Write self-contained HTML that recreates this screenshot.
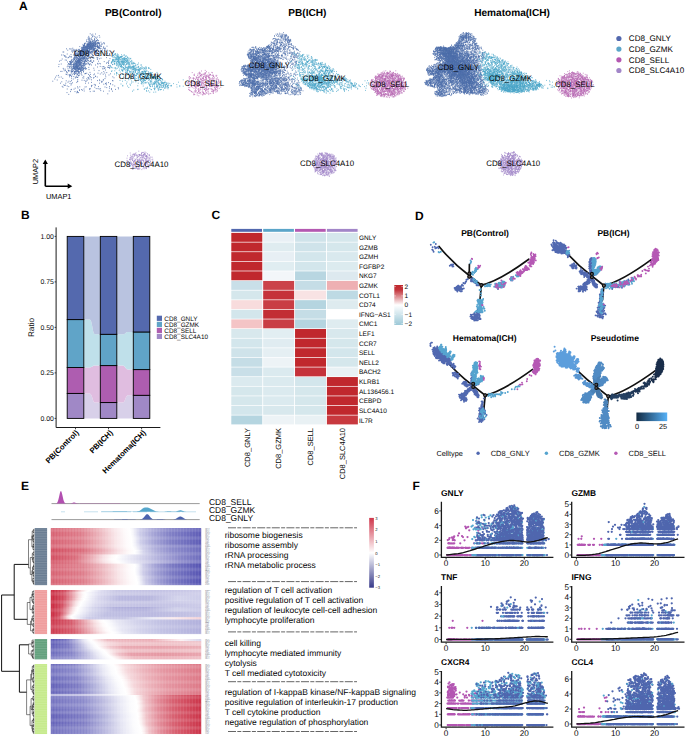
<!DOCTYPE html><html><head><meta charset="utf-8"><title>Figure</title><style>html,body{margin:0;padding:0;background:#fff}svg{display:block}text{font-family:"Liberation Sans",sans-serif;text-rendering:geometricPrecision}</style></head><body>
<svg width="685" height="737" viewBox="0 0 685 737"><rect width="685" height="737" fill="#fff"/>
<g fill="none" stroke-linecap="round">
<path transform="scale(0.2)" d="M496 178h0m-18-8h0m-13 9h0m-1-8h0m-6 4h0m-7-6h0m-10 19h0m1 6h0m2-12h0m4 8h0m2 4h0m7-4h0m6-6h0m1-3h0m10 1h0m2 5h0m6 4h0m4-6h0m13 1h0m-6 17h0m-5-3h0m-1 0h0m-5 4h0m0 0h0m-1-2h0m-2 5h0m-1 1h0m-4-5h0m0-8h0m-2 1h0m0 0h0m-1 11h0m0-3h0m-4 0h0m-4-3h0m-1 6h0m-1 2h0m-2-10h0m-3-3h0m-1 12h0m-2-2h0m-1 1h0m-1 2h0m-2-6h0m0-2h0m-1-5h0m-2 13h0m-3-9h0m-3-4h0m0 13h0m-8-2h0m0-7h0m-17 22h0m7-4h0m1 3h0m0 2h0m1-6h0m2-1h0m4 0h0m6 5h0m0 3h0m1 0h0m1-3h0m1 2h0m0-5h0m1 4h0m0-12h0m1 11h0m0 1h0m1 0h0m0-1h0m1-2h0m0 4h0m1-4h0m1-8h0m0 11h0m0-8h0m0 10h0m1-12h0m1-1h0m0 8h0m0 3h0m0 1h0m2 1h0m0-7h0m0 3h0m1 1h0m1-6h0m1 4h0m0-5h0m0 6h0m1-3h0m1 2h0m0-6h0m0-1h0m0 3h0m0 6h0m1 3h0m1-3h0m1 2h0m0-8h0m2 9h0m0-5h0m0-4h0m0 2h0m2 1h0m0-7h0m2 9h0m0-3h0m1-7h0m0 13h0m0-4h0m1 0h0m1 5h0m0-7h0m1-5h0m0 8h0m1 3h0m0 0h0m0-5h0m2-7h0m0 2h0m0 11h0m1-1h0m1-5h0m1 1h0m1-5h0m1 0h0m1-1h0m0-1h0m1 8h0m0 1h0m1 1h0m0 2h0m0-8h0m0 4h0m2-6h0m2 6h0m2-1h0m1-4h0m1 5h0m1-6h0m2 2h0m1-2h0m0-3h0m1 2h0m1 4h0m2-2h0m1 3h0m1-4h0m2 3h0m7-6h0m2 9h0m5 0h0m7-6h0m1 1h0m2 4h0m13 12h0m-16 4h0m-2 1h0m-10-4h0m-1-7h0m-3 5h0m-4-5h0m0 9h0m0 0h0m-1-8h0m0-1h0m-1 14h0m-3 0h0m0-1h0m-1 0h0m-1-4h0m-1 2h0m-1-3h0m0-7h0m0 9h0m-1 1h0m-1-1h0m0-2h0m0-5h0m-1 5h0m0-7h0m0 10h0m-4-6h0m-2 2h0m-1 2h0m-1-3h0m0-6h0m-1 8h0m-3-7h0m0 1h0m0 8h0m-1-9h0m0 6h0m-2-1h0m-1-1h0m-1-2h0m-1 8h0m0-9h0m-1 5h0m0 6h0m0-9h0m-1-1h0m-1 0h0m-1 9h0m-1-9h0m0 6h0m-1-3h0m-1-2h0m0 7h0m-1-6h0m0 1h0m0-2h0m0-3h0m0 6h0m0 6h0m-2-3h0m-1-9h0m0 9h0m0-1h0m0 2h0m0 2h0m0-9h0m-1 9h0m-3-4h0m0-4h0m0-1h0m0 0h0m-1 1h0m0 8h0m0-4h0m0-2h0m0-1h0m0-4h0m0 5h0m0 1h0m-1-4h0m0 3h0m0 2h0m-2 2h0m0-10h0m0 8h0m0-3h0m-1 3h0m0 4h0m-1-7h0m-1 8h0m0-14h0m-1 12h0m0 2h0m0-10h0m-1 0h0m0 10h0m0-3h0m-1-7h0m0 3h0m0-1h0m0 1h0m-2-1h0m-1-3h0m0 10h0m0-6h0m0 0h0m-1-6h0m0 8h0m0-5h0m-2 8h0m-1-11h0m0 7h0m0-4h0m-1 5h0m-1-2h0m0 6h0m0-7h0m-1-5h0m0 5h0m0 8h0m-1 0h0m-1-6h0m-1 5h0m0-6h0m0-7h0m-2 9h0m0-3h0m-1 8h0m0-5h0m-1 3h0m0-1h0m-2-5h0m-1 8h0m-1-11h0m0 3h0m0-6h0m0 12h0m-1-1h0m-1-8h0m0 3h0m-2 7h0m-1-10h0m-1-1h0m0 8h0m0-1h0m0 4h0m-1-2h0m0-7h0m0 9h0m0-8h0m-1 8h0m-4-2h0m-3 1h0m-9-4h0m-66 11h0m6 7h0m10-7h0m2 1h0m8 0h0m5-4h0m1 9h0m5 2h0m0-5h0m5 5h0m4-2h0m4 4h0m1-7h0m8 0h0m5 0h0m0 6h0m6 0h0m3-11h0m2 3h0m0 6h0m1 2h0m0-4h0m1 2h0m2-3h0m0-6h0m0 6h0m0 2h0m2 4h0m0-14h0m0 0h0m1 4h0m1 4h0m1-1h0m0 0h0m0 2h0m0 4h0m1-6h0m0-2h0m0-4h0m0 10h0m2 0h0m1-6h0m1 2h0m1 7h0m0-9h0m0 7h0m1-1h0m0-11h0m0 2h0m0 4h0m1 4h0m1 2h0m2-2h0m0-9h0m0 8h0m0 3h0m1-11h0m0 5h0m0 7h0m1-5h0m1-6h0m1-2h0m0 12h0m0-1h0m1-4h0m2 1h0m1-1h0m0-3h0m0-3h0m0 4h0m0-3h0m0 7h0m1-9h0m1 10h0m0-2h0m0-3h0m1 4h0m0 5h0m0-1h0m1-2h0m0-9h0m0 10h0m1-10h0m1 0h0m0 0h0m1 1h0m2-1h0m0 8h0m2-8h0m0 12h0m0-13h0m1 8h0m0-2h0m1 7h0m1-9h0m1-1h0m1 1h0m0 2h0m1-6h0m2 7h0m1-7h0m1 3h0m1-2h0m0 2h0m1 3h0m0-2h0m3 6h0m0-6h0m0-4h0m1-1h0m2 6h0m2 2h0m0 4h0m0-5h0m0 0h0m0-5h0m3 1h0m0 7h0m0-5h0m1 6h0m0 0h0m1 1h0m0-6h0m1-5h0m0 9h0m0-6h0m3-2h0m0 12h0m1-13h0m2 11h0m2-1h0m0-6h0m2 6h0m0 2h0m5-4h0m0 0h0m1-4h0m4 9h0m2-11h0m0-3h0m3 1h0m5 3h0m1 9h0m1-11h0m2 11h0m5-3h0m4-8h0m6 9h0m1-9h0m2 10h0m0-6h0m2-5h0m9 10h0m10 3h0m14 7h0m-13 8h0m-11-3h0m-6-8h0m-1 11h0m-25-11h0m-3 8h0m-1-3h0m-5-7h0m0 4h0m-8 3h0m-4-6h0m0 7h0m0-7h0m-1-2h0m0 14h0m0 0h0m-1-14h0m-1 8h0m0-1h0m-1-3h0m0 5h0m0-6h0m-2 6h0m-3-7h0m-3 7h0m-2-7h0m-5-1h0m0 8h0m-1-6h0m-2 5h0m-2-6h0m-2 2h0m0 6h0m0-9h0m-2 8h0m-1-7h0m-1 5h0m-2 1h0m0 5h0m0-5h0m-2-8h0m-1 6h0m-1-3h0m-1 11h0m0-7h0m-2 6h0m-2-10h0m0 3h0m-3 4h0m0-10h0m0 2h0m-1 1h0m-1 1h0m-2 5h0m0 3h0m0-6h0m-1 3h0m0-1h0m0-3h0m-1 3h0m-2 5h0m0-9h0m-1 8h0m0-1h0m0-7h0m0 9h0m-1-12h0m0 13h0m-4-6h0m0-2h0m0-3h0m-1 6h0m0-8h0m-1 13h0m-1-10h0m-1 8h0m-1-6h0m-1-1h0m0 5h0m-1-4h0m-1 2h0m0-5h0m-1 11h0m-1-7h0m0 3h0m0 2h0m0 1h0m0-12h0m-2 0h0m0 9h0m-1-5h0m-2-1h0m0 8h0m0-5h0m0 3h0m0-1h0m-1-7h0m0-1h0m0 2h0m0-1h0m-1 10h0m0-5h0m-1 7h0m0-14h0m-2 14h0m-1-2h0m0 0h0m0-9h0m-1 3h0m0 2h0m0 3h0m-1 3h0m0-9h0m-1-4h0m-1 8h0m0 3h0m-1 1h0m0-5h0m0-7h0m0 4h0m-2-3h0m0 10h0m-1-12h0m0 3h0m0 10h0m0-6h0m-1-6h0m-1 13h0m-1-10h0m0-4h0m0 10h0m-4 1h0m-3-2h0m-1 5h0m-2-3h0m-4 2h0m-1-9h0m-2-1h0m0 7h0m-1 0h0m-1-8h0m0-2h0m-5 1h0m-7 5h0m-1-6h0m-2 0h0m-40 5h0m-4 0h0m-7 15h0m8 0h0m7 4h0m1 1h0m2 0h0m10-10h0m11 11h0m8 2h0m0-10h0m13 2h0m4 4h0m0-1h0m3-3h0m0 8h0m1-11h0m0-2h0m1 14h0m1-9h0m2 2h0m0-1h0m1 0h0m1 8h0m1-10h0m1 10h0m0 0h0m3-8h0m0-4h0m1 1h0m0-2h0m3 5h0m2 3h0m0 3h0m1-1h0m0 1h0m0-4h0m0-4h0m2-4h0m0 2h0m1 10h0m2-1h0m0 0h0m1-9h0m1-2h0m0 3h0m0 6h0m1-5h0m1 6h0m0-4h0m1-5h0m0 12h0m2-8h0m1 3h0m0-1h0m1-5h0m0 3h0m0 2h0m1-1h0m1 1h0m1 0h0m0 7h0m1-14h0m0 13h0m2 1h0m0-9h0m0-2h0m1 8h0m2-10h0m0 4h0m0-4h0m1 1h0m1 2h0m1-2h0m0 5h0m1 3h0m1-9h0m0 0h0m0 1h0m1 12h0m0-11h0m0 10h0m4-3h0m0-6h0m1-4h0m0 14h0m1-10h0m0 5h0m3-6h0m1-3h0m0 2h0m3 10h0m2 0h0m0 1h0m0 0h0m1-8h0m2 5h0m1-10h0m1 8h0m1-5h0m0 5h0m0 6h0m0-4h0m6 1h0m8 2h0m1-12h0m3 1h0m1 7h0m2 0h0m1-1h0m1-1h0m10-7h0m2 2h0m12 5h0m0-4h0m5 6h0m5-2h0m15-2h0m16 1h0m16-4h0m2-2h0m1 8h0m9 4h0m-10 11h0m-17-5h0m-28 3h0m-8 3h0m-8-5h0m-2 7h0m-1-1h0m-1-8h0m-16 5h0m-7-3h0m-9 3h0m-4-2h0m-7-5h0m0 8h0m-4 5h0m0-5h0m-2-2h0m-3 3h0m-1-8h0m-1 8h0m0 1h0m-1-8h0m-1 7h0m-4-3h0m0 6h0m0-9h0m-2 0h0m0 5h0m0-2h0m-1 1h0m-1-1h0m0-1h0m-1 4h0m-2-4h0m0 1h0m-1 3h0m0 2h0m0-10h0m0 3h0m-1 0h0m-1-3h0m0 11h0m-1-6h0m-1 2h0m-2-7h0m0 10h0m-1-6h0m0 4h0m-1-2h0m-2-7h0m-1 7h0m0-3h0m-1 1h0m-1 7h0m0-3h0m0 0h0m-1-2h0m-1 6h0m-1-11h0m-1 7h0m-1 3h0m-1-11h0m0 10h0m-1 3h0m0-4h0m0-8h0m-3 11h0m0-5h0m0-1h0m0 2h0m0-3h0m0 8h0m-1-2h0m-2-1h0m-1-11h0m-3 7h0m-1-4h0m-1 0h0m0 2h0m0 9h0m0-3h0m-3-1h0m-1 2h0m0-8h0m-2 2h0m-3 0h0m-1-4h0m-1-2h0m0 14h0m0-11h0m0 10h0m-2-8h0m0 6h0m-1 1h0m0-4h0m-3-3h0m-1 5h0m-7 2h0m-3-12h0m-7 0h0m-8 2h0m-2 2h0m-10-3h0m0-1h0m-19 10h0m-13 11h0m7-4h0m21-2h0m7 1h0m4 9h0m11-2h0m2 1h0m1-2h0m1 4h0m1-1h0m1-4h0m2 6h0m0-2h0m1-9h0m0 1h0m0 8h0m6-2h0m0 3h0m2-3h0m1-7h0m0 0h0m3 4h0m3 6h0m4-6h0m0 8h0m1-8h0m0 0h0m0 1h0m2 4h0m2-8h0m1 9h0m0-3h0m0 1h0m1 2h0m2-6h0m1 5h0m1-4h0m0 2h0m1-5h0m0 9h0m1-11h0m1 2h0m0 11h0m0-10h0m1 3h0m0 2h0m1 3h0m0 1h0m1-9h0m0 6h0m0-5h0m1-3h0m0 4h0m0 7h0m0-10h0m1 1h0m2 5h0m0-3h0m0-6h0m0 8h0m1 6h0m0-4h0m0-9h0m1 7h0m0-8h0m0 2h0m1 8h0m0-1h0m1 2h0m0-6h0m0 7h0m0-6h0m3-6h0m1 1h0m0 13h0m1-13h0m0 1h0m0 2h0m1-2h0m1 12h0m0-1h0m1-9h0m2 3h0m0 0h0m3-5h0m1 0h0m0 12h0m4-7h0m1 1h0m2 0h0m1 6h0m0-3h0m1-6h0m1-5h0m0 11h0m0-8h0m2-1h0m1 0h0m0 0h0m1 5h0m2 1h0m0-4h0m1 3h0m7 4h0m0-8h0m2-1h0m0 2h0m8 3h0m4-5h0m0 5h0m3-6h0m1 9h0m5 3h0m0-1h0m5-7h0m2 0h0m24 1h0m28 2h0m15 4h0m7-3h0m2-6h0m13 11h0m5 9h0m-13 4h0m-7-11h0m-1 0h0m0 11h0m-10-11h0m-30 3h0m-6-2h0m-6 4h0m-3-4h0m-10 8h0m-20 0h0m-6-6h0m-2 4h0m-1 1h0m-3-3h0m-2-5h0m-2 2h0m-7 0h0m0 3h0m-7 3h0m0-4h0m-2-2h0m-3 6h0m0-9h0m-1 2h0m0 10h0m-1-9h0m0 7h0m-2-3h0m-2-5h0m0 1h0m0 1h0m-1 10h0m-3-2h0m-2-3h0m0-8h0m-1 11h0m0 1h0m-4-9h0m0 3h0m-1 3h0m0-6h0m-1 5h0m-1 1h0m0-9h0m-1 0h0m-1 9h0m0-9h0m-1 3h0m0 7h0m-1-3h0m0-1h0m-1 1h0m0-2h0m0 2h0m-1-6h0m0 9h0m0-6h0m-1 6h0m-2-1h0m0-8h0m0 11h0m0-7h0m-2-6h0m-2 12h0m-1 2h0m0-13h0m0 8h0m0-2h0m-1-6h0m-2 5h0m0-6h0m-1 8h0m-1-2h0m0 2h0m0-8h0m-1 6h0m0 7h0m0 1h0m-1-12h0m0 0h0m0 11h0m-1-11h0m-1 0h0m-1 7h0m-1-4h0m-1 0h0m-1 8h0m-1-8h0m0 3h0m0-7h0m0 5h0m-1 8h0m-3-7h0m0-4h0m-2 4h0m0 5h0m0-4h0m0-8h0m-3 7h0m-1 2h0m-7 1h0m0-10h0m-1 6h0m-1 0h0m-1-5h0m0 0h0m0 9h0m-2-5h0m-2 0h0m0-4h0m0 7h0m-1 0h0m-4 1h0m-1-5h0m-1-1h0m-4 7h0m-33-5h0m-11 2h0m-1 11h0m22 9h0m20-8h0m4 10h0m1-11h0m7 4h0m0-4h0m2 10h0m4-9h0m1-1h0m2 3h0m0 5h0m5 3h0m2-11h0m1 8h0m1 0h0m0-3h0m1-5h0m0 9h0m1-11h0m0 0h0m0 4h0m1-3h0m0 11h0m1-1h0m1-2h0m0 4h0m0-7h0m1-5h0m1 7h0m1 2h0m1-11h0m0 14h0m0-6h0m0 2h0m1-4h0m1-3h0m0-3h0m1 14h0m1-12h0m0 6h0m0-4h0m1 10h0m0-13h0m0 5h0m1 4h0m0-10h0m1 13h0m1-5h0m1-2h0m0-4h0m0 2h0m1-2h0m0 4h0m0-6h0m0 11h0m1-3h0m0 3h0m1-5h0m0 7h0m1-9h0m0 4h0m0 3h0m0-10h0m1 10h0m1-6h0m0 3h0m0 2h0m0-7h0m2-1h0m1 11h0m0 1h0m1-13h0m0 11h0m2-4h0m0-7h0m2 12h0m1 0h0m0 0h0m0-4h0m0 5h0m0-8h0m0 1h0m3-6h0m1 8h0m0 5h0m3-9h0m0 4h0m2-7h0m0 1h0m1 9h0m0 0h0m0-3h0m1-1h0m1-4h0m1 5h0m1-3h0m2 5h0m2-11h0m1 12h0m1 2h0m0-14h0m0 10h0m1-2h0m1-8h0m2 12h0m4 2h0m0-4h0m1-4h0m4 7h0m12-6h0m25 4h0m18-6h0m14-3h0m10 2h0m1 10h0m5-11h0m2 11h0m2-9h0m1 7h0m4-3h0m11-3h0m6 1h0m2 0h0m2 3h0m2 0h0m-21 10h0m-9 8h0m-24-5h0m-24-2h0m-26-3h0m-16-2h0m-10 5h0m-1 6h0m-1-9h0m-5 3h0m0-1h0m-1-4h0m-1 5h0m-2-2h0m-1 7h0m-1-4h0m-1-6h0m-1 4h0m-1 6h0m-1-9h0m0 6h0m-1 5h0m-1-11h0m-4 1h0m-1 0h0m0 11h0m0-12h0m0 12h0m-2-13h0m0 2h0m0 11h0m0-2h0m0-10h0m-1 4h0m0 8h0m-1-13h0m-2 9h0m-1-8h0m0 9h0m-1-2h0m-2 0h0m0 3h0m-1-6h0m-1 4h0m-1 0h0m-1-8h0m-1 0h0m-2 10h0m0-7h0m0 7h0m-2-8h0m0 1h0m-1-4h0m-1 0h0m-1 12h0m-1 0h0m-4-4h0m-3-3h0m-1-4h0m0 10h0m-1 0h0m-1 0h0m-2 0h0m-1-10h0m0 3h0m-2 5h0m-1 4h0m-1-5h0m-9 0h0m-2 1h0m-1-3h0m-2 2h0m-9 5h0m-5-6h0m-1-7h0m-5 8h0m-2-8h0m-9 11h0m-6 0h0m26 14h0m2 1h0m1-12h0m5 4h0m2 10h0m8 0h0m3-1h0m5-7h0m1-6h0m4 13h0m4-8h0m4 4h0m3 4h0m0-13h0m0 11h0m1-9h0m1 4h0m1-4h0m0 7h0m4-2h0m1-1h0m1-6h0m4 5h0m1 4h0m2 3h0m1 2h0m4-9h0m1-1h0m1 3h0m2-6h0m3 8h0m7-6h0m1 7h0m10-10h0m6 9h0m4-2h0m1 1h0m5-2h0m8 6h0m8-10h0m2 10h0m17 2h0m4-4h0m17-4h0m11 4h0m8-6h0m7 7h0m8-6h0m10-2h0m19 6h0m17 20h0m-6-5h0m-19-9h0m-16 9h0m-1-9h0m-42 10h0m-8-3h0m-1-1h0m-7 6h0m-14 1h0m-5-5h0m-1 1h0m-3-7h0m-5 12h0m-2-2h0m-21-5h0m-5 7h0m-4-13h0m-13 0h0m-5 1h0m0 2h0m-3 8h0m-2 0h0m-2 0h0m-1-12h0m-2 9h0m-5 2h0m-8-3h0m-10-3h0m-1 2h0m-5-5h0m-3 1h0m-1-1h0m-1 7h0m-42 1h0m-11 1h0m-3-9h0m-8 2h0m-7 7h0m-3 9h0m12 5h0m28-8h0m17 12h0m27-2h0m0-11h0m8 4h0m10-5h0m13 8h0m21 3h0m9-11h0m2 12h0m13-8h0m4 6h0m4-6h0m7 1h0m8 4h0m10-9h0m21 13h0m9-4h0m2 4h0m17-3h0m1-1h0m8-6h0m37 10h0m3 1h0m-12 14h0m-11-5h0m-9 2h0m-4 4h0m-1-2h0m-18-10h0m-1 0h0m0 5h0m-11 4h0m-40-4h0m-16 3h0m-9-10h0m-5 11h0m-1-10h0m-38 1h0m-1-1h0m-4 6h0m-21 2h0m-6 5h0m-3-11h0m-4 9h0m-5-11h0m-5 5h0m-11 5h0m-20-7h0m-7 7h0m-38-10h0m47 26h0m8-8h0m3 3h0m5-1h0m9 4h0m8 3h0m11-8h0m32 9h0m12 0h0m32 0h0m26-1h0m2-5h0m0-1h0m12-5h0m5 4h0m1-1h0m16 8h0m26-12h0m14 3h0m14 9h0m5-13h0m12 4h0m10 6h0m18 14h0m-1-6h0m-13 9h0m-20-4h0m0 5h0m-11-7h0m-13-3h0m-9-3h0m-23 9h0m-6 1h0m-6-2h0m-9 0h0m-7-7h0m-23 7h0m-2 5h0m-1-4h0m-23-9h0m-5 10h0m-12 3h0m-10 1h0m-8-9h0m-14 1h0m-6 5h0m-12 1h0m-3 2h0m-19-4h0m-21-9h0m20 27h0m18-5h0m22 0h0m9 6h0m2-7h0m2 5h0m0-5h0m5 6h0m5-11h0m15-1h0m8 4h0m30 3h0m15-2h0m6 0h0m32-3h0m13 3h0m29-1h0m16 1h0m-23 13h0m-195 3h0" stroke="#4F70AC" stroke-width="4.8"/>
<path transform="scale(0.2)" d="M577 269h0m-2 0h0m-11 14h0m3-6h0m0-1h0m7-2h0m0-1h0m5-3h0m1 7h0m1 4h0m5 2h0m0-6h0m0-1h0m2-6h0m0 14h0m2-1h0m1-9h0m2 7h0m2 0h0m7 3h0m6-1h0m0-9h0m1 8h0m0 2h0m4-3h0m7-4h0m1-3h0m5 6h0m2 4h0m4-4h0m22 12h0m-2 2h0m-7-2h0m0 7h0m-1-9h0m-6-5h0m0 13h0m-1-9h0m-1 1h0m-4 3h0m-1 2h0m0-1h0m-3-1h0m-1 3h0m-4 1h0m-1 0h0m0-6h0m-1-1h0m0-1h0m0 4h0m-1 3h0m-4 2h0m0-7h0m-1 1h0m-1 5h0m0-3h0m-3 0h0m-4 2h0m-1-9h0m-1 3h0m-2-5h0m-1 14h0m-1-14h0m-1 13h0m0-10h0m-1 8h0m-1-5h0m-1-1h0m-1-2h0m-1 1h0m-1 8h0m0-9h0m-1-1h0m-1 7h0m0 0h0m-1-1h0m-3 4h0m-1-11h0m-1 10h0m-1-4h0m0-2h0m-1 1h0m-1-2h0m-1 7h0m0 1h0m-5-9h0m0 9h0m-1-5h0m-2 6h0m-1-13h0m-3 1h0m-3 12h0m-2-9h0m-3 9h0m-5 12h0m1 4h0m2-6h0m2-3h0m1-3h0m1-2h0m1 8h0m0 3h0m0-10h0m3 0h0m3 5h0m0-1h0m1 2h0m0 1h0m4 1h0m3-9h0m0 5h0m3 8h0m1-7h0m4 2h0m0-8h0m1 9h0m2-3h0m0-1h0m1 6h0m1-10h0m1 12h0m0-13h0m0 6h0m1 1h0m1-6h0m0 13h0m1-4h0m1 4h0m0-8h0m3 6h0m5-4h0m1 1h0m0-5h0m0 3h0m2 4h0m2-6h0m0 7h0m1-5h0m1 6h0m0-9h0m1 3h0m3 6h0m0-5h0m0 0h0m1-6h0m2 12h0m0-5h0m2 2h0m1-3h0m1-3h0m1 9h0m1-12h0m1 1h0m1 1h0m1 8h0m3-3h0m0 0h0m2-2h0m0-6h0m1 3h0m2 6h0m1-8h0m1 2h0m1 10h0m0-7h0m2 6h0m3-7h0m1-5h0m1 10h0m7-4h0m3 6h0m1-7h0m2-4h0m2 8h0m8 2h0m37 13h0m-1 0h0m-13-10h0m-2 9h0m-4-2h0m-7 7h0m0 0h0m-2-9h0m-2 7h0m-2-10h0m-3 0h0m-4 9h0m0-9h0m-1 2h0m-1-3h0m-4 5h0m-3-3h0m-8 6h0m0-2h0m0-7h0m-3 2h0m-1 12h0m0-5h0m-1-9h0m-1 1h0m-2 6h0m-3-6h0m-3 3h0m-1 4h0m-1-1h0m-1-6h0m-6 8h0m0 4h0m-3-8h0m-2 0h0m-3 3h0m-1-8h0m0 11h0m-1-5h0m-1-6h0m-1 7h0m0-1h0m-2-4h0m-4 10h0m0-7h0m0 7h0m-3-5h0m-1-4h0m-3 5h0m-1 0h0m0-3h0m-2 0h0m0 6h0m-3-8h0m0 2h0m-2 9h0m-3-6h0m-1 6h0m-3-11h0m-1 4h0m-2 6h0m-1-12h0m-1 4h0m-7-1h0m-1-3h0m0 5h0m0-4h0m-8 4h0m-9-6h0m-5 14h0m0 3h0m4 4h0m3 0h0m3 3h0m10 1h0m7-1h0m1 2h0m7 1h0m5-6h0m4-2h0m8-4h0m1 1h0m0 2h0m1-1h0m1-1h0m0 6h0m3-3h0m2 1h0m3 0h0m3 3h0m1 3h0m0-3h0m3 6h0m1-1h0m4-6h0m0-5h0m1 12h0m1-8h0m4 1h0m3 2h0m1 4h0m0-8h0m3 2h0m1 5h0m3-10h0m1 10h0m0-7h0m1 5h0m0-2h0m0 0h0m1-6h0m0 2h0m5 8h0m0-11h0m0 6h0m2-6h0m1 7h0m2 5h0m3-7h0m0 2h0m1-6h0m0 4h0m3-3h0m1 7h0m1-8h0m0 6h0m2-7h0m0 1h0m1 3h0m1 4h0m0 2h0m0-6h0m1 9h0m1-5h0m2 3h0m0-10h0m4 11h0m2-4h0m5-2h0m6 0h0m1-3h0m1 0h0m2 1h0m3 9h0m4-4h0m1 0h0m4-1h0m1 5h0m3-11h0m2 8h0m4-3h0m6 4h0m0-2h0m5-5h0m3 9h0m0-4h0m1 4h0m2-8h0m10 2h0m0 4h0m5-1h0m6 6h0m-12 12h0m-7-4h0m-2 0h0m-5 2h0m-1 1h0m-1-8h0m-3 8h0m-1-3h0m-2-5h0m-4-5h0m-2 12h0m-1 2h0m0-1h0m-6 1h0m-4-11h0m-5 1h0m0 6h0m0-4h0m0 5h0m-1-11h0m-3 8h0m0 2h0m-2-9h0m0 2h0m-1 4h0m0 0h0m-1-6h0m-4 3h0m-1-1h0m-2-3h0m-2 5h0m-1 1h0m-2 8h0m0-3h0m-1-5h0m-1-5h0m-1 3h0m0 2h0m0-6h0m0 9h0m-6-7h0m0 10h0m0-7h0m-2 9h0m-1-12h0m-1-1h0m-2 0h0m-2 13h0m-1-8h0m-5-6h0m-2 14h0m-3-2h0m-1 1h0m-1-3h0m-5-5h0m-2 0h0m-3-4h0m0 6h0m-1 2h0m0-2h0m-1 3h0m0-5h0m-2-1h0m-6 2h0m-8-4h0m0 2h0m-6 3h0m0 5h0m-1-4h0m-1-1h0m-1 0h0m-1-7h0m0 6h0m-1-2h0m-10-4h0m-3 7h0m-16-7h0m-6 9h0m-14 0h0m-3 3h0m16 13h0m10-5h0m0-1h0m1 0h0m1 3h0m9 5h0m7-12h0m12 12h0m2-3h0m12-7h0m3-1h0m0-1h0m5 1h0m1 11h0m2-11h0m3 9h0m1-1h0m2 0h0m5-6h0m3 3h0m5-6h0m4 13h0m1-5h0m1 0h0m1-4h0m4-4h0m1 6h0m3 5h0m1 1h0m3-11h0m0 2h0m6 5h0m0 2h0m5 1h0m0-11h0m1 7h0m1 2h0m4-5h0m2 9h0m0-9h0m2 2h0m3-3h0m3 5h0m1 3h0m2 0h0m1 2h0m1-7h0m3-4h0m0 12h0m2-7h0m2-3h0m2 5h0m0-9h0m1 10h0m0-1h0m1 0h0m1-9h0m1 14h0m2-6h0m1-1h0m1 3h0m1-5h0m1-5h0m0 6h0m1 3h0m0-9h0m3 8h0m4 1h0m3 1h0m4-5h0m2 3h0m1 5h0m4-6h0m1-1h0m1-4h0m2 3h0m1 3h0m4-3h0m3 9h0m0-11h0m4 9h0m20-10h0m4 16h0m-1 3h0m-1 7h0m-2-4h0m-1 0h0m0-2h0m-5 7h0m-3-2h0m-1-2h0m-1 3h0m0-1h0m-2-5h0m-2 7h0m-2-6h0m-1 0h0m0 3h0m-1 0h0m-2 3h0m-1-2h0m-2 0h0m-2-4h0m-3 4h0m-1-3h0m0 3h0m-1-7h0m0-2h0m0 11h0m-2-9h0m-1-5h0m-3 3h0m-2 9h0m-2-3h0m-1 5h0m-1-3h0m-1 3h0m-1-5h0m-1-8h0m-1 0h0m-1 10h0m-3 2h0m-1-13h0m-3 11h0m0-4h0m-2-7h0m0 3h0m-1 6h0m-1-5h0m-1 7h0m0 2h0m-2-3h0m-1 2h0m0-2h0m-3-3h0m-1 3h0m-7 1h0m0 2h0m-1-12h0m-1 12h0m0-13h0m-6 9h0m-2-8h0m-7 4h0m-1 9h0m0-3h0m-3-1h0m-7-7h0m-2-3h0m-1 3h0m-4 1h0m-1-1h0m-1-1h0m-2 7h0m-7 5h0m-4-8h0m-4 6h0m-5-6h0m-1 2h0m-1-3h0m-2 6h0m-14-10h0m-8 4h0m-8 1h0m-18 6h0m-18-12h0m18 27h0m25-12h0m1 12h0m15-12h0m3 9h0m10-5h0m0 0h0m18-2h0m0 5h0m2-5h0m2 10h0m0-4h0m1-8h0m7 3h0m7 3h0m1-6h0m1 10h0m2-10h0m4 8h0m3-1h0m0 5h0m2-3h0m1 1h0m2-3h0m2-2h0m4 0h0m2 8h0m0 1h0m2-5h0m1-2h0m1 3h0m3 0h0m1 1h0m0-11h0m1 9h0m1 4h0m3 0h0m3-6h0m0-4h0m0-2h0m3 2h0m2 1h0m1-3h0m4 2h0m3 8h0m1-1h0m3-3h0m8-3h0m3 5h0m0-5h0m1-4h0m10 3h0m6 5h0m1-5h0m0 7h0m1-8h0m4 6h0m0-7h0m1 7h0m4-6h0m1 8h0m0-9h0m1 1h0m3 3h0m1 6h0m0 1h0m0 1h0m4-3h0m1-1h0m0-4h0m1 1h0m2-4h0m2 9h0m1 2h0m5-10h0m2 4h0m1 0h0m2 4h0m26 14h0m0 4h0m-8-4h0m-1 4h0m-2-6h0m-4-7h0m-1 7h0m-2 0h0m-2 1h0m-2 3h0m-1-3h0m-3 0h0m-2 1h0m0 2h0m-1-6h0m-2 0h0m-1 5h0m0 1h0m-2-8h0m-1 2h0m-10 6h0m0-1h0m-1 2h0m-1-8h0m0 4h0m-7-5h0m0 4h0m-1-7h0m0-1h0m-1 12h0m-2-7h0m0-5h0m-4 8h0m-1-6h0m-1 6h0m0 6h0m-1-4h0m-2-8h0m-1 11h0m-1-3h0m-1 4h0m0-6h0m-5 3h0m-6-10h0m0 8h0m-3-8h0m-2 0h0m-2-1h0m-1 1h0m0 6h0m-1 5h0m-7-3h0m-1 5h0m-6-9h0m-5 4h0m-2-1h0m-3 2h0m-2-4h0m-5 8h0m-2-11h0m-2 3h0m-2 0h0m-4 5h0m0-5h0m-1-2h0m-2-2h0m0 11h0m-15-2h0m-11-11h0m-1 4h0m-14 1h0m-7 5h0m-1-10h0m-22 5h0m-2 9h0m-20-13h0m-8 14h0m9 10h0m0-3h0m23 3h0m13-9h0m2 5h0m37 3h0m21-9h0m6 10h0m31-6h0m1 2h0m1 4h0m0-6h0m4 9h0m0-9h0m1 8h0m4-12h0m5 6h0m0 7h0m1-10h0m4-3h0m2 1h0m2 9h0m0-10h0m10 12h0m1-7h0m1-2h0m1 7h0m2-1h0m1 4h0m2-8h0m4-1h0m2 7h0m1-8h0m2-2h0m1 3h0m2-2h0m1 7h0m6-2h0m0-3h0m6 4h0m1 4h0m2-6h0m1 7h0m1-13h0m0 7h0m0-5h0m7 4h0m0 5h0m1 3h0m0-9h0m2-1h0m3-2h0m0 1h0m2 9h0m1 2h0m1-6h0m1 2h0m3-5h0m3 2h0m9 2h0m5-2h0m-15 11h0m-2-3h0m-1 9h0m-4-5h0m-7 0h0m-5 2h0m0-1h0m-5-4h0m-6 2h0m-6-3h0m0 12h0m-1-12h0m-4 13h0m-1 1h0m-1-11h0m-3-3h0m-1 10h0m0-8h0m-5 7h0m-1-3h0m-4-5h0m-5 0h0m-5 5h0m-2 8h0m-2-4h0m0-10h0m0 10h0m-2-3h0m-14 6h0m0 0h0m-7-6h0m-12-6h0m-2 6h0m0-1h0m-6-1h0m-7 6h0m-1-1h0m-31 1h0m-1 2h0m-45-11h0m18 19h0m7-6h0m64 2h0m1 5h0m9-3h0m6 7h0m20 0h0m10-1h0m12-10h0m1 0h0m26 0h0" stroke="#4AA6C9" stroke-width="4.8"/>
<path transform="scale(0.2)" d="M1033 358h0m-7-6h0m-18 3h0m-47 8h0m11 8h0m17-1h0m5-5h0m2 9h0m1-13h0m0 5h0m2 1h0m3-1h0m4 8h0m1-2h0m8-1h0m3 0h0m4 1h0m2-4h0m1-4h0m2 4h0m2-5h0m15 1h0m2 7h0m4 3h0m1 0h0m0 0h0m2-2h0m6-10h0m3 2h0m25 25h0m-3-12h0m-3 6h0m-1-6h0m-9 11h0m-2-5h0m-1-2h0m-1-5h0m-1 5h0m-3 8h0m-1-13h0m-2 1h0m-11 11h0m-3-10h0m-1 10h0m0-4h0m-1-7h0m-2 10h0m-1-4h0m-1-2h0m-1 0h0m-3-6h0m-3 3h0m0 9h0m-1-4h0m-2-2h0m-1-6h0m-1 13h0m0-1h0m0-2h0m-3-6h0m-4 2h0m-2 3h0m-2-2h0m-6-7h0m0 12h0m-3-7h0m-4-2h0m-1-2h0m0 2h0m-2 6h0m-4 2h0m-2-4h0m-3 6h0m-1 1h0m-4-11h0m-1 10h0m-4-1h0m-1-3h0m-8-7h0m-4-2h0m-1 14h0m-15-1h0m-5-5h0m-3 3h0m1 8h0m1 6h0m3-8h0m7 10h0m4-11h0m7 1h0m0 4h0m3-4h0m7 6h0m1-3h0m3-4h0m5 5h0m0 1h0m4 1h0m3-3h0m8-1h0m1 3h0m2-3h0m2 3h0m1 4h0m5 2h0m0-11h0m1 1h0m1 9h0m1-10h0m0 4h0m1-6h0m1 0h0m1 14h0m2-3h0m0-2h0m5-1h0m3-2h0m1-3h0m1 6h0m1-5h0m2 2h0m10 6h0m1-12h0m1 1h0m1 6h0m2 6h0m2-7h0m3-2h0m2 7h0m1 0h0m3-9h0m3 4h0m5-1h0m2-2h0m0 9h0m5-1h0m6-8h0m2 6h0m6-3h0m4 3h0m1 3h0m2 12h0m0-4h0m-4-3h0m-1 11h0m-1-8h0m-1 5h0m-7-5h0m-8 1h0m-2-5h0m-1 3h0m-1-1h0m-3-3h0m-7 14h0m-1-7h0m-3 7h0m-4-4h0m-2 1h0m-1-1h0m-2-8h0m-1 2h0m-4-3h0m-1 7h0m-2-4h0m-2 1h0m-2 3h0m-6-8h0m-1 1h0m-1 8h0m-3-2h0m-1 1h0m-7 4h0m0-3h0m-1-8h0m-1 7h0m-1 1h0m-4-7h0m-2 10h0m0-4h0m-3-7h0m-1 7h0m-2-4h0m-1 1h0m-4-4h0m-3 6h0m0-1h0m-1 8h0m-1-10h0m0 9h0m-1-4h0m-5-6h0m-8 6h0m-1-5h0m0 6h0m-2 4h0m-1-5h0m-1-5h0m-5 0h0m-1-4h0m-1 12h0m-6-7h0m-4-1h0m0 2h0m-1 0h0m-7 6h0m-2-3h0m-2 1h0m-1-6h0m-4 6h0m-4-5h0m6 19h0m1-8h0m14 3h0m1 8h0m2 0h0m0 0h0m12-6h0m0 0h0m1 5h0m1 0h0m1-3h0m2 2h0m0-5h0m1-1h0m0-4h0m3 10h0m5 0h0m2 2h0m2-9h0m2 9h0m1-2h0m0 1h0m1 2h0m2-11h0m0 3h0m1-5h0m1 5h0m3 1h0m0 1h0m5 3h0m0-2h0m3-5h0m1 0h0m1 5h0m2-8h0m1 11h0m5 3h0m0-14h0m2 6h0m2 7h0m2-3h0m1-7h0m2 7h0m1-9h0m5 7h0m1 5h0m0-7h0m2 4h0m7-7h0m2 0h0m1 6h0m2-6h0m0 8h0m1 0h0m3-5h0m2-5h0m1 12h0m2 0h0m0-2h0m1-1h0m2-9h0m1 9h0m1-8h0m1 6h0m1-1h0m2 7h0m1-12h0m1 0h0m3-1h0m2 3h0m3 6h0m1 2h0m4-8h0m0 4h0m0 0h0m1-6h0m2 11h0m1-11h0m3 11h0m1-9h0m0 7h0m3 2h0m2-4h0m11 7h0m-8 6h0m-9-6h0m0 8h0m-5-9h0m0 2h0m-1 10h0m-3 1h0m0-7h0m-1 4h0m-1-5h0m-3-3h0m-1 2h0m-1 10h0m-10-2h0m-1-1h0m-2-2h0m-7 0h0m-7-2h0m-1 1h0m0 5h0m-5-2h0m-3-10h0m0 12h0m-2-12h0m-1 10h0m-1-4h0m-1 2h0m-2-3h0m-2 5h0m-3 1h0m-1 0h0m-1 0h0m0-1h0m-7-5h0m-2-5h0m-2 1h0m-6 11h0m0-10h0m0-3h0m0 2h0m-3 8h0m-6 0h0m-3-1h0m-2 2h0m-9-5h0m-1-2h0m-1-3h0m-1 10h0m0-11h0m-8 6h0m-9-5h0m-12 2h0m-3 11h0m-2-11h0m-1 9h0m4 5h0m6 2h0m5 3h0m1 1h0m2 4h0m9-1h0m2-6h0m6-3h0m0 8h0m1-2h0m4-4h0m4 9h0m5-9h0m0 4h0m1-8h0m1 7h0m5 3h0m0-8h0m4 11h0m8-4h0m2-9h0m2 13h0m0-4h0m3 5h0m10-11h0m0 6h0m1-6h0m3 9h0m2-11h0m6 5h0m1 4h0m16-3h0m4-6h0m3 7h0m1 1h0m1 0h0m0-8h0m3 4h0m0-3h0m0 2h0m7-2h0m3 8h0m5-10h0m1 8h0m3-5h0m-21 12h0m-1 2h0m-12 1h0m-4-1h0m-6 6h0m-3-6h0m-7 0h0m-8 5h0m-1-5h0m-4 1h0m-1 3h0m-2-4h0m-2-2h0m-1 9h0m-3 0h0m-7-4h0m-5-5h0m-3 1h0m-3 13h0m-3-13h0m-5 9h0m-1-10h0m-11 8h0m-2-2h0m-3 3h0m-1-4h0" stroke="#B96BB4" stroke-width="4.3"/>
<path transform="scale(0.2)" d="M916 399h0m-23 12h0m-25 7h0m-19-1h0m8 13h0m27-7h0m15 5h0m0 5h0m17-2h0m-31 4h0" stroke="#4AA6C9" stroke-width="4.3"/>
<path transform="scale(0.2)" d="M680 764h0m14-8h0m16 6h0m2 1h0m5-1h0m8-2h0m5 4h0m18 13h0m-2 0h0m0-4h0m-7 1h0m-1-6h0m-6 10h0m-2 1h0m-4-7h0m-1-3h0m0 8h0m-1-4h0m0-5h0m-2 2h0m-1-4h0m-2 6h0m0 5h0m0-4h0m-2 2h0m-1-2h0m-3 5h0m-4 0h0m-1-9h0m0 7h0m0-9h0m-1-1h0m-1 9h0m-1 1h0m-5 2h0m0-3h0m-1 0h0m0-2h0m-1 0h0m-2 0h0m0 2h0m-1-2h0m-8 3h0m-4 2h0m-1-4h0m-4-6h0m-3 6h0m0 3h0m0-3h0m-4-3h0m0 0h0m0 5h0m-1-6h0m-4 2h0m-1 0h0m-4 4h0m-9 0h0m-1-11h0m-14 14h0m-2 12h0m15-2h0m1 5h0m2-8h0m2 1h0m3 4h0m0-9h0m3 4h0m1-4h0m0 9h0m6-5h0m2 8h0m0-13h0m3-1h0m11 14h0m1-8h0m1-6h0m1 7h0m2-2h0m3-3h0m4-2h0m5 8h0m3 0h0m1 6h0m4-10h0m1 2h0m1 3h0m3-9h0m1 7h0m0 5h0m0-6h0m1-1h0m1-4h0m5 12h0m0-3h0m4-8h0m4-2h0m0 13h0m0-9h0m1-2h0m1 11h0m0-9h0m0-3h0m1-1h0m1 4h0m0 2h0m0-5h0m2 13h0m3-12h0m0 6h0m3 2h0m7 3h0m0-3h0m1-5h0m5 1h0m6 0h0m3 19h0m0-9h0m-4 2h0m-7 8h0m-1 1h0m-2-11h0m-1 5h0m-5 2h0m-1 5h0m-1-8h0m0 3h0m-5 5h0m0-5h0m-2 6h0m-1-7h0m-1 7h0m0-3h0m-1-7h0m-2 9h0m0-1h0m-2-10h0m-1-2h0m0 7h0m-1 4h0m-7-4h0m-2 2h0m0 4h0m-1-6h0m-1-2h0m-2 0h0m-1 0h0m-4 5h0m-2-5h0m0-1h0m0 2h0m-2 2h0m-3 3h0m-1-2h0m0-1h0m-1 5h0m-1-13h0m-2 1h0m0 3h0m-2 3h0m0 1h0m-5-6h0m0 2h0m-1 5h0m-1-2h0m-1 4h0m-7-10h0m-2 3h0m-1 8h0m0-7h0m-1 5h0m-2-2h0m-1 0h0m-1 4h0m-2 2h0m0-4h0m-1 3h0m-5-13h0m0 8h0m-1-1h0m0-1h0m-1-5h0m-6 0h0m0 2h0m-2 7h0m-2-9h0m-3 2h0m-1 0h0m-8 7h0m-3 1h0m-1-4h0m-1 9h0m5 3h0m4-1h0m1-1h0m5 5h0m1-5h0m3 4h0m0 3h0m2-9h0m2 13h0m0-7h0m1 5h0m0-6h0m3 4h0m4 1h0m2 1h0m1-10h0m0-1h0m2 14h0m0-1h0m1-1h0m1 0h0m1-1h0m1-7h0m1 6h0m0 2h0m3 0h0m1 2h0m3-2h0m3-6h0m1-5h0m0-1h0m1 14h0m1-9h0m1 4h0m4 4h0m1-12h0m3 10h0m2-10h0m2 7h0m0-4h0m0-3h0m2-1h0m1 7h0m0-5h0m1 8h0m0-6h0m1 7h0m0-2h0m0-2h0m3 2h0m1-4h0m1 3h0m4-2h0m5-5h0m2 4h0m1 7h0m2-3h0m0 3h0m0-5h0m4-2h0m0 6h0m2-8h0m3 5h0m1 2h0m0-9h0m1 5h0m0-4h0m6 12h0m6 0h0m1-9h0m2 4h0m2-4h0m6 5h0m3-1h0m-16 7h0m-2 12h0m-1-4h0m-2-1h0m-2 0h0m-1-8h0m-3 10h0m-3 2h0m-1-2h0m-3 2h0m0-10h0m-1-2h0m-1 0h0m-4 0h0m-1 14h0m-1-14h0m-1 12h0m-1-12h0m0 4h0m0 5h0m-1-2h0m-3 0h0m0 0h0m-5-6h0m-6 0h0m-5 7h0m-1-6h0m-2 12h0m-5-9h0m-6 5h0m-1 2h0m-1-5h0m-1 1h0m-1 4h0m-5-1h0m-4-7h0m-4 8h0m0-6h0m-2-6h0m-1 11h0m0-8h0m-2 7h0m0-9h0m-8 3h0m-4 1h0m-5-1h0m18 16h0m1-5h0m1 6h0m12-3h0m6-3h0m1 2h0m4 2h0m2 2h0m1-6h0m0 3h0m0 3h0m6-1h0m3-2h0m9 5h0m6-5h0m6 1h0m9-1h0m1 0h0m1-1h0" stroke="#A48BCB" stroke-width="4.3"/>
<path transform="scale(0.2)" d="M1418 163h0m16 15h0m-1-5h0m-2 6h0m0 0h0m-3-2h0m-1-1h0m-2-4h0m-2 7h0m-3-5h0m-5-3h0m-1 5h0m-3 0h0m-1-6h0m-1 6h0m-5-6h0m-3 8h0m-4-12h0m-1 7h0m-4 6h0m-3-8h0m-1-1h0m-5 8h0m-3-7h0m-8 7h0m-4 15h0m1 0h0m3-11h0m2 11h0m1-1h0m14-10h0m6 1h0m6 2h0m1-3h0m4 4h0m1-1h0m1 2h0m0-6h0m1 13h0m1-13h0m0 8h0m0-1h0m3-7h0m2 1h0m2 8h0m3 2h0m2-6h0m1-5h0m2 9h0m3-9h0m0 5h0m0-5h0m0 10h0m2 0h0m4-11h0m2 13h0m3-4h0m0-1h0m0 6h0m1-11h0m3 3h0m0-1h0m11 15h0m0 7h0m-1-6h0m-1-4h0m-1 6h0m0 0h0m-4 0h0m0 5h0m-1-2h0m0-7h0m-1 3h0m-1-2h0m0-4h0m-2 7h0m0-7h0m-2 3h0m-1 8h0m-3 1h0m0-5h0m0-1h0m-1-5h0m-3 1h0m-2 4h0m-2 1h0m-1-6h0m-1 2h0m0-2h0m0 1h0m-1 10h0m-1-2h0m-5-9h0m-1 3h0m-4 5h0m-3-10h0m-5 10h0m-1-1h0m-3-8h0m-2 6h0m-4-5h0m-3-2h0m-2 2h0m-2-1h0m-1 9h0m0 1h0m-2-7h0m-1 0h0m0 8h0m-2-11h0m0 5h0m-5 3h0m-1-5h0m0-4h0m-5 8h0m-2 4h0m-6-11h0m-15 28h0m6-5h0m1-9h0m1 3h0m1 9h0m6-9h0m0 3h0m2 4h0m2-5h0m1 3h0m1-1h0m1-7h0m1 9h0m1 4h0m0-7h0m2 2h0m5-8h0m0 11h0m2 1h0m1-7h0m0 1h0m2 6h0m1-9h0m2 0h0m0-3h0m1 10h0m6-8h0m3-2h0m0 3h0m2 4h0m4-6h0m0 8h0m1-4h0m0 8h0m1-1h0m1 1h0m0-1h0m0-9h0m0-1h0m5 0h0m2 1h0m1 4h0m1 3h0m8 1h0m1-1h0m2-6h0m5 5h0m6-8h0m1-1h0m0 4h0m2 7h0m0-3h0m1-6h0m0 10h0m2-11h0m3 0h0m1 9h0m1 3h0m0-13h0m6 13h0m0-3h0m1-1h0m2 1h0m19 14h0m-7 1h0m-1 3h0m-1-7h0m-4-3h0m-1 10h0m-5-12h0m-1 11h0m-1 0h0m-5-4h0m-2 1h0m-2 0h0m-2 1h0m-2 1h0m-1-1h0m0-10h0m-3 5h0m-6-2h0m0-3h0m-5 7h0m-1 1h0m-1-8h0m-1 14h0m0-6h0m-1 0h0m0-7h0m0 9h0m-1 4h0m-4-11h0m-2 10h0m0-13h0m-1 13h0m-2-8h0m-2 0h0m-2 2h0m-5-6h0m-1 2h0m0-3h0m-2 2h0m-1 5h0m-3 5h0m-1-7h0m-1 7h0m-4 0h0m-2-2h0m-3-1h0m0-3h0m-1 4h0m-4 0h0m-2-9h0m-1 13h0m-2-3h0m0-6h0m0-3h0m-4 1h0m-3 11h0m-1-9h0m0 1h0m-1 0h0m-1 5h0m-1 3h0m-6-9h0m-3-5h0m-1 12h0m-3-8h0m-2 1h0m-2 7h0m0-4h0m-1 1h0m-1 0h0m0 5h0m-2-4h0m0 0h0m-1-4h0m-1-5h0m0 9h0m-1-7h0m0 1h0m-1 6h0m-1 2h0m-1 0h0m0-3h0m-1 3h0m0-3h0m-1-2h0m0-1h0m-2 5h0m0-2h0m-1-2h0m0 3h0m-17 3h0m-9 1h0m-11-2h0m-17-2h0m-3 1h0m0-2h0m-9 4h0m-3-3h0m-3 3h0m-3-1h0m-14 15h0m3-2h0m2-5h0m3 3h0m0-2h0m1 2h0m0 3h0m2 3h0m2-5h0m1 4h0m2-4h0m0 0h0m2 1h0m4-3h0m1-1h0m1 6h0m1-4h0m0 1h0m3 0h0m1-9h0m2 13h0m1-13h0m6 2h0m0 6h0m3 6h0m0-5h0m2 3h0m1 2h0m1-7h0m0-6h0m2 4h0m1 1h0m0-3h0m0 2h0m4 6h0m1-3h0m1 2h0m1-5h0m2 4h0m1 2h0m1-4h0m0-7h0m1 9h0m2 1h0m0-4h0m3 5h0m1-3h0m0 3h0m0 2h0m1 1h0m1-10h0m0 9h0m0-2h0m0 3h0m0-8h0m1-4h0m1 9h0m0-8h0m2 11h0m0 0h0m1-1h0m2-8h0m1 0h0m0 3h0m1 0h0m0 6h0m0-3h0m1-1h0m0-10h0m1 10h0m1-10h0m0 9h0m1-5h0m1-4h0m1 6h0m0 4h0m1 2h0m2-11h0m1-1h0m0 14h0m1-11h0m3 5h0m2-3h0m2 7h0m1-10h0m2 12h0m0-14h0m2 4h0m2 9h0m1-7h0m0 0h0m0-4h0m2 4h0m1 6h0m0-9h0m1 7h0m0-9h0m1 4h0m0 4h0m0-7h0m3-2h0m1 13h0m2 1h0m0-12h0m1 2h0m2 3h0m0 2h0m1-5h0m1 4h0m0 1h0m0-5h0m1 6h0m1 1h0m0-5h0m1-1h0m1-4h0m1 8h0m1-1h0m4 5h0m2-5h0m1 1h0m1 2h0m3-7h0m0-2h0m1 9h0m1-3h0m1 5h0m1-13h0m0 4h0m0 9h0m1-1h0m1-12h0m0 2h0m1 3h0m1 8h0m0-11h0m0-2h0m3 1h0m1 12h0m1-5h0m1 1h0m0-7h0m1-2h0m0 8h0m1-4h0m2 2h0m1-2h0m1 0h0m1 2h0m0-6h0m4 5h0m1-4h0m6 13h0m3-9h0m2 1h0m1 1h0m1-2h0m1-3h0m0 12h0m1-5h0m5-2h0m3-6h0m6 7h0m2-4h0m3 0h0m1-4h0m4 10h0m2 4h0m3-4h0m13-8h0m2 6h0m1-6h0m0 2h0m2-2h0m9-1h0m4 3h0m1 1h0m0 4h0m3-3h0m2 3h0m1-1h0m3 4h0m8 6h0m-5 9h0m-7-2h0m-1 1h0m-5 3h0m-8 0h0m-2-13h0m-1 13h0m-1-7h0m0-1h0m-6 7h0m-3-5h0m-1 4h0m0-4h0m-5-3h0m-1 1h0m0 6h0m-7-1h0m0 0h0m-2-2h0m-5 5h0m-2-14h0m0 14h0m-1-8h0m-6-1h0m0-5h0m-3 12h0m-2-8h0m-2-1h0m0 9h0m-1-1h0m-3-1h0m-1 1h0m0-5h0m-4 5h0m-10-7h0m0-1h0m-2-3h0m-4 0h0m-5 12h0m-1-6h0m-1-3h0m-3-1h0m-2 0h0m-2 1h0m-2 7h0m-2-5h0m-2 7h0m-1-10h0m-1 0h0m-2-2h0m-1 0h0m-1 4h0m0 0h0m-2 6h0m-3-2h0m-3 0h0m0-7h0m0 3h0m-1 3h0m-1 0h0m-1 5h0m-1-12h0m-1 8h0m0-5h0m-2 7h0m-1 2h0m-1-10h0m-2 0h0m-2 2h0m-1-3h0m-2 11h0m0-9h0m-1 1h0m0-2h0m-1-1h0m0 2h0m-1 9h0m-1-12h0m0 11h0m-3 0h0m-2-9h0m0 3h0m-3 7h0m-1-10h0m0-2h0m0 14h0m-1-2h0m-1-2h0m0-4h0m0-6h0m-3 0h0m-3 2h0m-1 3h0m0 9h0m-1-13h0m0 5h0m-2 7h0m0-11h0m-1 7h0m0 4h0m0-3h0m-3-8h0m0 6h0m-1 1h0m0-8h0m-1 7h0m-1-2h0m0 0h0m0 8h0m-3-7h0m-2 0h0m0-1h0m-2-3h0m0-3h0m-2 8h0m-2 5h0m-2-8h0m-2-1h0m-1 6h0m0-4h0m-1 2h0m-2-5h0m-1 6h0m0 1h0m-2-5h0m-1 9h0m-1-2h0m0-10h0m0 7h0m-1 0h0m-1 4h0m0-6h0m-1-2h0m0 8h0m0-1h0m-1-11h0m0 6h0m0-3h0m-1 8h0m0-8h0m-2-3h0m0 13h0m0-11h0m-1 6h0m-1-3h0m-2 0h0m0-5h0m-1 3h0m-1 5h0m0-7h0m-1-1h0m0 12h0m-1-1h0m0-11h0m-1 10h0m0-6h0m-2-1h0m-5 9h0m-1 0h0m-1-5h0m0-1h0m-1-6h0m0 1h0m0 11h0m-2-13h0m0 1h0m-2 13h0m-1-3h0m-2-5h0m-1-4h0m-1-1h0m-2 8h0m0 5h0m-1-11h0m-1 7h0m-2-3h0m0 2h0m-1-6h0m-3 7h0m0-1h0m-1 3h0m-1-3h0m-1 0h0m-1 4h0m-4-8h0m-1 9h0m-3 5h0m1 1h0m1-3h0m2 4h0m1 6h0m1-2h0m0 2h0m0-11h0m0 3h0m1 0h0m0 9h0m1-4h0m0-6h0m2 2h0m3 9h0m1-12h0m0 7h0m0 4h0m1-4h0m0-8h0m1-1h0m1 5h0m0 6h0m1-9h0m1 5h0m1 6h0m1 1h0m1-6h0m0 3h0m0 2h0m1-9h0m0 0h0m1 8h0m0-2h0m0-9h0m0 9h0m1-6h0m0 0h0m1 9h0m3 0h0m0-13h0m0 7h0m2-1h0m1 4h0m0 4h0m0-11h0m1 0h0m0 10h0m2 1h0m0-9h0m1 5h0m1-9h0m1 12h0m0-13h0m0 13h0m2-1h0m1 0h0m0-10h0m1 7h0m2 1h0m0-7h0m0-1h0m1-2h0m1 3h0m0 4h0m0-7h0m1 7h0m1 0h0m0-4h0m0-2h0m0 9h0m3-4h0m2 5h0m1 3h0m0-2h0m2-4h0m1 3h0m1-1h0m0-1h0m0 2h0m1 3h0m1-1h0m1-11h0m1 7h0m1 4h0m1-12h0m1 10h0m2-3h0m1 6h0m1-5h0m2 2h0m1 0h0m2 1h0m1-12h0m0 4h0m2-3h0m0 7h0m1-5h0m0 2h0m1 8h0m1-3h0m1-6h0m2 3h0m0-7h0m1 4h0m0-1h0m0 0h0m1 10h0m1-9h0m1-1h0m0-3h0m2 2h0m1-1h0m0 3h0m2-4h0m1 7h0m0 6h0m0-6h0m1 0h0m0 6h0m0-11h0m1 9h0m1-9h0m1 3h0m1-1h0m0 7h0m1 1h0m0-6h0m3 1h0m0 6h0m0-2h0m2-9h0m2 2h0m0 8h0m0-5h0m0 7h0m1-9h0m0-4h0m1 8h0m0 3h0m1-8h0m2 2h0m0 5h0m1-3h0m0 4h0m0-3h0m0 4h0m1 0h0m4-7h0m2 7h0m0-5h0m3-2h0m0 1h0m2-7h0m3 6h0m0 5h0m2-1h0m1 4h0m1-6h0m1 0h0m0 0h0m3-2h0m3 4h0m2-8h0m0 9h0m1-7h0m3 4h0m3 5h0m1 1h0m0-5h0m1-3h0m3-4h0m0 8h0m1-8h0m0 5h0m1-6h0m1 0h0m2 9h0m0-3h0m5 1h0m8 1h0m1-2h0m1 3h0m2-4h0m0 2h0m0-5h0m1 8h0m0-2h0m13-5h0m4-2h0m1 0h0m0 4h0m10 2h0m14 6h0m2-3h0m4 0h0m0-9h0m1 1h0m1 1h0m6 6h0m1-9h0m1 12h0m4-5h0m3-2h0m0 7h0m4-6h0m0-4h0m1 9h0m1-8h0m5 6h0m3 4h0m3-8h0m-6 13h0m-4-1h0m-7 0h0m-4-2h0m0 9h0m-1-7h0m-4-1h0m-3 11h0m-1-2h0m-1 3h0m-3-13h0m-3 7h0m-4 1h0m-7 2h0m-10 0h0m-2 0h0m-2-11h0m-1 6h0m-2 0h0m-7-5h0m-1 4h0m-5 7h0m0-11h0m0 12h0m-6-7h0m-1 1h0m-5 1h0m-3 0h0m0-5h0m-4 0h0m-3 2h0m0-5h0m-2 10h0m-1-9h0m-1 4h0m-4-3h0m0 0h0m-4 6h0m-2-7h0m-1 0h0m0 12h0m0-2h0m-4-8h0m0 7h0m-1-4h0m0 8h0m0-3h0m-1 1h0m0-10h0m-1-1h0m-1 12h0m0-8h0m-2-1h0m0-3h0m-2 9h0m0-2h0m-5 6h0m0-9h0m-1 9h0m-1-6h0m-1 1h0m-3 5h0m0-4h0m-2-3h0m-1 6h0m0-4h0m-1 4h0m0-7h0m-3 0h0m-1 4h0m-2 2h0m0-1h0m0 3h0m-1-13h0m0 10h0m-2-7h0m0 1h0m0 1h0m-1 8h0m0-13h0m0 10h0m-1-1h0m-1-10h0m0 1h0m0 12h0m0-12h0m-2 4h0m-1 9h0m-1 0h0m-1-10h0m0 8h0m0-11h0m0 3h0m-1 9h0m-2-2h0m-1-7h0m0 2h0m-2-5h0m0 11h0m0-1h0m-1-7h0m-1 0h0m0 3h0m-1 3h0m0-3h0m0 4h0m0 2h0m-1-12h0m-1 6h0m-1 1h0m0-8h0m0 10h0m0 2h0m0-12h0m-1 3h0m-2 8h0m-1 0h0m0-6h0m-1 2h0m0 5h0m0-6h0m-1-2h0m-1-2h0m-1 8h0m0-4h0m-1 4h0m-1-6h0m0 10h0m-1-14h0m-1 9h0m0-2h0m-1-7h0m-1 11h0m-1-11h0m-3 1h0m0 7h0m-1-6h0m-1 10h0m-1 0h0m0-4h0m-1-6h0m-2 10h0m0 2h0m0-14h0m0 11h0m-2-1h0m-1-7h0m-1 3h0m0 2h0m-1-1h0m-1-5h0m0 11h0m-2-5h0m-1-3h0m0-1h0m0 8h0m0-10h0m0 1h0m-1 4h0m-1 7h0m-2 0h0m-1-2h0m0-3h0m0-5h0m-1-3h0m0 11h0m0-8h0m0 6h0m-1-2h0m0-6h0m-1 5h0m-1 4h0m0-2h0m-1-7h0m0 3h0m0 8h0m-1-6h0m-1-4h0m-1 10h0m-1-4h0m0-1h0m0-8h0m0 12h0m0-7h0m0-5h0m-1 10h0m0-2h0m0 2h0m0-6h0m0-3h0m-1 10h0m-1 2h0m0-3h0m-1-1h0m0-7h0m-2 6h0m0 2h0m0-1h0m0 3h0m0-9h0m-1 2h0m0-1h0m0 1h0m0 0h0m0-1h0m-1 2h0m0-5h0m-1 5h0m-1 3h0m0-9h0m-1 13h0m0-8h0m0 8h0m0-2h0m-3 1h0m-1-9h0m-1 8h0m-1-10h0m-1 11h0m-1-10h0m-1 6h0m0 0h0m0-5h0m-1 3h0m-1-6h0m-1 7h0m-1-7h0m-1 9h0m-1-3h0m-1-3h0m-2 5h0m-1-2h0m-2-5h0m0 1h0m8 13h0m3 3h0m0 9h0m0-1h0m0-5h0m2-1h0m2 3h0m1-5h0m1 2h0m1 2h0m0-7h0m0 13h0m0-5h0m1-5h0m0 8h0m0-7h0m1 4h0m0-2h0m0 4h0m1-10h0m0 4h0m1 10h0m2-10h0m0 6h0m1 4h0m1-13h0m0 0h0m1 5h0m0 7h0m0-1h0m1-12h0m0 7h0m1 0h0m2-3h0m1 10h0m1-14h0m1 0h0m0 2h0m0-2h0m1 14h0m0-9h0m0-4h0m3 0h0m1 4h0m0-1h0m1 6h0m0 1h0m1-4h0m0 4h0m1 3h0m1-13h0m0 1h0m0 1h0m0 9h0m1-4h0m0-1h0m0 7h0m2-5h0m0-8h0m2 6h0m0-3h0m0-1h0m2 9h0m2-7h0m0-5h0m0 9h0m0 2h0m1-3h0m1-4h0m1 4h0m0 1h0m0 3h0m1-4h0m0 4h0m0-6h0m1 6h0m0-5h0m2 1h0m0-4h0m0-4h0m0 3h0m1-3h0m0 1h0m1 4h0m0 0h0m2 2h0m0 1h0m1-3h0m1 6h0m1 1h0m0-3h0m1 2h0m0-6h0m1 0h0m0 4h0m1-6h0m1 10h0m0-5h0m1-6h0m0 4h0m0-1h0m0 6h0m0-4h0m0 4h0m1-6h0m0 8h0m0-12h0m1 12h0m1-10h0m0 2h0m1-1h0m0 9h0m0 0h0m1-5h0m0 5h0m0-8h0m0 3h0m0-8h0m2 1h0m0 3h0m0 9h0m2-3h0m1 3h0m1-12h0m0 12h0m0-2h0m0 3h0m2-3h0m0-5h0m1 8h0m0-10h0m0 7h0m0-10h0m1 0h0m1 13h0m0 0h0m2-11h0m1-3h0m1 12h0m0-8h0m1-1h0m0-2h0m0 12h0m1 0h0m0-11h0m0 6h0m1 1h0m0 5h0m0-5h0m1-1h0m0 2h0m0-1h0m0-1h0m1 3h0m0-2h0m0-8h0m1 13h0m1-5h0m1-3h0m0 3h0m0-1h0m0-5h0m0 6h0m1-4h0m0 0h0m1 6h0m1-5h0m2 1h0m0 6h0m1-13h0m0 11h0m1-4h0m0-3h0m0 6h0m1-2h0m1-8h0m1 14h0m0-14h0m1 13h0m1-1h0m2-2h0m0 0h0m0-3h0m0 0h0m0-5h0m1 3h0m1 9h0m0-5h0m1 0h0m0-3h0m1 7h0m0-7h0m0 4h0m3 3h0m0-9h0m1-3h0m1 9h0m0-10h0m0 8h0m1 1h0m1 4h0m0-6h0m1 1h0m0-3h0m0-3h0m4 9h0m0-1h0m0-4h0m0-2h0m1 8h0m1-1h0m1-5h0m3 6h0m1-9h0m0-3h0m0 11h0m1 0h0m1-5h0m3 6h0m1-1h0m0-8h0m2 9h0m0-2h0m2-8h0m0 5h0m0-7h0m1 5h0m1 9h0m4-3h0m6-1h0m2 3h0m29 1h0m5-8h0m4 6h0m2 2h0m6-11h0m4 6h0m1 5h0m4-6h0m0-5h0m8-2h0m7 9h0m2-10h0m2 9h0m0 5h0m3 0h0m1-5h0m0-2h0m2 3h0m1-4h0m-2 11h0m-3 7h0m-4 0h0m-5 4h0m-4-10h0m-1 5h0m-1-8h0m0 5h0m-4 1h0m-3 0h0m-5 7h0m-21-6h0m-4-6h0m-16 4h0m-1 4h0m-10-4h0m-1 6h0m-3-6h0m-2 5h0m-1 3h0m-1-12h0m-1 11h0m0-9h0m-2 10h0m-2 1h0m-1 0h0m0-4h0m-2 0h0m-1 0h0m0 1h0m-1-10h0m-1 7h0m0-3h0m0 0h0m-1 9h0m0-2h0m0-5h0m0 6h0m-1-2h0m0-9h0m0-1h0m-1 0h0m-1 6h0m0 6h0m-1-4h0m0-3h0m-1 6h0m0-12h0m0 8h0m0-3h0m-1-4h0m0 12h0m0-2h0m-1-3h0m-1-5h0m0 5h0m-2-3h0m0 1h0m0-6h0m0 6h0m0-1h0m-1 9h0m0-13h0m-1 7h0m0 1h0m0-6h0m-2 2h0m-1 8h0m-1-7h0m0 4h0m0-6h0m-1 8h0m0 2h0m0 0h0m-1-5h0m-1 2h0m0-9h0m0-2h0m-1 7h0m0 0h0m0-2h0m0 2h0m0 6h0m-1-1h0m0-11h0m-1 3h0m-1 4h0m0-2h0m0 6h0m0 0h0m0-4h0m-1-6h0m0 11h0m-1-6h0m0-1h0m-1-4h0m-1 1h0m-1 1h0m0 7h0m-1-8h0m-1 3h0m0-3h0m0 0h0m-1 8h0m0 2h0m0-11h0m-1 5h0m-2-1h0m-1 7h0m0-2h0m0-6h0m-1-4h0m0 0h0m0 0h0m-1 4h0m0 3h0m0-4h0m-1 4h0m-1 3h0m0-4h0m-1 6h0m0-8h0m-1 5h0m-1-2h0m-2 2h0m-2-8h0m-1 10h0m-1-9h0m-1 1h0m0 8h0m0 0h0m-1-3h0m0 0h0m-1-3h0m0 2h0m0 4h0m-1-2h0m0-5h0m0 6h0m-1-11h0m0 7h0m-1-6h0m0 3h0m-1 6h0m0-10h0m0 6h0m0 5h0m0-7h0m0-2h0m-1 3h0m0 7h0m0-10h0m-1 7h0m0 0h0m-1 5h0m-1-10h0m0 6h0m0 3h0m0-7h0m-2 5h0m0 3h0m0-3h0m0-9h0m-1 0h0m-1 12h0m0-12h0m-1 11h0m0-12h0m0-1h0m0 5h0m-1 5h0m-1-3h0m0 5h0m-2-12h0m0 8h0m0 1h0m0-1h0m-1-7h0m0 8h0m-1 2h0m-1-1h0m0 1h0m-1 1h0m-1-10h0m0 3h0m-2 4h0m0-3h0m0 8h0m-1-8h0m0-5h0m0 11h0m0 2h0m0-1h0m-1-1h0m0-9h0m-1 10h0m0-8h0m-1-2h0m0 4h0m0-2h0m-1 9h0m0-6h0m0 3h0m-1-4h0m-1-2h0m0 9h0m0-12h0m0 4h0m-1 3h0m-2-5h0m0 0h0m0 9h0m0 1h0m-1-4h0m0-8h0m0 4h0m0-6h0m0 4h0m-1 7h0m0 1h0m0 1h0m0-9h0m-2 9h0m0 1h0m0-1h0m-1-9h0m0 6h0m-1 0h0m-1 3h0m-1-8h0m-1 9h0m-2-1h0m0-3h0m-1 4h0m-1-10h0m0-1h0m0 9h0m-1-2h0m0-4h0m-1-5h0m0 9h0m0-7h0m-1 1h0m0 7h0m0-3h0m0 0h0m-1-6h0m-1 11h0m-1-5h0m0-8h0m0 8h0m-1 5h0m-2-4h0m0 1h0m0 2h0m0-3h0m0 1h0m-2-3h0m0 5h0m0-10h0m-1 7h0m0 4h0m0-7h0m-1 0h0m0-6h0m-1 2h0m0 7h0m-1 1h0m-1-10h0m-1 8h0m-1-3h0m0 9h0m0-14h0m-1 5h0m0-2h0m-1 1h0m0 9h0m0-4h0m0-5h0m-1 8h0m-1-1h0m-1-7h0m0 2h0m-1 6h0m-1-10h0m0 4h0m-1-1h0m0 9h0m0-9h0m-1 9h0m0-10h0m-1 4h0m0 1h0m-2-2h0m-2 7h0m-1-3h0m-2 2h0m-1 0h0m-2-6h0m0 6h0m-1-2h0m-1 1h0m-2-1h0m-1 0h0m-3 3h0m-6-1h0m-2 0h0m-2-3h0m-6 2h0m-11 14h0m0-7h0m1 9h0m1-2h0m2-7h0m0 7h0m1-7h0m1 5h0m2 4h0m1-13h0m0 2h0m1 8h0m0-10h0m1 1h0m1 2h0m1 9h0m0-3h0m0-5h0m1 1h0m0-5h0m2 11h0m1 2h0m1 0h0m1-10h0m2-1h0m5 2h0m1-3h0m0 7h0m0 6h0m0-4h0m1-9h0m2 13h0m1 0h0m0-13h0m0 2h0m1 1h0m1 9h0m0 1h0m1-8h0m0-6h0m0 9h0m0-6h0m2 10h0m0-4h0m1-1h0m1 2h0m0-2h0m0-4h0m0 5h0m1 1h0m1 1h0m1 3h0m0-1h0m0 0h0m0-4h0m0 5h0m1-4h0m1-2h0m1-2h0m0 4h0m0-5h0m2-3h0m0 5h0m0-1h0m0-4h0m0 5h0m0-7h0m1 10h0m1 0h0m1-9h0m1-1h0m1 7h0m1 7h0m0-14h0m0 8h0m1 6h0m0-12h0m1 4h0m0-1h0m0 1h0m1-4h0m1 9h0m0-8h0m0 10h0m0-11h0m2 5h0m0 5h0m0-4h0m1 2h0m0 4h0m1-9h0m0 7h0m1 2h0m1-10h0m0 8h0m0-8h0m0 7h0m1-9h0m0 7h0m1-6h0m1-3h0m1 11h0m1-7h0m0 7h0m0-2h0m1 5h0m0-2h0m0-12h0m1 5h0m1 7h0m1-3h0m1 0h0m1-4h0m1 6h0m0 0h0m0 3h0m1-1h0m1-5h0m0 6h0m0 0h0m1-14h0m0 3h0m0 8h0m1 3h0m0-7h0m1 0h0m0 7h0m0-4h0m1-8h0m1 5h0m1-7h0m2 13h0m0-9h0m3-2h0m0 7h0m0-1h0m1-5h0m1 10h0m0 1h0m0-10h0m2 6h0m1 3h0m0-5h0m0 3h0m1-5h0m0-6h0m0 4h0m1 4h0m1-7h0m0 13h0m0-8h0m1-4h0m0 8h0m0-3h0m1 7h0m1-12h0m0 4h0m0 8h0m1-1h0m0-4h0m0 4h0m1-6h0m0 6h0m1-3h0m0 2h0m2-6h0m0 7h0m0-6h0m1 0h0m0-4h0m1 11h0m1-7h0m0 1h0m2 6h0m0-4h0m0-9h0m0 9h0m1-9h0m0-1h0m0 12h0m0 1h0m1 0h0m0-4h0m0 4h0m0-11h0m0 5h0m1 5h0m1 0h0m0-7h0m0 1h0m1-3h0m0-3h0m0 14h0m1-6h0m0 2h0m0 0h0m0-2h0m1-5h0m0 5h0m0-1h0m1 3h0m0-3h0m2-2h0m0 0h0m0 3h0m0-2h0m1 3h0m1 5h0m0-9h0m1-3h0m0-1h0m1 1h0m0 2h0m1 8h0m0-4h0m0-2h0m1 6h0m1-1h0m1-1h0m0-3h0m1 7h0m0-3h0m1-11h0m0 13h0m0 1h0m0-8h0m1 1h0m0-1h0m0-2h0m2 0h0m0 1h0m0 9h0m1-7h0m0 0h0m1-2h0m0 8h0m0-2h0m1 1h0m0-2h0m0 1h0m1 0h0m0-10h0m0 11h0m1-8h0m0 9h0m1-5h0m0 0h0m1-8h0m1 8h0m0-2h0m0-6h0m0 2h0m1 10h0m0-2h0m1-4h0m2-3h0m0 10h0m1-12h0m1 6h0m0-1h0m0 1h0m0 6h0m1 0h0m1-9h0m0 9h0m0-9h0m1-1h0m2 3h0m1 1h0m0 1h0m0-7h0m1 4h0m0-2h0m0-2h0m0 11h0m0 0h0m2-10h0m0 3h0m0 6h0m0-10h0m0 5h0m1 6h0m0-6h0m1 4h0m0 0h0m0-8h0m1-1h0m0 4h0m0-4h0m0 13h0m1-12h0m0 2h0m0 5h0m1 1h0m0-4h0m0 3h0m0-2h0m0-1h0m1 4h0m1 0h0m0-9h0m0 10h0m1-9h0m0 11h0m0-8h0m0 3h0m1-4h0m0-4h0m0 3h0m1 6h0m0-7h0m0 1h0m1 1h0m1-1h0m1 8h0m1-3h0m1 1h0m1-2h0m1-4h0m0 2h0m0 4h0m1-7h0m1-1h0m1 12h0m3-1h0m0 2h0m2-1h0m1-8h0m1-5h0m1 6h0m1-2h0m1-1h0m0 9h0m2 0h0m1-6h0m1 2h0m3-3h0m6 4h0m3 0h0m0-5h0m7 5h0m1-2h0m1-5h0m3-1h0m1 10h0m1-10h0m0 8h0m5-5h0m6 8h0m0-12h0m1 6h0m15-1h0m4 4h0m5 4h0m3-7h0m14 5h0m2 14h0m-17-3h0m-25 4h0m-8-4h0m0 1h0m-4-5h0m-2 4h0m0-7h0m-5 4h0m0 9h0m-5-7h0m0 6h0m-3-6h0m0 7h0m-5-11h0m-2 6h0m0 4h0m-2-5h0m0 3h0m0 4h0m0-9h0m-1 0h0m0 1h0m-2 5h0m-3 2h0m-2-3h0m0-3h0m-1 4h0m0-7h0m-3 7h0m-2-4h0m0 6h0m0-1h0m-1 1h0m-2-4h0m0-6h0m-1 9h0m-1-8h0m-1-1h0m0-2h0m-1 13h0m0-12h0m0 12h0m-1-10h0m-1 8h0m0-8h0m0 6h0m-1 0h0m-1-9h0m-1 0h0m-1 12h0m-1-3h0m0-10h0m0 13h0m-1-1h0m-1-10h0m-1 6h0m0 5h0m-2-12h0m0 10h0m-1-5h0m0-2h0m-1-3h0m0 7h0m-1-1h0m0-1h0m-2-5h0m0 11h0m0-5h0m0 0h0m-1 7h0m0-12h0m0-1h0m-2 3h0m0 3h0m0 1h0m0-8h0m-1 11h0m-1-11h0m-1 1h0m0 6h0m-1-5h0m0 4h0m0 4h0m-1-3h0m0-5h0m0 12h0m-1-5h0m0 0h0m0-9h0m-1 6h0m0 7h0m-2-13h0m0 9h0m-1 2h0m0-9h0m-1 12h0m0-1h0m-1 1h0m0-5h0m0 4h0m-2-2h0m0-3h0m-1-7h0m-1 11h0m0 1h0m-1-9h0m-1 0h0m0 5h0m0-3h0m-1-3h0m0-1h0m-1 7h0m0 5h0m0-8h0m0 3h0m0-4h0m0 8h0m-1-13h0m0 7h0m0 4h0m-1-9h0m0 8h0m-1-6h0m0 1h0m-1 6h0m-1-8h0m0 3h0m-1 7h0m0-5h0m0-1h0m-1-3h0m0 1h0m0 4h0m0-1h0m-1-1h0m0-1h0m-1 1h0m-2 2h0m0-2h0m-1 6h0m0-1h0m-2-8h0m0 2h0m0-6h0m0 9h0m0-4h0m-1 2h0m-1-4h0m0 1h0m0-4h0m0 4h0m-1 0h0m0 9h0m0-4h0m-2 2h0m0 0h0m0 0h0m-2-1h0m0 0h0m0 4h0m0-14h0m-1 7h0m0-1h0m-1-5h0m0 2h0m0 5h0m-1-4h0m-1 4h0m-1-7h0m0 10h0m-1 2h0m0-5h0m-2-6h0m0 4h0m-1-2h0m0 10h0m0-6h0m0 3h0m0-4h0m-1 7h0m0-11h0m-1 10h0m-3-4h0m0-4h0m-2-5h0m-1 2h0m-1 12h0m0-12h0m0-2h0m0 1h0m-1 8h0m-1-9h0m0 8h0m-1-7h0m0 3h0m-2-1h0m0 5h0m0 3h0m0 0h0m0-7h0m-1 4h0m0 3h0m0 0h0m0-7h0m0-4h0m0 2h0m-1 1h0m0 0h0m0 2h0m0 0h0m-1 8h0m0-5h0m-2 6h0m0-6h0m0-7h0m-2 2h0m0 9h0m0-8h0m-5 9h0m0-9h0m0 8h0m0-8h0m-2 0h0m0 10h0m0 0h0m-1-1h0m0-5h0m0 4h0m-1-3h0m-1 4h0m0-9h0m0 1h0m-1 0h0m0 3h0m-1-1h0m-1-5h0m0-2h0m-1 9h0m0-5h0m-2 9h0m0-13h0m0 7h0m-1-3h0m-1 8h0m0-10h0m-1 0h0m0 0h0m-1 10h0m0-4h0m-2-4h0m0 8h0m-2-10h0m0 3h0m0 2h0m-1 4h0m-1-1h0m0-2h0m0-5h0m-1 0h0m0 7h0m-1-5h0m0-3h0m0 1h0m-1 10h0m0-5h0m0-1h0m-1-3h0m0 2h0m0-3h0m-1 4h0m0-1h0m0 6h0m-2 1h0m0-13h0m0 8h0m0 3h0m-1-6h0m0 9h0m0-9h0m0 7h0m-1-9h0m0 7h0m-1 3h0m0 1h0m0-7h0m0-2h0m-1-4h0m0 8h0m0-6h0m-1-3h0m0 8h0m-2-1h0m0 3h0m0-9h0m-1 2h0m-1 2h0m0 9h0m-2-11h0m-1 6h0m0 3h0m0-3h0m-1-5h0m0 2h0m-1-2h0m0 5h0m0-8h0m-2 9h0m0-3h0m0 5h0m0-8h0m-2-1h0m-2 3h0m0 1h0m-1 3h0m0-8h0m-1 11h0m0-6h0m0-5h0m-1 10h0m0-10h0m0 0h0m-2-1h0m-1 12h0m-1-10h0m-1 9h0m0-9h0m-1 5h0m-1 6h0m0 0h0m0-12h0m-1 3h0m-3-5h0m0 12h0m0-1h0m-2-7h0m-1 0h0m-1 3h0m0-7h0m-1 0h0m0 2h0m0 5h0m-2 2h0m-3 3h0m-1 1h0m0-7h0m-1 4h0m-1-9h0m-3 3h0m8 16h0m4-5h0m0 0h0m1 8h0m0-6h0m2-1h0m0 4h0m1 7h0m0-8h0m1 7h0m1-6h0m0-3h0m1 2h0m0 0h0m0 5h0m1-2h0m1 0h0m0 1h0m1 4h0m1 2h0m1-7h0m0-5h0m0 8h0m0-8h0m1 12h0m1-10h0m1 8h0m0 1h0m2-3h0m0 1h0m0 3h0m0-7h0m2 4h0m1-11h0m0 10h0m1 4h0m3-4h0m0-4h0m0 7h0m1 1h0m0-4h0m1 0h0m0-3h0m1-5h0m1 0h0m1 9h0m1-4h0m1 1h0m0 1h0m1 4h0m1-4h0m0 1h0m3 4h0m0-8h0m0-6h0m0 1h0m1 12h0m0-3h0m0-3h0m1 2h0m1-2h0m0 5h0m1-12h0m0 7h0m0 5h0m0-12h0m1 12h0m2-3h0m0 2h0m1-1h0m0 0h0m3 3h0m0-2h0m2-11h0m0 7h0m2 6h0m1-13h0m0 12h0m0-2h0m0-4h0m1 8h0m0-8h0m2-6h0m0 0h0m2 3h0m0-2h0m1 0h0m1 0h0m0 9h0m2-1h0m1 0h0m1-7h0m0 7h0m0 3h0m1-4h0m0-5h0m2 9h0m1 2h0m1-12h0m0-2h0m1 11h0m0-9h0m0 12h0m0-4h0m2-4h0m0 5h0m0-6h0m2 3h0m0-1h0m1-7h0m1 5h0m0-3h0m0 11h0m1-3h0m1 0h0m2-1h0m0 0h0m1-6h0m1 8h0m0-4h0m1-5h0m1 8h0m0-8h0m1 11h0m0-2h0m1-4h0m0-5h0m0 4h0m1-3h0m1 7h0m1-2h0m1-3h0m0 8h0m0-12h0m0 10h0m0-11h0m0 10h0m1-10h0m1 0h0m0 13h0m1-6h0m0 5h0m1-9h0m1-3h0m0 12h0m1-4h0m0 2h0m1-3h0m0 0h0m2 5h0m1-3h0m1-2h0m0 4h0m0-6h0m1 0h0m1 6h0m0 2h0m1 1h0m1 0h0m1-14h0m0 6h0m0 7h0m1-10h0m1 1h0m0 6h0m1-8h0m0 2h0m1 4h0m0-1h0m0-1h0m1 6h0m0-9h0m1-2h0m1 13h0m1-7h0m0 3h0m1-10h0m1 8h0m0-3h0m1 1h0m0 3h0m1-4h0m0 1h0m1-6h0m1 4h0m1 1h0m1 6h0m0-8h0m1 2h0m0 2h0m2 5h0m0 1h0m1-7h0m1-2h0m1 5h0m1 5h0m0-10h0m1 3h0m0-5h0m1 9h0m0-8h0m1 6h0m0 5h0m2-13h0m0 2h0m1 0h0m0 0h0m0 4h0m1 2h0m1-6h0m1-1h0m1 6h0m0-5h0m1-1h0m0 3h0m0 1h0m0 2h0m1-8h0m0 3h0m3 7h0m0 3h0m0-7h0m1 3h0m1-2h0m0 4h0m0-1h0m2-8h0m0 5h0m0-3h0m1 0h0m0 2h0m0-3h0m1 1h0m0-1h0m0-1h0m2-2h0m0 0h0m1 2h0m0 0h0m0 3h0m1-3h0m2 4h0m0 4h0m0-7h0m1-1h0m1 6h0m0 1h0m1 1h0m0-3h0m1 0h0m1 6h0m1-10h0m0 0h0m1 11h0m0-12h0m3 6h0m0-6h0m1 2h0m0-4h0m0 8h0m1-2h0m3-4h0m2 2h0m2-1h0m0 6h0m1 0h0m0 0h0m3-1h0m3-8h0m0 6h0m0 1h0m1 5h0m1-7h0m0 7h0m2-4h0m1-7h0m0 0h0m2 9h0m7-3h0m1-4h0m3 9h0m2-9h0m0 11h0m3-12h0m2 1h0m1 9h0m5-1h0m4 3h0m2-6h0m5-5h0m1 4h0m4 5h0m9-5h0m1 3h0m14 0h0m2 2h0m3-4h0m4 6h0m4-13h0m3 11h0m-6 6h0m-5 11h0m-6-7h0m-11-5h0m-6 1h0m-5 6h0m-3 4h0m-2-3h0m-2 4h0m-7-6h0m-3 2h0m-1 0h0m-4-6h0m-3 1h0m0 7h0m-7-8h0m-1 2h0m-1-3h0m-5 10h0m-1-2h0m-1 0h0m-2-9h0m-2 11h0m0 0h0m-4-9h0m0 5h0m-1-7h0m-6 12h0m0-14h0m-2 5h0m-3-4h0m-1 13h0m-2-12h0m-1 4h0m0 8h0m0-13h0m-3 0h0m-2 8h0m0-8h0m0 13h0m-2-8h0m0 1h0m-2-1h0m-1-3h0m0-2h0m-4 7h0m-1 1h0m-1-9h0m-2 14h0m-2-5h0m-1-4h0m-3 2h0m-1 4h0m0-10h0m0 0h0m-1 9h0m0-10h0m-1 0h0m0 12h0m-1-4h0m-2-5h0m-1 1h0m-1 6h0m-1-1h0m0-8h0m-1 0h0m-2 10h0m0-4h0m-1-6h0m0 4h0m-1 9h0m-1-9h0m0-4h0m-1 7h0m-1 2h0m0 0h0m-1-6h0m0-3h0m0 0h0m0 12h0m-3-1h0m-1-5h0m-1 5h0m-1-10h0m0-2h0m0 6h0m-1-4h0m0 10h0m-1-4h0m0-7h0m-1 3h0m0 9h0m-1-12h0m0 8h0m0-9h0m-2 5h0m-1-5h0m0 0h0m0 14h0m-1-9h0m0 6h0m-1-5h0m-1 7h0m-2-3h0m0-4h0m0-4h0m-1-1h0m-1 13h0m0-1h0m-2-2h0m0-7h0m0-2h0m0 5h0m-1-1h0m0-1h0m0 2h0m-3 7h0m0-13h0m0 8h0m0-4h0m-1-1h0m0 6h0m-1-1h0m0 2h0m0-3h0m-1 1h0m-1-6h0m0 8h0m-1 1h0m-1-3h0m0-8h0m-1 4h0m-1-2h0m-2 11h0m-1-5h0m-1-9h0m0 7h0m0-4h0m-1 4h0m0-3h0m-2-1h0m-1 9h0m-1-5h0m0-6h0m-1 8h0m-1-8h0m0 7h0m-1-3h0m-1-1h0m0 3h0m0-6h0m-1 7h0m0 0h0m-1 4h0m0-3h0m-1 4h0m0 0h0m0-3h0m-1-4h0m-1 6h0m-1 0h0m0-11h0m0 1h0m-1 0h0m-1 5h0m0 6h0m-1-2h0m0 0h0m0-3h0m-1 0h0m-3 0h0m-1-7h0m0 8h0m-1-8h0m0 4h0m0-2h0m-3 3h0m0-1h0m0 5h0m-1 1h0m0-11h0m0 1h0m-1 4h0m-1 9h0m-1-2h0m0-11h0m-2 8h0m0 0h0m-1 2h0m0-10h0m0 1h0m-1-1h0m-1 12h0m0-11h0m0 9h0m0-11h0m-1 14h0m-2-1h0m-1-8h0m-1-5h0m0 10h0m0-6h0m-1 5h0m0 3h0m0-10h0m-1 7h0m0-3h0m-1-2h0m0 8h0m0-4h0m0-5h0m0 4h0m-2-4h0m0-2h0m-1 5h0m-1-5h0m0 3h0m0 5h0m0-7h0m-1 0h0m0 5h0m0 2h0m-1 5h0m0-8h0m0 1h0m0-6h0m-1 8h0m0 0h0m-1-9h0m0 0h0m0 6h0m-1-3h0m0 9h0m-3-8h0m0 9h0m0-5h0m0 3h0m-1 3h0m0-14h0m-1 0h0m-1 12h0m0-2h0m-1 0h0m0-5h0m0 0h0m-1 9h0m-5-10h0m0 1h0m-1-5h0m-1 0h0m-1 0h0m-4 1h0m-10 1h0m-13 26h0m0-1h0m5 1h0m0-5h0m1 5h0m0-3h0m0 4h0m5-3h0m1-1h0m1-8h0m3 11h0m1-2h0m1-8h0m1 4h0m1 6h0m1-8h0m0 5h0m1-3h0m1 5h0m1 0h0m0-9h0m2 1h0m2-3h0m3 5h0m2 8h0m0-11h0m1 10h0m1 1h0m0-1h0m1-4h0m3 2h0m1-9h0m0 10h0m1-8h0m0 8h0m0-8h0m1 7h0m0-3h0m0 2h0m0 2h0m1-4h0m3 5h0m0-5h0m1-8h0m0 11h0m1-10h0m1 6h0m0 6h0m1-3h0m3-5h0m2 8h0m0-2h0m1 0h0m2 1h0m1-11h0m1 5h0m0-3h0m1-3h0m0 2h0m0 2h0m0 3h0m1-2h0m1 9h0m1-1h0m1-7h0m0 6h0m1-8h0m0-3h0m1 6h0m0-6h0m0 13h0m0-7h0m1-1h0m0 4h0m0-8h0m1 11h0m1-2h0m0-7h0m1 9h0m0-13h0m2 4h0m0-3h0m2 1h0m1 0h0m1-2h0m3 5h0m1-2h0m1 0h0m0-1h0m2 1h0m2 7h0m10 4h0m4-11h0m1 7h0m0-9h0m4 1h0m1 9h0m3 2h0m0-4h0m0-3h0m2 7h0m1-13h0m1 7h0m1-7h0m0 8h0m4-4h0m1 4h0m1-3h0m2-5h0m0 7h0m1-3h0m1 4h0m1-7h0m1 9h0m1-9h0m0 1h0m0 5h0m1 3h0m1-2h0m0 2h0m0-3h0m1-6h0m2 6h0m1-1h0m1 5h0m0-10h0m1 9h0m2-7h0m0 3h0m4 0h0m1 5h0m1-6h0m1 3h0m0-8h0m3 7h0m0 6h0m2-3h0m0-4h0m1 1h0m1-5h0m0 9h0m2-6h0m0-4h0m2 9h0m0-7h0m1 0h0m0 6h0m1 3h0m2-7h0m1 1h0m0 2h0m1-8h0m1 10h0m0-6h0m1 10h0m2 0h0m1-11h0m0 8h0m1-10h0m1 8h0m1-7h0m0 5h0m1-5h0m0 0h0m1 9h0m0-8h0m0 11h0m1-5h0m1 1h0m0-10h0m2 3h0m1 9h0m2-12h0m1 4h0m0 5h0m1 5h0m0-5h0m1-8h0m1 4h0m3-3h0m0 10h0m0-7h0m0-4h0m1 2h0m0 9h0m1-2h0m2-3h0m0-5h0m1 5h0m1 2h0m2-1h0m1-4h0m0-1h0m1 11h0m1-14h0m0 2h0m1 10h0m2-2h0m2 0h0m3-7h0m0 1h0m2 5h0m0 4h0m2-12h0m1 4h0m0 3h0m2 6h0m1-14h0m0 9h0m1-2h0m1 5h0m0-12h0m1 5h0m0 6h0m1-7h0m2-3h0m1 10h0m0-2h0m1-3h0m0-1h0m1 7h0m1 2h0m1-11h0m2 11h0m1-11h0m0 10h0m1-3h0m1-2h0m1 4h0m0-7h0m2 3h0m6-8h0m0 1h0m3 13h0m1-5h0m1-2h0m1-7h0m6 10h0m2-4h0m2 0h0m3 5h0m2-8h0m1 4h0m5 0h0m4 2h0m3 5h0m10-5h0m6 4h0m0 7h0m-3 2h0m-1 6h0m-6-3h0m-10-8h0m-1 8h0m-2 2h0m-4 2h0m-2-9h0m-3-4h0m-2 4h0m-5 9h0m-10-8h0m0 4h0m-1 4h0m-4-4h0m-1 0h0m0-5h0m-1 4h0m-3-2h0m-1 6h0m-4-1h0m-1 1h0m0-4h0m-2 2h0m-1-8h0m-4 9h0m0-12h0m-1 9h0m-5 5h0m-3-6h0m-2-2h0m0 4h0m0-8h0m-1 0h0m-1 11h0m-1-12h0m-1 2h0m-3 4h0m-2-7h0m0 8h0m-2-2h0m-2 0h0m-1 6h0m-2 2h0m0-11h0m-1-2h0m-1 9h0m0-2h0m-1-1h0m-1 0h0m-1 3h0m0 3h0m-1-13h0m0 1h0m0 9h0m0-10h0m-1 10h0m0-9h0m0 8h0m-1-8h0m0 12h0m-1-11h0m0 11h0m-1-1h0m-1-8h0m-1 6h0m0-1h0m0 0h0m-1-8h0m-1 0h0m0 13h0m-1-13h0m0 2h0m-3 3h0m-1 3h0m-1 0h0m-1 3h0m-2-5h0m-1 0h0m-1-2h0m-1 4h0m0 5h0m-1-9h0m0 3h0m-1-2h0m-1-2h0m-1-3h0m0 11h0m-1-9h0m0-3h0m0 4h0m-3 10h0m0-14h0m-1 12h0m0-4h0m0 0h0m0 2h0m0-3h0m-1 2h0m0 4h0m0-9h0m-1-4h0m-2 12h0m-1-10h0m0 9h0m0-11h0m-1 10h0m0 2h0m0-2h0m-1-2h0m0-8h0m0 4h0m-1 8h0m0-12h0m0 11h0m-1 1h0m-1-11h0m0 4h0m-1-1h0m0 10h0m0-10h0m0 1h0m-3 8h0m-2-7h0m-1-2h0m-3-1h0m0 1h0m0 10h0m0 0h0m0-3h0m-1-9h0m0 10h0m-2-12h0m0 10h0m-1-10h0m-2 12h0m-2-5h0m-1-6h0m0 8h0m0 0h0m0-8h0m-1 12h0m-2-1h0m-1 0h0m-4-6h0m-1 8h0m-1-1h0m-1 0h0m-1-3h0m-1 0h0m0-9h0m-1 9h0m-2 1h0m0-6h0m-3 3h0m0 3h0m-2 2h0m-1-12h0m0 11h0m-2 0h0m-2-4h0m-3-8h0m0 12h0m-5-5h0m0 4h0m-1-5h0m0 4h0m0-5h0m-1-3h0m-1 2h0m-3 0h0m-1-1h0m0 10h0m0-7h0m-1-4h0m-1 7h0m0 1h0m0-9h0m-1 1h0m0 9h0m-1 0h0m0-4h0m-1 2h0m-1-7h0m-3 2h0m0 2h0m-2 6h0m0-12h0m-1 13h0m0 1h0m0-4h0m-1-3h0m-1 7h0m-1-2h0m0-8h0m-1-1h0m-1 2h0m-1 1h0m0 7h0m-1-3h0m0-5h0m0 7h0m0-9h0m-1 1h0m0-3h0m-1 9h0m-1-4h0m0 3h0m0 2h0m0 2h0m-1 0h0m-1-12h0m-1 0h0m0 2h0m0 2h0m-1 4h0m0 0h0m0 2h0m0 0h0m-1 2h0m0-3h0m-1-8h0m0 3h0m0 3h0m-2-2h0m-1 0h0m0 7h0m0 0h0m-2-7h0m0 3h0m-1-8h0m-1 7h0m0-8h0m-1 5h0m-1 3h0m0 4h0m-1-7h0m0 9h0m-1-13h0m0 10h0m-1-8h0m-1-1h0m-1 3h0m0 7h0m-1 0h0m0-7h0m-1 2h0m0-3h0m-2 8h0m0-12h0m-1 1h0m-1 10h0m-2 1h0m-1 1h0m-1-11h0m0 1h0m-1 11h0m-1-7h0m0 6h0m-1-7h0m0 8h0m-2-3h0m-1 3h0m0-6h0m-1 4h0m-1 2h0m0 0h0m-1-2h0m0-6h0m0 0h0m-1-4h0m-1 0h0m0 2h0m-1 4h0m0-8h0m-1 0h0m0 10h0m-2-5h0m-2 4h0m-1-1h0m0-2h0m-1-6h0m-1 9h0m0 3h0m-3 2h0m0 0h0m0-10h0m-2 10h0m-1-6h0m-1-8h0m0 11h0m-1-1h0m-1-9h0m0 6h0m-2-4h0m-3-3h0m-2 10h0m-1-4h0m0-3h0m-1 1h0m-2 9h0m3 7h0m0 3h0m3-4h0m4 2h0m2 0h0m3 1h0m2-1h0m0-1h0m0-2h0m2-1h0m0-1h0m1 1h0m0 2h0m1-2h0m0 3h0m0-1h0m1 1h0m1-4h0m0 0h0m0 3h0m4-1h0m0-2h0m1 12h0m0-6h0m1 0h0m0 1h0m1 4h0m0-11h0m1 5h0m3 2h0m2-1h0m1 3h0m1-3h0m0 3h0m1-6h0m0 8h0m0-1h0m2-4h0m1-7h0m1 1h0m2 13h0m0-6h0m1-5h0m1 11h0m0-4h0m1-9h0m1 10h0m0-10h0m2 10h0m0-7h0m0 3h0m1 4h0m0-1h0m0-6h0m1 5h0m0-9h0m0 12h0m4-12h0m1 14h0m0-5h0m3-3h0m1 8h0m0-8h0m3 1h0m0-6h0m1-1h0m0 12h0m1-11h0m0 1h0m1 11h0m0 1h0m0-6h0m1 0h0m1 2h0m0 0h0m0-7h0m0-2h0m1-1h0m2 8h0m0-5h0m1 3h0m1-1h0m0-1h0m1-2h0m0 5h0m0 2h0m1-6h0m0 10h0m1-13h0m0 1h0m1 9h0m2-3h0m0-7h0m1 2h0m1 0h0m1-2h0m2 3h0m0 9h0m0 0h0m3 2h0m0-2h0m1-9h0m0 8h0m1-10h0m0 11h0m1 0h0m0 1h0m0-13h0m1 8h0m0 6h0m1-11h0m2 8h0m0 2h0m0-12h0m0 3h0m1-3h0m1 1h0m0 12h0m1-4h0m0 4h0m1-3h0m0-5h0m1-1h0m1 1h0m0 7h0m1-13h0m0 0h0m1 12h0m1-10h0m1 4h0m1-5h0m0 12h0m1-7h0m1 6h0m0-12h0m3 12h0m1-2h0m0 0h0m1-6h0m0 9h0m2-13h0m1 7h0m1-4h0m0 5h0m0 1h0m3 0h0m0-8h0m2 9h0m1-7h0m0-3h0m3 1h0m1 7h0m1-6h0m1 5h0m0 4h0m1-6h0m1 9h0m1-5h0m1-8h0m0 3h0m2 1h0m0 0h0m4-5h0m1 1h0m0 1h0m2 9h0m0-1h0m0 3h0m1-2h0m1-5h0m3 8h0m3-9h0m1-4h0m2 13h0m1-13h0m1 7h0m1-8h0m1 9h0m0-1h0m1-4h0m2 4h0m1 4h0m1-4h0m1 3h0m1-6h0m2 5h0m0-2h0m1-3h0m1 6h0m0-5h0m0 4h0m0-9h0m0-1h0m1 1h0m1 0h0m2 5h0m1-5h0m0 12h0m0-13h0m3 5h0m1 6h0m1 1h0m0-4h0m1-1h0m1-7h0m1 7h0m1 7h0m1-10h0m1 1h0m0 1h0m0 1h0m1 5h0m1-5h0m0 6h0m1 0h0m0-4h0m3-8h0m0 2h0m4-2h0m2 2h0m0 2h0m2-4h0m2-1h0m0 9h0m1-9h0m0 13h0m1-4h0m2-8h0m1 8h0m1-5h0m0 5h0m4-7h0m0 8h0m2 0h0m4-3h0m1 6h0m0-12h0m2 1h0m0 4h0m0-5h0m2 2h0m4-3h0m1 2h0m0 3h0m0 5h0m0 1h0m2-9h0m2 5h0m1-4h0m0 5h0m0-6h0m2-2h0m1 5h0m1 0h0m1 7h0m0-3h0m1-3h0m1 0h0m0-1h0m1 0h0m1-1h0m0 8h0m1 0h0m4-9h0m0 8h0m2-5h0m1-1h0m1 1h0m2 8h0m0-3h0m6 0h0m3-3h0m1 2h0m2 2h0m1 1h0m1-2h0m0-9h0m18-2h0m1 11h0m2-8h0m1 1h0m3 4h0m0 2h0m5-8h0m1 7h0m2-9h0m3 9h0m9 11h0m-1 2h0m0 5h0m-4-5h0m0-6h0m-3 3h0m-1 10h0m-1-3h0m-4 3h0m0-3h0m-2-1h0m0-7h0m-1 2h0m-7 1h0m-1 2h0m-1-2h0m-1 6h0m-2-7h0m-1 0h0m-4 1h0m-1-4h0m-1 7h0m-2-7h0m-4 3h0m-1-3h0m-1 11h0m-1-13h0m-5 14h0m-2-9h0m-7 2h0m-1 7h0m-2-5h0m-4-6h0m0 7h0m-3-4h0m-1-2h0m-1 7h0m-1 2h0m-2-6h0m0 2h0m-2 5h0m0-12h0m-2 3h0m-1 1h0m0 0h0m0-3h0m-3-2h0m0 4h0m-1 8h0m0-3h0m0-5h0m-2 7h0m-4-4h0m-1 5h0m-2-1h0m-2-12h0m0 12h0m0-10h0m-1 3h0m-1 3h0m-3 5h0m0-7h0m0-3h0m-1 11h0m0-6h0m-1-8h0m-1 2h0m-1 8h0m0-7h0m-2-3h0m-6 7h0m0 6h0m-1 1h0m0-8h0m-3-1h0m0 2h0m-5-5h0m0 7h0m-4-6h0m0 1h0m-2-4h0m0 6h0m-1-6h0m0 6h0m-1-3h0m-2-2h0m0 2h0m-1 2h0m0 1h0m-1 6h0m-1 2h0m-1-14h0m0 8h0m-1-3h0m-1 6h0m-2-2h0m0 2h0m-1-9h0m0 6h0m-1 2h0m-1-8h0m0 3h0m0-5h0m-3 9h0m-1 2h0m-1-5h0m-1 8h0m0-5h0m0 2h0m0-5h0m-2-5h0m0 5h0m-2 1h0m0-5h0m-1 8h0m-1 0h0m0 2h0m0-9h0m-1 8h0m-1-7h0m-1 9h0m-1 0h0m-2-3h0m-1-1h0m-1-5h0m-1 5h0m0 0h0m-1 2h0m-4-11h0m-1 8h0m0-7h0m-1 3h0m-4 7h0m-1-7h0m-2 9h0m-1-10h0m-2 9h0m0 1h0m0-4h0m-1 1h0m-3 3h0m-1-6h0m0 2h0m-1 4h0m-4-11h0m-5 10h0m-1-12h0m0 5h0m0 8h0m-1-4h0m-2 2h0m-3-3h0m0 5h0m-1-4h0m0-4h0m0 4h0m-1 0h0m0 1h0m-2-9h0m-1 12h0m-2-13h0m-2 0h0m0 7h0m0-2h0m-2 2h0m0-7h0m-1 8h0m0-7h0m-1 9h0m0-3h0m0 3h0m-1-7h0m0-1h0m0 6h0m-1 4h0m0-9h0m0 9h0m-1-1h0m0 0h0m0-5h0m-2-1h0m-2-1h0m-1 5h0m0-4h0m0 4h0m-1-9h0m0 12h0m-1-8h0m-1 9h0m0 0h0m0-9h0m0 10h0m-1-11h0m-1 6h0m0 2h0m-1-6h0m0 5h0m-1 0h0m-2-2h0m-1 6h0m0 0h0m0-1h0m0-8h0m0-3h0m-2 3h0m0 1h0m-2 8h0m-1-13h0m-1 3h0m-1 10h0m0-7h0m-3 6h0m0-11h0m-1 6h0m-2 1h0m-1 3h0m0-8h0m-2-2h0m0 9h0m-1-9h0m0 0h0m-1 6h0m0-2h0m-1 0h0m-2 2h0m-1-6h0m-7 1h0m-2-1h0m11 24h0m1-1h0m0-8h0m1 0h0m0 11h0m0 0h0m0-12h0m3 8h0m0-8h0m1 0h0m1 6h0m0 6h0m1-12h0m2 7h0m1-2h0m0 1h0m0 6h0m1-3h0m2-6h0m2 9h0m1 0h0m0-13h0m0 10h0m0-4h0m2 1h0m1 2h0m1-5h0m0-1h0m1 11h0m1-1h0m0 0h0m0-3h0m1 4h0m0-4h0m0-2h0m0 1h0m1-4h0m0 7h0m1-2h0m2 0h0m0-8h0m0 5h0m3-7h0m1 4h0m1-4h0m0 0h0m5 14h0m0-1h0m2 0h0m0-8h0m2 5h0m3-1h0m0-3h0m1 2h0m0-1h0m1 1h0m1 0h0m1-5h0m0 9h0m1 1h0m2 0h0m1-7h0m1-4h0m0 4h0m1-3h0m0 11h0m0-8h0m0-4h0m1 2h0m1 2h0m1 2h0m0 6h0m0-10h0m1-3h0m0 3h0m0 8h0m2-3h0m1 0h0m0-4h0m0-1h0m2 3h0m0-5h0m1 4h0m1 4h0m1 2h0m1-3h0m2-2h0m1 6h0m0-9h0m5-3h0m2 4h0m1 9h0m1-10h0m2 6h0m1-8h0m1 3h0m1 7h0m0-5h0m2 3h0m3-9h0m2 1h0m0 2h0m1 7h0m1-1h0m1-1h0m1 4h0m0-11h0m0-2h0m1 0h0m0 14h0m0-5h0m1-7h0m1 2h0m0 2h0m1-2h0m1 7h0m1 3h0m2-13h0m0 9h0m4-5h0m3 0h0m2-1h0m3-4h0m1 5h0m0 2h0m3-6h0m2 7h0m1 1h0m3-1h0m1-7h0m0 6h0m1-4h0m2 7h0m1-2h0m1 4h0m1-9h0m0 2h0m1 5h0m0-10h0m2 8h0m0-3h0m0 3h0m2-4h0m3 8h0m1-6h0m3-1h0m4-1h0m0-3h0m2 0h0m1 4h0m1 0h0m4 1h0m0-6h0m4 7h0m1-7h0m1 1h0m4 7h0m1-8h0m3 6h0m1 4h0m5-9h0m1-1h0m4 8h0m2 1h0m0-8h0m0 12h0m3-13h0m0 2h0m1-1h0m12 6h0m2-5h0m1 10h0m2-2h0m1 2h0m3-2h0m0-3h0m2-2h0m3-4h0m2 5h0m1 0h0m0-2h0m3 8h0m1-8h0m1 0h0m0 5h0m2-9h0m3 0h0m2 10h0m0 4h0m1-6h0m0 1h0m3-3h0m3-3h0m4 3h0m0 2h0m1 5h0m2-11h0m2 3h0m2-4h0m1 11h0m3-11h0m0 0h0m9 3h0m-11 11h0m-1 7h0m-4-2h0m-8 4h0m-6-1h0m-2-7h0m-6 7h0m0-2h0m-1-5h0m-2 0h0m-1 6h0m-1 3h0m-5-9h0m-2 6h0m0-6h0m-4 1h0m-6 5h0m-5 2h0m-7-4h0m-7-3h0m-2-1h0m-5 2h0m0-1h0m-1 1h0m0-1h0m-4-1h0m-17 0h0m-3 4h0m-5-1h0m-1-4h0m-2 0h0m-4 1h0m-2 2h0m-3-2h0m-22-1h0m0 0h0m-16 8h0m-9-7h0m-5 3h0m-2-2h0m-2 0h0m-2-2h0m0 2h0m-2 4h0m-1-6h0m-1 5h0m-3 6h0m0-8h0m-3-3h0m-3 11h0m0 2h0m0-10h0m-1 5h0m0-2h0m-1-2h0m-4 5h0m-1-2h0m-2 6h0m0-11h0m-1 8h0m0-5h0m-3 4h0m-1-1h0m-1-2h0m-1-2h0m0-2h0m-1 6h0m-1-3h0m0 5h0m0-2h0m0 4h0m-2 2h0m0 0h0m-1-11h0m-1 11h0m-1-9h0m0-3h0m-3 12h0m-2-7h0m-2 1h0m0 1h0m-1-7h0m0 9h0m-2-11h0m0 14h0m-1-2h0m-1-9h0m-1-2h0m0 12h0m0-9h0m0 6h0m-3-2h0m-1-7h0m-3-1h0m-1 2h0m0 10h0m0-9h0m0-3h0m0 14h0m-1-14h0m-5 10h0m-2-5h0m-1 3h0m-2-4h0m0-4h0m-1 3h0m0 9h0m-2-4h0m-4-3h0m0 2h0m-2-6h0m-2 11h0m-3-10h0m1 14h0m5 0h0m11 3h0m9-3h0m4-1h0m1 3h0m33-2h0" stroke="#4F70AC" stroke-width="4.3"/>
<path transform="scale(0.2)" d="M1496 275h0m4-2h0m0 5h0m0 4h0m2 2h0m4-4h0m4 3h0m0-5h0m0 0h0m3 3h0m3-5h0m3-4h0m6 11h0m10-8h0m1 9h0m1-3h0m2 0h0m5-5h0m14 7h0m22 15h0m-3-1h0m-2 2h0m-11 0h0m-4-7h0m0-5h0m-4-2h0m0 8h0m-6 6h0m-5-2h0m-1-10h0m-7 5h0m-6 7h0m-4-5h0m-1 5h0m-2-8h0m-1-5h0m-1 12h0m-1-2h0m-1 0h0m-1 3h0m-3-9h0m-1-1h0m-5-4h0m-1 14h0m0 0h0m-1-6h0m-3 0h0m-5 6h0m-3-11h0m-1 5h0m-5-1h0m-1 2h0m-7 13h0m10 6h0m4-3h0m1 3h0m2-4h0m4-1h0m2-7h0m6 8h0m1 2h0m11-8h0m7-1h0m1 6h0m0 3h0m4-1h0m1 0h0m1-2h0m0 3h0m0-1h0m2-1h0m0-2h0m2-4h0m1 4h0m6-6h0m0 2h0m5 8h0m1-5h0m1 6h0m0 2h0m2-6h0m1-6h0m3 3h0m0-5h0m0 14h0m0-1h0m1-6h0m3 1h0m1-6h0m2 11h0m3-13h0m2 10h0m1-5h0m1 9h0m0-8h0m2-4h0m3 11h0m0-12h0m3 0h0m3-1h0m15 14h0m8-2h0m1 2h0m32 15h0m-13 0h0m-2-8h0m-2-4h0m-1 7h0m-1 1h0m-8-2h0m-2 1h0m-4-4h0m-4 3h0m0-1h0m0 3h0m-1-8h0m-2 1h0m-2 7h0m0-7h0m-1 6h0m0-5h0m-7-4h0m0 4h0m-1-2h0m-1 9h0m-2-2h0m-3-5h0m-4 3h0m-1-3h0m-2 3h0m-7-3h0m-1 2h0m0 4h0m-1-3h0m-1-4h0m-3 8h0m-1 1h0m-1-8h0m0 9h0m-1-6h0m-4 2h0m-13 3h0m0 2h0m0-13h0m-1 2h0m-9 5h0m-2-6h0m-2 8h0m0-5h0m-2 3h0m-1-4h0m-2-4h0m0 9h0m-1-3h0m0-5h0m-3 7h0m-6-5h0m-2 8h0m0 3h0m-1-8h0m0 3h0m-1-8h0m-1 2h0m-2 2h0m-3-1h0m-5 2h0m-2 2h0m0-7h0m-2 10h0m-6-3h0m-2 4h0m-7-8h0m-5 10h0m6 1h0m1 8h0m2-1h0m0 3h0m2-4h0m3-5h0m0 10h0m5-8h0m1 8h0m1-1h0m1-3h0m8-1h0m1-1h0m5 8h0m5-11h0m5 11h0m0-3h0m6-5h0m2-5h0m3 0h0m4 11h0m2-5h0m2 1h0m2-5h0m0-2h0m0 13h0m5-11h0m8 0h0m4 8h0m6-10h0m3 11h0m1-10h0m2 12h0m1-2h0m0-9h0m0 2h0m2 2h0m2 7h0m11 1h0m4-4h0m1 3h0m0-7h0m1 6h0m0-6h0m1 2h0m0-2h0m1-4h0m4 5h0m3-6h0m3 1h0m1-1h0m1 13h0m1-9h0m1 4h0m1 2h0m2-8h0m1 7h0m1-6h0m0-2h0m4 1h0m1 1h0m1 3h0m0 0h0m0-4h0m2-2h0m2 1h0m0 12h0m2-5h0m5-5h0m0 3h0m1 3h0m1 1h0m0-4h0m0 3h0m1 2h0m1-5h0m1 1h0m1 5h0m5-8h0m1-1h0m2 9h0m0-1h0m3-3h0m15 4h0m16 15h0m-9-1h0m-4-9h0m-3 7h0m-4-1h0m0-2h0m-1-6h0m-1 13h0m0-3h0m-1-2h0m-1 3h0m0 0h0m-3-7h0m-2 3h0m-2 1h0m0-5h0m-1 5h0m-1-8h0m-3 11h0m-1-3h0m-2-3h0m-4 3h0m-1 3h0m0-4h0m-1-1h0m-1 0h0m-2 0h0m-1 2h0m0-7h0m0 5h0m-4 2h0m-1 4h0m-1-5h0m0 4h0m0-9h0m0 5h0m-1 0h0m-2 5h0m-8-7h0m-1 7h0m0-1h0m-3-1h0m-1-5h0m-1 6h0m0-2h0m-2-3h0m-3-4h0m0 4h0m0-1h0m-1 3h0m-6 4h0m-2-3h0m-5 3h0m-3-4h0m-3-3h0m-2-5h0m-2 3h0m-4-1h0m-2 4h0m-2 7h0m-5-12h0m-3 9h0m-1-4h0m-5 6h0m0-5h0m-2-7h0m-4 4h0m-8-5h0m-4 1h0m-2 5h0m0 7h0m-11-2h0m-5-2h0m-4-5h0m-1 8h0m-2-10h0m-1-2h0m-1 5h0m-3 3h0m0-8h0m-6 4h0m-7 6h0m-2-10h0m0 1h0m-5 6h0m7 12h0m4 10h0m1-11h0m6 0h0m1 9h0m3-9h0m1 9h0m3-8h0m1 10h0m4-13h0m3 4h0m1-2h0m9 11h0m2-10h0m4 9h0m0-6h0m4-5h0m1 0h0m1-1h0m1 0h0m2 1h0m1 5h0m2 0h0m5-2h0m1 2h0m0-4h0m2 8h0m1-2h0m1-8h0m2 5h0m0-6h0m3 2h0m1 1h0m1-3h0m0 6h0m5 0h0m7 8h0m0-2h0m4-12h0m4 14h0m5-3h0m0-7h0m0 8h0m1-5h0m0-1h0m0 1h0m4 4h0m1-11h0m0 1h0m1 0h0m5 11h0m2-3h0m2 5h0m5-13h0m1 6h0m2 3h0m2-5h0m1 2h0m1 2h0m0-2h0m1-3h0m1-1h0m0 3h0m2 4h0m4-6h0m2 4h0m3-5h0m5 7h0m1-3h0m1 0h0m1 4h0m0-8h0m2 7h0m2-7h0m0 2h0m1-4h0m4 9h0m1-10h0m4 2h0m3-1h0m5 9h0m0-3h0m17 1h0m4 4h0m6 0h0m1 1h0m32 16h0m-22-4h0m-15-5h0m-1-5h0m-10 0h0m-3 9h0m-3 1h0m-1-5h0m-8 5h0m-2-4h0m0 0h0m-1 1h0m-1 5h0m-1-9h0m-2 4h0m0 4h0m-1 0h0m-4 2h0m-3-7h0m-3 5h0m-1-10h0m-1 3h0m0-4h0m-1 1h0m0 6h0m-1-7h0m-3 4h0m0 6h0m0 3h0m-1-3h0m-2-4h0m-1 5h0m0-2h0m-1-2h0m-1-4h0m-2 4h0m0-7h0m-1 1h0m0-1h0m-1 14h0m0-12h0m-1 5h0m-1-7h0m-3 1h0m0-1h0m-3 14h0m-1-2h0m-1-6h0m-1 8h0m-1-12h0m-1 10h0m-1-10h0m-1 11h0m0-12h0m-1 1h0m0 11h0m-1 0h0m-2-12h0m0 0h0m-1 6h0m0-2h0m0-4h0m-1 11h0m-2-2h0m0-10h0m0 6h0m-1-1h0m0 9h0m-1-4h0m-1 1h0m-1-2h0m0-6h0m-4 7h0m0-9h0m0 6h0m-1 5h0m0 0h0m-1-11h0m0 10h0m0-6h0m-1 9h0m-1-4h0m-1-9h0m0 13h0m-2 0h0m-1-6h0m-3 4h0m-1-10h0m-1 0h0m0 0h0m-1 9h0m0-7h0m-1 6h0m-2-4h0m0 2h0m0 6h0m-1-7h0m0 4h0m0-5h0m0 6h0m-2-1h0m-2-1h0m0-10h0m-1 8h0m0 0h0m-1-3h0m-2 8h0m-1-8h0m-1-1h0m0 4h0m-3 4h0m-1 2h0m-1-4h0m0-4h0m0-4h0m-1 3h0m-1 5h0m0-7h0m-1 11h0m0-2h0m0-1h0m-2 0h0m0 3h0m-2-13h0m0-1h0m-5 8h0m0 0h0m-3-5h0m-2-3h0m0 8h0m-5 6h0m-1-7h0m0-4h0m-5 6h0m-1-3h0m-2 1h0m-3-2h0m-2 1h0m-3 8h0m-5-13h0m0 7h0m-2 4h0m-2 2h0m-2-4h0m-2-3h0m-6 4h0m-2-10h0m0 8h0m-3-5h0m5 14h0m3 2h0m1 0h0m1 8h0m1-5h0m1 4h0m1-2h0m0-8h0m1 9h0m1-4h0m1 7h0m1-13h0m1 8h0m2 1h0m0 1h0m0-1h0m1-6h0m1 4h0m1-2h0m3 5h0m1-3h0m1-5h0m1-1h0m0 11h0m1-6h0m2 2h0m0-1h0m1 2h0m0-4h0m1 3h0m1-8h0m1 4h0m1 2h0m1-3h0m0 1h0m5 4h0m1-8h0m2 10h0m0 1h0m0-12h0m1 8h0m1 0h0m1 5h0m1-3h0m1-9h0m0 10h0m1-3h0m1 4h0m1-12h0m3 0h0m0 14h0m1-7h0m0 7h0m1-10h0m0 1h0m3 1h0m1-1h0m0 7h0m0-1h0m1-4h0m1-3h0m0-3h0m0 12h0m0-2h0m1-1h0m0-3h0m0 6h0m2-13h0m0 9h0m1 4h0m0-9h0m0 2h0m3-2h0m1-4h0m1 0h0m0 6h0m1 7h0m0 0h0m0-1h0m1-4h0m0 5h0m1-10h0m0 5h0m0 0h0m0 0h0m0-8h0m1 13h0m0-7h0m1-1h0m0-3h0m1 4h0m2 5h0m2-6h0m1 4h0m1-8h0m1 10h0m2-7h0m0 1h0m1 9h0m1-1h0m0-13h0m1 4h0m1 10h0m0-7h0m0 6h0m1-1h0m1-6h0m0 2h0m0-3h0m1-1h0m0 9h0m1-3h0m1-4h0m0 3h0m0-9h0m0 4h0m1 10h0m0-11h0m1 6h0m0 0h0m1 1h0m1-6h0m1 9h0m0-13h0m1 7h0m1-4h0m0-1h0m0 4h0m1-5h0m0 10h0m0-9h0m0 10h0m1-6h0m0-2h0m4-4h0m0 12h0m1-1h0m0-5h0m0-2h0m1 3h0m0 6h0m1 1h0m0-4h0m1-8h0m0 6h0m1 3h0m5-1h0m2-1h0m1 2h0m3-3h0m1 1h0m1-2h0m4 6h0m0-3h0m5-7h0m0-3h0m2 12h0m1-4h0m0-4h0m1 7h0m1 2h0m1-4h0m1 4h0m1-10h0m0 11h0m1-3h0m1-11h0m1 11h0m5 2h0m0-5h0m0-5h0m0-2h0m0 13h0m1 0h0m1-14h0m0 6h0m2 2h0m0-2h0m1 6h0m3-9h0m1 10h0m1-1h0m1 2h0m5-3h0m2-8h0m2 3h0m0 7h0m1-4h0m0-1h0m1-8h0m1 1h0m2 9h0m3 4h0m3-4h0m1 3h0m0-2h0m3 1h0m2-2h0m0-7h0m3 7h0m2 4h0m5-3h0m2 1h0m0-12h0m5 11h0m2-4h0m0-3h0m1-1h0m3 3h0m2-1h0m0 6h0m5-11h0m2 5h0m1-1h0m1 7h0m0-2h0m1 0h0m4-5h0m0 0h0m1 7h0m7-2h0m8 3h0m5-2h0m22 16h0m-12 1h0m-3 2h0m0-1h0m-1-2h0m-2-1h0m-1-2h0m-1 5h0m-3-12h0m0 8h0m-5-8h0m-2 7h0m-3-6h0m-1 4h0m-2-3h0m-4 2h0m-1-5h0m-2 4h0m-2-4h0m-1 13h0m-14-10h0m-3 7h0m-5-1h0m0 0h0m-5 0h0m-2 1h0m-9 4h0m-1-10h0m-1 6h0m0-6h0m-5 2h0m-1-1h0m-1-4h0m-1 1h0m0 3h0m-2 0h0m-3 1h0m-2 6h0m-2-8h0m0 3h0m0 2h0m-3-6h0m0 0h0m-1 3h0m-1-6h0m0 4h0m-4 8h0m-1-3h0m-1 4h0m-1-3h0m-1-7h0m-3 4h0m0-4h0m-1 5h0m-5-1h0m0 2h0m-1-1h0m-2-8h0m0 7h0m0 4h0m-1-6h0m0-4h0m0 10h0m-2-5h0m-1 5h0m0-2h0m-1 3h0m-1-9h0m-2 9h0m-1-8h0m0 4h0m-3 2h0m0-3h0m-1 7h0m-2-4h0m0 3h0m0 1h0m0-3h0m-2-10h0m-1 5h0m-2 4h0m0-10h0m-1 8h0m-1-1h0m0-7h0m-1 8h0m0 5h0m-1-11h0m-1 2h0m-3 1h0m-1-4h0m0 2h0m0 9h0m-2 0h0m-1-11h0m-1-1h0m0 3h0m-1 11h0m-1-8h0m-3-1h0m-1-1h0m0 5h0m0 4h0m0-13h0m0 2h0m-1 11h0m0-6h0m-1-5h0m-2 11h0m0-5h0m-1 3h0m-1-2h0m0-1h0m-1-2h0m0 3h0m-1-7h0m0-1h0m-1 11h0m0-2h0m0 3h0m-1-11h0m-1-1h0m-1 4h0m-1 5h0m0 3h0m0 0h0m-1-8h0m-1 3h0m0 2h0m-1 1h0m-1-8h0m-4 7h0m-1 2h0m-4-1h0m-1-7h0m-1 7h0m0-9h0m0 12h0m-4-2h0m0 2h0m-1 0h0m-3-13h0m-1 3h0m-1 6h0m-1 2h0m-4-4h0m0 4h0m-1-6h0m0 2h0m-1-8h0m0 4h0m-2-4h0m-3 0h0m0 12h0m-1-7h0m-1 0h0m-2 1h0m-1 6h0m-1-9h0m0 0h0m0 1h0m-1-1h0m-2 4h0m-1 1h0m-1 2h0m0 2h0m-3 0h0m-1-3h0m-3 3h0m-2-8h0m0 1h0m-1 8h0m-3-9h0m0 4h0m-2-4h0m-2 9h0m0-9h0m-2 8h0m-1-8h0m-3 2h0m-2 0h0m-2-6h0m0 1h0m-2 8h0m0-2h0m-1-6h0m-2 9h0m-5-8h0m11 13h0m3 1h0m5 1h0m0 2h0m2-3h0m5 2h0m1 7h0m1-2h0m1-4h0m3 7h0m1-1h0m0-1h0m1 3h0m1-12h0m0 11h0m1-6h0m1-2h0m1-2h0m1 1h0m1 3h0m1 5h0m0-9h0m1 6h0m0-4h0m1 7h0m2-3h0m1-6h0m0 1h0m1 7h0m1-8h0m2 8h0m0 5h0m0-7h0m2-6h0m2 9h0m0-6h0m1 8h0m1-8h0m0 1h0m0 2h0m0-2h0m0 4h0m1-9h0m0 4h0m1 7h0m2-6h0m2 3h0m1-1h0m0 5h0m0-10h0m0 4h0m1 7h0m1-10h0m0 2h0m2 3h0m0-4h0m1 1h0m0-3h0m0 1h0m1-2h0m2 9h0m2 4h0m2-10h0m2 6h0m0-1h0m1 0h0m2 4h0m1-7h0m0-1h0m0 3h0m0-7h0m2-1h0m0 13h0m1-12h0m2 3h0m0 2h0m1 7h0m2-8h0m2 8h0m0-2h0m1-2h0m1-1h0m0 1h0m3-6h0m2-1h0m1 3h0m0 4h0m0-8h0m1 7h0m1-8h0m1 2h0m1 1h0m1 0h0m0 10h0m1-1h0m2-2h0m1-10h0m1 0h0m2 13h0m0 0h0m2-13h0m0 14h0m2 0h0m0-3h0m1-7h0m4-4h0m2 1h0m2 5h0m3 0h0m0-3h0m1 7h0m0 1h0m3-10h0m1 12h0m0-7h0m0-1h0m3-5h0m0 5h0m0 1h0m1 1h0m4 5h0m0 1h0m1-11h0m1 0h0m2 9h0m0-10h0m2 5h0m1 0h0m8 0h0m3-5h0m4 6h0m0 4h0m2-3h0m3 3h0m9-10h0m10 2h0m2-3h0m2 6h0m1-2h0m4 10h0m1-1h0m4-9h0m0 8h0m1-10h0m2 6h0m8 0h0m3-8h0m0 11h0m7 1h0m6-10h0m1 8h0m6-9h0m1 4h0m4 1h0m1 8h0m2-9h0m5 8h0m2-3h0m1-8h0m2 5h0m3 0h0m0-5h0m2 11h0m1-4h0m0 3h0m2-4h0m0 0h0m1 1h0m2-8h0m0 10h0m4-2h0m2 1h0m4-10h0m-24 25h0m-1-7h0m-6 1h0m-6 0h0m0 0h0m-3-3h0m-5 2h0m-1-1h0m-4 11h0m-3-4h0m-6 2h0m-3 0h0m0-3h0m-2 6h0m-2-9h0m-8 3h0m-4-6h0m-1 6h0m-2-8h0m-8 14h0m-8-5h0m-10-6h0m-1-3h0m-10 10h0m-5 3h0m0-3h0m-1-3h0m-1 4h0m-2 0h0m-2-10h0m-5 12h0m-4-13h0m-2 1h0m-2 2h0m-2-1h0m-5-1h0m-1 8h0m-1 1h0m0-3h0m0-1h0m-1 8h0m-1-10h0m0-2h0m-1 6h0m-4 5h0m0 0h0m-5-4h0m0 1h0m0-10h0m-1 1h0m-3 1h0m-4-1h0m-1 0h0m-1 3h0m-2 5h0m-3-6h0m0-2h0m-3 1h0m-3 7h0m-1 5h0m-1-12h0m-1-2h0m-1 2h0m0 12h0m-1-3h0m-4 1h0m-3-2h0m0-2h0m0 4h0m-1-3h0m-1-7h0m0 4h0m-1-1h0m-1 4h0m-1 3h0m0 0h0m0-10h0m-2 0h0m0 2h0m-2-4h0m-1 2h0m-1 5h0m0 1h0m0 1h0m0-9h0m-1 7h0m0-4h0m-2 6h0m-3-2h0m-1 3h0m-1-9h0m-2 3h0m-1 5h0m0-5h0m-2-1h0m-3-1h0m-1 1h0m-1 1h0m0 5h0m-1-7h0m-2 0h0m-4 6h0m-1-6h0m-2-1h0m0 0h0m23 14h0m11 3h0m2 3h0m4-2h0m1 5h0m4-1h0m7-8h0m3 4h0m2-4h0m1 0h0m5 2h0m2 0h0m2 0h0m3 3h0m1-1h0m3 8h0m0-6h0m1-1h0m9 5h0m2-8h0m4 4h0m3-2h0m3 4h0m10-5h0m8 2h0m2 0h0m5 1h0m14 1h0m7-4h0m34-1h0m0 5h0m20-4h0m-93 13h0m-19 0h0" stroke="#4AA6C9" stroke-width="4.3"/>
<path transform="scale(0.2)" d="M1495 266h0m-22-1h0m-8 0h0m-9 14h0m19-8h0m0 0h0m7 5h0m9 6h0m21-6h0m0-3h0m-11 26h0m-50 9h0m8-3h0m31-1h0m3 6h0m6-9h0m7 8h0m1 4h0m3-13h0m15 29h0m-10-2h0m-3-12h0m-20 7h0m0 3h0m-1-3h0m-2 3h0m-4-1h0m-6-4h0m-17 14h0m11 0h0m3-1h0m14 10h0m5-5h0m12-3h0m-16 23h0m-22-13h0m-7 5h0m14 13h0m13 10h0m8-1h0m1-5h0m1 10h0m0 4h0m-30 2h0m-3-3h0m-12 3h0m13 13h0m11-3h0m10-3h0m16 5h0m2 0h0m2 3h0m-9 14h0m-20 8h0m1 3h0m8 0h0m3 5h0m4 5h0m8 6h0m-14 1h0" stroke="#4AA6C9" stroke-width="4.3"/>
<path transform="scale(0.2)" d="M1979 354h0m-27 4h0m-1-2h0m-2 0h0m-20-2h0m-9 2h0m-30 14h0m0 1h0m10 0h0m0 2h0m0 0h0m4 0h0m1-4h0m1-6h0m2 10h0m2-6h0m1 0h0m1-6h0m3 11h0m1 0h0m1-4h0m3-4h0m1 10h0m0-6h0m2-3h0m0-1h0m3 10h0m3-6h0m2 3h0m1-1h0m1-7h0m2 6h0m1 5h0m2-7h0m0-4h0m0 6h0m0-8h0m1 4h0m1 3h0m0 6h0m1-8h0m0 1h0m1 0h0m0 2h0m3-3h0m1-2h0m3 0h0m0 8h0m2-3h0m4 3h0m0-1h0m1 2h0m0-9h0m3 5h0m2 5h0m2-7h0m1-1h0m0 8h0m0-5h0m1-7h0m3 8h0m0-8h0m0 2h0m4 5h0m4 2h0m0-3h0m2 6h0m1-6h0m3 4h0m6-5h0m1 4h0m6 1h0m17 9h0m-1 8h0m-6-6h0m-1 4h0m0-6h0m-4-6h0m0 5h0m-2-3h0m-3 0h0m0 11h0m0-7h0m-1 8h0m-1-4h0m-1-2h0m-1-6h0m0 8h0m-1-1h0m0-2h0m-1-2h0m-2 7h0m-1-9h0m-1-3h0m0 2h0m-1 4h0m-1 1h0m0 0h0m-2 5h0m-1-4h0m-1 5h0m-2-12h0m-1 3h0m-1 1h0m0-3h0m-1 8h0m-2 2h0m-3-10h0m0 2h0m-1-2h0m0 0h0m-1-2h0m-1 10h0m-1-9h0m-1 8h0m-1 5h0m0-3h0m0-9h0m-1 4h0m0 2h0m0-7h0m0 3h0m-1-4h0m0 9h0m0-2h0m-1-1h0m-1-4h0m0 5h0m-1-1h0m0 2h0m0-8h0m-1 3h0m0 4h0m-1-1h0m0 7h0m-1-13h0m-1 7h0m-1 7h0m-1-12h0m-1 9h0m-1-11h0m-1 12h0m0-4h0m-1-3h0m0 5h0m0-2h0m-1-7h0m-1 10h0m-4-2h0m0-6h0m-1 7h0m-3-10h0m0 11h0m-1-3h0m0 5h0m-2-6h0m-1 2h0m-1 0h0m-2-5h0m0 8h0m0-9h0m0 4h0m-1-4h0m-2 3h0m0 3h0m-1-2h0m0 4h0m-3-6h0m-4 5h0m0-6h0m-1-4h0m-1 2h0m-2 7h0m-1-4h0m-1-3h0m0 3h0m-1-4h0m0 4h0m0 2h0m0-3h0m-1 6h0m-1-5h0m-2-1h0m0 3h0m-1 6h0m0-1h0m0-1h0m-1-5h0m-1 7h0m-1-13h0m-2 11h0m-2-2h0m0 3h0m-1-7h0m-1 1h0m0-5h0m-1 4h0m-1 4h0m0 1h0m-2-10h0m0 8h0m-1-5h0m0 1h0m-1 2h0m0 5h0m0-7h0m-2 10h0m0-6h0m-3 2h0m0-3h0m0 6h0m-6-7h0m0 8h0m-1 0h0m-1-6h0m0 4h0m-3-2h0m0-4h0m-1 0h0m-2 7h0m-17 14h0m1-4h0m1 6h0m2 0h0m3-5h0m1-2h0m9 7h0m3-1h0m0-11h0m1-1h0m0 5h0m0 2h0m1-5h0m2 10h0m1-11h0m0 2h0m1 7h0m1 0h0m3-2h0m0-8h0m1 4h0m1 5h0m4-5h0m1 3h0m1-8h0m0 6h0m2 2h0m1 1h0m1 4h0m0-11h0m2-2h0m0 1h0m1 11h0m1-5h0m1-1h0m0-4h0m4 1h0m0 10h0m1-3h0m1-6h0m1 8h0m0-4h0m1-7h0m1 0h0m0-1h0m0 11h0m1-6h0m0-4h0m2 10h0m1-9h0m2 12h0m0-7h0m1 2h0m1-2h0m0 2h0m1-5h0m0 9h0m1-8h0m0 5h0m0 1h0m0-8h0m2 1h0m0 1h0m1 4h0m0-1h0m1-5h0m0 10h0m0-7h0m1 8h0m0-11h0m1 4h0m0-1h0m0 1h0m1-3h0m1-2h0m3 11h0m2-4h0m1 3h0m0 1h0m1-12h0m0 12h0m0-13h0m2 14h0m1-13h0m1 3h0m0-2h0m1 3h0m0 8h0m0-1h0m2 1h0m1 1h0m2-8h0m1 3h0m1-3h0m0-5h0m0 12h0m0-4h0m0-5h0m1 10h0m1-14h0m2 14h0m1-13h0m1 3h0m2 0h0m2 1h0m1 0h0m1 7h0m0-9h0m1 10h0m1-9h0m0 7h0m1-2h0m0-3h0m1-5h0m1 12h0m0-9h0m0 6h0m0 2h0m1-7h0m2-5h0m1 10h0m1-2h0m0 5h0m1-10h0m2 4h0m1-4h0m1-1h0m2 0h0m0 10h0m1 0h0m4-4h0m1 6h0m1-11h0m0 11h0m2-1h0m1 0h0m0-6h0m0 7h0m1-8h0m1 8h0m0-8h0m0 4h0m1 3h0m0-5h0m1-5h0m1 3h0m0-3h0m0 11h0m1-10h0m2 6h0m0-7h0m1 6h0m0 5h0m2-11h0m1 5h0m0 0h0m1 0h0m1-5h0m1-3h0m0 1h0m1 7h0m0-1h0m0 6h0m0 1h0m1-7h0m0 5h0m1 0h0m0-6h0m1-4h0m2 12h0m4-11h0m3 7h0m1 1h0m1-6h0m0-5h0m0 4h0m1 4h0m0-8h0m2 3h0m7 15h0m-1 5h0m-2-2h0m-2 1h0m-1 4h0m-1-4h0m-4 0h0m-2-7h0m-1 6h0m0 5h0m-1 0h0m-2-3h0m0-3h0m-3-1h0m0 7h0m-2-1h0m-1-6h0m0 4h0m-4 5h0m-1-13h0m-2 10h0m0-9h0m-1-1h0m0 1h0m-1 12h0m-1-7h0m-2 2h0m-2-6h0m-1 7h0m0-8h0m-1 2h0m-2 4h0m-2 4h0m-3-3h0m0 1h0m0 4h0m-1-3h0m0-3h0m-1-6h0m-1 2h0m-4 8h0m0-10h0m0 5h0m-1 5h0m-1-11h0m-2 2h0m-2 7h0m0 3h0m-2-9h0m-1-1h0m-2 1h0m-1-1h0m-1 4h0m0-6h0m0 5h0m-1 2h0m-1-7h0m0 5h0m-1-3h0m-1 8h0m0 3h0m-1 0h0m0-2h0m-1 0h0m0-10h0m-1 3h0m-1-4h0m-4 5h0m0 8h0m-1-4h0m-1-8h0m-1 8h0m0 2h0m0-1h0m-1 0h0m0-9h0m0 10h0m0-6h0m-1 2h0m0 6h0m-1-9h0m0 5h0m0-8h0m0 10h0m-2-7h0m0 4h0m-1 5h0m0 1h0m0-6h0m0 2h0m-1-2h0m0-2h0m-2 6h0m0-9h0m-2-1h0m-1 2h0m-1 7h0m-1-11h0m0 7h0m0 4h0m0-7h0m-2 8h0m0-10h0m-2 9h0m0-4h0m0 5h0m-2-10h0m-2-2h0m0 14h0m-1 0h0m-1-1h0m0-10h0m-1 2h0m-5-1h0m-1 2h0m-1-4h0m-1 7h0m0-4h0m-2-2h0m-1 2h0m0 5h0m-1-3h0m-3 0h0m0 5h0m0-10h0m-1 5h0m0-6h0m-1 5h0m0-1h0m0-2h0m-2 9h0m0 1h0m-2-8h0m0-4h0m-1 1h0m0 6h0m-1-1h0m-1-7h0m-1 7h0m0-6h0m-1 7h0m0-7h0m-1 5h0m0-5h0m-1 6h0m-1 5h0m-1-2h0m0-1h0m-1 2h0m-1-7h0m-3 1h0m-1 5h0m-2 1h0m-4 2h0m0-11h0m-2 4h0m0-6h0m-2 8h0m-1-4h0m0 1h0m-1 5h0m0 1h0m-3-1h0m-2-10h0m-3 4h0m-5-1h0m-1 3h0m0-6h0m-1 7h0m-1 6h0m-1-6h0m-3-6h0m-1 6h0m-4 4h0m-1 9h0m3 1h0m3 8h0m0-8h0m5-2h0m0 8h0m2-1h0m0-8h0m1-1h0m0 12h0m2-11h0m0 0h0m1 5h0m1 2h0m0-10h0m3 7h0m0 1h0m2 4h0m2-9h0m1 11h0m0-8h0m0 0h0m2 7h0m1-1h0m1-8h0m1 5h0m0 1h0m2-9h0m0 12h0m0-12h0m0 7h0m1 0h0m1-2h0m1-2h0m0-1h0m1 1h0m1-4h0m0 0h0m1 10h0m0-5h0m1-5h0m0 7h0m0-3h0m1 4h0m0-8h0m1 13h0m1-4h0m1-9h0m0 3h0m1 3h0m0-6h0m1 8h0m2-6h0m0 9h0m1 0h0m1-4h0m1-1h0m0 2h0m1 6h0m0-5h0m0 4h0m1-6h0m2-6h0m1-1h0m0 9h0m1-7h0m1 5h0m4-2h0m0 5h0m2-7h0m1 4h0m3-7h0m0 5h0m1-5h0m1 4h0m3 5h0m0-7h0m1 8h0m0-9h0m0 0h0m2 3h0m0 6h0m2 3h0m0-8h0m0 2h0m1 3h0m1 4h0m0-1h0m1 0h0m0-13h0m0 2h0m1 2h0m1 10h0m2-2h0m0-9h0m1 1h0m0 3h0m0 5h0m1-8h0m0 6h0m1-2h0m0 3h0m0 1h0m1-1h0m1 0h0m0-8h0m0 10h0m1-5h0m0 4h0m0-5h0m0-6h0m4 3h0m1 3h0m1 5h0m0-8h0m0 0h0m1-2h0m1 9h0m2-5h0m1 1h0m2 0h0m1 0h0m1-5h0m0 12h0m0 0h0m0-11h0m1 3h0m2-2h0m0 8h0m0-4h0m1 1h0m0-9h0m1 7h0m1 0h0m0 3h0m0 1h0m1 3h0m0-5h0m1 1h0m1 2h0m0-3h0m1 3h0m1-4h0m1 0h0m1 2h0m1-1h0m0 3h0m0-11h0m1 5h0m0 4h0m1-9h0m0 10h0m1 1h0m1-9h0m3 2h0m1 0h0m0 2h0m0 1h0m1-8h0m3 12h0m1 1h0m0-5h0m2-8h0m0 13h0m1-8h0m0 6h0m0-1h0m0-6h0m0 1h0m1 5h0m0 4h0m5-10h0m0 4h0m0-7h0m1 7h0m1 0h0m1 6h0m0-9h0m1 5h0m1 1h0m0-2h0m1-6h0m1-2h0m1 9h0m0-1h0m1 2h0m2-11h0m0 2h0m1-2h0m0 6h0m1 7h0m1 0h0m0-4h0m0-2h0m3-4h0m0 0h0m0-1h0m1 7h0m0 4h0m1-5h0m1-7h0m1 11h0m2-1h0m0-2h0m1-1h0m0 1h0m2-4h0m0 9h0m1-2h0m1 0h0m0-1h0m0-6h0m1 9h0m0-11h0m6 4h0m2 5h0m3-11h0m1 3h0m7 17h0m-11-6h0m-1 12h0m0-3h0m-1-9h0m-1 13h0m-1-13h0m-2 6h0m-3 0h0m0-3h0m0 8h0m-1-9h0m-2-1h0m-2-1h0m-1 10h0m-1-3h0m0-2h0m-1-1h0m-1 5h0m-1-1h0m0 1h0m-1-4h0m-1-1h0m-3-2h0m-1 0h0m0 3h0m0 6h0m-1 2h0m0-5h0m0-7h0m-1 4h0m0 2h0m0-1h0m-2 3h0m-1-2h0m-4 3h0m-1-10h0m0 13h0m0-1h0m-1-7h0m-2 6h0m-2 2h0m0-5h0m0 0h0m-1-6h0m-1 1h0m0-2h0m0 6h0m-1-4h0m0 2h0m-1 0h0m0-2h0m-2 8h0m-1 3h0m0-14h0m-1 1h0m-1 13h0m0-14h0m-1 3h0m-1 1h0m-1 4h0m0 5h0m0-12h0m-1 4h0m0 0h0m0 7h0m0-6h0m-2 8h0m0-2h0m-2-3h0m-2 3h0m0 1h0m-1-5h0m-3 0h0m0 4h0m-1-5h0m-1 0h0m0-7h0m-1 3h0m-1 3h0m-2-4h0m-1 6h0m0 2h0m-4 4h0m0-4h0m-1 0h0m0-9h0m-1 4h0m0-2h0m-1-1h0m0 0h0m-1 2h0m0 1h0m-1 6h0m-1-2h0m-1-4h0m0 7h0m-1-10h0m-1 11h0m-2-1h0m0-1h0m-3 2h0m-2-4h0m0 4h0m-1-8h0m-1 6h0m0-3h0m-2 5h0m0-7h0m-1 5h0m-1-4h0m0 7h0m0-8h0m-1 7h0m0 0h0m-1-9h0m0 3h0m-1-5h0m-1 4h0m0-6h0m0 2h0m-1 11h0m0-10h0m-2 2h0m-3-2h0m-1 4h0m-1-4h0m-1-2h0m0 8h0m0-1h0m-2 3h0m-1-7h0m-1 7h0m0 0h0m0-9h0m-1 5h0m-1 6h0m0-4h0m-3-6h0m0 3h0m0-4h0m-2 10h0m0-3h0m-1-3h0m0 5h0m-1-5h0m0-2h0m-7 4h0m-1 5h0m-1-6h0m-2-7h0m-1 2h0m-1-2h0m-1 0h0m0 2h0m-3 0h0m0 12h0m-1-1h0m0-9h0m-1 4h0m-2-3h0m-1 1h0m-2-4h0m0 0h0m-1 9h0m-3-9h0m0 2h0m0 8h0m-1-7h0m0 8h0m0-12h0m-2 9h0m-1 0h0m-1-9h0m0 2h0m-1 4h0m-2-6h0m-1 3h0m-1 8h0m-1-6h0m0 6h0m0-6h0m-4 4h0m0-8h0m-2 9h0m-3-2h0m-2-3h0m-4-6h0m15 15h0m3 1h0m2 1h0m2 10h0m4-3h0m0-1h0m0-2h0m0-2h0m2 9h0m1-13h0m1 5h0m1 2h0m0-7h0m3 0h0m1 9h0m1-4h0m0 4h0m0-2h0m0-1h0m0-5h0m0 12h0m1-10h0m1-2h0m2 5h0m0 2h0m1-6h0m0 12h0m1-6h0m2 0h0m1 6h0m2 0h0m1-1h0m2-3h0m0-10h0m0 11h0m0-8h0m2 10h0m1-13h0m0 14h0m1-8h0m3-5h0m0 11h0m1-2h0m0-6h0m0 4h0m3-7h0m0 0h0m0 4h0m2 3h0m1 0h0m0 5h0m1-8h0m1 0h0m1 4h0m3 1h0m1-1h0m0-1h0m0-7h0m1 3h0m2 3h0m2-7h0m1 7h0m1-2h0m0 3h0m4-5h0m1-3h0m1 6h0m2 2h0m1-2h0m1-4h0m0 4h0m0 6h0m3-6h0m0-5h0m0 0h0m2 4h0m1 3h0m0-7h0m1 4h0m0-5h0m0 6h0m1 3h0m0 3h0m1-11h0m0 6h0m0-3h0m0 4h0m2-4h0m1-2h0m1 6h0m1 6h0m1 0h0m1-4h0m1-1h0m1-7h0m0 7h0m1 0h0m1 1h0m3-8h0m0 10h0m1-4h0m2-5h0m0 4h0m1-6h0m1 2h0m0 11h0m2-10h0m0 9h0m0-12h0m0 6h0m1-3h0m0 4h0m2 5h0m1-4h0m2-3h0m1 5h0m4 3h0m4-5h0m0 5h0m1-12h0m1 3h0m2 0h0m1 8h0m0-13h0m0 1h0m2 8h0m0-3h0m1 8h0m1-8h0m1 6h0m2-3h0m0-1h0m2-6h0m2 8h0m1-4h0m4 0h0m0-5h0m1 0h0m2 11h0m6-10h0m3 5h0m2-3h0m1 4h0m-11 7h0m0 0h0m-6 1h0m-7 0h0m-1 5h0m0-3h0m-2 6h0m-4-7h0m-2 0h0m-2 7h0m0-3h0m-2 2h0m-4 6h0m-3-13h0m-1 9h0m0-9h0m-3 7h0m0-3h0m-1 8h0m-1-9h0m-1 3h0m-1-4h0m-1 5h0m-3-4h0m-1 3h0m0-2h0m0-4h0m-1 12h0m0-8h0m0-2h0m-1 0h0m-1-2h0m0 5h0m-1-6h0m-3 0h0m0 0h0m0 10h0m0-2h0m-1 0h0m0-3h0m-2 4h0m-1 4h0m0-6h0m-1-3h0m-1 7h0m-1-11h0m-2 11h0m-4-5h0m-1 3h0m-1-4h0m0-5h0m0 12h0m-1-2h0m-1 1h0m0-10h0m-2-1h0m-1 6h0m-1 5h0m-1-4h0m-3-1h0m-2 0h0m0 1h0m0-3h0m-2-1h0m-2 1h0m0 0h0m-1 5h0m0 2h0m-1 0h0m-2-3h0m-1 5h0m0-5h0m-1-3h0m0-4h0m-2 4h0m0 2h0m-1 0h0m0 2h0m-5-2h0m0 4h0m-3-11h0m0 12h0m-1-4h0m0-5h0m0 9h0m-1-3h0m0-1h0m-1-6h0m-1 2h0m0 9h0m-3-13h0m0 3h0m0 10h0m-1-7h0m-5-5h0m0 8h0m-1-4h0m0-4h0m-2 1h0m-1 0h0m-2 6h0m0-8h0m-2 10h0m-1-10h0m-1 3h0m0 3h0m0 2h0m-1-6h0m-2 10h0m-1-11h0m22 16h0m5 1h0m6-2h0m5-1h0m0 5h0m2-3h0m9 3h0m3-2h0m5 3h0m6-5h0m2 7h0m8-8h0m6 4h0m5 1h0m1-3h0m3 3h0m4-5h0m1 0h0" stroke="#B96BB4" stroke-width="4.3"/>
<path transform="scale(0.2)" d="M1825 404h0m13-1h0m5 11h0m-9 1h0m-51 4h0m-8-5h0m1 10h0m0 3h0m18-2h0m2 6h0m0-2h0m7 4h0m9-11h0m10 11h0m10-4h0m11-9h0m-13 21h0m-41 3h0m-2 0h0m-3-8h0m-8 2h0m51 14h0" stroke="#4AA6C9" stroke-width="4.3"/>
<path transform="scale(0.2)" d="M1625 764h0m47 15h0m-6-2h0m-1-3h0m-5-3h0m-4 7h0m-1-7h0m-1 2h0m-1 6h0m-3-3h0m-1 2h0m0-1h0m-1-5h0m-2-3h0m-2 5h0m-1 2h0m-1 0h0m-1-1h0m0 1h0m-2 3h0m0-3h0m-2-6h0m0 6h0m-1-8h0m-1 6h0m0-8h0m0 1h0m-2 7h0m-2 1h0m0-9h0m0 1h0m-1 8h0m-3-6h0m-1-4h0m-1 13h0m-2-4h0m-3 4h0m-3 0h0m-1-6h0m0 5h0m-3-2h0m0-1h0m-1-6h0m0-3h0m-1 11h0m-3 3h0m-1-9h0m0 1h0m0 6h0m0 1h0m0-13h0m0 5h0m-1 4h0m-1-1h0m-1-6h0m0 5h0m0-3h0m-4-2h0m-1 10h0m-1-11h0m0 8h0m0-7h0m-4 9h0m-2 2h0m-1-1h0m-2-7h0m-14 22h0m2-6h0m3-5h0m0-1h0m1 14h0m1-1h0m1-10h0m2 11h0m0-5h0m3-7h0m1 3h0m1 5h0m0-1h0m1-1h0m0-4h0m1 10h0m0-14h0m1 4h0m0-4h0m0 13h0m1 1h0m0-5h0m1-6h0m3 9h0m0-2h0m2-3h0m1-1h0m7 8h0m4-14h0m1 14h0m0-4h0m1-2h0m0-6h0m2 9h0m0-5h0m1 0h0m0 6h0m0-4h0m0 6h0m1-11h0m0 9h0m1-9h0m2 10h0m0-5h0m2-1h0m0-7h0m1 4h0m1 1h0m1-2h0m2-3h0m1 14h0m0-14h0m0 10h0m2-4h0m0 2h0m2 5h0m0 1h0m1-7h0m1 6h0m0-8h0m0-2h0m0 8h0m0 2h0m0-8h0m1 3h0m2-7h0m1 13h0m1-9h0m0 7h0m5-11h0m0 7h0m2-6h0m2 5h0m2-1h0m0-5h0m0 11h0m1-9h0m1-2h0m1 4h0m1-2h0m1 9h0m2-7h0m1 0h0m1 3h0m0 6h0m0-1h0m1 0h0m1-9h0m0-3h0m1 9h0m1-8h0m0 12h0m3-6h0m1 3h0m0 2h0m0-8h0m1-2h0m0-1h0m3 3h0m2 8h0m1-3h0m1 4h0m5-4h0m4 19h0m-3-8h0m-1 3h0m-1 0h0m-2 2h0m-1 3h0m-1-1h0m0-9h0m0 6h0m-2-2h0m-2-3h0m-1 5h0m0 2h0m0-3h0m-2-5h0m0-1h0m-4 5h0m0 4h0m-1-12h0m-6 6h0m-2 5h0m-3 2h0m0-13h0m-1 4h0m0 8h0m-1 0h0m0-7h0m-1 8h0m-1 1h0m0-11h0m-2-3h0m-3 12h0m-1-2h0m-1-4h0m-2 8h0m-1 0h0m-1-10h0m0 9h0m0-13h0m-1 0h0m0 5h0m-1 5h0m-3-6h0m0 2h0m-1 6h0m0-8h0m-1 6h0m0-4h0m-1 2h0m-2-2h0m0-3h0m-1 4h0m0 2h0m0-9h0m-1 14h0m0-7h0m-1 4h0m0-9h0m0 8h0m0 1h0m0-1h0m0-2h0m-1-4h0m0 4h0m-2-6h0m0 6h0m-1 0h0m0 3h0m0 0h0m0-5h0m-1-2h0m-1 10h0m0-6h0m0 4h0m-2-9h0m0-3h0m-1 9h0m0-3h0m0 2h0m-1 6h0m-1-9h0m-1-1h0m-1 5h0m0 1h0m-1 0h0m0-2h0m-1-8h0m-1 8h0m0-8h0m-1 14h0m-2-14h0m-1 7h0m0-5h0m-2 2h0m0-4h0m-1 6h0m-1-4h0m0 3h0m0 4h0m-1-2h0m-1 3h0m-4-9h0m-1 10h0m0 2h0m0-9h0m-1-4h0m-1 2h0m0 2h0m-2 1h0m-1 6h0m-1-5h0m-2 3h0m0 2h0m-2-3h0m-1 5h0m0-10h0m-3 4h0m-1-7h0m-1 4h0m-2 3h0m-1 7h0m-2-4h0m-2 4h0m0-10h0m-5 8h0m-1-4h0m1 21h0m4-2h0m4-5h0m3 1h0m1 5h0m1-3h0m2-5h0m1 1h0m1 7h0m0-10h0m0 2h0m1 5h0m1-8h0m1 3h0m0 7h0m0-3h0m0 1h0m0-8h0m0 2h0m1-4h0m0 7h0m0 0h0m3 3h0m3-5h0m2-5h0m0 13h0m1-7h0m0-3h0m1 11h0m1-3h0m0-9h0m0 4h0m1 1h0m1-6h0m0 11h0m0-7h0m1-2h0m2 6h0m0-5h0m2 8h0m1-9h0m1 11h0m1-9h0m1 9h0m0-6h0m1 2h0m0 0h0m0-7h0m1-1h0m1 10h0m0-12h0m0 7h0m0-1h0m1-3h0m0 11h0m2-12h0m1 4h0m2 2h0m2 0h0m0 6h0m1 0h0m1-9h0m1 9h0m2-4h0m0 0h0m1 4h0m0-14h0m0 14h0m0-5h0m2 5h0m0-12h0m1 10h0m0-10h0m2 0h0m0 2h0m1 2h0m0 3h0m1 4h0m0-6h0m1-4h0m1 8h0m0-2h0m2-9h0m1 7h0m0 0h0m1-6h0m0 13h0m0-5h0m1 4h0m0-10h0m1 11h0m0-5h0m0 1h0m1 1h0m1-11h0m1 9h0m0-9h0m0 6h0m1 2h0m4-8h0m1 0h0m2 5h0m0 1h0m1 6h0m0-11h0m0 3h0m1 0h0m1 2h0m0-6h0m1 5h0m1 4h0m2-9h0m0 11h0m2-3h0m0-8h0m2 12h0m1 0h0m0-1h0m1-10h0m0 3h0m1 6h0m1-2h0m2 6h0m1-9h0m0-5h0m1 12h0m0-8h0m0-2h0m2 3h0m2-5h0m0 8h0m0-5h0m0-2h0m1 5h0m1 4h0m1-2h0m0-7h0m0 12h0m0-2h0m1-11h0m3 4h0m0 18h0m-2 2h0m-5 3h0m-1-8h0m0 0h0m-3-1h0m-1 7h0m0-6h0m-7-1h0m-1 1h0m0 7h0m0-5h0m-1 4h0m-1 0h0m0 1h0m-1-10h0m0 5h0m-1 1h0m-1-6h0m0 3h0m-1-1h0m0-3h0m-1 2h0m-1 5h0m0 0h0m-1 1h0m0-8h0m0 13h0m-2-6h0m-1 0h0m-1-4h0m-1 10h0m0-12h0m0-1h0m-1 6h0m-1 2h0m0 0h0m0-5h0m-1 6h0m-2 1h0m-2 3h0m0-5h0m-1 4h0m0-2h0m-1-10h0m0 1h0m-2 11h0m-3-2h0m0-8h0m0 10h0m-1-4h0m-1-4h0m-1 0h0m-1 7h0m-1 3h0m0-3h0m0-1h0m-1 0h0m0-2h0m0-8h0m0 8h0m0-2h0m-1-1h0m0-3h0m-1 6h0m0-3h0m0 7h0m-2-3h0m0 4h0m-1 0h0m0-2h0m-1-9h0m0 0h0m0-2h0m-1 8h0m0-5h0m-1 0h0m0 2h0m-1 9h0m0-9h0m-1 5h0m0-5h0m-1 6h0m-3-9h0m0 3h0m-1 6h0m0-9h0m-2 8h0m0-1h0m-1-1h0m0-1h0m-2-3h0m0 2h0m0-4h0m0 1h0m-1 9h0m0-2h0m0 2h0m0 2h0m-2-9h0m0-2h0m0 3h0m0-6h0m-1 3h0m0-1h0m-1 11h0m0 1h0m0-10h0m-1 2h0m-2 6h0m0 0h0m-1-7h0m0 9h0m-2-8h0m0 6h0m-2-8h0m-1 0h0m0-3h0m-1-1h0m0 13h0m-1 0h0m0-1h0m-1-4h0m0-8h0m-1 4h0m-1 9h0m-1 1h0m-1-12h0m-1 12h0m-1-5h0m0 1h0m-2 0h0m-1 2h0m-1-12h0m0 3h0m0-1h0m0-2h0m0 0h0m-1 13h0m-1-13h0m0 4h0m-1-2h0m-1 12h0m-3-10h0m-1 9h0m-2-10h0m0-1h0m-1 9h0m-2-3h0m-1 0h0m6 11h0m2 10h0m1-6h0m1 2h0m2-5h0m0 0h0m1 7h0m0 2h0m0-14h0m1 10h0m1-9h0m0 9h0m0-9h0m0 1h0m1 9h0m1-10h0m2 2h0m1-2h0m0 4h0m1-4h0m1 3h0m0 9h0m0-2h0m0-7h0m6-3h0m0 0h0m1 6h0m0 3h0m1 4h0m0-1h0m1-2h0m4-4h0m0 2h0m1-2h0m1-4h0m0 7h0m0 4h0m0-10h0m2 2h0m0-2h0m3 1h0m1 3h0m1 1h0m1 3h0m0-8h0m0-3h0m1 4h0m0 8h0m0-1h0m2 2h0m1-2h0m1 2h0m2-14h0m0 3h0m1 9h0m2-3h0m0-2h0m1 4h0m0-2h0m1-7h0m1 10h0m1-7h0m0 6h0m1-5h0m2 8h0m0-5h0m2-4h0m0-1h0m2-3h0m1 10h0m0 2h0m2-13h0m1 4h0m0-4h0m1 7h0m1 0h0m0-7h0m1 7h0m1-3h0m1-1h0m1 4h0m1-1h0m1 1h0m1 5h0m1-1h0m2-4h0m0 1h0m0-4h0m2 10h0m1-7h0m0 0h0m1 7h0m0-14h0m1 7h0m0-1h0m0 7h0m1-13h0m0 10h0m1-4h0m2 3h0m2 4h0m0-12h0m1 8h0m4-9h0m0 14h0m2-13h0m1 2h0m1-3h0m0 3h0m2 2h0m0 5h0m3-3h0m1 4h0m0 2h0m1-1h0m0-8h0m0 5h0m4 4h0m-6 3h0m-3 7h0m-3-2h0m-2 4h0m-3-1h0m0-7h0m-1-2h0m-2 2h0m-1 11h0m0-10h0m-2-2h0m0 7h0m-1-1h0m-1 3h0m0-9h0m-1 4h0m0 0h0m-2-2h0m-5 7h0m-1-4h0m-1 2h0m-1-6h0m-2 8h0m0 2h0m-1-4h0m-3-8h0m-3 4h0m-1 3h0m0 4h0m0-4h0m0 2h0m-3-7h0m0 5h0m-1 6h0m-1-6h0m-3 6h0m-2-7h0m-2-3h0m-2 5h0m0-6h0m-1 4h0m-1 2h0m0-1h0m0-3h0m-2 6h0m-1 0h0m0-8h0m0 1h0m-1 8h0m0-9h0m0 0h0m0 7h0m-3-6h0m0 6h0m-1-8h0m0 11h0m-3-7h0m-3 1h0m-1 4h0m-2 0h0m-1-4h0m0 1h0m-7-5h0m-4-1h0m0 10h0m-1-2h0m-9-8h0m-2 1h0m-2 3h0m16 10h0m9 3h0m3-2h0m1 2h0m4-1h0m1 0h0m0-2h0m4 8h0m4-3h0m3 0h0m1 1h0m2 3h0m1-3h0m2 2h0m3-4h0m4 1h0m0-4h0m1 1h0m1 0h0m2 3h0m2-5h0m1 8h0m1-7h0m1 0h0m4 9h0m1 1h0m3-10h0" stroke="#A48BCB" stroke-width="4.3"/>
<path transform="scale(0.2)" d="M2318 163h0m12 0h0m11 1h0m20 12h0m-2-8h0m-1 8h0m-6-3h0m0-3h0m-1 3h0m-1 6h0m-1-12h0m-3 3h0m-2-5h0m0 7h0m-1-6h0m0 7h0m0 2h0m-1 1h0m0-2h0m-4-5h0m0-1h0m-1 0h0m-1 10h0m-1-3h0m-1-8h0m0 6h0m-1-1h0m0 3h0m0-10h0m0 9h0m-1 5h0m0-13h0m-1 4h0m0-2h0m0 8h0m0-9h0m-1 9h0m0-6h0m-1 0h0m-1 7h0m-1-1h0m-3 3h0m0-6h0m-3-5h0m0 10h0m-1-2h0m-2 1h0m-2-6h0m0-5h0m-1 9h0m0-10h0m-2 14h0m-1-2h0m-1 1h0m-1-9h0m-4 6h0m0-1h0m-4-1h0m-7 10h0m1 7h0m0 2h0m2-12h0m0 13h0m1-6h0m3 2h0m0 3h0m1-11h0m1 1h0m0-2h0m0 2h0m0 2h0m1 3h0m1 3h0m0-2h0m1-1h0m1-3h0m0-2h0m0 2h0m1 10h0m0 0h0m3-5h0m1 4h0m0-6h0m0-2h0m1 0h0m0 8h0m0-13h0m1 4h0m0 3h0m1 1h0m0 2h0m1 1h0m0-3h0m1-3h0m0 7h0m1-5h0m0 4h0m0-4h0m0-4h0m0 8h0m1-3h0m1-4h0m0-1h0m0 1h0m1 3h0m2 5h0m1-10h0m1 0h0m0 7h0m1 0h0m1 2h0m0-7h0m1-4h0m0 2h0m0 4h0m1-5h0m0 7h0m0 2h0m1 1h0m0 3h0m0-8h0m1-4h0m0 7h0m0 0h0m1-1h0m0-6h0m1 9h0m1-5h0m0 3h0m4 1h0m0-1h0m0-7h0m1-2h0m1 9h0m1 0h0m0 1h0m1-7h0m0 1h0m1 5h0m1 4h0m0-9h0m0-1h0m2 7h0m0-8h0m2 5h0m2-3h0m0 5h0m1-8h0m1 1h0m0 9h0m0-8h0m1-2h0m1 7h0m1 0h0m0 1h0m3-1h0m2 6h0m0-10h0m1 6h0m4-9h0m0 13h0m1-10h0m0 7h0m2-5h0m1 6h0m0-9h0m1 9h0m0-1h0m8 3h0m1 0h0m-2 2h0m0 11h0m0-5h0m-5 0h0m-1 3h0m0 1h0m0-11h0m-2 8h0m-1 4h0m0-8h0m-2 2h0m-2-3h0m-2 1h0m0 10h0m0-2h0m-3-8h0m-1-4h0m-2 2h0m-2 5h0m0-2h0m-2 3h0m0-4h0m-1 1h0m-2-4h0m0 9h0m-4-8h0m-1 5h0m0-7h0m-1 5h0m-1-3h0m-1-2h0m0 8h0m-1 0h0m-2 5h0m-3-1h0m-1-7h0m-1 9h0m0-5h0m0-4h0m-2-4h0m0 11h0m-1 1h0m0-5h0m0 6h0m0-13h0m-2 6h0m0 7h0m-4-9h0m-4 3h0m-1-5h0m-1 0h0m-2-3h0m0 2h0m0 1h0m0-1h0m0 3h0m-1-2h0m0 1h0m0-4h0m-3 7h0m0-1h0m-1 4h0m0-7h0m-2 3h0m-1-3h0m0 9h0m-2-10h0m0 7h0m-1-1h0m0-6h0m-1 10h0m-1 1h0m-2-2h0m-2-6h0m0 4h0m0-5h0m0 8h0m-1-9h0m-1 9h0m-2-3h0m-1-1h0m0 1h0m-1 5h0m0-1h0m0-6h0m0-4h0m-5 11h0m-14 15h0m1 0h0m4-8h0m0 8h0m1-5h0m0 3h0m2-8h0m1 0h0m1 7h0m0 2h0m0-8h0m1 4h0m1-1h0m2-8h0m0 9h0m1 1h0m1-5h0m0 3h0m0-6h0m1 10h0m1-8h0m0 1h0m1 4h0m2-4h0m1 6h0m1-7h0m0 1h0m0 3h0m1 2h0m0-6h0m0-1h0m1 2h0m0-1h0m2 10h0m1-9h0m1 7h0m1-12h0m1 9h0m0 1h0m1-3h0m1 7h0m0-8h0m1-1h0m1-3h0m0 6h0m4-2h0m0 4h0m1-1h0m2-5h0m1 7h0m0-10h0m0 13h0m1-7h0m0 7h0m2-14h0m2 1h0m1 2h0m1-1h0m2 12h0m0-1h0m0-13h0m1 3h0m0 11h0m1-11h0m0 8h0m5 3h0m1-13h0m3 0h0m2 10h0m0-7h0m1 6h0m5 1h0m0-9h0m0 12h0m2-12h0m1-1h0m1 13h0m1-3h0m0 1h0m3 0h0m6-2h0m2-4h0m0 1h0m0 6h0m4-11h0m0 3h0m3 0h0m1-3h0m0-1h0m1-1h0m1 10h0m0 3h0m2-6h0m1 5h0m0-4h0m2-1h0m1 5h0m1 0h0m0-3h0m2-2h0m3-1h0m0 1h0m24 19h0m-8 0h0m0 3h0m-6-9h0m-2-1h0m-1 10h0m-2-2h0m0-4h0m-1-2h0m-1-3h0m-1 1h0m-2-4h0m-2 2h0m-1 5h0m0-6h0m-3 5h0m0 5h0m0 0h0m-2-9h0m0 8h0m-1 1h0m0-8h0m-3 8h0m-2-10h0m-1 9h0m-3 0h0m-2-7h0m-1 7h0m0 4h0m-1-11h0m-3-1h0m-2-1h0m-1 3h0m-2 0h0m-1 0h0m-3 5h0m-2 0h0m-1-6h0m-1 9h0m0-6h0m0 6h0m-1 1h0m-2-6h0m-6 2h0m0-4h0m-2-1h0m-1-1h0m-1 11h0m-1-6h0m-3 4h0m-5-7h0m0 5h0m0 2h0m-1-8h0m-2 6h0m0-8h0m-2 3h0m0 7h0m-1-10h0m-1 1h0m-2 1h0m0-2h0m0 5h0m0-2h0m-2-1h0m0 2h0m0 5h0m-1-1h0m0-1h0m-1-9h0m-1 6h0m0-1h0m0-2h0m-2 9h0m0-8h0m-1 0h0m0 0h0m-1-3h0m-3 10h0m0-4h0m0-2h0m-1-2h0m-1 7h0m0-7h0m0 0h0m-2 2h0m0-1h0m-2 0h0m0 10h0m-1-1h0m-1-11h0m0 5h0m0 4h0m-1-5h0m0-4h0m0-1h0m-1 2h0m0 4h0m0 6h0m0-9h0m-1 1h0m0-2h0m-1 4h0m0-7h0m0 10h0m-1-9h0m0 8h0m0 0h0m-1 4h0m0-12h0m0 1h0m-1 6h0m0-1h0m0-5h0m-1 3h0m0 5h0m-1-5h0m0 8h0m-1 0h0m-1 0h0m0-13h0m-1 4h0m0 7h0m0-8h0m-1 9h0m0-9h0m0 0h0m0 9h0m0 1h0m-1-2h0m-2 1h0m0-3h0m0-1h0m0 2h0m-1-7h0m-1-1h0m-1 5h0m0-3h0m-1 2h0m-2-6h0m-1 13h0m-1-9h0m-1 8h0m-1 2h0m-1-1h0m-1 0h0m0-2h0m-1-3h0m0 3h0m0 3h0m0-3h0m-2-4h0m-2 6h0m-2-3h0m-2-8h0m0 11h0m0-13h0m-1 10h0m-3 3h0m0-2h0m-1 1h0m0-4h0m-1 4h0m-2-1h0m0 3h0m-2-2h0m-5 2h0m0 0h0m-8 0h0m-8-1h0m-3-2h0m-1 3h0m-2-2h0m-2 2h0m-1-1h0m-1-8h0m0 6h0m-1-1h0m-2 2h0m-6 1h0m-1-2h0m-2 0h0m0-3h0m-2 2h0m0 0h0m-1 3h0m-1 1h0m-1-4h0m-2 4h0m0-1h0m-1 0h0m-2-2h0m-1 1h0m-2-1h0m0 2h0m-1-1h0m0 2h0m-2 0h0m-3 0h0m-1 0h0m0-5h0m-1 3h0m-2 0h0m-14 17h0m7-7h0m3-4h0m1-3h0m0 3h0m0 4h0m1-6h0m0 12h0m0-4h0m0-3h0m0-3h0m1 6h0m1 3h0m1-10h0m1 12h0m1-5h0m1 4h0m1-12h0m0 5h0m0-2h0m1 2h0m0-2h0m0 4h0m1-4h0m0 7h0m0-10h0m1 5h0m1 7h0m1-1h0m1-8h0m1-3h0m0 0h0m1 0h0m0 12h0m0-4h0m2-5h0m0 8h0m1-5h0m0-4h0m0 9h0m0-4h0m0 1h0m0 2h0m1-1h0m0-2h0m0 0h0m1 0h0m0 1h0m1 1h0m0-1h0m0-4h0m0-5h0m1 12h0m0-7h0m0-3h0m1 9h0m0-4h0m0-2h0m0 7h0m1-3h0m0 3h0m0-6h0m1 0h0m0-1h0m1-3h0m0 7h0m0-6h0m0 0h0m0-1h0m0-2h0m1 2h0m0 11h0m0-10h0m1-3h0m0 2h0m0 2h0m1-1h0m0 9h0m0 1h0m1-6h0m1 7h0m0-1h0m0 0h0m0-10h0m1 10h0m1-13h0m0 11h0m0-5h0m1 8h0m0-8h0m1 8h0m0-14h0m0 8h0m0 3h0m0-9h0m1 12h0m0-14h0m0 3h0m1 6h0m0-8h0m1 12h0m0-6h0m1 6h0m0-4h0m0-2h0m0-3h0m1 3h0m0-3h0m0 10h0m0-2h0m1-9h0m1 6h0m0-3h0m0-3h0m0-1h0m0 6h0m1 1h0m0-5h0m0 2h0m0-4h0m0 1h0m0 5h0m1 4h0m0-12h0m0 5h0m1 6h0m0-10h0m0 5h0m1 0h0m0-6h0m0 9h0m0 3h0m0-6h0m1-3h0m0-3h0m0 0h0m1 7h0m0-2h0m0 8h0m0-12h0m1 5h0m0 0h0m0 5h0m0-3h0m0 1h0m1-7h0m0 4h0m0-5h0m0 11h0m0-6h0m1 2h0m0 6h0m1-14h0m0 10h0m0-3h0m0 1h0m0-5h0m0 5h0m0 5h0m1-7h0m0 2h0m0-5h0m0 7h0m0 4h0m0-12h0m1 11h0m1-9h0m0-3h0m1 10h0m0-9h0m0 7h0m0-5h0m0-2h0m0 8h0m1-4h0m0-2h0m0-2h0m2 4h0m0 7h0m0-4h0m0 3h0m1-3h0m0-5h0m1 9h0m0 1h0m1-13h0m0 6h0m0-3h0m1 2h0m1 8h0m0-12h0m0 1h0m0 9h0m1-12h0m0 13h0m0-2h0m0-7h0m0-3h0m1 13h0m0 0h0m0-2h0m0-9h0m0-3h0m1 9h0m0-3h0m1-3h0m1 9h0m0 0h0m0-1h0m1-3h0m0-1h0m0-4h0m0-2h0m1 3h0m0 1h0m0 0h0m0 0h0m1-4h0m0 10h0m0-6h0m1 3h0m0-1h0m0 2h0m3-2h0m0-1h0m1 6h0m0-5h0m0 7h0m0-2h0m1-3h0m0 3h0m0-2h0m0-5h0m0-3h0m1 9h0m0-5h0m0 3h0m0-1h0m1-2h0m0-6h0m0 1h0m1 7h0m0-6h0m1 6h0m1-6h0m1 4h0m0 5h0m0-6h0m1 2h0m1 3h0m0 4h0m0-7h0m1 6h0m0-6h0m0 5h0m0-11h0m1 11h0m0-6h0m1 5h0m0-2h0m0-9h0m1 10h0m0 0h0m1-9h0m0 2h0m1 5h0m1 0h0m0 0h0m1-7h0m0 1h0m1 1h0m0-1h0m0 4h0m0-5h0m1 1h0m1 5h0m0 4h0m0-8h0m2 7h0m1-5h0m1 9h0m0-14h0m0 12h0m1 1h0m0-6h0m0 5h0m1-6h0m0-3h0m1-1h0m0 2h0m0 8h0m2 2h0m0-14h0m1 9h0m1-9h0m0 8h0m1-7h0m1 2h0m0 4h0m1 7h0m2-5h0m1-9h0m0 1h0m1-1h0m0 6h0m1-2h0m0 10h0m1-13h0m0 2h0m1-3h0m1 3h0m1 0h0m1 1h0m1 3h0m0 2h0m1 3h0m1-11h0m2-1h0m1 4h0m0 6h0m1-8h0m0 4h0m1-3h0m0 10h0m1 1h0m0-1h0m2-3h0m0-4h0m0-4h0m0 9h0m0-9h0m4 5h0m0 6h0m1 0h0m1 1h0m1-4h0m1-6h0m2 6h0m1-7h0m1 4h0m0-1h0m3 0h0m2 0h0m1-4h0m3 12h0m0-12h0m2 7h0m1-8h0m0 1h0m1-2h0m2 2h0m1 5h0m0 2h0m0-7h0m5-2h0m1 5h0m2-2h0m1 2h0m0 1h0m1-6h0m2 6h0m5-3h0m4 7h0m0-10h0m2 2h0m0 8h0m2 2h0m0-7h0m2-4h0m1 1h0m3 10h0m1-12h0m1 8h0m2 1h0m1 2h0m1-4h0m1-5h0m0 2h0m3 1h0m1 5h0m1-4h0m0-6h0m1 6h0m3-4h0m0-1h0m1-1h0m3 2h0m2 2h0m0 4h0m5 1h0m0-8h0m8 2h0m2 1h0m6 7h0m14 8h0m-3 6h0m-5 1h0m-7-2h0m-1 1h0m0 0h0m-1 2h0m-6-3h0m-5-6h0m-1-2h0m-4 9h0m-5-5h0m0 8h0m-1-13h0m-5 14h0m-3-6h0m0-2h0m-1 5h0m-1-9h0m-3 5h0m-1-1h0m0-2h0m0 5h0m-1-3h0m-2-3h0m-3 2h0m-4 6h0m0 3h0m0-12h0m-1 11h0m-5-6h0m-1-3h0m0 10h0m0-14h0m-1 11h0m-1-3h0m-4-6h0m0 6h0m-6 2h0m-1-8h0m-1 9h0m-3-6h0m-1 7h0m-1-7h0m-1-1h0m0 7h0m-1-1h0m-1-9h0m-1 13h0m-1-1h0m0-12h0m-1 4h0m0 2h0m-2 0h0m0 6h0m-1-1h0m-2-8h0m-1 8h0m-1 2h0m0-1h0m-1-7h0m-1-3h0m0 9h0m-2-6h0m-1 7h0m0-6h0m-5 2h0m0-6h0m-3 11h0m0-5h0m0-5h0m0 9h0m-2-4h0m0-8h0m-2 12h0m-1 1h0m0-10h0m-1 1h0m-1 8h0m-1 0h0m-1-2h0m0 3h0m-1-3h0m-1 3h0m0-8h0m-1-3h0m-1 11h0m0-2h0m0-5h0m-1 6h0m-1-5h0m0 3h0m-1 3h0m0-8h0m0 7h0m-1-12h0m-1 2h0m-1-1h0m-1 2h0m-1-3h0m0 1h0m0 3h0m-2-4h0m0 11h0m0-6h0m-1-2h0m-1-2h0m0 3h0m-1-1h0m0-4h0m-2 13h0m0 0h0m0-2h0m0 2h0m0-10h0m-1-1h0m-1 2h0m0 6h0m-1 1h0m0-11h0m-1 4h0m0 10h0m-1-10h0m0 9h0m0-5h0m-1-1h0m0 4h0m0-8h0m-1-3h0m0 7h0m-1 3h0m0-7h0m0 7h0m0 3h0m-1-12h0m0 9h0m0 1h0m0 0h0m-1 2h0m0-8h0m-1-3h0m-1 8h0m-1-1h0m0 3h0m0 0h0m-1-5h0m0 6h0m0 0h0m0-8h0m-1 6h0m-1-11h0m0 10h0m0 2h0m0-12h0m-1 3h0m0-1h0m0 10h0m0-11h0m0 5h0m0 7h0m-1-1h0m-1-5h0m0-5h0m0 4h0m0 0h0m0 0h0m0 5h0m-1-6h0m0-5h0m0 7h0m0 2h0m0-9h0m-1 2h0m0 11h0m-1-4h0m0-9h0m0 0h0m-1 4h0m0-2h0m0 5h0m0 5h0m-2-1h0m0 2h0m-1-12h0m0 9h0m-1 1h0m0 3h0m0-14h0m0 7h0m-1 4h0m0 3h0m0-10h0m0 1h0m0-2h0m-1 11h0m0-12h0m0 5h0m0-2h0m-1 4h0m0-5h0m0-3h0m0 6h0m0-5h0m-1 3h0m0 1h0m0-3h0m0 7h0m-1-9h0m-1 11h0m0-11h0m0 11h0m-1-8h0m0 1h0m-1-4h0m0 9h0m0-10h0m-1 11h0m0-7h0m0 1h0m0 1h0m0-3h0m0 6h0m-1-7h0m0 2h0m-1 5h0m0-5h0m-1 0h0m0-1h0m0-2h0m0 11h0m0 0h0m-1-4h0m0-7h0m0 2h0m0 9h0m0 0h0m0-2h0m0-9h0m-1 10h0m0 2h0m0-7h0m0 0h0m-1 8h0m0-5h0m0-4h0m0 0h0m0-1h0m-1 7h0m0-3h0m0 5h0m-1-9h0m0 10h0m0-9h0m-1 4h0m0-2h0m0 4h0m0-6h0m-1 6h0m0 3h0m0-4h0m-1-7h0m0-3h0m0 9h0m0-5h0m0 4h0m0 0h0m-1 4h0m0-6h0m-1-6h0m0 10h0m0-8h0m0 4h0m0-5h0m-2 9h0m0-9h0m-1 7h0m0 4h0m0 2h0m-1 0h0m0 0h0m0-4h0m0-8h0m0 0h0m-1-1h0m0 11h0m0 0h0m-1-2h0m0-8h0m0-2h0m0 2h0m-1 6h0m0 0h0m-1 0h0m0-5h0m0 1h0m0 9h0m-1-13h0m0 11h0m0-7h0m0 6h0m0-1h0m-1 0h0m0 3h0m-1 1h0m0-1h0m0-10h0m-1 0h0m-1 2h0m0 2h0m0 7h0m-1-4h0m0 2h0m0-4h0m-2 5h0m0 1h0m0-9h0m0 1h0m-1 7h0m0-11h0m0 0h0m0 10h0m-1 2h0m0-3h0m0 0h0m-1-7h0m0 3h0m0-6h0m-1 6h0m-1 4h0m0 2h0m-1-2h0m0 0h0m0-10h0m0 8h0m-1-4h0m0 10h0m-1-3h0m-1-1h0m0-1h0m-1-5h0m0 2h0m0 6h0m0-3h0m-1-4h0m0 8h0m-2-13h0m0 8h0m0 6h0m0-4h0m-1-7h0m-1 11h0m0-14h0m0 5h0m0 8h0m-1-4h0m0 3h0m-1-5h0m0 4h0m-1-11h0m0 13h0m0-8h0m-2-2h0m-1 4h0m0 3h0m-2-3h0m0-1h0m-1 0h0m0 3h0m-1-1h0m-1-1h0m-1 1h0m-2-7h0m-1 5h0m0 7h0m-1-12h0m0 11h0m0-3h0m0 0h0m-1 5h0m0-9h0m-1-2h0m0 5h0m-1-8h0m0 3h0m-1 5h0m-1-6h0m-1 12h0m-3-2h0m-2 1h0m-1-12h0m0 0h0m-1 1h0m0 4h0m-2-2h0m-2 8h0m0-6h0m-1-4h0m-1 2h0m0-3h0m0 13h0m-1-2h0m-1-8h0m-1-1h0m-2 10h0m1 2h0m1 2h0m6 4h0m1-3h0m1 6h0m2-5h0m1 0h0m1 5h0m0-7h0m1-2h0m2 13h0m0-1h0m3 2h0m0-12h0m1 3h0m0-2h0m1 4h0m0 4h0m2-6h0m2 4h0m2-2h0m3 7h0m0-12h0m0 0h0m0 3h0m1 7h0m0-9h0m1-1h0m0 8h0m0-10h0m1 11h0m0 2h0m0-2h0m1-9h0m1 1h0m0 2h0m1 8h0m0-7h0m1-2h0m0-2h0m0 3h0m1 5h0m1 1h0m0-7h0m0 10h0m1-1h0m2-9h0m1-4h0m1 14h0m1-10h0m2-1h0m0-2h0m1 7h0m0-4h0m1 4h0m0-8h0m0 5h0m0 5h0m1-10h0m0 3h0m1 0h0m0-2h0m0 1h0m0 8h0m0 3h0m0-9h0m0 9h0m1-11h0m0 3h0m1-3h0m1 4h0m1 2h0m0-3h0m0-3h0m0 4h0m0 6h0m1 2h0m0-12h0m0 0h0m1 4h0m0 6h0m0-11h0m1 9h0m0-8h0m0 1h0m0 11h0m0-4h0m0 1h0m1-9h0m1 8h0m0 3h0m0-6h0m1 5h0m0-1h0m0 3h0m1-5h0m0-6h0m0 11h0m0-7h0m0-2h0m1-2h0m0 2h0m0-4h0m0 10h0m0-8h0m0 4h0m0 2h0m1-8h0m0 9h0m0 1h0m2-9h0m0 8h0m0-6h0m1 1h0m0 5h0m0-5h0m0 8h0m0-7h0m1-4h0m0 3h0m0 2h0m1 6h0m0-11h0m0 9h0m0-5h0m0 1h0m0-6h0m1 9h0m1 1h0m1 2h0m0-4h0m0-9h0m1 11h0m0-6h0m1-1h0m1 1h0m0-5h0m0 11h0m1-6h0m0 1h0m0 2h0m0 2h0m0-8h0m0-1h0m1 6h0m0 3h0m0-6h0m0 0h0m0 8h0m1-3h0m0 2h0m0-2h0m1-7h0m0 11h0m0-12h0m0 8h0m1-7h0m0 3h0m0-3h0m0 11h0m1-9h0m0 1h0m0 9h0m1 0h0m0-7h0m0-3h0m0 0h0m1 1h0m0-3h0m1 6h0m0-2h0m1 5h0m0-11h0m0 14h0m0-14h0m0 0h0m0 4h0m1-2h0m0 5h0m0-3h0m0 8h0m1-7h0m0 8h0m0-11h0m0 3h0m0-3h0m0 2h0m1 4h0m0 1h0m0-9h0m0 2h0m0 11h0m0-11h0m0 10h0m1-11h0m0 5h0m0 7h0m0-8h0m0 3h0m0 1h0m1 2h0m0 3h0m0-3h0m0-5h0m0 3h0m1 2h0m0-10h0m0 9h0m0 3h0m0-5h0m0 3h0m0 2h0m0-1h0m1-3h0m0 4h0m0-3h0m0-9h0m0 9h0m1 3h0m0-9h0m1 5h0m0-1h0m0 6h0m0-10h0m1 6h0m0-3h0m0 4h0m1-4h0m0 5h0m1-3h0m0 2h0m1-4h0m0-5h0m1 9h0m0 3h0m0-12h0m0 11h0m1-2h0m0-4h0m0 5h0m1-8h0m0 7h0m0 0h0m0-4h0m0-7h0m0 11h0m1 2h0m0 0h0m0-10h0m1 6h0m0 2h0m1 2h0m0-7h0m0 4h0m0 2h0m0-1h0m0-3h0m0 4h0m1 2h0m0 0h0m1-2h0m0-2h0m0 2h0m1-8h0m0 2h0m0 2h0m1-8h0m0 2h0m1-1h0m1 8h0m0 5h0m0-4h0m0-1h0m0-4h0m0-5h0m1 14h0m1-6h0m0 4h0m0-5h0m1 2h0m0-4h0m0 2h0m0 6h0m1-10h0m0 6h0m1 5h0m0-8h0m0-2h0m1-3h0m1 7h0m0-3h0m0-4h0m1 2h0m0 8h0m0 3h0m1-2h0m0 0h0m0-8h0m1 3h0m0-5h0m1 9h0m0-5h0m0-1h0m0-1h0m1 1h0m0-3h0m1 10h0m2-7h0m0 5h0m0 2h0m1-7h0m3-2h0m1-3h0m0 14h0m1-11h0m0 3h0m1 3h0m0 5h0m0-4h0m1 0h0m0-8h0m0 4h0m1 7h0m1-8h0m0 9h0m1-5h0m0-4h0m1 5h0m1 3h0m0 1h0m0-3h0m0-2h0m1-3h0m2 1h0m0-4h0m1 8h0m1 3h0m0-13h0m1 0h0m1 11h0m0-11h0m0 13h0m1-1h0m1-7h0m1 4h0m0-3h0m1-1h0m1 8h0m2-12h0m1 12h0m0-12h0m0-2h0m2 5h0m1 6h0m0-1h0m1-4h0m0 2h0m0-2h0m2 6h0m1-5h0m1 1h0m0 3h0m0-9h0m0 5h0m3-3h0m2 9h0m1-4h0m0 5h0m0-6h0m0-4h0m1-3h0m1 13h0m1-5h0m1-7h0m0 7h0m1-4h0m0 9h0m1-9h0m0-4h0m1 8h0m0-3h0m1-1h0m0 0h0m0-5h0m1 10h0m0 2h0m0 1h0m0-11h0m1 6h0m0 1h0m0-1h0m1 1h0m0-1h0m0 5h0m0 0h0m1-4h0m0-6h0m1 3h0m3-2h0m1 0h0m1-3h0m1 0h0m2 12h0m1 0h0m0-3h0m1 1h0m0 1h0m1 2h0m1-12h0m0 12h0m2-13h0m0-1h0m0 12h0m1-9h0m2 7h0m1 4h0m2-8h0m1 2h0m0 4h0m1-11h0m0 2h0m1 9h0m1-5h0m0 5h0m1-6h0m2-2h0m0 7h0m3-7h0m0-3h0m1 13h0m1-1h0m2-4h0m1-5h0m2 9h0m2-2h0m4-8h0m2 8h0m1-4h0m0 4h0m1 2h0m0-1h0m4 2h0m1 0h0m0-3h0m2-1h0m4-3h0m3 4h0m1 2h0m2-9h0m2-1h0m0 4h0m2-6h0m2 7h0m1 5h0m3-11h0m0 2h0m2 11h0m-5 2h0m-1-2h0m-1 8h0m-3-4h0m-1 8h0m0-6h0m0-1h0m-5 3h0m-7 1h0m-1 5h0m-3-9h0m0 7h0m-1-10h0m-3 3h0m0-3h0m-2 4h0m-1 4h0m-2 3h0m-4-7h0m0-5h0m-1-1h0m-1 1h0m-3 6h0m-1-5h0m-2 12h0m-2-4h0m0 4h0m-1-6h0m0-2h0m-3 7h0m-1-9h0m-1 1h0m0-3h0m0 2h0m-2 9h0m-3-9h0m-4-1h0m-1 3h0m-1 7h0m-1-10h0m0 8h0m0-5h0m0-2h0m0 5h0m-1-5h0m0 3h0m-1 0h0m0-2h0m-1 6h0m-1-9h0m0 3h0m-1 6h0m-1-4h0m0 1h0m-1-4h0m-1-3h0m0 2h0m0 0h0m-1 9h0m-4 1h0m-1-10h0m0 11h0m-1-7h0m-1-2h0m0-1h0m-1 9h0m0-9h0m0 6h0m0-2h0m0-8h0m-2 2h0m-1 8h0m-1 0h0m0 0h0m-1 0h0m0 1h0m0-2h0m-1-4h0m0 3h0m-1-3h0m-1-1h0m-1 9h0m0-1h0m-1-1h0m-2-4h0m-1-3h0m0-3h0m-1 1h0m-2 1h0m0 8h0m-1 0h0m0 0h0m0-9h0m-1 6h0m0-4h0m0-4h0m-1 10h0m-2-2h0m0 0h0m0-5h0m-1-2h0m0 6h0m0-1h0m-1 8h0m0-3h0m0-3h0m0-6h0m-1 7h0m0-1h0m-2 4h0m0 1h0m0-10h0m0 6h0m-1 4h0m0-4h0m-1 4h0m0-1h0m-2-8h0m0 6h0m0-10h0m-1 7h0m0 7h0m-1-12h0m-1 2h0m-1 2h0m-1-1h0m0 9h0m-2-5h0m0 0h0m-2-1h0m0-5h0m-1 1h0m-1-1h0m0 9h0m0-8h0m-1-1h0m0 2h0m-1-2h0m0 3h0m-1 7h0m0-13h0m-1 4h0m-1 1h0m-1 9h0m0-3h0m0-1h0m-1-3h0m0-4h0m0 9h0m0-5h0m-1-2h0m0 3h0m0-4h0m0 5h0m0 3h0m-1-12h0m0 4h0m-1 9h0m0-8h0m-1 2h0m0 5h0m-1-10h0m-1-1h0m0 11h0m0-9h0m0 1h0m-1 5h0m0-9h0m0 0h0m-1 12h0m0-3h0m0-4h0m0 0h0m-1 2h0m-1 3h0m-1-8h0m0 6h0m0-5h0m0-3h0m0 0h0m0 3h0m-1 2h0m0-4h0m0 11h0m0-2h0m0 1h0m0 0h0m-1-3h0m0 4h0m0-10h0m-1 4h0m0-6h0m-1 4h0m0 3h0m-1-5h0m0 4h0m0-1h0m-1-1h0m0 9h0m0-9h0m-1 0h0m0-4h0m0 2h0m0 8h0m0-6h0m-1 2h0m0 5h0m0-7h0m-1 8h0m0-3h0m0-6h0m-1 11h0m0-3h0m0-9h0m0-2h0m-1 12h0m0-1h0m0-6h0m0-3h0m0 3h0m0-4h0m-1 2h0m0 8h0m0 0h0m-1 2h0m0-1h0m0-8h0m0 5h0m0 1h0m0 1h0m0-1h0m0-3h0m0 4h0m0-2h0m0 0h0m-1-8h0m0 1h0m-1 0h0m0 7h0m0-9h0m0 3h0m0 8h0m0 1h0m-1-4h0m0 1h0m0 4h0m0-6h0m-1-2h0m0-4h0m0 4h0m0 9h0m0-10h0m0 6h0m-1-9h0m-1 11h0m0-7h0m-1 7h0m0-12h0m0 8h0m-1-4h0m0-1h0m-1 6h0m0-3h0m0 5h0m0-4h0m0-3h0m0 3h0m-1 6h0m0-13h0m-1 13h0m-1-6h0m0-7h0m-1 7h0m0-5h0m0 8h0m-1-7h0m0 2h0m0-3h0m-1-1h0m0 13h0m0-14h0m0 4h0m-1 5h0m-1-1h0m0 4h0m0-9h0m0 9h0m0-5h0m-1 6h0m0-5h0m0-2h0m-1 8h0m0-14h0m0 11h0m-1-5h0m-1-2h0m0-2h0m0 6h0m0-8h0m-1 8h0m0-7h0m0 6h0m0 2h0m-1 0h0m0-4h0m0-2h0m0-1h0m0 8h0m-1-8h0m0-1h0m0-1h0m0 2h0m0 9h0m0-9h0m0-2h0m0 12h0m-1-7h0m0 9h0m0-2h0m-1-8h0m0 10h0m0-9h0m-1 4h0m0 3h0m-1-9h0m0 8h0m-1-7h0m0 8h0m0 0h0m-1-8h0m0 1h0m0-3h0m-1-1h0m0 0h0m0 7h0m0 3h0m-1-2h0m0-2h0m-1-2h0m0 0h0m-1-4h0m0 11h0m0-1h0m0-5h0m0-6h0m0 8h0m-1 1h0m0 4h0m0-9h0m-1 9h0m-1-9h0m0 2h0m-1-5h0m0 4h0m-1-5h0m-1 8h0m0-1h0m0 1h0m0 1h0m0 4h0m-1-3h0m-1-4h0m-3 0h0m0 5h0m-1-1h0m0 0h0m-1-1h0m-1 5h0m0-10h0m-1 5h0m0-4h0m-1-5h0m-1 4h0m0 4h0m-2 3h0m0-4h0m-1-1h0m0-5h0m-1 3h0m-1 4h0m0-8h0m-1 12h0m0-7h0m-1-5h0m0 11h0m-1-8h0m0 4h0m-2 0h0m-1-3h0m0 1h0m-1-2h0m-2 2h0m-1 2h0m-1 7h0m0-1h0m0-12h0m-2 12h0m0-7h0m-1 1h0m-1-4h0m0 3h0m-1-1h0m0 1h0m0 1h0m-1-4h0m0 5h0m-1 4h0m-2-6h0m-1-1h0m-1-3h0m-2 7h0m-1 3h0m-1-4h0m-1 1h0m-1-5h0m0 10h0m-1-2h0m-2 1h0m-4 1h0m-1-11h0m14 13h0m2 12h0m4-11h0m2 0h0m0 12h0m1-4h0m2 1h0m1-8h0m0 9h0m2-10h0m0 2h0m1-3h0m1 6h0m1-3h0m1-1h0m2-3h0m4 6h0m0-6h0m2 3h0m1 8h0m0 0h0m1-1h0m2 4h0m1-7h0m0 4h0m4 2h0m0-12h0m1 1h0m1 4h0m0 3h0m1 5h0m1-12h0m1 9h0m0-11h0m0 0h0m1 3h0m0 11h0m0-3h0m1 1h0m0-10h0m0 3h0m1 4h0m0-4h0m1 4h0m1-5h0m0-2h0m0-2h0m0 8h0m0-4h0m1 5h0m0-2h0m0 1h0m1 3h0m0 0h0m0-2h0m2-2h0m0-2h0m0 3h0m0-1h0m1 7h0m0-7h0m0 5h0m0-7h0m1 0h0m0-3h0m0 6h0m1 2h0m0 4h0m0-1h0m1-3h0m1 3h0m0-3h0m0-10h0m0 7h0m0-5h0m0 5h0m1-6h0m0 2h0m0 10h0m0-6h0m1-5h0m0 2h0m0-1h0m0 8h0m0-2h0m0-2h0m1-1h0m0-2h0m0-3h0m0 5h0m1 0h0m0 1h0m1-3h0m0 1h0m0 1h0m0 5h0m0-2h0m0-1h0m0-8h0m1 9h0m0 1h0m0-3h0m0-7h0m1 3h0m0 3h0m0 5h0m0-9h0m0 12h0m1-2h0m0-7h0m1 2h0m0 3h0m1-1h0m0 3h0m1 0h0m0-10h0m0 9h0m0-11h0m1 13h0m0-7h0m0 0h0m1 3h0m0-9h0m1 0h0m0 5h0m0 5h0m0 0h0m0 4h0m0 0h0m0-13h0m0 6h0m0-3h0m1 3h0m0 1h0m0-3h0m0 7h0m1-9h0m0-3h0m0 8h0m1 0h0m0-2h0m0 8h0m0 0h0m1-3h0m1-5h0m0-1h0m0 6h0m0-2h0m0-9h0m1 4h0m0-4h0m0 4h0m1 8h0m0-8h0m1 4h0m0 5h0m1-3h0m0 0h0m0 3h0m0-12h0m0 5h0m1 1h0m0-1h0m0 1h0m0 2h0m0-4h0m0-2h0m1 8h0m0-1h0m0-6h0m0 0h0m1 5h0m0-9h0m0 2h0m1 3h0m0-1h0m1 9h0m1-8h0m0 1h0m0-4h0m0-1h0m0 6h0m0-7h0m1 13h0m0-9h0m0-1h0m0-2h0m1 2h0m0 7h0m0 3h0m0-11h0m0 7h0m0-2h0m1 6h0m0-2h0m0 2h0m0-7h0m0 0h0m0 3h0m0-2h0m1 4h0m0-3h0m1 0h0m0 6h0m1-3h0m0-2h0m0-5h0m0 2h0m1-6h0m0 11h0m0-6h0m0 2h0m0 6h0m1-8h0m0 3h0m1 5h0m0-5h0m0 2h0m0-1h0m1 1h0m0-1h0m1-8h0m0 7h0m0 1h0m0-5h0m0-4h0m1 6h0m0-3h0m0 10h0m1-1h0m0 1h0m0-3h0m0-8h0m1 8h0m1-1h0m0-9h0m0 5h0m0-4h0m0-1h0m0 12h0m0-9h0m1 9h0m1-10h0m0 5h0m0 7h0m0 0h0m1-13h0m0 0h0m0 4h0m1 7h0m0-8h0m1-3h0m0-1h0m0 6h0m0 8h0m1-1h0m1-3h0m0-1h0m1-1h0m0-4h0m0-1h0m0 7h0m0 1h0m0 3h0m1-10h0m0 6h0m0-1h0m1-3h0m0-3h0m0 5h0m0-6h0m2 5h0m0 5h0m1-6h0m0-2h0m0-4h0m0 6h0m2 8h0m0-12h0m1 8h0m0-1h0m0-5h0m1 8h0m0-4h0m0 2h0m1-5h0m0 9h0m0-12h0m1-2h0m0 13h0m0-1h0m0-10h0m0 6h0m0-3h0m0 6h0m0-7h0m1 6h0m0-2h0m0-7h0m1 7h0m0 2h0m1-2h0m1 0h0m1-7h0m0 6h0m0 2h0m0-3h0m0-5h0m1 0h0m1 4h0m0 9h0m0-5h0m0-5h0m1-3h0m0 4h0m0 4h0m2-3h0m1 5h0m0 3h0m1-4h0m0-9h0m0 2h0m0 4h0m0-1h0m0 1h0m1 0h0m1-1h0m0 3h0m0-4h0m0 7h0m0-2h0m1-6h0m0 1h0m0 4h0m2-2h0m0 6h0m0-10h0m1 1h0m0 8h0m0-1h0m0-10h0m1 10h0m0 3h0m0-8h0m0 8h0m1-6h0m0-4h0m2 2h0m0-4h0m0 12h0m0-9h0m2 1h0m1 7h0m1-8h0m0 1h0m1 6h0m0-10h0m0 8h0m0-5h0m0 0h0m1 8h0m1 0h0m1-3h0m0-9h0m0 13h0m0-13h0m2 3h0m0-1h0m0 4h0m0 7h0m1-12h0m0 6h0m1 6h0m0-11h0m1 4h0m0 7h0m0-7h0m0 0h0m0 2h0m1-5h0m1-1h0m1 10h0m1-11h0m0-1h0m0 10h0m0-11h0m2 14h0m0-11h0m0 0h0m0 1h0m1-2h0m0 1h0m2 6h0m0-2h0m1-1h0m0 3h0m1-7h0m0 11h0m0 1h0m1-2h0m0-6h0m0 7h0m0-12h0m1 5h0m1 6h0m2 0h0m0-10h0m1-2h0m1 8h0m0-2h0m1 5h0m0-3h0m1 5h0m1-3h0m0-8h0m1 2h0m2 9h0m1-9h0m0 0h0m0 1h0m1-5h0m1 11h0m0-4h0m0-6h0m0 5h0m0-3h0m1 8h0m1-11h0m1 10h0m0-9h0m2 9h0m0 2h0m1-12h0m1 14h0m2-5h0m2-7h0m1 11h0m1-7h0m0-1h0m2 0h0m0 7h0m0-10h0m1-2h0m0 13h0m1-9h0m0-2h0m1 12h0m1-10h0m0-3h0m2 9h0m0 0h0m1-10h0m2 3h0m5 4h0m0 1h0m9-7h0m1 5h0m4 2h0m1 3h0m-4 14h0m-2 3h0m-3-8h0m-3 9h0m-3-2h0m0-11h0m-1 0h0m-3 3h0m-3 0h0m0 7h0m-1-2h0m-4 0h0m-1 2h0m-1 2h0m-1-12h0m0 10h0m-1 0h0m-3-11h0m0 9h0m-1 4h0m-1-9h0m0 1h0m-1-4h0m-1 8h0m-1-5h0m0-1h0m-1-1h0m-2 2h0m-1 8h0m0-9h0m0-1h0m-2 2h0m-1-3h0m-1 5h0m-1 6h0m-1-12h0m0 10h0m0 2h0m-3-8h0m-1 6h0m0-4h0m-1 5h0m0-3h0m-1-6h0m0 3h0m-5 6h0m0-5h0m-1 8h0m0-9h0m0 6h0m-1-7h0m0 0h0m0 1h0m-1-2h0m0 1h0m0 1h0m-1-5h0m-1 10h0m-2-4h0m0-3h0m-1 1h0m0 3h0m-1-4h0m0 11h0m0-14h0m0 12h0m-1-10h0m0 5h0m-1 4h0m0-10h0m-1 7h0m-1-4h0m-1 2h0m0 4h0m-1 1h0m0-3h0m0 2h0m-1-5h0m0 5h0m-1-1h0m0-4h0m0 5h0m-1-3h0m-2-4h0m0 6h0m-1-9h0m-1 8h0m0-8h0m0 2h0m0 7h0m0-5h0m-3-4h0m0 3h0m0-1h0m0 0h0m-1-2h0m0 3h0m0 9h0m0-2h0m-1 0h0m0-9h0m0 7h0m0-2h0m0-4h0m0 5h0m-1-5h0m-1-2h0m0 13h0m0 0h0m0-5h0m0 3h0m-1-9h0m-1 8h0m0-6h0m0 4h0m-1-5h0m-1 5h0m-1 2h0m-1 2h0m0-2h0m0-9h0m-1 10h0m-1-9h0m0 2h0m0 8h0m0-2h0m0 2h0m0-8h0m0-1h0m-1 7h0m0 0h0m0-1h0m0-6h0m-1 8h0m0 0h0m0-4h0m0 0h0m-1 6h0m0-3h0m0-5h0m0-5h0m-1 2h0m0 6h0m0 1h0m0-2h0m0 6h0m-1-1h0m0-5h0m-1 4h0m0 1h0m-1-4h0m-1 5h0m0-4h0m0-4h0m-1 0h0m0 9h0m-1-10h0m0 6h0m0 2h0m-1-4h0m-1-8h0m0 6h0m0 8h0m0-2h0m0 0h0m-1-4h0m0 0h0m0 6h0m-1-2h0m-1-2h0m0 2h0m0-10h0m-1 10h0m0-1h0m0-11h0m0 6h0m0-4h0m-1-1h0m0 6h0m0 1h0m-1 0h0m0-5h0m0 8h0m-1 3h0m0-9h0m0-3h0m0 4h0m-1 0h0m0-6h0m0 10h0m0 4h0m-1-10h0m0 5h0m0-6h0m0 3h0m-1 0h0m0 0h0m0 6h0m-1-1h0m-1-7h0m0 1h0m0 5h0m0-6h0m0 6h0m-1-4h0m0-3h0m0 10h0m0-7h0m-1 1h0m-1-7h0m0 0h0m-1 12h0m0-10h0m0 2h0m0 6h0m0-3h0m-1-6h0m0 10h0m0 1h0m0-9h0m0-2h0m0 11h0m-1-5h0m0 1h0m0-8h0m0 6h0m0 7h0m-1-1h0m0-8h0m0 10h0m0-9h0m-1-2h0m0 10h0m0-4h0m-1-2h0m0 5h0m0 1h0m0-11h0m0 8h0m-1-1h0m0-5h0m-1 9h0m0-3h0m-1-7h0m0 7h0m-1 2h0m0-7h0m0 5h0m0-7h0m-1 7h0m0-10h0m0 8h0m0 1h0m0-1h0m-1-8h0m0 0h0m-1 4h0m0 2h0m0 2h0m-1 1h0m0 2h0m0-8h0m0 3h0m0-5h0m-1 10h0m0-7h0m0-3h0m0 8h0m-1-6h0m0 4h0m0-5h0m0 2h0m-1 9h0m0-7h0m0 3h0m0-2h0m-1 4h0m0-2h0m0-7h0m-1 12h0m-1-8h0m0-5h0m-1 0h0m0 3h0m0-2h0m0 10h0m0-9h0m0 10h0m0-13h0m-2 6h0m0-5h0m0 9h0m0-10h0m0 3h0m-1 4h0m0-5h0m0 10h0m-1-3h0m0-8h0m0 3h0m0 3h0m-1 3h0m0 1h0m0-2h0m0-5h0m-1-2h0m-1 0h0m0 10h0m0-11h0m-2 9h0m0 3h0m0-1h0m0 1h0m-1-3h0m0-3h0m0-2h0m-2-3h0m0 9h0m0-9h0m0 5h0m-1 6h0m0 1h0m0 0h0m-1-7h0m-1-2h0m-1-2h0m-1 11h0m0-2h0m0-10h0m0 4h0m-1 4h0m0 1h0m0-5h0m0 6h0m0-3h0m0 5h0m-1-11h0m0 6h0m0 1h0m0-7h0m-1 3h0m0 2h0m0-1h0m0 7h0m0 0h0m0-12h0m0 11h0m0-3h0m0-5h0m0-2h0m-1 7h0m0-7h0m0 11h0m0-6h0m-1 6h0m0-7h0m0 0h0m0-1h0m-1 7h0m0 1h0m0-7h0m0-7h0m-1 9h0m-1-1h0m-1 6h0m0 0h0m0-4h0m0-10h0m-1 5h0m0 9h0m-1-13h0m0 1h0m0 2h0m0 0h0m0-2h0m0 8h0m-1-5h0m0 6h0m-1-7h0m0 8h0m-1 2h0m-1-6h0m0 1h0m0-8h0m-1 7h0m0-1h0m-1 1h0m0-5h0m0 10h0m-1-11h0m-1-1h0m-1 7h0m0 2h0m0-3h0m0 6h0m-1-12h0m0 3h0m0 3h0m0-4h0m0 10h0m-1-8h0m0 6h0m-1 0h0m0-6h0m0-3h0m-1 2h0m0 3h0m0 3h0m0-1h0m-1-2h0m0-1h0m0-6h0m-1 6h0m-1-2h0m0 3h0m0 6h0m-1 1h0m0-12h0m0 12h0m-1 0h0m-1-1h0m0 1h0m0-14h0m-1 12h0m0-5h0m-1 4h0m-1-1h0m0-10h0m-1 8h0m-1-3h0m-1-2h0m-1 7h0m0 4h0m-1-4h0m0 3h0m-3-4h0m0 1h0m-1-7h0m-2 1h0m0 9h0m-2-1h0m0-5h0m0-6h0m-1 8h0m-2-8h0m-1 8h0m-1-1h0m-2 1h0m0-2h0m-1-4h0m-1 8h0m-3-4h0m-3-4h0m0 10h0m-3-3h0m-1-8h0m-1 4h0m-2 7h0m-4-6h0m0 7h0m-1-7h0m-4 2h0m-1 0h0m0 2h0m-12 1h0m-10 2h0m-12 14h0m2-4h0m6-8h0m0 12h0m1 0h0m0-6h0m3-2h0m4-1h0m2 4h0m1-2h0m1 1h0m0 4h0m0 1h0m2-2h0m1 2h0m2-10h0m1 2h0m1 9h0m1-10h0m0 0h0m2 11h0m1-4h0m0-9h0m0 3h0m1 1h0m1 1h0m2 4h0m2-6h0m4 7h0m1-9h0m0 2h0m2 2h0m0-4h0m1 10h0m2 1h0m0 0h0m0-9h0m2 4h0m0 6h0m0-3h0m1 0h0m1-6h0m0-1h0m1 6h0m1-1h0m0-1h0m1 3h0m0-2h0m1-2h0m0 5h0m1-3h0m0 5h0m2-9h0m0-4h0m1 13h0m3-1h0m0 0h0m1-3h0m1-7h0m0 6h0m0-1h0m0-1h0m3-1h0m0 8h0m0-13h0m0 2h0m1 3h0m0 8h0m0-10h0m0 7h0m1-6h0m1 4h0m0 4h0m1-9h0m0-3h0m0 12h0m0-5h0m1 0h0m0 1h0m2-4h0m1-2h0m0 8h0m0-1h0m0-6h0m0-1h0m1-2h0m0 2h0m0 8h0m1-11h0m0 3h0m1 11h0m0-9h0m0 4h0m1-5h0m1-1h0m0 10h0m0-9h0m1-2h0m1 2h0m0 10h0m1-2h0m0-7h0m1 9h0m0-13h0m0 2h0m0 1h0m1 10h0m0-7h0m1 3h0m0-7h0m1 2h0m0 5h0m0 3h0m1-2h0m1-5h0m0 1h0m0 2h0m0 3h0m0-6h0m0 5h0m1-5h0m0-5h0m0 5h0m1 1h0m0 7h0m1-6h0m0-8h0m0 5h0m0 0h0m1 0h0m0 0h0m1 9h0m0-5h0m0-6h0m0 3h0m2 6h0m0-7h0m0 6h0m0 2h0m1-12h0m0 2h0m1 11h0m1-14h0m0 11h0m0-3h0m0-3h0m0 4h0m0-3h0m0 7h0m1-11h0m0 12h0m0-7h0m0 1h0m1-7h0m0 13h0m0 0h0m1-4h0m0 3h0m1 1h0m1-14h0m0 5h0m0 8h0m0-13h0m0 13h0m1-7h0m2-1h0m0-2h0m0 10h0m0-3h0m0 1h0m0 0h0m0-11h0m0 3h0m1 4h0m0 2h0m0 5h0m0-12h0m0 6h0m0 5h0m1-1h0m0 2h0m1-10h0m0 10h0m0-8h0m0 4h0m0-7h0m0 4h0m1 0h0m0-4h0m0 1h0m0-2h0m0 5h0m1-2h0m1 4h0m0-6h0m0 4h0m0 1h0m0 0h0m0 0h0m0-7h0m1 2h0m0-2h0m1 9h0m1-1h0m0-2h0m0 6h0m1-5h0m0-6h0m0-2h0m1 9h0m0 1h0m0-7h0m0 0h0m0 2h0m1 8h0m0 1h0m0-11h0m1 8h0m1-7h0m1 6h0m0-3h0m1 0h0m0 1h0m0-2h0m0-6h0m1 13h0m0-13h0m0 12h0m1-12h0m1 14h0m0-11h0m0 4h0m0 2h0m0 4h0m0 0h0m0 0h0m1-6h0m0 1h0m0 1h0m0 4h0m0 1h0m1-4h0m1-7h0m0 8h0m0 1h0m0-11h0m1 9h0m0-4h0m0 6h0m1-2h0m0 4h0m0-3h0m1 2h0m0 1h0m0-11h0m0-1h0m1 1h0m0 5h0m1-8h0m0 1h0m1-1h0m0 12h0m0 1h0m0-11h0m0 2h0m1 10h0m0-2h0m0-6h0m0 1h0m1-1h0m0 3h0m0-3h0m0-4h0m0 7h0m0-3h0m0 6h0m1-3h0m0-5h0m0 0h0m0 4h0m0 0h0m1 1h0m0-4h0m1 6h0m0-2h0m0 3h0m0-1h0m1-4h0m0 3h0m1-7h0m0 6h0m1 2h0m0 0h0m0-5h0m0 7h0m0-12h0m1 11h0m1-12h0m0 13h0m0-8h0m0-1h0m1-4h0m0 4h0m0 0h0m1 5h0m0-2h0m1 2h0m1-1h0m0 2h0m1-9h0m0 12h0m0-8h0m1 2h0m0 4h0m0 2h0m0-2h0m0-2h0m1 0h0m0-9h0m0 1h0m1 6h0m0 4h0m1 2h0m1-3h0m0 3h0m0-3h0m0-1h0m0 2h0m0-11h0m1 2h0m0 10h0m0-7h0m1 4h0m0-8h0m0 11h0m0-1h0m1-5h0m0-6h0m1 14h0m0-8h0m0 5h0m0-7h0m0-1h0m1 3h0m0 4h0m0-5h0m0 2h0m0 3h0m0 2h0m1-9h0m0 5h0m0 3h0m0-11h0m1 14h0m0-1h0m0-13h0m1 8h0m0-2h0m1-4h0m0 2h0m1 10h0m0-9h0m0 3h0m0 4h0m0-3h0m1 2h0m0 3h0m0-8h0m0 6h0m0-10h0m1 7h0m0-2h0m1 3h0m0 3h0m0-3h0m1-5h0m0-2h0m0 7h0m0-7h0m1 8h0m0-2h0m0-9h0m0 5h0m1 5h0m0 2h0m0-10h0m1 11h0m1 0h0m0-5h0m1-3h0m0 2h0m0-4h0m0 9h0m1-8h0m0 7h0m0 1h0m1-2h0m1 0h0m0 1h0m1 1h0m0-7h0m0-1h0m1 8h0m0-6h0m0 0h0m0 0h0m0-4h0m0 3h0m0-2h0m1 5h0m0-1h0m0 1h0m1-7h0m0-1h0m0 8h0m1-1h0m0 7h0m0-5h0m0 3h0m0 2h0m0-3h0m1 0h0m0-6h0m0 9h0m0-12h0m1 2h0m1 8h0m0-12h0m0 2h0m1 12h0m0-8h0m0-4h0m2 7h0m0 5h0m0-3h0m1-1h0m2-5h0m0 8h0m0-2h0m1 1h0m1 0h0m0 1h0m0-4h0m1 2h0m0-7h0m1 3h0m1-4h0m0 6h0m0 2h0m1 1h0m0-8h0m0-4h0m0 6h0m0-3h0m1 8h0m1-4h0m1-1h0m0-5h0m0 12h0m0-2h0m1 0h0m0-10h0m0 7h0m0 5h0m0-4h0m0-9h0m2 0h0m0 1h0m1 5h0m0 2h0m0-8h0m0 4h0m2 6h0m0 4h0m1-6h0m0 2h0m0-2h0m1 5h0m0-9h0m0 4h0m0 2h0m1 2h0m0 1h0m0-1h0m0 0h0m1-9h0m0 5h0m1-2h0m1 3h0m0-7h0m1 1h0m0 10h0m0-11h0m0 4h0m2 7h0m0-7h0m0 5h0m0-3h0m0 5h0m2-1h0m0-10h0m2 0h0m0 2h0m0 9h0m0-6h0m0-2h0m1 7h0m1-2h0m1-5h0m1 6h0m0-11h0m3 11h0m1-3h0m1 2h0m0 4h0m0-12h0m0 1h0m0 3h0m1 7h0m0-5h0m1 2h0m1-5h0m1-3h0m1 7h0m0-1h0m0 3h0m1 1h0m0-7h0m1-3h0m1 8h0m2 3h0m0-4h0m0 2h0m1 1h0m1-12h0m2 10h0m1-6h0m0 1h0m1 7h0m2-7h0m2-2h0m0 8h0m1-4h0m2 2h0m0 3h0m4-2h0m0-6h0m1 1h0m0 1h0m0-1h0m1 6h0m2 3h0m2-13h0m1 8h0m1 0h0m3 1h0m1-7h0m4 1h0m1 10h0m4 15h0m-3-8h0m-5 3h0m-2-5h0m-1 3h0m0 4h0m-1-7h0m-1 4h0m-2 0h0m0 0h0m-1-4h0m-1 7h0m-1-1h0m-1-10h0m-1 3h0m0 2h0m0 0h0m-7 5h0m-1 1h0m0-4h0m-1-6h0m0 7h0m0-4h0m0 2h0m-1-2h0m0 4h0m-1 1h0m-1-8h0m-1 2h0m-1-2h0m0 9h0m-1-4h0m-1-5h0m0 10h0m0-10h0m-1 2h0m-1 10h0m0 0h0m0 1h0m-2-4h0m0 2h0m0 1h0m-1-5h0m0 1h0m-1 5h0m-1-4h0m-1 4h0m-1-9h0m0 0h0m-1-3h0m0 7h0m0 4h0m-3-7h0m0 0h0m-2-3h0m0 2h0m0 5h0m0-5h0m-2 1h0m-2 8h0m0-13h0m0 1h0m-1 6h0m0 4h0m-1-5h0m0 3h0m-1-8h0m0 5h0m-1-2h0m0-5h0m-2 13h0m-1-5h0m0 0h0m-1-4h0m0-3h0m-1 3h0m0 1h0m-1 4h0m0-8h0m0 11h0m0-2h0m-1 4h0m0-6h0m-1-6h0m0-1h0m0-1h0m0 6h0m-1 7h0m0-1h0m-1 0h0m0 2h0m-1-6h0m0 6h0m0-1h0m-1-2h0m-1-7h0m0 0h0m-1 10h0m0-11h0m0-3h0m-1 6h0m0-4h0m0 6h0m0-6h0m0 2h0m-1 1h0m0 0h0m0-2h0m0 2h0m-1-3h0m-1-2h0m-1 10h0m0-3h0m0-1h0m0-4h0m-1 4h0m0-2h0m0 5h0m0 4h0m-1-4h0m0-7h0m0 6h0m0 6h0m-1-4h0m0 0h0m0 2h0m0-4h0m-1-1h0m0-1h0m-1 8h0m0-3h0m0-6h0m0 6h0m-1 2h0m0-8h0m-1 2h0m-1-4h0m0 1h0m0-2h0m0 2h0m0 9h0m-1-9h0m0 5h0m0 4h0m-1-1h0m0 1h0m0-1h0m0 0h0m0-9h0m-1 1h0m0 8h0m0-8h0m0 7h0m0-6h0m-1 9h0m0-1h0m0-1h0m-1-1h0m-1 0h0m0 0h0m0-9h0m0 1h0m-1-3h0m-1 4h0m-1 10h0m0-6h0m0-7h0m0-1h0m-1 2h0m0 5h0m0-6h0m0 6h0m0-2h0m0 4h0m0 3h0m-1-2h0m0 2h0m-1 0h0m-1-6h0m0-6h0m0 2h0m0 0h0m0 7h0m-1-2h0m-1 3h0m0-8h0m-1 1h0m0 6h0m0-1h0m0-7h0m0 9h0m0-9h0m0 0h0m0 1h0m0 9h0m-1-9h0m0 11h0m0 1h0m-1-7h0m0 4h0m0-6h0m-1 4h0m-1-1h0m0 0h0m0-3h0m-1-4h0m0 13h0m0-13h0m-1 7h0m0 3h0m0-9h0m-1 5h0m0 6h0m0-6h0m-1-1h0m0 6h0m0-3h0m0-3h0m0-3h0m0 11h0m0-3h0m0-1h0m0 3h0m-1-13h0m0 3h0m0 4h0m0 7h0m-1-6h0m0 1h0m0 3h0m-1-12h0m0 6h0m-1-5h0m0 4h0m0 5h0m0-7h0m0 7h0m0-3h0m-1-4h0m0 5h0m0-6h0m-1 6h0m0 4h0m-1-10h0m0 10h0m0-12h0m0 1h0m-1 10h0m0-10h0m0 10h0m0 3h0m-1-13h0m0 12h0m-1-13h0m0 8h0m0-6h0m-1-2h0m0 7h0m0-3h0m0 8h0m-1 2h0m-1-9h0m0 9h0m0-12h0m0 12h0m-1-4h0m0 0h0m0-8h0m0 8h0m0 4h0m0-1h0m0-8h0m-1-3h0m0 0h0m0 12h0m0-4h0m0-6h0m0 7h0m0-4h0m0-3h0m-1 9h0m0-8h0m0 4h0m0-2h0m-1 7h0m0-2h0m0-11h0m0 9h0m-1-5h0m0 9h0m0-8h0m0 4h0m0 2h0m0-6h0m-1 1h0m-1-6h0m0 13h0m0-3h0m0-3h0m-1 2h0m0-3h0m0-4h0m0 2h0m0 5h0m0 1h0m0 1h0m-1 2h0m0-10h0m-1 3h0m0 4h0m0 2h0m0-13h0m-1 13h0m0 0h0m0-8h0m0-1h0m0 10h0m-1-13h0m0 4h0m-1 3h0m0 4h0m0-6h0m-1 8h0m0-14h0m0 13h0m-1-2h0m0 0h0m0-7h0m0 6h0m-1 4h0m0-1h0m0-11h0m-1 2h0m0 7h0m-1-7h0m0-4h0m0 14h0m-1-2h0m0-11h0m-1 13h0m0-11h0m0-1h0m0 4h0m0-5h0m0 0h0m0 9h0m-1 2h0m-1-12h0m0 13h0m-1 1h0m0-11h0m-1 0h0m0 8h0m0-11h0m0 11h0m0-11h0m-1 13h0m-1 1h0m0-1h0m-1 1h0m0-1h0m0-7h0m0 2h0m0 5h0m0-5h0m0 1h0m0 3h0m-1-4h0m0 3h0m-1 3h0m0-10h0m0 0h0m-1 6h0m0-9h0m0 1h0m0 8h0m-1 1h0m0 3h0m-1-11h0m0-3h0m0 9h0m-1 0h0m-1-6h0m0 3h0m0-3h0m0 8h0m0-11h0m-1 9h0m0 2h0m0-8h0m0-3h0m-1 8h0m-1-6h0m0 5h0m0-1h0m-1 4h0m0-4h0m0 0h0m0 2h0m0-7h0m-1 3h0m0 5h0m-1-5h0m0-2h0m0-2h0m0 2h0m-1 2h0m0-2h0m0 8h0m0-8h0m-1 9h0m0-6h0m0-4h0m-1 5h0m0-5h0m0 4h0m0-4h0m0 12h0m0-6h0m0 5h0m0-12h0m-1 14h0m0 0h0m0-7h0m-1-4h0m0 8h0m0 2h0m0-1h0m0-5h0m-1 7h0m0-13h0m0 3h0m0 2h0m0-2h0m-1 4h0m0-6h0m-1 1h0m-1 0h0m-1 4h0m0-4h0m0-2h0m-1 8h0m0-1h0m-1 1h0m0-7h0m0 7h0m0-5h0m0-3h0m0 9h0m0 1h0m-1-8h0m0-1h0m0 0h0m0 1h0m-2-3h0m0 10h0m0-9h0m-1 2h0m-1 5h0m0 6h0m-1-10h0m0 5h0m0-4h0m0-1h0m-1-4h0m0 5h0m-1 1h0m0 6h0m-1 1h0m0-11h0m0 12h0m-1-4h0m-1 4h0m0-10h0m-1-4h0m0 2h0m0 12h0m-1 0h0m-1-7h0m0-2h0m0 8h0m-1-10h0m0 5h0m0 3h0m-1 1h0m0 0h0m-1 2h0m0-5h0m0-2h0m-1 0h0m0-6h0m-1 13h0m0-8h0m-1-6h0m0 0h0m0 10h0m-1 0h0m-1 2h0m0-1h0m-1 0h0m0-5h0m-1 4h0m0 4h0m-1-5h0m0 4h0m0-12h0m-1 8h0m0-7h0m0 4h0m0 8h0m-1-4h0m-1-3h0m0-7h0m-1 2h0m0-1h0m-1 5h0m0-5h0m-1 8h0m0-2h0m0 3h0m-1 1h0m0-2h0m0 4h0m-1-7h0m-1 2h0m-1-4h0m0 3h0m0-2h0m-1 6h0m0-1h0m0-1h0m0-8h0m0-1h0m-1 0h0m0 13h0m-1-1h0m0-12h0m0 7h0m0-3h0m-1 10h0m0-6h0m-1-3h0m0-4h0m0-1h0m0 5h0m-1 8h0m0-6h0m-1-1h0m-1-5h0m0 2h0m0 9h0m-1-11h0m-1 11h0m0-9h0m0 6h0m0 4h0m-1-9h0m0 6h0m-1-1h0m0 0h0m0-7h0m0-2h0m-1 10h0m-1-6h0m-1 0h0m0 4h0m0-5h0m0-1h0m-1 5h0m0 1h0m0-5h0m-1 8h0m0-6h0m-1-1h0m0 0h0m0 2h0m0 6h0m-1-8h0m-1 9h0m-1-1h0m0 2h0m-1-1h0m0-2h0m0-8h0m-1-3h0m-2 13h0m0-12h0m0 13h0m-1-9h0m0 8h0m0-7h0m0-1h0m-1 1h0m-1-2h0m-1 9h0m-1-10h0m-1 0h0m0-1h0m0 2h0m-1-4h0m-1 9h0m0 3h0m-1-4h0m-1-1h0m0 3h0m0 3h0m-1-2h0m-2 3h0m-1-14h0m0 9h0m0 4h0m-1-11h0m0 2h0m0 3h0m0 0h0m-2 6h0m0-2h0m-1-10h0m0 8h0m-1 3h0m-3 2h0m0-6h0m0-4h0m-1 9h0m-1-4h0m0 0h0m-1-8h0m0 9h0m0-1h0m-1 5h0m-2-10h0m-2 1h0m0 6h0m-1-1h0m0-10h0m0 9h0m0 1h0m0 2h0m-1-12h0m0 8h0m-2-2h0m-1 3h0m-1-2h0m-1 6h0m-1-2h0m0-9h0m0 3h0m-1 3h0m0 4h0m-1-12h0m-1 5h0m0-4h0m-1-1h0m-2 8h0m0-4h0m-1 1h0m7 12h0m1 7h0m0-5h0m1 8h0m0-8h0m2 2h0m2-1h0m0 0h0m1-3h0m2-1h0m0 10h0m4-2h0m0 4h0m1-5h0m0 0h0m1-8h0m1 11h0m0-4h0m0-7h0m1 9h0m1 4h0m1-9h0m0 6h0m1-5h0m0 5h0m0 4h0m0-12h0m2 1h0m1 5h0m0-1h0m1-1h0m0-5h0m1 6h0m0 5h0m1-3h0m1 0h0m0 1h0m0 4h0m1-6h0m0-2h0m1 7h0m0-1h0m1-1h0m0-6h0m2 4h0m1 1h0m0-5h0m1-1h0m2 2h0m1 2h0m0-2h0m1-4h0m0 4h0m1 7h0m0-6h0m1-7h0m0 8h0m1 5h0m0-12h0m2 5h0m0-4h0m1 1h0m1-1h0m1 1h0m0 3h0m0-2h0m1 1h0m0 2h0m0-5h0m1 7h0m0-9h0m0 3h0m1 5h0m1 2h0m0-5h0m0-3h0m0 12h0m0-2h0m1-3h0m0-4h0m0-3h0m0 7h0m1 4h0m1-8h0m0 0h0m0-5h0m0 14h0m0-14h0m1 11h0m0 0h0m0-8h0m0 9h0m0-8h0m0-1h0m1 4h0m1-2h0m0 5h0m1 2h0m1-12h0m0 7h0m0 3h0m1-5h0m0 7h0m0-2h0m1 4h0m0-12h0m3-2h0m1 5h0m1-2h0m0 8h0m0-9h0m0 4h0m1 6h0m0-12h0m0 11h0m0 3h0m1-3h0m1-9h0m1 2h0m1 2h0m0 2h0m2 4h0m1-11h0m1 1h0m0 4h0m3-4h0m0 7h0m2 0h0m2-9h0m1 1h0m1 3h0m0-4h0m1 11h0m0 2h0m0-8h0m1-2h0m0 4h0m1-7h0m0 4h0m2-1h0m0 9h0m2-10h0m1 8h0m0-6h0m1 10h0m1-6h0m2 1h0m2-6h0m0 11h0m1-11h0m0 1h0m1 5h0m0-3h0m1 6h0m0-2h0m0-6h0m1-1h0m1 1h0m1-1h0m0 1h0m0 2h0m1-5h0m1 2h0m0 4h0m1 3h0m1-2h0m0-8h0m0 1h0m1 5h0m0-4h0m1-2h0m1 13h0m0-8h0m0-1h0m0 9h0m0-13h0m0 4h0m1 10h0m0-5h0m1-6h0m0 5h0m0 5h0m0-5h0m0-8h0m0 3h0m1 0h0m0-1h0m1 2h0m0 10h0m1-13h0m0 0h0m1 5h0m1 4h0m1-5h0m0 1h0m0 7h0m1-4h0m1 4h0m0-13h0m0 12h0m1-2h0m0 3h0m0-6h0m1 6h0m0-8h0m0 8h0m1-9h0m0-3h0m0 9h0m0 2h0m0 2h0m2-10h0m0 3h0m0 5h0m0-12h0m0 9h0m1-8h0m0 1h0m0 7h0m1-3h0m0-6h0m0 7h0m1 3h0m0 2h0m1-10h0m1 11h0m0-9h0m1 7h0m0-11h0m0 9h0m0 2h0m1-1h0m0 3h0m0-6h0m0-4h0m0 1h0m0 0h0m1 0h0m0 7h0m1 3h0m0-3h0m0-4h0m1-5h0m0 2h0m1 7h0m0-11h0m0 8h0m0-3h0m0 5h0m1-8h0m0 2h0m0 8h0m0-8h0m0-1h0m1 7h0m0 4h0m0-14h0m0 9h0m0-6h0m0 10h0m1 0h0m0-9h0m0 6h0m1-5h0m0 7h0m0-12h0m0 4h0m1-4h0m0 2h0m1 12h0m1-2h0m0-2h0m0 3h0m0-12h0m0-1h0m1 9h0m0-6h0m0-1h0m0 9h0m0 3h0m0-1h0m0-13h0m1 10h0m0-7h0m0 1h0m0-2h0m0 0h0m1-2h0m0 9h0m0-7h0m0 1h0m3-3h0m0 12h0m1-8h0m0 3h0m1-6h0m0 0h0m0-1h0m1 12h0m0-8h0m1 10h0m0-3h0m1-8h0m0-1h0m0 9h0m0-7h0m1 3h0m0 4h0m0-1h0m0-7h0m0 5h0m2 4h0m0-6h0m1-5h0m0 9h0m0 3h0m0-11h0m1 5h0m0 3h0m1-4h0m0 6h0m0-10h0m1 12h0m0-12h0m0 9h0m1-2h0m0-2h0m1 3h0m0-8h0m0 5h0m1-1h0m0-3h0m0 11h0m0-11h0m0 8h0m1-7h0m0 4h0m0-4h0m0-3h0m1 1h0m0 2h0m0 5h0m0 5h0m1-11h0m0-1h0m1 9h0m0-6h0m1 7h0m0 2h0m0-8h0m0-6h0m1 5h0m0 9h0m0-5h0m1 1h0m0-5h0m0 0h0m1 7h0m0 2h0m1-2h0m0-12h0m1 3h0m0-1h0m0 1h0m0 3h0m1-1h0m0 2h0m0 6h0m0-12h0m0 12h0m0-3h0m1 4h0m0 0h0m0-8h0m0 8h0m0-4h0m1 0h0m0-5h0m0 7h0m0-9h0m1 1h0m0-3h0m0 2h0m0 10h0m1-6h0m0 3h0m1 0h0m0 1h0m0 2h0m1-6h0m1 0h0m1 6h0m0-9h0m1 0h0m0 8h0m0-5h0m1 4h0m0 2h0m0-1h0m0-8h0m1 5h0m0-5h0m1 1h0m0-5h0m0 1h0m0 13h0m1-4h0m0-3h0m0 1h0m0 6h0m1-11h0m0 11h0m1 0h0m1-4h0m1-9h0m1 4h0m0 7h0m0-3h0m1-9h0m1 8h0m1-5h0m0 11h0m0-10h0m1 5h0m0-3h0m0-5h0m0 12h0m1-11h0m0 12h0m0-8h0m1 7h0m0-3h0m0-2h0m0-2h0m0-2h0m1 4h0m0 0h0m0-4h0m0 5h0m1 3h0m0-8h0m0 5h0m1 2h0m0 3h0m0-7h0m1-1h0m0 7h0m0 1h0m0-10h0m1 6h0m0 4h0m0-3h0m1 1h0m1-10h0m0 2h0m0 2h0m1 0h0m0 8h0m0-13h0m0 2h0m1 9h0m0-12h0m0 13h0m0-8h0m1 7h0m0-1h0m0-6h0m1 0h0m3-5h0m0 7h0m1 0h0m0-2h0m1 0h0m0 8h0m1-6h0m1 2h0m0-6h0m1 9h0m0 0h0m0-4h0m0 0h0m1 1h0m0-4h0m0 2h0m1 0h0m0 0h0m0-2h0m1-2h0m2-3h0m0 12h0m1 0h0m1-11h0m0 4h0m1 9h0m0-3h0m2 2h0m1 1h0m1-6h0m0-1h0m1-1h0m0 0h0m1 1h0m0-7h0m1 14h0m1-4h0m0-4h0m1-3h0m0 7h0m1-10h0m4 1h0m0 7h0m1 6h0m3-13h0m0 12h0m5-12h0m0 7h0m1 5h0m0-2h0m1-9h0m0 9h0m1-6h0m3 5h0m0-10h0m1 3h0m0 6h0m6 0h0m0 5h0m2-4h0m0-3h0m0 6h0m0-7h0m1-3h0m0-1h0m1 11h0m1-1h0m4 11h0m0-8h0m-2 2h0m0-2h0m-2 11h0m-1-8h0m-1 6h0m0 4h0m-2-8h0m0 4h0m-3 5h0m-1-7h0m0-1h0m0 4h0m-2-5h0m0-2h0m0 7h0m-2 0h0m-1-7h0m-1 6h0m-2-7h0m-4 11h0m-1-9h0m0 5h0m-1-7h0m0 5h0m-2-5h0m0 6h0m-1-8h0m0 10h0m0-5h0m-3 3h0m-1-2h0m0 6h0m-1-11h0m0 5h0m0-2h0m0 6h0m-1-9h0m-1 6h0m0-3h0m0 2h0m-1 0h0m0-6h0m-3 8h0m-1 2h0m-1 1h0m0 2h0m-1-4h0m0 4h0m-1-1h0m0-12h0m0 5h0m-1 9h0m-1-6h0m-2 0h0m0-5h0m0 7h0m0 3h0m0-5h0m0-7h0m-1 3h0m0 10h0m0-6h0m0 4h0m0-2h0m-1 2h0m-1-12h0m0 12h0m0-11h0m0 9h0m0-2h0m-1 0h0m-1 2h0m0-3h0m0 0h0m-1 6h0m0-10h0m0-1h0m-1 4h0m-1 0h0m-1-5h0m-2 10h0m0-9h0m0 7h0m0 1h0m0-7h0m0-3h0m-1 13h0m-1-6h0m-1 1h0m0 5h0m0-7h0m-1 0h0m0 7h0m-2-1h0m0-2h0m0-3h0m-1 7h0m-1-2h0m0-4h0m0 3h0m0-7h0m0 2h0m-1 5h0m0-6h0m-1 0h0m0 9h0m0-4h0m-1 2h0m-1 2h0m0-7h0m-2-4h0m0 1h0m-1 10h0m0-4h0m0-10h0m0 13h0m0 1h0m-1-5h0m0-4h0m0-5h0m0 2h0m0 11h0m0-8h0m0 5h0m-1-5h0m-1 0h0m0 8h0m0-4h0m-1-5h0m-1 2h0m0 8h0m0-11h0m0-1h0m0-1h0m0 6h0m-1-5h0m0 9h0m0-4h0m-1-5h0m0 0h0m0 11h0m-1-5h0m0 2h0m0-7h0m-1-2h0m0-1h0m-1 2h0m0-1h0m-1 5h0m0 3h0m-1 5h0m0-3h0m0-2h0m-1-4h0m0-4h0m0 13h0m0-6h0m-1 5h0m-1-12h0m0 6h0m-1-4h0m0-3h0m0 5h0m-1 1h0m0-2h0m0 7h0m-1-3h0m-1-4h0m0 5h0m0 5h0m0-13h0m0 2h0m0-1h0m-1 2h0m0-4h0m-1 11h0m0-5h0m0 2h0m-1-5h0m0-3h0m-1 10h0m0-9h0m-1 2h0m0 10h0m0-7h0m0 4h0m-1-1h0m0 3h0m0-7h0m0-5h0m-1 3h0m-1 2h0m-1-1h0m0 5h0m0 4h0m0 0h0m0-2h0m0-8h0m-1-3h0m0 7h0m-1-6h0m0 11h0m-1-10h0m0 7h0m-1-4h0m0 3h0m-1 6h0m0-1h0m0-5h0m0 1h0m0 5h0m0-6h0m-2-5h0m0-2h0m0 11h0m0-2h0m0-5h0m0 1h0m0-2h0m-1-2h0m0 8h0m0 0h0m0-10h0m-1 14h0m0-12h0m-1-1h0m0 3h0m0-4h0m0 11h0m0-3h0m-1 5h0m0-11h0m0 1h0m-1 10h0m0-8h0m0 2h0m0-5h0m-1 7h0m0-2h0m-1-7h0m0 0h0m-1 9h0m0-2h0m0-5h0m-1 12h0m-1-10h0m-1 3h0m0-3h0m0-1h0m-1 0h0m0 2h0m0 5h0m0-7h0m-2 5h0m0-8h0m0 2h0m0 4h0m0-4h0m0 12h0m0-14h0m0 4h0m0 9h0m-1 0h0m0-8h0m-1 7h0m0 0h0m-1-9h0m0 9h0m0-6h0m0 4h0m-1 4h0m0-1h0m-1-7h0m0-1h0m0 7h0m-1-8h0m-1 7h0m0 3h0m-1-12h0m0 5h0m-1-3h0m0 6h0m-2-7h0m0-3h0m-2 10h0m0-8h0m0 4h0m-1-1h0m0 2h0m-1-1h0m0-1h0m0-3h0m-1-1h0m0 0h0m-2 5h0m0 1h0m-1-5h0m0 0h0m0 0h0m0 2h0m0 8h0m-1-3h0m0 5h0m-1-14h0m0 4h0m-1 9h0m-1-12h0m-1 5h0m0-1h0m-1-4h0m0 8h0m-1-6h0m0-2h0m-1 5h0m0-6h0m0 13h0m0-10h0m-1 9h0m0-4h0m0-7h0m0 9h0m-1-6h0m-1 6h0m0-4h0m0 1h0m0-4h0m0-2h0m-1 5h0m-1-1h0m-1 9h0m0-3h0m0-6h0m-1-1h0m0 5h0m0-1h0m-1 1h0m-1-5h0m-1-3h0m0 9h0m-1-9h0m0 2h0m0 10h0m-1-13h0m0 9h0m-1-7h0m0 8h0m0 0h0m-1-4h0m-1 4h0m-1-7h0m-2 2h0m-1 0h0m0 3h0m-3 3h0m-3-11h0m0 8h0m0-8h0m0 10h0m-1-7h0m-1 7h0m-5-3h0m-1-4h0m-3 10h0m-2-3h0m-1-10h0m-4 12h0m-2-4h0m0-2h0m0 5h0m0-8h0m-1 9h0m0-4h0m-1-8h0m-1 12h0m0-10h0m-1-2h0m0 13h0m-1-1h0m-2-11h0m-1 6h0m0-3h0m-1 4h0m0-6h0m-1-1h0m-1 5h0m0-1h0m0-2h0m0 1h0m-1 0h0m0 7h0m0 0h0m-2-11h0m0 7h0m-1 1h0m0-2h0m-2 3h0m0-4h0m-1 9h0m0-1h0m0-13h0m-1 11h0m0-1h0m-1 1h0m0 3h0m-1-7h0m-1-2h0m0-5h0m0 8h0m-1 0h0m0 6h0m0-9h0m0 4h0m-2-5h0m-1-2h0m-2 3h0m0 6h0m-1-4h0m0-5h0m0 3h0m-1 3h0m0 2h0m0 3h0m0-7h0m-1 6h0m-1 1h0m0-12h0m0 9h0m0-5h0m-1-3h0m0 2h0m-1 9h0m-1-1h0m0-7h0m-1-3h0m0 2h0m-1 9h0m0 1h0m0-8h0m-1-2h0m0 9h0m-1-1h0m-1 0h0m0-6h0m-1 1h0m-1 1h0m-2 6h0m0-14h0m-1 13h0m0-12h0m-1 12h0m0 0h0m0-4h0m-1-7h0m-2 11h0m-1-13h0m-16 0h0m0 2h0m-7-1h0m-12 26h0m4 1h0m7-2h0m3 1h0m1 2h0m1-1h0m2-8h0m0 7h0m1-1h0m0 3h0m0-8h0m0 6h0m2 2h0m2-7h0m0 3h0m1 2h0m0-2h0m0-8h0m2 4h0m2 5h0m0-3h0m0-1h0m2 2h0m2-1h0m1-4h0m0 10h0m2-4h0m1 4h0m0-6h0m1-5h0m1 2h0m1-5h0m0 0h0m0 9h0m0-1h0m1-4h0m0 5h0m0-4h0m3 1h0m1 7h0m1-8h0m0-5h0m0 9h0m2-9h0m0 2h0m1 12h0m1-12h0m0 8h0m1 4h0m1-6h0m1 3h0m0-5h0m1 8h0m1-10h0m0 2h0m1 1h0m1 4h0m0-1h0m1-6h0m1 8h0m0-12h0m0 9h0m0 3h0m1-12h0m1 14h0m0-1h0m0-1h0m1-10h0m0 10h0m1 1h0m1 0h0m0-5h0m0 6h0m0 0h0m1-14h0m0 7h0m0-7h0m1 5h0m0-4h0m0 3h0m2 9h0m0-7h0m0 3h0m0-8h0m0 9h0m0-8h0m1-2h0m0 8h0m0 2h0m0-9h0m1-1h0m0 0h0m0 3h0m1 11h0m1-8h0m0 4h0m0-1h0m3 2h0m1-7h0m0 1h0m0-5h0m0 1h0m2 10h0m1-7h0m2 8h0m1-3h0m0-2h0m1-2h0m0 2h0m0 1h0m1 4h0m0-5h0m2 7h0m2-2h0m0-10h0m0 2h0m0 2h0m1 1h0m2-4h0m0 10h0m0-5h0m1-1h0m2 4h0m0-4h0m0 2h0m1 1h0m0-6h0m1 6h0m3-3h0m1-2h0m1 3h0m0-3h0m0 2h0m0 5h0m2-5h0m1 3h0m0 0h0m1-6h0m3 0h0m2 0h0m1 6h0m0-8h0m1 9h0m1 2h0m0-13h0m0 3h0m0 11h0m1-8h0m2-4h0m2 10h0m2-6h0m0-4h0m0 9h0m0-10h0m0 11h0m0 1h0m2-5h0m0 6h0m2-8h0m0 5h0m1 1h0m0-9h0m0-2h0m1 11h0m0-12h0m0 2h0m1 1h0m1-1h0m0 8h0m0-10h0m0 6h0m0-5h0m0 0h0m3 4h0m0 3h0m1 4h0m2 1h0m0-12h0m0 1h0m2-2h0m0 12h0m0 0h0m1 1h0m1-4h0m1-7h0m0 0h0m1 12h0m0 0h0m1-14h0m0 2h0m1 8h0m0-9h0m1 7h0m1-7h0m2 2h0m1 4h0m0 0h0m0 6h0m1-2h0m0-3h0m3-3h0m0-4h0m0 4h0m1 5h0m1-4h0m0 0h0m1 3h0m0-5h0m1-3h0m2 8h0m0-1h0m1-1h0m1 7h0m1-2h0m1-5h0m1-5h0m0-1h0m1 6h0m0-2h0m0-4h0m1 2h0m0 4h0m0-7h0m1 4h0m1 3h0m0-3h0m0 8h0m2-11h0m0 12h0m1-2h0m0-10h0m1 12h0m1-7h0m0-2h0m0 0h0m0-3h0m1 13h0m0-14h0m1 2h0m0-1h0m0 2h0m1-2h0m0 2h0m0 8h0m1-3h0m0 5h0m0-7h0m1-2h0m0 2h0m0 7h0m1-13h0m0 10h0m0-7h0m1-1h0m0 4h0m1 2h0m0 4h0m0-3h0m0-9h0m2 8h0m0-2h0m1 8h0m0-2h0m1-3h0m0 1h0m1 3h0m0-1h0m0-1h0m1 1h0m0-6h0m0-2h0m0 2h0m0 2h0m0-4h0m0 7h0m0-10h0m1 11h0m0-10h0m1 1h0m0 5h0m1-7h0m0-1h0m0 1h0m2-1h0m0 12h0m0 2h0m1-7h0m1 3h0m0 4h0m0-14h0m0 3h0m1 9h0m0-6h0m0 6h0m1-5h0m0-6h0m0 1h0m0 5h0m1-5h0m0 12h0m1-12h0m2-1h0m0 5h0m1 1h0m1-4h0m0 3h0m0 1h0m0 4h0m2-6h0m0 4h0m1-5h0m2-4h0m1 11h0m0 2h0m0 0h0m1-7h0m0-5h0m0 7h0m0-2h0m1-3h0m0 10h0m0-3h0m1 1h0m0-9h0m1 12h0m0-4h0m1-1h0m0-3h0m0 7h0m1-2h0m0 2h0m0-1h0m0-5h0m3-6h0m0 7h0m0-4h0m0 10h0m1 0h0m0 0h0m1-11h0m0 9h0m0-9h0m0 8h0m1-11h0m0 0h0m1 0h0m0 6h0m0 5h0m0-8h0m1 8h0m0-9h0m0 5h0m1-6h0m0 8h0m0-5h0m1-3h0m0 13h0m0-10h0m1-2h0m0 4h0m1 1h0m1 1h0m0 3h0m0-8h0m0 11h0m1-3h0m0-9h0m1 3h0m0 6h0m0-5h0m0 0h0m1 4h0m1-2h0m0 5h0m0-7h0m0-3h0m1-2h0m0 3h0m1 0h0m0 7h0m1 0h0m1-9h0m1 0h0m1 6h0m1-8h0m1 6h0m1 6h0m0-3h0m0 2h0m0-4h0m0 4h0m1-9h0m0-1h0m0 5h0m0-4h0m0-2h0m1 5h0m1 7h0m0-9h0m0 5h0m0-2h0m0-2h0m1 0h0m0 6h0m1-5h0m0 9h0m1-9h0m0-3h0m0-1h0m1-1h0m0 0h0m0 5h0m1 0h0m3 5h0m1-6h0m1-1h0m0 4h0m2 1h0m1-4h0m2 9h0m1 0h0m0 1h0m1-8h0m0-5h0m1 0h0m0 10h0m1-7h0m0-3h0m0 7h0m2-5h0m1 7h0m0-3h0m0 2h0m1-1h0m0 5h0m2-12h0m4 5h0m0-5h0m0 1h0m3 0h0m0 8h0m1-3h0m2 1h0m2 1h0m1-9h0m1 12h0m0 1h0m1-2h0m2 1h0m2-2h0m1-1h0m2-2h0m5 2h0m0 15h0m-3 0h0m-1 0h0m-2-2h0m0-3h0m-1 3h0m-1-6h0m-3 10h0m-3-10h0m-1 11h0m0 0h0m0-7h0m-3-5h0m-1 5h0m-1 9h0m0-11h0m0 11h0m0-11h0m-2 4h0m-4 1h0m-3 4h0m0 1h0m-3-7h0m-3 2h0m0 3h0m-2 2h0m-1-4h0m-1 3h0m0-5h0m-2-1h0m0-5h0m0 2h0m0 2h0m-1-5h0m0 11h0m-1-7h0m-1 7h0m0-4h0m0-6h0m-1 6h0m-1-7h0m-2 4h0m-1 10h0m0-14h0m0 6h0m0-5h0m0 6h0m-1 2h0m-1-9h0m0 2h0m0 7h0m-1 2h0m0 3h0m0-2h0m0-7h0m-3 4h0m0 0h0m0-3h0m0 0h0m0 4h0m-1-10h0m-1 4h0m0 3h0m-2 5h0m0-7h0m-1 5h0m0 1h0m0-1h0m0 1h0m0-7h0m-1 2h0m0-3h0m0 1h0m0 6h0m-1-8h0m0 11h0m-1-12h0m0 4h0m-1-5h0m0 11h0m0-11h0m-1 1h0m0 10h0m0 0h0m0-11h0m-1 3h0m0 0h0m0 6h0m0 1h0m-1 0h0m-1-7h0m0 5h0m-1-6h0m0-1h0m0 13h0m-1-6h0m0-6h0m0-1h0m0 10h0m0 0h0m-1-6h0m0 1h0m0-1h0m-1 5h0m0 2h0m-1-11h0m0 6h0m0-3h0m-1 2h0m0 7h0m0 1h0m0-2h0m0 1h0m-1-8h0m0-3h0m0 0h0m0 7h0m-1 3h0m0-7h0m0 3h0m0 3h0m0 1h0m-1-6h0m0-5h0m-1 1h0m-1 12h0m0-9h0m0 4h0m0-7h0m-1 9h0m0-1h0m0-6h0m0 3h0m0 0h0m-1-2h0m0-3h0m0 7h0m0-2h0m0 4h0m0 3h0m0-8h0m0 3h0m-2-8h0m-2 8h0m0-2h0m-1 2h0m-1 1h0m0-8h0m0 5h0m-1 5h0m0-6h0m0 3h0m0-7h0m-1 1h0m-1 5h0m0-1h0m0-7h0m0 14h0m-1 0h0m0-2h0m0-8h0m0 5h0m0-5h0m0 7h0m-1 2h0m0-7h0m0-2h0m-1-4h0m0 8h0m-1 4h0m0-6h0m-2 3h0m0-7h0m0-1h0m0-1h0m0 10h0m0-9h0m-1 5h0m0 3h0m0-4h0m-1 2h0m0-7h0m-1 12h0m0-3h0m0-3h0m0 5h0m-1 0h0m0-9h0m0 0h0m-1 10h0m-2-4h0m-1-5h0m0 9h0m-1-1h0m0 2h0m0-4h0m0-4h0m-1 5h0m-1 1h0m0 0h0m0-1h0m0-6h0m0 6h0m0-10h0m-1 5h0m0-2h0m0 1h0m0 2h0m0-6h0m-1 0h0m0 12h0m0-3h0m-1 0h0m0-6h0m0 8h0m-1-8h0m-1-3h0m-1 8h0m0 6h0m0 0h0m-1 0h0m-1-8h0m0 2h0m-1-5h0m0 1h0m0 4h0m-1 6h0m0-14h0m-1 4h0m0 4h0m0-5h0m-1 5h0m-1-8h0m0 14h0m0 0h0m-1-12h0m0 2h0m-1-3h0m-1 2h0m-1 7h0m0-7h0m-1 1h0m0-2h0m0-1h0m-1 9h0m0 3h0m-3-6h0m-1 3h0m0-7h0m-1 6h0m-2 2h0m-1 2h0m0 0h0m-1 0h0m0-8h0m0-5h0m-1 9h0m0 3h0m0-3h0m-1-6h0m-1 10h0m0-12h0m-1 4h0m-1-4h0m0 5h0m0-1h0m-2 4h0m-1-9h0m0 6h0m-2-1h0m-1 4h0m0-7h0m-1 2h0m-1 5h0m-1-8h0m0 9h0m0 0h0m-4 2h0m-2-2h0m-1-9h0m0 9h0m0-4h0m0-5h0m-1 11h0m0-9h0m-1 1h0m0 0h0m-1 4h0m-2-1h0m0-5h0m-1 3h0m-1 5h0m0-2h0m-1-1h0m0-4h0m0-3h0m0 6h0m-1-2h0m0 10h0m-2-12h0m-1 3h0m-1 1h0m0-6h0m0 7h0m0-4h0m-1-2h0m-1-1h0m0 10h0m-1-1h0m-2-3h0m-1 4h0m0 3h0m-1-11h0m-3 8h0m-1-1h0m-1-6h0m-1 2h0m-4-2h0m-4 5h0m0 0h0m0 6h0m-1-10h0m0 9h0m-1-3h0m-1 3h0m-1-9h0m-1-1h0m-1 8h0m-1 0h0m-1 1h0m0-4h0m-2-5h0m0 7h0m0-1h0m-1-4h0m0-5h0m0 2h0m-3 11h0m0-2h0m-1-11h0m0 3h0m-1 4h0m-1 3h0m-1-6h0m0-2h0m-1 8h0m0-7h0m-1-2h0m0 4h0m-1-1h0m0 2h0m-1 3h0m0-8h0m-1 10h0m-1 1h0m0-10h0m0 5h0m-1 4h0m-1-1h0m0-5h0m0-2h0m-1 7h0m-1 4h0m0-3h0m0-6h0m-1-1h0m0 6h0m-1-4h0m0 3h0m-1-3h0m-2 1h0m-1-1h0m-1 2h0m0-6h0m-1-1h0m0 2h0m-1 10h0m-1-4h0m0-7h0m0 10h0m0-11h0m0 9h0m-2-5h0m0 3h0m-1-1h0m0 2h0m0 3h0m-3-2h0m-1-5h0m0 9h0m0-13h0m-1 2h0m-3 5h0m-1-2h0m0-2h0m0 5h0m-1 5h0m0-10h0m0 6h0m-1-2h0m-2 5h0m-1 0h0m-1-4h0m-1-6h0m0 3h0m0-4h0m-1 7h0m-1 2h0m-3 0h0m-1-5h0m-1 0h0m0 3h0m-2 3h0m-1-12h0m-1 6h0m0 0h0m0 8h0m-1-1h0m-1-13h0m-2 4h0m-2 0h0m0 5h0m-1 3h0m-1-8h0m-1 8h0m-1-6h0m0 7h0m0-5h0m0-7h0m0 7h0m0-6h0m-1 9h0m0-6h0m-1 9h0m0-14h0m0 9h0m-1-2h0m-1 1h0m-1 4h0m0 2h0m0-6h0m0 0h0m-3-2h0m0 0h0m0 7h0m0-3h0m-1-10h0m-3 2h0m-2 7h0m-1-1h0m0-6h0m-1-2h0m0 12h0m-1-4h0m-2-1h0m0-7h0m0 3h0m-1-2h0m0 13h0m-2-10h0m0 1h0m-1-3h0m0 12h0m-1-7h0m0 2h0m0-3h0m0 2h0m-1 6h0m-2-4h0m-1 4h0m-3-7h0m6 11h0m2-2h0m2 0h0m1 3h0m1-4h0m2 0h0m1 7h0m2 3h0m1-5h0m0-1h0m1-2h0m0 2h0m0-2h0m3 4h0m5 3h0m1 1h0m1-7h0m1 1h0m1 6h0m0-5h0m1 0h0m0 1h0m1 5h0m3-2h0m0-5h0m0 6h0m1-2h0m0 3h0m1-3h0m1 5h0m1-1h0m1-3h0m2 3h0m5-3h0m1-7h0m0 1h0m0 5h0m0-4h0m0 6h0m0 2h0m0-2h0m1 4h0m0-3h0m0-6h0m1-1h0m0 1h0m0 9h0m2-13h0m2-1h0m2 5h0m0-3h0m0 2h0m2 6h0m4-4h0m0-6h0m1 8h0m1 3h0m0-10h0m1 3h0m0-2h0m0 3h0m1 2h0m0 7h0m0-4h0m1-2h0m1 3h0m0-6h0m1 4h0m0 1h0m1-2h0m1-3h0m1-4h0m2 2h0m1-3h0m0 14h0m0-9h0m0-1h0m1 6h0m0-5h0m0-2h0m1-2h0m0 4h0m1-3h0m2-1h0m0 8h0m1-4h0m0 7h0m1 2h0m0-12h0m1 3h0m0 5h0m1-4h0m0 5h0m0-8h0m2-3h0m0 11h0m0-1h0m0-5h0m1-1h0m0 8h0m1-6h0m0 1h0m0-1h0m1 4h0m0-10h0m2 9h0m2 0h0m1 1h0m1-7h0m0 11h0m1-11h0m1 11h0m1-1h0m1-4h0m0-2h0m3 6h0m0 1h0m2-12h0m0 3h0m0-3h0m1 2h0m0 6h0m1-9h0m1-1h0m0 3h0m0-1h0m0-2h0m3 2h0m1 7h0m1 0h0m3-9h0m0 7h0m1-1h0m1-6h0m3 14h0m0-13h0m0 7h0m1 5h0m1-8h0m1 7h0m2-4h0m1 4h0m5-3h0m1-5h0m3 3h0m0-7h0m0 7h0m1-6h0m1 3h0m1 7h0m0-8h0m2-2h0m1-1h0m3 3h0m2 3h0m1-6h0m2 11h0m0 2h0m4-6h0m0-3h0m0 7h0m0 0h0m2-10h0m2 0h0m1 9h0m1-9h0m0 6h0m3-5h0m1-1h0m0 6h0m0 6h0m1 0h0m1-3h0m2-4h0m1 2h0m1 5h0m2-6h0m1-3h0m1-2h0m1 7h0m0 5h0m1 0h0m2-5h0m2 2h0m0-2h0m1-2h0m0-1h0m0 3h0m1-6h0m0 6h0m3-1h0m0 4h0m1-7h0m2 9h0m0-9h0m0-2h0m1 8h0m0-8h0m0-2h0m1 12h0m1-9h0m0 10h0m0-8h0m1-4h0m0 1h0m1 4h0m0 1h0m4-2h0m0 4h0m0-5h0m1 2h0m0 2h0m0-3h0m0-1h0m1 2h0m0-3h0m2 3h0m1-6h0m0 9h0m1-2h0m0 5h0m0-11h0m1 3h0m1 9h0m1 0h0m0-6h0m2-7h0m1 11h0m0-5h0m0 4h0m1-11h0m0 4h0m0 6h0m0-2h0m0-2h0m0 4h0m0-7h0m1 4h0m1 7h0m0-8h0m0-5h0m1 2h0m1 8h0m0 2h0m1-11h0m1 5h0m0 0h0m2 3h0m1-1h0m1 3h0m1-8h0m1 4h0m0-5h0m0 5h0m0 2h0m1-10h0m1 10h0m1 3h0m0-12h0m0 7h0m0-5h0m1-2h0m0 8h0m0 3h0m0-11h0m2 5h0m0-1h0m1 9h0m0-8h0m2-4h0m0 5h0m2-7h0m0 8h0m1-4h0m0 10h0m1-1h0m0-10h0m0 4h0m1-2h0m0 4h0m0-3h0m0 6h0m0-1h0m1-4h0m1 5h0m0 0h0m0-11h0m2 13h0m0-8h0m1-2h0m0-4h0m1 8h0m1-4h0m0 6h0m0-8h0m1-2h0m2 4h0m1 7h0m0-10h0m1 11h0m0 2h0m3-2h0m1-7h0m0 3h0m0-8h0m1 6h0m1 8h0m1 0h0m0-2h0m1-2h0m0 3h0m1-9h0m0 6h0m2-8h0m0 4h0m1-2h0m0-2h0m0 0h0m1 7h0m1-6h0m0 1h0m0 5h0m1 0h0m0-7h0m1-1h0m1 2h0m1 6h0m1 4h0m1-7h0m1-6h0m1 0h0m0 7h0m0 6h0m1 0h0m1-2h0m1-9h0m0 3h0m1 8h0m0-10h0m1 0h0m1 8h0m1-2h0m1 5h0m1-13h0m1 4h0m1 5h0m0-5h0m0 4h0m1-2h0m0 6h0m1-12h0m1 11h0m2 2h0m1-2h0m0 1h0m0 0h0m2-12h0m1 6h0m1-5h0m1 11h0m4 0h0m2-12h0m1 9h0m2 2h0m3-3h0m2-1h0m0 6h0m1-3h0m8 1h0m1 16h0m-4 1h0m-3-4h0m-2-3h0m-2-5h0m-2 8h0m0 2h0m0-5h0m-1 0h0m-2 6h0m-1-13h0m-1 10h0m0 1h0m0 0h0m-2-3h0m-1-3h0m-1 4h0m-1 5h0m-1-1h0m-1 0h0m0-7h0m-2 1h0m-1-7h0m0 4h0m-4 0h0m0 10h0m-1-10h0m-2-3h0m-1 0h0m-1 7h0m0-5h0m-1-2h0m0 5h0m-1-3h0m0 7h0m-1 0h0m0 3h0m-2-6h0m-1 2h0m-2-3h0m-1-4h0m0 9h0m-1-2h0m-1 3h0m-3-9h0m-2-1h0m-3 1h0m0 11h0m0-2h0m-3-6h0m0-3h0m-1-1h0m0 8h0m-1-2h0m0-6h0m0 1h0m-1 7h0m-2-3h0m-1-3h0m-1-3h0m0 4h0m0 4h0m-1-7h0m0 7h0m-1-4h0m0 8h0m0-8h0m0 1h0m-1-5h0m-1 9h0m-1-3h0m-1-4h0m0 10h0m0-13h0m-1 12h0m0-7h0m-1-1h0m-1-3h0m-1 6h0m0-6h0m-1 2h0m0-3h0m0 4h0m-1-4h0m0 1h0m-1 8h0m0-4h0m0-2h0m-1 1h0m0-1h0m-1 4h0m0 5h0m-2-1h0m-1-3h0m-1 6h0m0 0h0m-1-4h0m0-2h0m-1 1h0m0-7h0m0 4h0m-1 2h0m0 1h0m-1-4h0m0 0h0m0-2h0m0 6h0m-2-5h0m0-3h0m-2 6h0m0 4h0m-1-1h0m-1-8h0m-2 10h0m0-4h0m-2 6h0m0-10h0m-1 4h0m0 6h0m0-11h0m-1-3h0m0 11h0m-1 3h0m-1-14h0m0 11h0m-1-8h0m-1-3h0m0 8h0m0 3h0m-2-10h0m-1 3h0m0 3h0m0 3h0m-1-10h0m0 0h0m0 6h0m-2 4h0m0 1h0m0-9h0m-1 10h0m0-12h0m-1 2h0m0 10h0m0 1h0m0-7h0m-1 1h0m0-6h0m0 13h0m-1-14h0m0 9h0m0 4h0m-1-5h0m0-8h0m0 5h0m0 4h0m-1-1h0m0 0h0m0-5h0m-1 10h0m0-4h0m0-7h0m-1 9h0m0-3h0m-1-6h0m0 10h0m-1-5h0m0-4h0m-1-3h0m0 11h0m-1-3h0m0-8h0m0 5h0m-1 0h0m-4-1h0m0 8h0m-1 1h0m-2-5h0m0-4h0m0 3h0m-1 1h0m-3-2h0m-2 7h0m0-5h0m0-1h0m-1 2h0m0 2h0m-1-11h0m0 4h0m-1 1h0m0 9h0m0-3h0m0-5h0m0-2h0m-1-2h0m-3 2h0m0 5h0m0-7h0m0 12h0m-1-2h0m-3 0h0m0 1h0m-1-11h0m-3 7h0m-2 3h0m-1 0h0m0 2h0m-2-5h0m-1-9h0m-1 10h0m-1-4h0m0 8h0m-1-4h0m0-6h0m-1 1h0m-1 3h0m0-8h0m-1 13h0m-2-8h0m0 7h0m-2-3h0m-1-5h0m-1 7h0m0-3h0m0-4h0m-1 4h0m0-6h0m-3 4h0m0-6h0m-1 14h0m-1-10h0m0 6h0m-5 3h0m-2-4h0m-3-5h0m0 4h0m-3-2h0m0 2h0m-1-4h0m-2 3h0m0 1h0m-1 5h0m-1-1h0m-2-9h0m0 5h0m-4-6h0m-1 5h0m-1 2h0m0-8h0m-1 3h0m-3 8h0m0-7h0m-2 4h0m0-8h0m-2 13h0m0-8h0m-2 2h0m-1-2h0m-2-6h0m-1 8h0m0-7h0m-1 3h0m-2 4h0m-2 4h0m-1-2h0m-1-10h0m-1 0h0m0 1h0m0 12h0m-1-2h0m-1-11h0m0 13h0m-3-9h0m0 3h0m-1-2h0m0 6h0m0-2h0m-1-4h0m0 3h0m-1-1h0m-3-5h0m-1 11h0m0-12h0m0 13h0m-2-3h0m0-10h0m-1 6h0m0 3h0m0 3h0m0-13h0m-2 3h0m0 2h0m0-5h0m-1 2h0m-1 3h0m-1 8h0m0-1h0m-4-3h0m-1 4h0m-1-12h0m-1 3h0m0-1h0m-1 6h0m-3-9h0m-5 2h0m-6 2h0m-4-4h0m-3 0h0m9 23h0m3 0h0m3 4h0m1 1h0m0-5h0m2-1h0m0-2h0m0 4h0m2-2h0m2-2h0m0 7h0m1 2h0m2-2h0m1-9h0m0-1h0m1 10h0m1 0h0m2-10h0m0 6h0m1-3h0m0 6h0m0-7h0m0 5h0m0-6h0m1 4h0m0 3h0m2-9h0m0 13h0m0 0h0m1 0h0m1-6h0m1 3h0m2 1h0m0-6h0m0 1h0m1 0h0m1-5h0m0 4h0m1 1h0m0 6h0m2-3h0m2-3h0m0-5h0m2 3h0m0 9h0m0-13h0m1 9h0m1-9h0m1 11h0m1-7h0m1 9h0m0-8h0m1-4h0m0 7h0m2 4h0m1-9h0m1-3h0m0 12h0m1-6h0m2 6h0m2-8h0m0 7h0m2 0h0m0-7h0m0 5h0m1-1h0m1-3h0m0-6h0m2 7h0m2 3h0m4-6h0m1 5h0m3-8h0m1 7h0m2-6h0m2 9h0m3-11h0m1 9h0m1-9h0m7 10h0m3-5h0m3 4h0m3-1h0m1 5h0m0-3h0m5-7h0m0 3h0m2-5h0m0 0h0m0 5h0m3-5h0m0 11h0m1-10h0m0 2h0m2-3h0m1 5h0m3-6h0m0 3h0m0 10h0m1-3h0m1-9h0m4 1h0m0-1h0m2 13h0m0-11h0m0 3h0m1-1h0m1 2h0m1-2h0m0 9h0m3-9h0m1-2h0m0-2h0m0 4h0m2 2h0m1 6h0m0-5h0m1 2h0m0 0h0m1-3h0m3 3h0m4 3h0m0-7h0m1 3h0m0-6h0m1 9h0m0-7h0m2 8h0m1-1h0m1-1h0m0 3h0m0-10h0m1-1h0m1 5h0m0-2h0m0 0h0m1-5h0m1-1h0m0 5h0m0 4h0m0 0h0m0-9h0m1 10h0m0-3h0m1-2h0m0-2h0m1-3h0m0 0h0m0 12h0m2-2h0m0-10h0m1 2h0m0 4h0m1-2h0m2 6h0m0 4h0m2-2h0m0 2h0m0-5h0m1 2h0m1-3h0m1-1h0m0-7h0m0 2h0m1 4h0m0 0h0m0 1h0m1 0h0m1 4h0m1 3h0m1-13h0m3 0h0m0 11h0m1-10h0m2 12h0m0-6h0m0-7h0m0 5h0m1 3h0m0 1h0m0-9h0m1 12h0m0-10h0m1 3h0m0-2h0m1-1h0m0 10h0m1-5h0m0 5h0m1 0h0m0-13h0m0 1h0m0 8h0m1 3h0m1-11h0m0 6h0m0 2h0m0 4h0m1-10h0m0 6h0m0 5h0m1 0h0m0 0h0m0-9h0m1 0h0m1-4h0m0 9h0m0-6h0m3 6h0m0 2h0m0-12h0m1 14h0m1-14h0m4 7h0m0-3h0m1 9h0m0 0h0m1-13h0m1 2h0m0 1h0m1 10h0m0-1h0m0-3h0m6-6h0m0-3h0m1 3h0m2 6h0m1 3h0m0-4h0m1-7h0m2 9h0m1 0h0m0-10h0m2 7h0m0 1h0m0 6h0m1-10h0m1 9h0m3-6h0m0-1h0m0-2h0m0 9h0m1-5h0m1 5h0m0-9h0m1-2h0m0 1h0m1 1h0m0 0h0m1 5h0m1 4h0m0-2h0m1-6h0m1 7h0m1 0h0m1-8h0m1 8h0m1-9h0m0 10h0m0 1h0m0-14h0m1 1h0m1 1h0m1 9h0m0-3h0m1-5h0m0 2h0m1 2h0m1 3h0m1 3h0m3-4h0m0 3h0m0-9h0m1 2h0m1-2h0m3 5h0m0 1h0m0-1h0m2 2h0m3-9h0m0 1h0m2 3h0m0 7h0m10-5h0m1-3h0m-5 11h0m-1 3h0m-6 3h0m-5 0h0m-5-5h0m-1 2h0m0-1h0m-2 9h0m-5-6h0m-1 5h0m-1-4h0m-2 5h0m-3-7h0m-1 3h0m0 3h0m-1-3h0m-4-7h0m-3 0h0m-4 3h0m-1 5h0m-4-3h0m-1-4h0m-2-1h0m-1 3h0m-1 3h0m-1-4h0m-4 3h0m-1-1h0m-2-2h0m-8 0h0m-1-1h0m-1 4h0m-2-5h0m-3 0h0m-4 0h0m-2 1h0m-4 5h0m0 3h0m-4-6h0m0 2h0m-10-3h0m0 0h0m-3-1h0m0 2h0m-8 3h0m-1-6h0m-2 1h0m-1 1h0m-18-1h0m-19-1h0m-5 0h0m-10 1h0m-1 0h0m0 2h0m-8 3h0m0-3h0m-1 3h0m-2 4h0m-2 3h0m-6-5h0m0-5h0m-1 4h0m-1-7h0m0 7h0m-4 0h0m-1 0h0m-2-7h0m-1 8h0m-5 2h0m-1 3h0m-3-4h0m0-5h0m-2 10h0m-2-2h0m0-1h0m-2-8h0m-1 6h0m0 5h0m-1-9h0m0-5h0m-1 12h0m-1 1h0m0-2h0m-4-2h0m0-2h0m-1-3h0m-3 1h0m0-3h0m0 4h0m-1 4h0m0 2h0m0-10h0m0 0h0m-1 2h0m0 1h0m-1-1h0m0 2h0m-2-6h0m-1 9h0m-1 2h0m0-5h0m-1 4h0m0-5h0m-1 0h0m-2 4h0m0 2h0m0-6h0m-1 8h0m-1 1h0m0-10h0m-1 8h0m-3-5h0m0-5h0m0 3h0m0 3h0m0-4h0m-1 3h0m-1-6h0m-1 3h0m0 6h0m-1-7h0m0 1h0m-2 5h0m0-4h0m-3 1h0m-2 0h0m-2 8h0m-1-6h0m0-2h0m-1-1h0m-1 0h0m-2 1h0m-1-6h0m-1 1h0m15 14h0m0 0h0m11 0h0m5 0h0m1 2h0m4 1h0m3-3h0m1 0h0m4 0h0" stroke="#4F70AC" stroke-width="4.3"/>
<path transform="scale(0.2)" d="M2430 266h0m-1 18h0m1-3h0m1-5h0m1 4h0m1-10h0m0 11h0m2-10h0m3 10h0m0-7h0m4-3h0m2-1h0m1 0h0m1 13h0m1-1h0m2 1h0m1-1h0m6 0h0m4-11h0m8 6h0m0-5h0m6 7h0m2 2h0m35 18h0m-9-5h0m-2-4h0m-8 2h0m-2 6h0m-2-12h0m-1 10h0m0-5h0m-1-6h0m-4 7h0m-1-6h0m-2 11h0m-3-8h0m-1 9h0m-1-2h0m0 1h0m-2-10h0m-3 2h0m-2-4h0m-2 2h0m-1-1h0m0 12h0m-2-11h0m0 2h0m-3 2h0m-1-5h0m0 3h0m-1 2h0m0-3h0m-1 6h0m-3-2h0m0-3h0m-3-3h0m-2 3h0m-2 1h0m-2 3h0m-1-3h0m-1-4h0m-2 12h0m0-12h0m-2 13h0m-2-3h0m-1-8h0m0 10h0m-5-5h0m-1-1h0m-1 5h0m0-3h0m-2-4h0m-1-1h0m-5 6h0m-1-2h0m-7 18h0m3-7h0m12 4h0m6-5h0m1 6h0m5-6h0m2-3h0m0 3h0m11-1h0m2 8h0m1-4h0m3-1h0m1 8h0m2 1h0m1-14h0m2 7h0m1 1h0m0-6h0m0 11h0m2-4h0m3 0h0m3-1h0m0 0h0m0 3h0m3-11h0m1 14h0m1-3h0m2 1h0m0-11h0m0 0h0m0 0h0m1 9h0m1 0h0m5-9h0m0 4h0m3 2h0m0 5h0m0-6h0m2 7h0m0-10h0m1-3h0m4 3h0m0 6h0m1-9h0m0 3h0m0 10h0m0-6h0m1 2h0m1-1h0m3 2h0m1 4h0m3-3h0m1-7h0m3 2h0m0-4h0m0 2h0m1 10h0m2-5h0m0-8h0m2-1h0m3 9h0m3 5h0m0-1h0m1-3h0m1-1h0m2-5h0m1 5h0m4 3h0m9-3h0m20 17h0m-4 3h0m-4-1h0m-8-10h0m-1 0h0m-2 3h0m-3-3h0m-1 7h0m-1 4h0m0 0h0m-1-10h0m-3-3h0m-1 10h0m-1-5h0m-4 7h0m-3-10h0m-2 4h0m-1-4h0m0 3h0m-2-6h0m0 6h0m0-4h0m-1 3h0m0 1h0m-1-3h0m-3 6h0m-2 4h0m-1 1h0m-3-9h0m-1 6h0m0-2h0m-1-4h0m0 6h0m0 1h0m-4-6h0m-3 8h0m-1-9h0m0 0h0m-4 8h0m-1-3h0m-2 3h0m-2-11h0m-1 0h0m-1-2h0m-4 6h0m-1 1h0m-1-6h0m-1 4h0m0 5h0m-2-6h0m-3-4h0m0 4h0m-1 9h0m-10-5h0m-2 3h0m-1-8h0m-1-3h0m-1 0h0m-2 13h0m-1-5h0m-4 2h0m-2 2h0m-1-8h0m-3 1h0m-1 2h0m-2-5h0m-1 7h0m-1-8h0m0 1h0m-1 2h0m-14-4h0m-2 9h0m-5 4h0m-9-12h0m-6 11h0m17 16h0m5-5h0m2-2h0m1 6h0m4-7h0m4 3h0m3-6h0m0 11h0m1-12h0m3 11h0m1 2h0m4-14h0m2 6h0m2 5h0m2-11h0m2 8h0m1-4h0m1 8h0m4 2h0m0 0h0m1-5h0m1-5h0m1 1h0m1 3h0m2-4h0m2 1h0m1 9h0m6-6h0m0 5h0m1-5h0m1 6h0m2-1h0m1-11h0m1-2h0m1 9h0m0-9h0m2 2h0m3 0h0m2 3h0m0 3h0m3 6h0m1-5h0m0 0h0m4-2h0m0-2h0m4 6h0m1-7h0m0 0h0m2-2h0m1 6h0m0 4h0m2-12h0m0 7h0m1-4h0m0 9h0m5-12h0m0 10h0m2-4h0m0 3h0m1 5h0m3-11h0m1 6h0m1-5h0m1 1h0m2 7h0m1-10h0m1 6h0m1 0h0m1-5h0m0 11h0m7-5h0m5-5h0m2 9h0m0-5h0m3-2h0m4 3h0m3-6h0m1 2h0m4 4h0m6-4h0m1 5h0m1 4h0m2-6h0m1 0h0m10 6h0m2-1h0m2-1h0m1-7h0m7 9h0m7 12h0m-2-6h0m-3 3h0m-4 6h0m-2-9h0m-1 8h0m0 0h0m-1 1h0m-1-9h0m0-1h0m-1 8h0m-5-6h0m-2 4h0m-3-3h0m-1 7h0m0-1h0m-2-9h0m-6-3h0m0 4h0m-3 7h0m-1-2h0m-6-6h0m0 1h0m0 5h0m-3 4h0m-1-14h0m-3 4h0m-3-1h0m0 3h0m0-3h0m-1 10h0m0-5h0m-6-3h0m-1 9h0m-4-12h0m-2 4h0m0-3h0m-1 6h0m0 3h0m-1-12h0m-2 6h0m-1 4h0m-4 2h0m0-10h0m0 2h0m-1 3h0m0 3h0m-3-5h0m-1-4h0m0 13h0m-1-6h0m-1-1h0m-2-7h0m-1 2h0m-1 5h0m0 4h0m-1-2h0m-2-6h0m-1 10h0m0 0h0m-2-4h0m-2 1h0m-1 0h0m-3 1h0m0-1h0m-1-8h0m-2 11h0m-1-12h0m0 8h0m0-9h0m-1 13h0m-2-7h0m0 0h0m0-1h0m-3 5h0m-1-3h0m0 1h0m0 1h0m-1-5h0m-2-2h0m0-2h0m-2 5h0m-1 7h0m0-1h0m0-8h0m-1 9h0m-1-11h0m0 9h0m-1-8h0m-1 9h0m-1-5h0m-2-4h0m-1 0h0m0 9h0m-1-5h0m0 7h0m0-2h0m0-9h0m-2 11h0m0-13h0m-1 1h0m0 8h0m0 5h0m0-12h0m-1 2h0m-1 1h0m0 3h0m-3-7h0m-4 9h0m-1-1h0m0 0h0m-1 5h0m-2-3h0m-1-7h0m-2-1h0m-1 8h0m0-2h0m-1 1h0m-1 3h0m0 1h0m-1-2h0m0 0h0m0-8h0m0-1h0m0 4h0m-2 6h0m-2-5h0m0-3h0m0-2h0m-2 8h0m-2-4h0m-1-6h0m0 1h0m-2 2h0m0-2h0m-1-2h0m-1 11h0m-1 3h0m0-13h0m0-1h0m-2 5h0m-3 1h0m0 1h0m0 2h0m-1-7h0m-1-2h0m-1 14h0m-4-2h0m0 0h0m-2-12h0m0 13h0m-2-7h0m0 5h0m0 1h0m-3 0h0m0 0h0m-1-10h0m-1 11h0m-1-12h0m-2 2h0m5 23h0m2 1h0m2 0h0m0-1h0m0-8h0m2-3h0m1 6h0m1 6h0m0-9h0m0 7h0m1-10h0m2 10h0m0-1h0m1-6h0m0-1h0m2 5h0m2 0h0m2 4h0m1-4h0m1 4h0m1-11h0m0 5h0m1 9h0m0-8h0m0-1h0m2 4h0m1 1h0m0-7h0m0-2h0m1 13h0m2-7h0m0-5h0m1-1h0m0 9h0m1 3h0m1-4h0m1-2h0m0 1h0m1-3h0m0 4h0m0 3h0m1-5h0m1 0h0m0 6h0m1 1h0m2-14h0m2 10h0m1 2h0m1-1h0m1-4h0m1-2h0m0 0h0m0 3h0m1 6h0m1 0h0m1-11h0m0 8h0m1-6h0m0 7h0m0-3h0m1-6h0m0-2h0m1 8h0m1-8h0m0 0h0m0 0h0m1 12h0m0-3h0m1-3h0m1-1h0m1-3h0m1 0h0m1-2h0m1 0h0m1 9h0m1 2h0m0-8h0m1 4h0m0 2h0m1 4h0m2 0h0m1-8h0m1 8h0m1-3h0m0-10h0m1 12h0m1-2h0m0 0h0m0 1h0m0-7h0m1-5h0m0 8h0m1-6h0m0 2h0m0 9h0m1-7h0m1-1h0m0 9h0m1-14h0m1 13h0m2-12h0m1 12h0m1-1h0m0-7h0m0 9h0m1-2h0m1-10h0m0-2h0m3 0h0m1 12h0m2-11h0m1 5h0m1 8h0m1-8h0m2-1h0m0-1h0m1 8h0m0 0h0m0-9h0m2 4h0m0 0h0m2-2h0m0 9h0m1-5h0m0-2h0m1 5h0m9-7h0m2 1h0m2 7h0m1 0h0m1 1h0m1-5h0m2-7h0m1 4h0m0-1h0m2 6h0m2 2h0m0 0h0m2-10h0m2-2h0m1 0h0m1 0h0m2 13h0m2-3h0m2 2h0m0-9h0m1 9h0m4-4h0m0 4h0m0-10h0m1 1h0m4-4h0m0 10h0m1-4h0m1-4h0m1 12h0m0-5h0m2 0h0m0 2h0m0-4h0m0-6h0m0 9h0m1-2h0m1-7h0m1 6h0m1-7h0m1 13h0m1-7h0m0 7h0m1-12h0m2 9h0m0 1h0m0-2h0m0-1h0m1-5h0m1 5h0m3 5h0m0-3h0m4 3h0m0-6h0m1 7h0m0-13h0m0 9h0m0 1h0m1-10h0m1 2h0m0 0h0m2 2h0m1 9h0m0-8h0m0 7h0m3-9h0m0 5h0m0 0h0m1 5h0m2-10h0m1 3h0m0-5h0m1-2h0m0 12h0m0-12h0m1 13h0m1-2h0m2 3h0m0 0h0m1 0h0m0-14h0m0 13h0m0-9h0m1 0h0m1 8h0m1-5h0m0 2h0m1-9h0m0 4h0m0 3h0m1-4h0m0-2h0m0 4h0m1-2h0m0 7h0m0 4h0m6-5h0m3-2h0m4 5h0m2-7h0m6 3h0m2-1h0m30 22h0m-4-1h0m-10 1h0m-2-8h0m-1 4h0m-1 3h0m-3-1h0m-5-9h0m-2 10h0m-2-11h0m0 12h0m-3-6h0m0 4h0m-4-10h0m-1 8h0m-1 1h0m-2-1h0m0 1h0m0 0h0m-1-2h0m-3-6h0m0 10h0m-3-10h0m-1 10h0m0-13h0m0 3h0m-2 6h0m-2 5h0m-1-2h0m0-1h0m-4 1h0m0 0h0m-2-7h0m0 8h0m-1-8h0m-2-2h0m0 7h0m0-5h0m-1-3h0m0-1h0m0 2h0m0 10h0m-1-11h0m-1 6h0m0 0h0m-2-6h0m0 2h0m0 10h0m0-4h0m-3-8h0m-2 2h0m0 4h0m0-7h0m-1 10h0m0-1h0m-1-6h0m-1 1h0m-1 0h0m-2 4h0m0 3h0m-2-9h0m-1 7h0m-5 3h0m-2 1h0m0 0h0m0 0h0m-1-6h0m-5 3h0m0-4h0m0 5h0m0-5h0m0 4h0m-1-4h0m0 6h0m-2 1h0m0-5h0m-1 0h0m-1-6h0m0 6h0m0-3h0m0-2h0m-2-2h0m-1-1h0m0 11h0m0-3h0m-3 2h0m0-2h0m-5-4h0m-1 8h0m0-7h0m-5-3h0m-3 6h0m-1-4h0m-1-4h0m-1 3h0m0 9h0m-2-8h0m-2-1h0m0 10h0m0-1h0m-1-5h0m0 2h0m0-4h0m-3-6h0m0 9h0m-1-3h0m-3-5h0m0 11h0m-1-2h0m-2-6h0m-1 3h0m-1 6h0m-2-13h0m0 14h0m0-5h0m-1-2h0m-1-7h0m-3 6h0m-2 0h0m-1 5h0m0-4h0m0 4h0m0-1h0m-1-3h0m-1 1h0m-5 3h0m-1-9h0m0 0h0m-3 6h0m0 6h0m-1-4h0m0-3h0m-1 3h0m0-5h0m0 4h0m-1 1h0m-1-5h0m0-3h0m-2 0h0m0 10h0m0-6h0m0-2h0m-1 2h0m0 5h0m-1 0h0m0-5h0m-1 6h0m-1-1h0m-1-1h0m-1 4h0m-2-9h0m0-5h0m0 5h0m0 5h0m-1 3h0m-1-5h0m0-7h0m0 2h0m-1 5h0m0-1h0m0 3h0m-1 4h0m-1-14h0m0 6h0m0 2h0m0-2h0m-1-4h0m0 5h0m0-2h0m-1 9h0m0-7h0m0-7h0m0 0h0m-1 10h0m0 3h0m-1-10h0m-1-2h0m-1 13h0m0-12h0m0-1h0m0 7h0m0-4h0m-1 3h0m0-7h0m0 6h0m-1 8h0m-1-9h0m-1 4h0m0-6h0m0 3h0m0 3h0m-1-8h0m0 7h0m-1-5h0m-1 0h0m0-2h0m0 4h0m-1 7h0m0-1h0m-2 0h0m-1 0h0m0 1h0m0-7h0m0-2h0m-1 3h0m0 1h0m-1-3h0m0 1h0m0 4h0m-1-9h0m0 3h0m0 5h0m0-1h0m0 1h0m-1 6h0m0-14h0m-1 0h0m0 0h0m-1 11h0m-1-6h0m-1 5h0m0-9h0m0 1h0m0 12h0m-1-2h0m0-10h0m-2 3h0m-1-2h0m-1-2h0m-1 12h0m-1 0h0m0-2h0m-1-2h0m0-4h0m0 9h0m-1-14h0m0 13h0m0-10h0m-1 7h0m0-7h0m-1 11h0m0-3h0m0-6h0m-1 9h0m-1-1h0m0-12h0m0 9h0m-1-2h0m0 3h0m0-6h0m0 3h0m-1-6h0m0 12h0m-1-3h0m-1 1h0m-2-9h0m-1 1h0m-1 2h0m-3 7h0m0 1h0m-1-11h0m-4 0h0m0 10h0m-2-13h0m-1 1h0m-1 10h0m-2-10h0m-6 1h0m11 13h0m2 2h0m3 4h0m2 2h0m2 5h0m0-9h0m2 3h0m0 6h0m0-10h0m1 7h0m0-5h0m2-1h0m0 0h0m0 0h0m1 7h0m0-4h0m1-3h0m0 5h0m2 3h0m1-5h0m1-5h0m0 10h0m1-2h0m0-2h0m1-4h0m1-1h0m0 8h0m1 2h0m0-7h0m1 7h0m1-10h0m0 3h0m2 7h0m0-5h0m1-7h0m0 11h0m0 0h0m0-10h0m1 11h0m0-9h0m0-1h0m0 6h0m1 4h0m1-7h0m0 7h0m0-12h0m2 13h0m0-6h0m1 3h0m0-8h0m0 11h0m1-1h0m1-10h0m1 8h0m0-7h0m0 5h0m0-3h0m1 1h0m0-1h0m0-2h0m0 3h0m1 4h0m0-9h0m1 11h0m0 1h0m1-4h0m0-7h0m0 9h0m0-4h0m1-2h0m0-5h0m0 13h0m0-12h0m1 3h0m0-2h0m1-3h0m0 13h0m0 1h0m0 0h0m0-9h0m0 9h0m1-3h0m0 3h0m0-2h0m1-1h0m0-5h0m1-3h0m0 7h0m0-4h0m2 1h0m0 4h0m0-7h0m0-3h0m2 9h0m0-2h0m1-3h0m1-4h0m0 10h0m2-5h0m0 2h0m0-3h0m1-5h0m1 4h0m0 0h0m0 9h0m1-3h0m0-2h0m2 6h0m1-4h0m0-1h0m0 3h0m4-9h0m1 8h0m0-6h0m3 7h0m1-4h0m1-5h0m5-3h0m2 14h0m1-4h0m0-7h0m1 6h0m3-9h0m0 6h0m3 5h0m0-1h0m1-3h0m1 7h0m2-3h0m3-9h0m1 9h0m4-5h0m2 0h0m1-5h0m0 10h0m2 1h0m2 0h0m1-2h0m2 2h0m1 2h0m0-10h0m1 4h0m2 0h0m1 0h0m0 6h0m1-1h0m3 1h0m0-1h0m2-5h0m1 6h0m1-8h0m1 3h0m0-3h0m1 6h0m0-6h0m3-5h0m2 11h0m0-11h0m1-1h0m3 14h0m0 0h0m1-3h0m0-3h0m2-4h0m1 3h0m1 0h0m1-1h0m2-2h0m0 9h0m2-11h0m1 7h0m1-3h0m2 7h0m0-10h0m2 8h0m0-3h0m1-7h0m1 5h0m1 2h0m1 4h0m0-8h0m2 3h0m0-3h0m0 5h0m1-5h0m0 2h0m1-5h0m0 3h0m0 5h0m0-2h0m1 4h0m1-8h0m2 0h0m0 7h0m0 4h0m1-13h0m0 1h0m1 2h0m1 2h0m0 3h0m0-5h0m1 3h0m0-1h0m1 3h0m0-2h0m0-5h0m0 12h0m1-4h0m3-7h0m0 9h0m0-1h0m0 0h0m1-10h0m0 9h0m1-7h0m0 3h0m1-1h0m2-5h0m0 9h0m1 2h0m0-10h0m0 0h0m1 7h0m0 5h0m2-5h0m0-7h0m0 7h0m0-8h0m1 9h0m0-3h0m1-1h0m1 1h0m1 3h0m3 4h0m2-6h0m0 1h0m1-8h0m1 3h0m1 2h0m2 4h0m1-7h0m1 1h0m2-2h0m0 11h0m1-9h0m0 10h0m1-10h0m0 3h0m2-2h0m1-1h0m2-2h0m2 3h0m3 8h0m5 2h0m0-8h0m1 7h0m1 1h0m1-9h0m0 0h0m0 7h0m1-10h0m2 1h0m1-1h0m3 12h0m2-11h0m10 10h0m6-1h0m9-3h0m2 2h0m17 15h0m0-8h0m0 9h0m0 2h0m-3-4h0m0-1h0m-6 0h0m-6-5h0m-2 6h0m0-5h0m-1-1h0m0 6h0m-2 0h0m-1 0h0m0-4h0m-1 1h0m0 0h0m0 1h0m0-8h0m-4 3h0m-1 11h0m-1-9h0m-2 8h0m0-13h0m0 10h0m-1-3h0m-1 6h0m-2-1h0m0 1h0m0-10h0m-1-2h0m-1 8h0m-3-3h0m-2 6h0m-1-9h0m-3 11h0m-1 0h0m0-1h0m0-12h0m-1 13h0m-2-2h0m0-3h0m0 3h0m-1 0h0m-1-7h0m0 2h0m-1 0h0m-1 1h0m-1 0h0m-1-2h0m-1 0h0m-1-2h0m-2-3h0m-3 10h0m-2-2h0m0-1h0m-1 3h0m-1-6h0m-1 4h0m-1-9h0m0 1h0m-2 9h0m0 3h0m0-6h0m-1 7h0m-2-10h0m-1 8h0m-3-3h0m0-4h0m-1-4h0m-1 6h0m0 5h0m-1-5h0m-1 0h0m0 6h0m0-11h0m-1 1h0m-1-2h0m0 9h0m-1-10h0m-1 11h0m0 3h0m0-3h0m0-1h0m-1 2h0m-1-2h0m-1 4h0m-1-7h0m0-5h0m-2 11h0m-1-2h0m0 0h0m0-3h0m-1 6h0m0 0h0m-1-9h0m0-3h0m0 0h0m-1 7h0m-1-9h0m0 7h0m0-5h0m0 8h0m0-7h0m-1-3h0m-1 12h0m0-2h0m-2 0h0m0-4h0m0-2h0m-1 1h0m0 0h0m-1 0h0m-1 0h0m0 9h0m-4-5h0m0 4h0m0-8h0m0-4h0m0-1h0m-1 14h0m0-7h0m-1 1h0m0-7h0m-2 11h0m-1-6h0m-1 2h0m-1 2h0m-1-7h0m-1 9h0m0 1h0m0-8h0m-1 1h0m0-5h0m0 2h0m-1 9h0m0-5h0m-1-3h0m-2 5h0m0 5h0m-2-14h0m-1 11h0m-1-3h0m0-3h0m0-5h0m-1 10h0m-1 2h0m0-8h0m-1 2h0m0-1h0m-1-4h0m-2 2h0m-2 2h0m-1-3h0m0 6h0m-1-2h0m-1-3h0m0 7h0m0-1h0m0 3h0m0-10h0m-1 2h0m0 3h0m0-5h0m-2 4h0m-1 3h0m0 5h0m0-13h0m-1 2h0m0 7h0m0 3h0m-1-13h0m0 2h0m-1 6h0m0 6h0m-1-12h0m0 6h0m0 0h0m-2 2h0m0-8h0m-1 6h0m-2 6h0m-3-5h0m0-9h0m-2 0h0m-1 8h0m-2 2h0m-1 3h0m-1-6h0m-2 3h0m-1 4h0m0-10h0m-2 7h0m0 2h0m0-13h0m-2 7h0m0-6h0m0-1h0m-1 12h0m-2-8h0m0 2h0m-1 2h0m0 0h0m-1 0h0m0 0h0m-1 3h0m0-7h0m-2 2h0m0 7h0m-2-2h0m0 1h0m-1 2h0m-1-7h0m-4-5h0m-2 4h0m-3-4h0m0 4h0m0-5h0m-1 5h0m-1 3h0m0 5h0m-1-11h0m0 9h0m-1-10h0m-2 11h0m-1-11h0m-1 8h0m0 0h0m-1-8h0m0-1h0m-2 5h0m0-1h0m0 9h0m-1-1h0m0-6h0m-2-2h0m0 8h0m0-13h0m-1 5h0m-3 0h0m0 5h0m-1-9h0m-1 0h0m-1 0h0m0 0h0m-2 2h0m0 11h0m-1-14h0m0 8h0m-1-1h0m0 4h0m0-4h0m-3 7h0m-1 0h0m-1-1h0m-2-10h0m0 2h0m-1-4h0m0 0h0m-1 0h0m0 2h0m-2-3h0m-1 14h0m-1-12h0m-1-1h0m0 0h0m0 5h0m-1-3h0m0 8h0m-1-5h0m0 8h0m-1-14h0m0 14h0m0-14h0m-1 12h0m-1-12h0m0 7h0m-1 3h0m-3 0h0m-1 1h0m-1-2h0m0-6h0m-1 3h0m-1-5h0m0 3h0m-1 9h0m-1-10h0m0 6h0m0-6h0m-1 7h0m-1-7h0m0 2h0m0 2h0m-2-5h0m0 8h0m-1-8h0m-3 3h0m-4 1h0m13 9h0m2 5h0m2-5h0m1 4h0m1 8h0m0-11h0m0 4h0m3-5h0m2 0h0m0 8h0m5 0h0m0-6h0m2 4h0m0 4h0m1-5h0m3-4h0m0-1h0m1 13h0m1-8h0m1 7h0m1 1h0m0-8h0m3 6h0m1-7h0m1-2h0m2 8h0m4 1h0m3 3h0m2-11h0m1-1h0m0 3h0m0-5h0m1 12h0m1-8h0m2 0h0m1 3h0m0-1h0m1 7h0m1-11h0m1 8h0m2 3h0m0-13h0m2 7h0m0 1h0m1-6h0m1-1h0m1 0h0m0 7h0m0 5h0m1-7h0m1-4h0m0 3h0m0 8h0m2 0h0m0 0h0m0-12h0m0 3h0m0 9h0m0-2h0m1-7h0m0 0h0m1 0h0m0-1h0m0 7h0m1 0h0m0 0h0m0-2h0m0-6h0m1 3h0m1-4h0m0 11h0m0-3h0m1-1h0m1-8h0m0 4h0m0 10h0m1-8h0m0-1h0m3-1h0m3 9h0m0-7h0m0 4h0m0-8h0m1 1h0m1 5h0m0-3h0m1 4h0m1-2h0m0 7h0m1-8h0m1-3h0m0-1h0m1 5h0m0 3h0m0-5h0m1 4h0m0-7h0m1 2h0m0 3h0m0-7h0m1 12h0m0-7h0m0 9h0m0-12h0m0 2h0m1 2h0m0 6h0m0-11h0m0 10h0m1 0h0m0-7h0m0 10h0m2-1h0m0-4h0m0 4h0m1-9h0m0 4h0m0 1h0m0 0h0m0 0h0m1-3h0m1 1h0m0 0h0m1 1h0m1-5h0m0 6h0m0 3h0m1-1h0m0 1h0m0-7h0m1-3h0m2 4h0m1 0h0m0 8h0m0-14h0m1 8h0m0 5h0m0-13h0m0 2h0m1 0h0m0-2h0m1 3h0m0 9h0m0 2h0m1-6h0m0 0h0m0 6h0m1-3h0m0-11h0m1 12h0m0 2h0m1-6h0m1 2h0m0-6h0m0 1h0m0 5h0m2-5h0m0-2h0m1 10h0m1-6h0m0 7h0m2 0h0m0-4h0m0 2h0m1-9h0m1 11h0m0-5h0m0-6h0m1 8h0m0-4h0m1 1h0m0 6h0m0-12h0m0 5h0m0 7h0m0-10h0m2 9h0m0-7h0m1-6h0m0 10h0m1-5h0m1 8h0m0-2h0m1-2h0m1-7h0m0 5h0m0 2h0m0-1h0m0-5h0m1 9h0m1-2h0m0 1h0m0 3h0m0-14h0m1 9h0m1-8h0m0 7h0m1 3h0m0 1h0m0-2h0m1 1h0m1-2h0m0-3h0m0 0h0m0 5h0m0-2h0m1-2h0m3 2h0m1-5h0m1 2h0m0-2h0m2 1h0m1 6h0m0 1h0m0-10h0m0 4h0m2 8h0m0-11h0m0 11h0m0-2h0m1-12h0m1 10h0m0 1h0m0-3h0m0-1h0m0-1h0m1-3h0m0 11h0m0-8h0m1 1h0m0-2h0m0 1h0m0-4h0m0 6h0m3 4h0m1-12h0m1 14h0m1-4h0m0-1h0m1 2h0m0 2h0m1-10h0m0 4h0m0-5h0m3 2h0m0 4h0m0 3h0m1-7h0m0 1h0m2 8h0m1-1h0m0-1h0m2-3h0m0 6h0m0-7h0m1-2h0m0-2h0m1 9h0m0-9h0m0 5h0m1-2h0m0 5h0m0-3h0m1 5h0m1-5h0m2 0h0m2 5h0m1-3h0m1-1h0m1 3h0m0-9h0m1 11h0m0-14h0m0 0h0m2 14h0m1-13h0m1 5h0m0 8h0m1-5h0m0-6h0m1 5h0m1 1h0m1-4h0m1-2h0m0 3h0m2 2h0m0 6h0m1-10h0m1 3h0m0-2h0m1 9h0m1-10h0m0 7h0m1-7h0m3 1h0m0 4h0m2-6h0m0 7h0m0-1h0m0-4h0m3 8h0m0-12h0m1 9h0m1 4h0m1-12h0m1 6h0m0 4h0m0-4h0m0-7h0m2 9h0m1 0h0m0-7h0m3 4h0m2-3h0m0 8h0m2-1h0m1-6h0m1 5h0m1-5h0m2 6h0m1 3h0m2-9h0m0 8h0m2-2h0m0-10h0m0 6h0m1-2h0m0-1h0m0 5h0m0 0h0m2-6h0m0 5h0m1-7h0m1 6h0m1 1h0m1-3h0m0 0h0m0-1h0m0 6h0m1-9h0m1 11h0m1-7h0m1-3h0m0 1h0m0 9h0m1-2h0m0-4h0m0 0h0m2-5h0m0 2h0m0-2h0m0-1h0m1 5h0m0 1h0m0 8h0m1-11h0m0 3h0m0 5h0m0-2h0m2 4h0m0-8h0m2-5h0m0 8h0m3-6h0m0 2h0m1 10h0m8-7h0m-16 8h0m-7 11h0m-3-11h0m0 3h0m-1 4h0m-1-5h0m-1 7h0m-2-5h0m-1 6h0m-2 4h0m0-4h0m0-6h0m-1 7h0m0 0h0m0-7h0m0-2h0m-1 5h0m-2 0h0m0-6h0m0 5h0m-2 1h0m-1 2h0m-2-7h0m-1 12h0m-1 0h0m0 0h0m-1-7h0m-1 4h0m0-4h0m0-7h0m0 14h0m-2-6h0m0-2h0m-2 4h0m0-3h0m0-5h0m-1 12h0m-3-4h0m-3-9h0m-1 12h0m0-13h0m0 0h0m-1 1h0m0 10h0m-1-3h0m-1-1h0m-3-3h0m-3 3h0m-1 6h0m0-11h0m0 10h0m-1-12h0m-1 6h0m-1 0h0m0-4h0m-1 0h0m-1 9h0m-2 3h0m-2-4h0m0 3h0m-1-3h0m0-10h0m-4 12h0m-1 1h0m-2-2h0m-1-4h0m-1-7h0m0 12h0m0-9h0m-2 8h0m0-9h0m-1 5h0m-1-3h0m-2-4h0m0 12h0m-1-11h0m-1 10h0m-1-11h0m0 9h0m0-3h0m-1 0h0m0 8h0m-1-12h0m0 5h0m0-7h0m0 1h0m-1 0h0m-1 9h0m-3-9h0m-1 7h0m-2 6h0m-1-3h0m0-5h0m0-5h0m-2 7h0m0-5h0m0 6h0m-1-8h0m0 10h0m-1-2h0m0 1h0m-1-3h0m-1 0h0m0 0h0m-1 4h0m-1-6h0m0 0h0m-1 1h0m0 0h0m-1-5h0m0 12h0m-2-1h0m0-9h0m-1 10h0m0-1h0m0-2h0m0-10h0m-1 6h0m0 8h0m-1-12h0m-1 11h0m-1-12h0m-1 1h0m-1 11h0m0 0h0m-1-7h0m0-2h0m0-3h0m-1 5h0m0 2h0m-1-4h0m0 0h0m0-4h0m-1 12h0m-1-8h0m0-4h0m0 5h0m-1 2h0m-1 5h0m-1-1h0m-1 2h0m0 0h0m-1-12h0m-1 12h0m0-10h0m-1 8h0m0 2h0m0-10h0m0 10h0m-1-6h0m0 2h0m0-7h0m-1 3h0m-1-1h0m0-3h0m0 9h0m0 0h0m-1 0h0m-1 3h0m0-13h0m0 9h0m-1 3h0m0 1h0m0-4h0m0-9h0m0 8h0m0-5h0m-1 7h0m0-5h0m0 9h0m-1-11h0m-1 7h0m0 4h0m0-10h0m0-1h0m-2 1h0m0 9h0m-1-13h0m0 13h0m0-2h0m0 1h0m-1 0h0m0-12h0m0 8h0m0-4h0m-1-2h0m0 5h0m0 7h0m0-13h0m0-1h0m-1 7h0m0 4h0m-1-11h0m-1 2h0m-1 10h0m0 0h0m-1-11h0m-1 4h0m0 4h0m0-8h0m0 9h0m-1-5h0m-1 6h0m0-5h0m-1 4h0m-1-9h0m0 9h0m-1-3h0m-1 1h0m0-4h0m0-4h0m-1 5h0m0-2h0m-1 2h0m-1-2h0m0 9h0m0-2h0m0 4h0m0-1h0m-1-3h0m-1-8h0m-1 11h0m0 0h0m0-2h0m-1 1h0m0-12h0m0 12h0m0 0h0m0 2h0m-1-7h0m-1-7h0m-1 2h0m0 2h0m0-1h0m-1-1h0m0 8h0m0-2h0m0 6h0m0-12h0m-1 2h0m0-3h0m0 8h0m0 2h0m-1-3h0m0 0h0m0 3h0m-1-11h0m0 4h0m0 3h0m0-2h0m-1 4h0m0 5h0m-1-5h0m-1-9h0m0 7h0m-1-2h0m0-5h0m0 7h0m0-5h0m-2 0h0m0 6h0m0 3h0m0-3h0m0-7h0m-1 12h0m0-5h0m0 5h0m-1-4h0m0-3h0m-1 2h0m0-3h0m-1-5h0m0 2h0m0 8h0m0-3h0m0 3h0m-1 0h0m-1-3h0m0 2h0m-1-4h0m0 2h0m0 2h0m0-3h0m-1-4h0m-1 1h0m-1 8h0m0-3h0m-1 3h0m0-5h0m0 5h0m-1-6h0m0-5h0m0 6h0m-1-2h0m0 9h0m0-10h0m-1 4h0m0-6h0m-1 5h0m-1 0h0m0 4h0m0-8h0m0 9h0m-1-5h0m0 5h0m-2-8h0m-1 5h0m0 0h0m0 4h0m0-8h0m-1 10h0m0-11h0m0 0h0m-2 3h0m-1 4h0m-1-10h0m0 13h0m-2-13h0m-1 3h0m-1 5h0m-1 2h0m0-8h0m0 0h0m-1 9h0m0-8h0m-1-1h0m0 6h0m0 3h0m-1-9h0m-1 0h0m-4 12h0m-4-6h0m-7-8h0m-16 2h0m-3-2h0m45 21h0m1 0h0m2-2h0m5-2h0m1 1h0m2 8h0m3-4h0m2-7h0m0 0h0m0 4h0m0-2h0m2 0h0m2 1h0m0-2h0m0 10h0m1-9h0m0 2h0m0-3h0m2 3h0m1-3h0m0 1h0m1-1h0m0 3h0m1 0h0m0-3h0m2 1h0m0 3h0m1 4h0m3-4h0m0 0h0m0 0h0m0-5h0m1 1h0m0 7h0m1 0h0m0-5h0m1 6h0m0-5h0m0 2h0m1 0h0m0-5h0m2 3h0m0-1h0m1 6h0m0-7h0m1 3h0m0 4h0m1 0h0m0-8h0m1-1h0m0 6h0m1 1h0m0-5h0m1 0h0m0 5h0m0-4h0m2 4h0m0 7h0m0-10h0m2 0h0m2 7h0m0-8h0m2 4h0m1 0h0m2 3h0m0-3h0m0 0h0m1 1h0m0-4h0m2 1h0m0 5h0m1-7h0m0-1h0m0 4h0m2-2h0m0-4h0m0 0h0m0 3h0m0 0h0m1 6h0m1-4h0m0 2h0m2 1h0m1 1h0m1-1h0m0-6h0m0 1h0m1 0h0m0-1h0m1-2h0m1 5h0m1 7h0m0-10h0m1 1h0m1 3h0m2 5h0m0-9h0m2 11h0m0-11h0m1 10h0m0-6h0m1-4h0m1 2h0m0 5h0m1-4h0m1 7h0m0-10h0m1 1h0m0-1h0m1 0h0m0 10h0m0-4h0m1 1h0m0-3h0m1-1h0m0 5h0m1-9h0m1 0h0m2 7h0m0-2h0m0-1h0m1 1h0m0-2h0m0 4h0m4-7h0m1 4h0m1 4h0m1-7h0m1 9h0m1-5h0m0 4h0m0-8h0m1 0h0m1 2h0m1-4h0m0 10h0m0-10h0m0 4h0m1 5h0m1-4h0m2-5h0m0 2h0m1 6h0m1 0h0m0-8h0m0 0h0m1 5h0m0 2h0m2-7h0m5 2h0m0 6h0m0 1h0m3-7h0m7 5h0m2-3h0m1 0h0m2 0h0m3-1h0m1 4h0m0-5h0m4-2h0m0 10h0m2-7h0m17-3h0m15 0h0m-84 16h0m-26 0h0" stroke="#4AA6C9" stroke-width="4.3"/>
<path transform="scale(0.2)" d="M2443 265h0m-8 4h0m-11-6h0m-1-1h0m-1-2h0m-4 2h0m-2 4h0m-16-2h0m0 1h0m-2 0h0m-27 6h0m39 1h0m2 7h0m0-8h0m3 8h0m1 1h0m8-4h0m11-2h0m-3 15h0m-10-1h0m-2 7h0m-6-4h0m-3-4h0m-12 8h0m-3 4h0m-3 0h0m-16-10h0m25 19h0m1-3h0m6 7h0m2-12h0m0 3h0m4-3h0m0 3h0m10 6h0m3 4h0m0 1h0m5-11h0m8 10h0m14 0h0m2 7h0m-12 6h0m-12-3h0m-2 0h0m-3-6h0m0 3h0m-5 6h0m-2-3h0m-6-3h0m0 2h0m-3 4h0m-9-2h0m-29 9h0m16-2h0m7 2h0m0 9h0m2-1h0m5-3h0m9-7h0m7 5h0m1 1h0m12-7h0m3 5h0m4 11h0m-3 12h0m-1-13h0m-6 3h0m-2 3h0m-1 4h0m-6-8h0m-3 9h0m-2-2h0m0-4h0m-7-2h0m-2 2h0m-23 11h0m15 12h0m0-1h0m6-7h0m0 5h0m1 2h0m19-4h0m3-2h0m6 5h0m13-9h0m11 2h0m-18 22h0m-7 0h0m0-7h0m-6 10h0m-1-9h0m-2 2h0m-2 7h0m-5-1h0m-4-11h0m-17 2h0m-21 19h0m24-4h0m16-4h0m8 3h0m1 2h0m3-1h0m0 5h0m3 5h0m10 15h0m-20-5h0m-1-8h0m-1 1h0m-19-1h0m0 26h0m5-8h0m9 3h0m12-5h0m8-1h0m1 4h0m9 2h0m0 3h0m14 3h0m-29 4h0m-11 2h0" stroke="#4AA6C9" stroke-width="4.3"/>
<path transform="scale(0.2)" d="M2886 359h0m-39-5h0m-8 4h0m-16 10h0m5 4h0m3 1h0m3-2h0m1 3h0m4 0h0m2-4h0m2-1h0m2-1h0m3 4h0m0-8h0m2 4h0m0 0h0m4 0h0m3-5h0m0 8h0m2 2h0m0 1h0m0-9h0m1-3h0m3 5h0m0-7h0m0 2h0m1 9h0m1-5h0m1-2h0m1 8h0m1-7h0m1 2h0m1-3h0m0 2h0m0 5h0m1-4h0m3-1h0m0 6h0m1-4h0m2 1h0m1 4h0m2-3h0m4-4h0m0 1h0m0 5h0m3-12h0m1 8h0m3 0h0m1 5h0m1-12h0m1 8h0m0 1h0m1 4h0m0 0h0m3 0h0m0 0h0m2-9h0m1 4h0m0 3h0m2-4h0m6 5h0m7-7h0m10 6h0m21 17h0m-9-3h0m-1 3h0m0-13h0m-2 9h0m-3 0h0m0-10h0m-2 12h0m0 1h0m0-7h0m-5 6h0m-2-1h0m-4 2h0m-4-7h0m0 0h0m0-1h0m-2 0h0m0 8h0m0-4h0m-1 5h0m-2 0h0m-1-4h0m0 1h0m-1-1h0m-1 1h0m-1 1h0m0-5h0m-1-5h0m0-2h0m-1 3h0m0-1h0m-2 4h0m0-1h0m-5 0h0m-2 1h0m0 2h0m-1 5h0m0 0h0m-1-10h0m-1 11h0m-1-2h0m0-4h0m-1-2h0m-2-3h0m0 8h0m-1-10h0m-1 1h0m-2 4h0m-1 1h0m-2 2h0m-1 3h0m-2-6h0m-1 2h0m0 0h0m-4 0h0m-1-7h0m-2 11h0m-1-2h0m0-5h0m-2-2h0m-1 4h0m-2-2h0m-1 9h0m0-3h0m-2 2h0m0-13h0m-1 11h0m0 2h0m-1-12h0m0 3h0m0 3h0m-2-7h0m0 12h0m-1-3h0m0 2h0m0-5h0m-2-6h0m-1 10h0m0 0h0m-3-1h0m0-5h0m0-2h0m-1 1h0m-1 9h0m-1-5h0m0 4h0m-3-1h0m0-5h0m-2 2h0m0 6h0m-2-1h0m0-8h0m-3 6h0m-1-3h0m0-6h0m0 9h0m-1 3h0m-2-7h0m-1 6h0m-3 0h0m-3 1h0m-1-2h0m-1 2h0m0-10h0m-1-1h0m0 2h0m-1 4h0m0-4h0m-1 5h0m0 4h0m-1-5h0m-1-2h0m-1 5h0m0-1h0m-2 3h0m-3-5h0m0 4h0m-1 1h0m-2-3h0m-1-4h0m-2 8h0m-7-10h0m-18 25h0m9-12h0m0 8h0m1-4h0m1-3h0m3 11h0m1-5h0m2 1h0m6-10h0m1 11h0m0-2h0m1 5h0m1-7h0m1-2h0m0 8h0m1-11h0m2 7h0m1-7h0m1 9h0m1 3h0m1-1h0m0-11h0m1 9h0m1-8h0m2 5h0m1-6h0m0-1h0m1 4h0m2 5h0m2-4h0m0 0h0m2 5h0m1-8h0m1 3h0m1 7h0m2-7h0m1-4h0m0-1h0m0 10h0m0-4h0m2 4h0m0 1h0m3 1h0m1-13h0m0 13h0m1-6h0m1 7h0m1-3h0m1-9h0m1 4h0m2 8h0m1-3h0m1 2h0m1-2h0m1-4h0m0 0h0m1-1h0m2 4h0m2-2h0m0-3h0m1 7h0m0-2h0m0-4h0m2 6h0m2-3h0m3-3h0m0-3h0m0-3h0m0 3h0m0 5h0m1 0h0m1-6h0m0-2h0m1 4h0m2 7h0m0 0h0m0-6h0m3-3h0m0 5h0m1 7h0m0-5h0m1 1h0m1 1h0m1-6h0m1 8h0m1-10h0m1 0h0m1 9h0m1 1h0m0 1h0m0-13h0m1 10h0m0-7h0m1 2h0m0 3h0m3-4h0m0 0h0m0-3h0m1 8h0m0-3h0m1-4h0m0 0h0m1 7h0m0 0h0m1-10h0m1 6h0m0 3h0m3-9h0m3 7h0m1-1h0m1-3h0m1 6h0m1-7h0m1 5h0m0-4h0m0 8h0m1-11h0m0 5h0m2 7h0m1 1h0m1-2h0m1-11h0m0 10h0m1 2h0m1-8h0m1 0h0m1-2h0m0 3h0m0-3h0m1 3h0m0-2h0m2 6h0m0 1h0m3-3h0m0-6h0m0 8h0m0-4h0m1 4h0m0 1h0m1-5h0m1-5h0m0 6h0m1 5h0m2-8h0m0-3h0m0 11h0m0-3h0m1-7h0m2 2h0m0 6h0m1-1h0m0-6h0m1 5h0m2 6h0m2-5h0m2-1h0m0 1h0m0-5h0m0 6h0m1-1h0m4-2h0m1 3h0m0 5h0m1-7h0m0 5h0m2-3h0m6 0h0m0 4h0m2-6h0m4 7h0m0-2h0m2 1h0m1-1h0m5 9h0m-4-5h0m0 1h0m-2 7h0m0-2h0m0 7h0m-1-12h0m-2 6h0m0 6h0m-2-10h0m-3 0h0m-1 7h0m-1 2h0m0-8h0m0-1h0m-1 10h0m-2-1h0m0-10h0m-1 5h0m-2 6h0m0-14h0m-2 14h0m-1-13h0m-1 6h0m0 7h0m-1-14h0m-3 14h0m-1-12h0m-2 10h0m-1-7h0m-1 7h0m-1 2h0m-2-9h0m-1-5h0m0 10h0m0-5h0m0 2h0m-1 2h0m-1 0h0m-1 3h0m0-8h0m0 8h0m-1-6h0m0-4h0m0 3h0m-2 7h0m0-3h0m-1 1h0m-1 0h0m0-9h0m-1 2h0m0 6h0m-1-8h0m0 12h0m-1-5h0m0-5h0m0-3h0m0 5h0m-1 9h0m0-2h0m-2 2h0m0-8h0m-1 2h0m-1 6h0m0-4h0m-1-9h0m-1 3h0m0 6h0m-1-2h0m-1 2h0m-1 4h0m0-9h0m-1 2h0m-4-1h0m-2-1h0m0-1h0m-1 5h0m-1-1h0m-1 4h0m-1-7h0m0 2h0m0 3h0m-1-3h0m0-4h0m0 10h0m0-12h0m0 3h0m-1 8h0m0-9h0m-1 2h0m0-2h0m-1 8h0m-2-9h0m-1 11h0m0 0h0m0 1h0m-1-5h0m-2 4h0m0-9h0m-1-2h0m-1 6h0m0-7h0m0 3h0m-1 9h0m0-6h0m-1 3h0m-1 1h0m0-11h0m0 2h0m0 2h0m-3-2h0m-1 7h0m0-9h0m-1 13h0m0-10h0m-1 11h0m0-9h0m0-5h0m-1 10h0m-2-1h0m0-4h0m-1 3h0m0-4h0m-1 8h0m0 0h0m-1-12h0m0 14h0m-2-7h0m0-7h0m-1 6h0m-1-1h0m-1 0h0m-1-5h0m0 11h0m-1-6h0m-1-4h0m0 7h0m0-1h0m0 2h0m0-5h0m-1 6h0m0 1h0m0-2h0m-1-1h0m0 2h0m0-3h0m-1-4h0m-1 6h0m-1 4h0m-1 0h0m0 0h0m-3-9h0m-3 1h0m-2 5h0m0-3h0m-1 4h0m-1 1h0m-2-2h0m-1-6h0m-2 10h0m0-11h0m-1 9h0m-1-6h0m-3 4h0m0-8h0m-2 5h0m-2-5h0m-1 2h0m0-1h0m0 9h0m-1-10h0m-1 12h0m-1-13h0m0 1h0m0 7h0m0-4h0m-2 8h0m-1-11h0m0-1h0m-2 0h0m0 4h0m0 4h0m-1-2h0m0 6h0m-5-11h0m0 0h0m-1 5h0m0 6h0m-1-1h0m0-3h0m-2 5h0m0-6h0m-1 6h0m0-13h0m-1 6h0m0-1h0m-1 7h0m0-6h0m-1-3h0m-2 8h0m-1-11h0m0 7h0m-1-3h0m0 4h0m0-4h0m-2 0h0m-1 5h0m0-5h0m-1 6h0m0 1h0m-2-3h0m0-9h0m-1 12h0m-1 0h0m0-8h0m-1 10h0m-1-1h0m-1-1h0m-2-2h0m0 1h0m-2 1h0m-1 0h0m-1 5h0m2 3h0m2-5h0m8 4h0m3-4h0m0 0h0m1 2h0m0 4h0m1-5h0m1-1h0m3 3h0m1 8h0m0-6h0m1 4h0m0-6h0m1 8h0m1 3h0m0-13h0m0 5h0m1 2h0m0 2h0m1-6h0m1 3h0m2-1h0m2-6h0m0 7h0m1 3h0m1-1h0m1-6h0m0-2h0m0 1h0m0 4h0m1 4h0m0-7h0m2 3h0m0 3h0m1 0h0m0-8h0m1 2h0m0 7h0m1 0h0m1 0h0m1-5h0m1-2h0m3 5h0m0-4h0m2 2h0m1 5h0m0-3h0m0 5h0m1-9h0m0 5h0m0 2h0m1 0h0m0-10h0m1 13h0m2 0h0m1-9h0m2 7h0m1 2h0m0-1h0m2-11h0m0-1h0m0 9h0m1 2h0m0-6h0m3-1h0m1 2h0m0-3h0m1 5h0m0 0h0m1-5h0m1 6h0m2 1h0m0-6h0m0 3h0m0-5h0m2 5h0m0-8h0m0 12h0m0-6h0m1-3h0m0-1h0m0-2h0m1 1h0m0 3h0m0 5h0m1-7h0m0 3h0m0 0h0m1 1h0m2 7h0m0 0h0m2-5h0m2-2h0m1 7h0m0-8h0m1-1h0m1-3h0m0 6h0m1-6h0m0 1h0m0 0h0m1 8h0m1-2h0m0-3h0m2-2h0m1 6h0m0-7h0m2 4h0m0 3h0m0 3h0m0 2h0m1-14h0m1 9h0m0-9h0m1 0h0m1 0h0m0 4h0m0 7h0m1-9h0m1 12h0m2-14h0m0 14h0m0-4h0m1-9h0m1-1h0m0 7h0m0-2h0m0 1h0m1-4h0m0 11h0m0-10h0m1 10h0m1-10h0m1 6h0m1-7h0m1 2h0m1-2h0m0 5h0m1-6h0m0 1h0m0 5h0m2 4h0m0-2h0m2 4h0m1-8h0m0 5h0m0 2h0m2 0h0m2-4h0m0-8h0m0 3h0m3-3h0m1 3h0m0-3h0m1 12h0m1-11h0m0 2h0m1 1h0m4 0h0m0 10h0m1-5h0m1 2h0m1-7h0m0 3h0m1-7h0m0 2h0m1 0h0m1-1h0m0 8h0m2-1h0m0 5h0m0-13h0m2 10h0m1-5h0m0 6h0m3-10h0m2 6h0m1 2h0m0-3h0m0-3h0m1-3h0m4 12h0m0-2h0m1 0h0m1-4h0m1 1h0m1 5h0m0-3h0m3-2h0m0-4h0m1-1h0m0 2h0m0 5h0m2 3h0m1-12h0m0 0h0m1 7h0m1 3h0m2-2h0m2 6h0m1-13h0m5 11h0m3-7h0m3-1h0m-12 11h0m0 7h0m-1-7h0m-3 14h0m-1-1h0m-2-9h0m0 6h0m0-2h0m-1-4h0m-1 7h0m-1-10h0m0 1h0m-1 4h0m-1-3h0m-2 8h0m0-5h0m0 2h0m-1-6h0m-1 3h0m-1-1h0m-1 4h0m-2 2h0m-1-2h0m0-1h0m-1-5h0m-2 5h0m0-3h0m-1 9h0m-2-13h0m-1 12h0m-3 0h0m-1-11h0m0 2h0m-1 5h0m0 0h0m-1-8h0m0 14h0m-1-4h0m-1 3h0m0-12h0m-1 7h0m0 5h0m-1-3h0m-1 4h0m-4-10h0m0-4h0m-1 8h0m-2 5h0m0 1h0m0-5h0m0-7h0m-1 0h0m-2 7h0m0-8h0m-2 6h0m0-5h0m0 12h0m-1-2h0m-1-9h0m0 0h0m0 9h0m-1-4h0m0-5h0m-2 6h0m0-4h0m-1-5h0m0 5h0m0 5h0m-1-5h0m-1 0h0m-2 2h0m0 1h0m0-2h0m-2 0h0m-1 8h0m-1-11h0m0 5h0m0-3h0m-1 2h0m-4-6h0m0 13h0m-1-3h0m-1 2h0m-2-3h0m0-7h0m0 2h0m-1 9h0m0 0h0m-1-8h0m0-3h0m0-1h0m-1 1h0m-1 9h0m-2 0h0m0-6h0m-2 7h0m0-4h0m-1 3h0m-2-11h0m0 3h0m-1 7h0m-1-7h0m-1 2h0m-1 5h0m-1-2h0m-1 2h0m0-6h0m0 1h0m-1 6h0m0-2h0m-1-10h0m-1 6h0m0-1h0m-2-1h0m-1 5h0m-2-8h0m-1 1h0m0 0h0m-1 6h0m-1-4h0m-1 5h0m0 0h0m-2-8h0m0 8h0m0 0h0m0-4h0m-1 4h0m-1 2h0m-1-6h0m0-2h0m-1-3h0m-2 0h0m-2 13h0m0 1h0m-2-1h0m-1-9h0m0 10h0m-4-4h0m0-2h0m0 0h0m-1-2h0m0 5h0m0 0h0m-1-4h0m0 0h0m-2-4h0m0 4h0m-2-6h0m0 7h0m-1-2h0m-2 8h0m0-14h0m-3 5h0m0 1h0m0 3h0m-1-4h0m-3 3h0m0-6h0m-1 6h0m-1 0h0m0-5h0m-1 4h0m0-3h0m-3 6h0m-2-6h0m-1-1h0m0-3h0m-2 11h0m-2-3h0m0-7h0m-3 5h0m-3 0h0m-2 5h0m-1 1h0m-2-12h0m-1 1h0m-1 2h0m-1 1h0m0 0h0m-4 10h0m6 5h0m1-3h0m4-1h0m1 11h0m5-1h0m2-7h0m1 4h0m2-5h0m0 1h0m1-1h0m1 1h0m2 5h0m2 4h0m2-8h0m2 4h0m0-5h0m3 7h0m0 0h0m0 3h0m2-13h0m1 3h0m0 8h0m0-2h0m0 1h0m1-10h0m0 12h0m1-4h0m0 5h0m0-11h0m1 1h0m0-3h0m1 11h0m2-6h0m1 2h0m1 4h0m0 3h0m1-9h0m0 5h0m5 3h0m1-11h0m0 5h0m2 6h0m1-12h0m2 4h0m1 4h0m2 1h0m1-3h0m1-2h0m0 0h0m1 2h0m0-2h0m1-3h0m1 1h0m0 11h0m0-10h0m6 4h0m0-5h0m0 4h0m1-5h0m1 7h0m1 2h0m1-7h0m0 10h0m1-11h0m0 2h0m1 3h0m1 2h0m1-4h0m1-3h0m0 11h0m3-2h0m0-8h0m1 5h0m0 1h0m0 4h0m1-8h0m0-6h0m0 0h0m2 5h0m1 2h0m1-4h0m0 8h0m3-4h0m1-1h0m0 8h0m0-13h0m1 1h0m1 5h0m2-3h0m1 9h0m1-13h0m3 11h0m1 1h0m0-1h0m2-1h0m0 4h0m2-10h0m4 1h0m0 4h0m1-2h0m0 0h0m1 6h0m1-12h0m2 3h0m0 0h0m0 4h0m2-2h0m1-4h0m0 1h0m1 7h0m0 4h0m1-9h0m0 0h0m0 4h0m4 3h0m0-8h0m1 0h0m2 4h0m0-7h0m0-1h0m1 11h0m3-4h0m2-3h0m0 3h0m1-3h0m0-3h0m1 3h0m0-2h0m0 7h0m1 4h0m1-3h0m2 0h0m1-6h0m3 0h0m0 1h0m2 1h0m1-4h0m0-2h0m0 3h0m2 0h0m4 9h0m1-7h0m0-5h0m3 7h0m1 3h0m-8 6h0m-1 6h0m-4-5h0m-5 4h0m-2-4h0m-7 3h0m0 4h0m-1-9h0m0 1h0m-2 0h0m-1-1h0m0 11h0m0-5h0m-1-6h0m-1 1h0m-1-1h0m0 13h0m-4 1h0m0-14h0m-1 6h0m-1 1h0m0 4h0m-1-7h0m-1-4h0m0 8h0m-1-4h0m-1 8h0m-1-8h0m0 0h0m0 2h0m-4-4h0m0 9h0m-1 0h0m-1 1h0m-2-1h0m-2-6h0m-1 1h0m-1 7h0m0-10h0m-1 9h0m0 1h0m0-6h0m-2 3h0m0-4h0m0-3h0m-3 3h0m-2-3h0m-1 6h0m-2 2h0m-1-10h0m0 7h0m0 1h0m-1 4h0m-1-5h0m0 4h0m-2-11h0m-1 11h0m-1-5h0m0-6h0m-2 0h0m-1 8h0m0-6h0m-1 6h0m0 2h0m0-6h0m0 4h0m-1-4h0m0 8h0m0-7h0m-1 7h0m0-2h0m-1-10h0m-1 13h0m0-9h0m-2-1h0m0 10h0m-1-7h0m0 4h0m-1-6h0m0-3h0m-7 4h0m-1 1h0m-2 6h0m-1-9h0m-4-1h0m0 7h0m-1-3h0m-1 7h0m-1-3h0m0 3h0m0-7h0m0 1h0m-1-5h0m-2 6h0m-2 5h0m0-13h0m0 2h0m0 11h0m-1-4h0m0-4h0m-1-6h0m-2 3h0m-1 5h0m-1-4h0m-3-3h0m-2 7h0m-1-7h0m-2 8h0m-1-8h0m-1 11h0m-4-8h0m-2-4h0m-4 2h0m0 0h0m-3 3h0m20 11h0m6-1h0m2 1h0m4 0h0m2 1h0m0 2h0m5-3h0m4 1h0m3 1h0m3 7h0m5-7h0m7 5h0m1-6h0m0 4h0m1-4h0m8 3h0m0-1h0m2-1h0m2-2h0m2 0h0m11 8h0m2-9h0m2 0h0m21 0h0" stroke="#B96BB4" stroke-width="4.3"/>
<path transform="scale(0.2)" d="M2733 402h0m15 2h0m14 7h0m-12-2h0m-47 20h0m2-8h0m3 2h0m2 6h0m6 4h0m8-7h0m25-4h0m1 2h0m11 3h0m9 7h0m3 0h0m-10 2h0m-7 0h0m-17 7h0m0-3h0m-24 2h0m-1-5h0m-7 2h0" stroke="#4AA6C9" stroke-width="4.3"/>
<path transform="scale(0.2)" d="M2524 762h0m18 2h0m1 0h0m13-2h0m8 1h0m2 0h0m1-3h0m1 1h0m3-1h0m0 1h0m2 3h0m15 12h0m-6-3h0m-4 5h0m0-10h0m-1 4h0m-1 4h0m-1-1h0m0 0h0m0-1h0m-2-2h0m-1 7h0m-3-4h0m-1 3h0m-2-4h0m0-7h0m0 10h0m-2-12h0m-1 12h0m-3 1h0m-2-1h0m0 2h0m-4-8h0m0-3h0m0-1h0m-1 8h0m0-1h0m-1-2h0m0 2h0m-2 5h0m-2-12h0m-1 11h0m-1-4h0m-1-4h0m-2-2h0m0 5h0m-1-6h0m0 2h0m-2 2h0m0 3h0m-1-5h0m-1 9h0m-1-3h0m0-4h0m-2-3h0m-6-2h0m-2 13h0m-2-14h0m-2 11h0m0 1h0m0 2h0m-10-1h0m-3-1h0m-3-5h0m-5 22h0m6-3h0m1-7h0m1-2h0m2 7h0m0 1h0m1-9h0m1 3h0m0 4h0m0 1h0m2-1h0m0 5h0m2-7h0m0 6h0m0-5h0m2 7h0m4-7h0m1 6h0m1-7h0m0 0h0m1 6h0m3-10h0m1 0h0m0 9h0m1-6h0m1 9h0m0-3h0m3 0h0m2-8h0m0 1h0m1 10h0m0-3h0m0-10h0m2 2h0m1 5h0m0 5h0m1-9h0m0 1h0m0 1h0m1-1h0m0 0h0m1 9h0m2-13h0m0 3h0m0 2h0m1-3h0m1-2h0m1 13h0m2-1h0m3 1h0m2-5h0m1 2h0m1-6h0m1 6h0m0-11h0m1 14h0m0-2h0m0-7h0m1 7h0m0-10h0m0 2h0m1 9h0m0-11h0m1 0h0m0 10h0m1-6h0m0-1h0m1 6h0m0-3h0m0-6h0m1-2h0m2 7h0m0 5h0m0-12h0m1 12h0m0-2h0m2-6h0m3 8h0m0-5h0m3 3h0m1-4h0m2-6h0m6 0h0m2 0h0m3 10h0m1 2h0m2-2h0m3-8h0m0 0h0m4 2h0m20 25h0m-9-5h0m-4 1h0m0-4h0m0 5h0m-2-10h0m0 9h0m-1-1h0m-2 3h0m0-2h0m-1 1h0m0 0h0m-1 0h0m-1-7h0m-1 9h0m0-7h0m-1 4h0m-2-8h0m-1 8h0m-1-9h0m-1 0h0m-1 13h0m-2-7h0m-1-7h0m-1 5h0m-1 2h0m-1 6h0m0-6h0m0 2h0m-1-3h0m0 7h0m0-3h0m-1-5h0m0 3h0m-1-4h0m-1 6h0m-3 3h0m0-2h0m-1 3h0m-2-2h0m-1-6h0m-1 7h0m0-1h0m-1-4h0m0-2h0m-1 8h0m-1-14h0m0 12h0m-1-8h0m-1-3h0m0 3h0m0-4h0m-1 8h0m0-6h0m0 9h0m-1-8h0m-1-1h0m0 0h0m-1 9h0m-1-4h0m0-2h0m-1 4h0m0 4h0m-1-3h0m-1 2h0m0 1h0m0 1h0m-2-4h0m-1-4h0m-1 7h0m-1 0h0m-1-12h0m0 11h0m-1 0h0m0-6h0m-1 5h0m0-1h0m-1-8h0m0 0h0m0 1h0m-1 4h0m0-7h0m0 1h0m0 7h0m0 6h0m-2-3h0m-1-9h0m0 5h0m-1 2h0m-1-8h0m-1 13h0m0-3h0m-1-5h0m-2 4h0m0 2h0m-1-11h0m0 11h0m-1-3h0m-1-8h0m0 2h0m-1-2h0m-2-1h0m-1 7h0m-1 0h0m0 6h0m-1-1h0m-3-3h0m-2 4h0m0-10h0m-2 10h0m-1-6h0m0-4h0m0 0h0m0 6h0m-3-1h0m-2-3h0m0-1h0m-2-1h0m0 4h0m-1 2h0m-4-5h0m0 6h0m-1-4h0m-1 3h0m-2 1h0m-1 2h0m0 2h0m0-7h0m0 6h0m-1-8h0m-1-1h0m0-2h0m-2 6h0m-1-5h0m-5 11h0m-1-4h0m-1-2h0m-1 3h0m-1 0h0m-4 0h0m1 9h0m2 9h0m0-3h0m3 1h0m1 0h0m3-10h0m1 6h0m0-2h0m1 1h0m0 6h0m1 0h0m0-8h0m0 1h0m2 3h0m1-2h0m0 3h0m1-9h0m1 9h0m1-8h0m0 10h0m3-3h0m2-6h0m1 2h0m2 2h0m0-7h0m0 8h0m1 5h0m0-11h0m1-2h0m0 4h0m2 10h0m1 0h0m0-12h0m1 7h0m1-6h0m2 5h0m0 3h0m0-7h0m0 4h0m1-3h0m1 2h0m0 1h0m1-7h0m1 2h0m0 2h0m0 3h0m1-7h0m1 6h0m1-7h0m0 13h0m1-2h0m3 2h0m0-2h0m0-6h0m1 5h0m1-9h0m0 5h0m0 4h0m2 2h0m0-2h0m0-10h0m0 4h0m2 9h0m1 1h0m1-3h0m1 0h0m0-6h0m0 0h0m1 9h0m0-3h0m0-2h0m0-3h0m0 0h0m0 1h0m1-3h0m0 5h0m0 5h0m0-11h0m1 2h0m0 3h0m0 6h0m0-12h0m0 2h0m1 5h0m1-1h0m1 6h0m0-14h0m1 8h0m0-3h0m1 9h0m1 0h0m0-10h0m0-3h0m0 11h0m1-3h0m0 4h0m0-10h0m0 10h0m3-12h0m1 9h0m0 2h0m2 2h0m0 0h0m1-2h0m1-11h0m1 7h0m1-1h0m0-5h0m0 5h0m1-1h0m1 3h0m0-5h0m1 8h0m0-7h0m0 2h0m0 7h0m2-8h0m0 0h0m1-5h0m0 3h0m1 6h0m1 3h0m1-1h0m1-4h0m2 1h0m2-4h0m1 7h0m0-7h0m1 0h0m1-2h0m0-2h0m1 6h0m3-4h0m1 4h0m1-5h0m3 10h0m0-10h0m1 11h0m3-3h0m0-2h0m2-6h0m0 7h0m1-4h0m1 0h0m0 6h0m1-5h0m0 8h0m1-11h0m1-3h0m3 11h0m0 2h0m1 0h0m0-12h0m0-1h0m1 2h0m1 10h0m0-11h0m1 4h0m0 2h0m1 5h0m-1 3h0m-3 1h0m0 6h0m0-1h0m-3 6h0m-1-9h0m-3 0h0m-1 7h0m0-10h0m-1 6h0m-1 0h0m0 4h0m-1 4h0m0-3h0m-1 3h0m-1-9h0m-1 9h0m0-13h0m-2 6h0m-1 4h0m-2-8h0m0 1h0m-1 4h0m0-8h0m-1 7h0m-1 2h0m0-9h0m-2 6h0m0 4h0m-1-2h0m-1 4h0m-2-3h0m0-1h0m0 5h0m-1-13h0m-1 13h0m0-7h0m0-6h0m-2 1h0m0 0h0m-1 11h0m-1-2h0m-1-6h0m-3 6h0m-2-8h0m-3 7h0m-1-9h0m0 2h0m0 5h0m-1-6h0m-3 9h0m0-5h0m0 1h0m0-3h0m-1 11h0m0-1h0m-1-6h0m0 4h0m-1-1h0m-2 3h0m0 1h0m-1 0h0m0-14h0m-1 9h0m0-8h0m0-1h0m0 7h0m-1-7h0m-1 5h0m0-2h0m-1 5h0m0 3h0m-1-4h0m-1-6h0m0 0h0m-1 2h0m-1 7h0m-1-6h0m0-2h0m0 12h0m-1-7h0m-1 7h0m-1 0h0m-1-5h0m0-6h0m0-1h0m0-2h0m-1 4h0m0 6h0m0-1h0m0 2h0m-1-2h0m-1 3h0m0-4h0m0 2h0m-1-5h0m-1 2h0m-1 6h0m0-2h0m-1-1h0m-1-9h0m0 3h0m-1-2h0m0 1h0m0 8h0m-2-10h0m0 13h0m-1 0h0m-1-8h0m0 8h0m0-13h0m-3 6h0m-1 4h0m0-6h0m-1-3h0m-4 9h0m-1 0h0m-1-10h0m0 7h0m-1 3h0m-1-7h0m-1 4h0m0-7h0m0-1h0m-3 8h0m0-3h0m-2-2h0m-2 2h0m-1-3h0m-1 1h0m0 8h0m-1 3h0m-2-2h0m-2-8h0m-3-4h0m-3 15h0m2 3h0m4-3h0m2 0h0m5 0h0m1 4h0m1 6h0m0-8h0m2 2h0m3-2h0m1 5h0m0-6h0m0 3h0m0 1h0m2-5h0m0 0h0m1 14h0m0-5h0m1 4h0m0-3h0m1-5h0m1 1h0m0-6h0m1 6h0m0-1h0m2 4h0m1 4h0m0-12h0m2 6h0m1 1h0m1 0h0m0-4h0m2 9h0m0-10h0m1-3h0m3 14h0m0-9h0m0 4h0m1-7h0m2 2h0m1-4h0m1 11h0m0 2h0m1-4h0m0 5h0m1-7h0m1-5h0m0-2h0m1 6h0m1 6h0m1-4h0m0 0h0m1-5h0m1 3h0m4 8h0m2-10h0m0 8h0m0-11h0m1 11h0m0-9h0m1 1h0m0 8h0m2-11h0m0 6h0m0-5h0m1-1h0m0 7h0m1-3h0m0 1h0m2 1h0m1-6h0m0 6h0m0 4h0m5-6h0m0-2h0m3 0h0m0 11h0m1-11h0m1 5h0m3 5h0m1-3h0m1-8h0m0 5h0m2-6h0m0 5h0m0-4h0m1 6h0m0-2h0m1-5h0m2 6h0m3 0h0m1 3h0m1 0h0m0-6h0m1 3h0m2-1h0m1-3h0m0 2h0m0-1h0m0-3h0m1 5h0m0-2h0m3 9h0m0-6h0m1 0h0m4-1h0m1-4h0m2-1h0m-10 15h0m-1 1h0m-1 4h0m-2 3h0m-1-9h0m-1 3h0m-2-2h0m-1 4h0m-1-3h0m-2 1h0m-2 8h0m-1 1h0m0 0h0m-1-6h0m0-2h0m-1 1h0m0-5h0m-1 14h0m0-7h0m-1-5h0m0 12h0m-2-13h0m0 10h0m-1-4h0m-1-1h0m-1 3h0m-4-7h0m0 1h0m0-1h0m-1 6h0m-1 6h0m-1-4h0m-1-1h0m-1-2h0m0 5h0m0-11h0m-1 7h0m0-5h0m-1 5h0m0-7h0m0 9h0m-2-7h0m0 4h0m0-6h0m-1 11h0m0-4h0m-1 2h0m-1-7h0m-1 6h0m-1-5h0m0 8h0m-1-8h0m-2 9h0m-1-11h0m0 3h0m-1-2h0m-1 5h0m-1 0h0m-1 6h0m0-7h0m-1 6h0m0-7h0m-1 0h0m-2-5h0m-2 3h0m-1-3h0m0 5h0m-1-2h0m-3 2h0m0 8h0m-4-5h0m-1-9h0m-2 2h0m0 7h0m-2 4h0m0-10h0m-3 6h0m-1 3h0m0-1h0m-1-7h0m-7-1h0m-3 1h0m0-1h0m-4-3h0m12 20h0m14-4h0m0 1h0m5 1h0m1-1h0m6-1h0m5 0h0m2 3h0m1 4h0m1-5h0m3-3h0m1 3h0m2 2h0m3-2h0m0 2h0m1 2h0m4-6h0m3 4h0m6 3h0" stroke="#A48BCB" stroke-width="4.3"/>
</g>
<text x="19" y="10.4" font-size="12" font-weight="bold">A</text>
<text x="133.2" y="16.2" font-size="10.1" font-weight="bold" text-anchor="middle">PB(Control)</text>
<text x="307.4" y="16.2" font-size="10.1" font-weight="bold" text-anchor="middle">PB(ICH)</text>
<text x="512" y="16.2" font-size="10.1" font-weight="bold" text-anchor="middle">Hematoma(ICH)</text>
<text x="94.2" y="55.8" font-size="7.9" text-anchor="middle">CD8_GNLY</text>
<text x="140.2" y="78.6" font-size="7.9" text-anchor="middle">CD8_GZMK</text>
<text x="204.3" y="85.8" font-size="7.9" text-anchor="middle">CD8_SELL</text>
<text x="141.5" y="166.8" font-size="7.9" text-anchor="middle">CD8_SLC4A10</text>
<text x="269.4" y="67.6" font-size="7.9" text-anchor="middle">CD8_GNLY</text>
<text x="324.3" y="80.8" font-size="7.9" text-anchor="middle">CD8_GZMK</text>
<text x="389.5" y="86.8" font-size="7.9" text-anchor="middle">CD8_SELL</text>
<text x="327.1" y="165.6" font-size="7.9" text-anchor="middle">CD8_SLC4A10</text>
<text x="458.4" y="69.8" font-size="7.9" text-anchor="middle">CD8_GNLY</text>
<text x="510.5" y="80.8" font-size="7.9" text-anchor="middle">CD8_GZMK</text>
<text x="574.8" y="86.8" font-size="7.9" text-anchor="middle">CD8_SELL</text>
<text x="513.2" y="165.8" font-size="7.9" text-anchor="middle">CD8_SLC4A10</text>
<circle cx="618.9" cy="38.5" r="2.6" fill="#5268AE"/>
<text x="628.8" y="41.4" font-size="8.1">CD8_GNLY</text>
<circle cx="618.9" cy="49.1" r="2.6" fill="#5BA5C9"/>
<text x="628.8" y="52" font-size="8.1">CD8_GZMK</text>
<circle cx="618.9" cy="59.8" r="2.6" fill="#B458B1"/>
<text x="628.8" y="62.7" font-size="8.1">CD8_SELL</text>
<circle cx="618.9" cy="70.5" r="2.6" fill="#A286C8"/>
<text x="628.8" y="73.4" font-size="8.1">CD8_SLC4A10</text>
<path d="M45.3 186.2V163M45.3 186.2H69" stroke="#000" stroke-width="1.6" fill="none"/>
<path d="M45.3 159.4l-2.6 4.6h5.2zM72.3 186.2l-4.6 -2.6v5.2z" fill="#000"/>
<text transform="translate(38.2 184.3) rotate(-90)" font-size="7.4">UMAP2</text>
<text x="46" y="199.3" font-size="7.4">UMAP1</text>
<path d="M83.8 393.5 H89.7 C92.4 393.5 92.4 402.6 95 402.6 H100.3 V418.4 H95 C92.4 418.4 92.4 418.4 89.7 418.4 H83.8 Z" fill="#D8D0E9"/>
<path d="M83.8 367.4 H89.7 C92.4 367.4 92.4 365.6 95 365.6 H100.3 V402.6 H95 C92.4 402.6 92.4 393.5 89.7 393.5 H83.8 Z" fill="#E0BDE0"/>
<path d="M83.8 319.6 H89.7 C92.4 319.6 92.4 334.3 95 334.3 H100.3 V365.6 H95 C92.4 365.6 92.4 367.4 89.7 367.4 H83.8 Z" fill="#BFE0EA"/>
<path d="M83.8 236.4 H89.7 C92.4 236.4 92.4 236.4 95 236.4 H100.3 V334.3 H95 C92.4 334.3 92.4 319.6 89.7 319.6 H83.8 Z" fill="#B9C3E0"/>
<path d="M116.8 402.6 H122.7 C125.4 402.6 125.4 395.3 128 395.3 H133.3 V418.4 H128 C125.4 418.4 125.4 418.4 122.7 418.4 H116.8 Z" fill="#D8D0E9"/>
<path d="M116.8 365.6 H122.7 C125.4 365.6 125.4 369.6 128 369.6 H133.3 V395.3 H128 C125.4 395.3 125.4 402.6 122.7 402.6 H116.8 Z" fill="#E0BDE0"/>
<path d="M116.8 334.3 H122.7 C125.4 334.3 125.4 331.9 128 331.9 H133.3 V369.6 H128 C125.4 369.6 125.4 365.6 122.7 365.6 H116.8 Z" fill="#BFE0EA"/>
<path d="M116.8 236.4 H122.7 C125.4 236.4 125.4 236.4 128 236.4 H133.3 V331.9 H128 C125.4 331.9 125.4 334.3 122.7 334.3 H116.8 Z" fill="#B9C3E0"/>
<rect x="67.2" y="393.5" width="16.6" height="24.9" fill="#A088C6" stroke="#000" stroke-width="0.9"/>
<rect x="67.2" y="367.4" width="16.6" height="26" fill="#AE5DB0" stroke="#000" stroke-width="0.9"/>
<rect x="67.2" y="319.6" width="16.6" height="47.9" fill="#60A4C8" stroke="#000" stroke-width="0.9"/>
<rect x="67.2" y="236.4" width="16.6" height="83.2" fill="#5469AE" stroke="#000" stroke-width="0.9"/>
<rect x="100.3" y="402.6" width="16.5" height="15.8" fill="#A088C6" stroke="#000" stroke-width="0.9"/>
<rect x="100.3" y="365.6" width="16.5" height="36.9" fill="#AE5DB0" stroke="#000" stroke-width="0.9"/>
<rect x="100.3" y="334.3" width="16.5" height="31.3" fill="#60A4C8" stroke="#000" stroke-width="0.9"/>
<rect x="100.3" y="236.4" width="16.5" height="97.9" fill="#5469AE" stroke="#000" stroke-width="0.9"/>
<rect x="133.3" y="395.3" width="16.5" height="23.1" fill="#A088C6" stroke="#000" stroke-width="0.9"/>
<rect x="133.3" y="369.6" width="16.5" height="25.7" fill="#AE5DB0" stroke="#000" stroke-width="0.9"/>
<rect x="133.3" y="331.9" width="16.5" height="37.7" fill="#60A4C8" stroke="#000" stroke-width="0.9"/>
<rect x="133.3" y="236.4" width="16.5" height="95.6" fill="#5469AE" stroke="#000" stroke-width="0.9"/>
<path d="M56.1 227.4V427.5H160.4" fill="none" stroke="#1a1a1a" stroke-width="1"/>
<path d="M54.6 418.4h1.5" stroke="#1a1a1a" stroke-width="0.8"/>
<text x="53.9" y="420.9" font-size="6.9" text-anchor="end" fill="#0a0a0a">0.00</text>
<path d="M54.6 372.9h1.5" stroke="#1a1a1a" stroke-width="0.8"/>
<text x="53.9" y="375.4" font-size="6.9" text-anchor="end" fill="#0a0a0a">0.25</text>
<path d="M54.6 327.4h1.5" stroke="#1a1a1a" stroke-width="0.8"/>
<text x="53.9" y="329.9" font-size="6.9" text-anchor="end" fill="#0a0a0a">0.50</text>
<path d="M54.6 281.9h1.5" stroke="#1a1a1a" stroke-width="0.8"/>
<text x="53.9" y="284.4" font-size="6.9" text-anchor="end" fill="#0a0a0a">0.75</text>
<path d="M54.6 236.4h1.5" stroke="#1a1a1a" stroke-width="0.8"/>
<text x="53.9" y="238.9" font-size="6.9" text-anchor="end" fill="#0a0a0a">1.00</text>
<path d="M75.5 427.5v1.8" stroke="#1a1a1a" stroke-width="0.8"/>
<path d="M108.5 427.5v1.8" stroke="#1a1a1a" stroke-width="0.8"/>
<path d="M141.6 427.5v1.8" stroke="#1a1a1a" stroke-width="0.8"/>
<text transform="translate(33.5 327.5) rotate(-90)" font-size="8.2" text-anchor="middle" fill="#0a0a0a">Ratio</text>
<text x="21" y="219" font-size="12" font-weight="bold">B</text>
<text transform="translate(79.2 433.2) rotate(-45)" font-size="7.7" font-weight="bold" text-anchor="end">PB(Control)</text>
<text transform="translate(113.2 433.2) rotate(-45)" font-size="7.7" font-weight="bold" text-anchor="end">PB(ICH)</text>
<text transform="translate(146.4 433.2) rotate(-45)" font-size="7.7" font-weight="bold" text-anchor="end">Hematoma(ICH)</text>
<rect x="156.8" y="315.7" width="5.2" height="5.2" fill="#5469AE"/>
<text x="164.3" y="320.6" font-size="6.4" fill="#0a0a0a">CD8_GNLY</text>
<rect x="156.8" y="321.8" width="5.2" height="5.2" fill="#60A4C8"/>
<text x="164.3" y="326.7" font-size="6.4" fill="#0a0a0a">CD8_GZMK</text>
<rect x="156.8" y="327.8" width="5.2" height="5.2" fill="#AE5DB0"/>
<text x="164.3" y="332.7" font-size="6.4" fill="#0a0a0a">CD8_SELL</text>
<rect x="156.8" y="333.8" width="5.2" height="5.2" fill="#A088C6"/>
<text x="164.3" y="338.8" font-size="6.4" fill="#0a0a0a">CD8_SLC4A10</text>
<rect x="231.3" y="228.9" width="30.7" height="2.9" fill="#5268AE"/>
<rect x="263.2" y="228.9" width="30.7" height="2.9" fill="#5BA5C9"/>
<rect x="295" y="228.9" width="30.7" height="2.9" fill="#B458B1"/>
<rect x="326.9" y="228.9" width="30.7" height="2.9" fill="#A286C8"/>
<rect x="231.30" y="232.90" width="30.97" height="8.91" fill="#C0282D"/>
<rect x="263.17" y="232.90" width="30.97" height="8.91" fill="#E9F0F5"/>
<rect x="295.04" y="232.90" width="30.97" height="8.91" fill="#CFE3EA"/>
<rect x="326.91" y="232.90" width="30.97" height="8.91" fill="#D5E7EC"/>
<text x="359" y="239.9" font-size="6.5" fill="#050505">GNLY</text>
<rect x="231.30" y="242.51" width="30.97" height="8.91" fill="#C0282D"/>
<rect x="263.17" y="242.51" width="30.97" height="8.91" fill="#DFECF0"/>
<rect x="295.04" y="242.51" width="30.97" height="8.91" fill="#CFE3EA"/>
<rect x="326.91" y="242.51" width="30.97" height="8.91" fill="#D5E7EC"/>
<text x="359" y="249.5" font-size="6.5" fill="#050505">GZMB</text>
<rect x="231.30" y="252.12" width="30.97" height="8.91" fill="#C0282D"/>
<rect x="263.17" y="252.12" width="30.97" height="8.91" fill="#E7EFF4"/>
<rect x="295.04" y="252.12" width="30.97" height="8.91" fill="#D3E6EC"/>
<rect x="326.91" y="252.12" width="30.97" height="8.91" fill="#D9E9EE"/>
<text x="359" y="259.1" font-size="6.5" fill="#050505">GZMH</text>
<rect x="231.30" y="261.73" width="30.97" height="8.91" fill="#C0282D"/>
<rect x="263.17" y="261.73" width="30.97" height="8.91" fill="#E0EDF1"/>
<rect x="295.04" y="261.73" width="30.97" height="8.91" fill="#D3E6EC"/>
<rect x="326.91" y="261.73" width="30.97" height="8.91" fill="#DCEBEF"/>
<text x="359" y="268.7" font-size="6.5" fill="#050505">FGFBP2</text>
<rect x="231.30" y="271.34" width="30.97" height="8.91" fill="#C0282D"/>
<rect x="263.17" y="271.34" width="30.97" height="8.91" fill="#F3F6F9"/>
<rect x="295.04" y="271.34" width="30.97" height="8.91" fill="#B8D6E1"/>
<rect x="326.91" y="271.34" width="30.97" height="8.91" fill="#DDE9EF"/>
<text x="359" y="278.3" font-size="6.5" fill="#050505">NKG7</text>
<rect x="231.30" y="280.95" width="30.97" height="8.91" fill="#C9DFE8"/>
<rect x="263.17" y="280.95" width="30.97" height="8.91" fill="#CB4349"/>
<rect x="295.04" y="280.95" width="30.97" height="8.91" fill="#C5DDE6"/>
<rect x="326.91" y="280.95" width="30.97" height="8.91" fill="#EEB0B3"/>
<text x="359" y="288" font-size="6.5" fill="#050505">GZMK</text>
<rect x="231.30" y="290.56" width="30.97" height="8.91" fill="#D5E7EC"/>
<rect x="263.17" y="290.56" width="30.97" height="8.91" fill="#C5323A"/>
<rect x="295.04" y="290.56" width="30.97" height="8.91" fill="#F8E3E4"/>
<rect x="326.91" y="290.56" width="30.97" height="8.91" fill="#BEDAE4"/>
<text x="359" y="297.6" font-size="6.5" fill="#050505">COTL1</text>
<rect x="231.30" y="300.17" width="30.97" height="8.91" fill="#F8DCDD"/>
<rect x="263.17" y="300.17" width="30.97" height="8.91" fill="#C93D44"/>
<rect x="295.04" y="300.17" width="30.97" height="8.91" fill="#B5D5E0"/>
<rect x="326.91" y="300.17" width="30.97" height="8.91" fill="#DEEBEF"/>
<text x="359" y="307.2" font-size="6.5" fill="#050505">CD74</text>
<rect x="231.30" y="309.78" width="30.97" height="8.91" fill="#D3E6EC"/>
<rect x="263.17" y="309.78" width="30.97" height="8.91" fill="#C22E34"/>
<rect x="295.04" y="309.78" width="30.97" height="8.91" fill="#C5DDE6"/>
<rect x="326.91" y="309.78" width="30.97" height="8.91" fill="#FFFFFF"/>
<text x="359" y="316.8" font-size="6.5" fill="#050505">IFNG−AS1</text>
<rect x="231.30" y="319.39" width="30.97" height="8.91" fill="#F4C4C6"/>
<rect x="263.17" y="319.39" width="30.97" height="8.91" fill="#C93D44"/>
<rect x="295.04" y="319.39" width="30.97" height="8.91" fill="#B5D5E0"/>
<rect x="326.91" y="319.39" width="30.97" height="8.91" fill="#DFECF0"/>
<text x="359" y="326.4" font-size="6.5" fill="#050505">CMC1</text>
<rect x="231.30" y="329.00" width="30.97" height="8.91" fill="#D8E8ED"/>
<rect x="263.17" y="329.00" width="30.97" height="8.91" fill="#E2EEF2"/>
<rect x="295.04" y="329.00" width="30.97" height="8.91" fill="#C0282D"/>
<rect x="326.91" y="329.00" width="30.97" height="8.91" fill="#D8E8ED"/>
<text x="359" y="336" font-size="6.5" fill="#050505">LEF1</text>
<rect x="231.30" y="338.61" width="30.97" height="8.91" fill="#D3E6EC"/>
<rect x="263.17" y="338.61" width="30.97" height="8.91" fill="#E0ECF1"/>
<rect x="295.04" y="338.61" width="30.97" height="8.91" fill="#C0282D"/>
<rect x="326.91" y="338.61" width="30.97" height="8.91" fill="#D5E7EC"/>
<text x="359" y="345.6" font-size="6.5" fill="#050505">CCR7</text>
<rect x="231.30" y="348.22" width="30.97" height="8.91" fill="#CFE3EA"/>
<rect x="263.17" y="348.22" width="30.97" height="8.91" fill="#E5EFF3"/>
<rect x="295.04" y="348.22" width="30.97" height="8.91" fill="#C0282D"/>
<rect x="326.91" y="348.22" width="30.97" height="8.91" fill="#D3E6EC"/>
<text x="359" y="355.2" font-size="6.5" fill="#050505">SELL</text>
<rect x="231.30" y="357.83" width="30.97" height="8.91" fill="#C5DDE6"/>
<rect x="263.17" y="357.83" width="30.97" height="8.91" fill="#EDF3F6"/>
<rect x="295.04" y="357.83" width="30.97" height="8.91" fill="#C0282D"/>
<rect x="326.91" y="357.83" width="30.97" height="8.91" fill="#D5E7EC"/>
<text x="359" y="364.8" font-size="6.5" fill="#050505">NELL2</text>
<rect x="231.30" y="367.44" width="30.97" height="8.91" fill="#C9DFE8"/>
<rect x="263.17" y="367.44" width="30.97" height="8.91" fill="#DBEAEF"/>
<rect x="295.04" y="367.44" width="30.97" height="8.91" fill="#C5323A"/>
<rect x="326.91" y="367.44" width="30.97" height="8.91" fill="#E9F1F4"/>
<text x="359" y="374.4" font-size="6.5" fill="#050505">BACH2</text>
<rect x="231.30" y="377.05" width="30.97" height="8.91" fill="#DBEAEF"/>
<rect x="263.17" y="377.05" width="30.97" height="8.91" fill="#DBEAEF"/>
<rect x="295.04" y="377.05" width="30.97" height="8.91" fill="#D3E6EC"/>
<rect x="326.91" y="377.05" width="30.97" height="8.91" fill="#C0282D"/>
<text x="359" y="384.1" font-size="6.5" fill="#050505">KLRB1</text>
<rect x="231.30" y="386.66" width="30.97" height="8.91" fill="#D5E7EC"/>
<rect x="263.17" y="386.66" width="30.97" height="8.91" fill="#DBEAEF"/>
<rect x="295.04" y="386.66" width="30.97" height="8.91" fill="#D5E7EC"/>
<rect x="326.91" y="386.66" width="30.97" height="8.91" fill="#C0282D"/>
<text x="359" y="393.7" font-size="6.5" fill="#050505">AL136456.1</text>
<rect x="231.30" y="396.27" width="30.97" height="8.91" fill="#D5E7EC"/>
<rect x="263.17" y="396.27" width="30.97" height="8.91" fill="#DBEAEF"/>
<rect x="295.04" y="396.27" width="30.97" height="8.91" fill="#D5E7EC"/>
<rect x="326.91" y="396.27" width="30.97" height="8.91" fill="#C0282D"/>
<text x="359" y="403.3" font-size="6.5" fill="#050505">CEBPD</text>
<rect x="231.30" y="405.88" width="30.97" height="8.91" fill="#D3E6EC"/>
<rect x="263.17" y="405.88" width="30.97" height="8.91" fill="#D8E8ED"/>
<rect x="295.04" y="405.88" width="30.97" height="8.91" fill="#D5E7EC"/>
<rect x="326.91" y="405.88" width="30.97" height="8.91" fill="#C0282D"/>
<text x="359" y="412.9" font-size="6.5" fill="#050505">SLC4A10</text>
<rect x="231.30" y="415.49" width="30.97" height="8.91" fill="#B5D5E0"/>
<rect x="263.17" y="415.49" width="30.97" height="8.91" fill="#EDF3F6"/>
<rect x="295.04" y="415.49" width="30.97" height="8.91" fill="#E9F1F4"/>
<rect x="326.91" y="415.49" width="30.97" height="8.91" fill="#C8393F"/>
<text x="359" y="422.5" font-size="6.5" fill="#050505">IL7R</text>
<text transform="translate(249.5 428) rotate(-90)" font-size="7.5" text-anchor="end" fill="#050505">CD8_GNLY</text>
<text transform="translate(281.4 428) rotate(-90)" font-size="7.5" text-anchor="end" fill="#050505">CD8_GZMK</text>
<text transform="translate(313.3 428) rotate(-90)" font-size="7.5" text-anchor="end" fill="#050505">CD8_SELL</text>
<text transform="translate(345.1 428) rotate(-90)" font-size="7.5" text-anchor="end" fill="#050505">CD8_SLC4A10</text>
<text x="211.5" y="219" font-size="12" font-weight="bold">C</text>
<linearGradient id="gc" x1="0" y1="0" x2="0" y2="1"><stop offset="0" stop-color="#C0282D"/><stop offset="0.12" stop-color="#C3323A"/><stop offset="0.5" stop-color="#fff"/><stop offset="1" stop-color="#9CC8D7"/></linearGradient>
<rect x="394.3" y="285" width="8.7" height="40" fill="url(#gc)"/>
<text x="404.6" y="288.9" font-size="6.5" fill="#050505">2</text>
<path d="M394.3 286.6h1.6M401.4 286.6h1.6" stroke="#fff" stroke-width="0.5"/>
<text x="404.6" y="298.2" font-size="6.5" fill="#050505">1</text>
<path d="M394.3 295.9h1.6M401.4 295.9h1.6" stroke="#fff" stroke-width="0.5"/>
<text x="404.6" y="307.4" font-size="6.5" fill="#050505">0</text>
<text x="404.6" y="316.7" font-size="6.5" fill="#050505">−1</text>
<path d="M394.3 314.4h1.6M401.4 314.4h1.6" stroke="#fff" stroke-width="0.5"/>
<text x="404.6" y="325.9" font-size="6.5" fill="#050505">−2</text>
<path d="M394.3 323.6h1.6M401.4 323.6h1.6" stroke="#fff" stroke-width="0.5"/>
<g fill="none" stroke-linecap="round">
<path d="M439.1 246.5 Q452 262.5 469.2 275.5 L481.4 285.1 Q498.5 281.3 528.8 259.2 M469.2 275.5 L469.4 264.3 M481.4 285.1 L480 299.5" fill="none" stroke="#111" stroke-width="1.7" stroke-linecap="round" stroke-linejoin="round"/>
<circle cx="469.5" cy="273.3" r="1.5" fill="#fff" stroke="#111" stroke-width="0.7"/>
<circle cx="469" cy="276.7" r="1.5" fill="#fff" stroke="#111" stroke-width="0.7"/>
<circle cx="481.4" cy="285.1" r="1.5" fill="#fff" stroke="#111" stroke-width="0.7"/>
<path transform="scale(0.2)" d="M2179 1220h0m-25 4h0m9 12h0m11-2h0m3 8h0m1-1h0m3-1h0m6-4h0m6 5h0m-25 18h0m-3-8h0m-4-3h0m88 81h0m6-5h0m3 0h0m3 5h0m1 4h0m0-9h0m1 2h0m3-4h0m1 10h0m91 62h0m3-4h0m9 13h0m-1 5h0m-3-4h0m0 4h0m0-1h0m-1-3h0m-2 1h0m-2 2h0m-2-9h0m-4 8h0m-1-6h0m-15-4h0m-1 0h0m-6 3h0m-1 9h0m-2 1h0m-19 14h0m7-8h0m4 3h0m5-2h0m1-5h0m44 1h0m6 4h0m2 1h0m0-5h0m9 9h0m2 1h0m108-7h0m19 8h0m-12 15h0m-7-12h0m-14 11h0m-91-10h0m-5-1h0m-5 0h0m-68 3h0m-3-2h0m-2 0h0m-4 3h0m-2 6h0m-2-2h0m0 2h0m-1 1h0m-2-3h0m-1 4h0m0-2h0m-3 3h0m-2-10h0m0 7h0m-1-6h0m0 0h0m0 8h0m-2-9h0m-1 2h0m-2 4h0m-1 0h0m0 0h0m-3-1h0m-10 6h0m2 4h0m2 5h0m1-9h0m2 6h0m0 3h0m3 3h0m3-8h0m0-2h0m1 2h0m1 3h0m1 4h0m0-11h0m0 4h0m1-3h0m0 3h0m0 2h0m0-6h0m2 8h0m1-2h0m2 3h0m0-3h0m2 4h0m0-8h0m1 12h0m0-4h0m1-10h0m0 5h0m0-3h0m1-2h0m1 6h0m1-2h0m0 2h0m0-6h0m0 6h0m2-2h0m3 2h0m0-6h0m3 6h0m0 2h0m3-3h0m6-3h0m171 3h0m-181 11h0m-5 1h0m-17 1h0m110 84h0m2 1h0m-8 12h0m0 1h0m-2-8h0m-3 5h0m-32 20h0m8 0h0m6-2h0m1 1h0m2 0h0m0-4h0m0 3h0m1-6h0m0 9h0m3-4h0m2 2h0m4 1h0m1-1h0m1 2h0m1-10h0m1 8h0m0-6h0m4-1h0m1 6h0m1 3h0m5-10h0m1 10h0m6-13h0m-4 18h0m-1 8h0m-6 1h0m0-1h0m0-2h0m-2 4h0m0-14h0m-1 3h0m0 5h0m0-4h0m-2 1h0m-3 0h0m-1 5h0m0 4h0m0-11h0m0 7h0m-1 2h0m-1 0h0m0-9h0m0 5h0m-1 2h0m-1-7h0m-1-1h0m0 6h0m-1 2h0m-2-6h0m-1 10h0m0-11h0m-2 0h0m0 9h0m-1 1h0m0-4h0m-1 4h0m-1-3h0m-1 4h0m-1-1h0m-1-1h0m-1-1h0m-2 0h0m0-1h0m-1 0h0m-4-3h0m-2-3h0m-4 3h0m4 9h0m5-1h0m0 5h0m0-5h0m5 0h0m1 5h0m4 8h0m1-7h0m1-6h0m1 11h0m2-4h0m0-2h0m1-4h0m1 0h0m2 11h0m0-3h0m1-5h0m1-4h0m0 2h0m1 5h0m3-5h0m1 9h0m2 0h0m3-8h0m5 2h0m6 0h0" stroke="#5068B0" stroke-width="9.5"/>
<path transform="scale(0.2)" d="M2167 1213h0m4-2h0m33 48h0m-11 1h0m3 2h0m157 40h0m3 7h0m-2 3h0m-2 5h0m37 28h0m-6 3h0m0-1h0m-1-2h0m-2-7h0m-2 5h0m-2 2h0m-15 16h0m3-2h0m0-1h0m4 4h0m6-8h0m1 2h0m1 0h0m0 4h0m0-4h0m0-5h0m5-1h0m0 5h0m-10 10h0m-6 9h0m-3-2h0m-2-2h0m-1 0h0m-1-2h0m-1 2h0m-1-1h0m-6-2h0m18 27h0m191-5h0m7-2h0m0 2h0m0-6h0m-10 18h0m0-2h0m0 0h0m-1 0h0m-1 3h0m-1-7h0m-38 13h0m0-1h0m-4 2h0m-126-3h0m-6-3h0m-6-6h0m-6 4h0m5 10h0m8 1h0m2 1h0m0 0h0m5 6h0m49 3h0m2 1h0m5 1h0m0-4h0m8 4h0m3-2h0m30-2h0m1 1h0m8-6h0m0 3h0m3-5h0m9 3h0m5 6h0m6-6h0m4 5h0m1 0h0m1-11h0m2 10h0m-2 5h0m-1 2h0m-5 1h0m-1 5h0m-6-5h0m-1 5h0m-4-1h0m0-3h0m-6-1h0m0-3h0m-5 0h0m-1 6h0m-1 1h0m0 1h0m-2-1h0m-10 1h0m-2-8h0m-6 9h0m-21-3h0m-4-2h0m-5 1h0m0-4h0m-1 0h0m-4 5h0m-1-5h0m-3 4h0m-7 2h0m-2-4h0m-25 22h0m3 1h0m0-1h0m4-5h0m83-5h0m-83 26h0m0 12h0m11 17h0m-12 3h0m-5 0h0m-8 1h0m-1 0h0m-3 3h0m2 5h0m3-7h0m4 12h0m0-2h0m0-6h0m1 4h0m1 5h0m2-6h0m1 2h0m0-9h0m2 7h0m0 6h0m1-13h0m1 12h0m1-10h0m2 4h0m1 8h0m2-9h0m2-2h0m0 9h0m1-12h0m-3 21h0m0 1h0m0 3h0m0-7h0m-2 5h0m-3-7h0m-1-1h0m-1 3h0m0 6h0m-1-8h0m-1 4h0m0-4h0m-3 6h0m-1-6h0m0 6h0m0 6h0m0-3h0m-2-9h0m-1 7h0m-1-3h0m-3-5h0m-5 10h0m-2 8h0m4 9h0m1-5h0m4 3h0m0 1h0m1 2h0m1-7h0m0-1h0m1-5h0m1 4h0m3-3h0m0 1h0m1 11h0m1-9h0m0 4h0m2-8h0m0 13h0m0 1h0m1-4h0m1-7h0m2 4h0m0 6h0m2-1h0m1 2h0m0-1h0m7-8h0m2 9h0m2-1h0m2 11h0m-11 2h0m-1 1h0m-2-8h0m-3 4h0m-1 4h0m-1 2h0m0-8h0m-2 1h0m0-6h0m0 11h0m-1-11h0m0 5h0m-2-2h0m0 10h0m-1-8h0m-2-4h0m0 2h0m-1-3h0m-1 13h0m0-10h0m0-3h0m-1 8h0m-1 2h0m-2-5h0m-5 7h0m-4-5h0m-6 7h0m16 1h0m15-1h0m2 2h0m1 0h0m3-2h0" stroke="#55A4CF" stroke-width="9.5"/>
<path transform="scale(0.2)" d="M2654 1271h0m1-3h0m0 1h0m1-1h0m1-6h0m10 8h0m7 3h0m3-1h0m1 9h0m-3-1h0m0-1h0m-3 1h0m-1 3h0m0-3h0m0 9h0m-1-7h0m-1-3h0m-1 6h0m-3 4h0m-1 0h0m-4-6h0m-4 6h0m0-10h0m-297 15h0m2 1h0m289 4h0m2-2h0m3-1h0m1 1h0m1 3h0m0-5h0m0 2h0m0 7h0m1-14h0m2 13h0m1 1h0m0-5h0m1-6h0m1 11h0m1-5h0m2-7h0m0 5h0m1 1h0m2 4h0m1-4h0m3 0h0m1-7h0m5 11h0m-9 8h0m-1 4h0m-2-3h0m0-3h0m-1 3h0m0-5h0m-2-1h0m0 7h0m0-5h0m-2 0h0m-3 7h0m0-9h0m-1 14h0m-1-1h0m-2-2h0m-2-9h0m-1 9h0m-1-9h0m-2 6h0m-2 1h0m-2-1h0m-1 1h0m-3-1h0m-250 15h0m10 1h0m227 1h0m4 2h0m16-5h0m1-2h0m1 1h0m0 2h0m1-2h0m0 5h0m3-10h0m3 11h0m9-12h0m-21 27h0m-2-6h0m-4 1h0m-2 2h0m-2 0h0m0 0h0m0-8h0m0 9h0m-1-1h0m-1 4h0m0-8h0m-1 5h0m0-2h0m-1 3h0m-3-7h0m-1 8h0m-1-9h0m-1 1h0m-1 7h0m0-9h0m-9 8h0m0 3h0m-218-12h0m-1-1h0m-2 0h0m-3 2h0m-1 3h0m193 24h0m0 0h0m3-1h0m1-3h0m1 4h0m4 0h0m0-1h0m3-1h0m2-2h0m0 0h0m1 2h0m2-7h0m3 0h0m0-3h0m0 2h0m0-3h0m2 10h0m2-4h0m1 2h0m1-1h0m7 2h0m4-3h0m0-4h0m4-2h0m5-1h0m5 0h0m2 0h0m-24 15h0m-5 2h0m-4 5h0m-3 5h0m0-8h0m-3-1h0m-1-3h0m-1 9h0m0 4h0m-1-5h0m-2-6h0m-1-2h0m-2 11h0m0-9h0m-1 1h0m-1 8h0m-3 0h0m-28 9h0m1 9h0m1-8h0m2 0h0m0 6h0m3-3h0m1 0h0m5 3h0m5 2h0m28-14h0m-38 19h0m-3-4h0m-1 8h0m-10-8h0m-43 7h0m-29 21h0m3-4h0m23-5h0m1 6h0m15-1h0m2-5h0m2 6h0m5-6h0m-7 15h0m-2 5h0m-2 1h0m-4-10h0m-6 3h0m-4 6h0m-5-6h0m-1 6h0m-2-6h0m-1-2h0m0 10h0m-3-1h0m-2-9h0m0 5h0m-3-4h0m-4-2h0m-2 11h0m-3-2h0m13 7h0m-78 85h0m-3-1h0" stroke="#B558B4" stroke-width="9.5"/>
<path transform="scale(0.2)" d="M2579 1376h0m-24 12h0m0 2h0m4-3h0m26-4h0m7-1h0m-30 20h0m-6-6h0m-35 13h0m-7-1h0m-38 10h0m19-3h0m3 6h0m2-5h0m0 8h0m14-12h0m8 16h0m-12 0h0m0 10h0m-8-9h0m-3-4h0m-2 7h0m-2-2h0" stroke="#55A4CF" stroke-width="9.5"/>
<path d="M561.6 246.9 Q574.5 262.9 591.7 275.9 L603.9 285.5 Q621 281.7 651.3 259.6 M591.7 275.9 L591.9 264.7 M603.9 285.5 L602.5 299.9" fill="none" stroke="#111" stroke-width="1.7" stroke-linecap="round" stroke-linejoin="round"/>
<circle cx="592" cy="273.7" r="1.5" fill="#fff" stroke="#111" stroke-width="0.7"/>
<circle cx="591.5" cy="277.1" r="1.5" fill="#fff" stroke="#111" stroke-width="0.7"/>
<circle cx="603.9" cy="285.5" r="1.5" fill="#fff" stroke="#111" stroke-width="0.7"/>
<path transform="scale(0.2)" d="M2765 1213h0m2 1h0m1 0h0m0-13h0m0 10h0m3 2h0m8-10h0m4 8h0m2 0h0m1 2h0m17 1h0m24 15h0m-6-3h0m-1-4h0m-1 3h0m-1 4h0m-3-5h0m-4 3h0m-2-8h0m-2 6h0m0-4h0m-1 8h0m-1 0h0m-2-6h0m0 6h0m0-3h0m-2 1h0m0-8h0m0 3h0m-1 7h0m-1-6h0m0-4h0m-1 1h0m0 5h0m0-5h0m-1 5h0m-1 1h0m0-9h0m-1 0h0m0 6h0m-1-6h0m0-2h0m-8 12h0m0-11h0m-1 8h0m-1 5h0m-2-6h0m-1 3h0m0-6h0m-3 4h0m-1 4h0m0-1h0m-2-5h0m0 2h0m-1 5h0m0-8h0m0-6h0m-1 0h0m0 12h0m0-12h0m0 4h0m0 2h0m0 1h0m-1-2h0m0-1h0m0-2h0m-1 2h0m-1 2h0m0 6h0m-2-11h0m-1 2h0m0 6h0m-1-8h0m-7 13h0m-2-7h0m8 15h0m1-3h0m1 0h0m1 5h0m1 0h0m2-4h0m1 0h0m1 0h0m2 6h0m0-1h0m0-5h0m0 3h0m1 3h0m3-7h0m0 0h0m0 7h0m2 1h0m0-1h0m1-1h0m3 4h0m0-8h0m1-6h0m1 10h0m0-9h0m0 4h0m0 6h0m1-3h0m0 5h0m0-4h0m1 5h0m0-12h0m0 10h0m2-6h0m0-3h0m1 10h0m0-6h0m1 0h0m0-4h0m0-2h0m0 0h0m1 1h0m0 3h0m1 2h0m0 1h0m1 6h0m0-6h0m0-6h0m0 9h0m0-7h0m1 8h0m0-6h0m0 3h0m0-5h0m0 8h0m1 0h0m0-8h0m1 8h0m0-4h0m0 2h0m2-6h0m0 5h0m0-7h0m2-1h0m1 13h0m0-12h0m0-1h0m0 10h0m0 3h0m1-11h0m0 6h0m0-2h0m0-7h0m1 10h0m0-9h0m0 0h0m1 10h0m1-1h0m0-6h0m1 5h0m1 5h0m1-1h0m0-8h0m1 2h0m0 5h0m0-11h0m1 10h0m0-9h0m0 8h0m1-1h0m1 5h0m1 0h0m0-8h0m0 0h0m1 7h0m0-3h0m0-1h0m2-4h0m1 3h0m1-3h0m1 2h0m4-3h0m2 6h0m3 3h0m1-5h0m6 21h0m-4 0h0m-1-4h0m-1 4h0m0-5h0m-2-2h0m-2 1h0m-1 0h0m-1 2h0m0 1h0m-1-3h0m0-1h0m-1 4h0m0-5h0m-2-4h0m-1 3h0m-2 8h0m0-8h0m-2 1h0m-1-2h0m0 8h0m-1-8h0m0 0h0m0 3h0m0-6h0m0 4h0m-1-4h0m0 3h0m-1 6h0m0-5h0m0 3h0m-4 4h0m0-7h0m-1 9h0m0-2h0m0-1h0m0-6h0m-3 5h0m0-4h0m0 3h0m-2-2h0m-1 0h0m-1-6h0m-1 6h0m-1-4h0m0 10h0m0 0h0m0-1h0m-1-9h0m0 7h0m0-2h0m-1 6h0m0-6h0m-1-4h0m-1 6h0m0-5h0m-1 3h0m0-4h0m0-4h0m-1 3h0m0 11h0m0-3h0m0-5h0m0 2h0m-1-6h0m-1 1h0m0 6h0m-1-4h0m0 3h0m0-7h0m0 13h0m-2-6h0m0 5h0m0-9h0m0 2h0m-1 3h0m0 3h0m-1-2h0m-1-9h0m0 6h0m0-4h0m-3 4h0m0-1h0m0-6h0m0 0h0m-1 0h0m-1 11h0m0-3h0m-2-5h0m-3-3h0m-3 7h0m0 0h0m0-3h0m-3 0h0m-1-3h0m-6 5h0m15 9h0m5 1h0m1 0h0m4 1h0m2 2h0m4-2h0m1 2h0m2-2h0m5 0h0m0 1h0m6 1h0m0 4h0m1-4h0m2 1h0m4 1h0m0 1h0m3-5h0m3 0h0m2 2h0m0 1h0m1-5h0m1 5h0m3-3h0m2 0h0m2 9h0m1-10h0m0 10h0m1 0h0m0-7h0m0 1h0m0 8h0m1-4h0m0 1h0m1-1h0m1-3h0m2-1h0m0 6h0m1 0h0m0-11h0m0 1h0m1 6h0m1-5h0m1 10h0m0 0h0m0-7h0m1 1h0m1 5h0m2 1h0m1 1h0m0-2h0m-3 5h0m-1 4h0m-1-5h0m0 0h0m-3 5h0m0 6h0m111 18h0m0-6h0m1 6h0m1-11h0m1 2h0m1 8h0m0-6h0m1 1h0m0 2h0m1 2h0m0 0h0m0-11h0m1 5h0m0-4h0m0 7h0m0-6h0m0 3h0m0 7h0m0-6h0m1-3h0m0 7h0m0-3h0m1 0h0m0 3h0m0-11h0m1 11h0m0-2h0m0 1h0m0 1h0m1-5h0m0 8h0m0-8h0m3 6h0m1 0h0m3 9h0m-1 5h0m-2-2h0m-1 4h0m0-12h0m0 2h0m-2 11h0m-1-12h0m0-2h0m0 11h0m-1-7h0m0 4h0m0-5h0m-1 5h0m-1 3h0m-1-8h0m0 10h0m-1 1h0m0-3h0m-1 3h0m-1-2h0m0 0h0m-1-11h0m0-1h0m-1 11h0m-1 3h0m0-13h0m-1 0h0m-1 1h0m0 3h0m-1 1h0m0 0h0m0 2h0m0-3h0m-2 0h0m-76 6h0m-1 2h0m-18 9h0m6 6h0m0-3h0m0-4h0m4 7h0m0-12h0m1 12h0m0-4h0m6-1h0m1 5h0m0 0h0m1-7h0m1 7h0m0-5h0m1-7h0m3 10h0m0-4h0m2 4h0m0 1h0m5-6h0m64 5h0m1-10h0m1 10h0m1-2h0m1-2h0m1 2h0m2-9h0m1 6h0m1 4h0m0-8h0m0-1h0m3 11h0m0 0h0m1-4h0m1-6h0m0 12h0m1-9h0m2-4h0m1 4h0m0 4h0m1-4h0m1 8h0m3-6h0m19 21h0m-20-13h0m-3 14h0m0-6h0m0-8h0m-1 12h0m-1-11h0m-1 11h0m-1-10h0m-1-2h0m0 10h0m-1-1h0m0-3h0m0 2h0m-4-7h0m-2 3h0m0-3h0m-2 0h0m0 5h0m-1 7h0m-2-5h0m-2-1h0m-41 3h0m-22-8h0m-1 6h0m0-6h0m-5 4h0m-10 0h0m0-4h0m-5 0h0m0 4h0m0-4h0m0 1h0m-1-1h0m37 20h0m1 1h0m2 6h0m1-4h0m0-7h0m1 5h0m0 1h0m1 2h0m0 3h0m0-5h0m3-1h0m0-2h0m1 4h0m2-4h0m1 3h0m1 3h0m1 0h0m1 1h0m0-9h0m3 8h0m1 2h0m5-3h0m3 1h0m23 0h0m1-1h0m0-8h0m1 8h0m0-3h0m2-6h0m1 3h0m0 9h0m1 0h0m0-10h0m1 5h0m0 2h0m1 1h0m0-11h0m1 11h0m2-4h0m0 5h0m1-8h0m0-5h0m1 0h0m4 3h0m10 11h0m2-7h0m0-3h0m2 3h0m0 3h0m2 4h0m1-4h0m0 1h0m2-10h0m0 9h0m3-3h0m1 5h0m1-8h0m1-4h0m0 7h0m2-2h0m0 2h0m1-6h0m-7 14h0m0 2h0m-1 0h0m-1-1h0m-3 4h0m-1 2h0m-1-3h0m-3 3h0m-3 3h0m0-4h0m-1 1h0m0-2h0m-2-3h0m-3 9h0m-1-6h0m-1 3h0m-6-6h0m-1-1h0m-2-1h0m0 8h0m0-3h0m-1-1h0m0 6h0m0-7h0m-1 6h0m0-2h0m-1-4h0m0 1h0m-1 7h0m-1-8h0m0 4h0m-2 1h0m-11 5h0m0-2h0m0-6h0m-1 8h0m-2-12h0m-1 12h0m-1 1h0m-1-4h0m-2 1h0m-1-4h0m0 3h0m0-4h0m0 4h0m-2 4h0m0-5h0m-4-6h0m-3 4h0m0 4h0m-1-4h0m0-7h0m-1 0h0m-1 9h0m-1-6h0m0 5h0m-4-7h0m-2 3h0m-2-4h0m-1 1h0m-2 1h0m0 4h0m15 14h0m14 1h0m0-3h0m1 0h0m3-2h0m3 8h0m4-8h0m0 2h0m2 6h0m1 0h0m0-2h0m0 2h0m0 5h0m1 0h0m0-3h0m2 2h0m3-1h0m2-6h0m3 6h0m0 1h0m184 10h0m-2-6h0m-7 9h0m-2-2h0m-7 5h0m-28-4h0m-127-3h0m0 3h0m0 3h0m-1-2h0m0-2h0m0 0h0m-1 2h0m0-4h0m0 0h0m-1 7h0m0-6h0m-1-1h0m-1-4h0m0 4h0m-1-6h0m-1 9h0m0-4h0m0 8h0m-1-13h0m-1 9h0m-1-5h0m0-5h0m0 9h0m-1 4h0m0-10h0m0-3h0m0 11h0m-1-5h0m0 2h0m0 1h0m-1-2h0m-1-7h0m-3 1h0m-4 0h0m-1 7h0m-1-6h0m0 5h0m-2-2h0m0 1h0m0 0h0m-1-4h0m0 6h0m-1 4h0m0-4h0m-1-2h0m-1 0h0m0 3h0m0-6h0m-1 2h0m0 7h0m0-7h0m0 8h0m0-8h0m0-4h0m-1 7h0m0 5h0m0-5h0m-1 4h0m0-3h0m0 2h0m0 3h0m0-5h0m-2 1h0m0-5h0m0 7h0m0-2h0m-1 2h0m-20 17h0m0-3h0m1 1h0m1 2h0m1-5h0m1 3h0m2-1h0m0-1h0m0-5h0m2 3h0m0 6h0m0-10h0m0 5h0m0-5h0m1 6h0m0-2h0m0-2h0m1 2h0m2 3h0m1-1h0m1-6h0m0 8h0m0-11h0m0 6h0m1-3h0m0 9h0m0-4h0m1-8h0m0 8h0m0-7h0m2-2h0m0 3h0m0 8h0m0-2h0m1-2h0m1-7h0m0 0h0m1 8h0m1 3h0m0-3h0m0-2h0m0 4h0m1-3h0m2-4h0m0-1h0m1-2h0m3 7h0m0-5h0m5-1h0m12 3h0m2 0h0m0 5h0m1-2h0m0 7h0m0-7h0m0-6h0m1 11h0m1-11h0m1 13h0m0-2h0m0-10h0m0 6h0m0 4h0m1-9h0m1 1h0m0 1h0m3-3h0m1 12h0m0-7h0m0 7h0m1-3h0m0-5h0m4 4h0m1 0h0m6 3h0m42-5h0m7 3h0m8 1h0m28 2h0m2-1h0m10-1h0m15-8h0m6 9h0m1-5h0m3 1h0m0 0h0m5-3h0m6 0h0m4 4h0m5 4h0m2-7h0m0-2h0m1-5h0m1 10h0m0-2h0m3-7h0m3 10h0m0-11h0m6 6h0m3 6h0m-37 17h0m-2-5h0m-3-9h0m-9 1h0m-5 6h0m-1 4h0m-4-3h0m-7 3h0m-7-9h0m0 7h0m-2-4h0m-1 5h0m0-8h0m-5 11h0m-3 1h0m-3-3h0m-1-11h0m-5 6h0m-9-2h0m-5 5h0m-2-5h0m-4 0h0m-2-4h0m-44 10h0m-1-10h0m0 7h0m-1 4h0m0 2h0m-1-1h0m0-10h0m0 2h0m0 7h0m0-7h0m-1 5h0m0 2h0m0 0h0m0-5h0m-1-3h0m-1-1h0m0-2h0m0 4h0m0 2h0m-1 6h0m-2-12h0m-1 9h0m0-9h0m-1 9h0m-1-3h0m0-3h0m0 0h0m-2 1h0m0 1h0m-1 1h0m-1-5h0m-37 7h0m0 5h0m0-2h0m-4-8h0m-1-2h0m-1 7h0m0 2h0m-2-3h0m-1 5h0m-1-8h0m0 9h0m0-9h0m-1-2h0m0 5h0m-1 6h0m0-8h0m0 9h0m0-6h0m0 5h0m-1 1h0m0 0h0m-1-7h0m0 5h0m-1-6h0m0 3h0m-1-6h0m0 10h0m0-12h0m-1 10h0m0 3h0m-1-5h0m0 4h0m0-1h0m-1 0h0m0-4h0m-1 2h0m-3 2h0m0-4h0m-1 4h0m0-2h0m-1-2h0m-1 6h0m-2-1h0m-2-7h0m-2 4h0m-1 4h0m0-2h0m-6-5h0m0 2h0m-3-1h0m-8 10h0m10 6h0m0-6h0m1-2h0m2 5h0m0-2h0m1 9h0m1-13h0m0 9h0m1-7h0m0 7h0m2 4h0m0-8h0m2 3h0m1-6h0m4-2h0m0 0h0m0 8h0m1-8h0m1 5h0m0 1h0m1-5h0m0 3h0m0-4h0m2 2h0m1 5h0m1-6h0m0 1h0m1-1h0m1 9h0m0-8h0m0-2h0m2 3h0m0-1h0m1-2h0m2 7h0m0-6h0m1 5h0m1 4h0m1-9h0m1 4h0m0-3h0m0 9h0m1-8h0m0 11h0m1-7h0m0 2h0m4-3h0m3 1h0m73 0h0m2 2h0m0 3h0m51-7h0m-45 17h0m-2 5h0m-4-1h0m-1-6h0m-1 3h0m-2-3h0m-91-1h0m-1-3h0m-13-1h0m-3 1h0m-5 1h0m106 15h0m1 4h0m1 8h0m2-13h0m2 6h0m1 4h0m0-11h0m1 3h0m1 7h0m1-9h0m0 6h0m2 1h0m1 0h0m2 0h0m-3 13h0m-2 6h0m-1-1h0m-3 1h0m0-10h0m-1 5h0m-1 6h0m0-11h0m-2 3h0m-2 2h0m-6 22h0m6-2h0m0-7h0m1 0h0m0 3h0m1-2h0m0-1h0m1 1h0m1 7h0m1-10h0m0 9h0m2-5h0m3 1h0m17 20h0m-7-3h0m-2 4h0m0-8h0m-3 2h0m-4 3h0m0-1h0m-1 0h0m0-3h0m-1 7h0m0-9h0m-1-1h0m-1 10h0m0-8h0m-1 8h0m-1-13h0m0 13h0m-1-5h0m0-4h0m0 1h0m-1-2h0m0 6h0m-1-7h0m0 4h0m-1-2h0m-1 1h0m0-1h0m-1-2h0m0-2h0m0 5h0m-2 2h0m-8 15h0m3 3h0m1 1h0m1-12h0m1 7h0m0 4h0m0 0h0m1-4h0m1 3h0m0-9h0m3-1h0m0 13h0m0-9h0m0 5h0m0-7h0m1-1h0m0 0h0m0 13h0m1-4h0m2-4h0m0 0h0m1-6h0m1 6h0m0 2h0m1-5h0m0 2h0m1 6h0m2-2h0m1-9h0m0 13h0m1-3h0m0 0h0m5-6h0m2 9h0m1-11h0m3 7h0m-1 15h0m-4-6h0m-1-3h0m-2 3h0m-1-3h0m-1 0h0m0 13h0m-1-9h0m0 7h0m-2-6h0m-1-2h0m-1 6h0m-1-4h0m-1-5h0m0 5h0m0 7h0m-1 1h0m-1-12h0m-1 3h0m-1 9h0m-1-6h0m-3-6h0m-1 1h0m-3 1h0m-2 1h0m-1 1h0m0 6h0m-7 1h0m1 3h0m5 7h0m1-7h0m1 1h0m1 4h0m2 0h0m3 7h0m1-7h0m2 5h0m2-4h0m1-3h0m1-2h0m0 9h0m0 4h0m1-2h0m0-8h0m0 0h0m0 9h0m0-2h0m2 1h0m0-4h0m3-8h0m1 13h0m1-11h0m3-2h0m1 12h0m4-4h0m5-2h0m2 3h0m2 3h0m-13 12h0m-3-2h0m-2 4h0m0-1h0m-4 1h0m-3-9h0m0-1h0m-1 4h0m-1 3h0m0-7h0m-1 11h0m-2-7h0m-1 3h0m-1 3h0m-4-10h0m-5 7h0m-1-6h0m-9 0h0m35 15h0" stroke="#5068B0" stroke-width="9.5"/>
<path transform="scale(0.2)" d="M2846 1253h0m-3 6h0m0-4h0m-5 2h0m-4-1h0m-2 9h0m0-2h0m3 7h0m2-5h0m2 3h0m0 0h0m5-2h0m2-2h0m116 39h0m1-3h0m1 1h0m2-4h0m0-7h0m2 14h0m1-4h0m1-8h0m0-1h0m0 9h0m1 2h0m1-12h0m2 8h0m0-2h0m0-3h0m0-2h0m1 12h0m2-5h0m0 3h0m1 2h0m1-6h0m0 10h0m-1 5h0m-1-1h0m0 5h0m-2-5h0m-3 4h0m0-7h0m-1 3h0m0 0h0m-1 4h0m0 2h0m0-11h0m-1 8h0m-1-9h0m0 5h0m-2-2h0m0 9h0m-1-8h0m0 3h0m-1-5h0m0 12h0m-4-11h0m0 15h0m3 10h0m0-9h0m0-1h0m2 9h0m0-2h0m0-10h0m3 9h0m0-3h0m1-1h0m1 0h0m2 9h0m0-3h0m0-8h0m0 6h0m3-2h0m2-7h0m18 14h0m1 0h0m1-2h0m1 1h0m3 1h0m1-1h0m1 0h0m7 1h0m-1 1h0m0 5h0m-2 1h0m-1-1h0m-1 3h0m0-7h0m0 7h0m-1-7h0m0 5h0m0 7h0m-1-8h0m-1-3h0m-1 0h0m0 12h0m0-10h0m-2 2h0m-1 5h0m-1-11h0m0 2h0m-1 12h0m0-2h0m-1-8h0m0 10h0m0-13h0m0 11h0m0 2h0m-2-13h0m0 13h0m-1-6h0m-1 2h0m-1-7h0m-1 6h0m0-3h0m0 6h0m0 1h0m-1-8h0m0-3h0m0 4h0m-1 4h0m-2 3h0m-4 0h0m-4 0h0m-6-12h0m-2 11h0m0-8h0m0-1h0m-1 3h0m-2 4h0m0 3h0m-1-8h0m-1 2h0m0 5h0m0-3h0m-1-6h0m0 8h0m-1-7h0m-1 2h0m3 16h0m1-3h0m1-2h0m0-1h0m2 4h0m0 9h0m0-2h0m1-9h0m0 7h0m3-7h0m0 9h0m0-11h0m1 1h0m1 9h0m0-3h0m0 5h0m1-13h0m1 8h0m0-2h0m1 7h0m2-3h0m1-7h0m1 10h0m0 0h0m1 1h0m0-6h0m1-4h0m0 1h0m0 0h0m0 2h0m3 4h0m1-10h0m0 11h0m0-7h0m0 4h0m1-1h0m1 0h0m1 3h0m1-4h0m1 2h0m0-2h0m0-5h0m2 7h0m0-2h0m1-6h0m0 4h0m0-1h0m2-4h0m2 3h0m1-3h0m0 3h0m-14 12h0m-1 0h0m-3 6h0m-2-6h0m0 3h0m-2 2h0m-1 1h0m-2-3h0m-2 3h0m0-4h0m0 1h0m-1 2h0m-1 1h0m0 1h0m-1-5h0m0 2h0m-1 2h0m-1-6h0m-1 11h0m-1-7h0m0-4h0m-1 7h0m-1 4h0m-1 1h0m201 11h0m3 6h0m3 12h0m-2-6h0m-2 3h0m-3-2h0m0 3h0m-1-4h0m0 0h0m0 1h0m-1-2h0m-1 1h0m-1 8h0m-1-13h0m0 9h0m-3 4h0m-17 0h0m-1-6h0m-3 7h0m-3-1h0m-2 0h0m-7-3h0m-6 3h0m-88 10h0m10 3h0m1-3h0m3 5h0m2 0h0m0 1h0m2-6h0m7-2h0m1 4h0m4 4h0m12-8h0m2 6h0m4 1h0m6-6h0m3 6h0m9 1h0m3 0h0m2-8h0m3-4h0m1 8h0m0 1h0m5-10h0m1 13h0m4-9h0m0 4h0m0 3h0m3-4h0m2 0h0m1 3h0m2-1h0m0-1h0m1-3h0m1 2h0m2-1h0m1-2h0m3 2h0m3-2h0m1-4h0m0 1h0m0 0h0m1 6h0m0-6h0m0 3h0m2 2h0m2-6h0m1 1h0m1 4h0m0 7h0m3-11h0m1-1h0m0 13h0m1-12h0m13-1h0m2 8h0m-37 12h0m-1 2h0m-3-4h0m-1-3h0m-1 0h0m-5 4h0m-2-2h0m-5 5h0m-7-7h0m-4 1h0m-2-2h0m-7 2h0m-3-2h0m0 6h0m0-3h0m-1 6h0m-1-5h0m-2 2h0m0-3h0m-2 3h0m0-5h0m0 5h0m-3-3h0m-1 4h0m-2 1h0m0-6h0m-1 8h0m-1-9h0m0 0h0m-2 6h0m-2-7h0m-3 5h0m-1-5h0m0 8h0m-1-6h0m0 12h0m-2-12h0m-3 7h0m0 2h0m-6-11h0m-2 3h0m-5 9h0m-1 0h0m-1-3h0m-1-5h0m0 9h0m-1-9h0m0 2h0m-6-3h0m0-1h0m-3 6h0m-21 18h0m6-8h0m17-2h0m18 3h0m-35 21h0m-1-6h0m-1-4h0m-1 12h0m-2-10h0m-2 3h0m-6 21h0m6-1h0m1-4h0m1-1h0m0 2h0m5-2h0m0 23h0m0-8h0m-2 5h0m0 2h0m-1 1h0m-3-4h0m-2-8h0m-1 3h0m0 2h0m0-1h0m-5 8h0m3 3h0m1 11h0m1-5h0m5 0h0m6 10h0m-2 10h0m-1-9h0m-3 9h0m-1-1h0m-1-6h0m0 6h0m0-5h0m-1 0h0m0 2h0m0-4h0m-1 8h0m0-1h0m-1-10h0m0 6h0m0 7h0m-3-9h0m-1-3h0m0 8h0m-1-6h0m-1 9h0m0-7h0m-4 8h0m0 14h0m10-4h0m0 2h0m4-8h0m0-1h0m0 12h0m1-7h0m1-2h0m1 6h0m0-8h0m10 0h0m-12 15h0m-8 5h0m0-3h0m0 11h0m5 3h0m1 4h0m3-6h0" stroke="#55A4CF" stroke-width="9.5"/>
<path transform="scale(0.2)" d="M2840 1237h0m3-1h0m434 8h0m12 7h0m-4-4h0m0 6h0m-1-3h0m-1-4h0m-2 13h0m-3-8h0m-1 5h0m-1-9h0m-1 9h0m0 1h0m-1 2h0m0-2h0m0 2h0m-2-4h0m-1-1h0m0-4h0m-289 19h0m1 2h0m3-7h0m4 3h0m273 3h0m2 4h0m0-2h0m0-11h0m0 10h0m1-9h0m0 12h0m4-7h0m0 7h0m0-4h0m1-1h0m0-3h0m1 6h0m0 2h0m1-2h0m0-4h0m0-8h0m0 13h0m0 0h0m1 0h0m0-8h0m0 3h0m0-8h0m0 9h0m1-7h0m0 11h0m0-12h0m0 13h0m1-6h0m2-1h0m0-4h0m0 2h0m0 7h0m1-1h0m1-3h0m0 5h0m1-6h0m1-5h0m1 12h0m1-6h0m0-6h0m0 9h0m0 3h0m0-4h0m0 2h0m1-9h0m1 9h0m0 1h0m0 1h0m1-1h0m1-10h0m1-1h0m1 7h0m0 2h0m2-7h0m0-4h0m3 3h0m-1 15h0m-2-3h0m-1 4h0m-1-2h0m-1 0h0m-1 6h0m-2 3h0m0-11h0m0 10h0m0-4h0m0 0h0m-2 1h0m0-2h0m-1 4h0m0-6h0m0-2h0m-1 5h0m0 0h0m0 8h0m-1-6h0m0-4h0m0-4h0m-1 1h0m0-1h0m0 8h0m-1-3h0m0 8h0m0-4h0m0-8h0m0 8h0m0-3h0m-1 3h0m0-3h0m0 4h0m-1-8h0m0 2h0m-1 10h0m0-14h0m0 9h0m-1-3h0m0-2h0m-1 8h0m0-12h0m-1 11h0m0-1h0m0-6h0m-1 0h0m0 8h0m-1-11h0m0 1h0m0 2h0m0-3h0m-1 10h0m0-9h0m0 9h0m0-8h0m0 0h0m-1 0h0m-1 11h0m0-12h0m-1 9h0m0-5h0m0-2h0m-1 0h0m-1-3h0m-3 5h0m-268 6h0m-3 1h0m-5 3h0m4-1h0m270 9h0m1-2h0m1 1h0m1-5h0m1 3h0m3 1h0m0 0h0m0 7h0m1-11h0m0 1h0m0 7h0m0-4h0m1 0h0m0 0h0m0-6h0m1 6h0m1-5h0m0 9h0m0-10h0m0 1h0m0 3h0m1 1h0m0 0h0m0 3h0m1-5h0m0 1h0m1 5h0m0-6h0m0-3h0m0 8h0m0-9h0m1 1h0m1 4h0m1 7h0m0 2h0m1-12h0m0 3h0m0 1h0m0 4h0m1-9h0m1 2h0m1 2h0m1 9h0m1-2h0m0-9h0m0 11h0m1-5h0m0-6h0m1 9h0m0-9h0m1 3h0m0 6h0m1-3h0m0 1h0m1-5h0m3 2h0m0-7h0m1 10h0m-7 5h0m-3 2h0m0-2h0m-2 3h0m0-2h0m0 2h0m-1 3h0m-3 4h0m0-6h0m-1 10h0m-6-13h0m0 10h0m-1-7h0m-1 8h0m-2 2h0m0-2h0m-2 2h0m-1-3h0m-2 3h0m0 0h0m-1-14h0m0 10h0m-5-4h0m0 1h0m-2-2h0m-241 24h0m229-1h0m9-5h0m5-5h0m3-3h0m3 5h0m1-1h0m0 1h0m1 3h0m1 6h0m2-9h0m0-5h0m0 2h0m3 0h0m-23 21h0m-19 5h0m-4 0h0m-212-10h0m-1 4h0m-2 7h0m0-1h0m-2-6h0m-2 0h0m-2 0h0m211 13h0m14-5h0m1 1h0m8 1h0m6 3h0m4-1h0m-16 13h0m-23 7h0m-13 3h0m-1 2h0m-2-3h0m-2 0h0m-31 12h0m16-5h0m1 6h0m5 4h0m1 0h0m9-10h0m3-2h0m7 0h0m7 1h0m-26 16h0m-18 2h0m-4-2h0m-6 7h0m-17 1h0m0 2h0m-5 1h0m-61 15h0m5-1h0m4-1h0m3 0h0m19-1h0m0-10h0m4 2h0m1 10h0m10-1h0m2-2h0m2 3h0m0-4h0m2-9h0m3 1h0m1 11h0m0-4h0m2-8h0m0 3h0m2 6h0m8-2h0m2-5h0m0 5h0m1 2h0m3-2h0m-27 15h0m-18 5h0m-11-10h0m-4 4h0m-3-6h0m0 7h0m-1 3h0m-1-9h0m-8 7h0m-3-7h0m-3 3h0m-1-1h0m-5 2h0m-39 92h0m-1 0h0" stroke="#B558B4" stroke-width="9.5"/>
<path d="M442.9 356.7 Q455.8 372.7 473 385.7 L485.2 395.3 Q502.3 391.5 532.6 369.4 M473 385.7 L473.2 374.5 M485.2 395.3 L483.8 409.7" fill="none" stroke="#111" stroke-width="1.7" stroke-linecap="round" stroke-linejoin="round"/>
<circle cx="473.3" cy="383.5" r="1.5" fill="#fff" stroke="#111" stroke-width="0.7"/>
<circle cx="472.8" cy="386.9" r="1.5" fill="#fff" stroke="#111" stroke-width="0.7"/>
<circle cx="485.2" cy="395.3" r="1.5" fill="#fff" stroke="#111" stroke-width="0.7"/>
<path transform="scale(0.2)" d="M2152 1719h0m4-6h0m4 0h0m30 26h0m-4-7h0m-13 4h0m0 0h0m-20-6h0m-1-3h0m10 21h0m5-8h0m0 14h0m0-5h0m1-4h0m1 3h0m0 2h0m2 0h0m0-10h0m1 8h0m0 5h0m1-1h0m0-8h0m1 3h0m0 6h0m1-2h0m0 0h0m0 0h0m0-7h0m1 4h0m2 0h0m0-5h0m2 6h0m1 3h0m1 1h0m1-13h0m1 2h0m0 12h0m0-2h0m1-5h0m1-7h0m0 11h0m1 0h0m0-2h0m0-4h0m1-5h0m0 12h0m0 2h0m1 0h0m0-9h0m1 3h0m0-6h0m0 11h0m0-4h0m0-4h0m0-1h0m2 10h0m0 0h0m1-8h0m1 6h0m0-1h0m1 0h0m1 3h0m1-5h0m1-1h0m0 4h0m4-1h0m0-3h0m1 6h0m1-8h0m1 4h0m0 4h0m1-5h0m0 3h0m1 2h0m0-4h0m1 3h0m2 1h0m21 14h0m-3-1h0m-4 2h0m0-6h0m-1 1h0m-2-9h0m-1 10h0m-1-1h0m-3-2h0m0 0h0m-2 2h0m0-4h0m0 3h0m-1-1h0m-1 5h0m0-2h0m0 0h0m-2-7h0m0 7h0m0-5h0m-1 9h0m-2-4h0m0 3h0m0-4h0m0-4h0m0 4h0m0-6h0m-1 10h0m0-9h0m-1 0h0m0 1h0m0-2h0m0 8h0m0-6h0m0 2h0m-1 7h0m0-6h0m0-7h0m0 2h0m-1 5h0m0-5h0m-1 4h0m0 6h0m0-11h0m0 9h0m0-7h0m0 1h0m0-3h0m-1 9h0m0 0h0m0-6h0m0 9h0m-1-8h0m0 1h0m0-7h0m0 1h0m-1 9h0m0-6h0m0 1h0m-1 6h0m-1-11h0m0 14h0m-1-14h0m0 0h0m-1 3h0m0 2h0m-1 1h0m0 7h0m0-10h0m0 10h0m0-10h0m-1-2h0m0 2h0m-1 8h0m0 2h0m0-5h0m0 0h0m-1 6h0m-1-11h0m0 6h0m0-3h0m-1 6h0m0-1h0m-1-6h0m0 8h0m0-12h0m-1 13h0m0-8h0m-1-3h0m0 10h0m0-7h0m0 2h0m-1-1h0m0 5h0m0-4h0m0 0h0m-1 2h0m0-9h0m-1 5h0m0-6h0m0 7h0m-1 5h0m0-3h0m0-3h0m-2-1h0m-1 7h0m0-7h0m-1 1h0m0 0h0m-2-4h0m-1 1h0m0 7h0m-3 1h0m-3-3h0m-2 5h0m0 1h0m-2-11h0m0 1h0m4 14h0m4-3h0m1 7h0m0-4h0m0 7h0m1-8h0m1 1h0m6 2h0m1 5h0m0-9h0m1 12h0m1-6h0m0-6h0m1 7h0m0-7h0m0 6h0m0 0h0m2 3h0m1 1h0m0-9h0m0-1h0m0 8h0m1-9h0m0 0h0m0 0h0m0 11h0m0-3h0m1-8h0m1 1h0m0 6h0m0 3h0m1 4h0m0-3h0m0-3h0m0-6h0m1-1h0m0 3h0m0-3h0m0-1h0m1 0h0m0 0h0m0 5h0m0 4h0m0 4h0m0-9h0m0 1h0m0-1h0m1 9h0m0-6h0m0-3h0m1 2h0m0-6h0m0 0h0m0 0h0m1 2h0m0 5h0m0-3h0m0 10h0m0-13h0m0 8h0m1-3h0m1 4h0m0-3h0m0-4h0m0 5h0m1 3h0m0 1h0m0-8h0m1 2h0m0-3h0m1 10h0m0-8h0m0 3h0m0 6h0m1-5h0m0-7h0m1 12h0m0-4h0m0-7h0m1 2h0m0 7h0m0-10h0m1 9h0m0-5h0m0-2h0m0 0h0m1 10h0m0 0h0m1 0h0m0-10h0m0 10h0m0-5h0m0 2h0m1-3h0m0-2h0m1 1h0m1-6h0m1 13h0m0-5h0m0-2h0m1-4h0m0 1h0m1 8h0m0-1h0m1-10h0m0-1h0m0 13h0m0 1h0m0-11h0m1 10h0m0-10h0m0 10h0m1-6h0m0 6h0m1-9h0m0 4h0m2 5h0m1-1h0m2 2h0m0-2h0m0-4h0m0-8h0m2 5h0m0 8h0m0-7h0m0 8h0m1 0h0m1-2h0m0-2h0m1 0h0m0 2h0m3 1h0m2-1h0m2 0h0m15 14h0m-2 0h0m-1 2h0m0-4h0m-1 1h0m-2-5h0m-1 5h0m0-5h0m0 0h0m-1 7h0m0-7h0m-1 6h0m-1-10h0m-4 3h0m-1 8h0m0 1h0m0-8h0m-1-3h0m0 2h0m0 1h0m0-1h0m-1 7h0m-2-5h0m-1 5h0m0 3h0m0-10h0m0-1h0m0 9h0m-1-1h0m0-5h0m-2-4h0m0 0h0m-1 7h0m-2-6h0m-1 10h0m0-12h0m0 4h0m0-4h0m-1 0h0m-1 1h0m-1 2h0m-1 2h0m-1 6h0m-1-3h0m0 5h0m-1-6h0m-2-3h0m-1 0h0m0 0h0m-1-2h0m0 6h0m0-1h0m-1 0h0m0 4h0m-1-7h0m0 2h0m0-3h0m0 2h0m0-6h0m-1 11h0m0-1h0m-1-5h0m-1 4h0m0-6h0m0 3h0m-2-2h0m-1-2h0m0 2h0m0 1h0m-1-1h0m0 2h0m0 8h0m-1-2h0m0-8h0m0 8h0m0-4h0m-1-8h0m0 1h0m-2 0h0m-2 6h0m-7-1h0m0-4h0m-1-2h0m-1 7h0m-1-5h0m-2 3h0m-5 1h0m0-2h0m-2-1h0m16 15h0m5-2h0m8 0h0m0 2h0m0 4h0m0-4h0m2 8h0m0 0h0m1-8h0m1 1h0m3 5h0m0-3h0m0 8h0m2-9h0m0 3h0m1 2h0m0-3h0m0-7h0m0 7h0m2-1h0m2-3h0m1 1h0m0 7h0m1-10h0m1 9h0m3-9h0m2 5h0m0-2h0m2 0h0m2-1h0m0 1h0m0 3h0m2 7h0m1-10h0m1 8h0m2-1h0m2-3h0m2 5h0m0-8h0m3 3h0m2 4h0m2-11h0m1 9h0m0 4h0m2-3h0m1 3h0m16 13h0m-2 0h0m-1-9h0m0 11h0m-1-1h0m-1-2h0m0 3h0m-1-1h0m-4-6h0m-1 7h0m0-4h0m0 0h0m-1-3h0m0 3h0m-5-8h0m-1 4h0m-4 4h0m-1-7h0m-2-3h0m-1 1h0m-3 0h0m0-1h0m-2 7h0m-4-1h0m0 4h0m-2-4h0m0-3h0m-11-1h0m-4-2h0m-3 1h0m40 17h0m5-2h0m6 4h0m1 2h0m1-2h0m0-1h0m1 8h0m2-11h0m0 6h0m2-7h0m0 5h0m0 3h0m3-6h0m-14 33h0m3 2h0m0 5h0m5-8h0m4 1h0m1 6h0m0-9h0m2 11h0m3 0h0m3-4h0m0 2h0m6-3h0m67-2h0m3 8h0m0-5h0m1-8h0m1 10h0m0-5h0m0 3h0m0 2h0m1-7h0m1 3h0m0-4h0m1 11h0m2 5h0m0 8h0m-1-6h0m0-3h0m-6 9h0m-1-11h0m-2 1h0m0-1h0m-62 5h0m-5-5h0m-1 11h0m-1-6h0m0-6h0m-3 6h0m0 2h0m-2 4h0m-1-5h0m-2 2h0m-1-1h0m-4-1h0m-3-5h0m-1 0h0m-6 1h0m24 15h0m66-1h0m1 11h0m1 0h0m0-7h0m1-6h0m0 14h0m1-13h0m0 9h0m2-5h0m1-4h0m0 10h0m1-9h0m4 0h0m23 12h0m10 1h0m-1 4h0m-3 4h0m0-4h0m0 2h0m-1 0h0m0-5h0m-1 7h0m0-2h0m-1 1h0m-1 7h0m-2-4h0m0-4h0m-3 2h0m-3 3h0m-1 3h0m-1-4h0m0-5h0m0 7h0m-3 2h0m-13-7h0m-3-4h0m-1 10h0m0-2h0m-1-1h0m-1 0h0m0 0h0m-1 2h0m-2-9h0m-3 3h0m-22 0h0m-2 7h0m-2-7h0m-1 7h0m0-9h0m-2 1h0m0 1h0m-1 2h0m-2 6h0m-2-4h0m0-6h0m-1 7h0m-1-5h0m-2 1h0m0 1h0m-5 6h0m9 4h0m4 0h0m0 0h0m1 3h0m0 1h0m1 0h0m1 2h0m4-3h0m1-5h0m1 12h0m0-7h0m0 7h0m2-13h0m1 13h0m0-3h0m2-8h0m1 8h0m1-3h0m2-1h0m1-3h0m6 2h0m0-4h0m4 9h0m0 2h0m1 2h0m6-9h0m0-5h0m8 9h0m5-5h0m0 3h0m1 0h0m2-2h0m2-4h0m2 1h0m1-2h0m0 0h0m0 1h0m1-1h0m0 5h0m7-4h0m4 0h0m-16 26h0m-3 1h0m0 1h0m-1 0h0m-3-2h0m0-3h0m-2 2h0m0 0h0m-2-4h0m0 6h0m-1-6h0m-1 1h0m-1-4h0m0 1h0m-2 1h0m0-3h0m-2 4h0m-2 2h0m-1-4h0m0 4h0m-1-2h0m0 1h0m0-5h0m0 11h0m0-12h0m-1 8h0m0-1h0m-1 4h0m-1-4h0m0 4h0m-2-8h0m0 7h0m0 1h0m0-8h0m0 3h0m-1 3h0m-1-5h0m0 7h0m-1-3h0m0-3h0m0-2h0m-2 5h0m-4 4h0m-1-3h0m0 3h0m-1-3h0m-16 17h0m1-1h0m1-7h0m1 0h0m0 0h0m1 2h0m1 0h0m1-2h0m0 4h0m2 3h0m0-8h0m1 7h0m1-5h0m2-3h0m0 11h0m0-9h0m0 9h0m1-11h0m1 8h0m0-1h0m0-1h0m1-1h0m0-8h0m0 10h0m1-5h0m0 1h0m1-5h0m0 8h0m2-2h0m1 2h0m1-1h0m4-4h0m1-2h0m7-2h0m9 2h0m1 4h0m0-6h0m0 5h0m1-1h0m0-2h0m0 4h0m2 4h0m0-7h0m1 10h0m1-1h0m0-3h0m0 2h0m2-9h0m0 3h0m0 2h0m1-5h0m0 2h0m1 10h0m2-5h0m2-7h0m1 7h0m1 1h0m0 4h0m0-11h0m1 3h0m1 4h0m0 2h0m1-5h0m2 2h0m1 2h0m7 16h0m-1 0h0m0 2h0m-1-6h0m0 2h0m-1 3h0m-1-4h0m-1-7h0m0 5h0m0 0h0m0-4h0m-1 5h0m0-2h0m0-3h0m-1 4h0m0 4h0m0-9h0m-2 3h0m0-2h0m0 4h0m-1-7h0m0 2h0m0-1h0m-1 4h0m0 4h0m-1 1h0m0 2h0m-1 1h0m0-10h0m-1 8h0m0-9h0m0-2h0m-1 0h0m-2 5h0m0 0h0m0-3h0m-3 2h0m-1 3h0m-36-4h0m-1-2h0m-2-1h0m-1 5h0m0-5h0m-1 2h0m0 4h0m-2 6h0m0-11h0m-1 6h0m-1-6h0m-1 7h0m-1 4h0m0 0h0m-2-12h0m0 4h0m-1-2h0m0 10h0m0-8h0m-1 0h0m0-4h0m-1 5h0m-1 0h0m0 8h0m-2-11h0m0 8h0m0 2h0m-3-8h0m0 10h0m-3-6h0m0-1h0m-1-2h0m-2 6h0m0-2h0m0-7h0m-4 10h0m-1-3h0m-1 4h0m-1-5h0m-3 5h0m-4-5h0m2 10h0m1 0h0m2 6h0m0-8h0m1 9h0m2-1h0m4 0h0m2-3h0m0 6h0m0-11h0m3 9h0m0-2h0m1-8h0m0 14h0m0-14h0m0 8h0m0-7h0m0 5h0m1-5h0m0 11h0m0 1h0m0-1h0m0-7h0m2-4h0m0 8h0m0-7h0m0 8h0m1-10h0m0 11h0m1-5h0m0 1h0m0 7h0m0-1h0m0-1h0m0 2h0m1-6h0m0 6h0m1-13h0m0 6h0m0-3h0m1-1h0m2 1h0m2 6h0m0-2h0m3 5h0m1-1h0m3-1h0m55-6h0m1-4h0m1 5h0m1-3h0m1-1h0m1-2h0m0 0h0m0 6h0m27 6h0m-6 15h0m-5 0h0m-74-8h0m-4 6h0m0-10h0m0 3h0m-2 0h0m-1 3h0m0-5h0m-1 1h0m0-2h0m-2 0h0m0 0h0m-1 1h0m0 1h0m-3 12h0m0 0h0m-1-8h0m-3-6h0m-1 0h0m0 1h0m0 1h0m-3 0h0m-3-1h0m-4 5h0m105 17h0m1-3h0m1 7h0m1-12h0m2 2h0m0 1h0m-4 22h0m0-4h0m0 7h0m-1 1h0m-1-10h0m0 9h0m-1-12h0m0 3h0m-1-4h0m-1 6h0m0 3h0m-11 18h0m2-11h0m1 13h0m1-11h0m0 7h0m2 1h0m2-4h0m0-1h0m2-5h0m1 2h0m0-2h0m2 8h0m0-9h0m1 1h0m0 5h0m2-1h0m1 0h0m0 1h0m1 2h0m0 4h0m0-5h0m2-1h0m0 2h0m0-5h0m0 11h0m1-14h0m0 13h0m0-13h0m1 3h0m0 0h0m1 7h0m0-1h0m2 0h0m1-1h0m2 4h0m2 0h0m1 16h0m-1-2h0m0-11h0m-2 2h0m-5 9h0m-1 2h0m0-6h0m0 6h0m-1-4h0m-1 4h0m0 1h0m-1-11h0m0 9h0m-2 0h0m0-12h0m-4 9h0m0-3h0m-1-5h0m0 2h0m0 4h0m0-7h0m-1 5h0m0-3h0m-2 0h0m-1-1h0m0 12h0m-2-9h0m0 7h0m0-11h0m-2 10h0m-4 19h0m1-6h0m0-8h0m3 7h0m0 7h0m1-2h0m1-10h0m1 12h0m0-7h0m0-5h0m1 10h0m2-8h0m1 5h0m1-8h0m0 11h0m1-10h0m0 12h0m0-2h0m0 0h0m2-5h0m1-2h0m0-4h0m1 12h0m0-7h0m0 7h0m2-13h0m1 14h0m18-9h0m-11 21h0m-4-6h0m0 8h0m-2-13h0m-1 3h0m0 8h0m-1-8h0m-2 4h0m-2 2h0m0-3h0m-1-6h0m0 13h0m-2-8h0m0-4h0m-2 11h0m0-3h0m-1 4h0m-1-3h0m-1-6h0m-2 9h0m0-8h0m-1 9h0m-1 0h0m-2 0h0m-7-7h0m-1 1h0m7 17h0m4-6h0m5-2h0m0 5h0m3 3h0m2-10h0m4 4h0m2-4h0" stroke="#5068B0" stroke-width="9.5"/>
<path transform="scale(0.2)" d="M2205 1724h0m2 0h0m22 11h0m-17-1h0m-4 5h0m-2-4h0m0 4h0m-1-5h0m0-2h0m0 7h0m-1-7h0m0 3h0m-1 4h0m0-8h0m0 7h0m-1-1h0m-1 2h0m-3-5h0m-3 6h0m0 1h0m3 4h0m2 3h0m1-6h0m0 9h0m0 1h0m1-12h0m0 5h0m1 3h0m1 4h0m0-9h0m1 1h0m0 3h0m0-3h0m1-2h0m1-2h0m0 5h0m2 7h0m1 2h0m1-3h0m1-5h0m2 3h0m0-1h0m3 2h0m0-5h0m1 4h0m2 0h0m6-4h0m1 0h0m0-3h0m1 8h0m0-3h0m1-1h0m1-4h0m0 2h0m0 7h0m1-1h0m0-1h0m0 0h0m23 10h0m-1-1h0m-1 5h0m-1 3h0m0 0h0m-1-3h0m0-5h0m-1 0h0m0 3h0m-3 2h0m-1 0h0m0 6h0m-4-1h0m-3 1h0m-4-2h0m-2-4h0m-1 6h0m0-14h0m-2 10h0m-1 0h0m0-1h0m-1-8h0m0 0h0m0 8h0m-2 5h0m-1-3h0m0 2h0m0-5h0m-1 3h0m0-10h0m-1 5h0m0 2h0m-1 2h0m0 0h0m-1 1h0m0-9h0m0 4h0m0 5h0m-1-4h0m-1 2h0m-4-5h0m0-1h0m-6 4h0m-1-5h0m-1-2h0m11 16h0m7-1h0m4 4h0m7-4h0m1 14h0m0-4h0m3-7h0m0 10h0m0-2h0m1 0h0m0-10h0m0 12h0m2-3h0m0-4h0m1 3h0m1 5h0m1-7h0m1-5h0m0 7h0m1-1h0m0-5h0m0-2h0m0 9h0m0 1h0m1-6h0m0 1h0m3 5h0m10 1h0m2-5h0m1 7h0m0-2h0m2 1h0m1-9h0m0 1h0m0 7h0m0-6h0m1 2h0m2 3h0m0-4h0m2 4h0m1-6h0m-5 10h0m-4 1h0m0 8h0m0 1h0m-1-1h0m-1 4h0m-1-2h0m-1-10h0m-1 7h0m0 1h0m0 2h0m-1 0h0m0 3h0m-1-11h0m-1 8h0m-20-10h0m21 14h0m116 13h0m5-2h0m1 1h0m1-1h0m0 3h0m1 0h0m2-1h0m3 1h0m-1 4h0m0 2h0m0 7h0m-1-9h0m0 5h0m-1 3h0m0-2h0m-1 2h0m0-2h0m-1 1h0m0-10h0m-1 6h0m0-6h0m-1 8h0m0 3h0m-1-6h0m0 0h0m-1-5h0m-1 0h0m0 14h0m-1-14h0m-1 7h0m-2-3h0m0 5h0m-1 0h0m-4 3h0m0 1h0m-2 1h0m-1-1h0m1 9h0m2 1h0m0-2h0m0 6h0m2-10h0m3 1h0m1 8h0m0-6h0m2 5h0m0-6h0m0 3h0m2-4h0m0-2h0m0-1h0m0 8h0m1-4h0m0 2h0m1 4h0m1 1h0m3-5h0m1 2h0m1 6h0m2-7h0m2-3h0m-3 22h0m0-11h0m-1 5h0m-1 0h0m-1 8h0m-1-11h0m-1 2h0m0 8h0m-1-3h0m-2 3h0m-1-9h0m0 7h0m-2-8h0m-2-2h0m0 2h0m-1 7h0m-3-4h0m-2-2h0m-1 4h0m-2 6h0m-2-2h0m-6 14h0m4-5h0m1 4h0m1-3h0m0 3h0m1 5h0m2-11h0m2 0h0m0 2h0m3 9h0m1-14h0m1 13h0m4-12h0m1 10h0m0 1h0m0-6h0m1-2h0m1 2h0m0 6h0m1-4h0m0 1h0m1-7h0m2 6h0m0-7h0m1-1h0m0 4h0m3-1h0m1 0h0m29 23h0m-1-3h0m-1 2h0m0-4h0m-1 4h0m0 3h0m-1-1h0m-1-2h0m-1 1h0m0 0h0m0 0h0m-1-1h0m0 4h0m-1-2h0m0-2h0m-1-2h0m-1-2h0m-1 4h0m-1-2h0m-1-4h0m0 6h0m0 3h0m-1-5h0m-23-1h0m0-6h0m-1 4h0m0 8h0m-3-13h0m0 5h0m-1 7h0m0-6h0m0-1h0m-1 5h0m-1 0h0m0 0h0m-1-1h0m-1-6h0m0-3h0m-1 0h0m0 9h0m0-2h0m-2 0h0m-1 7h0m0-4h0m-1 4h0m0-11h0m-1 1h0m0 8h0m-2-10h0m-1 2h0m-1-2h0m0 17h0m2 5h0m0 4h0m1-1h0m0 0h0m1-8h0m0-4h0m1 1h0m1 2h0m0 5h0m0-5h0m2-2h0m0 7h0m3 6h0m0 0h0m0-3h0m0-9h0m1 7h0m0 4h0m1-4h0m0-6h0m0 7h0m2-3h0m0-3h0m0 9h0m0-6h0m1 4h0m0-7h0m0-4h0m0 0h0m2 2h0m7 3h0m2 4h0m0-6h0m1 6h0m0 4h0m3-4h0m1 4h0m0 1h0m1-13h0m0 4h0m1-2h0m1 7h0m0 2h0m3-1h0m0-5h0m1-1h0m1 0h0m1 7h0m1-7h0m1-5h0m0 6h0m1-3h0m0 11h0m1-2h0m0-8h0m1-3h0m0 0h0m0 8h0m0-5h0m1 2h0m1-5h0m0 9h0m1 0h0m0 4h0m0-12h0m0 9h0m1-1h0m0-6h0m1-2h0m1 9h0m0-10h0m1 4h0m2-5h0m-7 17h0m-7-1h0m0-1h0m-1 4h0m-7 5h0m-2 1h0m-1 4h0m0-13h0m-1 13h0m-1-10h0m-2 10h0m-1-7h0m-1 6h0m0-4h0m-1-6h0m0-2h0m-1 8h0m0 0h0m0-7h0m-1 10h0m-1-11h0m0 12h0m0-10h0m0-1h0m0 4h0m-2 0h0m0 7h0m-2-6h0m0 7h0m-1-4h0m-1-5h0m-1 9h0m-1-11h0m-2 5h0m-1-4h0m0 1h0m0-3h0m-1 9h0m0-10h0m0 7h0m-1 3h0m0-1h0m-1 2h0m0-5h0m-1-5h0m0-1h0m-1 1h0m0 11h0m0 0h0m0-11h0m-1 11h0m-1-3h0m-1-9h0m-2 3h0m2 11h0m1 1h0m0 3h0m0-1h0m2-3h0m1 5h0m0 0h0m0-3h0m1-2h0m3 7h0m1-2h0m0-2h0m1-3h0m0 0h0m1 0h0m0 2h0m0 0h0m0 0h0m1 1h0m0 1h0m0-1h0m1-1h0m1 2h0m2-2h0m0 1h0m0-1h0m5-1h0m1-1h0m2 1h0m1-1h0m3 0h0m190 13h0m8 1h0m5-2h0m0-2h0m5 2h0m-21 5h0m-4 9h0m-14 0h0m-54 14h0m8 4h0m26-4h0m-13 5h0m-17 3h0m-2 0h0m0-3h0m-4 10h0m-1-1h0m-5-3h0m-5 1h0m-3-1h0m-8 0h0m-5 3h0m0 2h0m-4-4h0m0 4h0m-1 1h0m-9-7h0m0 4h0m0-3h0m0 8h0m-7-9h0m-3 6h0m-2 2h0m0 0h0m-3-5h0m-3-4h0m-3 11h0m15 6h0m10-3h0m10-1h0m-71 70h0m1-1h0m6-5h0m1-1h0m2 5h0m0-8h0m11 18h0m-5-5h0m-5 12h0m-3-5h0m0-3h0m-2 10h0m0-10h0m-2 4h0m-4-3h0m-2 0h0m-4 24h0m1-5h0m12-1h0m1 2h0m2-1h0m8-7h0m6 10h0m-6 6h0m-4 6h0m-6-9h0m-2 2h0m-3 0h0m-2 2h0m-1 1h0" stroke="#55A4CF" stroke-width="9.5"/>
<path transform="scale(0.2)" d="M2691 1795h0m-5-1h0m-4 5h0m-1-3h0m-285 11h0m4 3h0m272-8h0m1 8h0m2 2h0m2-5h0m0-6h0m0 7h0m0 3h0m2 2h0m0-1h0m1-9h0m0 11h0m0-6h0m1-3h0m2 4h0m0-6h0m0 10h0m0-7h0m0-5h0m1 0h0m0 12h0m0-9h0m0 7h0m1-7h0m1 4h0m0 6h0m1-13h0m2 11h0m0 0h0m0-1h0m0-6h0m3 9h0m1 0h0m0-8h0m1 5h0m0-9h0m2 1h0m2 0h0m1-2h0m2 3h0m-1 21h0m-1 4h0m-1-11h0m0-1h0m-3-1h0m0 13h0m0-3h0m-2-2h0m-1-1h0m0 1h0m-1 5h0m0-5h0m-1 3h0m0-4h0m0 5h0m-1-3h0m0-3h0m0 7h0m-1-11h0m0-1h0m0 12h0m0-2h0m0-2h0m-1-3h0m0-1h0m0 5h0m0-11h0m-1 12h0m0-2h0m0-4h0m0-4h0m-1 9h0m0-7h0m0 2h0m-1 0h0m0 8h0m-1-6h0m0-1h0m0 2h0m-1-2h0m0 1h0m0-3h0m0-2h0m0 5h0m0 0h0m-1 0h0m-2-2h0m0-2h0m0-3h0m-1 3h0m0 1h0m0 7h0m0-2h0m0-8h0m0 1h0m0 7h0m-1-9h0m-1 1h0m-1 8h0m0-8h0m-2 8h0m0-8h0m-2-2h0m-1 2h0m-1 12h0m-2-5h0m-1 5h0m-265-1h0m-1-1h0m-1 1h0m0-3h0m0-6h0m-4 9h0m0-2h0m2 6h0m0 12h0m1-11h0m0 2h0m7-2h0m264 6h0m1 0h0m1-4h0m1 3h0m2 1h0m0-9h0m0 14h0m1 0h0m1-12h0m0 8h0m1 3h0m0-6h0m1-2h0m0-4h0m1 12h0m0-3h0m0-2h0m1-7h0m0 5h0m0-4h0m2 12h0m0-13h0m1 4h0m1-5h0m0 14h0m0-9h0m1 2h0m1 2h0m1-5h0m0-4h0m0 0h0m1 4h0m0-4h0m0 12h0m1-10h0m0 0h0m1 1h0m1 7h0m2 4h0m1-13h0m1 2h0m2 10h0m-2 4h0m-1 5h0m0-7h0m-2 2h0m-2 1h0m-1-2h0m0 8h0m-3 5h0m-1-5h0m0-5h0m0-4h0m-1 2h0m-1 4h0m-1 8h0m0-3h0m0-7h0m-1-1h0m-1 11h0m0-5h0m0-2h0m-1-3h0m0-2h0m0 7h0m-2-8h0m-2 12h0m0-1h0m0-11h0m-1 3h0m0 2h0m0 5h0m-1-7h0m0 10h0m-1-9h0m-2 7h0m0-1h0m-3-4h0m0 6h0m-4 0h0m-261-12h0m263 15h0m4 1h0m1 0h0m0 4h0m1-3h0m1 2h0m1 1h0m2-4h0m0 1h0m0 3h0m0-3h0m0 4h0m0-4h0m0 1h0m3 3h0m0-4h0m0 9h0m0-7h0m1-5h0m0 7h0m2-7h0m4 1h0m-28 18h0m-9-4h0m-230 14h0m0 1h0m1 2h0m0 7h0m1-8h0m216 4h0m-2 11h0m-24 7h0m-12 10h0m5 1h0m9-2h0m-25 24h0" stroke="#B558B4" stroke-width="9.5"/>
<path d="M566 357.7 Q578.9 373.7 596.1 386.7 L608.3 396.3 Q625.4 392.5 655.7 370.4 M596.1 386.7 L596.3 375.5 M608.3 396.3 L606.9 410.7" fill="none" stroke="#111" stroke-width="1.7" stroke-linecap="round" stroke-linejoin="round"/>
<circle cx="596.4" cy="384.5" r="1.5" fill="#fff" stroke="#111" stroke-width="0.7"/>
<circle cx="595.9" cy="387.9" r="1.5" fill="#fff" stroke="#111" stroke-width="0.7"/>
<circle cx="608.3" cy="396.3" r="1.5" fill="#fff" stroke="#111" stroke-width="0.7"/>
<path transform="scale(0.2)" d="M3309 1798h0m-6 1h0m-2-7h0m-1 6h0m0 1h0m-8 0h0m-6 14h0m1 0h0m2-5h0m2 1h0m0 3h0m1-11h0m0 0h0m1 5h0m0 8h0m1-5h0m1-1h0m1 1h0m1-2h0m0 2h0m1-5h0m0 5h0m0 4h0m0 0h0m1 1h0m1-3h0m0 3h0m0-13h0m1 11h0m1 0h0m0 1h0m0-10h0m0 10h0m0-5h0m0 3h0m1-8h0m0 9h0m0-2h0m0-5h0m1 3h0m1-2h0m0 3h0m2 3h0m0-12h0m0 3h0m1 6h0m1 0h0m0 0h0m3 3h0m0-10h0m3 5h0m0 4h0m2 11h0m-1-2h0m0-5h0m-1 6h0m0 4h0m-2-9h0m0 0h0m0-1h0m-2 9h0m0-9h0m0 13h0m0-6h0m0 3h0m0-10h0m-1 11h0m0-7h0m0 6h0m-1 4h0m0-12h0m0 11h0m0-5h0m-1-5h0m0 0h0m-1 8h0m0-10h0m0 1h0m-1 5h0m0 1h0m-1 2h0m0-1h0m0 2h0m0-1h0m0-3h0m0 4h0m0 0h0m-1-11h0m0 10h0m0-6h0m0 0h0m0 8h0m0-9h0m0 11h0m-1-1h0m0-1h0m0 2h0m0-12h0m-1 11h0m0-2h0m0-7h0m0 1h0m0-5h0m0 7h0m-1-2h0m0-1h0m-1 6h0m0-5h0m0 0h0m0 4h0m0 0h0m0 4h0m0-11h0m-1 6h0m0 5h0m0 1h0m0 0h0m0-3h0m0-1h0m0 1h0m0-5h0m0 3h0m-1-7h0m0 1h0m0-2h0m0 1h0m0 5h0m-1-4h0m0 0h0m0-1h0m0 4h0m-1 2h0m0 0h0m0 0h0m-1 0h0m0 0h0m0 6h0m-1-5h0m-1 2h0m-1-2h0m0 5h0m0-6h0m0 3h0m-1-6h0m0 6h0m-1-1h0m0-3h0m0 0h0m-1 4h0m0-11h0m-1 10h0m0 3h0m-1-3h0m0-8h0m-1 5h0m0-2h0m0-1h0m0 6h0m-3-4h0m-3 23h0m2-7h0m1-2h0m0 4h0m0-7h0m1 0h0m0 11h0m1-12h0m1-1h0m0 5h0m1 1h0m0 4h0m0 0h0m0-6h0m0 5h0m1-2h0m0-2h0m0-5h0m0 0h0m0 0h0m0 6h0m1-1h0m0 1h0m1 6h0m0-5h0m0-1h0m0-1h0m0 4h0m1 2h0m0-3h0m0 3h0m0-2h0m0-9h0m0 8h0m0-7h0m1 1h0m0 5h0m0 5h0m0 1h0m0-5h0m1 5h0m0-4h0m0 0h0m0-9h0m0 12h0m1-10h0m0 3h0m0-2h0m0-3h0m0 1h0m0 6h0m1-2h0m0 3h0m0-5h0m0 3h0m0 7h0m0-8h0m1 7h0m0-3h0m0 1h0m0-1h0m0-1h0m0-4h0m0 7h0m0-7h0m0 3h0m0 4h0m0-4h0m0 2h0m1-3h0m0 3h0m0-5h0m0 3h0m0 7h0m0-9h0m0-5h0m0 4h0m0-3h0m0 3h0m0 7h0m0-11h0m0 3h0m1-2h0m0 13h0m0-4h0m1 2h0m0-6h0m1 1h0m0-4h0m0-1h0m0-1h0m0 6h0m0-5h0m0 3h0m0 5h0m1-9h0m0 11h0m0-5h0m0-2h0m0-4h0m0 3h0m1-1h0m0 9h0m0-8h0m0 0h0m0 7h0m0-11h0m1 6h0m0 0h0m0-5h0m0 8h0m0-6h0m0 5h0m0 2h0m1-3h0m0 6h0m0 1h0m0-10h0m1-1h0m0 3h0m0-6h0m0 7h0m0-3h0m0 4h0m0-8h0m1 14h0m0-12h0m0 10h0m1-3h0m0-7h0m0 12h0m0-13h0m0 10h0m0-3h0m0 4h0m0-12h0m1 2h0m0-2h0m0 10h0m0 2h0m0-7h0m0 2h0m0-6h0m1 9h0m0-1h0m0 0h0m0-6h0m1 0h0m0 0h0m0-2h0m0 9h0m0-4h0m0 0h0m0 8h0m1-3h0m0-3h0m0-2h0m1 7h0m0-9h0m0-2h0m0 12h0m1-11h0m0 4h0m1-4h0m0-2h0m1 11h0m1-7h0m0-3h0m1-1h0m-1 14h0m-2 0h0m-1 3h0m-2 7h0m0-10h0m-1 3h0m0-2h0m-1 0h0m0 0h0m-1 7h0m0-7h0m-1 4h0m0 1h0m-1-3h0m0 1h0m0 3h0m0-5h0m-1 9h0m0-8h0m0 7h0m0 0h0m0-10h0m-1 3h0m0 7h0m0 4h0m0-1h0m-1-7h0m0 5h0m0-10h0m0 10h0m0-6h0m-1-4h0m0 1h0m0 2h0m0-2h0m0-2h0m0 7h0m0 6h0m-1-3h0m0 2h0m0-8h0m0 6h0m0-6h0m0 6h0m-1 2h0m0-5h0m0 3h0m-1-3h0m0-4h0m0 2h0m0 5h0m0-4h0m0 1h0m0-7h0m0 2h0m0 12h0m0-2h0m0-3h0m0-3h0m-1-2h0m0 0h0m0-4h0m0 11h0m-1-10h0m0 12h0m0-6h0m0 1h0m0-2h0m0 8h0m0-8h0m0 7h0m-1-11h0m0 2h0m0 9h0m0 1h0m0-3h0m-1-6h0m0 8h0m0-3h0m0-6h0m0 5h0m-1-2h0m0 5h0m-1-12h0m0 10h0m-1-3h0m0-4h0m0 0h0m0-1h0m-1 3h0m0-5h0m0 11h0m0 1h0m0-8h0m-1 1h0m0-5h0m0 3h0m-1 1h0m0 8h0m0-2h0m0-1h0m0-1h0m-1-3h0m0-3h0m0-2h0m0 3h0m-1 1h0m0 8h0m0 2h0m0 0h0m-1-10h0m0-1h0m0-2h0m0 5h0m-1 0h0m0 7h0m-1-1h0m-1 1h0m0-11h0m0 12h0m-1-4h0m-1-10h0m-2 8h0m-9 19h0m6 1h0m1-5h0m1 4h0m1 2h0m1-13h0m0 1h0m1 11h0m1-5h0m0-8h0m0 8h0m1 1h0m0 2h0m1-3h0m0 1h0m1 4h0m0 1h0m0-14h0m0 6h0m0 1h0m0 5h0m1-5h0m1 7h0m0-11h0m0 2h0m0 5h0m1 2h0m1-4h0m1-6h0m0 6h0m0-7h0m1-1h0m0 11h0m0-4h0m0 7h0m1-11h0m0 4h0m0-7h0m0 7h0m1 2h0m0-7h0m1 2h0m0 7h0m0 2h0m0-9h0m0-3h0m1 3h0m0-3h0m1 3h0m1-2h0m0 5h0m0 5h0m1-11h0m0 5h0m1 0h0m1 4h0m2-7h0m0 6h0m0-2h0m0 4h0m1-11h0m0 10h0m2-6h0m3-3h0m-12 16h0m-1-1h0m-3 7h0m0-1h0m-1-3h0m-2-3h0m-1 2h0m-1 2h0m0-3h0m-2 0h0m-1 5h0m-1 3h0m0-6h0m0 6h0m-1-6h0m0 2h0m0-6h0m-2 4h0m0 7h0m-1-8h0m-2 11h0m0-2h0m-1-3h0m-12 0h0m-23 19h0m4 1h0m2-9h0m9-4h0m1 4h0m2 6h0m7-5h0m0 0h0m3 3h0m2-1h0m8-2h0m-11 12h0m-1 3h0m-2-3h0m-14 0h0m-5 9h0m-2-10h0m-15 12h0m0-2h0m7 13h0m1-5h0m8-5h0" stroke="#192D4A" stroke-width="10"/>
<path transform="scale(0.2)" d="M3249 1912h0m-6 7h0m-4-2h0m-2-7h0m-1 9h0m-5 0h0m-4-1h0m-5-5h0m-4 2h0m-10 19h0m2 0h0m2-1h0m6 1h0m4-6h0m2-8h0m1 12h0m2-3h0m2 3h0m0-12h0m2 12h0m1-4h0m1-4h0m3-4h0m9 4h0m-26 18h0m-9 2h0m-2-8h0m-2 2h0m-2 0h0m0 4h0m-2-5h0m-1 3h0m-1 6h0m0-2h0m-1 5h0m-1-9h0m0 2h0m0-2h0m-1 1h0m-1 2h0m-3-3h0m-2 7h0m-1 2h0m0-5h0m-2 1h0m-3 2h0m-10-2h0m-33 17h0m1 2h0m12-1h0m1 1h0m4-1h0m0-3h0m2-2h0m3 3h0m0 1h0m4-7h0m5 0h0m3 4h0m2-6h0m0-1h0m1 3h0m0-4h0m1 4h0m2 2h0m0-4h0m3-3h0m2 9h0m1-8h0m0 1h0m1 3h0m1 0h0m3-5h0m4 8h0m-8 8h0m-22 5h0m-2-3h0m-1 11h0m-9-13h0m-3-1h0m-2 3h0m0-2h0m-1 7h0m0-6h0m-6 2h0m-1-4h0m-1 3h0m-1 2h0m0 5h0m-2-2h0m-2 3h0m0-4h0m-2-4h0m-1 0h0m-3-1h0m-1 7h0m-1-2h0m2 9h0m5-1h0m1 0h0" stroke="#1E3656" stroke-width="10"/>
<path transform="scale(0.2)" d="M3150 1964h0m16 13h0m-13 1h0m-1-7h0m0-3h0m-3 10h0m-1 1h0m-3-3h0m-1 3h0m0-4h0m-1-3h0m0 5h0m-1-1h0m0-1h0m-9 3h0m-6-1h0m-2-5h0m0-1h0m-1 6h0m0-7h0m-1 2h0m0 4h0m-3 0h0m0-1h0m-3-5h0m0 9h0m0-5h0m-8 0h0m-1 0h0m0 1h0m-9 1h0m0-4h0m-2 2h0m-1-3h0m-3 7h0m-3 0h0m-4 0h0m-2-1h0m0 2h0m-3-3h0m-1 0h0m-2 1h0m0 1h0m-4-1h0m-3-1h0m-6 2h0m-1-3h0m-1 2h0m0-5h0m-3 0h0m-8 17h0m2-8h0m1 12h0m2-6h0m1-7h0m0 7h0m1 0h0m1 1h0m1 4h0m0-12h0m3 1h0m2 4h0m2-2h0m1 0h0m1 6h0m0-6h0m0-1h0m0 6h0m2-4h0m2 4h0m1-7h0m3 1h0m3 7h0m1-8h0m0 1h0m0-2h0m0 6h0m2 2h0m1-7h0m0 2h0m0-2h0m1 0h0m1-1h0m1 1h0m0 3h0m0-1h0m1 3h0m1 1h0m0-5h0m1-2h0m1 4h0m2-4h0m9 4h0m1-2h0m3 11h0m3 0h0m1-11h0m1-1h0m1 2h0m4 2h0m0 9h0m1-7h0m0 2h0m2-6h0m0 6h0m5 1h0m2-7h0m3 0h0m1 4h0m0 2h0m5-4h0m1-5h0m3 0h0m1 8h0m0-6h0m3-1h0m1 6h0m2 1h0m4-2h0m3-6h0m1 2h0m1 3h0m-21 10h0m-1 0h0m-9 0h0m-37 8h0m-31-7h0" stroke="#244062" stroke-width="10"/>
<path transform="scale(0.2)" d="M2985 1949h0m-1-4h0m-2 3h0m-2 1h0m-1-2h0m-1-8h0m-4 6h0m4 10h0m1-4h0m0 7h0m1-2h0m1-6h0m0 2h0m1-2h0m0 7h0m0-5h0m1 12h0m0-11h0m1-1h0m0 8h0m0 0h0m1-9h0m0 1h0m0 0h0m0 9h0m1-10h0m0 7h0m0 4h0m0-1h0m1-9h0m0 2h0m0 5h0m0-9h0m1 14h0m0-11h0m0-2h0m0 1h0m1 10h0m0-2h0m0-4h0m1 0h0m0 2h0m0 5h0m0-9h0m1 5h0m0 3h0m0 0h0m1-5h0m1 5h0m0-1h0m1 2h0m0 0h0m0-4h0m1 4h0m0-5h0m1 6h0m0-2h0m0-3h0m0 5h0m1 0h0m0-1h0m0 1h0m1-12h0m1 11h0m10 15h0m-1 1h0m-1-3h0m0-5h0m-1-1h0m-1 7h0m0-1h0m0 1h0m-1 2h0m0-6h0m0-6h0m0 7h0m0-3h0m-1-5h0m-1 12h0m0 0h0m0-6h0m-1 1h0m0 0h0m-1-4h0m0 6h0m-1 2h0m0-7h0m-1-1h0m0 4h0m0-2h0m0-1h0m-1-1h0m0 10h0m0-3h0m0-1h0m0-3h0m0 3h0m0-5h0m-1 0h0m0 2h0m0-6h0m0 0h0m0 13h0m-1-1h0m0-13h0m-1 5h0m0-4h0m-1 10h0m0-2h0m0-2h0m0-7h0m0 14h0m-1-14h0m0 8h0m0 6h0m0-10h0m-1 4h0m-1 0h0m0 4h0m-1-3h0m0 2h0m-1-11h0m-1 4h0m0-4h0m-1 12h0m-1-6h0m-1-3h0m5 12h0m3 5h0m0-5h0m1 1h0m1 2h0m2 2h0m0-1h0m0 1h0m1-3h0m0 1h0m0 1h0m0 2h0m1 1h0m0-7h0m1 3h0m0 0h0m0 0h0m1-3h0m0 3h0m1 1h0m0-4h0m1 7h0m0-3h0m1 3h0m0 0h0m0 1h0m0-1h0m1 0h0m0 3h0m0-5h0m0 2h0m0-5h0m0 6h0m1-1h0m0 4h0m0-7h0m0 7h0m0-3h0m1 1h0m0 0h0m0 3h0m0-10h0m0 7h0m1 2h0m0 0h0m0-2h0m0-4h0m0 2h0m1-3h0m0 5h0m1-4h0m1 2h0m1 1h0" stroke="#4578AB" stroke-width="10"/>
<path transform="scale(0.2)" d="M2975 1865h0m5 3h0m1 5h0m0-5h0m2 2h0m1 1h0m3 0h0m0-5h0m0 1h0m2 0h0m2 7h0m1-7h0m0 5h0m1-2h0m0-7h0m4 5h0m2 5h0m0-3h0m2 13h0m-1-8h0m0 4h0m-1 5h0m-1-1h0m-2 2h0m-1 3h0m-1-2h0m0-7h0m0-2h0m-1 10h0m0-3h0m-1 5h0m0-14h0m0 2h0m0 7h0m0-2h0m-1 3h0m0 4h0m0-10h0m0-1h0m0 7h0m-1-8h0m0 2h0m-1 3h0m-1-5h0m0 9h0m0-11h0m-1 9h0m0 4h0m0-2h0m0 2h0m-1-13h0m0 11h0m0 2h0m-1-2h0m0-6h0m0 7h0m0 2h0m0-7h0m-1 5h0m0 0h0m0-11h0m0 6h0m-2 2h0m0 4h0m0-3h0m0-2h0m-1 3h0m0-10h0m-1 6h0m-1-3h0m-1 8h0m0-3h0m0-2h0m0 2h0m0 1h0m0-2h0m-1 1h0m-1 5h0m-1-4h0m0-3h0m-1 3h0m-1-1h0m0-1h0m-1-7h0m-1 3h0m-1 10h0m-4-6h0m1 8h0m2 4h0m0 2h0m1 6h0m0-2h0m1-10h0m0 5h0m1 4h0m1 2h0m0-8h0m0 5h0m1-1h0m0 2h0m0 4h0m0-12h0m1 12h0m1-14h0m0 12h0m1-1h0m1-8h0m1 0h0m0 6h0m1 2h0m0-3h0m1-2h0m1-4h0m0 3h0m0 0h0m1 2h0m0 1h0m0 3h0m0-3h0m1-2h0m0-3h0m0 7h0m1 0h0m0-2h0m0 2h0m0-6h0m0 4h0m1-4h0m0 9h0m0-12h0m1 0h0m0 6h0m0 0h0m1-1h0m1-2h0m0 10h0m0-3h0m0 2h0m0-8h0m1 7h0m0-10h0m0 11h0m1-8h0m0-4h0m0 5h0m1-4h0m0 11h0m0 1h0m0-6h0m1-3h0m0-1h0m0 7h0m1 3h0m0-11h0m0 10h0m1-13h0m2 0h0m3 10h0m0 0h0m1 3h0m0-2h0m3 1h0m1 0h0m1-1h0m2 3h0m10 9h0m-3 6h0m-1-6h0m0-3h0m0-1h0m-1 4h0m0-1h0m-1 6h0m0-9h0m0 4h0m-1 2h0m0-1h0m0-1h0m0 0h0m-1 1h0m0 2h0m0 0h0m-1-6h0m0 8h0m0-3h0m-1-1h0m0 1h0m-1-3h0m0-2h0m-2 4h0m0-9h0m0 2h0m0 1h0m0 3h0m-1-5h0m0 5h0m0 7h0m0-2h0m-1-2h0m0 0h0m0 3h0m0-2h0m0 0h0m0-9h0m0 13h0m-1-9h0m-1 3h0m-1 6h0m0-5h0m0 2h0m0-10h0m0 10h0m0 0h0m0 2h0m0-8h0m0-3h0m0 8h0m-1-8h0m-1 10h0m0 2h0m-1-12h0m0 8h0m-1-5h0m0 9h0m-1 0h0m0-11h0m0 4h0m0 3h0m-1 4h0m0-8h0m-1 3h0m-2-3h0m0-5h0m-1 5h0m0-4h0m0-1h0m0-1h0m-2 5h0m0-3h0m-1-2h0m0 2h0m-1 6h0m-1 2h0m0 0h0m-1 2h0m-1-2h0m0-8h0m0 8h0m0 0h0m-1-8h0m0 5h0m0 6h0m0-13h0m-1 3h0m0 10h0m0-9h0m-1-4h0m0 10h0m0 1h0m0-4h0m0-4h0m-1-3h0m0 13h0m0-2h0m0-9h0m-1 3h0m0 3h0m-1-5h0m0-3h0m-1 7h0m0 5h0m0-11h0m0 1h0m-1 10h0m0-2h0m0-2h0m0-7h0m0 1h0m-1-1h0m0 3h0m0-1h0m-1 11h0m-1-4h0m-1-3h0m0-4h0m-1 0h0m0 3h0m0-2h0m4 20h0m0-2h0m0-2h0m1-5h0m0 4h0m1 0h0m0 4h0m0-4h0m1 2h0m0-3h0m0 3h0m1-1h0m0 0h0m0 0h0m1-5h0m0 5h0m0 3h0m0-3h0m1 0h0m0-2h0m1-3h0m0 5h0m0 2h0m0-4h0m0 2h0m1 3h0m0-4h0m0-3h0m2 5h0m0 1h0m0 2h0m0 1h0m1-2h0m0 0h0m0 1h0m0-6h0m0 3h0m0 5h0m1-5h0m0 3h0m0 5h0m1-10h0m0 9h0m0 1h0m0-3h0m0-10h0m0 5h0m0 4h0m0 1h0m0-3h0m1-2h0m0 2h0m0 3h0m0-4h0m0-7h0m1 8h0m0-3h0m0 9h0m0-14h0m0 2h0m1 0h0m0 8h0m0 1h0m1-6h0m0-2h0m0-2h0m0 6h0m0 3h0m1-4h0m0 0h0m0-2h0m0 4h0m0 1h0m0-3h0m0 6h0m0-9h0m1-1h0m0 0h0m1 5h0m0 0h0m0-1h0m0-4h0m0 7h0m0-9h0m1 0h0m0 0h0m0 2h0m0 3h0m0 1h0m0-6h0m0 11h0m1-4h0m0-3h0m0 2h0m0-1h0m1 2h0m0-1h0m1 0h0m0 3h0m0-1h0m0-8h0m1 10h0m0-7h0m0 1h0m1-1h0m0 2h0m0-5h0m1 0h0m0 9h0m0-7h0m0 1h0m0 0h0m1-2h0m0 1h0m1 4h0m1-5h0m0 0h0m0 1h0m1 0h0m0-2h0m0 4h0m1-3h0m1-1h0m0 0h0m1 4h0m2-4h0m3 1h0m-28 27h0m-3-12h0m-1 5h0m-2 4h0m0 3h0m0-7h0m-2 1h0m0 1h0m0 0h0m0-3h0m0 0h0m-1 7h0m0-2h0m-1-1h0m0-1h0m-1 6h0m-1-4h0m0-4h0m-1 5h0m0-2h0m0-4h0m0 9h0m-1-6h0m0 3h0m-1-6h0m0 6h0m0-4h0m-2-5h0m0 11h0m0-2h0m0-6h0m0 9h0m-1-2h0m-1 1h0m0 1h0m-1-2h0m-1-4h0m-1 5h0m0 1h0m-1 0h0m-1-2h0m-2 2h0m-12 10h0m2 4h0m3-4h0m0 0h0m1 0h0m0-1h0m2 3h0m0 2h0m0-5h0m0-5h0m1 5h0m0 4h0m1-3h0m0-9h0m1 4h0m0 0h0m0 5h0m0-6h0m0-3h0m1 10h0m0 4h0m0-8h0m1 1h0m0-4h0m1 2h0m0 3h0m0-2h0m0 3h0m0-2h0m0 1h0m1-4h0m0 6h0m0-7h0m1 0h0m0 5h0m0 5h0m1-12h0m0 5h0m0 2h0m0 3h0m0-3h0m1 4h0m0 0h0m0-2h0m1-6h0m2 6h0m0-6h0m1 0h0m1 5h0m0-6h0m1 9h0m0-11h0m0 3h0m1-4h0m0 0h0m3 3h0m1 1h0m1-2h0m-10 14h0m-4-1h0m0 0h0m0 1h0m-1 0h0m-2-1h0m-2 0h0m0 2h0m-3 0h0m81 41h0m-1-1h0m-2-5h0m-2 2h0m0-2h0m0 0h0m-1 3h0m0 4h0m-1-6h0m-2-4h0m0-2h0m-3 12h0m-1-12h0m-3 14h0m2 9h0m1 4h0m0-1h0m1 1h0m2-14h0m0 9h0m1 1h0m0-6h0m1 4h0m1 4h0m0-12h0m0 1h0m1-1h0m1 2h0m0 8h0m0-10h0m1 4h0m0 4h0m1-6h0m0 12h0m0-7h0m0 7h0m0-1h0m1-4h0m0-9h0m1 5h0m0 3h0m1-3h0m0 1h0m-1 11h0m-2 1h0m0-2h0m0-1h0m0 6h0m-1-1h0m0 2h0m-1 3h0m-1-10h0m-3 0h0m-1 7h0m-1 3h0m-1 2h0m-3-12h0m-2 0h0m4 26h0m2-4h0m1 1h0m0 3h0m1-1h0m1-3h0m0 1h0m0 5h0m1-3h0m0 3h0m1-9h0m0-2h0m5 9h0m1-9h0m-2 25h0m-2-8h0m-4 2h0m0 1h0m-2-7h0m0 12h0m0-12h0m-2 1h0m0 5h0m-2-5h0m-6 1h0m4 15h0m4 10h0m2-4h0m1 5h0m4-13h0m0 4h0m2 1h0m6 5h0m1 0h0" stroke="#4B82B7" stroke-width="10"/>
<path transform="scale(0.2)" d="M2995 1813h0m2-1h0m0 2h0m8-1h0m10 10h0m-6-6h0m-2-1h0m-5 10h0m-1-3h0m0 3h0m-1 0h0m0 2h0m-1-9h0m0-3h0m-2 0h0m0 1h0m0 9h0m-1-8h0m0-2h0m-1 4h0m0 7h0m0-9h0m0-2h0m-1 6h0m-1 6h0m0-1h0m-1-11h0m0 1h0m-1 8h0m0 1h0m0 2h0m0-7h0m-3 5h0m-1 2h0m-3 1h0m-5 7h0m2 1h0m0 4h0m0-4h0m3 3h0m3-4h0m0 7h0m0-3h0m2 2h0m0 2h0m1-3h0m1 2h0m0-13h0m1 10h0m0-4h0m1 3h0m0-2h0m1 0h0m0-5h0m0 12h0m2-4h0m1-1h0m0 5h0m0-8h0m1-2h0m0-1h0m1 0h0m1 6h0m1-8h0m0 11h0m0-3h0m2 0h0m5 1h0m0 0h0m1-3h0m2 2h0m0-6h0m1 6h0m1 2h0m1-9h0m1 11h0m1-3h0m1 2h0m3-2h0m-4 6h0m-2-1h0m-1 2h0m-1 1h0m-1 4h0m-5-7h0m-2 4h0m0 7h0m-1-9h0m0 8h0m0-8h0m-1 0h0m-3 2h0m0 8h0m0-1h0m-1-7h0m-1 0h0m-1-4h0m0 3h0m0-3h0m0 13h0m0 0h0m0-13h0m-1 12h0m0-8h0m-1 4h0m-1-2h0m0 2h0m-1-3h0m0 2h0m0-5h0m0-1h0m-1 2h0m0 2h0m0-1h0m0 1h0m-1 9h0m0-12h0m0 9h0m-1-7h0m-1 5h0m0-2h0m0 2h0m0-6h0m0-3h0m0 4h0m0-1h0m-1 2h0m-1 0h0m0 7h0m0-6h0m-1 8h0m0-9h0m-1 6h0m0 1h0m0 0h0m-1-2h0m0-1h0m0-8h0m-1 11h0m0-12h0m0 8h0m0 4h0m-2-5h0m0-4h0m0 5h0m-1 3h0m0-9h0m0 3h0m-1 5h0m0-7h0m-1 2h0m0-4h0m0 10h0m0-11h0m-2 9h0m-1-4h0m-3 4h0m-1 15h0m3-4h0m0 5h0m0-1h0m1 3h0m0-11h0m0 7h0m0 5h0m2-7h0m0 6h0m0-11h0m0 0h0m0 9h0m1-6h0m1-3h0m0 3h0m1-3h0m0 6h0m0 3h0m0 1h0m1-4h0m0 2h0m0 4h0m0-5h0m0 6h0m1-11h0m0 5h0m0-6h0m1-2h0m1 14h0m0-7h0m0 5h0m2-10h0m0 6h0m1 3h0m0-7h0m0 7h0m0-11h0m1 0h0m0 11h0m0 1h0m0 2h0m0-7h0m0-7h0m1 14h0m0-8h0m0 6h0m0-12h0m0 3h0m1 9h0m0-9h0m0-1h0m1 9h0m0-8h0m0 4h0m1-2h0m2-5h0m1 9h0m0 1h0m0 2h0m0-10h0m2 2h0m0-4h0m3 6h0m5-1h0m26 24h0m0-2h0m-1 1h0m-1-2h0m-1 0h0m0 1h0m-1 1h0m-1 0h0m-1-3h0m-5 2h0m0 2h0m-1 0h0m-2-5h0m-21-7h0m-4 1h0m-3 2h0m-2 1h0m-3-6h0m-2 0h0m0 2h0m0 0h0m0 9h0m-1-8h0m0 4h0m0 1h0m-1-5h0m0 1h0m-2-1h0m-1 4h0m-1-3h0m0 4h0m0-6h0m-2 1h0m0-2h0m0 13h0m0-2h0m-1-8h0m-1-2h0m0 3h0m0-1h0m0 1h0m-1 3h0m3 8h0m2 0h0m4 4h0m24 6h0m2-3h0m0 6h0m1-6h0m0-2h0m0 1h0m2-4h0m0 4h0m1-2h0m0 5h0m2 1h0m0-7h0m0 1h0m0 9h0m1-6h0m0-1h0m0 1h0m1 4h0m0-8h0m1 1h0m0 7h0m0 0h0m1-11h0m0 10h0m1-4h0m0-5h0m0 1h0m0 2h0m0-2h0m1 1h0m0 5h0m0-8h0m0 12h0m1-13h0m0 2h0m0 2h0m0 8h0m1-9h0m0 0h0m1-1h0m0-1h0m0 7h0m0 3h0m1 1h0m0-9h0m0-1h0m0 0h0m0 5h0m0 6h0m1 1h0m0-9h0m1 1h0m0-5h0m0 1h0m0 0h0m0-2h0m0 9h0m1-9h0m0 13h0m0 0h0m0-11h0m1 6h0m0-4h0m0 1h0m0 8h0m0-10h0m0 6h0m1-9h0m0 3h0m1 10h0m0-10h0m0 4h0m0 1h0m0 0h0m1 3h0m0-3h0m0 5h0m0-5h0m1-8h0m0 5h0m0-4h0m0 7h0m0-1h0m1-3h0m0 2h0m1 6h0m0-12h0m0 3h0m0 0h0m0 5h0m0-3h0m2 6h0m1-10h0m0 8h0m0 1h0m2-4h0m3 5h0m-11 4h0m-3 7h0m-2-3h0m0-4h0m-2 1h0m-1 4h0m0 4h0m-1 0h0m-1-3h0m0 1h0m-1-5h0m0 7h0m-1-4h0m0 5h0m-1-6h0m-2-4h0m0 8h0m-1-4h0m0-3h0m0 6h0m-2 5h0m0-6h0m0 2h0m-1 4h0m0 0h0m-1-8h0m0 8h0m0-12h0m0 10h0m0-3h0m-1-2h0m-3 4h0m-1 1h0m-1 3h0m0 1h0m-1-1h0m-4-7h0m10 12h0m1 4h0m5-2h0m-69 38h0m4 1h0m1 0h0m1 0h0m0-4h0m2 4h0m0-2h0m0-1h0m12 12h0m-4-6h0m-2 5h0m-1 1h0m-1 1h0m-1-4h0m0 1h0m-1-6h0m0 13h0m0-3h0m0-8h0m0 0h0m-1-2h0m0 4h0m-1 2h0m0 2h0m-1-2h0m0-6h0m0 2h0m-1 10h0m0-10h0m0 5h0m-1-3h0m0-3h0m0 6h0m0 3h0m0-9h0m0 3h0m-1 5h0m0-5h0m-2 2h0m-1-3h0m0 7h0m0 4h0m0-5h0m-1 4h0m-1-6h0m0 2h0m0-3h0m-1-2h0m0-3h0m0 11h0m0-7h0m0-2h0m0 11h0m-1-4h0m0 1h0m0-1h0m-1-2h0m0-5h0m0 6h0m0-1h0m0-1h0m-1 1h0m-1-4h0m0 8h0m-1-9h0m0 4h0m0 6h0m-1-8h0m0-3h0m-1 10h0m0 2h0m-1-1h0m-2-9h0m-1-1h0m0 5h0m0-1h0m-1 6h0m-1-3h0m0-4h0m-1 8h0m-2-13h0m-3 7h0m-7 1h0m-2 3h0m-4 15h0m3-2h0m1 1h0m0 0h0m1-7h0m3 0h0m1 6h0m3 4h0m0-8h0m1-4h0m1 1h0m1 1h0m1 2h0m1 2h0m0-5h0m0 7h0m0-2h0m1-3h0m1 1h0m0 8h0m0-1h0m0-4h0m0 0h0m1 1h0m0 1h0m0-1h0m1-6h0m0 10h0m0 0h0m1-6h0m0 5h0m1-6h0m0 7h0m0-3h0m0-2h0m1-5h0m0 8h0m0-11h0m1 5h0m1 6h0m0-2h0m1-5h0m0-2h0m0-2h0m0 4h0m0-4h0m0 8h0m0-4h0m1 6h0m0 3h0m0-7h0m0 2h0m1-1h0m0-2h0m0 0h0m1 8h0m0-13h0m0-1h0m0 12h0m1-10h0m0 2h0m0 3h0m0-1h0m1-3h0m0-3h0m0 1h0m0 4h0m1 8h0m0-3h0m1-1h0m1 4h0m0-6h0m0-6h0m0 11h0m0 0h0m1-7h0m0-2h0m0-3h0m1 3h0m0 1h0m0 8h0m0-2h0m0 4h0m0-13h0m1 1h0m0 11h0m0-7h0m0-5h0m1-1h0m0 13h0m1 0h0m1-1h0m1-3h0m3-6h0m1 4h0m-5 8h0m-1 4h0m0 1h0m-2-3h0m0 3h0m-1-3h0m-1 3h0m0 3h0m0-3h0m0 2h0m-1-7h0m-1 13h0m-1-9h0m0 4h0m0-5h0m-1 0h0m0-1h0m0 6h0m-1-7h0m0 0h0m0 7h0m0-7h0m-1 3h0m0 5h0m0-4h0m-1 1h0m0-5h0m0 6h0m0-7h0m-1 11h0m0-3h0m0 0h0m0 3h0m-1-3h0m0-3h0m0 2h0m0-3h0m0 3h0m-1-3h0m0 5h0m0-6h0m-1 8h0m0-11h0m0 2h0m0 3h0m-1 5h0m0-9h0m-1 10h0m0-8h0m0 8h0m0-10h0m-1 10h0m-2-6h0m0 0h0m0 0h0m0-1h0m0 4h0m-1 2h0m0-5h0m0 0h0m0 3h0m-1-8h0m0 7h0m0-2h0m-1 4h0m-1-5h0m0-3h0m0 2h0m-1-2h0m0 5h0m-1 6h0m0-1h0m-1-11h0m0 4h0m-1 8h0m-3-5h0m0-1h0m0 2h0m0 3h0m-1-3h0m-1-7h0m0 9h0m-2-4h0m-2-4h0m-4-1h0m-3 4h0m10 11h0m1 2h0m7-2h0m4 3h0m1-4h0m3 4h0m0-3h0m6-1h0m2 2h0m3 0h0m80 26h0m-12 13h0m3 2h0m0 1h0m3-12h0m1 3h0m0 6h0m0-4h0m0 1h0m0 0h0m1 5h0m3-9h0m0-3h0m0 2h0m0 7h0m1-7h0m0 7h0m1-7h0m0 1h0m0 0h0m0-4h0m0 3h0m2-3h0m0 4h0m1 2h0m3 5h0m0-9h0m1 4h0m0-3h0m0 4h0m1-6h0m0 8h0m0-4h0m2 4h0m0-5h0m1 3h0m3-6h0m6 14h0m-6 1h0m-1 0h0m-2 8h0m-2-9h0m-1 0h0m-1 1h0m-1 13h0m-1-7h0m0-4h0m-1 2h0m0 8h0m-1 0h0m-1 0h0m0-1h0m0-4h0m0 6h0m-1-7h0m0 3h0m0 4h0m0-7h0m-1-2h0m0 9h0m0-9h0m-1 6h0m0 1h0m0 0h0m0-4h0m-1 2h0m-1-7h0m0 11h0m0-5h0m0 3h0m0-7h0m-1 8h0m0-2h0m0-2h0m-1-4h0m0 7h0m-1-12h0m0 7h0m-2 0h0m-1-2h0m0-2h0m-1 0h0m0-1h0m-1 6h0m-6 12h0m0 8h0m5-5h0m2 6h0m0-7h0m1 6h0m1-7h0m0 6h0m1 2h0m1-9h0m0 6h0m2-6h0m1 5h0m0-9h0m0 9h0m0-7h0m1 4h0m0 6h0m0-5h0m0-1h0m0 0h0m0-2h0m0-4h0m1 1h0m0 9h0m0 1h0m1-11h0m0 6h0m0-3h0m1 7h0m0-5h0m0 2h0m0 6h0m1-4h0m0 1h0m0-6h0m1 3h0m0-1h0m0 0h0m1 5h0m1-7h0m0-5h0m0 6h0m0 7h0m1-9h0m0-1h0m0 9h0m0-11h0m1 13h0m0-3h0m0 3h0m1-8h0m1-4h0m1 5h0m0-1h0m0 2h0m1-6h0m1 12h0m0-10h0m4-4h0m0 14h0m1-1h0m3 4h0m0 5h0m-3-1h0m0 1h0m-1-3h0m0 5h0m-1-8h0m0 3h0m-3 6h0m0-3h0m-1-3h0m0 1h0m-1 5h0m-1-6h0m0 4h0m0 0h0m-1 0h0m0 5h0m-1-1h0m0-3h0m-1-5h0m0-1h0m0 2h0m0 2h0m-1 2h0m0 3h0m0-5h0m0-6h0m0 2h0m-1 1h0m0 6h0m0 3h0m0-6h0m0 1h0m-1-5h0m0 11h0m0-5h0m0-7h0m0-1h0m0 5h0m-1 6h0m0 2h0m0-5h0m0-8h0m0 9h0m-1-5h0m0-5h0m0 10h0m0 3h0m-1-10h0m0 2h0m0 0h0m0 3h0m0 1h0m-1 2h0m0-7h0m0-4h0m0 2h0m0 3h0m0 5h0m0 3h0m-2-6h0m0-1h0m0 4h0m0-7h0m0 3h0m-1 6h0m0-7h0m0 9h0m0-10h0m-1 0h0m0 8h0m-1-8h0m0-3h0m-1 7h0m0 0h0m0 0h0m-1-2h0m0 2h0m0-3h0m-3 0h0m-3 2h0m-1 2h0m-1-2h0m-9-2h0m-1 18h0m2-4h0m6-2h0m3 9h0m2-1h0m0-10h0m0 11h0m1-4h0m2-6h0m0-1h0m2 5h0m0-4h0m0 6h0m1 4h0m0-6h0m0 5h0m1-10h0m0 2h0m1 6h0m0-4h0m2 10h0m0-12h0m1 0h0m0 0h0m0 3h0m1 9h0m0-1h0m0-2h0m1-6h0m0 1h0m0-1h0m0-4h0m0 11h0m0 1h0m0-12h0m0 2h0m1 9h0m0-1h0m1-6h0m1 0h0m1-1h0m1 1h0m0-4h0m0 1h0m0 6h0m1 3h0m0-6h0m0 1h0m0-3h0m1 4h0m2-7h0m1 8h0m0-1h0m2-6h0m2 4h0m1-2h0m1 11h0m0-5h0m2 2h0m1-7h0m2 8h0m6 13h0m-6-3h0m-1-4h0m-4 7h0m0 4h0m-1-2h0m-4-11h0m-1 0h0m-7 13h0m-1-5h0m0-7h0m0 2h0m0 8h0m0-8h0m-1 0h0m0-2h0m-1 2h0m0 3h0m-1 5h0m0-8h0m-1-3h0m-4 5h0m-1 6h0m0-12h0m-1 13h0m-2-11h0m0 1h0m-2 11h0m-7-12h0m-1 0h0m0 14h0m1 1h0m7 0h0m1 8h0m3-7h0m1 4h0m4 0h0m0-3h0m1 0h0m1 1h0m1 6h0m1-9h0m1 5h0m1 2h0m1-9h0m0 7h0m1-4h0m0-1h0m2 8h0m0-10h0m1 5h0m11 6h0m0-8h0m1 3h0m0-4h0m10 1h0" stroke="#508BC4" stroke-width="10"/>
<path transform="scale(0.2)" d="M2881 1872h0m10 2h0m13 14h0m-1-9h0m0 8h0m0-6h0m0-3h0m-1 4h0m0 0h0m-1 5h0m0-7h0m-1 9h0m-1-5h0m0-8h0m-1 11h0m-1-1h0m0-6h0m0 9h0m-1-7h0m0-4h0m0 1h0m0 9h0m0-12h0m-1 4h0m0 6h0m0-9h0m-1 1h0m0-3h0m0 1h0m0 4h0m0 6h0m-2-4h0m0-2h0m0 7h0m0-3h0m-1 3h0m-2-2h0m0-10h0m-1 0h0m-2 13h0m-2 1h0m0-5h0m-1-1h0m-1-4h0m-1 1h0m0 2h0m-3-4h0m0 11h0m-2-13h0m-5 3h0m15 11h0m3 2h0m2 1h0m2-2h0m1 6h0m2-7h0m2 2h0m0 2h0m2-1h0m3-2h0m5 2h0m4 1h0m15 10h0m23 14h0m-1-4h0m-2 5h0m0 0h0m-3 0h0m-4-1h0m-2-1h0m-1-2h0m0 4h0m0-1h0m-1 1h0m-2-3h0m-5-1h0m-1 1h0m-1-4h0m-2 3h0m-1-6h0m-1 2h0m0 6h0m0-11h0m-1 2h0m-1 4h0m0 2h0m-2-2h0m-1 2h0m-1 2h0m-2-2h0m4 7h0m7 1h0m2-1h0m1 1h0m1-2h0m1 6h0m0-2h0m0-4h0m1 9h0m2-1h0m1-1h0m0-6h0m0 9h0m2-5h0m2-2h0m1-1h0m1 9h0m0-8h0m0 1h0m0 2h0m2-4h0m0 7h0m0-8h0m1 9h0m0-2h0m0-1h0m0-3h0m1-1h0m0 4h0m0 0h0m0 2h0m1 3h0m1-1h0m0-7h0m1 1h0m1 9h0m0-10h0m0 4h0m2 6h0m0-8h0m1 7h0m0-1h0m0-4h0m1 3h0m4 2h0m0-7h0m0 8h0m1-2h0m0-3h0m0 3h0m0-3h0m1-2h0m1-7h0m0 14h0m1-3h0m1-4h0m2 0h0m2 6h0m2 7h0m-6-1h0m0-3h0m0 6h0m-2-5h0m0 2h0m-1-3h0m-2 3h0m0-3h0m-1 0h0m-2-1h0m-4 3h0m-1-2h0m-3-1h0" stroke="#5694D0" stroke-width="10"/>
<path transform="scale(0.2)" d="M2773 1734h0m4 18h0m28 2h0m15-4h0m2-7h0m0 11h0m2 0h0m0-5h0m1 2h0m1-3h0m0 2h0m1-1h0m25 12h0m0 3h0m0 0h0m-2-3h0m-1 0h0m0-2h0m-1 4h0m0 3h0m-1 1h0m0 1h0m-1-10h0m0 11h0m0-4h0m0-4h0m-1 3h0m-1 2h0m-2 1h0m-13-10h0m-1 10h0m0-7h0m-1-3h0m0-2h0m0 3h0m-1 0h0m-1 7h0m0-5h0m-2 3h0m0 2h0m0-8h0m0 10h0m-1 1h0m0 1h0m0-7h0m-1 3h0m0-2h0m0-5h0m-1 5h0m0-6h0m-1 11h0m-1-1h0m0 2h0m-1 0h0m0-12h0m0 0h0m-1 10h0m0-8h0m-2 1h0m0 7h0m-1 1h0m-2 1h0m-1-1h0m0-1h0m-2-4h0m-2 4h0m0-4h0m-1 4h0m0-2h0m0 0h0m-1 0h0m-1 2h0m-2-4h0m0-1h0m-1 3h0m-1 2h0m-2 0h0m0 1h0m-1-1h0m-2-1h0m-6-1h0m-4 3h0m-15-11h0m14 23h0m2-9h0m2-1h0m1 8h0m1-5h0m0 10h0m1 1h0m0-11h0m1 0h0m1-1h0m0 1h0m1 9h0m0-3h0m0 0h0m0 4h0m1-5h0m0 1h0m1 2h0m0-4h0m1 4h0m0-5h0m1 5h0m0-8h0m0 10h0m0-3h0m0-9h0m1 12h0m0-2h0m0 0h0m0-4h0m1 3h0m0 0h0m0-2h0m1 5h0m0-8h0m0-5h0m0 7h0m1-3h0m0-1h0m1-2h0m0 5h0m0-3h0m1 8h0m0 1h0m0-3h0m0-9h0m1 11h0m0-4h0m0-2h0m0-1h0m1 8h0m0-7h0m0 3h0m0-6h0m0 7h0m1-1h0m1-5h0m0 0h0m0 4h0m1 6h0m0-3h0m1 0h0m0 2h0m0 0h0m1 0h0m0-5h0m0 2h0m0 0h0m1 1h0m0 4h0m0-4h0m0-8h0m0 2h0m1 7h0m0-2h0m0-8h0m0 12h0m1-10h0m0 1h0m0 1h0m0-2h0m1 8h0m0-5h0m1 2h0m0 3h0m0-8h0m0 3h0m1-1h0m0 1h0m0 3h0m0 4h0m1-9h0m1 5h0m0-6h0m1 10h0m0-10h0m1 11h0m0-5h0m0-5h0m1 8h0m0 1h0m0-12h0m1 9h0m0-2h0m0 3h0m1-4h0m0 7h0m0-1h0m0-6h0m1 7h0m0-10h0m0 7h0m1-3h0m1-7h0m1-1h0m0 2h0m1 7h0m0-7h0m1 5h0m2-7h0m0 5h0m0-1h0m1 10h0m1-13h0m0 11h0m1-1h0m0 2h0m0-2h0m1-2h0m0-6h0m1 1h0m0 9h0m2-3h0m0-3h0m1-6h0m1 7h0m0-7h0m0 7h0m1 4h0m0 1h0m0-3h0m1-8h0m0 6h0m1 4h0m0-11h0m1 4h0m0 7h0m1-9h0m0 1h0m2 10h0m0-3h0m0-6h0m0 3h0m1 3h0m0-4h0m0-5h0m1 0h0m1 11h0m0-3h0m2 0h0m2 2h0m13 2h0m1-1h0m1-1h0m1 2h0m1 0h0m1-2h0m1 0h0m18 14h0m-2-1h0m0 0h0m-1 1h0m-4 0h0m-12-7h0m-1 0h0m0 2h0m-2 3h0m-3 5h0m0-3h0m-1 3h0m0-13h0m0 2h0m-1 5h0m-1 3h0m0-3h0m0 2h0m0-2h0m0 2h0m0-8h0m0 11h0m-1-11h0m0 9h0m0 1h0m0-9h0m0 7h0m-1 0h0m-1 2h0m0 1h0m0-6h0m-1 4h0m-1-6h0m-2 7h0m-3-10h0m0 12h0m-1-6h0m0 4h0m0-12h0m-2 9h0m0-4h0m-1 0h0m0 2h0m0-4h0m-2 4h0m0 6h0m0-13h0m-1 4h0m0 2h0m0-4h0m-1 6h0m0 6h0m-1-11h0m-1 9h0m0-7h0m-1-2h0m-1 8h0m0-1h0m0 3h0m0 0h0m0-1h0m0-8h0m0 1h0m-1-3h0m0 10h0m0-9h0m0 2h0m-1 8h0m0-7h0m0-3h0m-1 3h0m0-3h0m-1 11h0m0-8h0m-1-1h0m0 6h0m-1-9h0m-1 10h0m0-9h0m0-2h0m0 2h0m-1-3h0m0 8h0m-1-8h0m-1 6h0m0 5h0m-1-6h0m0 3h0m0-7h0m-1 9h0m-1 0h0m0-8h0m-1 11h0m0-2h0m0 3h0m-1-5h0m0 2h0m0-8h0m0 8h0m-1-3h0m0 0h0m0-2h0m0 7h0m0-8h0m-1 8h0m0-8h0m0 9h0m0-4h0m0-2h0m0-3h0m-1 5h0m0 2h0m0-12h0m0 7h0m0-1h0m0-6h0m-1 11h0m0-2h0m0 0h0m-1-3h0m0 4h0m0-6h0m0-4h0m-1 6h0m0-2h0m0 8h0m0-5h0m0 4h0m0 0h0m-1-2h0m0-1h0m0 4h0m0-7h0m-1 3h0m0-7h0m-1 3h0m0 8h0m0-2h0m0-10h0m-1 6h0m0-5h0m-1 11h0m0-2h0m0-4h0m0-5h0m0 9h0m0-10h0m0 3h0m-1 3h0m0 3h0m0 2h0m-1-6h0m0 2h0m0-4h0m0-2h0m-1 6h0m0 0h0m0-4h0m0 5h0m0 1h0m0-5h0m0-4h0m0 6h0m-1-2h0m0 6h0m0 0h0m0-10h0m0 0h0m0 10h0m0 0h0m-1-7h0m0 5h0m0-3h0m0 2h0m-1 5h0m0-11h0m0 8h0m-1-9h0m0 7h0m-1 0h0m0 7h0m0-10h0m-1 1h0m0 1h0m0-1h0m0 1h0m0-4h0m0-1h0m-1 4h0m0 2h0m0 0h0m-1-6h0m-1 1h0m0-1h0m0 12h0m0-12h0m0 6h0m0 4h0m-1-11h0m0 11h0m0-6h0m-1 2h0m0 1h0m-1-3h0m0 4h0m-1 1h0m0-2h0m0-3h0m-3 8h0m0-9h0m-1 4h0m0-5h0m0-1h0m-1 0h0m0 12h0m0 0h0m-1-14h0m0 7h0m-1 4h0m0-5h0m0-4h0m-1 5h0m-1-5h0m-1-2h0m-1 0h0m-1 0h0m0 5h0m-1 5h0m0-5h0m-4-5h0m1 18h0m3 8h0m1-11h0m1 14h0m1-5h0m1-3h0m1-4h0m1 0h0m4 4h0m1-4h0m0-2h0m0 0h0m2 4h0m1 1h0m1-2h0m1-2h0m0 0h0m1 2h0m0 3h0m0-2h0m0 5h0m1-2h0m0-2h0m0-5h0m0 1h0m1 9h0m0 0h0m0-5h0m0 3h0m0 0h0m0 3h0m0-7h0m1 4h0m0 5h0m1-2h0m0-6h0m0 3h0m0-3h0m1 0h0m0 2h0m0 3h0m1-7h0m0-1h0m1 3h0m0 8h0m0-3h0m0 0h0m1 1h0m0-2h0m0 1h0m1-1h0m0-8h0m0 13h0m0-3h0m0-4h0m1 6h0m0-9h0m0 0h0m1 4h0m0-7h0m0 0h0m0 0h0m0 11h0m0-3h0m1 5h0m0-8h0m0 2h0m1 1h0m0 5h0m0-3h0m0 3h0m1-5h0m0-9h0m0 0h0m1 6h0m0 1h0m0 3h0m0 2h0m1-4h0m0 6h0m0-1h0m0-5h0m0-6h0m0 8h0m0-4h0m1-5h0m0 9h0m0 3h0m0-3h0m0-8h0m0 0h0m1-2h0m0 7h0m0-2h0m0 8h0m0-3h0m0-5h0m0 1h0m1-5h0m0 7h0m1 4h0m0 1h0m0-3h0m0 2h0m0-8h0m1-3h0m0 4h0m0-2h0m1 3h0m0-6h0m0 14h0m1-4h0m0 1h0m0 3h0m1-9h0m0 7h0m0-8h0m0-2h0m0 10h0m1 1h0m0-6h0m0 6h0m0-2h0m0-3h0m1-5h0m0 8h0m0-6h0m0 1h0m0 8h0m0-4h0m1-3h0m0 7h0m0-1h0m0-11h0m0 0h0m0 8h0m1-7h0m0 9h0m0-9h0m0 6h0m0-7h0m0 0h0m1 11h0m0-6h0m0-1h0m0 6h0m0-5h0m0 1h0m1-8h0m0 6h0m0 5h0m0 0h0m0 3h0m0-11h0m0 11h0m1-9h0m0 6h0m0-5h0m1 1h0m0-3h0m0 5h0m0-2h0m0-3h0m0 7h0m1 2h0m0-9h0m0 10h0m0-6h0m0 0h0m1-2h0m0 6h0m0-11h0m0 8h0m0-6h0m0 3h0m1 0h0m0-6h0m0 5h0m0 2h0m1 0h0m0-6h0m0 4h0m0 1h0m0 7h0m1-13h0m0 8h0m0-6h0m0 7h0m0 5h0m1-4h0m0 0h0m0 3h0m0 1h0m0-13h0m0 11h0m0-1h0m1-4h0m0 6h0m1-11h0m0 5h0m0-7h0m0 3h0m0-1h0m0 4h0m0-5h0m1 1h0m0 0h0m0 7h0m0-1h0m0 5h0m1-10h0m0 4h0m1 2h0m0 2h0m0-7h0m1 4h0m0 6h0m1-13h0m0 7h0m0-5h0m0 10h0m0-1h0m0-2h0m1-1h0m2-7h0m0 10h0m2-4h0m0 1h0m0-4h0m1-1h0m0 5h0m1 2h0m0-5h0m1 2h0m1 5h0m0-11h0m0 10h0m1-11h0m2 9h0m0-10h0m3 8h0m0-3h0m1-4h0m0 5h0m0-5h0m2 6h0m3 0h0m4 2h0m2-1h0m4-3h0m0 8h0m1-5h0m1 3h0m0-3h0m0-7h0m0 6h0m1 7h0m1-2h0m0-4h0m0-1h0m1 5h0m0-5h0m2 0h0m0 1h0m2-1h0m0 6h0m2-10h0m3 5h0m-8 8h0m-3 3h0m0 0h0m-2 0h0m-2 0h0m-1-1h0m-2 9h0m0 1h0m-3 1h0m0 0h0m-1-5h0m0 5h0m-1 0h0m-1-4h0m-1-1h0m0 0h0m-1 5h0m0-9h0m0 4h0m0 0h0m-3 1h0m0-10h0m-2 5h0m0 7h0m-1 1h0m-2-1h0m0-4h0m0-1h0m0 2h0m-1-8h0m0 11h0m0-2h0m-1-2h0m0-5h0m-2 2h0m0 1h0m-1 5h0m-2 1h0m0-2h0m0 1h0m0-5h0m-2 3h0m0-8h0m-1 7h0m0-8h0m0 1h0m0 11h0m-1-11h0m0 0h0m0-1h0m-1 14h0m0-13h0m-1 10h0m0-3h0m0-8h0m0 10h0m-1 4h0m0-13h0m0 7h0m-1-3h0m0-3h0m-1 12h0m0-3h0m0-9h0m0 4h0m0 1h0m0-7h0m0 7h0m0-5h0m-1 11h0m0-12h0m0 1h0m-1-1h0m0 6h0m0-5h0m0 5h0m-1 2h0m0-9h0m0 5h0m-1 8h0m0-7h0m0-4h0m0 11h0m0-7h0m0 5h0m0-11h0m0 3h0m-1 8h0m0-9h0m-1 5h0m0 0h0m0-5h0m0 11h0m0-4h0m0-4h0m0-2h0m0 8h0m-1-10h0m0 13h0m0-3h0m-1-11h0m0 10h0m0-4h0m-1 5h0m0-4h0m0 0h0m0-6h0m0-1h0m-1 12h0m0-3h0m0-8h0m0 8h0m0 0h0m-1-9h0m0 8h0m0 6h0m0-13h0m0 10h0m0-10h0m-1 11h0m0-4h0m-1-6h0m-1 4h0m-1-4h0m0-1h0m0 0h0m0 12h0m0-4h0m-1 0h0m0-1h0m-1-2h0m-2 4h0m0-8h0m-1 2h0m0 6h0m-1-10h0m-2 10h0m0-7h0m0 2h0m-1 1h0m0 2h0m-1-1h0m0-1h0m-1-3h0m0 7h0m0-4h0m0 1h0m0-1h0m-1 2h0m-1-8h0m0 1h0m0 0h0m-1 7h0m0 6h0m0-9h0m0 3h0m-1 4h0m0-11h0m-2 8h0m0-3h0m0-4h0m0 5h0m-1 2h0m-1-9h0m0 4h0m-2 0h0m-1-2h0m0 0h0m-2 10h0m0-5h0m-2 0h0m0-7h0m-3 5h0m0-5h0m-1 13h0m-1-11h0m-3 2h0m13 13h0m3 2h0m7-2h0m4-2h0m6 0h0m1 7h0m1-1h0m1-2h0m1 5h0m2-6h0m2 3h0m1-4h0m1 5h0m2-3h0m1-4h0m3 3h0m3-2h0m3 6h0m1-5h0m2 0h0m2 10h0m0-7h0m1 3h0m0-7h0m1 8h0m1-9h0m0 3h0m0 4h0m1-4h0m0-1h0m1 8h0m0-4h0m1 2h0m0-4h0m0 4h0m1-3h0m0-3h0m1-1h0m0 5h0m0-6h0m0 1h0m0 4h0m1 4h0m0-9h0m1 13h0m0 0h0m0-10h0m1-2h0m0 1h0m1 5h0m0 1h0m0-3h0m0 9h0m0-6h0m0 0h0m1-6h0m0 5h0m0 2h0m2-1h0m1 4h0m0-1h0m0 2h0m0-8h0m0 3h0m1-2h0m0-6h0m1 5h0m0 9h0m0-5h0m0-7h0m1 7h0m0 4h0m1-2h0m0-10h0m1 8h0m0-4h0m0 3h0m2-5h0m0 10h0m0-10h0m0 11h0m3-13h0m4 11h0m5-1h0m6 1h0m-2 12h0m-1 0h0m-1 2h0m0-8h0m-1 3h0m-2 2h0m-1-2h0m0-4h0m0 0h0m-2 4h0m-1-5h0m0 2h0m-1 9h0m-6-12h0m-1 1h0m-2 2h0m-6-2h0m-2 2h0m25 13h0" stroke="#5C9EDC" stroke-width="10"/>
</g>
<circle cx="469.4" cy="273.5" r="1.5" fill="#8a8a8a" stroke="#0a0a0a" stroke-width="1.1"/>
<text x="469.4" y="274.4" font-size="2.7" font-weight="bold" text-anchor="middle">2</text>
<circle cx="469.5" cy="276.8" r="1.5" fill="#8a8a8a" stroke="#0a0a0a" stroke-width="1.1"/>
<text x="469.5" y="277.8" font-size="2.7" font-weight="bold" text-anchor="middle">3</text>
<circle cx="481.4" cy="285.1" r="1.5" fill="#8a8a8a" stroke="#0a0a0a" stroke-width="1.1"/>
<text x="481.4" y="286.1" font-size="2.7" font-weight="bold" text-anchor="middle">1</text>
<circle cx="591.9" cy="273.9" r="1.5" fill="#8a8a8a" stroke="#0a0a0a" stroke-width="1.1"/>
<text x="591.9" y="274.8" font-size="2.7" font-weight="bold" text-anchor="middle">2</text>
<circle cx="592" cy="277.2" r="1.5" fill="#8a8a8a" stroke="#0a0a0a" stroke-width="1.1"/>
<text x="592" y="278.1" font-size="2.7" font-weight="bold" text-anchor="middle">3</text>
<circle cx="603.9" cy="285.5" r="1.5" fill="#8a8a8a" stroke="#0a0a0a" stroke-width="1.1"/>
<text x="603.9" y="286.4" font-size="2.7" font-weight="bold" text-anchor="middle">1</text>
<circle cx="473.2" cy="383.7" r="1.5" fill="#8a8a8a" stroke="#0a0a0a" stroke-width="1.1"/>
<text x="473.2" y="384.6" font-size="2.7" font-weight="bold" text-anchor="middle">2</text>
<circle cx="473.3" cy="387" r="1.5" fill="#8a8a8a" stroke="#0a0a0a" stroke-width="1.1"/>
<text x="473.3" y="387.9" font-size="2.7" font-weight="bold" text-anchor="middle">3</text>
<circle cx="485.2" cy="395.3" r="1.5" fill="#8a8a8a" stroke="#0a0a0a" stroke-width="1.1"/>
<text x="485.2" y="396.2" font-size="2.7" font-weight="bold" text-anchor="middle">1</text>
<circle cx="596.3" cy="384.7" r="1.5" fill="#8a8a8a" stroke="#0a0a0a" stroke-width="1.1"/>
<text x="596.3" y="385.6" font-size="2.7" font-weight="bold" text-anchor="middle">2</text>
<circle cx="596.4" cy="388" r="1.5" fill="#8a8a8a" stroke="#0a0a0a" stroke-width="1.1"/>
<text x="596.4" y="388.9" font-size="2.7" font-weight="bold" text-anchor="middle">3</text>
<circle cx="608.3" cy="396.3" r="1.5" fill="#8a8a8a" stroke="#0a0a0a" stroke-width="1.1"/>
<text x="608.3" y="397.2" font-size="2.7" font-weight="bold" text-anchor="middle">1</text>
<text x="415" y="220.3" font-size="12" font-weight="bold">D</text>
<text x="485" y="236" font-size="8.5" font-weight="bold" text-anchor="middle">PB(Control)</text>
<text x="613.5" y="236" font-size="8.5" font-weight="bold" text-anchor="middle">PB(ICH)</text>
<text x="484.7" y="341.3" font-size="8.5" font-weight="bold" text-anchor="middle">Hematoma(ICH)</text>
<text x="614.8" y="341.3" font-size="8.5" font-weight="bold" text-anchor="middle">Pseudotime</text>
<linearGradient id="gp" x1="0" y1="0" x2="1" y2="0"><stop offset="0" stop-color="#132B43"/><stop offset="1" stop-color="#56B1F7"/></linearGradient>
<rect x="636.4" y="412.5" width="30.8" height="8.6" fill="url(#gp)"/>
<text x="637" y="428.5" font-size="7.4" text-anchor="middle" fill="#0a0a0a">0</text>
<text x="663.1" y="428.5" font-size="7.4" text-anchor="middle" fill="#0a0a0a">25</text>
<text x="436.4" y="455.8" font-size="7.3" fill="#0a0a0a">Celltype</text>
<circle cx="478.1" cy="453.2" r="1.7" fill="#5068B0"/>
<text x="490.7" y="455.9" font-size="7.5" fill="#0a0a0a">CD8_GNLY</text>
<circle cx="546.4" cy="453.2" r="1.7" fill="#55A4CF"/>
<text x="559" y="455.9" font-size="7.5" fill="#0a0a0a">CD8_GZMK</text>
<circle cx="615.9" cy="453.2" r="1.7" fill="#B558B4"/>
<text x="628.5" y="455.9" font-size="7.5" fill="#0a0a0a">CD8_SELL</text>
<text x="21" y="490" font-size="12" font-weight="bold">E</text>
<path d="M51.5 503.6H199.7M51.5 519.6H199.7" stroke="#555" stroke-width="0.6" fill="none"/>
<path d="M51.5 503.6L51.5 503.57L52 503.57L52.5 503.57L53 503.57L53.5 503.57L54 503.57L54.5 503.56L55 503.55L55.5 503.51L56 503.43L56.5 503.26L57 502.89L57.4 502.23L57.9 501.14L58.4 499.54L58.9 497.47L59.4 495.17L59.9 493.01L60.4 491.47L60.9 490.94L61.4 491.54L61.9 493.13L62.4 495.31L62.9 497.61L63.4 499.64L63.9 501.20L64.4 502.25L64.9 502.88L65.4 503.22L65.9 503.39L66.4 503.46L66.9 503.48L67.4 503.49L67.9 503.49L68.4 503.48L68.8 503.48L69.3 503.47L69.8 503.44L70.3 503.41L70.8 503.34L71.3 503.23L71.8 503.08L72.3 502.89L72.8 502.70L73.3 502.54L73.8 502.44L74.3 502.45L74.8 502.55L75.3 502.71L75.8 502.90L76.3 503.07L76.8 503.20L77.3 503.29L77.8 503.34L78.3 503.37L78.8 503.38L79.3 503.38L79.8 503.38L80.2 503.37L80.7 503.37L81.2 503.36L81.7 503.36L82.2 503.35L82.7 503.35L83.2 503.34L83.7 503.34L84.2 503.33L84.7 503.33L85.2 503.33L85.7 503.32L86.2 503.32L86.7 503.31L87.2 503.31L87.7 503.30L88.2 503.30L88.7 503.30L89.2 503.29L89.7 503.29L90.2 503.29L90.7 503.28L91.2 503.28L91.6 503.28L92.1 503.27L92.6 503.27L93.1 503.27L93.6 503.27L94.1 503.26L94.6 503.26L95.1 503.26L95.6 503.26L96.1 503.26L96.6 503.25L97.1 503.25L97.6 503.25L98.1 503.25L98.6 503.25L99.1 503.25L99.6 503.25L100.1 503.25L100.6 503.25L101.1 503.25L101.6 503.25L102.1 503.25L102.6 503.25L103 503.25L103.5 503.25L104 503.26L104.5 503.26L105 503.26L105.5 503.26L106 503.26L106.5 503.27L107 503.27L107.5 503.27L108 503.27L108.5 503.28L109 503.28L109.5 503.28L110 503.29L110.5 503.29L111 503.29L111.5 503.30L112 503.30L112.5 503.31L113 503.31L113.5 503.31L114 503.32L114.4 503.32L114.9 503.33L115.4 503.33L115.9 503.34L116.4 503.34L116.9 503.35L117.4 503.35L117.9 503.36L118.4 503.36L118.9 503.36L119.4 503.37L119.9 503.37L120.4 503.38L120.9 503.38L121.4 503.39L121.9 503.39L122.4 503.40L122.9 503.40L123.4 503.41L123.9 503.41L124.4 503.42L124.9 503.42L125.4 503.43L125.8 503.43L126.3 503.44L126.8 503.44L127.3 503.45L127.8 503.45L128.3 503.46L128.8 503.46L129.3 503.47L129.8 503.47L130.3 503.47L130.8 503.48L131.3 503.48L131.8 503.49L132.3 503.49L132.8 503.49L133.3 503.50L133.8 503.50L134.3 503.51L134.8 503.51L135.3 503.51L135.8 503.52L136.3 503.52L136.8 503.52L137.2 503.53L137.7 503.53L138.2 503.53L138.7 503.53L139.2 503.54L139.7 503.54L140.2 503.54L140.7 503.54L141.2 503.55L141.7 503.55L142.2 503.55L142.7 503.55L143.2 503.56L143.7 503.56L144.2 503.56L144.7 503.56L145.2 503.56L145.7 503.57L146.2 503.57L146.7 503.57L147.2 503.57L147.7 503.57L148.2 503.57L148.6 503.57L149.1 503.58L149.6 503.58L150.1 503.58L150.6 503.58L151.1 503.58L151.6 503.58L152.1 503.58L152.6 503.58L153.1 503.58L153.6 503.59L154.1 503.59L154.6 503.59L155.1 503.59L155.6 503.59L156.1 503.59L156.6 503.59L157.1 503.59L157.6 503.59L158.1 503.59L158.6 503.59L159.1 503.59L159.6 503.59L160 503.59L160.5 503.59L161 503.59L161.5 503.59L162 503.60L162.5 503.60L163 503.60L163.5 503.60L164 503.60L164.5 503.60L165 503.60L165.5 503.60L166 503.60L166.5 503.60L167 503.60L167.5 503.60L168 503.60L168.5 503.60L169 503.60L169.5 503.60L170 503.60L170.5 503.60L171 503.60L171.4 503.60L171.9 503.60L172.4 503.60L172.9 503.60L173.4 503.60L173.9 503.60L174.4 503.60L174.9 503.60L175.4 503.60L175.9 503.60L176.4 503.60L176.9 503.60L177.4 503.60L177.9 503.60L178.4 503.60L178.9 503.60L179.4 503.60L179.9 503.60L180.4 503.60L180.9 503.60L181.4 503.60L181.9 503.60L182.4 503.60L182.8 503.60L183.3 503.60L183.8 503.60L184.3 503.60L184.8 503.60L185.3 503.60L185.8 503.60L186.3 503.60L186.8 503.60L187.3 503.60L187.8 503.60L188.3 503.60L188.8 503.60L189.3 503.60L189.8 503.60L190.3 503.60L190.8 503.60L191.3 503.60L191.8 503.60L192.3 503.60L192.8 503.60L193.3 503.60L193.8 503.60L194.2 503.60L194.7 503.60L195.2 503.60L195.7 503.60L196.2 503.60L196.7 503.60L197.2 503.60L197.7 503.60L198.2 503.60L198.7 503.60L199.2 503.60L199.7 503.60L199.7 503.6Z" fill="#B24FB0"/>
<path d="M61 511.8h4M84 511.8H199" stroke="#8CC4DD" stroke-width="0.5" stroke-dasharray="14 3 30 2"/>
<path d="M51.5 511.8L51.5 511.80L52 511.80L52.5 511.80L53 511.80L53.5 511.80L54 511.80L54.5 511.80L55 511.80L55.5 511.80L56 511.80L56.5 511.80L57 511.80L57.4 511.80L57.9 511.80L58.4 511.80L58.9 511.80L59.4 511.80L59.9 511.80L60.4 511.80L60.9 511.80L61.4 511.80L61.9 511.80L62.4 511.80L62.9 511.80L63.4 511.80L63.9 511.80L64.4 511.80L64.9 511.80L65.4 511.80L65.9 511.80L66.4 511.80L66.9 511.80L67.4 511.80L67.9 511.80L68.4 511.80L68.8 511.80L69.3 511.80L69.8 511.80L70.3 511.80L70.8 511.80L71.3 511.80L71.8 511.80L72.3 511.80L72.8 511.80L73.3 511.80L73.8 511.80L74.3 511.80L74.8 511.80L75.3 511.80L75.8 511.80L76.3 511.80L76.8 511.80L77.3 511.80L77.8 511.80L78.3 511.80L78.8 511.80L79.3 511.80L79.8 511.80L80.2 511.80L80.7 511.80L81.2 511.80L81.7 511.79L82.2 511.79L82.7 511.79L83.2 511.79L83.7 511.79L84.2 511.79L84.7 511.79L85.2 511.79L85.7 511.79L86.2 511.79L86.7 511.78L87.2 511.78L87.7 511.78L88.2 511.78L88.7 511.78L89.2 511.77L89.7 511.77L90.2 511.77L90.7 511.76L91.2 511.76L91.6 511.76L92.1 511.75L92.6 511.75L93.1 511.75L93.6 511.74L94.1 511.74L94.6 511.73L95.1 511.73L95.6 511.72L96.1 511.71L96.6 511.71L97.1 511.70L97.6 511.69L98.1 511.69L98.6 511.68L99.1 511.67L99.6 511.66L100.1 511.65L100.6 511.64L101.1 511.63L101.6 511.62L102.1 511.61L102.6 511.60L103 511.59L103.5 511.58L104 511.57L104.5 511.56L105 511.55L105.5 511.54L106 511.53L106.5 511.51L107 511.50L107.5 511.49L108 511.48L108.5 511.47L109 511.46L109.5 511.44L110 511.43L110.5 511.42L111 511.41L111.5 511.40L112 511.39L112.5 511.38L113 511.37L113.5 511.36L114 511.35L114.4 511.35L114.9 511.34L115.4 511.33L115.9 511.32L116.4 511.32L116.9 511.31L117.4 511.31L117.9 511.31L118.4 511.30L118.9 511.30L119.4 511.30L119.9 511.30L120.4 511.30L120.9 511.30L121.4 511.30L121.9 511.31L122.4 511.31L122.9 511.31L123.4 511.32L123.9 511.32L124.4 511.33L124.9 511.34L125.4 511.34L125.8 511.35L126.3 511.36L126.8 511.37L127.3 511.38L127.8 511.39L128.3 511.40L128.8 511.41L129.3 511.42L129.8 511.43L130.3 511.44L130.8 511.45L131.3 511.46L131.8 511.47L132.3 511.48L132.8 511.49L133.3 511.50L133.8 511.50L134.3 511.50L134.8 511.50L135.3 511.49L135.8 511.48L136.3 511.46L136.8 511.42L137.2 511.37L137.7 511.30L138.2 511.20L138.7 511.06L139.2 510.88L139.7 510.66L140.2 510.38L140.7 510.04L141.2 509.67L141.7 509.27L142.2 508.86L142.7 508.47L143.2 508.13L143.7 507.84L144.2 507.63L144.7 507.49L145.2 507.41L145.7 507.38L146.2 507.39L146.7 507.43L147.2 507.49L147.7 507.58L148.2 507.70L148.6 507.84L149.1 508.02L149.6 508.23L150.1 508.46L150.6 508.72L151.1 509.00L151.6 509.28L152.1 509.57L152.6 509.85L153.1 510.11L153.6 510.36L154.1 510.59L154.6 510.80L155.1 510.98L155.6 511.14L156.1 511.27L156.6 511.39L157.1 511.48L157.6 511.55L158.1 511.61L158.6 511.66L159.1 511.70L159.6 511.72L160 511.74L160.5 511.75L161 511.76L161.5 511.76L162 511.76L162.5 511.75L163 511.73L163.5 511.70L164 511.67L164.5 511.63L165 511.58L165.5 511.52L166 511.46L166.5 511.39L167 511.33L167.5 511.28L168 511.24L168.5 511.21L169 511.20L169.5 511.21L170 511.23L170.5 511.27L171 511.33L171.4 511.38L171.9 511.45L172.4 511.50L172.9 511.55L173.4 511.59L173.9 511.61L174.4 511.62L174.9 511.59L175.4 511.54L175.9 511.46L176.4 511.35L176.9 511.20L177.4 511.04L177.9 510.86L178.4 510.68L178.9 510.53L179.4 510.40L179.9 510.32L180.4 510.30L180.9 510.34L181.4 510.43L181.9 510.57L182.4 510.74L182.8 510.92L183.3 511.10L183.8 511.26L184.3 511.40L184.8 511.52L185.3 511.61L185.8 511.68L186.3 511.72L186.8 511.75L187.3 511.77L187.8 511.78L188.3 511.79L188.8 511.80L189.3 511.80L189.8 511.80L190.3 511.80L190.8 511.80L191.3 511.80L191.8 511.80L192.3 511.80L192.8 511.80L193.3 511.80L193.8 511.80L194.2 511.80L194.7 511.80L195.2 511.80L195.7 511.80L196.2 511.80L196.7 511.80L197.2 511.80L197.7 511.80L198.2 511.80L198.7 511.80L199.2 511.80L199.7 511.80L199.7 511.8Z" fill="#55A6CB"/>
<path d="M51.5 519.6L51.5 519.60L52 519.60L52.5 519.60L53 519.60L53.5 519.60L54 519.60L54.5 519.60L55 519.60L55.5 519.60L56 519.60L56.5 519.60L57 519.60L57.4 519.60L57.9 519.60L58.4 519.60L58.9 519.60L59.4 519.60L59.9 519.60L60.4 519.60L60.9 519.60L61.4 519.60L61.9 519.60L62.4 519.60L62.9 519.60L63.4 519.60L63.9 519.60L64.4 519.60L64.9 519.60L65.4 519.60L65.9 519.60L66.4 519.60L66.9 519.60L67.4 519.60L67.9 519.60L68.4 519.60L68.8 519.60L69.3 519.60L69.8 519.60L70.3 519.60L70.8 519.60L71.3 519.60L71.8 519.60L72.3 519.60L72.8 519.60L73.3 519.60L73.8 519.60L74.3 519.60L74.8 519.60L75.3 519.60L75.8 519.60L76.3 519.60L76.8 519.60L77.3 519.60L77.8 519.60L78.3 519.60L78.8 519.60L79.3 519.60L79.8 519.60L80.2 519.60L80.7 519.60L81.2 519.60L81.7 519.60L82.2 519.60L82.7 519.60L83.2 519.60L83.7 519.60L84.2 519.60L84.7 519.60L85.2 519.60L85.7 519.60L86.2 519.60L86.7 519.60L87.2 519.60L87.7 519.60L88.2 519.60L88.7 519.60L89.2 519.60L89.7 519.60L90.2 519.60L90.7 519.60L91.2 519.60L91.6 519.60L92.1 519.60L92.6 519.60L93.1 519.60L93.6 519.60L94.1 519.60L94.6 519.60L95.1 519.60L95.6 519.60L96.1 519.60L96.6 519.60L97.1 519.60L97.6 519.60L98.1 519.60L98.6 519.60L99.1 519.60L99.6 519.59L100.1 519.59L100.6 519.59L101.1 519.59L101.6 519.59L102.1 519.59L102.6 519.58L103 519.58L103.5 519.58L104 519.58L104.5 519.57L105 519.57L105.5 519.56L106 519.56L106.5 519.55L107 519.55L107.5 519.54L108 519.53L108.5 519.52L109 519.52L109.5 519.51L110 519.50L110.5 519.48L111 519.47L111.5 519.46L112 519.45L112.5 519.43L113 519.42L113.5 519.40L114 519.39L114.4 519.37L114.9 519.35L115.4 519.33L115.9 519.32L116.4 519.30L116.9 519.28L117.4 519.26L117.9 519.25L118.4 519.23L118.9 519.21L119.4 519.20L119.9 519.18L120.4 519.17L120.9 519.16L121.4 519.14L121.9 519.13L122.4 519.12L122.9 519.12L123.4 519.11L123.9 519.10L124.4 519.10L124.9 519.10L125.4 519.10L125.8 519.10L126.3 519.11L126.8 519.11L127.3 519.12L127.8 519.13L128.3 519.14L128.8 519.15L129.3 519.16L129.8 519.17L130.3 519.19L130.8 519.20L131.3 519.22L131.8 519.24L132.3 519.25L132.8 519.27L133.3 519.29L133.8 519.31L134.3 519.32L134.8 519.34L135.3 519.36L135.8 519.38L136.3 519.39L136.8 519.41L137.2 519.42L137.7 519.43L138.2 519.44L138.7 519.44L139.2 519.44L139.7 519.42L140.2 519.37L140.7 519.30L141.2 519.18L141.7 519.00L142.2 518.75L142.7 518.41L143.2 517.98L143.7 517.47L144.2 516.88L144.7 516.25L145.2 515.63L145.7 515.06L146.2 514.60L146.7 514.30L147.2 514.18L147.7 514.27L148.2 514.55L148.6 514.99L149.1 515.55L149.6 516.17L150.1 516.80L150.6 517.40L151.1 517.92L151.6 518.36L152.1 518.70L152.6 518.96L153.1 519.13L153.6 519.23L154.1 519.29L154.6 519.30L155.1 519.29L155.6 519.25L156.1 519.21L156.6 519.16L157.1 519.10L157.6 519.05L158.1 519.00L158.6 518.96L159.1 518.92L159.6 518.91L160 518.90L160.5 518.91L161 518.93L161.5 518.96L162 519.01L162.5 519.06L163 519.11L163.5 519.17L164 519.23L164.5 519.29L165 519.34L165.5 519.39L166 519.43L166.5 519.47L167 519.50L167.5 519.53L168 519.54L168.5 519.56L169 519.57L169.5 519.58L170 519.58L170.5 519.58L171 519.58L171.4 519.57L171.9 519.56L172.4 519.53L172.9 519.49L173.4 519.44L173.9 519.36L174.4 519.24L174.9 519.09L175.4 518.90L175.9 518.67L176.4 518.40L176.9 518.09L177.4 517.77L177.9 517.44L178.4 517.13L178.9 516.87L179.4 516.66L179.9 516.53L180.4 516.50L180.9 516.56L181.4 516.71L181.9 516.94L182.4 517.22L182.8 517.53L183.3 517.86L183.8 518.18L184.3 518.48L184.8 518.74L185.3 518.96L185.8 519.14L186.3 519.28L186.8 519.38L187.3 519.46L187.8 519.51L188.3 519.54L188.8 519.57L189.3 519.58L189.8 519.59L190.3 519.59L190.8 519.60L191.3 519.60L191.8 519.60L192.3 519.60L192.8 519.60L193.3 519.60L193.8 519.60L194.2 519.60L194.7 519.60L195.2 519.60L195.7 519.60L196.2 519.60L196.7 519.60L197.2 519.60L197.7 519.60L198.2 519.60L198.7 519.60L199.2 519.60L199.7 519.60L199.7 519.6Z" fill="#4C63AE"/>
<text x="208.9" y="505" font-size="8.5" fill="#050505">CD8_SELL</text>
<text x="208.9" y="513.2" font-size="8.5" fill="#050505">CD8_GZMK</text>
<text x="208.9" y="521.4" font-size="8.5" fill="#050505">CD8_GNLY</text>
<defs><linearGradient id="g0"><stop offset="0" stop-color="#D75F70"/><stop offset="0.38" stop-color="#DE7C8A"/><stop offset="0.6" stop-color="#EBB0B8"/><stop offset="0.8" stop-color="#F8E4E7"/><stop offset="0.93" stop-color="#FEFAFB"/><stop offset="1" stop-color="#FFFFFF"/></linearGradient><linearGradient id="g1"><stop offset="0" stop-color="#FFFFFF"/><stop offset="0.04" stop-color="#F4F4FA"/><stop offset="0.13" stop-color="#CDCDE9"/><stop offset="0.32" stop-color="#A3A2D5"/><stop offset="0.56" stop-color="#7D7CC4"/><stop offset="1" stop-color="#5957B4"/></linearGradient><linearGradient id="g2"><stop offset="0" stop-color="#FFFFFF"/><stop offset="0.04" stop-color="#F5F5FA"/><stop offset="0.13" stop-color="#D2D2EB"/><stop offset="0.32" stop-color="#ACABD9"/><stop offset="0.56" stop-color="#8A89CA"/><stop offset="1" stop-color="#6968BB"/></linearGradient><linearGradient id="g3"><stop offset="0" stop-color="#D24B5E"/><stop offset="0.38" stop-color="#DA6C7B"/><stop offset="0.6" stop-color="#E9A6AF"/><stop offset="0.8" stop-color="#F7E0E4"/><stop offset="0.93" stop-color="#FEFAFA"/><stop offset="1" stop-color="#FFFFFF"/></linearGradient><linearGradient id="g4"><stop offset="0" stop-color="#FFFFFF"/><stop offset="0.25" stop-color="#DCDBEF"/><stop offset="0.5" stop-color="#AFAEDB"/><stop offset="0.75" stop-color="#8583C7"/><stop offset="1" stop-color="#6968BB"/></linearGradient><linearGradient id="g5"><stop offset="0" stop-color="#DA6A79"/><stop offset="0.38" stop-color="#E08592"/><stop offset="0.6" stop-color="#ECB5BD"/><stop offset="0.8" stop-color="#F9E6E8"/><stop offset="0.93" stop-color="#FEFBFB"/><stop offset="1" stop-color="#FFFFFF"/></linearGradient><linearGradient id="g6"><stop offset="0" stop-color="#FFFFFF"/><stop offset="0.04" stop-color="#F3F3FA"/><stop offset="0.13" stop-color="#CBCAE7"/><stop offset="0.32" stop-color="#9E9DD3"/><stop offset="0.56" stop-color="#7675C1"/><stop offset="1" stop-color="#504EB0"/></linearGradient><linearGradient id="g7"><stop offset="0" stop-color="#C8233A"/><stop offset="0.38" stop-color="#D24B5E"/><stop offset="0.6" stop-color="#E4929D"/><stop offset="0.8" stop-color="#F6DADD"/><stop offset="0.93" stop-color="#FDF8F9"/><stop offset="1" stop-color="#FFFFFF"/></linearGradient><linearGradient id="g8"><stop offset="0" stop-color="#FFFFFF"/><stop offset="0.12" stop-color="#DBDAEF"/><stop offset="0.25" stop-color="#C7C6E5"/><stop offset="0.6" stop-color="#C1C0E3"/><stop offset="1" stop-color="#CAC9E7"/></linearGradient><linearGradient id="g9"><stop offset="0" stop-color="#FFFFFF"/><stop offset="0.12" stop-color="#D9D8EE"/><stop offset="0.3" stop-color="#B8B7DF"/><stop offset="0.55" stop-color="#B5B4DD"/><stop offset="0.8" stop-color="#D2D2EB"/><stop offset="1" stop-color="#CBCBE8"/></linearGradient><linearGradient id="g10"><stop offset="0" stop-color="#FFFFFF"/><stop offset="0.12" stop-color="#D4D4EC"/><stop offset="0.3" stop-color="#AFAEDB"/><stop offset="0.55" stop-color="#ABAAD9"/><stop offset="0.8" stop-color="#CCCCE8"/><stop offset="1" stop-color="#C5C4E5"/></linearGradient><linearGradient id="g11"><stop offset="0" stop-color="#FFFFFF"/><stop offset="0.12" stop-color="#D5D5EC"/><stop offset="0.25" stop-color="#BEBEE2"/><stop offset="0.6" stop-color="#B8B7DF"/><stop offset="1" stop-color="#C2C1E3"/></linearGradient><linearGradient id="g12"><stop offset="0" stop-color="#FFFFFF"/><stop offset="0.12" stop-color="#C5C4E5"/><stop offset="0.4" stop-color="#BDBDE1"/><stop offset="0.62" stop-color="#E8E8F5"/><stop offset="0.78" stop-color="#F9E8EB"/><stop offset="1" stop-color="#F2CBD1"/></linearGradient><linearGradient id="g13"><stop offset="0" stop-color="#FFFFFF"/><stop offset="0.04" stop-color="#FAFAFD"/><stop offset="0.13" stop-color="#E7E7F4"/><stop offset="0.32" stop-color="#D2D2EB"/><stop offset="0.56" stop-color="#C0C0E3"/><stop offset="1" stop-color="#AFAEDB"/></linearGradient><linearGradient id="g14"><stop offset="0" stop-color="#CD374C"/><stop offset="0.38" stop-color="#D65B6C"/><stop offset="0.6" stop-color="#E69CA6"/><stop offset="0.8" stop-color="#F6DDE0"/><stop offset="0.93" stop-color="#FEF9FA"/><stop offset="1" stop-color="#FFFFFF"/></linearGradient><linearGradient id="g15"><stop offset="0" stop-color="#504EB0"/><stop offset="0.38" stop-color="#706EBE"/><stop offset="0.6" stop-color="#A8A7D8"/><stop offset="0.8" stop-color="#E1E1F1"/><stop offset="0.93" stop-color="#FAFAFD"/><stop offset="1" stop-color="#FFFFFF"/></linearGradient><linearGradient id="g16"><stop offset="0" stop-color="#FFFFFF"/><stop offset="0.15" stop-color="#ECB5BC"/><stop offset="0.55" stop-color="#EAA9B2"/><stop offset="0.82" stop-color="#FBF0F2"/><stop offset="1" stop-color="#D4D4EC"/></linearGradient><linearGradient id="g17"><stop offset="0" stop-color="#5957B4"/><stop offset="0.38" stop-color="#7775C1"/><stop offset="0.6" stop-color="#ACABD9"/><stop offset="0.8" stop-color="#E3E2F2"/><stop offset="0.93" stop-color="#FAFAFD"/><stop offset="1" stop-color="#FFFFFF"/></linearGradient><linearGradient id="g18"><stop offset="0" stop-color="#FFFFFF"/><stop offset="0.12" stop-color="#F3CDD2"/><stop offset="0.25" stop-color="#ECB1B9"/><stop offset="0.6" stop-color="#EAA9B2"/><stop offset="1" stop-color="#EDB5BD"/></linearGradient><linearGradient id="g19"><stop offset="0" stop-color="#FFFFFF"/><stop offset="0.12" stop-color="#F6DADE"/><stop offset="0.25" stop-color="#F1C6CC"/><stop offset="0.6" stop-color="#EFC0C6"/><stop offset="1" stop-color="#F1C8CE"/></linearGradient><linearGradient id="g20"><stop offset="0" stop-color="#615FB7"/><stop offset="0.38" stop-color="#7E7CC4"/><stop offset="0.6" stop-color="#B0B0DB"/><stop offset="0.8" stop-color="#E4E4F3"/><stop offset="0.93" stop-color="#FAFAFD"/><stop offset="1" stop-color="#FFFFFF"/></linearGradient><linearGradient id="g21"><stop offset="0" stop-color="#FFFFFF"/><stop offset="0.12" stop-color="#F1C7CD"/><stop offset="0.25" stop-color="#E9A7B0"/><stop offset="0.6" stop-color="#E79FA9"/><stop offset="1" stop-color="#EAACB4"/></linearGradient><linearGradient id="g22"><stop offset="0" stop-color="#6968BB"/><stop offset="0.38" stop-color="#8583C7"/><stop offset="0.6" stop-color="#B5B4DD"/><stop offset="0.8" stop-color="#E5E5F3"/><stop offset="0.93" stop-color="#FBFBFD"/><stop offset="1" stop-color="#FFFFFF"/></linearGradient><linearGradient id="g23"><stop offset="0" stop-color="#FFFFFF"/><stop offset="0.12" stop-color="#F4D4D8"/><stop offset="0.25" stop-color="#EEBBC2"/><stop offset="0.6" stop-color="#ECB5BC"/><stop offset="1" stop-color="#EFBFC5"/></linearGradient><linearGradient id="g24"><stop offset="0" stop-color="#FFFFFF"/><stop offset="0.12" stop-color="#EFC0C7"/><stop offset="0.25" stop-color="#E79DA8"/><stop offset="0.6" stop-color="#E4949F"/><stop offset="1" stop-color="#E8A2AC"/></linearGradient><linearGradient id="g25"><stop offset="0" stop-color="#7270BF"/><stop offset="0.38" stop-color="#8B8ACB"/><stop offset="0.6" stop-color="#B9B8DF"/><stop offset="0.8" stop-color="#E7E7F4"/><stop offset="0.93" stop-color="#FBFBFD"/><stop offset="1" stop-color="#FFFFFF"/></linearGradient><linearGradient id="g26"><stop offset="0" stop-color="#7A79C3"/><stop offset="0.38" stop-color="#9291CE"/><stop offset="0.6" stop-color="#BDBCE1"/><stop offset="0.8" stop-color="#E8E8F5"/><stop offset="0.93" stop-color="#FBFBFD"/><stop offset="1" stop-color="#FFFFFF"/></linearGradient><linearGradient id="g27"><stop offset="0" stop-color="#FFFFFF"/><stop offset="0.04" stop-color="#FDF6F7"/><stop offset="0.13" stop-color="#F5D6DA"/><stop offset="0.32" stop-color="#ECB2BA"/><stop offset="0.56" stop-color="#E4929E"/><stop offset="1" stop-color="#DC7483"/></linearGradient><linearGradient id="g28"><stop offset="0" stop-color="#B8B7DF"/><stop offset="0.38" stop-color="#C5C4E5"/><stop offset="0.6" stop-color="#DCDBEF"/><stop offset="0.8" stop-color="#F3F3FA"/><stop offset="0.93" stop-color="#FDFDFE"/><stop offset="1" stop-color="#FFFFFF"/></linearGradient><linearGradient id="g29"><stop offset="0" stop-color="#FFFFFF"/><stop offset="0.04" stop-color="#FBF1F2"/><stop offset="0.13" stop-color="#EFC1C7"/><stop offset="0.32" stop-color="#E28A97"/><stop offset="0.56" stop-color="#D65B6C"/><stop offset="1" stop-color="#CA2D43"/></linearGradient><pattern id="grd" width="1.504" height="1.17" patternUnits="userSpaceOnUse" x="50.8" y="528.1"><path d="M0 0V1.17" stroke="#fff" stroke-width="0.45" fill="none"/></pattern></defs>
<rect x="50.8" y="528.10" width="78.8" height="1.45" fill="url(#g0)"/><rect x="129.5" y="528.10" width="71.7" height="1.45" fill="url(#g1)"/><rect x="50.8" y="529.25" width="79.3" height="1.45" fill="url(#g0)"/><rect x="130.0" y="529.25" width="71.2" height="1.45" fill="url(#g1)"/><rect x="50.8" y="530.39" width="79.6" height="1.45" fill="url(#g0)"/><rect x="130.3" y="530.39" width="70.9" height="1.45" fill="url(#g1)"/><rect x="50.8" y="531.54" width="79.6" height="1.45" fill="url(#g0)"/><rect x="130.3" y="531.54" width="70.9" height="1.45" fill="url(#g1)"/><rect x="50.8" y="532.68" width="79.9" height="1.45" fill="url(#g0)"/><rect x="130.6" y="532.68" width="70.6" height="1.45" fill="url(#g1)"/><rect x="50.8" y="533.83" width="79.8" height="1.45" fill="url(#g0)"/><rect x="130.5" y="533.83" width="70.7" height="1.45" fill="url(#g1)"/><rect x="50.8" y="534.98" width="80.2" height="1.45" fill="url(#g0)"/><rect x="130.9" y="534.98" width="70.3" height="1.45" fill="url(#g1)"/><rect x="50.8" y="536.12" width="80.5" height="1.45" fill="url(#g0)"/><rect x="131.2" y="536.12" width="70.0" height="1.45" fill="url(#g1)"/><rect x="50.8" y="537.27" width="80.8" height="1.45" fill="url(#g0)"/><rect x="131.5" y="537.27" width="69.7" height="1.45" fill="url(#g1)"/><rect x="50.8" y="538.41" width="81.2" height="1.45" fill="url(#g0)"/><rect x="131.9" y="538.41" width="69.3" height="1.45" fill="url(#g1)"/><rect x="50.8" y="539.56" width="80.9" height="1.45" fill="url(#g0)"/><rect x="131.6" y="539.56" width="69.6" height="1.45" fill="url(#g1)"/><rect x="50.8" y="540.71" width="81.0" height="1.45" fill="url(#g0)"/><rect x="131.7" y="540.71" width="69.5" height="1.45" fill="url(#g1)"/><rect x="50.8" y="541.85" width="80.8" height="1.45" fill="url(#g0)"/><rect x="131.5" y="541.85" width="69.7" height="1.45" fill="url(#g1)"/><rect x="50.8" y="543.00" width="81.3" height="1.45" fill="url(#g0)"/><rect x="132.0" y="543.00" width="69.2" height="1.45" fill="url(#g1)"/><rect x="50.8" y="544.14" width="81.3" height="1.45" fill="url(#g0)"/><rect x="132.0" y="544.14" width="69.2" height="1.45" fill="url(#g1)"/><rect x="50.8" y="545.29" width="81.0" height="1.45" fill="url(#g0)"/><rect x="131.7" y="545.29" width="69.5" height="1.45" fill="url(#g2)"/><rect x="50.8" y="546.44" width="82.0" height="1.45" fill="url(#g0)"/><rect x="132.7" y="546.44" width="68.5" height="1.45" fill="url(#g2)"/><rect x="50.8" y="547.58" width="82.7" height="1.45" fill="url(#g0)"/><rect x="133.4" y="547.58" width="67.8" height="1.45" fill="url(#g2)"/><rect x="50.8" y="548.73" width="83.2" height="1.45" fill="url(#g3)"/><rect x="133.9" y="548.73" width="67.3" height="1.45" fill="url(#g2)"/><rect x="50.8" y="549.87" width="84.9" height="1.45" fill="url(#g3)"/><rect x="135.6" y="549.87" width="65.6" height="1.45" fill="url(#g2)"/><rect x="50.8" y="551.02" width="84.2" height="1.45" fill="url(#g3)"/><rect x="134.9" y="551.02" width="66.3" height="1.45" fill="url(#g2)"/><rect x="50.8" y="552.17" width="83.9" height="1.45" fill="url(#g3)"/><rect x="134.6" y="552.17" width="66.6" height="1.45" fill="url(#g2)"/><rect x="50.8" y="553.31" width="84.5" height="1.45" fill="url(#g3)"/><rect x="135.2" y="553.31" width="66.0" height="1.45" fill="url(#g2)"/><rect x="50.8" y="554.46" width="66.9" height="1.45" fill="url(#g3)"/><rect x="117.6" y="554.46" width="83.6" height="1.45" fill="url(#g4)"/><rect x="50.8" y="555.60" width="65.8" height="1.45" fill="url(#g3)"/><rect x="116.5" y="555.60" width="84.7" height="1.45" fill="url(#g4)"/><rect x="50.8" y="556.75" width="66.0" height="1.45" fill="url(#g3)"/><rect x="116.7" y="556.75" width="84.5" height="1.45" fill="url(#g4)"/><rect x="50.8" y="557.90" width="64.8" height="1.45" fill="url(#g3)"/><rect x="115.5" y="557.90" width="85.7" height="1.45" fill="url(#g4)"/><rect x="50.8" y="559.04" width="64.5" height="1.45" fill="url(#g3)"/><rect x="115.2" y="559.04" width="86.0" height="1.45" fill="url(#g4)"/><rect x="50.8" y="560.19" width="65.9" height="1.45" fill="url(#g3)"/><rect x="116.6" y="560.19" width="84.6" height="1.45" fill="url(#g4)"/><rect x="50.8" y="561.33" width="67.1" height="1.45" fill="url(#g3)"/><rect x="117.8" y="561.33" width="83.4" height="1.45" fill="url(#g4)"/><rect x="50.8" y="562.48" width="68.6" height="1.45" fill="url(#g3)"/><rect x="119.3" y="562.48" width="81.9" height="1.45" fill="url(#g4)"/><rect x="50.8" y="563.63" width="84.1" height="1.45" fill="url(#g5)"/><rect x="134.8" y="563.63" width="66.4" height="1.45" fill="url(#g6)"/><rect x="50.8" y="564.77" width="84.4" height="1.45" fill="url(#g5)"/><rect x="135.1" y="564.77" width="66.1" height="1.45" fill="url(#g6)"/><rect x="50.8" y="565.92" width="84.6" height="1.45" fill="url(#g5)"/><rect x="135.3" y="565.92" width="65.9" height="1.45" fill="url(#g6)"/><rect x="50.8" y="567.06" width="84.2" height="1.45" fill="url(#g0)"/><rect x="134.9" y="567.06" width="66.3" height="1.45" fill="url(#g6)"/><rect x="50.8" y="568.21" width="84.0" height="1.45" fill="url(#g0)"/><rect x="134.7" y="568.21" width="66.5" height="1.45" fill="url(#g6)"/><rect x="50.8" y="569.36" width="83.8" height="1.45" fill="url(#g0)"/><rect x="134.5" y="569.36" width="66.7" height="1.45" fill="url(#g6)"/><rect x="50.8" y="570.50" width="83.9" height="1.45" fill="url(#g0)"/><rect x="134.6" y="570.50" width="66.6" height="1.45" fill="url(#g6)"/><rect x="50.8" y="571.65" width="84.1" height="1.45" fill="url(#g0)"/><rect x="134.8" y="571.65" width="66.4" height="1.45" fill="url(#g6)"/><rect x="50.8" y="572.79" width="84.3" height="1.45" fill="url(#g0)"/><rect x="135.0" y="572.79" width="66.2" height="1.45" fill="url(#g6)"/><rect x="50.8" y="573.94" width="84.3" height="1.45" fill="url(#g0)"/><rect x="135.0" y="573.94" width="66.2" height="1.45" fill="url(#g6)"/><rect x="50.8" y="575.09" width="84.8" height="1.45" fill="url(#g0)"/><rect x="135.5" y="575.09" width="65.7" height="1.45" fill="url(#g6)"/><rect x="50.8" y="576.23" width="85.6" height="1.45" fill="url(#g0)"/><rect x="136.3" y="576.23" width="64.9" height="1.45" fill="url(#g6)"/><rect x="50.8" y="577.38" width="85.3" height="1.45" fill="url(#g0)"/><rect x="136.0" y="577.38" width="65.2" height="1.45" fill="url(#g6)"/><rect x="50.8" y="578.52" width="85.9" height="1.45" fill="url(#g0)"/><rect x="136.6" y="578.52" width="64.6" height="1.45" fill="url(#g6)"/><rect x="50.8" y="579.67" width="85.8" height="1.45" fill="url(#g0)"/><rect x="136.5" y="579.67" width="64.7" height="1.45" fill="url(#g6)"/><rect x="50.8" y="580.82" width="86.4" height="1.45" fill="url(#g0)"/><rect x="137.1" y="580.82" width="64.1" height="1.45" fill="url(#g6)"/><rect x="50.8" y="581.96" width="86.6" height="1.45" fill="url(#g0)"/><rect x="137.3" y="581.96" width="63.9" height="1.45" fill="url(#g6)"/><rect x="50.8" y="583.11" width="86.7" height="1.45" fill="url(#g0)"/><rect x="137.4" y="583.11" width="63.8" height="1.45" fill="url(#g6)"/><rect x="50.8" y="584.25" width="86.3" height="1.15" fill="url(#g0)"/><rect x="137.0" y="584.25" width="64.2" height="1.15" fill="url(#g6)"/><rect x="50.8" y="589.90" width="38.1" height="1.44" fill="url(#g7)"/><rect x="88.8" y="589.90" width="112.4" height="1.44" fill="url(#g8)"/><rect x="50.8" y="591.04" width="37.0" height="1.44" fill="url(#g7)"/><rect x="87.7" y="591.04" width="113.5" height="1.44" fill="url(#g8)"/><rect x="50.8" y="592.18" width="33.9" height="1.44" fill="url(#g7)"/><rect x="84.6" y="592.18" width="116.6" height="1.44" fill="url(#g8)"/><rect x="50.8" y="593.32" width="34.8" height="1.44" fill="url(#g7)"/><rect x="85.5" y="593.32" width="115.7" height="1.44" fill="url(#g8)"/><rect x="50.8" y="594.45" width="35.2" height="1.44" fill="url(#g7)"/><rect x="85.9" y="594.45" width="115.3" height="1.44" fill="url(#g8)"/><rect x="50.8" y="595.59" width="34.2" height="1.44" fill="url(#g7)"/><rect x="84.9" y="595.59" width="116.3" height="1.44" fill="url(#g9)"/><rect x="50.8" y="596.73" width="34.5" height="1.44" fill="url(#g7)"/><rect x="85.2" y="596.73" width="116.0" height="1.44" fill="url(#g9)"/><rect x="50.8" y="597.87" width="33.3" height="1.44" fill="url(#g7)"/><rect x="84.0" y="597.87" width="117.2" height="1.44" fill="url(#g9)"/><rect x="50.8" y="599.01" width="33.6" height="1.44" fill="url(#g7)"/><rect x="84.3" y="599.01" width="116.9" height="1.44" fill="url(#g9)"/><rect x="50.8" y="600.15" width="32.6" height="1.44" fill="url(#g7)"/><rect x="83.3" y="600.15" width="117.9" height="1.44" fill="url(#g9)"/><rect x="50.8" y="601.28" width="31.0" height="1.44" fill="url(#g7)"/><rect x="81.7" y="601.28" width="119.5" height="1.44" fill="url(#g8)"/><rect x="50.8" y="602.42" width="30.7" height="1.44" fill="url(#g7)"/><rect x="81.4" y="602.42" width="119.8" height="1.44" fill="url(#g8)"/><rect x="50.8" y="603.56" width="30.0" height="1.44" fill="url(#g7)"/><rect x="80.7" y="603.56" width="120.5" height="1.44" fill="url(#g8)"/><rect x="50.8" y="604.70" width="29.8" height="1.44" fill="url(#g7)"/><rect x="80.5" y="604.70" width="120.7" height="1.44" fill="url(#g8)"/><rect x="50.8" y="605.84" width="28.8" height="1.44" fill="url(#g7)"/><rect x="79.5" y="605.84" width="121.7" height="1.44" fill="url(#g8)"/><rect x="50.8" y="606.98" width="27.3" height="1.44" fill="url(#g7)"/><rect x="78.0" y="606.98" width="123.2" height="1.44" fill="url(#g10)"/><rect x="50.8" y="608.12" width="27.4" height="1.44" fill="url(#g7)"/><rect x="78.1" y="608.12" width="123.1" height="1.44" fill="url(#g10)"/><rect x="50.8" y="609.25" width="26.9" height="1.44" fill="url(#g7)"/><rect x="77.6" y="609.25" width="123.6" height="1.44" fill="url(#g10)"/><rect x="50.8" y="610.39" width="26.9" height="1.44" fill="url(#g7)"/><rect x="77.6" y="610.39" width="123.6" height="1.44" fill="url(#g10)"/><rect x="50.8" y="611.53" width="25.4" height="1.44" fill="url(#g7)"/><rect x="76.1" y="611.53" width="125.1" height="1.44" fill="url(#g11)"/><rect x="50.8" y="612.67" width="25.4" height="1.44" fill="url(#g7)"/><rect x="76.1" y="612.67" width="125.1" height="1.44" fill="url(#g11)"/><rect x="50.8" y="613.81" width="23.7" height="1.44" fill="url(#g7)"/><rect x="74.4" y="613.81" width="126.8" height="1.44" fill="url(#g11)"/><rect x="50.8" y="614.95" width="22.2" height="1.44" fill="url(#g7)"/><rect x="72.9" y="614.95" width="128.3" height="1.44" fill="url(#g11)"/><rect x="50.8" y="616.08" width="20.9" height="1.44" fill="url(#g7)"/><rect x="71.6" y="616.08" width="129.6" height="1.44" fill="url(#g11)"/><rect x="50.8" y="617.22" width="21.7" height="1.44" fill="url(#g7)"/><rect x="72.4" y="617.22" width="128.8" height="1.44" fill="url(#g12)"/><rect x="50.8" y="618.36" width="22.8" height="1.44" fill="url(#g7)"/><rect x="73.5" y="618.36" width="127.7" height="1.44" fill="url(#g12)"/><rect x="50.8" y="619.50" width="52.3" height="1.44" fill="url(#g7)"/><rect x="103.0" y="619.50" width="98.2" height="1.44" fill="url(#g13)"/><rect x="50.8" y="620.64" width="53.3" height="1.44" fill="url(#g14)"/><rect x="104.0" y="620.64" width="97.2" height="1.44" fill="url(#g13)"/><rect x="50.8" y="621.78" width="54.3" height="1.44" fill="url(#g14)"/><rect x="105.0" y="621.78" width="96.2" height="1.44" fill="url(#g13)"/><rect x="50.8" y="622.92" width="55.7" height="1.44" fill="url(#g14)"/><rect x="106.4" y="622.92" width="94.8" height="1.44" fill="url(#g13)"/><rect x="50.8" y="624.05" width="55.5" height="1.44" fill="url(#g14)"/><rect x="106.2" y="624.05" width="95.0" height="1.44" fill="url(#g13)"/><rect x="50.8" y="625.19" width="55.9" height="1.44" fill="url(#g14)"/><rect x="106.6" y="625.19" width="94.6" height="1.44" fill="url(#g13)"/><rect x="50.8" y="626.33" width="56.9" height="1.44" fill="url(#g14)"/><rect x="107.6" y="626.33" width="93.6" height="1.44" fill="url(#g13)"/><rect x="50.8" y="627.47" width="58.6" height="1.44" fill="url(#g14)"/><rect x="109.3" y="627.47" width="91.9" height="1.44" fill="url(#g13)"/><rect x="50.8" y="628.61" width="58.4" height="1.44" fill="url(#g14)"/><rect x="109.1" y="628.61" width="92.1" height="1.44" fill="url(#g13)"/><rect x="50.8" y="629.75" width="58.7" height="1.44" fill="url(#g14)"/><rect x="109.4" y="629.75" width="91.8" height="1.44" fill="url(#g13)"/><rect x="50.8" y="630.88" width="60.3" height="1.44" fill="url(#g14)"/><rect x="111.0" y="630.88" width="90.2" height="1.44" fill="url(#g13)"/><rect x="50.8" y="632.02" width="62.0" height="1.44" fill="url(#g14)"/><rect x="112.7" y="632.02" width="88.5" height="1.44" fill="url(#g13)"/><rect x="50.8" y="633.16" width="61.1" height="1.14" fill="url(#g14)"/><rect x="111.8" y="633.16" width="89.4" height="1.14" fill="url(#g13)"/><rect x="50.8" y="639.00" width="40.6" height="1.44" fill="url(#g15)"/><rect x="91.3" y="639.00" width="109.9" height="1.44" fill="url(#g16)"/><rect x="50.8" y="640.14" width="40.8" height="1.44" fill="url(#g15)"/><rect x="91.5" y="640.14" width="109.7" height="1.44" fill="url(#g16)"/><rect x="50.8" y="641.29" width="42.5" height="1.44" fill="url(#g17)"/><rect x="93.2" y="641.29" width="108.0" height="1.44" fill="url(#g18)"/><rect x="50.8" y="642.43" width="43.7" height="1.44" fill="url(#g17)"/><rect x="94.4" y="642.43" width="106.8" height="1.44" fill="url(#g19)"/><rect x="50.8" y="643.58" width="44.9" height="1.44" fill="url(#g17)"/><rect x="95.6" y="643.58" width="105.6" height="1.44" fill="url(#g19)"/><rect x="50.8" y="644.72" width="46.2" height="1.44" fill="url(#g20)"/><rect x="96.9" y="644.72" width="104.3" height="1.44" fill="url(#g19)"/><rect x="50.8" y="645.87" width="46.7" height="1.44" fill="url(#g20)"/><rect x="97.4" y="645.87" width="103.8" height="1.44" fill="url(#g21)"/><rect x="50.8" y="647.01" width="48.0" height="1.44" fill="url(#g20)"/><rect x="98.7" y="647.01" width="102.5" height="1.44" fill="url(#g21)"/><rect x="50.8" y="648.16" width="49.1" height="1.44" fill="url(#g20)"/><rect x="99.8" y="648.16" width="101.4" height="1.44" fill="url(#g21)"/><rect x="50.8" y="649.30" width="52.4" height="1.44" fill="url(#g22)"/><rect x="103.1" y="649.30" width="98.1" height="1.44" fill="url(#g23)"/><rect x="50.8" y="650.44" width="53.7" height="1.44" fill="url(#g22)"/><rect x="104.4" y="650.44" width="96.8" height="1.44" fill="url(#g23)"/><rect x="50.8" y="651.59" width="55.0" height="1.44" fill="url(#g22)"/><rect x="105.7" y="651.59" width="95.5" height="1.44" fill="url(#g23)"/><rect x="50.8" y="652.73" width="56.1" height="1.44" fill="url(#g22)"/><rect x="106.8" y="652.73" width="94.4" height="1.44" fill="url(#g24)"/><rect x="50.8" y="653.88" width="57.1" height="1.44" fill="url(#g25)"/><rect x="107.8" y="653.88" width="93.4" height="1.44" fill="url(#g24)"/><rect x="50.8" y="655.02" width="58.3" height="1.44" fill="url(#g25)"/><rect x="109.0" y="655.02" width="92.2" height="1.44" fill="url(#g24)"/><rect x="50.8" y="656.17" width="60.0" height="1.44" fill="url(#g25)"/><rect x="110.7" y="656.17" width="90.5" height="1.44" fill="url(#g18)"/><rect x="50.8" y="657.31" width="61.4" height="1.44" fill="url(#g26)"/><rect x="112.1" y="657.31" width="89.1" height="1.44" fill="url(#g18)"/><rect x="50.8" y="658.46" width="63.3" height="1.14" fill="url(#g26)"/><rect x="114.0" y="658.46" width="87.2" height="1.14" fill="url(#g18)"/><rect x="50.8" y="664.00" width="62.1" height="1.45" fill="url(#g22)"/><rect x="112.8" y="664.00" width="88.4" height="1.45" fill="url(#g27)"/><rect x="50.8" y="665.15" width="62.6" height="1.45" fill="url(#g22)"/><rect x="113.3" y="665.15" width="87.9" height="1.45" fill="url(#g27)"/><rect x="50.8" y="666.30" width="64.0" height="1.45" fill="url(#g25)"/><rect x="114.7" y="666.30" width="86.5" height="1.45" fill="url(#g27)"/><rect x="50.8" y="667.45" width="64.9" height="1.45" fill="url(#g25)"/><rect x="115.6" y="667.45" width="85.6" height="1.45" fill="url(#g27)"/><rect x="50.8" y="668.60" width="64.7" height="1.45" fill="url(#g25)"/><rect x="115.4" y="668.60" width="85.8" height="1.45" fill="url(#g27)"/><rect x="50.8" y="669.75" width="65.0" height="1.45" fill="url(#g25)"/><rect x="115.7" y="669.75" width="85.5" height="1.45" fill="url(#g27)"/><rect x="50.8" y="670.90" width="65.7" height="1.45" fill="url(#g25)"/><rect x="116.4" y="670.90" width="84.8" height="1.45" fill="url(#g27)"/><rect x="50.8" y="672.06" width="65.5" height="1.45" fill="url(#g25)"/><rect x="116.2" y="672.06" width="85.0" height="1.45" fill="url(#g27)"/><rect x="50.8" y="673.21" width="66.2" height="1.45" fill="url(#g25)"/><rect x="116.9" y="673.21" width="84.3" height="1.45" fill="url(#g27)"/><rect x="50.8" y="674.36" width="66.9" height="1.45" fill="url(#g25)"/><rect x="117.6" y="674.36" width="83.6" height="1.45" fill="url(#g27)"/><rect x="50.8" y="675.51" width="68.3" height="1.45" fill="url(#g25)"/><rect x="119.0" y="675.51" width="82.2" height="1.45" fill="url(#g27)"/><rect x="50.8" y="676.66" width="69.3" height="1.45" fill="url(#g22)"/><rect x="120.0" y="676.66" width="81.2" height="1.45" fill="url(#g27)"/><rect x="50.8" y="677.81" width="69.2" height="1.45" fill="url(#g22)"/><rect x="119.9" y="677.81" width="81.3" height="1.45" fill="url(#g27)"/><rect x="50.8" y="678.96" width="70.9" height="1.45" fill="url(#g22)"/><rect x="121.6" y="678.96" width="79.6" height="1.45" fill="url(#g27)"/><rect x="50.8" y="680.11" width="70.5" height="1.45" fill="url(#g22)"/><rect x="121.2" y="680.11" width="80.0" height="1.45" fill="url(#g27)"/><rect x="50.8" y="681.26" width="71.7" height="1.45" fill="url(#g22)"/><rect x="122.4" y="681.26" width="78.8" height="1.45" fill="url(#g27)"/><rect x="50.8" y="682.41" width="72.1" height="1.45" fill="url(#g20)"/><rect x="122.8" y="682.41" width="78.4" height="1.45" fill="url(#g27)"/><rect x="50.8" y="683.56" width="72.3" height="1.45" fill="url(#g20)"/><rect x="123.0" y="683.56" width="78.2" height="1.45" fill="url(#g27)"/><rect x="50.8" y="684.71" width="72.5" height="1.45" fill="url(#g20)"/><rect x="123.2" y="684.71" width="78.0" height="1.45" fill="url(#g27)"/><rect x="50.8" y="685.87" width="72.9" height="1.45" fill="url(#g20)"/><rect x="123.6" y="685.87" width="77.6" height="1.45" fill="url(#g27)"/><rect x="50.8" y="687.02" width="73.4" height="1.45" fill="url(#g20)"/><rect x="124.1" y="687.02" width="77.1" height="1.45" fill="url(#g27)"/><rect x="50.8" y="688.17" width="74.6" height="1.45" fill="url(#g20)"/><rect x="125.3" y="688.17" width="75.9" height="1.45" fill="url(#g27)"/><rect x="50.8" y="689.32" width="74.3" height="1.45" fill="url(#g20)"/><rect x="125.0" y="689.32" width="76.2" height="1.45" fill="url(#g27)"/><rect x="50.8" y="690.47" width="74.8" height="1.45" fill="url(#g20)"/><rect x="125.5" y="690.47" width="75.7" height="1.45" fill="url(#g27)"/><rect x="50.8" y="691.62" width="74.9" height="1.45" fill="url(#g20)"/><rect x="125.6" y="691.62" width="75.6" height="1.45" fill="url(#g27)"/><rect x="50.8" y="692.77" width="75.8" height="1.45" fill="url(#g22)"/><rect x="126.5" y="692.77" width="74.7" height="1.45" fill="url(#g27)"/><rect x="50.8" y="693.92" width="75.2" height="1.45" fill="url(#g28)"/><rect x="125.9" y="693.92" width="75.3" height="1.45" fill="url(#g27)"/><rect x="50.8" y="695.07" width="84.7" height="1.45" fill="url(#g28)"/><rect x="135.4" y="695.07" width="65.8" height="1.45" fill="url(#g29)"/><rect x="50.8" y="696.22" width="84.2" height="1.45" fill="url(#g22)"/><rect x="134.9" y="696.22" width="66.3" height="1.45" fill="url(#g29)"/><rect x="50.8" y="697.37" width="84.8" height="1.45" fill="url(#g22)"/><rect x="135.5" y="697.37" width="65.7" height="1.45" fill="url(#g29)"/><rect x="50.8" y="698.52" width="85.0" height="1.45" fill="url(#g25)"/><rect x="135.7" y="698.52" width="65.5" height="1.45" fill="url(#g29)"/><rect x="50.8" y="699.68" width="85.7" height="1.45" fill="url(#g25)"/><rect x="136.4" y="699.68" width="64.8" height="1.45" fill="url(#g29)"/><rect x="50.8" y="700.83" width="86.3" height="1.45" fill="url(#g25)"/><rect x="137.0" y="700.83" width="64.2" height="1.45" fill="url(#g29)"/><rect x="50.8" y="701.98" width="86.0" height="1.45" fill="url(#g25)"/><rect x="136.7" y="701.98" width="64.5" height="1.45" fill="url(#g29)"/><rect x="50.8" y="703.13" width="85.7" height="1.45" fill="url(#g25)"/><rect x="136.4" y="703.13" width="64.8" height="1.45" fill="url(#g29)"/><rect x="50.8" y="704.28" width="86.2" height="1.45" fill="url(#g25)"/><rect x="136.9" y="704.28" width="64.3" height="1.45" fill="url(#g29)"/><rect x="50.8" y="705.43" width="86.8" height="1.45" fill="url(#g25)"/><rect x="137.5" y="705.43" width="63.7" height="1.45" fill="url(#g29)"/><rect x="50.8" y="706.58" width="86.6" height="1.45" fill="url(#g25)"/><rect x="137.3" y="706.58" width="63.9" height="1.45" fill="url(#g29)"/><rect x="50.8" y="707.73" width="86.5" height="1.45" fill="url(#g25)"/><rect x="137.2" y="707.73" width="64.0" height="1.45" fill="url(#g29)"/><rect x="50.8" y="708.88" width="86.2" height="1.45" fill="url(#g22)"/><rect x="136.9" y="708.88" width="64.3" height="1.45" fill="url(#g29)"/><rect x="50.8" y="710.03" width="86.1" height="1.45" fill="url(#g22)"/><rect x="136.8" y="710.03" width="64.4" height="1.45" fill="url(#g29)"/><rect x="50.8" y="711.18" width="86.1" height="1.45" fill="url(#g22)"/><rect x="136.8" y="711.18" width="64.4" height="1.45" fill="url(#g29)"/><rect x="50.8" y="712.33" width="87.3" height="1.45" fill="url(#g22)"/><rect x="138.0" y="712.33" width="63.2" height="1.45" fill="url(#g29)"/><rect x="50.8" y="713.49" width="87.2" height="1.45" fill="url(#g20)"/><rect x="137.9" y="713.49" width="63.3" height="1.45" fill="url(#g29)"/><rect x="50.8" y="714.64" width="87.2" height="1.45" fill="url(#g20)"/><rect x="137.9" y="714.64" width="63.3" height="1.45" fill="url(#g29)"/><rect x="50.8" y="715.79" width="87.6" height="1.45" fill="url(#g20)"/><rect x="138.3" y="715.79" width="62.9" height="1.45" fill="url(#g29)"/><rect x="50.8" y="716.94" width="87.3" height="1.45" fill="url(#g20)"/><rect x="138.0" y="716.94" width="63.2" height="1.45" fill="url(#g29)"/><rect x="50.8" y="718.09" width="87.2" height="1.45" fill="url(#g20)"/><rect x="137.9" y="718.09" width="63.3" height="1.45" fill="url(#g29)"/><rect x="50.8" y="719.24" width="87.4" height="1.45" fill="url(#g20)"/><rect x="138.1" y="719.24" width="63.1" height="1.45" fill="url(#g29)"/><rect x="50.8" y="720.39" width="87.9" height="1.45" fill="url(#g20)"/><rect x="138.6" y="720.39" width="62.6" height="1.45" fill="url(#g29)"/><rect x="50.8" y="721.54" width="88.1" height="1.45" fill="url(#g20)"/><rect x="138.8" y="721.54" width="62.4" height="1.45" fill="url(#g29)"/><rect x="50.8" y="722.69" width="88.1" height="1.45" fill="url(#g20)"/><rect x="138.8" y="722.69" width="62.4" height="1.45" fill="url(#g29)"/><rect x="50.8" y="723.84" width="88.4" height="1.45" fill="url(#g22)"/><rect x="139.1" y="723.84" width="62.1" height="1.45" fill="url(#g29)"/><rect x="50.8" y="724.99" width="88.9" height="1.45" fill="url(#g22)"/><rect x="139.6" y="724.99" width="61.6" height="1.45" fill="url(#g29)"/><rect x="50.8" y="726.14" width="89.4" height="1.45" fill="url(#g22)"/><rect x="140.1" y="726.14" width="61.1" height="1.45" fill="url(#g29)"/><rect x="50.8" y="727.30" width="90.1" height="1.45" fill="url(#g22)"/><rect x="140.8" y="727.30" width="60.4" height="1.45" fill="url(#g29)"/><rect x="50.8" y="728.45" width="90.3" height="1.45" fill="url(#g22)"/><rect x="141.0" y="728.45" width="60.2" height="1.45" fill="url(#g29)"/><rect x="50.8" y="729.60" width="90.7" height="1.45" fill="url(#g25)"/><rect x="141.4" y="729.60" width="59.8" height="1.45" fill="url(#g29)"/><rect x="50.8" y="730.75" width="90.3" height="1.45" fill="url(#g25)"/><rect x="141.0" y="730.75" width="60.2" height="1.45" fill="url(#g29)"/><rect x="50.8" y="731.90" width="91.1" height="1.45" fill="url(#g25)"/><rect x="141.8" y="731.90" width="59.4" height="1.45" fill="url(#g29)"/><rect x="50.8" y="733.05" width="90.9" height="1.15" fill="url(#g25)"/><rect x="141.6" y="733.05" width="59.6" height="1.15" fill="url(#g29)"/>
<rect x="50.8" y="528.1" width="150.4" height="57.3" fill="url(#grd)" opacity="0.33"/>
<rect x="50.8" y="589.9" width="150.4" height="44.4" fill="url(#grd)" opacity="0.33"/>
<rect x="50.8" y="639" width="150.4" height="20.6" fill="url(#grd)" opacity="0.33"/>
<rect x="50.8" y="664" width="150.4" height="70.2" fill="url(#grd)" opacity="0.33"/>
<rect x="34.7" y="528.1" width="12.4" height="57.3" fill="#65798F"/>
<rect x="34.7" y="589.9" width="12.4" height="44.4" fill="#EF9A9A"/>
<rect x="34.7" y="639" width="12.4" height="20.6" fill="#5E9E79"/>
<rect x="34.7" y="664" width="12.4" height="70.2" fill="#C4EA88"/>
<path d="M34.7 529.8h12.4M34.7 531.5h12.4M34.7 533.3h12.4M34.7 535h12.4M34.7 536.7h12.4M34.7 538.4h12.4M34.7 540.1h12.4M34.7 541.9h12.4M34.7 543.6h12.4M34.7 545.3h12.4M34.7 547h12.4M34.7 548.7h12.4M34.7 550.5h12.4M34.7 552.2h12.4M34.7 553.9h12.4M34.7 555.6h12.4M34.7 557.3h12.4M34.7 559.1h12.4M34.7 560.8h12.4M34.7 562.5h12.4M34.7 564.2h12.4M34.7 565.9h12.4M34.7 567.7h12.4M34.7 569.4h12.4M34.7 571.1h12.4M34.7 572.8h12.4M34.7 574.5h12.4M34.7 576.3h12.4M34.7 578h12.4M34.7 579.7h12.4M34.7 581.4h12.4M34.7 583.1h12.4M34.7 584.9h12.4M34.7 586.6h12.4M34.7 588.3h12.4M34.7 590h12.4M34.7 591.7h12.4M34.7 593.5h12.4M34.7 595.2h12.4M34.7 596.9h12.4M34.7 598.6h12.4M34.7 600.3h12.4M34.7 602.1h12.4M34.7 603.8h12.4M34.7 605.5h12.4M34.7 607.2h12.4M34.7 608.9h12.4M34.7 610.7h12.4M34.7 612.4h12.4M34.7 614.1h12.4M34.7 615.8h12.4M34.7 617.5h12.4M34.7 619.3h12.4M34.7 621h12.4M34.7 622.7h12.4M34.7 624.4h12.4M34.7 626.1h12.4M34.7 627.9h12.4M34.7 629.6h12.4M34.7 631.3h12.4M34.7 633h12.4M34.7 634.7h12.4M34.7 636.5h12.4M34.7 638.2h12.4M34.7 639.9h12.4M34.7 641.6h12.4M34.7 643.3h12.4M34.7 645.1h12.4M34.7 646.8h12.4M34.7 648.5h12.4M34.7 650.2h12.4M34.7 651.9h12.4M34.7 653.7h12.4M34.7 655.4h12.4M34.7 657.1h12.4M34.7 658.8h12.4M34.7 660.5h12.4M34.7 662.3h12.4M34.7 664h12.4M34.7 665.7h12.4M34.7 667.4h12.4M34.7 669.1h12.4M34.7 670.9h12.4M34.7 672.6h12.4M34.7 674.3h12.4M34.7 676h12.4M34.7 677.7h12.4M34.7 679.5h12.4M34.7 681.2h12.4M34.7 682.9h12.4M34.7 684.6h12.4M34.7 686.3h12.4M34.7 688.1h12.4M34.7 689.8h12.4M34.7 691.5h12.4M34.7 693.2h12.4M34.7 694.9h12.4M34.7 696.7h12.4M34.7 698.4h12.4M34.7 700.1h12.4M34.7 701.8h12.4M34.7 703.5h12.4M34.7 705.3h12.4M34.7 707h12.4M34.7 708.7h12.4M34.7 710.4h12.4M34.7 712.1h12.4M34.7 713.9h12.4M34.7 715.6h12.4M34.7 717.3h12.4M34.7 719h12.4M34.7 720.7h12.4M34.7 722.5h12.4M34.7 724.2h12.4M34.7 725.9h12.4M34.7 727.6h12.4M34.7 729.3h12.4M34.7 731.1h12.4M34.7 732.8h12.4" stroke="#fff" stroke-width="0.3" opacity="0.5" fill="none"/>
<rect x="34.5" y="585.4" width="167" height="4.5" fill="#fff"/><rect x="34.5" y="634.3" width="167" height="4.7" fill="#fff"/><rect x="34.5" y="659.6" width="167" height="4.4" fill="#fff"/><rect x="34.5" y="734.2" width="167" height="3" fill="#fff"/>
<path d="M1.6 595V671.3M1.6 595H14.2M14.2 564.4V619.3M14.2 564.4H28.5M14.2 619.3H27.3M1.6 671.3H19.4M19.4 644.8V692.2M19.4 644.8H28.6M19.4 692.2H26.6" fill="none" stroke="#111" stroke-width="1" stroke-linejoin="miter"/>
<path d="M28.5 539.7V567.9M28.5 539.7H31.9M31.9 535.8V547M31.9 535.8H32.2M32.2 531.2V538.4M32.2 531.2H33.2M33.2 529.9V532.5M33.2 529.9H33.7M33.7 529.3V530.6M33.7 529.3H34.3M33.7 530.6H34.3M33.2 532.5H33.7M33.7 531.9V533.2M33.7 531.9H34.3M33.7 533.2H34.3M32.2 538.4H32.8M32.8 535.8V540.4M32.8 535.8H33.4M33.4 535.2V537.1M33.4 535.2H33.6M33.6 534.5V535.8M33.6 534.5H34.3M33.6 535.8H34.3M33.4 537.1H34.3M32.8 540.4H33.2M33.2 539.1V541.7M33.2 539.1H33.6M33.6 538.4V539.7M33.6 538.4H34.3M33.6 539.7H34.3M33.2 541.7H33.5M33.5 541.1V542.4M33.5 541.1H34.3M33.5 542.4H34.3M31.9 547H33M33 545.7V549.6M33 545.7H33.2M33.2 544.3V547M33.2 544.3H33.5M33.5 543.7V545M33.5 543.7H34.3M33.5 545H34.3M33.2 547H33.5M33.5 546.3V547.6M33.5 546.3H34.3M33.5 547.6H34.3M33 549.6H33.7M33.7 548.9V550.2M33.7 548.9H34.3M33.7 550.2H34.3M28.5 567.9H30.3M30.3 557.5V574.5M30.3 557.5H32.3M32.3 553.5V560.1M32.3 553.5H33.1M33.1 552.2V554.8M33.1 552.2H33.7M33.7 551.6V552.9M33.7 551.6H34.3M33.7 552.9H34.3M33.1 554.8H33.6M33.6 554.2V555.5M33.6 554.2H34.3M33.6 555.5H34.3M32.3 560.1H32.8M32.8 558.1V562M32.8 558.1H33.3M33.3 557.5V559.4M33.3 557.5H33.7M33.7 556.8V558.1M33.7 556.8H34.3M33.7 558.1H34.3M33.3 559.4H34.3M32.8 562H33.4M33.4 560.7V562.7M33.4 560.7H34.3M33.4 562.7H33.7M33.7 562V563.4M33.7 562H34.3M33.7 563.4H34.3M30.3 574.5H31.9M31.9 570.6V581.1M31.9 570.6H32.5M32.5 567.3V573.9M32.5 567.3H33.1M33.1 566V569.3M33.1 566H33.5M33.5 564.7V566.6M33.5 564.7H34.3M33.5 566.6H33.7M33.7 566V567.3M33.7 566H34.3M33.7 567.3H34.3M33.1 569.3H33.6M33.6 568.6V569.9M33.6 568.6H34.3M33.6 569.9H34.3M32.5 573.9H33.2M33.2 572.5V575.8M33.2 572.5H33.5M33.5 571.9V573.9M33.5 571.9H33.7M33.7 571.2V572.5M33.7 571.2H34.3M33.7 572.5H34.3M33.5 573.9H34.3M33.2 575.8H33.5M33.5 575.2V576.5M33.5 575.2H34.3M33.5 576.5H34.3M31.9 581.1H32.8M32.8 578.4V582.4M32.8 578.4H33.6M33.6 577.8V579.1M33.6 577.8H34.3M33.6 579.1H34.3M32.8 582.4H33.3M33.3 581.1V583.7M33.3 581.1H33.6M33.6 580.4V581.7M33.6 580.4H34.3M33.6 581.7H34.3M33.3 583.7H33.6M33.6 583V584.3M33.6 583H34.3M33.6 584.3H34.3M27.3 602.5V624.4M27.3 602.5H30M30 597.4V609.6M30 597.4H31.9M31.9 594.2V601.2M31.9 594.2H32.4M32.4 591.6V595.4M32.4 591.6H33.3M33.3 590.9V592.2M33.3 590.9H34.3M33.3 592.2H34.3M32.4 595.4H32.8M32.8 594.2V596.7M32.8 594.2H33.3M33.3 593.5V594.8M33.3 593.5H34.3M33.3 594.8H34.3M32.8 596.7H33.4M33.4 596.1V597.4M33.4 596.1H34.3M33.4 597.4H34.3M31.9 601.2H32.7M32.7 599.3V602.5M32.7 599.3H33.4M33.4 598.7V599.9M33.4 598.7H34.3M33.4 599.9H34.3M32.7 602.5H33M33 601.2V603.2M33 601.2H34.3M33 603.2H33.5M33.5 602.5V603.8M33.5 602.5H34.3M33.5 603.8H34.3M30 609.6H32.3M32.3 607.7V612.8M32.3 607.7H32.7M32.7 605.7V608.9M32.7 605.7H33.3M33.3 605.1V606.4M33.3 605.1H34.3M33.3 606.4H34.3M32.7 608.9H33.2M33.2 607.7V609.6M33.2 607.7H34.3M33.2 609.6H33.4M33.4 608.9V610.2M33.4 608.9H34.3M33.4 610.2H34.3M32.3 612.8H33.1M33.1 612.2V614.1M33.1 612.2H33.4M33.4 611.5V612.8M33.4 611.5H34.3M33.4 612.8H34.3M33.1 614.1H34.3M27.3 624.4H30.6M30.6 621.1V630.8M30.6 621.1H31.6M31.6 618.6V625M31.6 618.6H32.3M32.3 616V619.9M32.3 616H33.4M33.4 615.4V616.6M33.4 615.4H34.3M33.4 616.6H34.3M32.3 619.9H33M33 618.6V621.1M33 618.6H33.4M33.4 617.9V619.2M33.4 617.9H34.3M33.4 619.2H34.3M33 621.1H33.4M33.4 620.5V621.8M33.4 620.5H34.3M33.4 621.8H34.3M31.6 625H32.9M32.9 623.7V626.3M32.9 623.7H33.3M33.3 623.1V624.4M33.3 623.1H34.3M33.3 624.4H34.3M32.9 626.3H33.5M33.5 625.6V626.9M33.5 625.6H34.3M33.5 626.9H34.3M30.6 630.8H32.7M32.7 629.5V632.7M32.7 629.5H33.2M33.2 628.2V630.1M33.2 628.2H34.3M33.2 630.1H33.4M33.4 629.5V630.8M33.4 629.5H34.3M33.4 630.8H34.3M32.7 632.7H33.5M33.5 632.1V633.4M33.5 632.1H34.3M33.5 633.4H34.3M28.6 644V654M28.6 644H31.8M31.8 642.1V646.7M31.8 642.1H32.1M32.1 640.1V642.7M32.1 640.1H34.3M32.1 642.7H32.7M32.7 642.1V644M32.7 642.1H33M33 641.4V642.7M33 641.4H34.3M33 642.7H34.3M32.7 644H34.3M31.8 646.7H32.9M32.9 646V648M32.9 646H33.1M33.1 645.4V646.7M33.1 645.4H34.3M33.1 646.7H34.3M32.9 648H34.3M28.6 654H31.3M31.3 650.7V656M31.3 650.7H32.6M32.6 650V652M32.6 650H33M33 649.3V650.7M33 649.3H34.3M33 650.7H34.3M32.6 652H34.3M31.3 656H32.4M32.4 654V657.3M32.4 654H32.9M32.9 653.3V654.7M32.9 653.3H34.3M32.9 654.7H34.3M32.4 657.3H32.6M32.6 656V658M32.6 656H34.3M32.6 658H33.1M33.1 657.3V658.6M33.1 657.3H34.3M33.1 658.6H34.3M26.6 679.9V714.7M26.6 679.9H30.8M30.8 674.1V689.5M30.8 674.1H31.6M31.6 670.2V679.9M31.6 670.2H32.3M32.3 666.3V672.1M32.3 666.3H33.3M33.3 665.7V667.6M33.3 665.7H33.6M33.6 665V666.3M33.6 665H34.3M33.6 666.3H34.3M33.3 667.6H34.3M32.3 672.1H33M33 670.2V674.1M33 670.2H33.2M33.2 669.6V671.5M33.2 669.6H33.5M33.5 668.9V670.2M33.5 668.9H34.3M33.5 670.2H34.3M33.2 671.5H34.3M33 674.1H33.2M33.2 673.4V675.4M33.2 673.4H33.5M33.5 672.8V674.1M33.5 672.8H34.3M33.5 674.1H34.3M33.2 675.4H34.3M31.6 679.9H32.7M32.7 677.9V681.8M32.7 677.9H33.2M33.2 677.3V679.2M33.2 677.3H33.5M33.5 676.6V677.9M33.5 676.6H34.3M33.5 677.9H34.3M33.2 679.2H34.3M32.7 681.8H33.4M33.4 681.2V683.1M33.4 681.2H33.7M33.7 680.5V681.8M33.7 680.5H34.3M33.7 681.8H34.3M33.4 683.1H34.3M30.8 689.5H32.2M32.2 686.3V692.1M32.2 686.3H33.1M33.1 685V687.6M33.1 685H33.6M33.6 684.4V685.7M33.6 684.4H34.3M33.6 685.7H34.3M33.1 687.6H33.4M33.4 687V688.2M33.4 687H34.3M33.4 688.2H34.3M32.2 692.1H33.1M33.1 690.2V693.4M33.1 690.2H33.4M33.4 689.5V690.8M33.4 689.5H34.3M33.4 690.8H34.3M33.1 693.4H33.4M33.4 692.1V694M33.4 692.1H34.3M33.4 694H33.6M33.6 693.4V694.7M33.6 693.4H34.3M33.6 694.7H34.3M26.6 714.7H30.1M30.1 706.3V725.6M30.1 706.3H31.1M31.1 698.6V709.5M31.1 698.6H32.8M32.8 696.6V699.8M32.8 696.6H33.5M33.5 696V697.3M33.5 696H34.3M33.5 697.3H34.3M32.8 699.8H33.4M33.4 699.2V701.1M33.4 699.2H33.6M33.6 698.6V699.8M33.6 698.6H34.3M33.6 699.8H34.3M33.4 701.1H34.3M31.1 709.5H32.2M32.2 706.3V714M32.2 706.3H32.4M32.4 705V709.5M32.4 705H33.1M33.1 703.7V706.9M33.1 703.7H33.3M33.3 702.4V704.4M33.3 702.4H34.3M33.3 704.4H33.6M33.6 703.7V705M33.6 703.7H34.3M33.6 705H34.3M33.1 706.9H33.5M33.5 706.3V707.6M33.5 706.3H34.3M33.5 707.6H34.3M32.4 709.5H33.5M33.5 708.9V710.2M33.5 708.9H34.3M33.5 710.2H34.3M32.2 714H33M33 712.7V716M33 712.7H33.3M33.3 712.1V714M33.3 712.1H33.5M33.5 711.4V712.7M33.5 711.4H34.3M33.5 712.7H34.3M33.3 714H34.3M33 716H33.5M33.5 715.3V716.6M33.5 715.3H34.3M33.5 716.6H34.3M30.1 725.6H32M32 720.5V728.8M32 720.5H33.1M33.1 719.2V722.4M33.1 719.2H33.4M33.4 717.9V719.8M33.4 717.9H34.3M33.4 719.8H33.6M33.6 719.2V720.5M33.6 719.2H34.3M33.6 720.5H34.3M33.1 722.4H33.5M33.5 721.8V723M33.5 721.8H34.3M33.5 723H34.3M32 728.8H32.3M32.3 725.6V730.8M32.3 725.6H33.2M33.2 724.3V726.3M33.2 724.3H34.3M33.2 726.3H33.4M33.4 725.6V726.9M33.4 725.6H34.3M33.4 726.9H34.3M32.3 730.8H32.7M32.7 728.8V732.1M32.7 728.8H33.5M33.5 728.2V729.5M33.5 728.2H34.3M33.5 729.5H34.3M32.7 732.1H33.4M33.4 731.4V733.4M33.4 731.4H33.6M33.6 730.8V732.1M33.6 730.8H34.3M33.6 732.1H34.3M33.4 733.4H34.3" fill="none" stroke="#1a1a1a" stroke-width="0.55"/>
<text x="205.2" y="529.3" font-size="1.35" fill="#6a707c">RPS27</text>
<text x="205.2" y="530.3" font-size="1.35" fill="#6a707c">RPL13</text>
<text x="205.2" y="531.3" font-size="1.35" fill="#6a707c">RPS12</text>
<text x="205.2" y="532.2" font-size="1.35" fill="#6a707c">RPL32</text>
<text x="205.2" y="533.2" font-size="1.35" fill="#6a707c">EEF1A1</text>
<text x="205.2" y="534.2" font-size="1.35" fill="#6a707c">RPS3A</text>
<text x="205.2" y="535.2" font-size="1.35" fill="#6a707c">RPL10</text>
<text x="205.2" y="536.2" font-size="1.35" fill="#6a707c">TPT1</text>
<text x="205.2" y="537.1" font-size="1.35" fill="#6a707c">RPS18</text>
<text x="205.2" y="538.1" font-size="1.35" fill="#6a707c">RPL34</text>
<text x="205.2" y="539.1" font-size="1.35" fill="#6a707c">NKG7</text>
<text x="205.2" y="540.1" font-size="1.35" fill="#6a707c">GZMH</text>
<text x="205.2" y="541.1" font-size="1.35" fill="#6a707c">CCL5</text>
<text x="205.2" y="542" font-size="1.35" fill="#6a707c">CST7</text>
<text x="205.2" y="543" font-size="1.35" fill="#6a707c">GZMA</text>
<text x="205.2" y="544" font-size="1.35" fill="#6a707c">PRF1</text>
<text x="205.2" y="545" font-size="1.35" fill="#6a707c">CTSW</text>
<text x="205.2" y="546" font-size="1.35" fill="#6a707c">KLRD1</text>
<text x="205.2" y="546.9" font-size="1.35" fill="#6a707c">FGFBP2</text>
<text x="205.2" y="547.9" font-size="1.35" fill="#6a707c">GNLY</text>
<text x="205.2" y="548.9" font-size="1.35" fill="#6a707c">RPS27</text>
<text x="205.2" y="549.9" font-size="1.35" fill="#6a707c">RPL13</text>
<text x="205.2" y="550.9" font-size="1.35" fill="#6a707c">RPS12</text>
<text x="205.2" y="551.8" font-size="1.35" fill="#6a707c">RPL32</text>
<text x="205.2" y="552.8" font-size="1.35" fill="#6a707c">EEF1A1</text>
<text x="205.2" y="553.8" font-size="1.35" fill="#6a707c">RPS3A</text>
<text x="205.2" y="554.8" font-size="1.35" fill="#6a707c">RPL10</text>
<text x="205.2" y="555.8" font-size="1.35" fill="#6a707c">TPT1</text>
<text x="205.2" y="556.7" font-size="1.35" fill="#6a707c">RPS18</text>
<text x="205.2" y="557.7" font-size="1.35" fill="#6a707c">RPL34</text>
<text x="205.2" y="558.7" font-size="1.35" fill="#6a707c">NKG7</text>
<text x="205.2" y="559.7" font-size="1.35" fill="#6a707c">GZMH</text>
<text x="205.2" y="560.7" font-size="1.35" fill="#6a707c">CCL5</text>
<text x="205.2" y="561.6" font-size="1.35" fill="#6a707c">CST7</text>
<text x="205.2" y="562.6" font-size="1.35" fill="#6a707c">GZMA</text>
<text x="205.2" y="563.6" font-size="1.35" fill="#6a707c">PRF1</text>
<text x="205.2" y="564.6" font-size="1.35" fill="#6a707c">CTSW</text>
<text x="205.2" y="565.6" font-size="1.35" fill="#6a707c">KLRD1</text>
<text x="205.2" y="566.5" font-size="1.35" fill="#6a707c">FGFBP2</text>
<text x="205.2" y="567.5" font-size="1.35" fill="#6a707c">GNLY</text>
<text x="205.2" y="568.5" font-size="1.35" fill="#6a707c">RPS27</text>
<text x="205.2" y="569.5" font-size="1.35" fill="#6a707c">RPL13</text>
<text x="205.2" y="570.5" font-size="1.35" fill="#6a707c">RPS12</text>
<text x="205.2" y="571.4" font-size="1.35" fill="#6a707c">RPL32</text>
<text x="205.2" y="572.4" font-size="1.35" fill="#6a707c">EEF1A1</text>
<text x="205.2" y="573.4" font-size="1.35" fill="#6a707c">RPS3A</text>
<text x="205.2" y="574.4" font-size="1.35" fill="#6a707c">RPL10</text>
<text x="205.2" y="575.4" font-size="1.35" fill="#6a707c">TPT1</text>
<text x="205.2" y="576.3" font-size="1.35" fill="#6a707c">RPS18</text>
<text x="205.2" y="577.3" font-size="1.35" fill="#6a707c">RPL34</text>
<text x="205.2" y="578.3" font-size="1.35" fill="#6a707c">NKG7</text>
<text x="205.2" y="579.3" font-size="1.35" fill="#6a707c">GZMH</text>
<text x="205.2" y="580.3" font-size="1.35" fill="#6a707c">CCL5</text>
<text x="205.2" y="581.2" font-size="1.35" fill="#6a707c">CST7</text>
<text x="205.2" y="582.2" font-size="1.35" fill="#6a707c">GZMA</text>
<text x="205.2" y="583.2" font-size="1.35" fill="#6a707c">PRF1</text>
<text x="205.2" y="584.2" font-size="1.35" fill="#6a707c">CTSW</text>
<text x="205.2" y="585.2" font-size="1.35" fill="#6a707c">KLRD1</text>
<text x="205.2" y="591.1" font-size="1.35" fill="#6a707c">FGFBP2</text>
<text x="205.2" y="592.1" font-size="1.35" fill="#6a707c">GNLY</text>
<text x="205.2" y="593.1" font-size="1.35" fill="#6a707c">RPS27</text>
<text x="205.2" y="594" font-size="1.35" fill="#6a707c">RPL13</text>
<text x="205.2" y="595" font-size="1.35" fill="#6a707c">RPS12</text>
<text x="205.2" y="596" font-size="1.35" fill="#6a707c">RPL32</text>
<text x="205.2" y="597" font-size="1.35" fill="#6a707c">EEF1A1</text>
<text x="205.2" y="598" font-size="1.35" fill="#6a707c">RPS3A</text>
<text x="205.2" y="598.9" font-size="1.35" fill="#6a707c">RPL10</text>
<text x="205.2" y="599.9" font-size="1.35" fill="#6a707c">TPT1</text>
<text x="205.2" y="600.9" font-size="1.35" fill="#6a707c">RPS18</text>
<text x="205.2" y="601.9" font-size="1.35" fill="#6a707c">RPL34</text>
<text x="205.2" y="602.9" font-size="1.35" fill="#6a707c">NKG7</text>
<text x="205.2" y="603.8" font-size="1.35" fill="#6a707c">GZMH</text>
<text x="205.2" y="604.8" font-size="1.35" fill="#6a707c">CCL5</text>
<text x="205.2" y="605.8" font-size="1.35" fill="#6a707c">CST7</text>
<text x="205.2" y="606.8" font-size="1.35" fill="#6a707c">GZMA</text>
<text x="205.2" y="607.8" font-size="1.35" fill="#6a707c">PRF1</text>
<text x="205.2" y="608.7" font-size="1.35" fill="#6a707c">CTSW</text>
<text x="205.2" y="609.7" font-size="1.35" fill="#6a707c">KLRD1</text>
<text x="205.2" y="610.7" font-size="1.35" fill="#6a707c">FGFBP2</text>
<text x="205.2" y="611.7" font-size="1.35" fill="#6a707c">GNLY</text>
<text x="205.2" y="612.7" font-size="1.35" fill="#6a707c">RPS27</text>
<text x="205.2" y="613.6" font-size="1.35" fill="#6a707c">RPL13</text>
<text x="205.2" y="614.6" font-size="1.35" fill="#6a707c">RPS12</text>
<text x="205.2" y="615.6" font-size="1.35" fill="#6a707c">RPL32</text>
<text x="205.2" y="616.6" font-size="1.35" fill="#6a707c">EEF1A1</text>
<text x="205.2" y="617.6" font-size="1.35" fill="#6a707c">RPS3A</text>
<text x="205.2" y="618.5" font-size="1.35" fill="#6a707c">RPL10</text>
<text x="205.2" y="619.5" font-size="1.35" fill="#6a707c">TPT1</text>
<text x="205.2" y="620.5" font-size="1.35" fill="#6a707c">RPS18</text>
<text x="205.2" y="621.5" font-size="1.35" fill="#6a707c">RPL34</text>
<text x="205.2" y="622.5" font-size="1.35" fill="#6a707c">NKG7</text>
<text x="205.2" y="623.4" font-size="1.35" fill="#6a707c">GZMH</text>
<text x="205.2" y="624.4" font-size="1.35" fill="#6a707c">CCL5</text>
<text x="205.2" y="625.4" font-size="1.35" fill="#6a707c">CST7</text>
<text x="205.2" y="626.4" font-size="1.35" fill="#6a707c">GZMA</text>
<text x="205.2" y="627.4" font-size="1.35" fill="#6a707c">PRF1</text>
<text x="205.2" y="628.3" font-size="1.35" fill="#6a707c">CTSW</text>
<text x="205.2" y="629.3" font-size="1.35" fill="#6a707c">KLRD1</text>
<text x="205.2" y="630.3" font-size="1.35" fill="#6a707c">FGFBP2</text>
<text x="205.2" y="631.3" font-size="1.35" fill="#6a707c">GNLY</text>
<text x="205.2" y="632.3" font-size="1.35" fill="#6a707c">RPS27</text>
<text x="205.2" y="633.2" font-size="1.35" fill="#6a707c">RPL13</text>
<text x="205.2" y="634.2" font-size="1.35" fill="#6a707c">RPS12</text>
<text x="205.2" y="640.2" font-size="1.35" fill="#6a707c">RPL32</text>
<text x="205.2" y="641.2" font-size="1.35" fill="#6a707c">EEF1A1</text>
<text x="205.2" y="642.2" font-size="1.35" fill="#6a707c">RPS3A</text>
<text x="205.2" y="643.1" font-size="1.35" fill="#6a707c">RPL10</text>
<text x="205.2" y="644.1" font-size="1.35" fill="#6a707c">TPT1</text>
<text x="205.2" y="645.1" font-size="1.35" fill="#6a707c">RPS18</text>
<text x="205.2" y="646.1" font-size="1.35" fill="#6a707c">RPL34</text>
<text x="205.2" y="647.1" font-size="1.35" fill="#6a707c">NKG7</text>
<text x="205.2" y="648" font-size="1.35" fill="#6a707c">GZMH</text>
<text x="205.2" y="649" font-size="1.35" fill="#6a707c">CCL5</text>
<text x="205.2" y="650" font-size="1.35" fill="#6a707c">CST7</text>
<text x="205.2" y="651" font-size="1.35" fill="#6a707c">GZMA</text>
<text x="205.2" y="652" font-size="1.35" fill="#6a707c">PRF1</text>
<text x="205.2" y="652.9" font-size="1.35" fill="#6a707c">CTSW</text>
<text x="205.2" y="653.9" font-size="1.35" fill="#6a707c">KLRD1</text>
<text x="205.2" y="654.9" font-size="1.35" fill="#6a707c">FGFBP2</text>
<text x="205.2" y="655.9" font-size="1.35" fill="#6a707c">GNLY</text>
<text x="205.2" y="656.9" font-size="1.35" fill="#6a707c">RPS27</text>
<text x="205.2" y="657.8" font-size="1.35" fill="#6a707c">RPL13</text>
<text x="205.2" y="658.8" font-size="1.35" fill="#6a707c">RPS12</text>
<text x="205.2" y="665.2" font-size="1.35" fill="#6a707c">RPL32</text>
<text x="205.2" y="666.2" font-size="1.35" fill="#6a707c">EEF1A1</text>
<text x="205.2" y="667.2" font-size="1.35" fill="#6a707c">RPS3A</text>
<text x="205.2" y="668.1" font-size="1.35" fill="#6a707c">RPL10</text>
<text x="205.2" y="669.1" font-size="1.35" fill="#6a707c">TPT1</text>
<text x="205.2" y="670.1" font-size="1.35" fill="#6a707c">RPS18</text>
<text x="205.2" y="671.1" font-size="1.35" fill="#6a707c">RPL34</text>
<text x="205.2" y="672.1" font-size="1.35" fill="#6a707c">NKG7</text>
<text x="205.2" y="673" font-size="1.35" fill="#6a707c">GZMH</text>
<text x="205.2" y="674" font-size="1.35" fill="#6a707c">CCL5</text>
<text x="205.2" y="675" font-size="1.35" fill="#6a707c">CST7</text>
<text x="205.2" y="676" font-size="1.35" fill="#6a707c">GZMA</text>
<text x="205.2" y="677" font-size="1.35" fill="#6a707c">PRF1</text>
<text x="205.2" y="677.9" font-size="1.35" fill="#6a707c">CTSW</text>
<text x="205.2" y="678.9" font-size="1.35" fill="#6a707c">KLRD1</text>
<text x="205.2" y="679.9" font-size="1.35" fill="#6a707c">FGFBP2</text>
<text x="205.2" y="680.9" font-size="1.35" fill="#6a707c">GNLY</text>
<text x="205.2" y="681.9" font-size="1.35" fill="#6a707c">RPS27</text>
<text x="205.2" y="682.8" font-size="1.35" fill="#6a707c">RPL13</text>
<text x="205.2" y="683.8" font-size="1.35" fill="#6a707c">RPS12</text>
<text x="205.2" y="684.8" font-size="1.35" fill="#6a707c">RPL32</text>
<text x="205.2" y="685.8" font-size="1.35" fill="#6a707c">EEF1A1</text>
<text x="205.2" y="686.8" font-size="1.35" fill="#6a707c">RPS3A</text>
<text x="205.2" y="687.7" font-size="1.35" fill="#6a707c">RPL10</text>
<text x="205.2" y="688.7" font-size="1.35" fill="#6a707c">TPT1</text>
<text x="205.2" y="689.7" font-size="1.35" fill="#6a707c">RPS18</text>
<text x="205.2" y="690.7" font-size="1.35" fill="#6a707c">RPL34</text>
<text x="205.2" y="691.7" font-size="1.35" fill="#6a707c">NKG7</text>
<text x="205.2" y="692.6" font-size="1.35" fill="#6a707c">GZMH</text>
<text x="205.2" y="693.6" font-size="1.35" fill="#6a707c">CCL5</text>
<text x="205.2" y="694.6" font-size="1.35" fill="#6a707c">CST7</text>
<text x="205.2" y="695.6" font-size="1.35" fill="#6a707c">GZMA</text>
<text x="205.2" y="696.6" font-size="1.35" fill="#6a707c">PRF1</text>
<text x="205.2" y="697.5" font-size="1.35" fill="#6a707c">CTSW</text>
<text x="205.2" y="698.5" font-size="1.35" fill="#6a707c">KLRD1</text>
<text x="205.2" y="699.5" font-size="1.35" fill="#6a707c">FGFBP2</text>
<text x="205.2" y="700.5" font-size="1.35" fill="#6a707c">GNLY</text>
<text x="205.2" y="701.5" font-size="1.35" fill="#6a707c">RPS27</text>
<text x="205.2" y="702.4" font-size="1.35" fill="#6a707c">RPL13</text>
<text x="205.2" y="703.4" font-size="1.35" fill="#6a707c">RPS12</text>
<text x="205.2" y="704.4" font-size="1.35" fill="#6a707c">RPL32</text>
<text x="205.2" y="705.4" font-size="1.35" fill="#6a707c">EEF1A1</text>
<text x="205.2" y="706.4" font-size="1.35" fill="#6a707c">RPS3A</text>
<text x="205.2" y="707.3" font-size="1.35" fill="#6a707c">RPL10</text>
<text x="205.2" y="708.3" font-size="1.35" fill="#6a707c">TPT1</text>
<text x="205.2" y="709.3" font-size="1.35" fill="#6a707c">RPS18</text>
<text x="205.2" y="710.3" font-size="1.35" fill="#6a707c">RPL34</text>
<text x="205.2" y="711.3" font-size="1.35" fill="#6a707c">NKG7</text>
<text x="205.2" y="712.2" font-size="1.35" fill="#6a707c">GZMH</text>
<text x="205.2" y="713.2" font-size="1.35" fill="#6a707c">CCL5</text>
<text x="205.2" y="714.2" font-size="1.35" fill="#6a707c">CST7</text>
<text x="205.2" y="715.2" font-size="1.35" fill="#6a707c">GZMA</text>
<text x="205.2" y="716.2" font-size="1.35" fill="#6a707c">PRF1</text>
<text x="205.2" y="717.1" font-size="1.35" fill="#6a707c">CTSW</text>
<text x="205.2" y="718.1" font-size="1.35" fill="#6a707c">KLRD1</text>
<text x="205.2" y="719.1" font-size="1.35" fill="#6a707c">FGFBP2</text>
<text x="205.2" y="720.1" font-size="1.35" fill="#6a707c">GNLY</text>
<text x="205.2" y="721.1" font-size="1.35" fill="#6a707c">RPS27</text>
<text x="205.2" y="722" font-size="1.35" fill="#6a707c">RPL13</text>
<text x="205.2" y="723" font-size="1.35" fill="#6a707c">RPS12</text>
<text x="205.2" y="724" font-size="1.35" fill="#6a707c">RPL32</text>
<text x="205.2" y="725" font-size="1.35" fill="#6a707c">EEF1A1</text>
<text x="205.2" y="726" font-size="1.35" fill="#6a707c">RPS3A</text>
<text x="205.2" y="726.9" font-size="1.35" fill="#6a707c">RPL10</text>
<text x="205.2" y="727.9" font-size="1.35" fill="#6a707c">TPT1</text>
<text x="205.2" y="728.9" font-size="1.35" fill="#6a707c">RPS18</text>
<text x="205.2" y="729.9" font-size="1.35" fill="#6a707c">RPL34</text>
<text x="205.2" y="730.9" font-size="1.35" fill="#6a707c">NKG7</text>
<text x="205.2" y="731.8" font-size="1.35" fill="#6a707c">GZMH</text>
<text x="205.2" y="732.8" font-size="1.35" fill="#6a707c">CCL5</text>
<text x="205.2" y="733.8" font-size="1.35" fill="#6a707c">CST7</text>
<text x="224.7" y="537.7" font-size="8.5" fill="#050505">ribosome biogenesis</text>
<text x="224.7" y="547.6" font-size="8.5" fill="#050505">ribosome assembly</text>
<text x="224.7" y="557.9" font-size="8.5" fill="#050505">rRNA processing</text>
<text x="224.7" y="567.9" font-size="8.5" fill="#050505">rRNA metabolic process</text>
<text x="224.7" y="593" font-size="8.5" fill="#050505">regulation of T cell activation</text>
<text x="224.7" y="603" font-size="8.5" fill="#050505">positive regulation of T cell activation</text>
<text x="224.7" y="613.1" font-size="8.5" fill="#050505">regulation of leukocyte cell-cell adhesion</text>
<text x="224.7" y="623.2" font-size="8.5" fill="#050505">lymphocyte proliferation</text>
<text x="224.7" y="645.5" font-size="8.5" fill="#050505">cell killing</text>
<text x="224.7" y="655.7" font-size="8.5" fill="#050505">lymphocyte mediated immunity</text>
<text x="224.7" y="665.8" font-size="8.5" fill="#050505">cytolysis</text>
<text x="224.7" y="675.7" font-size="8.5" fill="#050505">T cell mediated cytotoxicity</text>
<text x="224.7" y="694.6" font-size="8.5" fill="#050505">regulation of I-kappaB kinase/NF-kappaB signaling</text>
<text x="224.7" y="704.9" font-size="8.5" fill="#050505">positive regulation of interleukin-17 production</text>
<text x="224.7" y="714.9" font-size="8.5" fill="#050505">T cell cytokine production</text>
<text x="224.7" y="725.2" font-size="8.5" fill="#050505">negative regulation of phosphorylation</text>
<path d="M228 527.8H357" stroke="#222" stroke-width="0.7" stroke-dasharray="8 1.3 4 1.3" fill="none"/>
<path d="M228 581.6H357" stroke="#222" stroke-width="0.7" stroke-dasharray="8 1.3 4 1.3" fill="none"/>
<path d="M228 631.9H357" stroke="#222" stroke-width="0.7" stroke-dasharray="8 1.3 4 1.3" fill="none"/>
<path d="M228 681.7H357" stroke="#222" stroke-width="0.7" stroke-dasharray="8 1.3 4 1.3" fill="none"/>
<path d="M228 731.5H357" stroke="#222" stroke-width="0.7" stroke-dasharray="8 1.3 4 1.3" fill="none"/>
<linearGradient id="ge" x1="0" y1="0" x2="0" y2="1"><stop offset="0" stop-color="#CF364B"/><stop offset="0.5" stop-color="#fff"/><stop offset="1" stop-color="#383A8A"/></linearGradient>
<rect x="369.2" y="517.9" width="4.7" height="69.8" fill="url(#ge)"/>
<text x="375.2" y="519.8" font-size="4.2" fill="#222">3</text>
<text x="375.2" y="531.3" font-size="4.2" fill="#222">2</text>
<text x="375.2" y="542.9" font-size="4.2" fill="#222">1</text>
<text x="375.2" y="554.5" font-size="4.2" fill="#222">0</text>
<text x="375.2" y="566.1" font-size="4.2" fill="#222">−1</text>
<text x="375.2" y="577.6" font-size="4.2" fill="#222">−2</text>
<text x="375.2" y="589.2" font-size="4.2" fill="#222">−3</text>
<text x="412.6" y="490" font-size="12" font-weight="bold">F</text>
<g fill="none" stroke-linecap="round">
<path transform="scale(0.25)" d="M1905 2083h0m24 27h0m-28 0h0m-28-3h0m-6 3h0m-6-4h0m3 7h0m13 8h0m36 1h0m-77 11h0m-20 13h0m1-1h0m15-3h0m16 2h0m62 5h0m-40-1h0m-18 0h0m-35 11h0m-1-11h0m-2 11h0m-1-7h0m-1-3h0m0 4h0m0 4h0m-1-7h0m-3 0h0m-1 0h0m-9 2h0m-2 5h0m-5 3h0m20 0h0m8 1h0m39 0h0m45 0h0m21 0h0m9 12h0m-5 0h0m-32 0h0m-55 0h0m-24 0h0m0 0h0m-4 0h0m-6 0h0m-6 0h0m-4 0h0m-1 0h0m-2 0h0m0 0h0m-1 0h0m-3 18h0m1 0h0m2 0h0m1 0h0m0 0h0m0 0h0m0 0h0m2 0h0m1 0h0m0 0h0m1 0h0m1 0h0m0 0h0m1 0h0m0 0h0m0 0h0m0 0h0m1 0h0m0 0h0m2 0h0m0 0h0m1 0h0m2 0h0m2 0h0m0 0h0m1 0h0m0 0h0m0 0h0m0 0h0m1 0h0m2 0h0m0 0h0m0 0h0m0 0h0m1 0h0m0 0h0m1 0h0m3 0h0m0 0h0m0 0h0m1 0h0m0 0h0m2 0h0m6 0h0m1 0h0m1 0h0m2 0h0m3 0h0m3 0h0m8 0h0m2 0h0m0 0h0m2 0h0m0 0h0m2 0h0m3 0h0m8 0h0m2 0h0m2 0h0m6 0h0m5 0h0m1 0h0m9 0h0m5 0h0m12 0h0m2 0h0m0 0h0m6 0h0m1 0h0m2 0h0m1 0h0m7 0h0m2 0h0m0 0h0m8 29h0m-1 0h0m-1 0h0m-4 0h0m-1 0h0m-2 0h0m-1 0h0m0 0h0m-1 0h0m0 0h0m-2 0h0m-1 0h0m-1 0h0m-2 0h0m-8 0h0m-3 0h0m-1 0h0m0 0h0m0 0h0m-2 0h0m-2 0h0m-1 0h0m-1 0h0m-1 0h0m-2 0h0m-1 0h0m0 0h0m-4 0h0m0 0h0m0 0h0m-1 0h0m-3 0h0m-2 0h0m-2 0h0m-3 0h0m-7 0h0m0 0h0m0 0h0m-1 0h0m-1 0h0m-1 0h0m-1 0h0m-2 0h0m-1 0h0m0 0h0m-3 0h0m-1 0h0m0 0h0m-3 0h0m0 0h0m-6 0h0m-1 0h0m0 0h0m0 0h0m-5 0h0m-1 0h0m-1 0h0m-3 0h0m0 0h0m0 0h0m-2 0h0m0 0h0m-1 0h0m-1 0h0m-1 0h0m0 0h0m0 0h0m-1 0h0m0 0h0m-1 0h0m-1 0h0m-2 0h0m-1 0h0m0 0h0m0 0h0m-1 0h0m-1 0h0m-1 0h0m0 0h0m-1 0h0m-2 0h0m0 0h0m-4 0h0m0 0h0m-1 0h0m0 0h0m-1 0h0m0 0h0m-1 0h0m0 0h0m-1 0h0m0 0h0m0 0h0m0 0h0m-1 0h0m0 0h0m-1 0h0m0 0h0m0 0h0m-1 0h0m0 0h0m0 0h0m-1 0h0m0 0h0m-1 0h0m0 0h0m0 0h0m0 0h0m0 0h0m-1 0h0m0 0h0m0 0h0m-1 0h0m0 0h0m0 0h0m0 0h0m0 0h0m0 0h0m0 0h0m-1 0h0m0 0h0m0 0h0m-1 0h0m0 0h0m0 0h0m-1 0h0m0 0h0m0 0h0m0 0h0m0 0h0m-1 0h0m-1 0h0m0 0h0m0 0h0m-1 0h0m0 0h0m-1 0h0m0 0h0m0 0h0m0 0h0m0 0h0m-1 0h0m-1 0h0m0 0h0m0 0h0m0 0h0m0 0h0m0 0h0m-2 0h0m0 0h0m-1 0h0m0 0h0m0 0h0m0 0h0m0 0h0m-1 0h0m0 0h0m0 0h0m0 0h0m-1 0h0m0 0h0m0 0h0m0 0h0m-1 0h0m0 0h0m-1 0h0m0 0h0m0 0h0m0 0h0m0 0h0m-1 0h0m0 0h0m0 0h0m0 0h0m-1 0h0m0 0h0m-1 0h0" stroke="#B356B2" stroke-width="9"/>
<path transform="scale(0.25)" d="M2038 2026h0m1 1h0m8-4h0m5 3h0m17 5h0m-8-2h0m-3 3h0m-4 6h0m-4-7h0m-3 4h0m-3-2h0m-1 6h0m-1-8h0m-13 5h0m-26 15h0m0-6h0m16 6h0m3-10h0m3 3h0m8 6h0m12-6h0m9 6h0m2-7h0m1 2h0m4 2h0m4-7h0m1 1h0m5 5h0m2-1h0m15 6h0m67 12h0m-7-3h0m-2-6h0m0 1h0m-3 3h0m-4 0h0m-2 2h0m0 0h0m-3-5h0m-6 4h0m-47-3h0m-8-3h0m-1 8h0m-7-9h0m-4 2h0m-3 0h0m-2-2h0m-1 2h0m-1-2h0m-3 4h0m-2 7h0m-2-8h0m-5 0h0m-18 2h0m-4 2h0m-3 4h0m-1-8h0m-4 6h0m-7-2h0m-10 3h0m0-6h0m-3 7h0m-4-5h0m-14 2h0m-40-1h0m22 15h0m13-8h0m10 6h0m12 2h0m3-9h0m8 10h0m6-11h0m3 7h0m16-5h0m10-1h0m1 6h0m5 1h0m1-3h0m0 0h0m0-3h0m1 0h0m5 7h0m1-2h0m6-1h0m8 3h0m4 2h0m3-5h0m1-2h0m12 1h0m0 1h0m26 1h0m6 4h0m12-2h0m2-6h0m0 2h0m3-3h0m1 6h0m0-6h0m5 7h0m0-5h0m3-3h0m3 6h0m0 0h0m2-5h0m5 2h0m5-3h0m3 7h0m0-2h0m13 6h0m-4 5h0m-6 6h0m-8-3h0m-1-2h0m-6-6h0m-7 4h0m-2 7h0m0-10h0m-2 3h0m-1 7h0m-1-5h0m0 5h0m-5-9h0m-1 7h0m0-2h0m-1 1h0m-6-7h0m-2 1h0m-3 1h0m-6-1h0m-31 8h0m-7-2h0m-4-8h0m-2 3h0m-7-2h0m-1-1h0m-2 5h0m-3 4h0m-5-2h0m-5-5h0m-1 3h0m-15-3h0m-10-1h0m0 2h0m0-1h0m-12 2h0m0-4h0m-5 8h0m-17 0h0m-79 10h0m11-4h0m7 3h0m8 2h0m37-2h0m25-2h0m9-1h0m9 7h0m0-9h0m6 0h0m5 3h0m0 0h0m0 3h0m3-2h0m2 1h0m9-4h0m7 9h0m3-8h0m2 3h0m4-4h0m6 2h0m1-1h0m3 4h0m1-2h0m1 0h0m1 4h0m12 2h0m8-6h0m30 5h0m0-8h0m1 2h0m1 0h0m1-2h0m1 7h0m5-1h0m6-5h0m1 1h0m6-1h0m1-2h0m5 6h0m4 5h0m5-1h0m1-10h0m2 3h0m3-3h0m2 10h0m2-7h0m2-1h0m-2 17h0m-1-2h0m-15 5h0m-4-9h0m-4 10h0m-5 0h0m-7-4h0m0 0h0m-3-2h0m-3 2h0m-4-7h0m-32 6h0m-9-3h0m-11 8h0m0-8h0m-4-1h0m-4-1h0m-7 9h0m0-4h0m-1 5h0m-5-4h0m-4 1h0m-4-3h0m-2-4h0m0 1h0m-1 9h0m-1-8h0m-1-1h0m-5 0h0m-1 9h0m-5-5h0m-3 4h0m-4-3h0m-11-1h0m0 4h0m-1-8h0m-7 3h0m-1 0h0m-3-5h0m-2 0h0m-3 10h0m-19-9h0m-3 4h0m-15-2h0m-9 1h0m-1 2h0m0-6h0m-25 10h0m-6 0h0m26 6h0m18-4h0m14 7h0m10-2h0m11-4h0m3 0h0m2 3h0m5-3h0m8 0h0m7 3h0m0 7h0m1 0h0m2-10h0m0 5h0m6 4h0m2-4h0m2-1h0m2 1h0m2 1h0m5 1h0m1 2h0m4-8h0m1 0h0m2 0h0m2 3h0m0 2h0m0-2h0m1 3h0m2 0h0m2-6h0m0 7h0m7-4h0m5-3h0m0 4h0m9-4h0m1 9h0m3-1h0m2-8h0m1 9h0m2-3h0m4 2h0m2-5h0m0 6h0m6-5h0m18 2h0m3-1h0m1-7h0m9 11h0m6-1h0m3-9h0m1 6h0m1-2h0m2-4h0m1 9h0m5-4h0m0 1h0m0 3h0m1-3h0m2-3h0m1-2h0m4 7h0m3-2h0m2-2h0m1 5h0m5-6h0m1-1h0m2-2h0m2 1h0m1 7h0m1 2h0m8-5h0m0 2h0m-1 9h0m-5-2h0m-3 3h0m0 0h0m-2 0h0m-1-5h0m-2 9h0m-1-1h0m0 2h0m-5-9h0m-1 5h0m-3 3h0m0-7h0m-1 6h0m-4 2h0m-2-3h0m-1-4h0m-1-3h0m-1 8h0m-8 1h0m-1-1h0m0-7h0m0 2h0m-1 3h0m0 3h0m-3-2h0m-4 1h0m-1 2h0m-4-10h0m-3 7h0m-1 2h0m0-3h0m-2-5h0m-28 5h0m-2 4h0m-5-5h0m0 0h0m-1 4h0m-5-10h0m0 11h0m-1 0h0m-2-3h0m-11-3h0m-5 1h0m-2-2h0m-4-1h0m-2-2h0m-3 4h0m-3 2h0m-1 0h0m-3 4h0m-5-6h0m-3 4h0m-3 0h0m-3-3h0m-1 5h0m-8-3h0m-2 0h0m-2 0h0m-1 1h0m-5-7h0m-33 8h0m-59 6h0m3 5h0m14-3h0m6-3h0m48 2h0m3 1h0m0 5h0m10-8h0m1 1h0m3 6h0m1-9h0m0 3h0m2 2h0m0 2h0m3 2h0m4 1h0m1-3h0m3-4h0m0 3h0m2 2h0m3-9h0m1 2h0m0 8h0m1-9h0m0 8h0m0-9h0m1 4h0m1-3h0m0-1h0m2 10h0m1-4h0m2-4h0m0 0h0m8 7h0m1 1h0m2-4h0m1 0h0m1 0h0m2-3h0m1 1h0m3 3h0m3 3h0m0 1h0m0 0h0m3-4h0m4 3h0m2-9h0m6 10h0m2-10h0m2 2h0m1 3h0m4-3h0m0 2h0m0 3h0m0 1h0m6-6h0m3 8h0m0-11h0m8 2h0m0 6h0m2-2h0m19-1h0m0-5h0m2 8h0m1-7h0m1 2h0m2-2h0m6 9h0m1-10h0m1 10h0m3 1h0m1-6h0m2 3h0m0 1h0m1-8h0m3-1h0m1 10h0m2 1h0m2-4h0m2-6h0m1-1h0m3 11h0m1 0h0m0-7h0m2 7h0m8-4h0m1-6h0m4-1h0m0 7h0m4 3h0m1-4h0m1-3h0m3 4h0m1-5h0m4 5h0m21 13h0m-1 0h0m-12 0h0m-7 2h0m-1-5h0m0 0h0m-1 2h0m-3 1h0m-1-4h0m-1 4h0m0-4h0m-1 2h0m-1 5h0m0-9h0m-2 5h0m0-7h0m-1 3h0m0 6h0m-1 2h0m-1-1h0m0 1h0m0-5h0m-1 0h0m0-4h0m-1 7h0m0 1h0m-1-1h0m-1 2h0m-3-2h0m-1-1h0m0-5h0m0 3h0m-1-6h0m0 11h0m0-1h0m-2-5h0m-1 0h0m0-2h0m-2-2h0m-1 2h0m-1 8h0m0 0h0m0 0h0m0 0h0m-1-3h0m0 3h0m-2-11h0m-1 9h0m-1-5h0m0 1h0m-3-4h0m-2 8h0m0-8h0m-1 0h0m-2 7h0m-1 3h0m-2-1h0m0 1h0m-2-2h0m0 2h0m0-8h0m-1 0h0m-2 6h0m0-2h0m0-6h0m-4 3h0m-1 7h0m-1-7h0m0 2h0m-1 1h0m-4 4h0m-2 0h0m-1-3h0m0-4h0m-1 7h0m-20-8h0m-1 3h0m-1-3h0m-1 6h0m-5-3h0m-3 2h0m0 1h0m-2-6h0m-3 8h0m-1-1h0m0-6h0m-3 4h0m-4-8h0m-3 0h0m-2 8h0m-1-1h0m-1 4h0m0-10h0m-1 8h0m-2 1h0m0-7h0m-5 4h0m-1 2h0m0-7h0m0 6h0m-1 0h0m-2-8h0m-1 7h0m-1 4h0m0-10h0m0 8h0m-2-5h0m0 4h0m-2 0h0m-2 3h0m-1-8h0m-1 5h0m0-7h0m-2 9h0m0 1h0m-2-7h0m0 7h0m-1-5h0m-4-6h0m-1 5h0m0-5h0m-1 3h0m0 3h0m-2 1h0m0 0h0m-3-3h0m0 7h0m-2-2h0m-1 2h0m-2-11h0m-1 4h0m0 5h0m-2-7h0m-2 8h0m-1-1h0m-1-4h0m0 6h0m-3-1h0m-2-7h0m-3 5h0m0-5h0m-2 2h0m-1-5h0m-2 4h0m-2 4h0m-2-8h0m-2 6h0m-1 2h0m-2 1h0m0 2h0m-1-9h0m-14 9h0m-16-2h0m-3 2h0m-2 0h0m-4 0h0m0-2h0m-3-4h0m-8 5h0m-1-1h0m-4-6h0m-2 7h0m-6 1h0m-3-2h0m0 4h0m9 0h0m2 0h0m54-1h0m1 1h0m7 0h0m6-1h0m1 0h0m1 1h0m1-1h0m2 1h0m4 0h0m1 0h0m3-1h0m2 1h0m2 0h0m2 0h0m0 0h0m8-1h0m2 0h0m4 0h0m3 0h0m0 0h0m4 0h0m2 1h0m3 0h0m1 0h0m3 0h0m1 0h0m1 0h0m2 0h0m3 0h0m0 0h0m1 0h0m1 0h0m5 0h0m2-1h0m0 1h0m4-1h0m1 1h0m0-1h0m5 0h0m1 0h0m4 0h0m4 1h0m7 0h0m26 0h0m1 0h0m4 0h0m2 0h0m5-1h0m2 1h0m8-1h0m1 1h0m2-1h0m2 0h0m1 0h0m1 1h0m10 0h0m0-1h0m2 0h0m3 1h0m8-1h0m2 1h0m3 0h0m0-1h0m2 1h0m0 0h0m1-1h0m9 1h0m-10 12h0m-1 0h0m-1 0h0m-6 0h0m-1 0h0m-2 0h0m-3 0h0m-6 0h0m-2 0h0m0 0h0m-1 0h0m-1 0h0m-4 0h0m-1 0h0m-8 0h0m-2 0h0m-1 0h0m-2 0h0m-3 0h0m-2 0h0m-2 0h0m-1 0h0m-1 0h0m-1 0h0m-3 0h0m0 0h0m-5 0h0m-25 0h0m-2 0h0m-5 0h0m-9 0h0m-12 0h0m-5 0h0m-1 0h0m-3 0h0m0 0h0m-1 0h0m-1 0h0m0 0h0m0 0h0m0 0h0m-1 0h0m0 0h0m-1 0h0m-9 0h0m-2 0h0m-5 0h0m-1 0h0m-4 0h0m-4 0h0m-3 0h0m-1 0h0m-4 0h0m-1 0h0m-5 0h0m-10 0h0m-8 0h0m-3 0h0m0 0h0m-18 0h0m-16 0h0m-2 0h0m-39 0h0m-2 18h0m6 0h0m4 0h0m2 0h0m1 0h0m3 0h0m7 0h0m6 0h0m4 0h0m3 0h0m4 0h0m1 0h0m1 0h0m0 0h0m0 0h0m2 0h0m4 0h0m4 0h0m4 0h0m1 0h0m1 0h0m2 0h0m4 0h0m2 0h0m3 0h0m3 0h0m2 0h0m6 0h0m3 0h0m5 0h0m4 0h0m5 0h0m3 0h0m6 0h0m2 0h0m0 0h0m1 0h0m5 0h0m2 0h0m1 0h0m2 0h0m7 0h0m1 0h0m1 0h0m1 0h0m15 0h0m18 0h0m14 0h0m29 0h0m5 0h0m7 0h0m0 0h0m5 0h0m7 0h0m1 0h0m0 0h0m0 0h0m2 0h0m2 0h0m1 0h0m2 0h0m0 0h0m1 0h0m6 0h0m5 0h0m7 0h0m2 0h0m4 0h0m9 0h0m6 29h0m-16 0h0m-4 0h0m-11 0h0m0 0h0m-3 0h0m-3 0h0m-2 0h0m-2 0h0m-3 0h0m-5 0h0m-2 0h0m0 0h0m0 0h0m-3 0h0m-2 0h0m-1 0h0m0 0h0m-1 0h0m-2 0h0m0 0h0m-6 0h0m-6 0h0m-5 0h0m0 0h0m-26 0h0m-5 0h0m-2 0h0m0 0h0m-1 0h0m0 0h0m-2 0h0m-4 0h0m-7 0h0m0 0h0m-1 0h0m-5 0h0m-4 0h0m0 0h0m0 0h0m0 0h0m-1 0h0m-4 0h0m-3 0h0m-1 0h0m-3 0h0m0 0h0m0 0h0m-1 0h0m0 0h0m-1 0h0m-2 0h0m-2 0h0m-2 0h0m-1 0h0m0 0h0m-2 0h0m-3 0h0m-1 0h0m-2 0h0m0 0h0m-1 0h0m-21 0h0m-6 0h0m-3 0h0m-9 0h0m-1 0h0m-2 0h0m0 0h0m-4 0h0m-1 0h0m-4 0h0m-2 0h0m-1 0h0m-1 0h0m-1 0h0m-4 0h0m-3 0h0m0 0h0m0 0h0m-5 0h0m-1 0h0m-1 0h0m-1 0h0m-2 0h0m-2 0h0m-2 0h0m-1 0h0m0 0h0m-2 0h0m0 0h0m-3 0h0m-8 0h0m0 0h0m-4 0h0m-3 0h0m-1 0h0m-1 0h0m-5 0h0m-4 0h0m-4 0h0m-1 0h0m-3 0h0m-3 0h0m0 0h0" stroke="#4F66AE" stroke-width="9"/>
<path transform="scale(0.25)" d="M2044 2027h0m23 6h0m-9-4h0m-2 8h0m-49 10h0m70 10h0m0 1h0m-7 3h0m-2-9h0m-15 7h0m-24-6h0m-6 6h0m-11 4h0m-50-2h0m-36 0h0m-19 13h0m20-5h0m16 1h0m12-3h0m54-2h0m10 8h0m32-9h0m3 3h0m6 0h0m13 6h0m5 2h0m6-10h0m50 1h0m2 9h0m7-10h0m1 2h0m31 11h0m-30 5h0m-2 1h0m-62-6h0m-3 9h0m-45 0h0m-13 0h0m-20-9h0m-62 4h0m-33 3h0m-13-5h0m18 16h0m13-1h0m16 0h0m4 0h0m23 1h0m16-8h0m7 7h0m9-1h0m6 5h0m2-10h0m6 5h0m19 2h0m43-2h0m8-5h0m1 9h0m5-9h0m35 1h0m44 7h0m3-3h0m-57 15h0m-29-4h0m-32 6h0m-2-7h0m-44 1h0m-21 1h0m-15 4h0m-12-7h0m-21 7h0m-10-4h0m-7-6h0m-29 2h0m-5 4h0m8 11h0m5-5h0m3 3h0m2 3h0m4-2h0m9 2h0m5-3h0m1 2h0m23-5h0m37 0h0m39 10h0m9 0h0m6-1h0m6 2h0m1-6h0m6-5h0m28 0h0m5 9h0m3-2h0m2 2h0m60-8h0m6 8h0m11 2h0m4-6h0m1 2h0m5 11h0m-30-5h0m-1 2h0m-13-2h0m-1 10h0m-50-6h0m-27-4h0m0 6h0m-2-6h0m-11 4h0m-3 6h0m-8-2h0m-13-3h0m-5 2h0m-19-3h0m-7-2h0m-1 1h0m-76 3h0m-11 16h0m19-4h0m46-5h0m3-2h0m18 6h0m9-4h0m4 3h0m9 1h0m11 1h0m15-5h0m8 8h0m4 1h0m1-10h0m4 8h0m2 2h0m2-7h0m15 6h0m7-7h0m40-3h0m10 2h0m7 2h0m14-4h0m1 8h0m14 1h0m10-4h0m1 4h0m4 12h0m-4 2h0m-10-2h0m-5-1h0m-3 0h0m-5 1h0m-24-4h0m-2 2h0m-2-2h0m-6-1h0m-29-4h0m-13 9h0m-9-6h0m-2-1h0m-9 0h0m-4-1h0m-3 8h0m-21-3h0m-11-4h0m-7 8h0m-1-4h0m-7-1h0m-10 2h0m-6-1h0m-3 4h0m-2-6h0m-9 4h0m-28-1h0m0 4h0m-27-2h0m-13-8h0m-11 7h0m46 5h0m13-1h0m15 1h0m4 0h0m29-1h0m15 0h0m6 0h0m0 1h0m38-1h0m6 0h0m16 0h0m13 1h0m30 0h0m6-1h0m49 1h0m2 12h0m-19 0h0m0 0h0m-9 0h0m-6 0h0m-1 0h0m-8 0h0m-10 0h0m-3 0h0m-11 0h0m-23 0h0m-2 0h0m-1 0h0m-7 0h0m-11 0h0m-2 0h0m-7 0h0m-8 0h0m0 0h0m-18 0h0m-5 0h0m-4 0h0m-11 0h0m-9 0h0m-2 0h0m-1 0h0m-10 0h0m-2 0h0m-2 0h0m-7 0h0m-4 0h0m-1 0h0m-1 0h0m-6 0h0m0 0h0m-24 0h0m-2 0h0m-20 0h0m-4 0h0m-4 0h0m-1 0h0m-1 0h0m-4 0h0m-8 0h0m-10 18h0m1 0h0m3 0h0m1 0h0m4 0h0m0 0h0m3 0h0m2 0h0m0 0h0m0 0h0m2 0h0m0 0h0m0 0h0m5 0h0m1 0h0m0 0h0m2 0h0m2 0h0m2 0h0m0 0h0m1 0h0m2 0h0m2 0h0m4 0h0m1 0h0m0 0h0m1 0h0m2 0h0m0 0h0m2 0h0m3 0h0m1 0h0m2 0h0m0 0h0m1 0h0m0 0h0m2 0h0m1 0h0m0 0h0m2 0h0m4 0h0m1 0h0m0 0h0m1 0h0m2 0h0m5 0h0m1 0h0m0 0h0m1 0h0m4 0h0m5 0h0m0 0h0m4 0h0m4 0h0m3 0h0m4 0h0m1 0h0m0 0h0m2 0h0m11 0h0m12 0h0m3 0h0m3 0h0m5 0h0m8 0h0m4 0h0m4 0h0m2 0h0m2 0h0m1 0h0m13 0h0m1 0h0m4 0h0m1 0h0m5 0h0m0 0h0m1 0h0m2 0h0m3 0h0m1 0h0m2 0h0m1 0h0m4 0h0m6 0h0m0 0h0m5 0h0m20 0h0m0 0h0m5 0h0m3 0h0m1 0h0m3 0h0m11 0h0m8 0h0m2 0h0m8 0h0m9 0h0m3 0h0m5 0h0m5 0h0m7 29h0m-2 0h0m-1 0h0m0 0h0m-3 0h0m-1 0h0m-3 0h0m-3 0h0m-1 0h0m-6 0h0m-2 0h0m-1 0h0m0 0h0m-3 0h0m-1 0h0m-1 0h0m0 0h0m0 0h0m-2 0h0m-1 0h0m-1 0h0m-1 0h0m0 0h0m-2 0h0m-2 0h0m0 0h0m-1 0h0m0 0h0m-2 0h0m-3 0h0m-1 0h0m0 0h0m-1 0h0m0 0h0m-3 0h0m-4 0h0m-2 0h0m0 0h0m-3 0h0m0 0h0m0 0h0m-3 0h0m-3 0h0m-1 0h0m-1 0h0m-1 0h0m-2 0h0m-1 0h0m-2 0h0m-18 0h0m-1 0h0m-5 0h0m-1 0h0m0 0h0m0 0h0m-2 0h0m-6 0h0m-7 0h0m-1 0h0m-1 0h0m0 0h0m-1 0h0m-3 0h0m-2 0h0m-3 0h0m-4 0h0m-3 0h0m-2 0h0m0 0h0m-3 0h0m0 0h0m0 0h0m0 0h0m-1 0h0m-1 0h0m-3 0h0m-1 0h0m0 0h0m-2 0h0m-1 0h0m-2 0h0m-1 0h0m-1 0h0m-3 0h0m-2 0h0m-1 0h0m-1 0h0m-1 0h0m-3 0h0m-2 0h0m0 0h0m-3 0h0m0 0h0m-1 0h0m-3 0h0m-1 0h0m-2 0h0m-3 0h0m0 0h0m-7 0h0m0 0h0m-2 0h0m-1 0h0m0 0h0m-6 0h0m0 0h0m-1 0h0m-1 0h0m-2 0h0m-2 0h0m0 0h0m-1 0h0m-1 0h0m-1 0h0m0 0h0m-1 0h0m-1 0h0m0 0h0m-1 0h0m-2 0h0m-1 0h0m0 0h0m-1 0h0m0 0h0m-1 0h0m-3 0h0m-1 0h0m-3 0h0m-1 0h0m-1 0h0m-1 0h0m0 0h0m-1 0h0m-2 0h0m-3 0h0m-1 0h0m-1 0h0m0 0h0m-1 0h0m-3 0h0m-1 0h0m-1 0h0m-1 0h0m-1 0h0m0 0h0m-1 0h0m-1 0h0m-1 0h0m-1 0h0m-2 0h0m-4 0h0m-1 0h0m-1 0h0m0 0h0m0 0h0m-1 0h0m-3 0h0m-2 0h0m-2 0h0m-1 0h0m-1 0h0m-1 0h0m-1 0h0m0 0h0m-2 0h0m0 0h0m0 0h0m0 0h0m-2 0h0m-2 0h0m-1 0h0m-1 0h0m-1 0h0m-1 0h0m-2 0h0m-3 0h0m-1 0h0m-3 0h0m-2 0h0m-1 0h0m-4 0h0m-3 0h0m-2 0h0m-1 0h0m-1 0h0m-1 0h0" stroke="#56A6CE" stroke-width="9"/>
<path transform="scale(0.25)" d="M2040 2025h0m15 2h0m2-6h0m16 14h0m-2 1h0m-11-1h0m-16 3h0m-3-10h0m0 3h0m-9 7h0m0-1h0m-2-6h0m-2 8h0m-1 0h0m-1-6h0m-31 16h0m5-4h0m5 3h0m2 0h0m1-4h0m7-3h0m1 10h0m0 0h0m6-7h0m2 1h0m0-2h0m5-3h0m0 2h0m3-2h0m2 0h0m3 4h0m9-3h0m2-1h0m1 1h0m0 10h0m2-8h0m4 0h0m9 0h0m1 8h0m11-2h0m4 1h0m65 0h0m4-2h0m11 11h0m-6-4h0m-15 5h0m-2-6h0m-1 9h0m0-3h0m-5 1h0m-2-4h0m-5 6h0m-37-11h0m-2 1h0m-2 3h0m-2 5h0m-3-1h0m-6 2h0m-5-5h0m-4-3h0m-7 1h0m-2 4h0m-4 1h0m-2-6h0m-1 3h0m-4 0h0m-1-1h0m-4-1h0m-2 8h0m-1-3h0m0 1h0m-1-2h0m-2-3h0m-4 1h0m0-3h0m-11 6h0m-5-1h0m-3-3h0m-5 6h0m-2-9h0m-6 10h0m-4-4h0m-54 2h0m-30 8h0m8 5h0m68-9h0m12 7h0m3-3h0m2 5h0m3 0h0m1 1h0m0 0h0m1-1h0m1 1h0m11 0h0m1-7h0m0 7h0m0-9h0m1 5h0m0-7h0m1 2h0m6 7h0m7-2h0m4 2h0m2 1h0m3-2h0m1-4h0m1 1h0m7-4h0m1 2h0m5-3h0m1 1h0m1 6h0m1 3h0m3-2h0m4-4h0m7-3h0m5 10h0m5-4h0m4 4h0m3-1h0m19 0h0m9-5h0m6 0h0m2-2h0m1 6h0m5-7h0m6 8h0m2-6h0m1-3h0m1 8h0m0-4h0m4-2h0m1-3h0m6 10h0m5-6h0m7-2h0m1 8h0m7 1h0m-5 11h0m-2-8h0m-2 2h0m-1 1h0m0-3h0m-9 2h0m-1 4h0m-5 0h0m-11-7h0m-3 10h0m-2-4h0m-2 4h0m-1-4h0m-2-5h0m0-2h0m-2 1h0m-4 9h0m-1-9h0m-2 8h0m-1-4h0m-10 4h0m-20-8h0m-2 8h0m-4-4h0m-3 3h0m-4-2h0m-3-2h0m0 5h0m-6 1h0m0-10h0m-2 2h0m0 7h0m-5 0h0m-7-5h0m-1 2h0m-4 2h0m-5-1h0m-1-2h0m0-4h0m-7 5h0m-4 3h0m-3-2h0m-2 0h0m-2 3h0m-22 0h0m-1-7h0m-1 3h0m-11-4h0m-5 3h0m-7 0h0m-40-2h0m-22 7h0m-5 4h0m2 1h0m5 1h0m38 0h0m18 2h0m1-6h0m11 4h0m1 0h0m2 2h0m1-3h0m4 2h0m2-3h0m1 6h0m11 2h0m4 0h0m8-8h0m4 1h0m3-2h0m0 9h0m4-4h0m12 5h0m1 0h0m4 0h0m1-6h0m0 4h0m2 0h0m4 0h0m3-1h0m3-1h0m3-7h0m2 7h0m3-7h0m1 5h0m1 3h0m1 0h0m2-7h0m2 7h0m2 3h0m0-3h0m1-6h0m5 9h0m1-5h0m35 1h0m2-3h0m4-2h0m0 1h0m1 6h0m1-7h0m1 3h0m5-4h0m0 5h0m0 2h0m6-4h0m1-3h0m5 9h0m1-5h0m0 0h0m0-1h0m1-2h0m2 9h0m0-9h0m1 1h0m3 1h0m1 4h0m0-1h0m2 4h0m4-6h0m3 4h0m5-2h0m3-6h0m1 1h0m1 17h0m-1 2h0m-2-7h0m-1 2h0m-3 4h0m0-2h0m-2-2h0m-1 3h0m-3-6h0m-1 1h0m-4-1h0m-2 9h0m-9-8h0m-3 0h0m-5 2h0m-4 1h0m-7-2h0m-3 1h0m-3 1h0m-1-1h0m-5 7h0m-3-2h0m0 1h0m-2-2h0m-19-5h0m-1 3h0m-1-5h0m-6 2h0m-3-1h0m-4-2h0m-8 7h0m-3-2h0m-20 1h0m-1-1h0m-1-5h0m-1 7h0m-3 4h0m-4-1h0m-1-4h0m0-6h0m-1 7h0m0-2h0m-1-1h0m-5-4h0m-5 2h0m-1 5h0m-6-5h0m-5 4h0m-5 0h0m-4 0h0m-1 1h0m-3-6h0m-2 4h0m-1-3h0m-10 5h0m-1-5h0m-2 0h0m-3 1h0m-3 6h0m-1-2h0m-16-5h0m-16-1h0m-23 9h0m-4-5h0m28 9h0m6 9h0m16-11h0m7 9h0m21-5h0m2-1h0m8 0h0m1 4h0m0-4h0m9 8h0m1 0h0m6-11h0m0 9h0m1-3h0m0-4h0m1-1h0m0 6h0m0 0h0m15 0h0m1-6h0m5 9h0m3 0h0m2-1h0m4-2h0m1 1h0m8-3h0m3 3h0m1-1h0m4-2h0m2-4h0m2 9h0m1 1h0m3-6h0m2-3h0m1 4h0m5-4h0m5 0h0m0 9h0m1-9h0m21 2h0m2 2h0m0-2h0m1 4h0m1-8h0m2 0h0m6 6h0m1-1h0m2-2h0m4-1h0m2 0h0m0-1h0m4 10h0m2-4h0m0 1h0m0-4h0m0-2h0m0 1h0m1 2h0m1 4h0m1-4h0m0 1h0m1 0h0m1-6h0m2 9h0m4-4h0m4-4h0m4 8h0m2-8h0m6 10h0m8 0h0m3-11h0m-2 23h0m0-7h0m-5 0h0m-4-1h0m-2-3h0m-2 2h0m-3 3h0m-1-3h0m-5 7h0m-3 0h0m-3-8h0m-1 1h0m-1 5h0m0 4h0m-1-3h0m-3-7h0m0 0h0m-3 4h0m0-2h0m0 0h0m-1-1h0m0 7h0m0-7h0m-2 6h0m-2-4h0m-1 6h0m-2-6h0m-1 3h0m-2-7h0m0 8h0m-2-6h0m-1 3h0m-6-4h0m-4 4h0m-1 1h0m-2-2h0m0 2h0m-21 1h0m-3-7h0m-1 9h0m-7 1h0m-2-5h0m-1-3h0m-2 7h0m-1 0h0m-4-9h0m0 8h0m-3-7h0m-4 6h0m-4 4h0m-2-11h0m-1 3h0m-5-1h0m-4 0h0m-3-1h0m-3 5h0m-3-5h0m-3 0h0m-2 5h0m-2-4h0m0 8h0m-3-4h0m0-5h0m0 5h0m-1-4h0m-1 3h0m-6-1h0m-2 6h0m-1-9h0m-3 9h0m-2-10h0m-1 7h0m-7 3h0m-3-6h0m-9-3h0m0 10h0m-1-10h0m-5 8h0m-5-6h0m-22 0h0m-8 0h0m-17 1h0m-12 6h0m-6-2h0m-4 13h0m15-5h0m1 1h0m6-1h0m0 4h0m5-8h0m15 8h0m0-5h0m6 8h0m6-6h0m24 2h0m8-4h0m3 8h0m3-1h0m1-4h0m3-2h0m0-4h0m8 7h0m2-5h0m3 0h0m1-1h0m1-1h0m3 7h0m1 0h0m2-3h0m2 5h0m4-6h0m4-2h0m1 6h0m2-6h0m1 9h0m0-7h0m2-1h0m0-1h0m1 1h0m0 7h0m1-7h0m1 5h0m1 0h0m0-3h0m1 0h0m4 7h0m0-8h0m0 6h0m3 2h0m0-7h0m1 2h0m1-6h0m2 4h0m1 2h0m0-4h0m1 1h0m2-1h0m0 0h0m1 7h0m1-6h0m0 2h0m2 6h0m0-11h0m1 8h0m13-4h0m0 5h0m1 0h0m1-2h0m6-1h0m1 3h0m23 0h0m1-5h0m0 2h0m1-2h0m1 1h0m1-2h0m1-1h0m1 3h0m2 5h0m4-7h0m2-1h0m0-1h0m0 0h0m0 10h0m1-5h0m0 4h0m1-3h0m2 0h0m1-4h0m2 5h0m5 1h0m0-9h0m0 11h0m3-9h0m0-1h0m1 0h0m0 10h0m0-3h0m1 1h0m3-1h0m1 0h0m1 2h0m0-9h0m2 6h0m0 4h0m2 0h0m0-8h0m2 8h0m0-2h0m0-1h0m0-5h0m1-3h0m0 8h0m2-6h0m5 6h0m0-6h0m3 1h0m0 7h0m2-3h0m0 1h0m1 0h0m1 0h0m2 3h0m0 0h0m1-5h0m1 1h0m4 12h0m-4 2h0m0-1h0m-3-7h0m0 10h0m0-1h0m-1-8h0m-2 1h0m-3 8h0m-2 0h0m-3-5h0m0 5h0m0-2h0m-1-8h0m0 8h0m-2-6h0m-1 2h0m0-3h0m-1 9h0m0-8h0m-1 7h0m-2 0h0m-2-6h0m-1 4h0m0-3h0m-1 3h0m0 3h0m0-7h0m-1 3h0m0 1h0m-1 1h0m-1 1h0m0-2h0m-1 0h0m-1-2h0m-1-2h0m0 1h0m0 6h0m0-6h0m-2-1h0m-1 6h0m-1 1h0m0-1h0m0-5h0m0-2h0m-1-2h0m-1 10h0m-1-3h0m0 0h0m0 1h0m-1-6h0m0 1h0m0 2h0m-1 4h0m0-7h0m0 7h0m-1 1h0m0 0h0m-1-3h0m0-5h0m-4 7h0m-1-4h0m-2 1h0m-2-3h0m0 5h0m-1-7h0m0 0h0m-1 7h0m0-5h0m-1-1h0m-4 2h0m0-3h0m-2 8h0m-1-3h0m0 1h0m0-3h0m-2 6h0m-19-9h0m0 5h0m0 3h0m-3-1h0m0-5h0m-1 7h0m-1-5h0m0-5h0m0 10h0m-2-3h0m0 3h0m-1-2h0m-1-3h0m-1 3h0m0-1h0m-3-2h0m-3 4h0m-1-9h0m-1 5h0m-1 1h0m-2-4h0m-1-3h0m0 6h0m-1 4h0m-2-2h0m-1-7h0m-1 5h0m-2 2h0m0 0h0m0 1h0m-1-5h0m0 4h0m-1 1h0m0 1h0m-1-4h0m0-2h0m0 6h0m-1-4h0m-3 2h0m0-5h0m0 1h0m-1 2h0m0-4h0m-2-1h0m-5 3h0m-1 6h0m-1-2h0m-1-1h0m-1 4h0m-1-1h0m0 1h0m-1 0h0m0-1h0m-1 1h0m-1-1h0m0-6h0m-1 2h0m0-6h0m-2 0h0m0 6h0m-1 5h0m-1-8h0m-1-3h0m-1 0h0m0 10h0m-1-2h0m0-5h0m0-1h0m-3 3h0m0 6h0m-1-4h0m-3 4h0m-3 0h0m0-9h0m-1 5h0m-1 4h0m-2-3h0m0-5h0m-3 0h0m0 8h0m-3-8h0m-4 8h0m-1-5h0m0-1h0m0 1h0m0 5h0m-2-4h0m-1-2h0m0 1h0m-2 5h0m-3-4h0m-1 3h0m-6-2h0m0 0h0m-2-6h0m-1 4h0m0-5h0m0 0h0m-1 3h0m-2 6h0m-7-6h0m-6 0h0m-7-4h0m-5 5h0m-2 0h0m-3 1h0m-15-4h0m-1 5h0m-1-5h0m-14 3h0m-4 2h0m-1-5h0m0 1h0m-1 5h0m-4-3h0m-1-3h0m0 9h0m-8 2h0m4 0h0m1-1h0m19 0h0m8 0h0m11 1h0m7 0h0m11-1h0m8 1h0m4 0h0m2 0h0m1-1h0m1 1h0m6-1h0m9 1h0m8-1h0m5 1h0m3 0h0m6-1h0m3 1h0m0 0h0m1 0h0m0 0h0m1 0h0m2 0h0m2 0h0m1 0h0m2-1h0m2 1h0m2 0h0m1-1h0m0 1h0m2-1h0m3 1h0m3-1h0m0 0h0m5 1h0m0 0h0m0 0h0m1-1h0m2 1h0m1 0h0m3 0h0m1 0h0m2-1h0m10 1h0m7-1h0m0 0h0m2 0h0m2 0h0m0 1h0m1 0h0m0-1h0m4 0h0m5 1h0m2-1h0m27 0h0m1 1h0m3 0h0m1 0h0m1 0h0m2 0h0m0-1h0m0 0h0m2 1h0m0 0h0m2-1h0m3 1h0m6-1h0m0 0h0m3 1h0m0 0h0m3-1h0m1 0h0m0 0h0m3 0h0m4 1h0m1 0h0m1-1h0m0 1h0m0-1h0m3 1h0m4-1h0m2 1h0m1-1h0m0 0h0m0 0h0m3 0h0m0 1h0m1 0h0m2 0h0m5 12h0m-5 0h0m-1 0h0m-7 0h0m-2 0h0m-2 0h0m-3 0h0m-1 0h0m0 0h0m-2 0h0m-7 0h0m0 0h0m-2 0h0m-3 0h0m-2 0h0m-2 0h0m-1 0h0m-3 0h0m-5 0h0m-2 0h0m-2 0h0m0 0h0m-2 0h0m-1 0h0m0 0h0m-7 0h0m-4 0h0m-1 0h0m-20 0h0m-5 0h0m-4 0h0m-6 0h0m-3 0h0m-5 0h0m-2 0h0m-5 0h0m-1 0h0m0 0h0m-1 0h0m-1 0h0m-2 0h0m-1 0h0m-1 0h0m-1 0h0m-2 0h0m-2 0h0m0 0h0m-4 0h0m0 0h0m-3 0h0m-1 0h0m-1 0h0m-4 0h0m0 0h0m-1 0h0m-3 0h0m-1 0h0m0 0h0m-6 0h0m-6 0h0m-1 0h0m-1 0h0m-2 0h0m-5 0h0m-2 0h0m-1 0h0m-3 0h0m-4 0h0m0 0h0m-3 0h0m-1 0h0m-9 0h0m-6 0h0m-28 0h0m0 0h0m-1 0h0m-13 0h0m-18 0h0m-11 0h0m-2 18h0m4 0h0m0 0h0m1 0h0m3 0h0m1 0h0m1 0h0m2 0h0m1 0h0m8 0h0m2 0h0m2 0h0m0 0h0m2 0h0m2 0h0m1 0h0m4 0h0m1 0h0m0 0h0m4 0h0m0 0h0m1 0h0m2 0h0m3 0h0m1 0h0m0 0h0m2 0h0m6 0h0m5 0h0m3 0h0m4 0h0m5 0h0m2 0h0m4 0h0m12 0h0m8 0h0m5 0h0m4 0h0m1 0h0m8 0h0m4 0h0m2 0h0m1 0h0m0 0h0m2 0h0m4 0h0m5 0h0m4 0h0m1 0h0m1 0h0m1 0h0m2 0h0m3 0h0m1 0h0m2 0h0m1 0h0m1 0h0m2 0h0m3 0h0m2 0h0m4 0h0m1 0h0m3 0h0m2 0h0m7 0h0m3 0h0m32 0h0m2 0h0m2 0h0m1 0h0m2 0h0m0 0h0m5 0h0m10 0h0m2 0h0m2 0h0m1 0h0m0 0h0m3 0h0m7 0h0m3 0h0m1 0h0m9 0h0m0 0h0m2 0h0m3 29h0m-1 0h0m-5 0h0m-1 0h0m-2 0h0m0 0h0m0 0h0m-3 0h0m0 0h0m-6 0h0m-1 0h0m-2 0h0m-3 0h0m-4 0h0m0 0h0m-2 0h0m-2 0h0m0 0h0m-2 0h0m-1 0h0m-5 0h0m-9 0h0m0 0h0m-2 0h0m-3 0h0m-1 0h0m-4 0h0m-28 0h0m-4 0h0m0 0h0m-4 0h0m-6 0h0m-1 0h0m-1 0h0m0 0h0m-1 0h0m-3 0h0m0 0h0m-9 0h0m0 0h0m-5 0h0m-1 0h0m-1 0h0m-1 0h0m-1 0h0m-2 0h0m-2 0h0m-2 0h0m-2 0h0m-1 0h0m-1 0h0m-4 0h0m-2 0h0m-2 0h0m-1 0h0m-1 0h0m0 0h0m-2 0h0m-4 0h0m0 0h0m-2 0h0m-3 0h0m-3 0h0m-1 0h0m-1 0h0m-3 0h0m-9 0h0m-3 0h0m-11 0h0m0 0h0m-2 0h0m-2 0h0m-1 0h0m0 0h0m-3 0h0m-5 0h0m-1 0h0m-7 0h0m-3 0h0m-2 0h0m-2 0h0m0 0h0m-1 0h0m-1 0h0m-2 0h0m-1 0h0m-3 0h0m0 0h0m-6 0h0m-3 0h0m-4 0h0m-5 0h0m-5 0h0m-2 0h0m-1 0h0m-2 0h0m-4 0h0m0 0h0m-3 0h0m0 0h0m-2 0h0m0 0h0m0 0h0" stroke="#4F66AE" stroke-width="9"/>
<path d="M446.1 554.9L447.8 554.8L449.5 554.6L451.3 554.4L453 554.2L454.7 554L456.4 553.8L458.2 553.6L459.9 553.3L461.6 553L463.3 552.6L465.1 552.1L466.8 551.6L468.5 551.1L470.2 550.6L471.9 550L473.7 549.5L475.4 549L477.1 548.4L478.8 547.9L480.6 547.3L482.3 546.8L484 546.2L485.7 545.6L487.5 545.1L489.2 544.5L490.9 544L492.6 543.5L494.3 543.1L496.1 542.7L497.8 542.3L499.5 542L501.2 541.7L503 541.4L504.7 541.1L506.4 540.8L508.1 540.6L509.9 540.5L511.6 540.5L513.3 540.5L515 540.6L516.7 540.8L518.5 541L520.2 541.2L521.9 541.5L523.6 541.7L525.4 541.9L527.1 542L528.8 542L530.5 541.9L532.3 541.6L534 541.4L535.7 541L537.4 540.6L539.1 540.2L540.9 539.7L542.6 539.1L544.3 538.5L546 538L547.8 537.7" stroke="#111" stroke-width="1.35" stroke-linecap="butt"/>
<path d="M441.4 501.8V557.4H553.4" stroke="#1a1a1a" stroke-width="1.3" stroke-linecap="butt"/>
<path transform="scale(0.25)" d="M2327 2145h0m78 10h0m-29 0h0m-51 0h0m-11 0h0m122 24h0m-2 0h0m-3 0h0m-6 0h0m-7 0h0m-7 0h0m-3 0h0m-9 0h0m-23 0h0m-4 0h0m-12 0h0m-1 0h0m-6 0h0m-13 0h0m-2 0h0m-3 0h0m-2 0h0m0 0h0m-3 0h0m-1 0h0m-2 0h0m-1 0h0m0 0h0m-2 0h0m0 0h0m-1 0h0m-4 0h0m0 0h0m-1 0h0m-1 0h0m-1 0h0m-3 0h0m0 0h0m-2 0h0m141 41h0m-3 0h0m-1 0h0m-1 0h0m-1 0h0m-1 0h0m-2 0h0m0 0h0m0 0h0m-2 0h0m-1 0h0m-1 0h0m0 0h0m0 0h0m0 0h0m-1 0h0m-4 0h0m0 0h0m-1 0h0m-1 0h0m-2 0h0m-6 0h0m0 0h0m-1 0h0m-1 0h0m0 0h0m-2 0h0m0 0h0m0 0h0m0 0h0m-3 0h0m-9 0h0m0 0h0m0 0h0m-1 0h0m-7 0h0m0 0h0m-2 0h0m0 0h0m0 0h0m-3 0h0m0 0h0m-2 0h0m-1 0h0m-1 0h0m-4 0h0m-1 0h0m0 0h0m-1 0h0m-2 0h0m-7 0h0m-1 0h0m0 0h0m-1 0h0m-1 0h0m-3 0h0m0 0h0m-2 0h0m-2 0h0m0 0h0m-2 0h0m0 0h0m-3 0h0m-1 0h0m-1 0h0m-1 0h0m-2 0h0m-1 0h0m0 0h0m-3 0h0m0 0h0m0 0h0m-1 0h0m0 0h0m-1 0h0m-1 0h0m-1 0h0m-5 0h0m-1 0h0m0 0h0m-2 0h0m0 0h0m0 0h0m0 0h0m0 0h0m-1 0h0m0 0h0m0 0h0m-1 0h0m0 0h0m-1 0h0m0 0h0m-1 0h0m0 0h0m0 0h0m0 0h0m0 0h0m-1 0h0m-1 0h0m0 0h0m-1 0h0m0 0h0m0 0h0m-1 0h0m0 0h0m0 0h0m0 0h0m-1 0h0m0 0h0m-1 0h0m0 0h0m0 0h0m-1 0h0m0 0h0m-1 0h0m0 0h0m-1 0h0m0 0h0m-1 0h0m0 0h0m0 0h0m0 0h0m0 0h0m-1 0h0m0 0h0m0 0h0m0 0h0m-1 0h0m0 0h0m-1 0h0m0 0h0m0 0h0m0 0h0m-1 0h0m0 0h0m-1 0h0m0 0h0m0 0h0m0 0h0m-1 0h0m0 0h0m0 0h0m0 0h0m0 0h0m0 0h0m0 0h0m0 0h0m-1 0h0m0 0h0m0 0h0m-1 0h0m0 0h0m0 0h0m-1 0h0m0 0h0m0 0h0m-1 0h0m0 0h0m0 0h0m0 0h0m0 0h0m0 0h0m0 0h0m-1 0h0m0 0h0m-1 0h0m0 0h0m0 0h0m0 0h0m0 0h0m0 0h0m0 0h0m-1 0h0m0 0h0m0 0h0m0 0h0m-1 0h0m0 0h0m-1 0h0m0 0h0m0 0h0" stroke="#B356B2" stroke-width="9"/>
<path transform="scale(0.25)" d="M2578 2015h0m-7 22h0m-9 8h0m3 4h0m1 0h0m5-5h0m108 17h0m-1-6h0m-9 3h0m-80-6h0m-2 4h0m-5 3h0m-14-7h0m0 4h0m-9-2h0m-2 8h0m-7-4h0m-27 14h0m0-3h0m3 6h0m7-7h0m6-3h0m1-1h0m9 1h0m4 5h0m4-1h0m7-3h0m4 0h0m9 7h0m4-5h0m11 0h0m2-1h0m6 4h0m47 1h0m1-1h0m12 1h0m4-7h0m4 4h0m3-2h0m2 1h0m0 0h0m5-4h0m0 1h0m0 6h0m16 12h0m-9-6h0m-2 0h0m-3 6h0m-3-5h0m-3 1h0m-1-1h0m-1-2h0m-2 8h0m-1 3h0m-2-3h0m-3-2h0m0 2h0m-8-8h0m-1 5h0m-5 2h0m0-7h0m-6 7h0m-6 3h0m-7 1h0m-3-1h0m-23-4h0m0 1h0m-4-5h0m-1 2h0m-5 4h0m-7-8h0m-4 6h0m-3 3h0m-10-2h0m-4 1h0m-5-8h0m-2 4h0m-3 0h0m-4 1h0m-4-1h0m-6-1h0m-7 0h0m-7 8h0m-1-4h0m-6-6h0m-1 6h0m-2-6h0m-1 5h0m-1-4h0m-2 7h0m-80 3h0m51 11h0m20-6h0m6 1h0m3-2h0m0-3h0m1 3h0m1 4h0m10-1h0m15 4h0m1-2h0m7-5h0m0 0h0m4 2h0m5-3h0m1 4h0m0-7h0m2 11h0m0-8h0m5 7h0m0 0h0m2 0h0m1-7h0m10-1h0m4 5h0m2-2h0m5-4h0m1 0h0m1 5h0m6-4h0m1-1h0m0 1h0m13 7h0m17 0h0m3-4h0m1-5h0m6 2h0m4 2h0m7-1h0m3 3h0m3-5h0m0 8h0m1 0h0m6-2h0m3-3h0m1-1h0m0 6h0m0-2h0m0 3h0m4-9h0m3 9h0m2 0h0m4-5h0m3 2h0m2-1h0m3 3h0m2 2h0m23 6h0m0 2h0m-4 2h0m-3 1h0m-13-3h0m-1-4h0m-1 3h0m0 2h0m-1 2h0m-1-4h0m-7 3h0m0-1h0m-1-2h0m0 3h0m0-7h0m-5 8h0m-1-3h0m0 0h0m0 1h0m-1 0h0m-1-4h0m-1 6h0m-1-9h0m-1 9h0m0-1h0m0-5h0m-2 4h0m-2-4h0m-1 0h0m-3-3h0m0 6h0m-1-2h0m0 1h0m0 3h0m0-4h0m-1 5h0m-2-1h0m-1 1h0m-1-4h0m-1-1h0m-2 5h0m-1 0h0m0 0h0m-2-1h0m-1 0h0m0-4h0m-1 3h0m-1-4h0m-1 2h0m0 0h0m-1 4h0m0-5h0m0 0h0m-1-3h0m0 0h0m-5-1h0m-2 1h0m-1 7h0m-1 1h0m0-10h0m0 1h0m-2 3h0m0 4h0m-1 0h0m-4 1h0m-1-4h0m-17 4h0m-1-2h0m-1 3h0m-4-3h0m-3 3h0m-2 0h0m0 0h0m-1-4h0m0-4h0m-2 3h0m-1 3h0m0-5h0m-4 4h0m-1-5h0m-1 8h0m0-10h0m0 1h0m-3 7h0m-2-1h0m-2 1h0m-1 0h0m-3-2h0m0 4h0m0-7h0m-3 7h0m-1-5h0m-2-5h0m-1 7h0m0 3h0m-4-1h0m-2-3h0m0 0h0m-2 4h0m0 0h0m-3-6h0m0 5h0m0 1h0m-1 0h0m-2-7h0m-1 7h0m-1-5h0m-1 4h0m-2-5h0m0 6h0m0-3h0m-2-2h0m-1 0h0m-2 5h0m0-4h0m-1 4h0m-1-4h0m0 4h0m-1 0h0m0-2h0m-3 2h0m-5-6h0m0 3h0m-5 2h0m-1-4h0m-1 3h0m-3 2h0m-1 0h0m-1-4h0m-10 4h0m-2-2h0m0-5h0m-33 6h0m30 7h0m7 0h0m1 0h0m2 0h0m9 0h0m3 0h0m0 0h0m1 0h0m1 0h0m1 0h0m3 0h0m10 0h0m6 0h0m1 0h0m0 0h0m1 0h0m3 0h0m0 0h0m3 0h0m0 0h0m3 0h0m2 0h0m1 0h0m0 0h0m2 0h0m0 0h0m1 0h0m0 0h0m2 0h0m1 0h0m1 0h0m0 0h0m3 0h0m3 0h0m1 0h0m2 0h0m0 0h0m1 0h0m6 0h0m3 0h0m1 0h0m4 0h0m7 0h0m4 0h0m21 0h0m1 0h0m6 0h0m1 0h0m1 0h0m0 0h0m8 0h0m5 0h0m6 0h0m0 0h0m12 0h0m0 0h0m3 0h0m2 0h0m1 0h0m3 0h0m1 0h0m2 0h0m2 0h0m2 0h0m0 0h0m2 0h0m3 0h0m6 0h0m10 0h0m-19 11h0m-2 0h0m-2 0h0m-2 0h0m-9 0h0m-1 0h0m-1 0h0m-4 0h0m0 0h0m-4 0h0m-5 0h0m0 0h0m-1 0h0m-1 0h0m-1 0h0m0 0h0m-6 0h0m-1 0h0m0 0h0m-12 0h0m-2 0h0m-40 0h0m-1 0h0m-1 0h0m-5 0h0m0 0h0m-1 0h0m-5 0h0m0 0h0m-4 0h0m-3 0h0m-2 0h0m-1 0h0m-1 0h0m-1 0h0m-1 0h0m-2 0h0m-3 0h0m0 0h0m0 0h0m-2 0h0m-2 0h0m-6 0h0m-4 0h0m-4 0h0m-17 0h0m-4 0h0m-1 0h0m-4 0h0m-1 0h0m-1 0h0m0 0h0m-2 0h0m-2 0h0m-8 0h0m-1 0h0m-58 0h0m35 12h0m36 0h0m0 0h0m3 0h0m10 0h0m0 0h0m1 0h0m1 0h0m3 0h0m1 0h0m3 0h0m0 0h0m0 0h0m1 0h0m1 0h0m0 0h0m1 0h0m1 0h0m1 0h0m0 0h0m3 0h0m5 0h0m1 0h0m4 0h0m1 0h0m2 0h0m1 0h0m1 0h0m1 0h0m1 0h0m3 0h0m0 0h0m2 0h0m1 0h0m1 0h0m1 0h0m0 0h0m2 0h0m3 0h0m0 0h0m1 0h0m1 0h0m6 0h0m2 0h0m2 0h0m3 0h0m1 0h0m6 0h0m1 0h0m35 0h0m5 0h0m0 0h0m3 0h0m4 0h0m2 0h0m1 0h0m1 0h0m3 0h0m0 0h0m1 0h0m3 0h0m1 0h0m0 0h0m0 0h0m3 0h0m1 0h0m0 0h0m0 0h0m1 0h0m0 0h0m1 0h0m0 0h0m3 0h0m1 0h0m3 0h0m2 0h0m1 0h0m2 0h0m2 0h0m0 0h0m2 0h0m0 0h0m7 0h0m2 0h0m4 0h0m16 0h0m-17 16h0m-11 0h0m-10 0h0m-1 0h0m0 0h0m-3 0h0m0 0h0m-5 0h0m-4 0h0m-6 0h0m-1 0h0m-1 0h0m-1 0h0m-2 0h0m0 0h0m-1 0h0m-4 0h0m-1 0h0m-2 0h0m-1 0h0m-4 0h0m0 0h0m-1 0h0m-3 0h0m-2 0h0m-1 0h0m-18 0h0m-10 0h0m0 0h0m-3 0h0m-3 0h0m0 0h0m-1 0h0m-1 0h0m-2 0h0m-12 0h0m-2 0h0m0 0h0m-1 0h0m-1 0h0m-2 0h0m-2 0h0m-3 0h0m0 0h0m-1 0h0m-1 0h0m0 0h0m-3 0h0m-1 0h0m-2 0h0m-2 0h0m0 0h0m-1 0h0m-8 0h0m-2 0h0m-4 0h0m-1 0h0m-13 0h0m-7 0h0m-4 0h0m0 0h0m-1 0h0m-7 0h0m-5 0h0m-69 0h0m259 24h0m-1 0h0m0 0h0m-11 0h0m0 0h0m-1 0h0m-1 0h0m0 0h0m-1 0h0m-5 0h0m-6 0h0m-1 0h0m-1 0h0m-2 0h0m-1 0h0m-2 0h0m0 0h0m-5 0h0m-2 0h0m-2 0h0m0 0h0m-1 0h0m0 0h0m0 0h0m-2 0h0m-2 0h0m-1 0h0m-5 0h0m-2 0h0m-1 0h0m0 0h0m-3 0h0m-2 0h0m-2 0h0m-20 0h0m-1 0h0m-1 0h0m0 0h0m-6 0h0m-1 0h0m-2 0h0m0 0h0m-1 0h0m0 0h0m-1 0h0m-2 0h0m0 0h0m-1 0h0m-7 0h0m-3 0h0m-2 0h0m-2 0h0m0 0h0m-1 0h0m-1 0h0m-1 0h0m-2 0h0m-2 0h0m0 0h0m-1 0h0m-2 0h0m0 0h0m-1 0h0m-1 0h0m-1 0h0m-3 0h0m0 0h0m-4 0h0m0 0h0m-1 0h0m0 0h0m-2 0h0m-1 0h0m0 0h0m-1 0h0m-2 0h0m0 0h0m0 0h0m-1 0h0m-4 0h0m0 0h0m-3 0h0m-1 0h0m-3 0h0m-1 0h0m-4 0h0m-4 0h0m-3 0h0m-2 0h0m-3 0h0m-4 0h0m0 0h0m-1 0h0m-2 0h0m-4 0h0m-1 0h0m0 0h0m-2 0h0m-5 0h0m-2 0h0m-1 0h0m0 0h0m-7 0h0m-1 0h0m-1 0h0m0 0h0m-1 0h0m0 0h0m0 0h0m0 0h0m-2 0h0m-1 0h0m-1 0h0m-1 0h0m-2 0h0m-1 0h0m-1 0h0m-9 0h0m-1 0h0m-2 0h0m0 0h0m0 0h0m-3 0h0m0 0h0m-9 0h0m-1 0h0m-3 0h0m-1 0h0m-1 0h0m-1 0h0m0 0h0m-1 0h0m-4 0h0m-6 0h0m-1 0h0m0 0h0m-1 0h0m-5 0h0m-2 0h0m0 0h0m-1 0h0m0 0h0m-1 0h0m-3 0h0m-2 0h0m-1 0h0m270 41h0m-1 0h0m-2 0h0m-5 0h0m-5 0h0m-1 0h0m-3 0h0m-2 0h0m0 0h0m-2 0h0m0 0h0m-4 0h0m-4 0h0m-1 0h0m-1 0h0m-1 0h0m0 0h0m-2 0h0m0 0h0m-1 0h0m-1 0h0m-1 0h0m-2 0h0m-1 0h0m-1 0h0m-1 0h0m-3 0h0m-2 0h0m-2 0h0m-3 0h0m-2 0h0m-1 0h0m0 0h0m-1 0h0m0 0h0m-9 0h0m-1 0h0m-17 0h0m-2 0h0m-1 0h0m-2 0h0m-1 0h0m0 0h0m-5 0h0m-1 0h0m-2 0h0m-2 0h0m-3 0h0m-2 0h0m-2 0h0m-1 0h0m-3 0h0m-2 0h0m0 0h0m0 0h0m-1 0h0m-3 0h0m0 0h0m-1 0h0m0 0h0m0 0h0m-2 0h0m-2 0h0m0 0h0m-4 0h0m-4 0h0m-2 0h0m-1 0h0m-1 0h0m0 0h0m-3 0h0m-2 0h0m0 0h0m0 0h0m0 0h0m-1 0h0m0 0h0m0 0h0m-1 0h0m-4 0h0m-2 0h0m-1 0h0m-1 0h0m0 0h0m-3 0h0m-5 0h0m-5 0h0m-3 0h0m0 0h0m-5 0h0m-1 0h0m-1 0h0m-2 0h0m0 0h0m0 0h0m-2 0h0m-5 0h0m-4 0h0m-1 0h0m-2 0h0m-1 0h0m-1 0h0m-4 0h0m-1 0h0m-2 0h0m-1 0h0m-2 0h0m-2 0h0m0 0h0m-2 0h0m-1 0h0m-6 0h0m0 0h0m-5 0h0m-4 0h0m-2 0h0m-3 0h0m0 0h0m0 0h0m-1 0h0m0 0h0m0 0h0m-2 0h0m-2 0h0m0 0h0m-2 0h0m-1 0h0m-1 0h0m0 0h0m-1 0h0m-5 0h0m-6 0h0m-1 0h0m-3 0h0m0 0h0m-1 0h0m-1 0h0m-2 0h0m0 0h0m-3 0h0m-1 0h0m-1 0h0m-1 0h0m-2 0h0m-1 0h0m-1 0h0m-1 0h0m-3 0h0m-1 0h0m0 0h0m-3 0h0m0 0h0" stroke="#4F66AE" stroke-width="9"/>
<path transform="scale(0.25)" d="M2577 2027h0m-21 27h0m91 17h0m-81 14h0m7 3h0m100 0h0m22 16h0m-8 4h0m-4-5h0m-140 11h0m6 2h0m11-2h0m16 2h0m36 0h0m81 11h0m-6 0h0m-8 0h0m-17 0h0m-5 0h0m-5 0h0m-66 0h0m-4 0h0m-28 0h0m-12 0h0m-11 0h0m-1 0h0m-3 0h0m-5 12h0m12 0h0m8 0h0m2 0h0m17 0h0m24 0h0m5 0h0m1 0h0m1 0h0m37 0h0m27 0h0m10 0h0m15 0h0m4 0h0m4 0h0m-2 16h0m-16 0h0m-3 0h0m-3 0h0m-12 0h0m-15 0h0m-28 0h0m-20 0h0m-5 0h0m-7 0h0m-3 0h0m-2 0h0m-5 0h0m-4 0h0m-12 0h0m0 0h0m-4 0h0m-7 0h0m-7 0h0m-3 0h0m-4 0h0m-3 0h0m-1 0h0m-1 0h0m-13 0h0m-44 0h0m233 24h0m-4 0h0m0 0h0m-6 0h0m-4 0h0m-2 0h0m-1 0h0m-2 0h0m-3 0h0m-1 0h0m-3 0h0m-2 0h0m0 0h0m-4 0h0m-5 0h0m-1 0h0m-12 0h0m0 0h0m-6 0h0m-2 0h0m-2 0h0m-3 0h0m-2 0h0m-23 0h0m-6 0h0m-1 0h0m-3 0h0m-5 0h0m-2 0h0m0 0h0m-4 0h0m-9 0h0m0 0h0m-7 0h0m-2 0h0m-4 0h0m0 0h0m-3 0h0m-12 0h0m0 0h0m-8 0h0m-3 0h0m-1 0h0m-1 0h0m-3 0h0m-2 0h0m-1 0h0m0 0h0m-10 0h0m-1 0h0m0 0h0m-16 0h0m-2 0h0m-2 0h0m0 0h0m0 0h0m-1 0h0m-1 0h0m-1 0h0m0 0h0m-3 0h0m-1 0h0m-2 0h0m0 0h0m-2 0h0m-2 0h0m-1 0h0m-1 0h0m-3 0h0m-2 0h0m0 0h0m-9 0h0m-3 0h0m0 0h0m-3 0h0m0 0h0m-3 0h0m-1 0h0m0 0h0m-1 0h0m-1 0h0m-3 0h0m-3 0h0m0 0h0m-2 0h0m-1 0h0m-3 0h0m-1 0h0m-2 0h0m-2 0h0m-6 0h0m-3 0h0m-2 0h0m-2 0h0m-5 0h0m-2 0h0m-2 0h0m-1 0h0m-2 0h0m-3 0h0m279 41h0m-3 0h0m-1 0h0m0 0h0m0 0h0m-2 0h0m0 0h0m-1 0h0m0 0h0m-1 0h0m-4 0h0m0 0h0m-1 0h0m-1 0h0m-1 0h0m-2 0h0m-1 0h0m-1 0h0m-1 0h0m-2 0h0m-1 0h0m-1 0h0m-1 0h0m-4 0h0m-6 0h0m-1 0h0m-1 0h0m-3 0h0m-1 0h0m-1 0h0m-2 0h0m0 0h0m-1 0h0m0 0h0m0 0h0m-1 0h0m0 0h0m-3 0h0m-2 0h0m-1 0h0m-2 0h0m-3 0h0m0 0h0m-3 0h0m-2 0h0m-1 0h0m-1 0h0m-20 0h0m-2 0h0m0 0h0m0 0h0m-4 0h0m-1 0h0m-1 0h0m-2 0h0m-1 0h0m-2 0h0m0 0h0m-3 0h0m0 0h0m-1 0h0m-6 0h0m-2 0h0m-2 0h0m-1 0h0m0 0h0m0 0h0m-1 0h0m0 0h0m-1 0h0m-2 0h0m0 0h0m-1 0h0m-2 0h0m-1 0h0m-1 0h0m0 0h0m-4 0h0m0 0h0m-1 0h0m0 0h0m-1 0h0m0 0h0m-3 0h0m-4 0h0m0 0h0m-1 0h0m-1 0h0m0 0h0m-1 0h0m0 0h0m-1 0h0m-1 0h0m-1 0h0m-6 0h0m-1 0h0m0 0h0m-2 0h0m0 0h0m-1 0h0m0 0h0m0 0h0m-1 0h0m-1 0h0m-2 0h0m-2 0h0m-2 0h0m-2 0h0m0 0h0m-3 0h0m-3 0h0m0 0h0m0 0h0m-1 0h0m0 0h0m0 0h0m-4 0h0m-1 0h0m-1 0h0m-1 0h0m0 0h0m-3 0h0m0 0h0m-1 0h0m0 0h0m-1 0h0m-1 0h0m-1 0h0m-1 0h0m0 0h0m-3 0h0m-1 0h0m0 0h0m-1 0h0m-1 0h0m-1 0h0m0 0h0m0 0h0m-2 0h0m-1 0h0m0 0h0m-1 0h0m-1 0h0m-1 0h0m-1 0h0m-2 0h0m0 0h0m-1 0h0m-1 0h0m-1 0h0m-1 0h0m0 0h0m0 0h0m0 0h0m0 0h0m-1 0h0m0 0h0m-2 0h0m-1 0h0m-3 0h0m-2 0h0m0 0h0m-1 0h0m0 0h0m-2 0h0m-1 0h0m-1 0h0m0 0h0m-2 0h0m0 0h0m-1 0h0m-1 0h0m-1 0h0m0 0h0m-1 0h0m0 0h0m0 0h0m-1 0h0m-1 0h0m0 0h0m-3 0h0m-1 0h0m-1 0h0m-1 0h0m0 0h0m0 0h0m0 0h0m0 0h0m-1 0h0m-3 0h0m-1 0h0m-1 0h0m-2 0h0m0 0h0m-1 0h0m-2 0h0m-2 0h0m-1 0h0m-1 0h0m-3 0h0m0 0h0m-3 0h0m-3 0h0m0 0h0m-1 0h0m0 0h0m0 0h0m0 0h0m0 0h0m-5 0h0m0 0h0m-1 0h0m0 0h0m-1 0h0m-1 0h0m-2 0h0m0 0h0m0 0h0m-1 0h0m0 0h0m-1 0h0m0 0h0m0 0h0m0 0h0m-1 0h0m0 0h0m-2 0h0m0 0h0m-2 0h0m0 0h0m0 0h0m-2 0h0m-1 0h0m0 0h0m-2 0h0m-1 0h0m0 0h0m-1 0h0m-1 0h0m-1 0h0m-1 0h0m-1 0h0m0 0h0m0 0h0m0 0h0m-2 0h0m0 0h0m-1 0h0m0 0h0m0 0h0m-1 0h0m-1 0h0" stroke="#56A6CE" stroke-width="9"/>
<path transform="scale(0.25)" d="M2586 2031h0m0 5h0m-3-4h0m-11 1h0m-14 16h0m3-2h0m4 3h0m8-4h0m5-2h0m2 7h0m1-1h0m0-2h0m1-3h0m3 2h0m1 4h0m90 6h0m-5 0h0m-1 5h0m-4-2h0m-1 0h0m-64 3h0m-3-3h0m-2-3h0m-20-3h0m-7 6h0m-1 1h0m-14 2h0m-3-8h0m-4 5h0m-21 7h0m1 3h0m3-6h0m4 4h0m2 1h0m12 1h0m4 0h0m1-4h0m0-2h0m8 11h0m22-1h0m1-3h0m6-2h0m6 5h0m0-7h0m11 5h0m0 3h0m39-3h0m3 0h0m5-2h0m5 3h0m0-2h0m3-1h0m0 1h0m2 3h0m2-5h0m0 5h0m1-2h0m6-1h0m7 4h0m1-7h0m0 6h0m0-4h0m2 1h0m12 11h0m0 3h0m-3-8h0m-5 6h0m-1 0h0m-4-5h0m-3 8h0m-1 1h0m-6-10h0m-4 9h0m-4-1h0m-8-7h0m0 3h0m-1-1h0m-1 5h0m-1-2h0m-6-3h0m-14 0h0m-38 4h0m-3-6h0m-4 6h0m0-6h0m-8-2h0m-3 1h0m-2 0h0m-8 7h0m-1 3h0m-2-6h0m-1 6h0m-3-9h0m-1-2h0m-6 5h0m-3 3h0m-2-7h0m-4 2h0m-3 3h0m-17 4h0m-1-4h0m-4 1h0m-8-4h0m-2 1h0m-49 19h0m44-3h0m4-6h0m10 1h0m6-1h0m9 5h0m0 4h0m7-7h0m1 5h0m1-9h0m3 5h0m1 2h0m2 0h0m5-7h0m1 1h0m4 0h0m0 3h0m1 5h0m0 0h0m2-1h0m1-1h0m4-4h0m7 5h0m0 2h0m10-3h0m12 1h0m4 3h0m0-7h0m2 3h0m2-5h0m33 9h0m3-4h0m1 1h0m0 2h0m0-9h0m1 2h0m1 1h0m3 5h0m1 2h0m8-10h0m0 7h0m2 2h0m1-10h0m2 11h0m3-11h0m0 8h0m1 0h0m1-8h0m1 9h0m0-9h0m6 2h0m2 3h0m9-5h0m5 10h0m5-3h0m3-5h0m0 18h0m0 1h0m-2-8h0m-4 8h0m0 1h0m-1-2h0m0 1h0m-1-8h0m-2 7h0m-1-7h0m-2 7h0m-2-2h0m-1 4h0m0-10h0m-1 7h0m0 3h0m0-1h0m-1-1h0m-3-5h0m-1 3h0m-1 1h0m0-1h0m-3-4h0m0 5h0m0 3h0m-1 0h0m0-3h0m0-2h0m0-1h0m-1 5h0m-1-9h0m-1 8h0m0-3h0m-1 1h0m-1 3h0m0-1h0m0 2h0m-1-1h0m0-7h0m0 8h0m-2-3h0m0 3h0m-1-8h0m-1 8h0m-1-4h0m-1 4h0m0 0h0m-1 0h0m0-5h0m0 3h0m-3-2h0m-3 2h0m-2-2h0m-1 4h0m-2-6h0m-1 5h0m0-9h0m-1 10h0m0-6h0m-2 0h0m-1 6h0m-4-4h0m-1-1h0m0 4h0m0-5h0m-1-3h0m-2 8h0m-22-3h0m-1 2h0m0-3h0m-4 5h0m-1-3h0m0-7h0m-1 3h0m-3 7h0m-1-2h0m-1 2h0m-3-4h0m-3 1h0m-1-6h0m0 9h0m-3 0h0m-4-6h0m-2 6h0m-1-9h0m0 9h0m0-7h0m-4 7h0m-1 0h0m-2-7h0m0 5h0m0 0h0m-1-6h0m0 7h0m0 0h0m-1-6h0m-2 7h0m0-5h0m0 2h0m-1 2h0m-1 1h0m0-6h0m-1 0h0m0 6h0m-1-9h0m-2-1h0m0 10h0m-1 0h0m0 0h0m-2-8h0m-1 5h0m-4 3h0m-1-1h0m-1-8h0m-2 8h0m-1-5h0m0 3h0m-2 0h0m-2-3h0m-2 2h0m-3-3h0m-1 3h0m0-6h0m-1 9h0m-1-2h0m-2-6h0m-2 9h0m0-1h0m-1-8h0m-3 9h0m-4-8h0m-1 2h0m-3 0h0m-5-2h0m0 7h0m-1-8h0m-2 8h0m-1-2h0m-1 3h0m-1-2h0m0 2h0m-2 0h0m-3-2h0m-2-5h0m-7-3h0m-25 10h0m-20-4h0m-4 10h0m30 0h0m15 0h0m5 0h0m8 0h0m1 0h0m10 0h0m2 0h0m1 0h0m2 0h0m7 0h0m2 0h0m1 0h0m1 0h0m0 0h0m2 0h0m7 0h0m1 0h0m3 0h0m1 0h0m1 0h0m2 0h0m2 0h0m3 0h0m10 0h0m0 0h0m1 0h0m3 0h0m1 0h0m4 0h0m1 0h0m5 0h0m2 0h0m4 0h0m1 0h0m3 0h0m1 0h0m0 0h0m1 0h0m3 0h0m1 0h0m3 0h0m0 0h0m6 0h0m2 0h0m2 0h0m1 0h0m21 0h0m6 0h0m2 0h0m2 0h0m8 0h0m0 0h0m0 0h0m0 0h0m4 0h0m1 0h0m6 0h0m0 0h0m4 0h0m0 0h0m2 0h0m4 0h0m2 0h0m4 0h0m2 0h0m4 0h0m0 0h0m3 0h0m2 0h0m1 0h0m3 0h0m1 0h0m3 0h0m2 11h0m0 0h0m-5 0h0m-6 0h0m-1 0h0m0 0h0m0 0h0m-1 0h0m0 0h0m0 0h0m-1 0h0m0 0h0m-4 0h0m0 0h0m-2 0h0m0 0h0m-1 0h0m-1 0h0m-2 0h0m-1 0h0m-2 0h0m-3 0h0m-2 0h0m0 0h0m-1 0h0m0 0h0m-2 0h0m-1 0h0m0 0h0m0 0h0m-1 0h0m-2 0h0m-1 0h0m-1 0h0m-2 0h0m0 0h0m-2 0h0m0 0h0m0 0h0m-1 0h0m-6 0h0m-1 0h0m-2 0h0m-2 0h0m-6 0h0m0 0h0m-24 0h0m-8 0h0m-3 0h0m-1 0h0m-5 0h0m-1 0h0m-7 0h0m-1 0h0m0 0h0m-1 0h0m-1 0h0m0 0h0m-2 0h0m-2 0h0m-1 0h0m-2 0h0m0 0h0m-3 0h0m-4 0h0m-1 0h0m-3 0h0m0 0h0m-4 0h0m-1 0h0m-7 0h0m0 0h0m-2 0h0m-1 0h0m-1 0h0m0 0h0m-3 0h0m0 0h0m-4 0h0m-2 0h0m0 0h0m-2 0h0m-1 0h0m0 0h0m0 0h0m-2 0h0m-1 0h0m-13 0h0m-3 0h0m-2 0h0m0 0h0m-2 0h0m-3 0h0m-4 0h0m0 0h0m-1 0h0m-72 0h0m47 12h0m27 0h0m3 0h0m3 0h0m1 0h0m0 0h0m7 0h0m1 0h0m1 0h0m1 0h0m1 0h0m0 0h0m0 0h0m2 0h0m3 0h0m0 0h0m3 0h0m4 0h0m1 0h0m1 0h0m0 0h0m5 0h0m1 0h0m1 0h0m3 0h0m1 0h0m6 0h0m2 0h0m5 0h0m2 0h0m0 0h0m4 0h0m0 0h0m0 0h0m2 0h0m0 0h0m1 0h0m0 0h0m2 0h0m0 0h0m1 0h0m2 0h0m1 0h0m3 0h0m1 0h0m0 0h0m1 0h0m1 0h0m1 0h0m1 0h0m4 0h0m1 0h0m1 0h0m1 0h0m1 0h0m37 0h0m2 0h0m0 0h0m1 0h0m5 0h0m0 0h0m1 0h0m3 0h0m3 0h0m0 0h0m3 0h0m1 0h0m1 0h0m1 0h0m0 0h0m0 0h0m1 0h0m0 0h0m0 0h0m0 0h0m3 0h0m2 0h0m1 0h0m3 0h0m2 0h0m0 0h0m0 0h0m1 0h0m6 0h0m0 0h0m1 0h0m1 0h0m2 0h0m4 0h0m1 0h0m0 0h0m0 0h0m3 0h0m3 0h0m0 0h0m1 0h0m3 0h0m0 0h0m3 0h0m2 0h0m1 0h0m-2 16h0m-6 0h0m0 0h0m-1 0h0m-2 0h0m0 0h0m0 0h0m-5 0h0m0 0h0m0 0h0m-1 0h0m-1 0h0m-2 0h0m0 0h0m-2 0h0m0 0h0m-1 0h0m0 0h0m-3 0h0m-1 0h0m0 0h0m0 0h0m-1 0h0m-1 0h0m-1 0h0m-2 0h0m-4 0h0m0 0h0m-3 0h0m-1 0h0m-1 0h0m-1 0h0m-1 0h0m0 0h0m-4 0h0m0 0h0m-2 0h0m-1 0h0m-4 0h0m-2 0h0m-3 0h0m-2 0h0m0 0h0m-1 0h0m-2 0h0m-2 0h0m-23 0h0m-1 0h0m-1 0h0m-1 0h0m-2 0h0m-1 0h0m-6 0h0m-4 0h0m0 0h0m-3 0h0m-3 0h0m-1 0h0m-1 0h0m-3 0h0m0 0h0m0 0h0m-1 0h0m-1 0h0m-4 0h0m-1 0h0m-1 0h0m0 0h0m-1 0h0m-1 0h0m-2 0h0m-1 0h0m-1 0h0m0 0h0m-3 0h0m0 0h0m-2 0h0m0 0h0m0 0h0m-1 0h0m-4 0h0m-1 0h0m-2 0h0m-2 0h0m0 0h0m-1 0h0m-3 0h0m0 0h0m-4 0h0m-2 0h0m0 0h0m-2 0h0m-1 0h0m-2 0h0m-2 0h0m0 0h0m-1 0h0m-1 0h0m-2 0h0m0 0h0m-1 0h0m-1 0h0m-1 0h0m-1 0h0m-6 0h0m-7 0h0m-4 0h0m-3 0h0m-2 0h0m-16 0h0m-55 0h0m263 24h0m0 0h0m-1 0h0m0 0h0m-5 0h0m-2 0h0m-3 0h0m-3 0h0m-4 0h0m-1 0h0m0 0h0m0 0h0m-3 0h0m-1 0h0m-1 0h0m-1 0h0m-1 0h0m-1 0h0m-1 0h0m0 0h0m-3 0h0m0 0h0m0 0h0m-1 0h0m-4 0h0m0 0h0m0 0h0m-2 0h0m-3 0h0m-1 0h0m0 0h0m-4 0h0m-1 0h0m-3 0h0m0 0h0m-3 0h0m-3 0h0m-1 0h0m0 0h0m0 0h0m-3 0h0m-4 0h0m-1 0h0m-20 0h0m-3 0h0m-2 0h0m0 0h0m-1 0h0m-1 0h0m-1 0h0m-3 0h0m-3 0h0m-1 0h0m0 0h0m-3 0h0m-1 0h0m-4 0h0m-3 0h0m0 0h0m-1 0h0m0 0h0m-1 0h0m-2 0h0m-1 0h0m0 0h0m-1 0h0m-2 0h0m0 0h0m-3 0h0m0 0h0m-2 0h0m-2 0h0m0 0h0m0 0h0m-3 0h0m0 0h0m-1 0h0m-2 0h0m0 0h0m0 0h0m0 0h0m0 0h0m0 0h0m-1 0h0m0 0h0m-1 0h0m-3 0h0m-1 0h0m0 0h0m-3 0h0m0 0h0m-3 0h0m0 0h0m-2 0h0m0 0h0m-1 0h0m0 0h0m0 0h0m-1 0h0m-2 0h0m0 0h0m-1 0h0m-2 0h0m0 0h0m0 0h0m-2 0h0m0 0h0m-1 0h0m-1 0h0m-4 0h0m-5 0h0m-1 0h0m-2 0h0m-1 0h0m-1 0h0m0 0h0m0 0h0m-1 0h0m-2 0h0m-4 0h0m-6 0h0m-2 0h0m0 0h0m0 0h0m-8 0h0m-1 0h0m-1 0h0m-1 0h0m0 0h0m-3 0h0m0 0h0m-6 0h0m-1 0h0m-4 0h0m0 0h0m-4 0h0m-1 0h0m-1 0h0m0 0h0m-1 0h0m-2 0h0m0 0h0m-2 0h0m0 0h0m-1 0h0m0 0h0m-1 0h0m-5 0h0m0 0h0m-4 0h0m-1 0h0m-1 0h0m0 0h0m-2 0h0m0 0h0m-1 0h0m0 0h0m-1 0h0m-1 0h0m-2 0h0m-2 0h0m-1 0h0m0 0h0m-2 0h0m0 0h0m0 0h0m-1 0h0m-1 0h0m-1 0h0m-2 0h0m-2 0h0m-4 0h0m0 0h0m-6 0h0m-1 0h0m0 0h0m-1 0h0m265 41h0m-1 0h0m-1 0h0m0 0h0m-2 0h0m0 0h0m0 0h0m-2 0h0m-1 0h0m-6 0h0m-1 0h0m-2 0h0m0 0h0m-1 0h0m0 0h0m-1 0h0m-2 0h0m-2 0h0m-2 0h0m0 0h0m-1 0h0m-2 0h0m-2 0h0m0 0h0m-2 0h0m-1 0h0m-2 0h0m-1 0h0m-1 0h0m0 0h0m-1 0h0m-1 0h0m-1 0h0m-3 0h0m-1 0h0m-3 0h0m-3 0h0m-6 0h0m0 0h0m-3 0h0m-3 0h0m-2 0h0m-22 0h0m-3 0h0m0 0h0m-1 0h0m-2 0h0m0 0h0m-1 0h0m-2 0h0m-4 0h0m-3 0h0m-3 0h0m0 0h0m-1 0h0m0 0h0m-1 0h0m-1 0h0m-2 0h0m-1 0h0m0 0h0m0 0h0m-1 0h0m0 0h0m-4 0h0m-1 0h0m-1 0h0m-2 0h0m-1 0h0m0 0h0m-1 0h0m-1 0h0m-1 0h0m0 0h0m-1 0h0m-1 0h0m-1 0h0m0 0h0m-2 0h0m-2 0h0m-1 0h0m-5 0h0m-1 0h0m-1 0h0m-2 0h0m0 0h0m-3 0h0m-1 0h0m0 0h0m0 0h0m-1 0h0m-5 0h0m-1 0h0m0 0h0m-3 0h0m-5 0h0m-1 0h0m0 0h0m-1 0h0m0 0h0m-4 0h0m-1 0h0m-1 0h0m-3 0h0m0 0h0m-5 0h0m0 0h0m-1 0h0m-1 0h0m-9 0h0m-1 0h0m-1 0h0m-1 0h0m-1 0h0m-1 0h0m-1 0h0m-1 0h0m-1 0h0m-3 0h0m-3 0h0m0 0h0m0 0h0m-1 0h0m0 0h0m-1 0h0m-1 0h0m-1 0h0m-1 0h0m0 0h0m-1 0h0m0 0h0m-1 0h0m-1 0h0m-2 0h0m0 0h0m0 0h0m-1 0h0m-4 0h0m-1 0h0m-1 0h0m-3 0h0m-2 0h0m0 0h0m-1 0h0m0 0h0m0 0h0m-4 0h0m-3 0h0m-1 0h0m-2 0h0m-1 0h0m-1 0h0m-3 0h0m-1 0h0m0 0h0m-1 0h0m-1 0h0m-2 0h0m-2 0h0m-1 0h0m-2 0h0m-1 0h0m0 0h0m-1 0h0m-2 0h0m-2 0h0m0 0h0m0 0h0m-3 0h0m0 0h0m-4 0h0m-2 0h0m0 0h0m-3 0h0m0 0h0m-1 0h0m-1 0h0m-2 0h0" stroke="#4F66AE" stroke-width="9"/>
<path d="M576.4 555.3L578.1 555.3L579.8 555.3L581.6 555.3L583.3 555.3L585 555.3L586.7 555.2L588.5 555.1L590.2 554.9L591.9 554.7L593.6 554.4L595.4 554.2L597.1 553.9L598.8 553.6L600.5 553.1L602.2 552.7L604 552.1L605.7 551.6L607.4 551L609.1 550.5L610.9 549.9L612.6 549.4L614.3 548.8L616 548.3L617.8 547.8L619.5 547.3L621.2 546.7L622.9 546.2L624.6 545.7L626.4 545.2L628.1 544.8L629.8 544.3L631.5 544L633.3 543.7L635 543.5L636.7 543.3L638.4 543.1L640.2 543L641.9 543L643.6 543.1L645.3 543.2L647 543.3L648.8 543.5L650.5 543.6L652.2 543.7L653.9 543.8L655.7 543.9L657.4 543.9L659.1 543.8L660.8 543.6L662.6 543.3L664.3 543L666 542.7L667.7 542.3L669.4 541.8L671.2 541.2L672.9 540.6L674.6 539.9L676.3 539.4L678.1 538.9" stroke="#111" stroke-width="1.35" stroke-linecap="butt"/>
<path d="M571.7 501.8V557.4H684.5" stroke="#1a1a1a" stroke-width="1.3" stroke-linecap="butt"/>
<path transform="scale(0.25)" d="M1811 2483h0m119 0h0m-61 28h0m-52 0h0m-8 0h0m-1 0h0m0 0h0m-2 0h0m-9 0h0m136 47h0m-3 0h0m0 0h0m-1 0h0m0 0h0m-1 0h0m0 0h0m-1 0h0m-5 0h0m0 0h0m-1 0h0m-4 0h0m-5 0h0m-1 0h0m-2 0h0m0 0h0m-1 0h0m0 0h0m-1 0h0m-2 0h0m0 0h0m-1 0h0m0 0h0m-1 0h0m-2 0h0m-1 0h0m0 0h0m-1 0h0m-3 0h0m-3 0h0m-4 0h0m-2 0h0m-1 0h0m-4 0h0m-3 0h0m-2 0h0m-1 0h0m-2 0h0m-5 0h0m-2 0h0m-2 0h0m0 0h0m-1 0h0m-3 0h0m-1 0h0m-2 0h0m0 0h0m-1 0h0m-2 0h0m-1 0h0m-6 0h0m-2 0h0m-3 0h0m-1 0h0m-4 0h0m-3 0h0m-2 0h0m-3 0h0m-1 0h0m-2 0h0m-1 0h0m-1 0h0m0 0h0m-3 0h0m-3 0h0m0 0h0m0 0h0m0 0h0m0 0h0m0 0h0m-1 0h0m-1 0h0m0 0h0m0 0h0m-1 0h0m-1 0h0m0 0h0m0 0h0m0 0h0m0 0h0m0 0h0m0 0h0m-1 0h0m0 0h0m0 0h0m0 0h0m0 0h0m0 0h0m-1 0h0m0 0h0m0 0h0m0 0h0m0 0h0m0 0h0m-1 0h0m0 0h0m0 0h0m0 0h0m0 0h0m-1 0h0m0 0h0m0 0h0m-1 0h0m0 0h0m-3 0h0m0 0h0m0 0h0m0 0h0m0 0h0m-1 0h0m0 0h0m0 0h0m-1 0h0m0 0h0m0 0h0m0 0h0m-1 0h0m0 0h0m0 0h0m0 0h0m0 0h0m-1 0h0m-1 0h0m0 0h0m0 0h0m0 0h0m-1 0h0m0 0h0m0 0h0m0 0h0m-1 0h0m0 0h0m0 0h0m-1 0h0m0 0h0m0 0h0m-1 0h0m0 0h0m0 0h0m0 0h0m-1 0h0m0 0h0m0 0h0m-1 0h0m0 0h0m0 0h0m-1 0h0m0 0h0m0 0h0m-1 0h0m0 0h0m0 0h0m-1 0h0m0 0h0m0 0h0m-1 0h0m0 0h0m0 0h0m-1 0h0m0 0h0m0 0h0" stroke="#B356B2" stroke-width="9"/>
<path transform="scale(0.25)" d="M2029 2405h0m26 6h0m85 6h0m-105 1h0m-9-3h0m-16 3h0m-46 9h0m24 2h0m2 0h0m16-5h0m47 5h0m14-4h0m116 4h0m-29 9h0m-23 0h0m-3 0h0m-13 0h0m-3 0h0m-34 0h0m-8 0h0m-3 0h0m-5 0h0m-41 0h0m-10 0h0m-10 0h0m-14 0h0m25 13h0m10 0h0m0 0h0m6 0h0m12 0h0m7 0h0m4 0h0m10 0h0m11 0h0m42 0h0m14 0h0m4 0h0m4 0h0m13 0h0m3 0h0m9 0h0m12 0h0m16 0h0m-19 14h0m-16 0h0m-1 0h0m-1 0h0m-6 0h0m-12 0h0m-4 0h0m-9 0h0m-37 0h0m-2 0h0m-2 0h0m-8 0h0m-3 0h0m-12 0h0m-2 0h0m-6 0h0m-5 0h0m-4 0h0m-5 0h0m-2 0h0m-6 0h0m-9 0h0m-3 0h0m-1 0h0m-10 0h0m-13 18h0m14 0h0m3 0h0m13 0h0m4 0h0m6 0h0m1 0h0m3 0h0m3 0h0m2 0h0m0 0h0m1 0h0m3 0h0m4 0h0m3 0h0m4 0h0m0 0h0m1 0h0m8 0h0m6 0h0m5 0h0m15 0h0m2 0h0m33 0h0m5 0h0m1 0h0m12 0h0m2 0h0m4 0h0m10 0h0m8 0h0m6 0h0m0 0h0m1 28h0m-2 0h0m-5 0h0m0 0h0m-2 0h0m-3 0h0m-1 0h0m-1 0h0m-4 0h0m-2 0h0m-1 0h0m-8 0h0m0 0h0m-6 0h0m-3 0h0m-1 0h0m-16 0h0m-3 0h0m-1 0h0m-25 0h0m-3 0h0m-4 0h0m-4 0h0m-2 0h0m-15 0h0m-10 0h0m0 0h0m-2 0h0m-1 0h0m0 0h0m-3 0h0m0 0h0m-3 0h0m0 0h0m-2 0h0m-2 0h0m-3 0h0m0 0h0m-3 0h0m-9 0h0m-1 0h0m-2 0h0m-13 0h0m-3 0h0m-9 0h0m-1 0h0m-8 0h0m-10 0h0m-6 0h0m-8 0h0m-5 0h0m-4 0h0m-1 0h0m-8 0h0m-16 0h0m-2 0h0m-3 0h0m-5 0h0m-2 0h0m-1 0h0m-11 0h0m286 47h0m-2 0h0m-1 0h0m-3 0h0m-9 0h0m-3 0h0m0 0h0m-1 0h0m0 0h0m0 0h0m-2 0h0m-1 0h0m-6 0h0m-2 0h0m0 0h0m-1 0h0m-2 0h0m-1 0h0m-1 0h0m-2 0h0m-1 0h0m-1 0h0m0 0h0m0 0h0m-2 0h0m0 0h0m0 0h0m-1 0h0m0 0h0m-1 0h0m0 0h0m-1 0h0m-3 0h0m0 0h0m-1 0h0m-1 0h0m0 0h0m0 0h0m-1 0h0m-3 0h0m0 0h0m-1 0h0m-1 0h0m0 0h0m-1 0h0m0 0h0m-2 0h0m-1 0h0m-2 0h0m-1 0h0m0 0h0m0 0h0m0 0h0m-1 0h0m-2 0h0m0 0h0m-1 0h0m0 0h0m-1 0h0m-2 0h0m-1 0h0m-1 0h0m0 0h0m0 0h0m-1 0h0m0 0h0m-1 0h0m-2 0h0m-2 0h0m-1 0h0m0 0h0m-1 0h0m-2 0h0m0 0h0m0 0h0m-3 0h0m-20 0h0m-2 0h0m-1 0h0m-2 0h0m-1 0h0m-1 0h0m-1 0h0m0 0h0m-1 0h0m0 0h0m0 0h0m-1 0h0m-1 0h0m-1 0h0m-2 0h0m-1 0h0m0 0h0m-1 0h0m-1 0h0m-1 0h0m-1 0h0m-1 0h0m-1 0h0m-2 0h0m-1 0h0m0 0h0m-1 0h0m-1 0h0m-1 0h0m-1 0h0m0 0h0m-2 0h0m-1 0h0m0 0h0m-1 0h0m-2 0h0m0 0h0m0 0h0m-1 0h0m-2 0h0m-1 0h0m-3 0h0m0 0h0m0 0h0m0 0h0m-1 0h0m-1 0h0m0 0h0m0 0h0m-1 0h0m-1 0h0m0 0h0m-2 0h0m-2 0h0m0 0h0m-1 0h0m0 0h0m-1 0h0m0 0h0m-2 0h0m-4 0h0m-1 0h0m-1 0h0m-2 0h0m0 0h0m-3 0h0m0 0h0m-3 0h0m-2 0h0m-3 0h0m-1 0h0m-2 0h0m0 0h0m-2 0h0m-2 0h0m-1 0h0m-3 0h0m-1 0h0m-3 0h0m-1 0h0m-2 0h0m-2 0h0m-1 0h0m-2 0h0m0 0h0m-4 0h0m0 0h0m-4 0h0m-2 0h0m-2 0h0m-1 0h0m-13 0h0m-1 0h0m0 0h0m-1 0h0m-2 0h0m-3 0h0m-1 0h0m-1 0h0m0 0h0m-1 0h0m-1 0h0m-5 0h0m-1 0h0m-2 0h0m-4 0h0m-2 0h0m0 0h0m-1 0h0m-1 0h0m-8 0h0m-6 0h0m-8 0h0m-3 0h0m-1 0h0m-1 0h0m0 0h0m-1 0h0m-2 0h0m-2 0h0m0 0h0" stroke="#4F66AE" stroke-width="9"/>
<path transform="scale(0.25)" d="M2159 2406h0m-116 10h0m-36 6h0m22 8h0m136 8h0m-13 0h0m-2 13h0m27 0h0m-164 14h0m-6 0h0m21 18h0m105 0h0m37 28h0m-42 0h0m-12 0h0m-39 0h0m-3 0h0m-4 0h0m-19 0h0m-16 0h0m-33 0h0m-21 0h0m0 0h0m-4 0h0m-17 0h0m-7 0h0m-1 0h0m-8 0h0m-5 0h0m-25 0h0m-10 0h0m-17 0h0m292 47h0m-2 0h0m-1 0h0m0 0h0m0 0h0m-1 0h0m-1 0h0m-3 0h0m0 0h0m-1 0h0m-3 0h0m-1 0h0m0 0h0m-4 0h0m-1 0h0m0 0h0m-1 0h0m-1 0h0m0 0h0m-2 0h0m-1 0h0m-1 0h0m0 0h0m-4 0h0m-3 0h0m-3 0h0m0 0h0m-1 0h0m0 0h0m0 0h0m-7 0h0m-1 0h0m-2 0h0m0 0h0m-1 0h0m-1 0h0m-2 0h0m0 0h0m-4 0h0m-3 0h0m0 0h0m-3 0h0m-1 0h0m-3 0h0m-2 0h0m-1 0h0m-1 0h0m-2 0h0m-1 0h0m-19 0h0m-1 0h0m-1 0h0m-3 0h0m-1 0h0m-1 0h0m-1 0h0m-2 0h0m0 0h0m-1 0h0m-2 0h0m-2 0h0m-2 0h0m0 0h0m0 0h0m-1 0h0m-2 0h0m-1 0h0m-1 0h0m-1 0h0m0 0h0m0 0h0m-2 0h0m0 0h0m0 0h0m-2 0h0m-3 0h0m-4 0h0m-1 0h0m-1 0h0m-1 0h0m-1 0h0m0 0h0m-3 0h0m-1 0h0m0 0h0m0 0h0m-1 0h0m-1 0h0m-2 0h0m-1 0h0m-1 0h0m0 0h0m-2 0h0m-3 0h0m-2 0h0m0 0h0m0 0h0m-2 0h0m-2 0h0m0 0h0m-3 0h0m-1 0h0m-1 0h0m0 0h0m-2 0h0m-1 0h0m-1 0h0m0 0h0m-3 0h0m-2 0h0m-1 0h0m0 0h0m-1 0h0m-1 0h0m-2 0h0m0 0h0m-1 0h0m-1 0h0m-1 0h0m-1 0h0m-1 0h0m-1 0h0m-1 0h0m0 0h0m-1 0h0m0 0h0m-3 0h0m-2 0h0m0 0h0m0 0h0m-2 0h0m0 0h0m0 0h0m-3 0h0m0 0h0m-1 0h0m-1 0h0m0 0h0m0 0h0m-1 0h0m-1 0h0m0 0h0m0 0h0m-1 0h0m0 0h0m-1 0h0m-1 0h0m0 0h0m-3 0h0m-1 0h0m-3 0h0m0 0h0m-1 0h0m0 0h0m-3 0h0m-1 0h0m0 0h0m-2 0h0m-4 0h0m-1 0h0m0 0h0m0 0h0m-1 0h0m-3 0h0m0 0h0m0 0h0m-1 0h0m-2 0h0m0 0h0m-4 0h0m-1 0h0m-1 0h0m-2 0h0m-1 0h0m0 0h0m0 0h0m0 0h0m-3 0h0m0 0h0m-1 0h0m-4 0h0m-1 0h0m-1 0h0m0 0h0m-2 0h0m-2 0h0m-1 0h0m0 0h0m-4 0h0m0 0h0m-1 0h0m0 0h0m-4 0h0m-1 0h0m-6 0h0m-1 0h0m-2 0h0m-3 0h0m-3 0h0m-1 0h0m0 0h0m-1 0h0m0 0h0m-1 0h0m0 0h0m-1 0h0m0 0h0m0 0h0m0 0h0m-1 0h0m-1 0h0m0 0h0m-1 0h0m-2 0h0m0 0h0m0 0h0m-1 0h0m0 0h0m-1 0h0m0 0h0m-3 0h0m0 0h0m-2 0h0m0 0h0m-5 0h0m0 0h0m-1 0h0m-2 0h0" stroke="#56A6CE" stroke-width="9"/>
<path transform="scale(0.25)" d="M2168 2396h0m-25-6h0m-83 9h0m-17-10h0m-16 18h0m7-5h0m89-1h0m3 6h0m2-4h0m38 20h0m0-2h0m-110 2h0m-1-2h0m-19-2h0m-25 3h0m-5-9h0m12 17h0m22-5h0m13 5h0m5-4h0m2-1h0m3 0h0m18 5h0m28-1h0m16 0h0m35 1h0m3 8h0m-7 0h0m-4 0h0m-19 0h0m-4 0h0m-15 0h0m-6 0h0m-29 0h0m-21 0h0m-4 0h0m-6 0h0m-3 0h0m-22 0h0m-8 0h0m-17 0h0m-8 0h0m-3 13h0m5 0h0m40 0h0m8 0h0m5 0h0m13 0h0m11 0h0m1 0h0m17 0h0m26 0h0m14 0h0m7 0h0m13 0h0m1 0h0m4 0h0m2 0h0m5 0h0m7 0h0m10 14h0m-1 0h0m-10 0h0m-2 0h0m-5 0h0m-3 0h0m-8 0h0m-7 0h0m-3 0h0m-1 0h0m-2 0h0m0 0h0m-1 0h0m-2 0h0m-4 0h0m-13 0h0m-1 0h0m-26 0h0m-6 0h0m-7 0h0m-18 0h0m-3 0h0m-3 0h0m-6 0h0m-2 0h0m-4 0h0m-3 0h0m-8 0h0m-5 0h0m-32 18h0m1 0h0m7 0h0m1 0h0m15 0h0m4 0h0m2 0h0m1 0h0m3 0h0m6 0h0m2 0h0m3 0h0m1 0h0m2 0h0m1 0h0m2 0h0m0 0h0m4 0h0m4 0h0m1 0h0m3 0h0m0 0h0m0 0h0m2 0h0m2 0h0m2 0h0m2 0h0m3 0h0m3 0h0m3 0h0m20 0h0m24 0h0m6 0h0m3 0h0m2 0h0m11 0h0m3 0h0m16 0h0m3 0h0m3 0h0m6 0h0m2 0h0m1 0h0m3 0h0m0 0h0m3 0h0m-2 28h0m-2 0h0m-1 0h0m-2 0h0m-1 0h0m-1 0h0m-3 0h0m-5 0h0m-5 0h0m-3 0h0m-1 0h0m-2 0h0m-4 0h0m0 0h0m-1 0h0m-1 0h0m-7 0h0m0 0h0m-4 0h0m-3 0h0m-1 0h0m0 0h0m-1 0h0m0 0h0m0 0h0m-1 0h0m-4 0h0m-6 0h0m-2 0h0m-27 0h0m-1 0h0m0 0h0m-1 0h0m-5 0h0m-14 0h0m-3 0h0m-3 0h0m-5 0h0m-5 0h0m-3 0h0m-4 0h0m-6 0h0m-1 0h0m-9 0h0m-4 0h0m-9 0h0m-3 0h0m-8 0h0m-3 0h0m-9 0h0m-11 0h0m0 0h0m-1 0h0m-4 0h0m0 0h0m-1 0h0m-13 0h0m-4 0h0m-4 0h0m-4 0h0m-2 0h0m0 0h0m-1 0h0m-8 0h0m-1 0h0m-2 0h0m-4 0h0m-2 0h0m-12 0h0m-12 0h0m270 47h0m-1 0h0m-1 0h0m-3 0h0m-1 0h0m-2 0h0m-1 0h0m-1 0h0m-2 0h0m-1 0h0m-1 0h0m0 0h0m-3 0h0m0 0h0m-1 0h0m0 0h0m-1 0h0m0 0h0m-2 0h0m-2 0h0m-1 0h0m-1 0h0m0 0h0m0 0h0m-1 0h0m-1 0h0m-1 0h0m0 0h0m0 0h0m0 0h0m-1 0h0m0 0h0m0 0h0m-1 0h0m-1 0h0m0 0h0m-1 0h0m-2 0h0m0 0h0m0 0h0m0 0h0m0 0h0m0 0h0m-1 0h0m-1 0h0m0 0h0m0 0h0m-1 0h0m-1 0h0m0 0h0m-2 0h0m-1 0h0m-2 0h0m0 0h0m-2 0h0m0 0h0m0 0h0m0 0h0m-3 0h0m0 0h0m0 0h0m-2 0h0m-1 0h0m0 0h0m-1 0h0m0 0h0m-2 0h0m-1 0h0m-3 0h0m0 0h0m0 0h0m-1 0h0m0 0h0m0 0h0m-7 0h0m-1 0h0m-16 0h0m-1 0h0m-2 0h0m-2 0h0m-1 0h0m0 0h0m0 0h0m-4 0h0m0 0h0m-3 0h0m-2 0h0m0 0h0m-1 0h0m0 0h0m0 0h0m-2 0h0m-1 0h0m0 0h0m-2 0h0m-2 0h0m0 0h0m0 0h0m-1 0h0m0 0h0m-2 0h0m0 0h0m-1 0h0m0 0h0m-1 0h0m0 0h0m0 0h0m0 0h0m-1 0h0m0 0h0m-1 0h0m-2 0h0m0 0h0m-1 0h0m0 0h0m-1 0h0m0 0h0m0 0h0m0 0h0m-1 0h0m0 0h0m-1 0h0m0 0h0m0 0h0m-1 0h0m-1 0h0m0 0h0m0 0h0m-1 0h0m-1 0h0m-1 0h0m0 0h0m-1 0h0m-1 0h0m0 0h0m0 0h0m-1 0h0m0 0h0m-1 0h0m0 0h0m0 0h0m0 0h0m0 0h0m-1 0h0m-1 0h0m0 0h0m-1 0h0m-2 0h0m0 0h0m-1 0h0m0 0h0m-1 0h0m-1 0h0m0 0h0m-1 0h0m-2 0h0m0 0h0m-1 0h0m-2 0h0m0 0h0m0 0h0m-3 0h0m-1 0h0m-1 0h0m-1 0h0m-1 0h0m0 0h0m-4 0h0m-1 0h0m0 0h0m-3 0h0m0 0h0m0 0h0m0 0h0m-1 0h0m0 0h0m0 0h0m-1 0h0m-1 0h0m0 0h0m0 0h0m-2 0h0m0 0h0m-1 0h0m-2 0h0m0 0h0m-3 0h0m-3 0h0m0 0h0m-3 0h0m-2 0h0m-1 0h0m-1 0h0m-1 0h0m-2 0h0m-1 0h0m0 0h0m-3 0h0m-1 0h0m-1 0h0m0 0h0m-1 0h0m0 0h0m-1 0h0m0 0h0m-2 0h0m-1 0h0m-3 0h0m-8 0h0m-2 0h0m0 0h0m-4 0h0m-4 0h0m-1 0h0m-2 0h0m-4 0h0m-5 0h0m-6 0h0m-3 0h0m-2 0h0m-2 0h0m-6 0h0m0 0h0m-2 0h0m-1 0h0m-2 0h0m-2 0h0m-3 0h0m-2 0h0m-2 0h0m0 0h0m-4 0h0m-1 0h0m-2 0h0m-4 0h0" stroke="#4F66AE" stroke-width="9"/>
<path d="M446.1 639.5L447.8 639.5L449.5 639.5L451.3 639.5L453 639.4L454.7 639.4L456.4 639.4L458.2 639.4L459.9 639.4L461.6 639.4L463.3 639.4L465.1 639.4L466.8 639.3L468.5 639.3L470.2 639.3L471.9 639.3L473.7 639.3L475.4 639.3L477.1 639.2L478.8 639.2L480.6 639.2L482.3 639.1L484 639.1L485.7 639L487.5 639L489.2 638.9L490.9 638.9L492.6 638.8L494.3 638.8L496.1 638.7L497.8 638.7L499.5 638.6L501.2 638.5L503 638.4L504.7 638.3L506.4 638.2L508.1 638.1L509.9 638L511.6 637.9L513.3 637.8L515 637.7L516.7 637.6L518.5 637.5L520.2 637.4L521.9 637.3L523.6 637.2L525.4 637.1L527.1 637L528.8 636.9L530.5 636.8L532.3 636.7L534 636.6L535.7 636.5L537.4 636.5L539.1 636.5L540.9 636.6L542.6 636.6L544.3 636.6L546 636.7L547.8 636.7" stroke="#111" stroke-width="1.35" stroke-linecap="butt"/>
<path d="M441.4 586.1V642.1H553.4" stroke="#1a1a1a" stroke-width="1.3" stroke-linecap="butt"/>
<path transform="scale(0.25)" d="M2431 2515h0m-44 0h0m-30 0h0m-18 0h0m-13 0h0m-1 0h0m-9 0h0m138 42h0m-1 0h0m-2 0h0m0 0h0m-2 0h0m-2 0h0m-1 0h0m-1 0h0m-2 0h0m-1 0h0m0 0h0m-2 0h0m-4 0h0m-2 0h0m-7 0h0m0 0h0m-2 0h0m-3 0h0m-5 0h0m-1 0h0m-1 0h0m-2 0h0m0 0h0m-1 0h0m-4 0h0m-2 0h0m-2 0h0m0 0h0m0 0h0m-1 0h0m-1 0h0m-2 0h0m-3 0h0m0 0h0m-2 0h0m0 0h0m-1 0h0m-3 0h0m0 0h0m-3 0h0m-1 0h0m-2 0h0m0 0h0m-1 0h0m0 0h0m-4 0h0m-1 0h0m-1 0h0m-1 0h0m0 0h0m0 0h0m-1 0h0m-1 0h0m-1 0h0m0 0h0m-1 0h0m-1 0h0m-2 0h0m-3 0h0m-5 0h0m-1 0h0m-1 0h0m0 0h0m-2 0h0m-3 0h0m-1 0h0m-5 0h0m-1 0h0m0 0h0m0 0h0m-2 0h0m0 0h0m-6 0h0m-1 0h0m0 0h0m0 0h0m-1 0h0m0 0h0m-1 0h0m0 0h0m0 0h0m-1 0h0m0 0h0m0 0h0m-1 0h0m0 0h0m0 0h0m0 0h0m0 0h0m-1 0h0m0 0h0m0 0h0m0 0h0m0 0h0m-1 0h0m0 0h0m0 0h0m0 0h0m0 0h0m0 0h0m-1 0h0m0 0h0m-1 0h0m-1 0h0m0 0h0m0 0h0m-1 0h0m0 0h0m-1 0h0m0 0h0m0 0h0m-1 0h0m0 0h0m0 0h0m0 0h0m-1 0h0m0 0h0m0 0h0m0 0h0m-1 0h0m0 0h0m0 0h0m0 0h0m0 0h0m-1 0h0m-1 0h0m0 0h0m0 0h0m0 0h0m0 0h0m0 0h0m-1 0h0m-1 0h0m0 0h0m-1 0h0m0 0h0m0 0h0m0 0h0m-1 0h0m0 0h0m0 0h0m-1 0h0m0 0h0m0 0h0m-1 0h0m0 0h0m0 0h0m-1 0h0m0 0h0m0 0h0m0 0h0m-1 0h0m0 0h0m0 0h0m-1 0h0m0 0h0m0 0h0m0 0h0m0 0h0m0 0h0m-1 0h0m-1 0h0m-2 0h0" stroke="#B356B2" stroke-width="9"/>
<path transform="scale(0.25)" d="M2687 2393h0m-20 0h0m-58 6h0m59 21h0m-10 2h0m-15-9h0m-48 14h0m11 6h0m37-2h0m6-2h0m37 12h0m0 1h0m-33 0h0m-4-1h0m-62-2h0m-38-2h0m-40 2h0m15 11h0m16 0h0m1 0h0m8 0h0m12 0h0m7 0h0m10 0h0m15 0h0m55 0h0m14 0h0m13 0h0m2 0h0m5 0h0m32 11h0m-6 0h0m-18 0h0m-4 0h0m-2 0h0m-2 0h0m-1 0h0m-6 0h0m-3 0h0m-2 0h0m-1 0h0m-7 0h0m-15 0h0m-54 0h0m0 0h0m-13 0h0m-3 0h0m-9 0h0m-2 0h0m-17 0h0m-4 0h0m-33 0h0m-6 0h0m0 0h0m7 12h0m5 0h0m0 0h0m6 0h0m3 0h0m11 0h0m5 0h0m17 0h0m4 0h0m11 0h0m18 0h0m10 0h0m4 0h0m34 0h0m2 0h0m10 0h0m0 0h0m2 0h0m2 0h0m11 0h0m2 0h0m7 0h0m14 0h0m-6 17h0m-11 0h0m-1 0h0m0 0h0m-7 0h0m0 0h0m-3 0h0m-12 0h0m-5 0h0m-7 0h0m-2 0h0m0 0h0m-2 0h0m0 0h0m-1 0h0m-33 0h0m-8 0h0m-5 0h0m-2 0h0m-17 0h0m-3 0h0m-6 0h0m-4 0h0m-4 0h0m-1 0h0m-1 0h0m-8 0h0m-3 0h0m-9 0h0m-5 0h0m-2 0h0m-2 0h0m-2 0h0m-4 0h0m-1 0h0m194 25h0m-17 0h0m-1 0h0m-15 0h0m-1 0h0m-3 0h0m-6 0h0m-2 0h0m-6 0h0m-5 0h0m-13 0h0m-38 0h0m0 0h0m-7 0h0m-2 0h0m-11 0h0m-2 0h0m-1 0h0m-1 0h0m-1 0h0m-2 0h0m-2 0h0m-10 0h0m-3 0h0m-2 0h0m0 0h0m0 0h0m-1 0h0m-2 0h0m-2 0h0m0 0h0m-4 0h0m-2 0h0m-1 0h0m-2 0h0m-11 0h0m-3 0h0m-2 0h0m-11 0h0m-1 0h0m-3 0h0m-10 0h0m-3 0h0m-9 0h0m0 0h0m-3 0h0m-1 0h0m-5 0h0m-30 0h0m-12 0h0m-1 0h0m-3 0h0m-2 0h0m-8 0h0m286 42h0m-4 0h0m-3 0h0m-9 0h0m-1 0h0m0 0h0m0 0h0m0 0h0m-1 0h0m-1 0h0m0 0h0m-1 0h0m0 0h0m-3 0h0m-1 0h0m-2 0h0m0 0h0m-1 0h0m-4 0h0m-1 0h0m0 0h0m-3 0h0m-1 0h0m-1 0h0m-2 0h0m0 0h0m-1 0h0m-2 0h0m-1 0h0m0 0h0m-2 0h0m-1 0h0m-1 0h0m0 0h0m0 0h0m0 0h0m-3 0h0m-1 0h0m-1 0h0m0 0h0m-1 0h0m0 0h0m-1 0h0m-1 0h0m0 0h0m-1 0h0m0 0h0m0 0h0m-1 0h0m0 0h0m-2 0h0m0 0h0m-2 0h0m0 0h0m0 0h0m-1 0h0m0 0h0m0 0h0m-1 0h0m-1 0h0m-2 0h0m0 0h0m-1 0h0m0 0h0m-2 0h0m0 0h0m-1 0h0m0 0h0m-1 0h0m-1 0h0m-2 0h0m0 0h0m-1 0h0m-2 0h0m-3 0h0m0 0h0m-18 0h0m-2 0h0m-3 0h0m-2 0h0m-3 0h0m-2 0h0m-1 0h0m-6 0h0m0 0h0m-1 0h0m-2 0h0m0 0h0m-1 0h0m0 0h0m0 0h0m-2 0h0m0 0h0m-1 0h0m0 0h0m-2 0h0m-8 0h0m-1 0h0m-1 0h0m0 0h0m-1 0h0m0 0h0m-3 0h0m-1 0h0m0 0h0m-3 0h0m-1 0h0m0 0h0m0 0h0m-2 0h0m0 0h0m-1 0h0m-1 0h0m-1 0h0m0 0h0m0 0h0m-1 0h0m0 0h0m-1 0h0m0 0h0m-1 0h0m0 0h0m-1 0h0m-1 0h0m-5 0h0m-2 0h0m0 0h0m-1 0h0m-1 0h0m-1 0h0m0 0h0m-2 0h0m-2 0h0m0 0h0m-2 0h0m0 0h0m-1 0h0m0 0h0m0 0h0m-1 0h0m-1 0h0m-1 0h0m0 0h0m0 0h0m-1 0h0m-2 0h0m-1 0h0m0 0h0m0 0h0m-1 0h0m0 0h0m0 0h0m0 0h0m-2 0h0m-1 0h0m-1 0h0m-2 0h0m0 0h0m-1 0h0m-4 0h0m-1 0h0m-2 0h0m-1 0h0m-1 0h0m-1 0h0m0 0h0m-2 0h0m0 0h0m-1 0h0m-4 0h0m-5 0h0m-2 0h0m-3 0h0m-5 0h0m-1 0h0m-2 0h0m-1 0h0m-2 0h0m-14 0h0m0 0h0m-1 0h0m-7 0h0m-5 0h0m-7 0h0m-5 0h0m0 0h0m-9 0h0m-1 0h0m0 0h0m-2 0h0m-3 0h0m-5 0h0m0 0h0m0 0h0" stroke="#4F66AE" stroke-width="9"/>
<path transform="scale(0.25)" d="M2553 2400h0m109 44h0m-80-2h0m-14-5h0m-10 7h0m111 6h0m-62 11h0m-59 12h0m4 0h0m1 0h0m3 0h0m4 0h0m2 0h0m8 0h0m1 0h0m36 0h0m88 17h0m-45 0h0m-7 0h0m-41 0h0m-10 0h0m-27 0h0m-50 0h0m162 25h0m-13 0h0m-7 0h0m-7 0h0m-5 0h0m-6 0h0m0 0h0m-3 0h0m-5 0h0m-2 0h0m-19 0h0m-11 0h0m-3 0h0m-11 0h0m-6 0h0m-4 0h0m-2 0h0m-20 0h0m-6 0h0m-26 0h0m-6 0h0m-1 0h0m-13 0h0m0 0h0m-3 0h0m-7 0h0m-4 0h0m-13 0h0m-2 0h0m-12 0h0m-1 0h0m-3 0h0m-3 0h0m-1 0h0m-41 0h0m0 0h0m288 42h0m-5 0h0m0 0h0m-2 0h0m-1 0h0m-6 0h0m-1 0h0m-1 0h0m-1 0h0m-1 0h0m-5 0h0m-4 0h0m-1 0h0m-1 0h0m0 0h0m-3 0h0m-3 0h0m0 0h0m-1 0h0m-1 0h0m-1 0h0m-2 0h0m-2 0h0m0 0h0m-1 0h0m-2 0h0m0 0h0m-1 0h0m0 0h0m0 0h0m-3 0h0m-4 0h0m-1 0h0m-2 0h0m-2 0h0m-1 0h0m-1 0h0m-1 0h0m-4 0h0m-1 0h0m0 0h0m-4 0h0m-1 0h0m-16 0h0m-2 0h0m0 0h0m0 0h0m0 0h0m-2 0h0m-2 0h0m-1 0h0m-2 0h0m-1 0h0m-1 0h0m0 0h0m-1 0h0m0 0h0m-1 0h0m-3 0h0m-1 0h0m-2 0h0m-3 0h0m-3 0h0m-1 0h0m-2 0h0m-1 0h0m-3 0h0m-3 0h0m0 0h0m-2 0h0m0 0h0m-8 0h0m-2 0h0m-3 0h0m-4 0h0m0 0h0m-1 0h0m-3 0h0m-1 0h0m-6 0h0m-2 0h0m-2 0h0m0 0h0m-2 0h0m-1 0h0m-1 0h0m-3 0h0m0 0h0m0 0h0m-1 0h0m0 0h0m-1 0h0m-4 0h0m0 0h0m0 0h0m-1 0h0m0 0h0m0 0h0m0 0h0m-1 0h0m-3 0h0m-1 0h0m-2 0h0m-1 0h0m-1 0h0m0 0h0m0 0h0m-1 0h0m0 0h0m-2 0h0m-1 0h0m-4 0h0m-1 0h0m-3 0h0m-3 0h0m-1 0h0m-1 0h0m-5 0h0m-3 0h0m-2 0h0m0 0h0m-1 0h0m-2 0h0m0 0h0m-3 0h0m-1 0h0m0 0h0m-1 0h0m-1 0h0m-2 0h0m0 0h0m-1 0h0m-2 0h0m-1 0h0m0 0h0m-3 0h0m0 0h0m-1 0h0m-2 0h0m-1 0h0m-1 0h0m-4 0h0m0 0h0m-2 0h0m0 0h0m-3 0h0m-4 0h0m-2 0h0m0 0h0m-1 0h0m0 0h0m-1 0h0m-2 0h0m0 0h0m-3 0h0m0 0h0m-1 0h0m-1 0h0m-1 0h0m-1 0h0m-1 0h0m0 0h0m-1 0h0m0 0h0m-1 0h0m0 0h0m-2 0h0m0 0h0m-1 0h0m0 0h0m0 0h0m0 0h0m-1 0h0m-2 0h0m-4 0h0m-1 0h0m-1 0h0m0 0h0m-1 0h0m0 0h0m-1 0h0m0 0h0m0 0h0m-2 0h0m0 0h0m-1 0h0m-3 0h0m-2 0h0m-3 0h0m0 0h0m-1 0h0m-2 0h0m-1 0h0m0 0h0m-1 0h0m-1 0h0m0 0h0m-1 0h0m-1 0h0m0 0h0m-2 0h0" stroke="#56A6CE" stroke-width="9"/>
<path transform="scale(0.25)" d="M2646 2397h0m-52-2h0m-25 16h0m118 2h0m-28 6h0m-28-5h0m-29 9h0m-33-2h0m-10 2h0m-5-7h0m-25 2h0m-8 5h0m-5 4h0m1 6h0m14 0h0m4 0h0m51 2h0m60-5h0m42 2h0m11 9h0m-7 0h0m-3 0h0m-33-1h0m-47 2h0m-36-6h0m-12 5h0m-25-2h0m-26-1h0m-23 0h0m35 12h0m8 0h0m0 0h0m18 0h0m7 0h0m10 0h0m19 0h0m29 0h0m23 0h0m19 0h0m7 0h0m12 0h0m2 0h0m2 0h0m4 0h0m12 11h0m0 0h0m-2 0h0m-6 0h0m-9 0h0m-2 0h0m-19 0h0m-16 0h0m0 0h0m-4 0h0m-48 0h0m-7 0h0m-3 0h0m-9 0h0m-9 0h0m-1 0h0m-1 0h0m-18 0h0m-1 0h0m0 0h0m-9 0h0m-12 0h0m-44 12h0m28 0h0m24 0h0m5 0h0m3 0h0m6 0h0m1 0h0m7 0h0m5 0h0m0 0h0m7 0h0m19 0h0m5 0h0m5 0h0m11 0h0m44 0h0m18 0h0m5 0h0m3 0h0m0 0h0m1 0h0m1 0h0m4 0h0m0 0h0m9 17h0m-7 0h0m0 0h0m-4 0h0m-1 0h0m-3 0h0m-2 0h0m0 0h0m-5 0h0m-1 0h0m0 0h0m-2 0h0m-2 0h0m-3 0h0m-2 0h0m0 0h0m-7 0h0m-14 0h0m-21 0h0m-4 0h0m-2 0h0m-15 0h0m-1 0h0m-7 0h0m0 0h0m0 0h0m-7 0h0m-3 0h0m-2 0h0m-3 0h0m-2 0h0m-4 0h0m-1 0h0m-2 0h0m-3 0h0m-9 0h0m-3 0h0m-3 0h0m-10 0h0m-5 0h0m-3 0h0m-11 0h0m0 0h0m-66 0h0m248 25h0m-6 0h0m-1 0h0m-5 0h0m-2 0h0m0 0h0m-5 0h0m-5 0h0m-2 0h0m-2 0h0m0 0h0m-2 0h0m-2 0h0m-1 0h0m-5 0h0m-5 0h0m-4 0h0m-2 0h0m-8 0h0m-3 0h0m-4 0h0m-25 0h0m-9 0h0m-8 0h0m-6 0h0m-6 0h0m-1 0h0m-1 0h0m-1 0h0m-1 0h0m-1 0h0m-1 0h0m-1 0h0m-1 0h0m-5 0h0m-3 0h0m0 0h0m-1 0h0m-4 0h0m-3 0h0m-2 0h0m-1 0h0m-6 0h0m-4 0h0m0 0h0m-5 0h0m-1 0h0m-1 0h0m-13 0h0m-3 0h0m-15 0h0m-1 0h0m-5 0h0m-9 0h0m0 0h0m-8 0h0m-6 0h0m-2 0h0m-9 0h0m-4 0h0m-1 0h0m0 0h0m-4 0h0m-8 0h0m-1 0h0m-2 0h0m-6 0h0m-2 0h0m260 42h0m-2 0h0m-3 0h0m-2 0h0m-1 0h0m0 0h0m-1 0h0m-2 0h0m0 0h0m0 0h0m-1 0h0m-1 0h0m0 0h0m-5 0h0m0 0h0m0 0h0m-1 0h0m-1 0h0m0 0h0m-2 0h0m0 0h0m-1 0h0m0 0h0m0 0h0m0 0h0m-1 0h0m0 0h0m-2 0h0m-1 0h0m0 0h0m0 0h0m-1 0h0m0 0h0m-1 0h0m0 0h0m0 0h0m-1 0h0m0 0h0m-2 0h0m0 0h0m-1 0h0m-1 0h0m0 0h0m-1 0h0m0 0h0m-1 0h0m0 0h0m-2 0h0m0 0h0m-3 0h0m0 0h0m-1 0h0m-1 0h0m0 0h0m-1 0h0m-1 0h0m0 0h0m-1 0h0m-2 0h0m-1 0h0m0 0h0m0 0h0m-1 0h0m-4 0h0m0 0h0m-3 0h0m-1 0h0m0 0h0m-1 0h0m0 0h0m0 0h0m-1 0h0m0 0h0m-2 0h0m0 0h0m-18 0h0m-1 0h0m-1 0h0m-1 0h0m-1 0h0m0 0h0m-1 0h0m0 0h0m-2 0h0m0 0h0m-1 0h0m0 0h0m-3 0h0m-1 0h0m-1 0h0m-1 0h0m-1 0h0m-1 0h0m-1 0h0m-1 0h0m0 0h0m-1 0h0m-1 0h0m-1 0h0m0 0h0m0 0h0m-2 0h0m-1 0h0m0 0h0m-1 0h0m-1 0h0m0 0h0m-1 0h0m-3 0h0m0 0h0m-1 0h0m0 0h0m-1 0h0m-1 0h0m-1 0h0m0 0h0m-1 0h0m-1 0h0m-1 0h0m-1 0h0m0 0h0m-1 0h0m0 0h0m0 0h0m0 0h0m-1 0h0m-1 0h0m-1 0h0m0 0h0m0 0h0m0 0h0m-1 0h0m-1 0h0m0 0h0m-1 0h0m-1 0h0m0 0h0m0 0h0m-1 0h0m0 0h0m-1 0h0m-2 0h0m-1 0h0m-1 0h0m0 0h0m-1 0h0m0 0h0m0 0h0m-1 0h0m-1 0h0m-2 0h0m-1 0h0m-3 0h0m-1 0h0m-1 0h0m-1 0h0m0 0h0m-1 0h0m0 0h0m-2 0h0m0 0h0m-1 0h0m-1 0h0m0 0h0m0 0h0m-1 0h0m-3 0h0m-1 0h0m-1 0h0m-1 0h0m0 0h0m-1 0h0m-1 0h0m0 0h0m-4 0h0m-1 0h0m0 0h0m-2 0h0m0 0h0m0 0h0m-1 0h0m-1 0h0m-1 0h0m0 0h0m0 0h0m-1 0h0m-2 0h0m0 0h0m-2 0h0m-2 0h0m-1 0h0m0 0h0m-1 0h0m-3 0h0m-2 0h0m-4 0h0m-1 0h0m-1 0h0m0 0h0m0 0h0m-2 0h0m-3 0h0m0 0h0m-4 0h0m-1 0h0m-3 0h0m-1 0h0m-3 0h0m-3 0h0m-1 0h0m0 0h0m-1 0h0m-1 0h0m0 0h0m0 0h0m-6 0h0m-2 0h0m-1 0h0m-1 0h0m-5 0h0m-7 0h0m-1 0h0m-5 0h0m-5 0h0m-3 0h0m-2 0h0m0 0h0m-1 0h0m0 0h0m-2 0h0m0 0h0m-2 0h0m-4 0h0m-5 0h0m0 0h0m-2 0h0m0 0h0m-1 0h0" stroke="#4F66AE" stroke-width="9"/>
<path d="M576.4 639.3L578.1 639.3L579.8 639.3L581.6 639.2L583.3 639.2L585 639.2L586.7 639.2L588.5 639.2L590.2 639.2L591.9 639.1L593.6 639.1L595.4 639.1L597.1 639.1L598.8 639.1L600.5 639.1L602.2 639L604 639L605.7 639L607.4 639L609.1 638.9L610.9 638.9L612.6 638.8L614.3 638.7L616 638.6L617.8 638.6L619.5 638.5L621.2 638.4L622.9 638.4L624.6 638.3L626.4 638.2L628.1 638.2L629.8 638.1L631.5 638L633.3 637.9L635 637.9L636.7 637.8L638.4 637.7L640.2 637.6L641.9 637.6L643.6 637.5L645.3 637.4L647 637.3L648.8 637.3L650.5 637.2L652.2 637.1L653.9 637L655.7 636.8L657.4 636.6L659.1 636.3L660.8 636.1L662.6 635.8L664.3 635.6L666 635.3L667.7 634.9L669.4 634.5L671.2 634L672.9 633.6L674.6 633.1L676.3 632.7L678.1 632.4" stroke="#111" stroke-width="1.35" stroke-linecap="butt"/>
<path d="M571.7 586.1V642.1H684.5" stroke="#1a1a1a" stroke-width="1.3" stroke-linecap="butt"/>
<path transform="scale(0.25)" d="M1798 2729h0m-4 5h0m-2 12h0m6-1h0m4-6h0m6 4h0m0 0h0m1-7h0m4 5h0m2-5h0m101 23h0m-93-4h0m-1-7h0m-3 8h0m-1 1h0m-1-8h0m-4 5h0m-3-1h0m-1 4h0m0 0h0m-1-7h0m0 3h0m-1 2h0m-2-6h0m-1 8h0m-2 2h0m-1-9h0m-1 0h0m0 6h0m-2-2h0m-1 5h0m-5-10h0m-1 20h0m1-4h0m0 2h0m1-1h0m3-5h0m2 1h0m5 7h0m1-7h0m1-1h0m1 4h0m3 4h0m2 0h0m0-6h0m0 7h0m2-5h0m0 4h0m2 1h0m2-2h0m6-6h0m16 8h0m27-4h0m54 4h0m8 13h0m-26-11h0m-3 2h0m-12 7h0m-10 1h0m-1-3h0m-12 2h0m-11-4h0m-27 0h0m-8 2h0m-1-7h0m-2 10h0m-1-4h0m0 4h0m-2-4h0m-1-5h0m0 10h0m-1-9h0m-1 7h0m-1-9h0m-3 7h0m0-3h0m-1-1h0m-2 8h0m-2-11h0m-3 8h0m-1-7h0m-2 7h0m0-2h0m-1-4h0m0 9h0m-1-5h0m0 4h0m-3 8h0m2 0h0m1 0h0m2 0h0m3 0h0m2 0h0m2 0h0m1 0h0m3 0h0m2-6h0m1 6h0m0 0h0m2 0h0m1-6h0m0 6h0m0 0h0m1 0h0m0 0h0m4-6h0m1 0h0m12 6h0m30-6h0m0 6h0m9 0h0m19-6h0m6 6h0m9 0h0m25 12h0m-2 0h0m-2 0h0m-2 0h0m-2 0h0m-4 0h0m-1 0h0m0 0h0m-7 0h0m0 0h0m-13 0h0m-3 0h0m0 0h0m-5 0h0m-1 0h0m-9 0h0m-1 0h0m-21 0h0m-4 0h0m-1 0h0m-1 0h0m-1 0h0m-2 0h0m-3 0h0m-5 0h0m-17 0h0m-1 0h0m-1 0h0m0 0h0m-2 0h0m-1 0h0m-3 0h0m-3 0h0m-1 0h0m-1 0h0m-1 0h0m-2 0h0m-3 0h0m0 0h0m0 0h0m-1 0h0m0 0h0m-1 0h0m0 0h0m0 0h0m0 0h0m-2 0h0m-1 0h0m-3 0h0m-3 12h0m1 0h0m0 0h0m3 0h0m0 0h0m1 0h0m1 0h0m0 0h0m1 0h0m2 0h0m0 0h0m2 0h0m1 0h0m0 0h0m2 0h0m1 0h0m2 0h0m0 0h0m1 0h0m1 0h0m0 0h0m3 0h0m1 0h0m1 0h0m0 0h0m0 0h0m2 0h0m0 0h0m0 0h0m3 0h0m1 0h0m0 0h0m3 0h0m7 0h0m4 0h0m9 0h0m4 0h0m2 0h0m3 0h0m0 0h0m1 0h0m3 0h0m0 0h0m3 0h0m1 0h0m0 0h0m2 0h0m1 0h0m3 0h0m5 0h0m1 0h0m1 0h0m4 0h0m6 0h0m5 0h0m4 0h0m0 0h0m4 0h0m8 0h0m1 0h0m1 0h0m17 0h0m1 0h0m3 0h0m4 0h0m-140 18h0m0 0h0m0 0h0m2 0h0m0 0h0m1 0h0m1 0h0m1 0h0m1 0h0m0 0h0m0 0h0m0 0h0m1 0h0m0 0h0m0 0h0m1 0h0m2 0h0m1 0h0m1 0h0m0 0h0m1 0h0m0 0h0m0 0h0m1 0h0m0 0h0m1 0h0m1 0h0m0 0h0m1 0h0m1 0h0m0 0h0m1 0h0m1 0h0m1 0h0m0 0h0m1 0h0m0 0h0m1 0h0m0 0h0m1 0h0m0 0h0m0 0h0m1 0h0m0 0h0m1 0h0m0 0h0m1 0h0m0 0h0m2 0h0m1 0h0m2 0h0m3 0h0m9 0h0m1 0h0m0 0h0m1 0h0m0 0h0m0 0h0m3 0h0m7 0h0m2 0h0m0 0h0m2 0h0m2 0h0m3 0h0m1 0h0m3 0h0m0 0h0m3 0h0m1 0h0m2 0h0m3 0h0m1 0h0m3 0h0m10 0h0m1 0h0m2 0h0m1 0h0m2 0h0m3 0h0m7 0h0m0 0h0m2 0h0m3 0h0m3 0h0m7 0h0m2 0h0m1 0h0m6 0h0m1 0h0m4 0h0m5 0h0m-142 25h0m1 0h0m2 0h0m0 0h0m1 0h0m0 0h0m1 0h0m1 0h0m1 0h0m0 0h0m0 0h0m1 0h0m2 0h0m0 0h0m0 0h0m0 0h0m0 0h0m0 0h0m0 0h0m0 0h0m0 0h0m1 0h0m0 0h0m1 0h0m1 0h0m0 0h0m2 0h0m0 0h0m0 0h0m1 0h0m1 0h0m0 0h0m1 0h0m0 0h0m0 0h0m0 0h0m0 0h0m2 0h0m0 0h0m0 0h0m0 0h0m2 0h0m0 0h0m0 0h0m0 0h0m1 0h0m0 0h0m1 0h0m0 0h0m0 0h0m0 0h0m1 0h0m0 0h0m1 0h0m1 0h0m1 0h0m0 0h0m0 0h0m13 0h0m0 0h0m1 0h0m2 0h0m4 0h0m1 0h0m4 0h0m0 0h0m5 0h0m3 0h0m1 0h0m1 0h0m2 0h0m3 0h0m0 0h0m1 0h0m0 0h0m3 0h0m1 0h0m3 0h0m0 0h0m2 0h0m1 0h0m3 0h0m2 0h0m1 0h0m2 0h0m1 0h0m7 0h0m3 0h0m1 0h0m1 0h0m1 0h0m0 0h0m1 0h0m1 0h0m2 0h0m2 0h0m1 0h0m0 0h0m0 0h0m0 0h0m1 0h0m1 0h0m1 0h0m2 0h0m0 0h0m10 0h0m0 0h0m3 0h0m1 0h0m1 0h0m2 0h0m1 0h0m1 0h0m0 0h0m2 0h0m1 0h0m0 0h0m6 0h0m3 43h0m-3 0h0m0 0h0m-3 0h0m-4 0h0m-1 0h0m-3 0h0m-1 0h0m0 0h0m-10 0h0m-12 0h0m-1 0h0m-1 0h0m-5 0h0m-1 0h0m-3 0h0m-4 0h0m-2 0h0m-1 0h0m-1 0h0m-1 0h0m-1 0h0m0 0h0m0 0h0m0 0h0m-1 0h0m-2 0h0m-3 0h0m0 0h0m-3 0h0m-3 0h0m-7 0h0m-5 0h0m-3 0h0m-2 0h0m-3 0h0m-3 0h0m-2 0h0m-1 0h0m-1 0h0m-1 0h0m-3 0h0m-1 0h0m0 0h0m-7 0h0m-2 0h0m-1 0h0m-1 0h0m-1 0h0m-1 0h0m0 0h0m-1 0h0m-1 0h0m-1 0h0m0 0h0m-2 0h0m0 0h0m0 0h0m0 0h0m-2 0h0m-2 0h0m0 0h0m0 0h0m-1 0h0m0 0h0m-1 0h0m0 0h0m-1 0h0m0 0h0m-5 0h0m-1 0h0m-1 0h0m0 0h0m-1 0h0m-1 0h0m-2 0h0m0 0h0m-1 0h0m-2 0h0m0 0h0m-1 0h0m-2 0h0" stroke="#B356B2" stroke-width="9"/>
<path transform="scale(0.25)" d="M2033 2691h0m96 7h0m26 3h0m-45 7h0m-33 3h0m-22-3h0m-17-6h0m-22 4h0m-5 11h0m2 0h0m4 3h0m7-6h0m100 4h0m6-5h0m3 1h0m9 7h0m6 0h0m7 10h0m-2 4h0m0-4h0m-40-3h0m-32 5h0m-2-5h0m-4 7h0m-3-4h0m-13-2h0m-2 4h0m-3 1h0m-6 1h0m-30-4h0m-2-4h0m-11-3h0m-7 0h0m-87 18h0m9 0h0m51 1h0m58 1h0m10-3h0m19 2h0m14 1h0m6-7h0m34 4h0m3 6h0m3-3h0m16 2h0m3-4h0m1-6h0m11 10h0m7-1h0m0-8h0m16 12h0m0 7h0m-19-3h0m-2 2h0m-2-4h0m-1 5h0m-10-4h0m-13 5h0m-1 2h0m-34-2h0m-4 1h0m-2-8h0m-8 7h0m-11-2h0m-1-7h0m-17 2h0m-3 5h0m0 4h0m-28-1h0m-3 1h0m-1-2h0m-8 2h0m-20-10h0m-8 10h0m-9-3h0m-12-8h0m-18 3h0m-7-3h0m-2 10h0m6 13h0m24-1h0m42-8h0m10 9h0m3-10h0m7 7h0m1 0h0m1-5h0m6 2h0m8-4h0m4 8h0m3-9h0m5 7h0m0 3h0m0-4h0m1-5h0m8 5h0m6-3h0m1 6h0m10-6h0m2 8h0m1 0h0m43-10h0m9 7h0m14-6h0m18-2h0m14 4h0m9 18h0m-26-4h0m-1-1h0m-3 6h0m-4-6h0m-3 0h0m-1 3h0m-3 1h0m-2-1h0m-6 2h0m-7 0h0m-38 1h0m-25-3h0m-3-1h0m-15 3h0m-1-6h0m-2 6h0m-2-9h0m-2 4h0m-3 5h0m-6-3h0m-6-4h0m-9 4h0m-6 0h0m-31-3h0m-20 7h0m-6-1h0m-8-6h0m-13 2h0m-28 6h0m0 6h0m8 0h0m31 0h0m7 0h0m6 0h0m1 0h0m2 0h0m9 0h0m7 0h0m35 0h0m2 0h0m10 0h0m0 0h0m2 0h0m3-6h0m2 6h0m0 0h0m5 0h0m1 0h0m0 0h0m4-6h0m0 6h0m1-6h0m4 0h0m2 6h0m0 0h0m1 0h0m0 0h0m6-6h0m2 6h0m1 0h0m4 0h0m7-6h0m8 6h0m2 0h0m1 0h0m6-6h0m29 6h0m1 0h0m1 0h0m6 0h0m0 0h0m2 0h0m7-6h0m3 0h0m2 6h0m1 0h0m1 0h0m1 0h0m8 0h0m1 0h0m8-6h0m3 6h0m3 0h0m2 0h0m7 0h0m1 0h0m2 0h0m1-6h0m4 18h0m-6 0h0m-2 0h0m-2 0h0m-1 0h0m-2 0h0m0 0h0m-4 0h0m-2 0h0m-2 0h0m-1 0h0m-5 0h0m-1 0h0m-5 0h0m-5 0h0m0 0h0m-3 0h0m0 0h0m-1 0h0m-5 0h0m-3 0h0m-5 0h0m-5 0h0m-2 0h0m-1 0h0m-1 0h0m-27 0h0m-8 0h0m-3 0h0m-6 0h0m-1 0h0m-4 0h0m-5 0h0m-7 0h0m-6 0h0m-13 0h0m-2 0h0m0 0h0m0 0h0m-7 0h0m-5 0h0m0 0h0m-1 0h0m-5 0h0m-13 0h0m-2 0h0m0 0h0m-5 0h0m-5 0h0m-4 0h0m-27 0h0m-11 0h0m-9 0h0m-10 0h0m0 0h0m-24 0h0m7 12h0m13 0h0m1 0h0m1 0h0m15 0h0m1 0h0m15 0h0m10 0h0m2 0h0m2 0h0m6 0h0m10 0h0m1 0h0m7 0h0m3 0h0m1 0h0m3 0h0m0 0h0m2 0h0m3 0h0m0 0h0m6 0h0m2 0h0m0 0h0m1 0h0m1 0h0m2 0h0m3 0h0m3 0h0m1 0h0m0 0h0m3 0h0m0 0h0m1 0h0m3 0h0m1 0h0m4 0h0m4 0h0m0 0h0m1 0h0m0 0h0m1 0h0m4 0h0m2 0h0m1 0h0m0 0h0m2 0h0m3 0h0m0 0h0m1 0h0m4 0h0m0 0h0m10 0h0m1 0h0m0 0h0m6 0h0m32 0h0m6 0h0m0 0h0m5 0h0m3 0h0m3 0h0m1 0h0m0 0h0m4 0h0m0 0h0m0 0h0m3 0h0m1 0h0m2 0h0m3 0h0m1 0h0m1 0h0m1 0h0m2 0h0m0 0h0m2 0h0m1 0h0m0 0h0m6 0h0m5 0h0m8 0h0m1 0h0m0 0h0m2 0h0m0 0h0m2 0h0m-252 18h0m3 0h0m2 0h0m2 0h0m4 0h0m4 0h0m8 0h0m1 0h0m0 0h0m7 0h0m3 0h0m26 0h0m2 0h0m3 0h0m1 0h0m2 0h0m0 0h0m1 0h0m1 0h0m1 0h0m2 0h0m0 0h0m2 0h0m2 0h0m2 0h0m1 0h0m1 0h0m1 0h0m0 0h0m1 0h0m1 0h0m0 0h0m0 0h0m7 0h0m0 0h0m0 0h0m3 0h0m1 0h0m2 0h0m3 0h0m1 0h0m3 0h0m3 0h0m1 0h0m0 0h0m0 0h0m6 0h0m2 0h0m3 0h0m1 0h0m0 0h0m1 0h0m1 0h0m1 0h0m1 0h0m1 0h0m1 0h0m2 0h0m0 0h0m7 0h0m1 0h0m1 0h0m0 0h0m5 0h0m0 0h0m5 0h0m5 0h0m3 0h0m1 0h0m2 0h0m2 0h0m4 0h0m1 0h0m28 0h0m4 0h0m6 0h0m4 0h0m1 0h0m0 0h0m1 0h0m1 0h0m0 0h0m1 0h0m2 0h0m1 0h0m0 0h0m5 0h0m1 0h0m3 0h0m2 0h0m1 0h0m3 0h0m3 0h0m0 0h0m1 0h0m2 0h0m0 0h0m3 0h0m2 0h0m0 0h0m0 0h0m2 0h0m4 0h0m1 0h0m1 0h0m1 0h0m0 0h0m1 0h0m0 0h0m1 0h0m2 0h0m3 0h0m4 0h0m6 0h0m-281 25h0m0 0h0m1 0h0m9 0h0m1 0h0m8 0h0m1 0h0m9 0h0m5 0h0m2 0h0m3 0h0m5 0h0m4 0h0m6 0h0m12 0h0m2 0h0m2 0h0m4 0h0m2 0h0m1 0h0m1 0h0m5 0h0m3 0h0m2 0h0m8 0h0m0 0h0m1 0h0m0 0h0m2 0h0m1 0h0m1 0h0m1 0h0m0 0h0m2 0h0m1 0h0m3 0h0m0 0h0m3 0h0m0 0h0m2 0h0m2 0h0m0 0h0m4 0h0m3 0h0m3 0h0m1 0h0m1 0h0m0 0h0m2 0h0m0 0h0m1 0h0m1 0h0m1 0h0m0 0h0m1 0h0m0 0h0m0 0h0m1 0h0m1 0h0m2 0h0m0 0h0m1 0h0m3 0h0m0 0h0m1 0h0m2 0h0m1 0h0m0 0h0m3 0h0m2 0h0m2 0h0m0 0h0m1 0h0m0 0h0m2 0h0m0 0h0m1 0h0m5 0h0m1 0h0m3 0h0m1 0h0m2 0h0m2 0h0m2 0h0m0 0h0m6 0h0m2 0h0m3 0h0m0 0h0m20 0h0m0 0h0m0 0h0m0 0h0m1 0h0m2 0h0m2 0h0m3 0h0m0 0h0m3 0h0m0 0h0m1 0h0m1 0h0m4 0h0m0 0h0m2 0h0m1 0h0m2 0h0m2 0h0m0 0h0m5 0h0m1 0h0m1 0h0m1 0h0m0 0h0m3 0h0m3 0h0m0 0h0m2 0h0m0 0h0m1 0h0m0 0h0m1 0h0m1 0h0m0 0h0m3 0h0m0 0h0m1 0h0m0 0h0m1 0h0m0 0h0m0 0h0m2 0h0m0 0h0m2 0h0m0 0h0m0 0h0m0 0h0m3 0h0m0 0h0m4 0h0m3 0h0m17 0h0m1 0h0m-3 43h0m-13 0h0m0 0h0m-1 0h0m-2 0h0m0 0h0m-3 0h0m-2 0h0m-3 0h0m0 0h0m-1 0h0m-1 0h0m-2 0h0m-1 0h0m0 0h0m-2 0h0m0 0h0m-1 0h0m-2 0h0m0 0h0m0 0h0m0 0h0m0 0h0m-2 0h0m-1 0h0m0 0h0m0 0h0m-1 0h0m-1 0h0m-1 0h0m0 0h0m-2 0h0m0 0h0m-2 0h0m0 0h0m-1 0h0m0 0h0m0 0h0m0 0h0m-2 0h0m-1 0h0m0 0h0m0 0h0m-1 0h0m-1 0h0m-1 0h0m0 0h0m-3 0h0m0 0h0m-3 0h0m-3 0h0m0 0h0m-1 0h0m-2 0h0m-1 0h0m0 0h0m-2 0h0m-1 0h0m-2 0h0m-2 0h0m-2 0h0m0 0h0m-1 0h0m-23 0h0m0 0h0m-4 0h0m-1 0h0m-2 0h0m-1 0h0m-1 0h0m-7 0h0m0 0h0m-1 0h0m-1 0h0m-1 0h0m-3 0h0m-5 0h0m0 0h0m-3 0h0m-3 0h0m-1 0h0m0 0h0m0 0h0m0 0h0m0 0h0m-2 0h0m0 0h0m0 0h0m0 0h0m-1 0h0m0 0h0m-2 0h0m0 0h0m-1 0h0m-1 0h0m0 0h0m0 0h0m-1 0h0m0 0h0m-1 0h0m-2 0h0m0 0h0m-1 0h0m0 0h0m-2 0h0m-1 0h0m-3 0h0m0 0h0m-1 0h0m-2 0h0m-2 0h0m-1 0h0m-3 0h0m0 0h0m0 0h0m-1 0h0m0 0h0m0 0h0m-1 0h0m0 0h0m0 0h0m-3 0h0m-1 0h0m-1 0h0m-2 0h0m-3 0h0m-2 0h0m-2 0h0m-2 0h0m-3 0h0m-2 0h0m-1 0h0m-1 0h0m0 0h0m0 0h0m0 0h0m-1 0h0m-1 0h0m-1 0h0m-7 0h0m-4 0h0m-2 0h0m-2 0h0m0 0h0m-1 0h0m0 0h0m-6 0h0m-3 0h0m0 0h0m-6 0h0m-1 0h0m-1 0h0m-2 0h0m-12 0h0m-2 0h0m0 0h0m-3 0h0m-2 0h0m0 0h0m-6 0h0m-4 0h0m-4 0h0m-4 0h0m0 0h0m-10 0h0m-2 0h0m0 0h0m-3 0h0m-4 0h0m-3 0h0" stroke="#4F66AE" stroke-width="9"/>
<path transform="scale(0.25)" d="M2040 2698h0m9-3h0m14 4h0m73-5h0m7 4h0m2-4h0m-22 16h0m-45-7h0m-5-3h0m0 10h0m-18-3h0m-9-3h0m-1 3h0m-3-6h0m-6 6h0m-3 3h0m-13-3h0m-37 16h0m30-5h0m31-3h0m11 8h0m5-11h0m70 10h0m37 8h0m-11 3h0m-13-3h0m-20 2h0m-2-5h0m-7 8h0m-3-5h0m-32-4h0m-11 1h0m-3 7h0m-2-8h0m-1 5h0m-5 2h0m-9-6h0m-1 2h0m-21 2h0m0 2h0m-19 0h0m-13-6h0m-7-3h0m0 4h0m-4 3h0m-2-4h0m-15 6h0m-2-2h0m-5-3h0m-6-3h0m-10-1h0m-1 4h0m-19 1h0m-16 4h0m-1 4h0m1 6h0m6-7h0m1 4h0m25-1h0m2-1h0m19 8h0m1-6h0m22-2h0m7 7h0m9-5h0m19-1h0m1-3h0m19 5h0m27-1h0m2 4h0m3 3h0m67-8h0m11 0h0m1-2h0m0 6h0m1 2h0m1-4h0m5 1h0m10 5h0m5 6h0m-6 4h0m-2 2h0m-5-7h0m-4 6h0m-5-10h0m-14 7h0m-1-1h0m-4-4h0m0 5h0m-3-6h0m-1 3h0m-14 1h0m-1 4h0m-24-4h0m-1 2h0m-5-5h0m0 9h0m-9-6h0m-15-3h0m-4 4h0m-7 3h0m-4-1h0m-18 1h0m-19-6h0m0 6h0m-3 0h0m-12 0h0m-1-2h0m-1-7h0m-26 0h0m-2 4h0m-2-1h0m-2 2h0m-11 3h0m-8-7h0m-1 5h0m-2 5h0m-3-3h0m-1-7h0m-9 7h0m-6-5h0m-26 15h0m5-2h0m3-3h0m0 2h0m1 1h0m8 2h0m1 5h0m10-8h0m2 4h0m1-5h0m6-1h0m8 4h0m3 0h0m1 2h0m2-3h0m6 2h0m7 0h0m1 2h0m17 1h0m0-6h0m1-3h0m2 8h0m5 0h0m0-4h0m2 2h0m24 3h0m14-8h0m2 3h0m0 5h0m3-3h0m6 5h0m3-5h0m1 0h0m0-2h0m1-1h0m2 2h0m6-4h0m2 3h0m5 7h0m4-9h0m2 5h0m1 1h0m2 0h0m8 1h0m10 1h0m4-10h0m2 8h0m2-5h0m2 1h0m0 6h0m3 0h0m1-10h0m38 11h0m19-7h0m1 1h0m6-1h0m1 5h0m3-6h0m12 8h0m5-10h0m2 22h0m-5-8h0m-3 8h0m0-4h0m-1-7h0m-6 3h0m-10 1h0m-1 1h0m0 5h0m-3-8h0m-1-2h0m-7 9h0m-1 2h0m-1-4h0m0 4h0m-1 0h0m-2-9h0m-2 2h0m-1-4h0m-2 11h0m-9-3h0m-1 3h0m0-3h0m-1-1h0m0-2h0m-1 2h0m-2 1h0m-1-3h0m0 3h0m-28-7h0m-2 5h0m-2 0h0m-2 5h0m-3-11h0m0 2h0m-1 0h0m-1 5h0m-2 3h0m-4-4h0m0-6h0m-1 9h0m-2-2h0m0 1h0m-2 3h0m-1-4h0m-1 1h0m-1 1h0m-2-7h0m-5 9h0m-3-1h0m-8-9h0m-3-1h0m-2 1h0m-1 10h0m-7-1h0m-1-4h0m-4 2h0m-2 2h0m0 0h0m-2-4h0m-2 5h0m-4-3h0m-1-1h0m-7 2h0m-3-5h0m-6 7h0m-7-2h0m-1-3h0m-1-4h0m-2 6h0m-12 0h0m0-3h0m-4 2h0m-8 0h0m-4 0h0m-1 3h0m0-2h0m-3 2h0m-1-2h0m-5-4h0m0 0h0m-1 0h0m-2-1h0m-1 1h0m-1 7h0m-8-9h0m0 9h0m-4 0h0m-3-4h0m0 3h0m0 1h0m-1-9h0m-1 2h0m-1-2h0m0 3h0m-4 5h0m-1 1h0m-4-10h0m-3 5h0m-4 1h0m-1 2h0m-1 0h0m-7 2h0m-2 0h0m-2 0h0m0-3h0m-7-6h0m-1 0h0m0 5h0m0-6h0m-5 1h0m1 16h0m6 0h0m12 0h0m2 0h0m2-6h0m1 6h0m1-6h0m3 6h0m0-6h0m0 6h0m1-6h0m1 0h0m3 6h0m0 0h0m2 0h0m2 0h0m0 0h0m3 0h0m0 0h0m1-6h0m1 6h0m9 0h0m4 0h0m1 0h0m10 0h0m5 0h0m2 0h0m0 0h0m10 0h0m4 0h0m2 0h0m2 0h0m7 0h0m1 0h0m1 0h0m1-6h0m5 6h0m4 0h0m14 0h0m7 0h0m10-6h0m4 6h0m9 0h0m2 0h0m2 0h0m2-6h0m3 0h0m3 6h0m2 0h0m0 0h0m3-6h0m1 6h0m9 0h0m3 0h0m6 0h0m2 0h0m4 0h0m1 0h0m0 0h0m0 0h0m25-6h0m13 6h0m6 0h0m8 0h0m12-6h0m0 6h0m0 0h0m0 0h0m5 0h0m0-6h0m3 6h0m2 0h0m10 0h0m2 0h0m1 0h0m0 0h0m4 0h0m5 0h0m-6 12h0m-36 0h0m-5 0h0m-9 0h0m-2 0h0m-33 0h0m-2 0h0m-4 0h0m-2 0h0m0 0h0m0 0h0m-5 0h0m-2 0h0m-2 0h0m-4 0h0m-2 0h0m-2 0h0m-3 0h0m-11 0h0m-1 0h0m-1 0h0m-1 0h0m-1 0h0m-6 0h0m-3 0h0m-8 0h0m-1 0h0m-3 0h0m-1 0h0m-4 0h0m-1 0h0m-2 0h0m-4 0h0m0 0h0m-9 0h0m-1 0h0m-4 0h0m-1 0h0m-1 0h0m-15 0h0m-4 0h0m-6 0h0m0 0h0m-3 0h0m0 0h0m-7 0h0m-2 0h0m0 0h0m-5 0h0m-4 0h0m-1 0h0m0 0h0m-6 0h0m0 0h0m-5 0h0m-1 0h0m-5 0h0m-3 0h0m-2 0h0m-6 0h0m-1 0h0m-9 0h0m-2 0h0m-3 0h0m-1 0h0m-6 0h0m-2 0h0m-1 0h0m-3 0h0m-3 0h0m-1 0h0m2 12h0m4 0h0m4 0h0m5 0h0m1 0h0m0 0h0m4 0h0m0 0h0m8 0h0m0 0h0m4 0h0m2 0h0m2 0h0m7 0h0m3 0h0m4 0h0m3 0h0m4 0h0m3 0h0m4 0h0m0 0h0m9 0h0m3 0h0m9 0h0m1 0h0m2 0h0m0 0h0m6 0h0m0 0h0m1 0h0m1 0h0m1 0h0m1 0h0m3 0h0m1 0h0m2 0h0m1 0h0m6 0h0m1 0h0m2 0h0m7 0h0m2 0h0m5 0h0m2 0h0m3 0h0m7 0h0m0 0h0m3 0h0m1 0h0m8 0h0m0 0h0m5 0h0m2 0h0m0 0h0m0 0h0m1 0h0m3 0h0m2 0h0m3 0h0m3 0h0m0 0h0m1 0h0m3 0h0m2 0h0m5 0h0m2 0h0m0 0h0m0 0h0m3 0h0m2 0h0m2 0h0m3 0h0m0 0h0m4 0h0m27 0h0m9 0h0m1 0h0m2 0h0m1 0h0m1 0h0m5 0h0m2 0h0m1 0h0m15 0h0m5 0h0m1 0h0m1 0h0m2 0h0m2 0h0m5 0h0m6 0h0m4 0h0m1 0h0m-293 18h0m1 0h0m5 0h0m2 0h0m2 0h0m0 0h0m10 0h0m8 0h0m1 0h0m0 0h0m4 0h0m10 0h0m13 0h0m1 0h0m3 0h0m0 0h0m3 0h0m13 0h0m3 0h0m6 0h0m3 0h0m4 0h0m3 0h0m7 0h0m6 0h0m4 0h0m2 0h0m1 0h0m1 0h0m3 0h0m3 0h0m2 0h0m3 0h0m1 0h0m2 0h0m2 0h0m0 0h0m2 0h0m1 0h0m1 0h0m2 0h0m1 0h0m0 0h0m3 0h0m1 0h0m0 0h0m1 0h0m0 0h0m3 0h0m5 0h0m2 0h0m0 0h0m1 0h0m0 0h0m2 0h0m0 0h0m4 0h0m0 0h0m2 0h0m6 0h0m1 0h0m1 0h0m10 0h0m4 0h0m1 0h0m2 0h0m3 0h0m3 0h0m0 0h0m2 0h0m3 0h0m0 0h0m0 0h0m1 0h0m2 0h0m1 0h0m20 0h0m3 0h0m6 0h0m4 0h0m4 0h0m3 0h0m9 0h0m6 0h0m2 0h0m0 0h0m1 0h0m4 0h0m4 0h0m2 0h0m1 0h0m6 0h0m3 0h0m5 0h0m1 0h0m3 0h0m2 0h0m1 0h0m-290 25h0m2 0h0m0 0h0m1 0h0m0 0h0m1 0h0m0 0h0m10 0h0m0 0h0m10 0h0m3 0h0m2 0h0m3 0h0m8 0h0m1 0h0m1 0h0m3 0h0m0 0h0m3 0h0m3 0h0m1 0h0m3 0h0m2 0h0m3 0h0m1 0h0m6 0h0m0 0h0m2 0h0m0 0h0m1 0h0m3 0h0m1 0h0m2 0h0m1 0h0m5 0h0m2 0h0m1 0h0m2 0h0m2 0h0m3 0h0m0 0h0m0 0h0m1 0h0m2 0h0m2 0h0m4 0h0m4 0h0m2 0h0m0 0h0m6 0h0m0 0h0m3 0h0m1 0h0m1 0h0m1 0h0m6 0h0m1 0h0m3 0h0m1 0h0m1 0h0m2 0h0m0 0h0m1 0h0m0 0h0m1 0h0m2 0h0m2 0h0m1 0h0m0 0h0m2 0h0m2 0h0m3 0h0m3 0h0m5 0h0m1 0h0m1 0h0m1 0h0m0 0h0m1 0h0m1 0h0m0 0h0m2 0h0m2 0h0m1 0h0m0 0h0m1 0h0m1 0h0m2 0h0m4 0h0m3 0h0m5 0h0m5 0h0m2 0h0m1 0h0m4 0h0m1 0h0m1 0h0m0 0h0m2 0h0m1 0h0m2 0h0m22 0h0m0 0h0m9 0h0m7 0h0m7 0h0m5 0h0m0 0h0m6 0h0m3 0h0m3 0h0m4 0h0m9 0h0m0 0h0m0 0h0m2 0h0m2 0h0m1 0h0m0 0h0m2 0h0m1 0h0m1 0h0m5 43h0m0 0h0m0 0h0m-2 0h0m-4 0h0m-4 0h0m0 0h0m-2 0h0m-1 0h0m-4 0h0m-4 0h0m-2 0h0m-9 0h0m-1 0h0m0 0h0m0 0h0m-1 0h0m0 0h0m-1 0h0m-1 0h0m-4 0h0m-1 0h0m-1 0h0m-1 0h0m-1 0h0m-1 0h0m-1 0h0m-1 0h0m0 0h0m-1 0h0m-1 0h0m0 0h0m-1 0h0m-5 0h0m-1 0h0m-1 0h0m0 0h0m-1 0h0m-1 0h0m-1 0h0m-2 0h0m-2 0h0m-26 0h0m-1 0h0m-3 0h0m-1 0h0m-2 0h0m-3 0h0m-2 0h0m-1 0h0m-1 0h0m-1 0h0m-2 0h0m-2 0h0m-1 0h0m-2 0h0m-1 0h0m-5 0h0m-2 0h0m0 0h0m-1 0h0m-1 0h0m-6 0h0m0 0h0m0 0h0m-4 0h0m-2 0h0m0 0h0m-2 0h0m0 0h0m-3 0h0m-5 0h0m-1 0h0m-1 0h0m-4 0h0m-1 0h0m-1 0h0m0 0h0m-1 0h0m-5 0h0m-2 0h0m-1 0h0m-1 0h0m0 0h0m-2 0h0m-5 0h0m-1 0h0m0 0h0m-2 0h0m-6 0h0m-1 0h0m-4 0h0m0 0h0m-1 0h0m-1 0h0m0 0h0m-2 0h0m-3 0h0m-1 0h0m0 0h0m-1 0h0m-1 0h0m-5 0h0m-1 0h0m-1 0h0m-3 0h0m0 0h0m-2 0h0m-1 0h0m0 0h0m-1 0h0m-1 0h0m-3 0h0m-2 0h0m-12 0h0m-2 0h0m0 0h0m-1 0h0m-2 0h0m0 0h0m-3 0h0m0 0h0m-2 0h0m-2 0h0m-6 0h0m-1 0h0m0 0h0m-1 0h0m-2 0h0m-1 0h0m-4 0h0m0 0h0m-2 0h0m-7 0h0m-3 0h0m-1 0h0m-1 0h0m-2 0h0m-1 0h0m-8 0h0m-3 0h0m-1 0h0m-1 0h0m0 0h0m-8 0h0m0 0h0" stroke="#56A6CE" stroke-width="9"/>
<path transform="scale(0.25)" d="M2131 2699h0m8-5h0m13-2h0m4 14h0m-9-4h0m-10 7h0m-11-9h0m-16 5h0m-43-1h0m0 0h0m-21-1h0m-3-3h0m-2 7h0m-35 4h0m-7 8h0m7-5h0m27 1h0m11-3h0m0 10h0m1-7h0m7 7h0m14 0h0m7-3h0m12-6h0m27 4h0m15 1h0m17 4h0m1-7h0m12-1h0m4 18h0m-24-3h0m-18-2h0m-9-2h0m-32 10h0m-36-2h0m-50-4h0m-7-5h0m-15 5h0m-34 1h0m-30 6h0m23 6h0m12 3h0m43-4h0m4 6h0m0-1h0m9-7h0m3 4h0m4-1h0m0 2h0m6 1h0m6-1h0m4-4h0m9 3h0m10-1h0m1 3h0m13 0h0m2-5h0m6 5h0m17-3h0m3-1h0m38 0h0m10-3h0m7 2h0m10 3h0m15-6h0m0 6h0m7 2h0m2 5h0m-5 0h0m-5 5h0m-6-2h0m-2 6h0m-22-6h0m-4 0h0m-1 0h0m-14 1h0m-31-1h0m-5-4h0m-7-1h0m-15 7h0m-17 0h0m-11-3h0m-4 5h0m-4-1h0m-6 2h0m-6-7h0m-10 8h0m-21-4h0m-3-1h0m-50 2h0m-9 10h0m12 3h0m19-2h0m23 1h0m4-4h0m30-3h0m0 9h0m1-7h0m1 0h0m10-1h0m7 3h0m8 5h0m15-5h0m2-4h0m8 9h0m2-10h0m9 0h0m6 1h0m3 1h0m9 3h0m11 6h0m24-8h0m4 2h0m15 1h0m11 4h0m7-4h0m2 0h0m3-4h0m3 7h0m2-4h0m13 4h0m-2 7h0m-11 7h0m-6 0h0m-6-3h0m-5 1h0m-2-2h0m-4 3h0m-2-2h0m-2 1h0m-1 1h0m-8-7h0m-1 8h0m-1 0h0m0-5h0m-6 0h0m-7-4h0m-37 1h0m-3 5h0m-3-4h0m-3 2h0m-5 0h0m0 2h0m-8 3h0m-1-3h0m-4 3h0m-4-9h0m-1-1h0m-4 7h0m-4-1h0m0-2h0m-2 2h0m-2-6h0m-2 7h0m-4 0h0m-5 2h0m0-7h0m-1 5h0m-1-5h0m-4 0h0m-4 5h0m-7-7h0m-2 10h0m-5-11h0m0 4h0m-13 1h0m-5 3h0m-3-1h0m-24 3h0m0 1h0m-1-9h0m-3 5h0m-11 0h0m0-1h0m-10 2h0m-1-1h0m-17-4h0m7 9h0m10 6h0m9 0h0m27 0h0m17 0h0m5-6h0m6 6h0m8 0h0m1 0h0m1 0h0m7-6h0m10 6h0m2 0h0m3 0h0m1 0h0m7-6h0m1 6h0m12 0h0m6 0h0m1 0h0m4 0h0m0 0h0m7 0h0m3 0h0m2-6h0m0 6h0m2-6h0m4 6h0m12 0h0m4 0h0m3-6h0m20 6h0m6 0h0m3 0h0m10-6h0m0 6h0m4 0h0m5 0h0m4 0h0m1 0h0m1 0h0m4 0h0m3 0h0m5 0h0m1 0h0m3 0h0m4 0h0m7 0h0m1 0h0m1 12h0m-1 0h0m-4 0h0m-5 0h0m-1 0h0m-3 0h0m-1 0h0m0 0h0m-8 0h0m-3 0h0m-2 0h0m-7 0h0m0 0h0m-1 0h0m-2 0h0m-3 0h0m0 0h0m0 0h0m0 0h0m-4 0h0m-1 0h0m-1 0h0m0 0h0m-4 0h0m-1 0h0m-1 0h0m0 0h0m-2 0h0m-2 0h0m-3 0h0m-1 0h0m-26 0h0m-7 0h0m-3 0h0m-10 0h0m-10 0h0m-1 0h0m-1 0h0m-2 0h0m-6 0h0m-1 0h0m-4 0h0m-1 0h0m0 0h0m0 0h0m-1 0h0m-1 0h0m-9 0h0m-1 0h0m-2 0h0m-3 0h0m-1 0h0m0 0h0m-8 0h0m-1 0h0m-1 0h0m0 0h0m-2 0h0m-4 0h0m-2 0h0m-6 0h0m-2 0h0m-31 0h0m-2 0h0m0 0h0m-14 0h0m-12 0h0m-15 12h0m4 0h0m0 0h0m9 0h0m10 0h0m4 0h0m17 0h0m5 0h0m2 0h0m8 0h0m4 0h0m2 0h0m3 0h0m1 0h0m4 0h0m2 0h0m3 0h0m3 0h0m2 0h0m6 0h0m3 0h0m1 0h0m4 0h0m1 0h0m0 0h0m5 0h0m1 0h0m1 0h0m0 0h0m1 0h0m0 0h0m3 0h0m0 0h0m1 0h0m0 0h0m3 0h0m0 0h0m2 0h0m2 0h0m3 0h0m0 0h0m1 0h0m0 0h0m0 0h0m1 0h0m0 0h0m4 0h0m0 0h0m5 0h0m1 0h0m1 0h0m3 0h0m0 0h0m2 0h0m0 0h0m3 0h0m0 0h0m1 0h0m0 0h0m3 0h0m2 0h0m5 0h0m6 0h0m1 0h0m4 0h0m2 0h0m1 0h0m0 0h0m21 0h0m2 0h0m0 0h0m2 0h0m2 0h0m1 0h0m1 0h0m3 0h0m2 0h0m3 0h0m1 0h0m1 0h0m1 0h0m2 0h0m1 0h0m5 0h0m4 0h0m0 0h0m0 0h0m0 0h0m2 0h0m2 0h0m1 0h0m1 0h0m2 0h0m2 0h0m2 0h0m5 0h0m1 0h0m3 0h0m1 0h0m4 0h0m0 0h0m4 0h0m6 0h0m-271 18h0m6 0h0m2 0h0m3 0h0m2 0h0m1 0h0m9 0h0m2 0h0m13 0h0m2 0h0m5 0h0m11 0h0m13 0h0m3 0h0m8 0h0m0 0h0m5 0h0m1 0h0m3 0h0m0 0h0m11 0h0m2 0h0m1 0h0m1 0h0m0 0h0m1 0h0m1 0h0m0 0h0m1 0h0m0 0h0m3 0h0m1 0h0m0 0h0m3 0h0m1 0h0m1 0h0m1 0h0m1 0h0m3 0h0m0 0h0m3 0h0m1 0h0m0 0h0m3 0h0m1 0h0m0 0h0m2 0h0m0 0h0m0 0h0m1 0h0m1 0h0m2 0h0m0 0h0m1 0h0m0 0h0m1 0h0m1 0h0m1 0h0m0 0h0m2 0h0m0 0h0m2 0h0m0 0h0m0 0h0m0 0h0m1 0h0m1 0h0m3 0h0m1 0h0m0 0h0m1 0h0m2 0h0m0 0h0m3 0h0m0 0h0m2 0h0m0 0h0m2 0h0m1 0h0m1 0h0m1 0h0m1 0h0m1 0h0m0 0h0m1 0h0m3 0h0m3 0h0m0 0h0m2 0h0m2 0h0m1 0h0m0 0h0m3 0h0m0 0h0m3 0h0m2 0h0m2 0h0m18 0h0m1 0h0m1 0h0m5 0h0m1 0h0m1 0h0m2 0h0m0 0h0m1 0h0m0 0h0m6 0h0m2 0h0m1 0h0m1 0h0m0 0h0m3 0h0m0 0h0m1 0h0m1 0h0m0 0h0m1 0h0m0 0h0m1 0h0m2 0h0m1 0h0m0 0h0m1 0h0m0 0h0m4 0h0m1 0h0m2 0h0m2 0h0m1 0h0m0 0h0m1 0h0m0 0h0m1 0h0m0 0h0m5 0h0m0 0h0m0 0h0m3 0h0m0 0h0m0 0h0m3 0h0m1 0h0m1 0h0m3 0h0m4 0h0m1 0h0m-268 25h0m1 0h0m10 0h0m1 0h0m4 0h0m4 0h0m1 0h0m7 0h0m2 0h0m13 0h0m6 0h0m2 0h0m5 0h0m5 0h0m3 0h0m0 0h0m1 0h0m5 0h0m3 0h0m2 0h0m0 0h0m0 0h0m1 0h0m2 0h0m3 0h0m1 0h0m3 0h0m0 0h0m0 0h0m3 0h0m2 0h0m1 0h0m2 0h0m0 0h0m1 0h0m0 0h0m5 0h0m2 0h0m0 0h0m2 0h0m4 0h0m1 0h0m2 0h0m1 0h0m1 0h0m3 0h0m1 0h0m0 0h0m1 0h0m2 0h0m1 0h0m1 0h0m0 0h0m1 0h0m0 0h0m3 0h0m0 0h0m1 0h0m1 0h0m0 0h0m0 0h0m1 0h0m2 0h0m1 0h0m1 0h0m1 0h0m2 0h0m1 0h0m0 0h0m1 0h0m0 0h0m1 0h0m1 0h0m1 0h0m0 0h0m0 0h0m1 0h0m0 0h0m1 0h0m4 0h0m0 0h0m1 0h0m1 0h0m1 0h0m3 0h0m0 0h0m1 0h0m0 0h0m2 0h0m1 0h0m1 0h0m0 0h0m2 0h0m0 0h0m2 0h0m1 0h0m0 0h0m2 0h0m3 0h0m3 0h0m5 0h0m3 0h0m2 0h0m0 0h0m1 0h0m0 0h0m25 0h0m1 0h0m1 0h0m0 0h0m0 0h0m1 0h0m1 0h0m0 0h0m2 0h0m0 0h0m0 0h0m2 0h0m0 0h0m1 0h0m0 0h0m1 0h0m2 0h0m3 0h0m0 0h0m2 0h0m0 0h0m3 0h0m0 0h0m1 0h0m5 0h0m1 0h0m0 0h0m0 0h0m0 0h0m1 0h0m0 0h0m1 0h0m1 0h0m0 0h0m1 0h0m0 0h0m0 0h0m1 0h0m0 0h0m0 0h0m1 0h0m0 0h0m2 0h0m1 0h0m0 0h0m0 0h0m1 0h0m1 0h0m1 0h0m1 0h0m1 0h0m1 0h0m1 0h0m2 0h0m0 0h0m1 0h0m1 0h0m1 0h0m1 0h0m1 0h0m0 0h0m1 0h0m1 0h0m3 0h0m2 0h0m0 0h0m1 0h0m1 0h0m4 43h0m0 0h0m-2 0h0m-1 0h0m-2 0h0m0 0h0m0 0h0m0 0h0m-2 0h0m-2 0h0m-2 0h0m0 0h0m0 0h0m-1 0h0m-4 0h0m0 0h0m-1 0h0m-3 0h0m-1 0h0m0 0h0m0 0h0m-1 0h0m-1 0h0m0 0h0m-1 0h0m-1 0h0m-1 0h0m0 0h0m-2 0h0m0 0h0m-1 0h0m0 0h0m-1 0h0m-1 0h0m0 0h0m-1 0h0m-2 0h0m-1 0h0m0 0h0m0 0h0m0 0h0m-1 0h0m-3 0h0m-1 0h0m0 0h0m0 0h0m0 0h0m-1 0h0m-2 0h0m0 0h0m-2 0h0m0 0h0m0 0h0m-2 0h0m-1 0h0m-2 0h0m0 0h0m-5 0h0m-1 0h0m0 0h0m0 0h0m-2 0h0m-2 0h0m0 0h0m-1 0h0m0 0h0m-1 0h0m-1 0h0m-1 0h0m-2 0h0m0 0h0m-2 0h0m-20 0h0m-2 0h0m0 0h0m0 0h0m-1 0h0m-2 0h0m-1 0h0m-1 0h0m-1 0h0m-2 0h0m0 0h0m-2 0h0m0 0h0m-2 0h0m0 0h0m0 0h0m-1 0h0m-1 0h0m0 0h0m0 0h0m-1 0h0m0 0h0m-2 0h0m-1 0h0m-1 0h0m0 0h0m-1 0h0m0 0h0m-2 0h0m-1 0h0m0 0h0m-3 0h0m-2 0h0m0 0h0m-2 0h0m0 0h0m0 0h0m-1 0h0m0 0h0m-1 0h0m0 0h0m0 0h0m-1 0h0m0 0h0m0 0h0m-1 0h0m0 0h0m0 0h0m-3 0h0m0 0h0m0 0h0m-2 0h0m-1 0h0m0 0h0m-2 0h0m0 0h0m-2 0h0m-2 0h0m0 0h0m0 0h0m-2 0h0m-1 0h0m0 0h0m-1 0h0m0 0h0m0 0h0m-2 0h0m0 0h0m-2 0h0m-1 0h0m-2 0h0m-1 0h0m-1 0h0m-2 0h0m0 0h0m-1 0h0m-1 0h0m0 0h0m-1 0h0m-1 0h0m0 0h0m-2 0h0m0 0h0m-2 0h0m0 0h0m-1 0h0m-1 0h0m0 0h0m-1 0h0m-1 0h0m0 0h0m-1 0h0m-2 0h0m-1 0h0m-1 0h0m0 0h0m0 0h0m-1 0h0m-1 0h0m0 0h0m-1 0h0m-4 0h0m-1 0h0m-3 0h0m-4 0h0m-2 0h0m0 0h0m0 0h0m-2 0h0m-1 0h0m-1 0h0m-1 0h0m0 0h0m-2 0h0m-1 0h0m-1 0h0m-1 0h0m-2 0h0m-8 0h0m-2 0h0m0 0h0m-4 0h0m-1 0h0m-5 0h0m-1 0h0m-3 0h0m-2 0h0m-3 0h0m-1 0h0m-2 0h0m-2 0h0m0 0h0m-2 0h0m0 0h0m-2 0h0m-3 0h0m-1 0h0m-1 0h0m-1 0h0m-1 0h0m-12 0h0m-2 0h0m0 0h0m-10 0h0m0 0h0m-4 0h0" stroke="#4F66AE" stroke-width="9"/>
<path d="M446.1 708.6L447.8 708.8L449.5 709L451.3 709.3L453 709.6L454.7 709.8L456.4 709.9L458.2 710L459.9 710.1L461.6 710.2L463.3 710.3L465.1 710.3L466.8 710.3L468.5 710.2L470.2 710.1L471.9 709.9L473.7 709.8L475.4 709.6L477.1 709.5L478.8 709.4L480.6 709.2L482.3 709.1L484 708.9L485.7 708.7L487.5 708.6L489.2 708.4L490.9 708.2L492.6 708.1L494.3 707.9L496.1 707.8L497.8 707.6L499.5 707.5L501.2 707.4L503 707.3L504.7 707.1L506.4 707L508.1 706.9L509.9 706.7L511.6 706.5L513.3 706.2L515 705.8L516.7 705.3L518.5 704.8L520.2 704.3L521.9 703.8L523.6 703.3L525.4 702.9L527.1 702.5L528.8 702L530.5 701.6L532.3 701.3L534 701L535.7 701L537.4 701.1L539.1 701.2L540.9 701.5L542.6 701.9L544.3 702.4L546 702.9L547.8 703.3" stroke="#111" stroke-width="1.35" stroke-linecap="butt"/>
<path d="M441.4 670.9V727.2H553.4" stroke="#1a1a1a" stroke-width="1.3" stroke-linecap="butt"/>
<path transform="scale(0.25)" d="M2419 2791h0m7-2h0m-3 15h0m-87 26h0m-20 6h0m82-3h0m50 15h0m-15 0h0m-10 0h0m-17 0h0m-2 0h0m-68 0h0m-1 0h0m-6 0h0m-8 0h0m-4 0h0m0 0h0m-5 18h0m1 0h0m0 0h0m0 0h0m1 0h0m0 0h0m1 0h0m2 0h0m0 0h0m2 0h0m1 0h0m1 0h0m0 0h0m1 0h0m1 0h0m1 0h0m1 0h0m3 0h0m1 0h0m1 0h0m2 0h0m0 0h0m0 0h0m1 0h0m1 0h0m0 0h0m2 0h0m1 0h0m2 0h0m1 0h0m7 0h0m5 0h0m2 0h0m5 0h0m1 0h0m2 0h0m4 0h0m3 0h0m1 0h0m6 0h0m17 0h0m1 0h0m1 0h0m7 0h0m1 0h0m12 0h0m2 0h0m1 0h0m6 0h0m4 0h0m1 0h0m5 0h0m0 0h0m1 0h0m4 0h0m12 0h0m1 0h0m2 30h0m-1 0h0m0 0h0m-1 0h0m0 0h0m0 0h0m-1 0h0m-1 0h0m0 0h0m-1 0h0m-1 0h0m-1 0h0m-1 0h0m-1 0h0m0 0h0m-1 0h0m0 0h0m-1 0h0m0 0h0m-2 0h0m-3 0h0m-2 0h0m-1 0h0m-1 0h0m0 0h0m-1 0h0m0 0h0m-2 0h0m-1 0h0m-1 0h0m0 0h0m-1 0h0m-3 0h0m-1 0h0m0 0h0m-1 0h0m0 0h0m-2 0h0m-1 0h0m-1 0h0m-4 0h0m-1 0h0m-2 0h0m0 0h0m-3 0h0m-1 0h0m-2 0h0m0 0h0m-1 0h0m0 0h0m0 0h0m-4 0h0m-6 0h0m-1 0h0m0 0h0m-3 0h0m-3 0h0m0 0h0m-2 0h0m0 0h0m0 0h0m-1 0h0m-1 0h0m-3 0h0m-1 0h0m-1 0h0m-1 0h0m0 0h0m0 0h0m0 0h0m0 0h0m0 0h0m-1 0h0m-2 0h0m0 0h0m-1 0h0m-4 0h0m-3 0h0m-1 0h0m-2 0h0m-3 0h0m-1 0h0m-2 0h0m0 0h0m-3 0h0m-2 0h0m-1 0h0m-1 0h0m-1 0h0m0 0h0m0 0h0m0 0h0m-2 0h0m0 0h0m-1 0h0m-6 0h0m0 0h0m0 0h0m-1 0h0m0 0h0m0 0h0m0 0h0m-1 0h0m0 0h0m0 0h0m-1 0h0m0 0h0m0 0h0m-1 0h0m0 0h0m0 0h0m0 0h0m0 0h0m0 0h0m0 0h0m0 0h0m-1 0h0m0 0h0m-1 0h0m0 0h0m0 0h0m0 0h0m0 0h0m-1 0h0m0 0h0m0 0h0m0 0h0m0 0h0m0 0h0m-1 0h0m0 0h0m0 0h0m0 0h0m0 0h0m-1 0h0m0 0h0m-1 0h0m0 0h0m0 0h0m0 0h0m0 0h0m-1 0h0m0 0h0m0 0h0m0 0h0m-1 0h0m-1 0h0m0 0h0m0 0h0m0 0h0m0 0h0m0 0h0m-1 0h0m0 0h0m0 0h0m0 0h0m-1 0h0m0 0h0m0 0h0m0 0h0m0 0h0m0 0h0m0 0h0m-1 0h0m0 0h0m0 0h0m0 0h0m0 0h0m0 0h0m-1 0h0m0 0h0m0 0h0m0 0h0m0 0h0m-1 0h0m0 0h0m0 0h0m0 0h0m-1 0h0m0 0h0m0 0h0m-1 0h0m0 0h0m-1 0h0m0 0h0m0 0h0m0 0h0m0 0h0m0 0h0m0 0h0m0 0h0m-1 0h0m0 0h0m0 0h0m0 0h0m0 0h0m-1 0h0m0 0h0m0 0h0m0 0h0m-1 0h0m0 0h0m0 0h0m0 0h0m0 0h0m-1 0h0m-1 0h0m0 0h0m0 0h0m0 0h0m0 0h0m-1 0h0m0 0h0m0 0h0m-1 0h0m0 0h0m0 0h0m0 0h0m0 0h0m0 0h0m-1 0h0m0 0h0m0 0h0m-1 0h0m0 0h0m-1 0h0" stroke="#B356B2" stroke-width="9"/>
<path transform="scale(0.25)" d="M2565 2699h0m11-6h0m5 6h0m1-2h0m94 14h0m-5-5h0m0 3h0m-2-6h0m-84-2h0m-14 0h0m-7 7h0m-5 3h0m-13-5h0m-6 3h0m-4 1h0m-16 8h0m2 5h0m17-7h0m0 3h0m2 4h0m6-6h0m2 2h0m2 3h0m2 1h0m3-8h0m3 7h0m0-4h0m2-3h0m0 2h0m30-3h0m14 2h0m44 2h0m10-3h0m0 2h0m2 1h0m3-5h0m1 3h0m1 1h0m3 2h0m6 4h0m13 12h0m-12-1h0m-2-4h0m-11-3h0m-10 1h0m-1 0h0m-6 2h0m0 2h0m-1-5h0m-45 6h0m0-3h0m-4-5h0m-3 9h0m0-5h0m-1-2h0m-13-3h0m-4 8h0m0-7h0m0 2h0m-5-1h0m-4 7h0m-9-3h0m-9 5h0m-4 0h0m-3-4h0m-14-1h0m0 4h0m-4 0h0m-15 1h0m9 5h0m9 6h0m3 0h0m7 1h0m4-3h0m9-8h0m0 0h0m3 4h0m4-2h0m5 9h0m5-7h0m9-2h0m2-1h0m1 2h0m1 5h0m6-7h0m4 5h0m6-6h0m2 2h0m1 9h0m0-5h0m0 4h0m12-7h0m22-1h0m2 2h0m5 2h0m5-4h0m2-2h0m12 6h0m6-6h0m1 9h0m12-6h0m1-3h0m4 1h0m0 2h0m8 2h0m1 1h0m4 12h0m-20 2h0m0-5h0m-10 4h0m-2-4h0m0 5h0m-1-3h0m-1 4h0m-5 2h0m-11-8h0m-2 8h0m-5-8h0m-41-2h0m-13 5h0m-3-5h0m-1 7h0m-7-3h0m-1 6h0m-11-8h0m-3 2h0m-7 4h0m-1-4h0m-3 2h0m-10 1h0m-58-6h0m-5 4h0m40 15h0m0 2h0m4-6h0m0 4h0m28-3h0m1-2h0m6 1h0m4 6h0m6-3h0m7-3h0m3 3h0m10-1h0m12 4h0m1-2h0m2-5h0m52 0h0m1-1h0m2 0h0m3 7h0m2-2h0m4-3h0m3-5h0m4 3h0m2-2h0m9 4h0m1 6h0m7-7h0m1 4h0m1-8h0m2 10h0m4-6h0m-1 12h0m-4 4h0m-2-8h0m-5 6h0m-8-4h0m-1 5h0m0-6h0m-13 6h0m-4-3h0m-1-3h0m-4 2h0m-5-3h0m-3 11h0m-3-1h0m-7-3h0m-27-1h0m-4-1h0m-13 3h0m-2-2h0m-5 5h0m-10 0h0m-1-7h0m-7 3h0m0-5h0m-1 4h0m-2 0h0m-4 3h0m-4-4h0m-1 0h0m-11 5h0m-5-8h0m-2 9h0m-2-6h0m-4 1h0m-2 5h0m-14-9h0m-12 3h0m-47 16h0m52-4h0m8 4h0m1 1h0m5-1h0m9-1h0m6-5h0m1 6h0m14-1h0m0-6h0m3 6h0m4-8h0m1 3h0m1-3h0m4 3h0m3 1h0m4 5h0m0-7h0m3 1h0m2-1h0m2-2h0m3 6h0m2-3h0m7 1h0m2 7h0m13-4h0m3-5h0m4-1h0m18 8h0m5-2h0m2 0h0m2-6h0m3 0h0m8 7h0m5-6h0m0 6h0m1-8h0m10 7h0m3-1h0m5 5h0m0-2h0m1-6h0m3-3h0m2 9h0m8 2h0m2-8h0m7 8h0m0 6h0m-4-1h0m0-4h0m-1 8h0m-2 0h0m-7 3h0m-6-1h0m0 0h0m-2 1h0m-1-10h0m-5 5h0m-2-6h0m-1 8h0m-1 2h0m-4-10h0m-6 6h0m-1-4h0m-2 2h0m-1 6h0m-3-2h0m-8-3h0m0 0h0m-5-4h0m-25 4h0m-1 6h0m-3-8h0m-7 5h0m-1-6h0m-7 6h0m-2 0h0m-5-5h0m-5 0h0m-1 0h0m-2-3h0m-6 8h0m-1-2h0m-4-4h0m0 7h0m-3 1h0m-12-4h0m-1-3h0m-2 3h0m-5-4h0m-12 9h0m0 0h0m-11-1h0m-3 1h0m-4-5h0m-5 2h0m-30-6h0m-16 2h0m-7 6h0m-25-1h0m82 9h0m4-6h0m3 8h0m0-4h0m2 5h0m1-2h0m5 2h0m1-1h0m1 3h0m6-5h0m6 3h0m1-2h0m3-2h0m1 5h0m2-4h0m2 2h0m2 3h0m7-3h0m1 3h0m0 0h0m0-4h0m3 1h0m5 3h0m1-4h0m0-4h0m4 6h0m1-6h0m5-2h0m2 8h0m1 0h0m4 0h0m0-9h0m0 8h0m1-6h0m8-1h0m1 2h0m3 6h0m1-6h0m4 5h0m0 2h0m1-4h0m2 5h0m26-6h0m6 6h0m0-11h0m3 1h0m7 7h0m8-7h0m1 1h0m1 3h0m0-2h0m1 2h0m0 1h0m4-5h0m4 1h0m0 7h0m2-4h0m3 2h0m3 4h0m6-5h0m3 0h0m3-5h0m1 10h0m0-1h0m1-6h0m1 0h0m1-1h0m23 17h0m-22-1h0m-4 2h0m0-8h0m-1 5h0m-1-3h0m-5 7h0m0-1h0m-1 0h0m-6 1h0m0-10h0m-2 11h0m-4-4h0m0 2h0m-3 2h0m-2-2h0m0 2h0m-1-2h0m-3 1h0m-1-6h0m-1 1h0m-1 3h0m-2-4h0m0 2h0m-1 4h0m-3 0h0m-2-3h0m0-7h0m-1 10h0m0-1h0m-2 1h0m0-5h0m-2 3h0m0 0h0m-4-2h0m-2 4h0m-2-3h0m-1-5h0m-3 7h0m-25-4h0m-7 4h0m-1-4h0m0 5h0m0-6h0m-5 5h0m-1-9h0m0 5h0m-3 4h0m-1 2h0m-1-1h0m-2-6h0m0-1h0m-2 7h0m-1-8h0m0-2h0m-3 7h0m0-2h0m-2-5h0m-3 10h0m-2 0h0m0 1h0m-2-11h0m-1 4h0m-1 3h0m0 1h0m-2-6h0m-4 1h0m-1-1h0m-1 9h0m-4 0h0m-3-11h0m-1 9h0m-1-1h0m0-2h0m-1-5h0m-1 8h0m-4-6h0m-7 6h0m-2-5h0m-1 4h0m-2 0h0m-2-1h0m-1-2h0m0-2h0m0-1h0m-8 2h0m-1-1h0m-1 0h0m0-2h0m-2 0h0m0 0h0m-1 10h0m-2-1h0m-1-1h0m0-4h0m-1 6h0m-5-5h0m-13 0h0m-62 10h0m8-4h0m4 2h0m12 1h0m44 0h0m6-3h0m0 2h0m2 1h0m11 0h0m0-1h0m1 2h0m1 0h0m1 0h0m0-4h0m0 0h0m2 3h0m0 1h0m1 0h0m1-1h0m15 1h0m4-1h0m0 1h0m3-1h0m1 1h0m0-1h0m2 1h0m0-3h0m1 3h0m0-4h0m2 4h0m1-1h0m0 0h0m0 1h0m1-3h0m5 2h0m0 0h0m0 1h0m6-1h0m2 1h0m0-4h0m1 4h0m1 0h0m0 0h0m2 0h0m1-1h0m0 1h0m1-1h0m2-1h0m0 1h0m0 1h0m1-2h0m1 2h0m1-2h0m2 0h0m1 2h0m2-1h0m1 1h0m2-3h0m0 2h0m4-1h0m2 2h0m1 0h0m5-4h0m1 3h0m0 1h0m0-1h0m7 1h0m22 0h0m2 0h0m0-1h0m0 0h0m5 0h0m4-1h0m0 1h0m0-2h0m1-1h0m2 1h0m1 1h0m1 0h0m1 0h0m0 2h0m3 0h0m0 0h0m3 0h0m0 0h0m0-2h0m1 1h0m0-1h0m1 2h0m1-4h0m0 3h0m2 0h0m0-2h0m1 3h0m3-3h0m1 3h0m1-2h0m1 2h0m0-3h0m2 2h0m2 0h0m0 1h0m2-3h0m2 3h0m1-1h0m1 0h0m3 1h0m0 0h0m3-1h0m2 0h0m1-1h0m1-2h0m3 2h0m3 2h0m0 0h0m2-1h0m15-2h0m6 0h0m1 2h0m-21 13h0m-1 0h0m-4 0h0m-4 0h0m-1 0h0m-2 0h0m0 0h0m0 0h0m-1 0h0m0 0h0m-1 0h0m0 0h0m0 0h0m-1 0h0m-2 0h0m0 0h0m-1 0h0m-1 0h0m-2 0h0m-3 0h0m0 0h0m-4 0h0m0 0h0m0 0h0m-3 0h0m-1 0h0m-3 0h0m-3 0h0m0 0h0m-3 0h0m-4 0h0m-1 0h0m-12 0h0m-29 0h0m-5 0h0m-2 0h0m-4 0h0m-1 0h0m-3 0h0m-6 0h0m-10 0h0m-4 0h0m-2 0h0m0 0h0m-2 0h0m-1 0h0m-1 0h0m-1 0h0m0 0h0m-1 0h0m-1 0h0m-1 0h0m-1 0h0m-5 0h0m-1 0h0m-2 0h0m0 0h0m0 0h0m-1 0h0m-4 0h0m-2 0h0m-2 0h0m-2 0h0m-1 0h0m-2 0h0m-2 0h0m-3 0h0m-1 0h0m0 0h0m-1 0h0m-3 0h0m-3 0h0m-1 0h0m0 0h0m-10 0h0m-5 0h0m-54 0h0m-31 18h0m1 0h0m1 0h0m1 0h0m1 0h0m1 0h0m2 0h0m0 0h0m2 0h0m0 0h0m0 0h0m1 0h0m2 0h0m0 0h0m1 0h0m0 0h0m2 0h0m2 0h0m0 0h0m1 0h0m0 0h0m3 0h0m0 0h0m0 0h0m2 0h0m2 0h0m0 0h0m3 0h0m4 0h0m1 0h0m1 0h0m0 0h0m3 0h0m0 0h0m3 0h0m2 0h0m1 0h0m2 0h0m0 0h0m1 0h0m3 0h0m1 0h0m2 0h0m1 0h0m2 0h0m3 0h0m1 0h0m0 0h0m1 0h0m10 0h0m1 0h0m1 0h0m4 0h0m0 0h0m1 0h0m1 0h0m2 0h0m3 0h0m2 0h0m9 0h0m1 0h0m0 0h0m3 0h0m0 0h0m7 0h0m8 0h0m1 0h0m9 0h0m2 0h0m0 0h0m2 0h0m0 0h0m1 0h0m0 0h0m0 0h0m0 0h0m1 0h0m0 0h0m5 0h0m1 0h0m3 0h0m0 0h0m1 0h0m4 0h0m2 0h0m0 0h0m4 0h0m0 0h0m3 0h0m1 0h0m0 0h0m4 0h0m8 0h0m3 0h0m0 0h0m2 0h0m5 0h0m2 0h0m3 0h0m23 0h0m0 0h0m2 0h0m3 0h0m2 0h0m13 0h0m8 0h0m1 0h0m1 0h0m0 0h0m1 0h0m1 0h0m1 0h0m1 0h0m4 0h0m6 0h0m1 0h0m0 0h0m0 0h0m3 0h0m3 0h0m0 0h0m6 0h0m3 0h0m2 0h0m18 0h0m-1 30h0m-8 0h0m-3 0h0m-1 0h0m-3 0h0m0 0h0m-8 0h0m0 0h0m-2 0h0m-1 0h0m-2 0h0m-1 0h0m-2 0h0m0 0h0m-2 0h0m-4 0h0m-2 0h0m-1 0h0m-3 0h0m-4 0h0m-2 0h0m-1 0h0m-1 0h0m-2 0h0m-1 0h0m0 0h0m-2 0h0m0 0h0m-1 0h0m-3 0h0m-3 0h0m-4 0h0m0 0h0m0 0h0m-3 0h0m0 0h0m-6 0h0m0 0h0m-20 0h0m-1 0h0m-1 0h0m-3 0h0m-3 0h0m-6 0h0m0 0h0m-1 0h0m-4 0h0m-2 0h0m0 0h0m0 0h0m-1 0h0m-5 0h0m-1 0h0m0 0h0m-3 0h0m-1 0h0m0 0h0m0 0h0m-3 0h0m0 0h0m-3 0h0m-2 0h0m0 0h0m0 0h0m-3 0h0m0 0h0m0 0h0m-1 0h0m0 0h0m-4 0h0m0 0h0m-1 0h0m-1 0h0m0 0h0m-2 0h0m0 0h0m0 0h0m0 0h0m-1 0h0m0 0h0m-2 0h0m-2 0h0m0 0h0m0 0h0m-2 0h0m-2 0h0m-1 0h0m0 0h0m-4 0h0m-4 0h0m-1 0h0m-2 0h0m-1 0h0m-2 0h0m-2 0h0m-2 0h0m0 0h0m-1 0h0m0 0h0m-1 0h0m-1 0h0m-4 0h0m-2 0h0m-9 0h0m-2 0h0m-3 0h0m-4 0h0m-2 0h0m0 0h0m0 0h0m-3 0h0m-1 0h0m-1 0h0m-1 0h0m-6 0h0m-2 0h0m0 0h0m-2 0h0m-2 0h0m0 0h0m-3 0h0m0 0h0m-2 0h0m0 0h0m-1 0h0m0 0h0m-1 0h0m-1 0h0m-2 0h0m0 0h0m-3 0h0m-1 0h0m-1 0h0m-4 0h0m0 0h0m0 0h0m-2 0h0m-9 0h0m-2 0h0m-5 0h0m0 0h0m0 0h0m-1 0h0m0 0h0m-1 0h0m-3 0h0m0 0h0m0 0h0m-1 0h0m-4 0h0m-1 0h0m-2 0h0m-2 0h0m-6 0h0m0 0h0m0 0h0m-1 0h0m0 0h0m-1 0h0" stroke="#4F66AE" stroke-width="9"/>
<path transform="scale(0.25)" d="M2555 2707h0m14 7h0m96 5h0m24 16h0m-8-7h0m-40 5h0m-39-6h0m-72 2h0m-21 7h0m13 10h0m58-2h0m9-2h0m19-5h0m73 2h0m6 7h0m0 5h0m-55 7h0m-79-9h0m-63 18h0m38-7h0m81 11h0m28 8h0m-34-3h0m-19 0h0m-14 2h0m-10-3h0m-36 6h0m-109 1h0m96 9h0m4-4h0m24-3h0m8 11h0m9-1h0m36-6h0m2-2h0m16 0h0m41-2h0m35 9h0m3 11h0m-2-2h0m-29 3h0m-2-5h0m-19-4h0m-28 2h0m-11 8h0m-37 1h0m-6 0h0m-12-5h0m-8-6h0m-52 13h0m7 3h0m26-3h0m2-1h0m9 5h0m6 5h0m6 1h0m22-5h0m14-4h0m59 4h0m9 3h0m42-5h0m6 7h0m2-2h0m6 1h0m-1 12h0m-24-5h0m-16-1h0m-3 0h0m-21 7h0m-4-2h0m-22-4h0m-1 6h0m-43-5h0m-16 4h0m-16-6h0m-9-4h0m-6 0h0m-1 7h0m-7-2h0m-3 1h0m-47-5h0m24 11h0m2 1h0m0 3h0m20-1h0m16 1h0m4 0h0m18 0h0m7-4h0m8 0h0m10 3h0m4-3h0m2 1h0m8 1h0m25 2h0m28-1h0m8 1h0m8-2h0m17-1h0m1 1h0m0-1h0m16 3h0m3-3h0m12 15h0m-3 0h0m-12 0h0m-4 0h0m-26 0h0m-7 0h0m-5 0h0m-9 0h0m-22 0h0m-1 0h0m-11 0h0m0 0h0m-28 0h0m-1 0h0m-2 0h0m-1 0h0m-1 0h0m-1 0h0m-6 0h0m0 0h0m-1 0h0m0 0h0m-2 0h0m-1 0h0m-5 0h0m-1 0h0m-11 0h0m-2 0h0m-13 0h0m-3 0h0m-65 0h0m-46 18h0m1 0h0m1 0h0m1 0h0m1 0h0m1 0h0m0 0h0m0 0h0m0 0h0m1 0h0m0 0h0m1 0h0m0 0h0m1 0h0m0 0h0m0 0h0m2 0h0m0 0h0m1 0h0m2 0h0m1 0h0m3 0h0m3 0h0m3 0h0m0 0h0m4 0h0m1 0h0m1 0h0m0 0h0m1 0h0m2 0h0m0 0h0m6 0h0m0 0h0m0 0h0m1 0h0m1 0h0m1 0h0m0 0h0m1 0h0m1 0h0m2 0h0m2 0h0m1 0h0m0 0h0m0 0h0m0 0h0m1 0h0m0 0h0m0 0h0m0 0h0m1 0h0m1 0h0m0 0h0m1 0h0m0 0h0m1 0h0m2 0h0m2 0h0m1 0h0m0 0h0m1 0h0m2 0h0m1 0h0m1 0h0m2 0h0m1 0h0m1 0h0m1 0h0m1 0h0m2 0h0m0 0h0m4 0h0m0 0h0m1 0h0m4 0h0m0 0h0m2 0h0m2 0h0m1 0h0m0 0h0m1 0h0m2 0h0m0 0h0m2 0h0m0 0h0m1 0h0m3 0h0m2 0h0m1 0h0m0 0h0m3 0h0m3 0h0m2 0h0m2 0h0m1 0h0m0 0h0m1 0h0m2 0h0m0 0h0m6 0h0m0 0h0m1 0h0m0 0h0m1 0h0m3 0h0m3 0h0m5 0h0m0 0h0m3 0h0m1 0h0m0 0h0m1 0h0m3 0h0m1 0h0m0 0h0m7 0h0m4 0h0m2 0h0m0 0h0m5 0h0m0 0h0m1 0h0m1 0h0m2 0h0m1 0h0m1 0h0m4 0h0m0 0h0m0 0h0m6 0h0m1 0h0m5 0h0m1 0h0m2 0h0m1 0h0m2 0h0m2 0h0m3 0h0m5 0h0m6 0h0m0 0h0m22 0h0m1 0h0m2 0h0m3 0h0m1 0h0m1 0h0m0 0h0m3 0h0m1 0h0m1 0h0m9 0h0m9 0h0m1 0h0m3 0h0m1 0h0m8 0h0m3 0h0m4 0h0m1 0h0m2 0h0m1 0h0m8 0h0m2 0h0m0 0h0m1 30h0m-1 0h0m-1 0h0m0 0h0m-1 0h0m-1 0h0m-7 0h0m-1 0h0m-2 0h0m-3 0h0m-1 0h0m-2 0h0m-1 0h0m-6 0h0m0 0h0m0 0h0m-1 0h0m-2 0h0m0 0h0m-1 0h0m-1 0h0m-3 0h0m-2 0h0m-1 0h0m-2 0h0m-3 0h0m0 0h0m-1 0h0m0 0h0m-1 0h0m0 0h0m-4 0h0m0 0h0m-2 0h0m0 0h0m0 0h0m-1 0h0m-1 0h0m-1 0h0m-3 0h0m-2 0h0m-1 0h0m0 0h0m-3 0h0m0 0h0m-3 0h0m-1 0h0m-20 0h0m-1 0h0m-1 0h0m-1 0h0m-1 0h0m-1 0h0m-1 0h0m-1 0h0m-1 0h0m0 0h0m-3 0h0m-1 0h0m-3 0h0m-3 0h0m0 0h0m-2 0h0m0 0h0m-1 0h0m-1 0h0m-1 0h0m-2 0h0m-1 0h0m0 0h0m-2 0h0m-2 0h0m0 0h0m-2 0h0m-3 0h0m-1 0h0m0 0h0m-3 0h0m0 0h0m-2 0h0m-1 0h0m-1 0h0m-3 0h0m-1 0h0m-2 0h0m0 0h0m-3 0h0m-1 0h0m0 0h0m-1 0h0m-1 0h0m-7 0h0m-1 0h0m-2 0h0m-2 0h0m-1 0h0m-1 0h0m-3 0h0m-2 0h0m-3 0h0m-1 0h0m0 0h0m-3 0h0m-1 0h0m0 0h0m-3 0h0m-1 0h0m0 0h0m0 0h0m0 0h0m-1 0h0m-1 0h0m-2 0h0m-2 0h0m-3 0h0m-6 0h0m0 0h0m-1 0h0m-6 0h0m-2 0h0m-1 0h0m-1 0h0m-1 0h0m0 0h0m-2 0h0m-1 0h0m0 0h0m-2 0h0m0 0h0m-1 0h0m-2 0h0m-1 0h0m0 0h0m-1 0h0m-1 0h0m-2 0h0m-3 0h0m0 0h0m-1 0h0m0 0h0m-2 0h0m-2 0h0m-4 0h0m0 0h0m-1 0h0m0 0h0m-1 0h0m0 0h0m-1 0h0m-2 0h0m-1 0h0m-1 0h0m-1 0h0m0 0h0m-3 0h0m0 0h0m-1 0h0m0 0h0m0 0h0m-1 0h0m-1 0h0m-1 0h0m0 0h0m-1 0h0m-1 0h0m0 0h0m-1 0h0m-1 0h0m-1 0h0m-1 0h0m0 0h0m0 0h0m0 0h0m-1 0h0m-1 0h0m0 0h0m-2 0h0m-1 0h0m0 0h0m-1 0h0m0 0h0m-1 0h0m-1 0h0m0 0h0m-1 0h0m0 0h0m-1 0h0m-2 0h0m0 0h0m-2 0h0m-1 0h0m0 0h0m0 0h0m0 0h0m-2 0h0m0 0h0m-1 0h0m-1 0h0m-1 0h0m-1 0h0m0 0h0m0 0h0m-1 0h0m-1 0h0m-1 0h0m-3 0h0m-1 0h0m-3 0h0m0 0h0m-3 0h0m-1 0h0m0 0h0m0 0h0m-2 0h0m-3 0h0m0 0h0m-1 0h0m0 0h0m-2 0h0m-3 0h0" stroke="#56A6CE" stroke-width="9"/>
<path transform="scale(0.25)" d="M2577 2698h0m85 9h0m-70 1h0m-19-5h0m-4 0h0m-1 5h0m-5 0h0m-5 1h0m-6-4h0m-9-2h0m-3 2h0m-5 4h0m-22 11h0m7-2h0m1 2h0m1-3h0m15-4h0m3 0h0m8 5h0m1 5h0m3 0h0m1-10h0m4 6h0m3 3h0m1 0h0m2 1h0m7-4h0m1 2h0m6 2h0m2-11h0m2 4h0m2-3h0m3 4h0m0-2h0m0 2h0m3-2h0m2-1h0m10 3h0m43 3h0m8 3h0m10-11h0m3 2h0m2 9h0m14 12h0m-2-8h0m-3 3h0m-16-1h0m-2 6h0m-1-1h0m-2-3h0m0-1h0m-12-5h0m-9 4h0m-27-2h0m-1-1h0m-5 6h0m-8-3h0m-1 0h0m-8 3h0m-5 3h0m-4-9h0m-2-1h0m-4 3h0m-8-3h0m-1 5h0m-3 1h0m-6-6h0m-12 4h0m-6 4h0m-6-5h0m-9 3h0m-5 14h0m12 2h0m0-3h0m8-2h0m5 4h0m5-8h0m1 3h0m7 6h0m1-11h0m0 4h0m1 3h0m16-4h0m5 5h0m4-8h0m1 10h0m1-9h0m1 1h0m1-2h0m0 3h0m5 3h0m1-4h0m8 8h0m41-9h0m1 0h0m17 9h0m3-1h0m2 1h0m2 1h0m0-3h0m7 2h0m3-7h0m4 2h0m6 0h0m1 6h0m7 0h0m3-4h0m-3 10h0m-4 0h0m-4 6h0m-2-7h0m-4-4h0m-3 9h0m0-6h0m-2 7h0m-4-7h0m-1 7h0m-4 1h0m-2 0h0m-3-5h0m0 0h0m0 5h0m-1-1h0m-3-9h0m-1 8h0m-5-8h0m0 4h0m-5-5h0m-7 2h0m-2 3h0m-32-4h0m-2 2h0m-2 8h0m-3-8h0m-4-2h0m-4 2h0m-11 0h0m-1 4h0m-2-2h0m-3-2h0m-19 7h0m-5-3h0m-1-7h0m-9 7h0m-23 1h0m-62 9h0m28-2h0m9-3h0m22 11h0m2-9h0m2 2h0m4 3h0m4 3h0m2-3h0m13 3h0m3 1h0m6-10h0m0 0h0m7 5h0m4-2h0m0 0h0m10 3h0m3-1h0m1-6h0m9 4h0m2 2h0m0-6h0m9 10h0m0-9h0m4 1h0m0 7h0m2 2h0m8-3h0m30 1h0m9 0h0m4-7h0m1 1h0m0-3h0m4 0h0m4 7h0m7-5h0m3 9h0m5-5h0m1 1h0m3 0h0m4-6h0m5 6h0m7-5h0m1 0h0m4 4h0m4 6h0m-12 0h0m0 6h0m-10-3h0m-9-3h0m-3 10h0m-6-10h0m-1 10h0m0-8h0m-3 7h0m-10 1h0m-3-8h0m-6 1h0m-6 1h0m-24 7h0m-4-3h0m-2-8h0m-1 7h0m-5-3h0m-8-1h0m-9 0h0m-5 7h0m-3-9h0m-1 5h0m-5-1h0m-2 4h0m0-3h0m-2-2h0m-11 5h0m-1-4h0m-3-2h0m-2-1h0m-1 0h0m-2 0h0m-6 6h0m-11 2h0m-2-6h0m0-1h0m-2 2h0m-3-2h0m-2-1h0m-1 6h0m-78 0h0m55 11h0m15-6h0m1 0h0m11 7h0m2-8h0m1 7h0m4-5h0m3 5h0m14-7h0m0 2h0m5-1h0m6-1h0m5 1h0m3 7h0m2-4h0m3 1h0m5 6h0m4-2h0m1-8h0m1 0h0m9 0h0m3 5h0m1-4h0m3 5h0m8-5h0m2 2h0m2 1h0m5 4h0m0 0h0m21-1h0m4-1h0m4-2h0m2-5h0m1 9h0m5 2h0m0-5h0m3-1h0m4 2h0m1 4h0m1-5h0m0-3h0m6 6h0m3-8h0m4 2h0m3-3h0m1 11h0m2-10h0m3-1h0m1 8h0m1 2h0m0-2h0m1 3h0m4-10h0m1 5h0m3 4h0m2-4h0m3 5h0m0-3h0m1-2h0m0-5h0m2 22h0m0-8h0m-6 3h0m-3 2h0m-2-2h0m0-4h0m0 0h0m-3-2h0m-2 10h0m-1 1h0m-3-2h0m-2-5h0m0-3h0m0 6h0m-1-7h0m-1 5h0m-1 4h0m-1 1h0m-1-7h0m0 6h0m-1-6h0m-5 6h0m-2 1h0m-2-4h0m0 5h0m-2-5h0m-1-2h0m0 0h0m-2 7h0m-5-3h0m-8-1h0m0 3h0m-6-7h0m0 6h0m-1-3h0m-24-2h0m-4 1h0m0-2h0m-13-3h0m-1 3h0m0-2h0m-3 2h0m-3 4h0m-1-1h0m0 5h0m-1-7h0m-2 3h0m-2-4h0m-1-2h0m-1 1h0m-1 9h0m0-2h0m-1-3h0m-3 2h0m-1-8h0m-2 4h0m0 0h0m-2-4h0m-5 6h0m0-5h0m-2 3h0m-4 7h0m-1 0h0m-1-3h0m-3-5h0m0 1h0m-2 6h0m-4-4h0m-3 3h0m0-3h0m0 4h0m-7-1h0m-2 0h0m-1-3h0m0 0h0m-5-1h0m-5-5h0m-4 1h0m-5 8h0m-5 2h0m-3-6h0m-1-2h0m-35-2h0m33 16h0m6 4h0m5-9h0m1 10h0m4-7h0m1 7h0m2-6h0m2 4h0m8-2h0m0 0h0m2 1h0m3 4h0m10-3h0m2-1h0m2 1h0m0-5h0m1-2h0m2-1h0m2 7h0m3-7h0m5 10h0m4-7h0m2 8h0m1-7h0m5 5h0m0-5h0m0 6h0m5 0h0m1-3h0m11 1h0m0 2h0m4-2h0m0-3h0m1 2h0m3-3h0m31 3h0m4-4h0m1 8h0m7-1h0m1-3h0m1 2h0m2-2h0m3-3h0m0 7h0m2-11h0m2 7h0m0-4h0m5 3h0m0 3h0m1 1h0m3-2h0m2 0h0m1 0h0m1-5h0m0 3h0m4 3h0m1-2h0m3-7h0m1 2h0m3 6h0m0-2h0m5-1h0m4 5h0m1-7h0m1 1h0m3 5h0m0-3h0m2 12h0m0 2h0m-1 1h0m0-8h0m-1 9h0m0-3h0m0 0h0m-2 1h0m-1-6h0m-2 5h0m0-5h0m-2 1h0m-2-1h0m-2 7h0m-1-7h0m-3 5h0m0 0h0m-2 1h0m0 1h0m0-8h0m-1 10h0m-1-4h0m-3-6h0m0 5h0m-5-4h0m-1 4h0m-3 5h0m-1-10h0m0 9h0m-2 0h0m0 1h0m-4-1h0m-3 1h0m-1 0h0m-4-6h0m-1 0h0m0 3h0m-2-3h0m-1 4h0m-1 2h0m-7-7h0m0 5h0m-6-3h0m-18-4h0m-6 5h0m-3-6h0m-1 10h0m0-3h0m-6-7h0m-1 3h0m-1 6h0m-2-4h0m-2-5h0m-1 1h0m-1 6h0m0-4h0m-2 1h0m-1 5h0m0-5h0m0 1h0m-2-4h0m0 8h0m0-2h0m0-5h0m-3 8h0m-2-6h0m-1-3h0m-2-1h0m-1 0h0m0 10h0m-1-5h0m-2-2h0m0-4h0m0 10h0m-3-6h0m0 6h0m-2 0h0m-2-9h0m0 3h0m0 0h0m-2 6h0m0 1h0m-1-11h0m0 5h0m-1 3h0m-1 0h0m0 2h0m-2-4h0m0-4h0m-1 1h0m-4 3h0m-1-1h0m-2-1h0m0 1h0m-2 6h0m-3-7h0m0-3h0m-4 2h0m-2 5h0m-1-2h0m0 4h0m0-1h0m-1-1h0m0-5h0m-4 5h0m0-6h0m-3 6h0m-3-2h0m-1 1h0m0 2h0m-2-9h0m-2 8h0m-2 2h0m-5-2h0m0-1h0m-4-2h0m-4 0h0m-2 4h0m-42 6h0m29 0h0m13 0h0m5 1h0m7-1h0m1 1h0m6-4h0m0 3h0m3-1h0m1 1h0m1-1h0m1 2h0m1 0h0m1-3h0m0 2h0m2 1h0m1-1h0m0-3h0m1 2h0m0 2h0m3-1h0m4 1h0m0 0h0m0-4h0m0 4h0m2-4h0m1 4h0m2 0h0m0-1h0m0 0h0m0 0h0m0-3h0m1 4h0m3-1h0m0-3h0m0 0h0m2 3h0m0-2h0m0 3h0m2-1h0m0-1h0m2-2h0m1 3h0m4 1h0m1 0h0m2-4h0m1 2h0m1 2h0m1-4h0m0 2h0m1 2h0m1-2h0m2 1h0m3-2h0m1 3h0m0 0h0m0-2h0m2 2h0m1-2h0m2 1h0m0 1h0m0-4h0m1 3h0m2-2h0m2 2h0m1 1h0m0-2h0m2 0h0m1 1h0m0-2h0m1-1h0m1 3h0m3 1h0m2-2h0m0-1h0m1 2h0m3-3h0m3 1h0m0 3h0m1-2h0m1 2h0m0 0h0m4-1h0m21 1h0m0-4h0m0 3h0m1 1h0m0 0h0m5 0h0m0 0h0m2-1h0m0-1h0m1-1h0m1 3h0m0 0h0m2 0h0m2 0h0m1-2h0m1-2h0m1 4h0m0-2h0m0 2h0m1-2h0m0 1h0m0-1h0m2 2h0m1-1h0m0-1h0m1 0h0m0 2h0m1-3h0m0 2h0m1 1h0m0 0h0m2-1h0m0 0h0m0 1h0m1 0h0m2-2h0m1 2h0m2-2h0m1 2h0m1-2h0m0 1h0m3 1h0m0-1h0m0-1h0m0-2h0m1 2h0m0 0h0m0 0h0m0 2h0m0-1h0m1-2h0m0 0h0m2 1h0m1 0h0m1 1h0m0-1h0m1-2h0m4 4h0m1-2h0m2 1h0m0 1h0m0-2h0m0 1h0m2 0h0m1 0h0m1-2h0m8 0h0m0 1h0m2-1h0m2 3h0m0 0h0m1 0h0m2 0h0m1-4h0m0 1h0m-10 15h0m-2 0h0m-1 0h0m-7 0h0m-7 0h0m-2 0h0m0 0h0m-1 0h0m-1 0h0m0 0h0m-2 0h0m-4 0h0m0 0h0m-10 0h0m0 0h0m-7 0h0m-1 0h0m-1 0h0m-5 0h0m-1 0h0m-1 0h0m-2 0h0m-2 0h0m-6 0h0m-19 0h0m-5 0h0m-1 0h0m0 0h0m-2 0h0m-2 0h0m-1 0h0m0 0h0m-1 0h0m0 0h0m-2 0h0m0 0h0m-1 0h0m-1 0h0m-1 0h0m-1 0h0m0 0h0m-2 0h0m0 0h0m-2 0h0m-5 0h0m0 0h0m-1 0h0m-3 0h0m0 0h0m-6 0h0m-1 0h0m-1 0h0m-2 0h0m0 0h0m-3 0h0m0 0h0m-3 0h0m0 0h0m-1 0h0m-2 0h0m-1 0h0m-8 0h0m-1 0h0m-3 0h0m0 0h0m-5 0h0m-3 0h0m-1 0h0m0 0h0m0 0h0m-5 0h0m0 0h0m-1 0h0m-1 0h0m-1 0h0m-3 0h0m-5 0h0m-2 0h0m-2 0h0m-1 0h0m-2 0h0m-1 0h0m-3 0h0m-6 0h0m-37 0h0m-22 0h0m-21 18h0m0 0h0m4 0h0m0 0h0m2 0h0m0 0h0m0 0h0m1 0h0m3 0h0m1 0h0m1 0h0m0 0h0m0 0h0m1 0h0m2 0h0m1 0h0m0 0h0m1 0h0m1 0h0m2 0h0m0 0h0m1 0h0m7 0h0m1 0h0m0 0h0m1 0h0m1 0h0m2 0h0m1 0h0m2 0h0m1 0h0m1 0h0m2 0h0m3 0h0m1 0h0m1 0h0m2 0h0m2 0h0m1 0h0m1 0h0m3 0h0m1 0h0m0 0h0m3 0h0m5 0h0m4 0h0m0 0h0m1 0h0m1 0h0m1 0h0m6 0h0m0 0h0m1 0h0m0 0h0m1 0h0m2 0h0m2 0h0m3 0h0m0 0h0m2 0h0m8 0h0m6 0h0m3 0h0m1 0h0m2 0h0m4 0h0m0 0h0m1 0h0m0 0h0m1 0h0m2 0h0m1 0h0m5 0h0m3 0h0m1 0h0m1 0h0m2 0h0m3 0h0m0 0h0m0 0h0m2 0h0m1 0h0m3 0h0m7 0h0m1 0h0m1 0h0m1 0h0m1 0h0m1 0h0m0 0h0m2 0h0m0 0h0m1 0h0m0 0h0m0 0h0m6 0h0m4 0h0m2 0h0m4 0h0m1 0h0m0 0h0m2 0h0m2 0h0m2 0h0m2 0h0m2 0h0m0 0h0m1 0h0m1 0h0m6 0h0m22 0h0m1 0h0m1 0h0m0 0h0m1 0h0m4 0h0m7 0h0m1 0h0m0 0h0m4 0h0m0 0h0m1 0h0m0 0h0m2 0h0m0 0h0m0 0h0m2 0h0m0 0h0m1 0h0m0 0h0m1 0h0m0 0h0m3 0h0m2 0h0m0 0h0m2 0h0m0 0h0m2 0h0m0 0h0m0 0h0m1 0h0m0 0h0m1 0h0m3 0h0m0 0h0m1 0h0m0 0h0m3 0h0m3 0h0m0 0h0m2 0h0m1 0h0m1 0h0m0 0h0m0 0h0m2 0h0m1 0h0m6 0h0m0 30h0m-3 0h0m-1 0h0m-1 0h0m0 0h0m0 0h0m-1 0h0m0 0h0m-2 0h0m-8 0h0m-1 0h0m0 0h0m0 0h0m-1 0h0m0 0h0m-6 0h0m0 0h0m-1 0h0m-1 0h0m-1 0h0m-1 0h0m0 0h0m-1 0h0m-1 0h0m0 0h0m0 0h0m-2 0h0m0 0h0m-1 0h0m-1 0h0m-1 0h0m-1 0h0m0 0h0m0 0h0m-4 0h0m-1 0h0m-1 0h0m-2 0h0m-1 0h0m-2 0h0m0 0h0m0 0h0m-1 0h0m-2 0h0m-2 0h0m-3 0h0m-4 0h0m0 0h0m-3 0h0m-2 0h0m0 0h0m-20 0h0m-3 0h0m-1 0h0m0 0h0m0 0h0m-1 0h0m-1 0h0m0 0h0m-3 0h0m-1 0h0m-9 0h0m-1 0h0m-4 0h0m-1 0h0m-1 0h0m-1 0h0m-3 0h0m-2 0h0m-5 0h0m-1 0h0m-2 0h0m0 0h0m0 0h0m0 0h0m-2 0h0m-1 0h0m-1 0h0m-2 0h0m0 0h0m0 0h0m-1 0h0m-2 0h0m-2 0h0m-1 0h0m-2 0h0m0 0h0m-1 0h0m0 0h0m0 0h0m0 0h0m-2 0h0m-2 0h0m-1 0h0m-1 0h0m0 0h0m-1 0h0m-4 0h0m0 0h0m-4 0h0m-1 0h0m-2 0h0m-2 0h0m0 0h0m-2 0h0m-3 0h0m-1 0h0m-2 0h0m-1 0h0m-1 0h0m0 0h0m0 0h0m0 0h0m-2 0h0m-6 0h0m-4 0h0m0 0h0m-2 0h0m-2 0h0m-5 0h0m0 0h0m0 0h0m0 0h0m0 0h0m-3 0h0m0 0h0m0 0h0m-2 0h0m-1 0h0m0 0h0m0 0h0m-1 0h0m0 0h0m0 0h0m-1 0h0m0 0h0m-4 0h0m0 0h0m-1 0h0m-3 0h0m0 0h0m-1 0h0m-1 0h0m-1 0h0m0 0h0m-1 0h0m-1 0h0m-3 0h0m0 0h0m-1 0h0m0 0h0m0 0h0m-2 0h0m-1 0h0m-2 0h0m-1 0h0m-1 0h0m-2 0h0m-1 0h0m-1 0h0m0 0h0m-1 0h0m0 0h0m-2 0h0m-1 0h0m-1 0h0m-1 0h0m0 0h0m-5 0h0m-1 0h0m0 0h0m0 0h0m-3 0h0m0 0h0m-1 0h0m-8 0h0m-2 0h0m-2 0h0m0 0h0m-1 0h0m-3 0h0m-1 0h0m-1 0h0m-2 0h0m-1 0h0m0 0h0m-1 0h0m-1 0h0m0 0h0m-1 0h0m0 0h0m0 0h0" stroke="#4F66AE" stroke-width="9"/>
<path d="M576.4 723.9L578.1 723.9L579.8 723.8L581.6 723.7L583.3 723.6L585 723.5L586.7 723.4L588.5 723.3L590.2 723.2L591.9 723L593.6 722.8L595.4 722.6L597.1 722.3L598.8 722L600.5 721.8L602.2 721.5L604 721.2L605.7 720.9L607.4 720.6L609.1 720.3L610.9 720L612.6 719.7L614.3 719.4L616 719L617.8 718.7L619.5 718.4L621.2 718.1L622.9 717.8L624.6 717.5L626.4 717.3L628.1 717.2L629.8 717L631.5 716.8L633.3 716.7L635 716.6L636.7 716.6L638.4 716.6L640.2 716.7L641.9 716.7L643.6 716.8L645.3 716.8L647 716.9L648.8 717L650.5 717L652.2 717.1L653.9 717L655.7 716.9L657.4 716.6L659.1 716.2L660.8 715.9L662.6 715.5L664.3 715L666 714.6L667.7 714.1L669.4 713.5L671.2 712.9L672.9 712.2L674.6 711.6L676.3 711.1L678.1 710.7" stroke="#111" stroke-width="1.35" stroke-linecap="butt"/>
<path d="M571.7 670.9V727.2H684.5" stroke="#1a1a1a" stroke-width="1.3" stroke-linecap="butt"/>
</g>
<text x="441.1" y="495.8" font-size="8.4" font-weight="bold">GNLY</text>
<path d="M439.3 555h1.6" stroke="#1a1a1a" stroke-width="0.9"/>
<text x="438.8" y="558" font-size="8.2" text-anchor="end" fill="#0a0a0a">0</text>
<path d="M439.3 540.3h1.6" stroke="#1a1a1a" stroke-width="0.9"/>
<text x="438.8" y="543.2" font-size="8.2" text-anchor="end" fill="#0a0a0a">2</text>
<path d="M439.3 525.6h1.6" stroke="#1a1a1a" stroke-width="0.9"/>
<text x="438.8" y="528.6" font-size="8.2" text-anchor="end" fill="#0a0a0a">4</text>
<path d="M439.3 510.9h1.6" stroke="#1a1a1a" stroke-width="0.9"/>
<text x="438.8" y="513.9" font-size="8.2" text-anchor="end" fill="#0a0a0a">6</text>
<path d="M446.1 557.9v1.6" stroke="#1a1a1a" stroke-width="0.9"/>
<text x="446.1" y="566.4" font-size="8.2" text-anchor="middle" fill="#0a0a0a">0</text>
<path d="M485.2 557.9v1.6" stroke="#1a1a1a" stroke-width="0.9"/>
<text x="485.2" y="566.4" font-size="8.2" text-anchor="middle" fill="#0a0a0a">10</text>
<path d="M524.3 557.9v1.6" stroke="#1a1a1a" stroke-width="0.9"/>
<text x="524.3" y="566.4" font-size="8.2" text-anchor="middle" fill="#0a0a0a">20</text>
<text x="571.4" y="495.8" font-size="8.4" font-weight="bold">GZMB</text>
<path d="M569.6 555h1.6" stroke="#1a1a1a" stroke-width="0.9"/>
<text x="569.1" y="558" font-size="8.2" text-anchor="end" fill="#0a0a0a">0</text>
<path d="M569.6 544.9h1.6" stroke="#1a1a1a" stroke-width="0.9"/>
<text x="569.1" y="547.8" font-size="8.2" text-anchor="end" fill="#0a0a0a">1</text>
<path d="M569.6 534.7h1.6" stroke="#1a1a1a" stroke-width="0.9"/>
<text x="569.1" y="537.7" font-size="8.2" text-anchor="end" fill="#0a0a0a">2</text>
<path d="M569.6 524.6h1.6" stroke="#1a1a1a" stroke-width="0.9"/>
<text x="569.1" y="527.5" font-size="8.2" text-anchor="end" fill="#0a0a0a">3</text>
<path d="M569.6 514.4h1.6" stroke="#1a1a1a" stroke-width="0.9"/>
<text x="569.1" y="517.4" font-size="8.2" text-anchor="end" fill="#0a0a0a">4</text>
<path d="M569.6 504.3h1.6" stroke="#1a1a1a" stroke-width="0.9"/>
<text x="569.1" y="507.2" font-size="8.2" text-anchor="end" fill="#0a0a0a">5</text>
<path d="M576.4 557.9v1.6" stroke="#1a1a1a" stroke-width="0.9"/>
<text x="576.4" y="566.4" font-size="8.2" text-anchor="middle" fill="#0a0a0a">0</text>
<path d="M615.5 557.9v1.6" stroke="#1a1a1a" stroke-width="0.9"/>
<text x="615.5" y="566.4" font-size="8.2" text-anchor="middle" fill="#0a0a0a">10</text>
<path d="M654.6 557.9v1.6" stroke="#1a1a1a" stroke-width="0.9"/>
<text x="654.6" y="566.4" font-size="8.2" text-anchor="middle" fill="#0a0a0a">20</text>
<text x="441.1" y="580.1" font-size="8.4" font-weight="bold">TNF</text>
<path d="M439.3 639.5h1.6" stroke="#1a1a1a" stroke-width="0.9"/>
<text x="438.8" y="642.5" font-size="8.2" text-anchor="end" fill="#0a0a0a">0</text>
<path d="M439.3 627.8h1.6" stroke="#1a1a1a" stroke-width="0.9"/>
<text x="438.8" y="630.8" font-size="8.2" text-anchor="end" fill="#0a0a0a">1</text>
<path d="M439.3 616.2h1.6" stroke="#1a1a1a" stroke-width="0.9"/>
<text x="438.8" y="619.1" font-size="8.2" text-anchor="end" fill="#0a0a0a">2</text>
<path d="M439.3 604.5h1.6" stroke="#1a1a1a" stroke-width="0.9"/>
<text x="438.8" y="607.4" font-size="8.2" text-anchor="end" fill="#0a0a0a">3</text>
<path d="M439.3 592.8h1.6" stroke="#1a1a1a" stroke-width="0.9"/>
<text x="438.8" y="595.8" font-size="8.2" text-anchor="end" fill="#0a0a0a">4</text>
<path d="M446.1 642.6v1.6" stroke="#1a1a1a" stroke-width="0.9"/>
<text x="446.1" y="651.1" font-size="8.2" text-anchor="middle" fill="#0a0a0a">0</text>
<path d="M485.2 642.6v1.6" stroke="#1a1a1a" stroke-width="0.9"/>
<text x="485.2" y="651.1" font-size="8.2" text-anchor="middle" fill="#0a0a0a">10</text>
<path d="M524.3 642.6v1.6" stroke="#1a1a1a" stroke-width="0.9"/>
<text x="524.3" y="651.1" font-size="8.2" text-anchor="middle" fill="#0a0a0a">20</text>
<text x="571.4" y="580.1" font-size="8.4" font-weight="bold">IFNG</text>
<path d="M569.6 639.3h1.6" stroke="#1a1a1a" stroke-width="0.9"/>
<text x="569.1" y="642.2" font-size="8.2" text-anchor="end" fill="#0a0a0a">0</text>
<path d="M569.6 628.8h1.6" stroke="#1a1a1a" stroke-width="0.9"/>
<text x="569.1" y="631.8" font-size="8.2" text-anchor="end" fill="#0a0a0a">1</text>
<path d="M569.6 618.3h1.6" stroke="#1a1a1a" stroke-width="0.9"/>
<text x="569.1" y="621.2" font-size="8.2" text-anchor="end" fill="#0a0a0a">2</text>
<path d="M569.6 607.8h1.6" stroke="#1a1a1a" stroke-width="0.9"/>
<text x="569.1" y="610.8" font-size="8.2" text-anchor="end" fill="#0a0a0a">3</text>
<path d="M569.6 597.3h1.6" stroke="#1a1a1a" stroke-width="0.9"/>
<text x="569.1" y="600.2" font-size="8.2" text-anchor="end" fill="#0a0a0a">4</text>
<path d="M569.6 586.8h1.6" stroke="#1a1a1a" stroke-width="0.9"/>
<text x="569.1" y="589.8" font-size="8.2" text-anchor="end" fill="#0a0a0a">5</text>
<path d="M576.4 642.6v1.6" stroke="#1a1a1a" stroke-width="0.9"/>
<text x="576.4" y="651.1" font-size="8.2" text-anchor="middle" fill="#0a0a0a">0</text>
<path d="M615.5 642.6v1.6" stroke="#1a1a1a" stroke-width="0.9"/>
<text x="615.5" y="651.1" font-size="8.2" text-anchor="middle" fill="#0a0a0a">10</text>
<path d="M654.6 642.6v1.6" stroke="#1a1a1a" stroke-width="0.9"/>
<text x="654.6" y="651.1" font-size="8.2" text-anchor="middle" fill="#0a0a0a">20</text>
<text x="441.1" y="665.4" font-size="8.4" font-weight="bold">CXCR4</text>
<path d="M439.3 725h1.6" stroke="#1a1a1a" stroke-width="0.9"/>
<text x="438.8" y="728" font-size="8.2" text-anchor="end" fill="#0a0a0a">0</text>
<path d="M439.3 714.3h1.6" stroke="#1a1a1a" stroke-width="0.9"/>
<text x="438.8" y="717.2" font-size="8.2" text-anchor="end" fill="#0a0a0a">1</text>
<path d="M439.3 703.6h1.6" stroke="#1a1a1a" stroke-width="0.9"/>
<text x="438.8" y="706.6" font-size="8.2" text-anchor="end" fill="#0a0a0a">2</text>
<path d="M439.3 692.9h1.6" stroke="#1a1a1a" stroke-width="0.9"/>
<text x="438.8" y="695.9" font-size="8.2" text-anchor="end" fill="#0a0a0a">3</text>
<path d="M439.3 682.2h1.6" stroke="#1a1a1a" stroke-width="0.9"/>
<text x="438.8" y="685.2" font-size="8.2" text-anchor="end" fill="#0a0a0a">4</text>
<path d="M439.3 671.5h1.6" stroke="#1a1a1a" stroke-width="0.9"/>
<text x="438.8" y="674.5" font-size="8.2" text-anchor="end" fill="#0a0a0a">5</text>
<path d="M446.1 727.7v1.6" stroke="#1a1a1a" stroke-width="0.9"/>
<text x="446.1" y="736.2" font-size="8.2" text-anchor="middle" fill="#0a0a0a">0</text>
<path d="M485.2 727.7v1.6" stroke="#1a1a1a" stroke-width="0.9"/>
<text x="485.2" y="736.2" font-size="8.2" text-anchor="middle" fill="#0a0a0a">10</text>
<path d="M524.3 727.7v1.6" stroke="#1a1a1a" stroke-width="0.9"/>
<text x="524.3" y="736.2" font-size="8.2" text-anchor="middle" fill="#0a0a0a">20</text>
<text x="571.4" y="665.4" font-size="8.4" font-weight="bold">CCL4</text>
<path d="M569.6 724h1.6" stroke="#1a1a1a" stroke-width="0.9"/>
<text x="569.1" y="727" font-size="8.2" text-anchor="end" fill="#0a0a0a">0</text>
<path d="M569.6 709h1.6" stroke="#1a1a1a" stroke-width="0.9"/>
<text x="569.1" y="712" font-size="8.2" text-anchor="end" fill="#0a0a0a">2</text>
<path d="M569.6 694h1.6" stroke="#1a1a1a" stroke-width="0.9"/>
<text x="569.1" y="697" font-size="8.2" text-anchor="end" fill="#0a0a0a">4</text>
<path d="M569.6 679h1.6" stroke="#1a1a1a" stroke-width="0.9"/>
<text x="569.1" y="682" font-size="8.2" text-anchor="end" fill="#0a0a0a">6</text>
<path d="M576.4 727.7v1.6" stroke="#1a1a1a" stroke-width="0.9"/>
<text x="576.4" y="736.2" font-size="8.2" text-anchor="middle" fill="#0a0a0a">0</text>
<path d="M615.5 727.7v1.6" stroke="#1a1a1a" stroke-width="0.9"/>
<text x="615.5" y="736.2" font-size="8.2" text-anchor="middle" fill="#0a0a0a">10</text>
<path d="M654.6 727.7v1.6" stroke="#1a1a1a" stroke-width="0.9"/>
<text x="654.6" y="736.2" font-size="8.2" text-anchor="middle" fill="#0a0a0a">20</text>
</svg></body></html>
